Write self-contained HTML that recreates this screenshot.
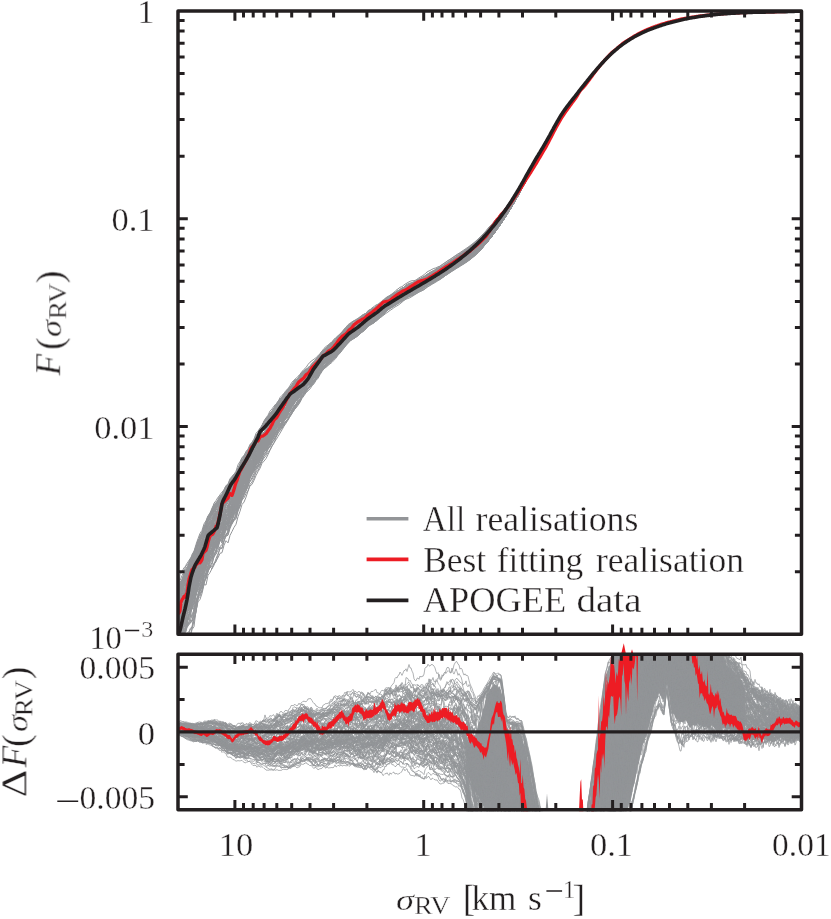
<!DOCTYPE html>
<html><head><meta charset="utf-8"><title>F(sigma_RV)</title>
<style>
html,body{margin:0;padding:0;background:#fff;}
body{width:831px;height:919px;overflow:hidden;font-family:"Liberation Serif",serif;}
svg{display:block;}
text{font-family:"Liberation Serif",serif;fill:#231f20;}
</style></head><body>
<svg width="831" height="919" viewBox="0 0 831 919">
<defs>
<clipPath id="ct"><rect x="178.0" y="10.0" width="623.5" height="624.3"/></clipPath>
<clipPath id="cb"><rect x="178.0" y="653.2" width="623.5" height="158.0"/><path d="M621 654.2L623.8 643.2L626 654.2Z"/><path d="M630.5 654.2L632 649.2L633.5 654.2Z"/></clipPath>
<clipPath id="cg"><rect x="178.0" y="653.2" width="623.5" height="158.0"/></clipPath>
</defs>
<rect width="831" height="919" fill="#fff"/>
<g clip-path="url(#ct)" fill="none" stroke-linejoin="round">
<g stroke="#939598" stroke-width="1">
<path d="M178 648l2-1.6 2 7.9 2-3.4 2-4 2-9.4 2-1.8 2-6.9 2-8 2-8.7 2-13.2 2-9.5 2-6.2 2-6.7 2-3.7 2-5.8 2-6 2-4.9 2-1.6 2-4.8 2-7.2 2-8.4 2 2.3 2-3.6 2-6.9 2 .1 2-5.5 2-3.7 2-4.6 2-1.9 2-5.1 2-4.7 2-6.2 2-4.3 2-.6 2-5.3 2-2.5 2-4.2 2-4.1 2-4.6 2-4.2 2-3.8 2-2.7 2-6.9 2-3.8 2-.6 2-4.3 2-3.8 2-4.5 2-5.1 2-3.4 2-1.2 2-1.4 2-1.3 2-3.9 2-4.1 2-3.4 2-4.3 2-2.9 2-3.8 2-3.4 2-3.4 2-2.7 2-1.7 2-.2 2-4.3 2-.3 2-3.9 2-2.4 2-3.8 2-3.3 2-2.2 2-3.8 2-2 2-1.4 2-1.7 2-2 2-1.8 2-1.9 2-1.8 2-2.7 2-.6 2-2.3 2-2.3 2-2.8 2-3 2-.8 2-1.6 2-.9 2-.9 2-.9 2-1.1 2-1.8 2-.7 2-1.6 2-2.3 2-1.5 2-2 2-1.7 2-1.8 2-1.6 2-.6 2-1.5 2-2.4 2-1.1 2-1.7 2-1.5 2-2 2-.9 2-1.7 2-1.4 2-1.6 2-1.2 2-1.3 2-1.6 2-1.6 2-.6 2-.9 2-1.2 2-1.2 2-.9 2-.8 2-1.1 2-.8 2-2 2-1.8 2-.7 2-.7 2-1 2-1.2 2-.8 2-1 2-1.1 2-1.2 2-1.2 2-1.2 2-1.6 2-1.3 2-1.4 2-1.4 2-1.4 2-1.2 2-1.3 2-1.2 2-1.3 2-1.2 2-1.3 2-1.4 2-1.5 2-1.6 2-1.8 2-1.9 2-2.1 2-2.2 2-2.3 2-2.5 2-2.5 2-2.6 2-2.6 2-2.8 2-2.8 2-2.9 2-2.9 2-3 2-3.1 2-3.1 2-3.2 2-3.4 2-3.4 2-3.4 2-3.6 2-3.7 2-3.7 2-3.7 2-3.8 2-3.7 2-3.7 2-3.7 2-3.6 2-3.6 2-3.5 2-3.4 2-3.5 2-3.4 2-3.6 2-3.7 2-3.7 2-3.8 2-3.8 2-3.7"/>
<path d="M178 635.5l2-12.3 2-7.7 2 .1 2-9.5 2-7.1 2-6.3 2-7.9 2 3 2-3 2-11 2-6.4 2-.7 2-11.9 2-7.9 2-3.5 2-5.4 2-1.1 2-2.9 2-3.1 2-3.9 2-8.7 2 .7 2-6.6 2-.5 2 .2 2-8.3 2-3.1 2-3.5 2-1.1 2-4.7 2-2.4 2-6 2-4 2-5.1 2-4.2 2-4.5 2-3.8 2-2.6 2-3 2-2.4 2-3.6 2-1.8 2-4.3 2-2.8 2-5.7 2-3.7 2-3.9 2-4.2 2-1 2-3.1 2-1.7 2-2.6 2-3.8 2-4 2-1.8 2-2 2-3.7 2-3 2-1.7 2-2.2 2-3.7 2-2.7 2-2.1 2-1.9 2-1.9 2-3.4 2-1.1 2-3.3 2-2.4 2-3.7 2-2.8 2-2.9 2-2.3 2-1.3 2-2.6 2-1.5 2-1.5 2-2.3 2-1.3 2-2.3 2-2.4 2-2.1 2-2.9 2-1.4 2-1.8 2-1.7 2-1.2 2-.8 2-1.9 2-1.7 2-2.2 2-2.3 2-2.4 2-1.1 2-1.9 2-2 2-.9 2-1.4 2-2.1 2-1.5 2-.7 2-1.2 2-2 2-1.1 2-1.5 2-1 2-1.7 2-1.6 2-1.1 2-2 2-1 2-.7 2-1.4 2-1.2 2-1.1 2-.5 2-1.3 2-.7 2-.9 2-1.5 2-.7 2-.9 2-1.2 2-1.2 2-1.7 2-.9 2-1.8 2-1.9 2-.9 2-1.1 2-.9 2-1.4 2-1.2 2-1 2-1 2-1.1 2-1.5 2-1.4 2-1.2 2-1.2 2-1.3 2-1.2 2-1.3 2-1.2 2-1.3 2-1.4 2-1.4 2-1.4 2-1.6 2-1.7 2-1.8 2-1.9 2-2 2-2.1 2-2.2 2-2.2 2-2.4 2-2.3 2-2.5 2-2.5 2-2.5 2-2.7 2-2.7 2-2.9 2-2.9 2-3.1 2-3.2 2-3.4 2-3.4 2-3.6 2-3.6 2-3.7 2-3.7 2-3.8 2-3.7 2-3.7 2-3.7 2-3.6 2-3.6 2-3.5 2-3.4 2-3.5 2-3.4 2-3.6 2-3.7 2-3.7 2-3.8 2-3.8 2-3.7"/>
<path d="M178 628.7l2-9.4 2-1.1 2-6.5 2-4.2 2-3.3 2-6.7 2-4.6 2-3.7 2-6.6 2-8.7 2-5.6 2-.5 2-3 2-4.9 2-3.6 2-10.4 2 .1 2-6.2 2-2.4 2-4.5 2-5.9 2 .6 2-5.2 2-5.3 2 .6 2-4.6 2-5 2-3.3 2-4.6 2-5.7 2-7.3 2-5.6 2-3.3 2-3.3 2-3.3 2-3.6 2-1.6 2-5.3 2-5.2 2-.8 2-4 2-2.6 2-3.9 2-3 2-1.3 2-1.1 2-.5 2-6.3 2-4.6 2-5.8 2-2.5 2-2.3 2-3 2-1.8 2-3.5 2-2.3 2-3.4 2-3.4 2-.9 2-2.2 2-2.9 2-3.7 2-3.4 2-2.7 2-2.2 2-3.6 2-3.6 2-1.2 2-2.2 2-2.8 2-2.6 2-2.8 2-2.3 2-1.5 2-2.3 2 0 2-1.3 2-3.1 2-1.8 2-2.7 2-2.5 2-1.1 2-3.3 2-1.6 2-2.4 2-1.4 2-2.2 2-1.7 2-1.9 2-1 2-1.9 2-1.3 2-1.9 2-1.4 2-1.9 2-.9 2-.9 2-1.3 2-1.6 2-1.8 2-2 2-1.7 2-1.5 2-1.3 2-2.6 2-1.9 2-1.4 2-1.6 2-.9 2-1.1 2-1.6 2-1.5 2-1.1 2-1.3 2-1.1 2-1.2 2-.9 2-1.2 2-1.8 2-1.1 2-1.5 2-.6 2-1.3 2-.7 2-1.7 2-1.4 2-1.6 2-.9 2-.9 2-1.2 2-.9 2-1.2 2-1.3 2-1.6 2-1.3 2-1.3 2-1.4 2-1.4 2-1.2 2-1.4 2-1.4 2-1.4 2-1.5 2-1.4 2-1.5 2-1.6 2-1.7 2-1.8 2-1.9 2-2.1 2-2.3 2-2.3 2-2.5 2-2.5 2-2.5 2-2.6 2-2.5 2-2.5 2-2.5 2-2.4 2-2.4 2-2.4 2-2.4 2-2.5 2-2.6 2-2.7 2-2.8 2-3 2-3.1 2-3.2 2-3.3 2-3.4 2-3.4 2-3.4 2-3.5 2-3.4 2-3.4 2-3.4 2-3.4 2-3.3 2-3.3 2-3.3 2-3.5 2-3.5 2-3.6 2-3.8 2-3.7 2-3.8 2-3.7"/>
<path d="M178 633.1l2-8.7 2-2.7 2-3.7 2-6 2-5.4 2-3.9 2-9.1 2-1.2 2-12.8 2-10.3 2-3.9 2-5.2 2-4.9 2-3.5 2-8.4 2-8.2 2-2.6 2-2.3 2-1.3 2-2.1 2-4.4 2-3.9 2-3.8 2-4.2 2 .9 2-3.4 2-4.1 2-3.9 2-5.1 2-2.4 2-3.4 2-4.2 2-3.8 2-4.9 2-2.7 2-7.4 2-4.4 2-3.7 2-2.9 2-2.9 2-2.2 2-5.2 2-4.6 2-4.1 2-2.1 2-4.2 2-2.8 2-4 2-5 2-2 2-1.8 2-1 2-2.8 2-2.8 2-.8 2-4.2 2-2.4 2-4 2-1.6 2-2.1 2-3.2 2-2.8 2-1.2 2-4 2-2.5 2-2.1 2-2.3 2-2 2-3.9 2-2.5 2-2.1 2-4.1 2-2.5 2-2.1 2-2.1 2-1.6 2-.8 2-2.4 2-.8 2-3.1 2-2.4 2-2.2 2-3.3 2-1.5 2-2.5 2-.8 2-.8 2-1 2-1.1 2-1.7 2-.5 2-1.9 2-1.7 2-1.4 2-1.8 2-1.3 2-1.4 2-1.4 2-.4 2-2.2 2-1.2 2-2.5 2-1.3 2-1.7 2-1.8 2-1.3 2-1.5 2-1 2-1.8 2-1 2-1.6 2-1.1 2-1.2 2-1.7 2-1.3 2-.8 2-1.3 2-.5 2-1.2 2-1.4 2-1.5 2-2 2-.8 2-1.1 2-.9 2-1.5 2-1.3 2-.7 2-1.1 2-1.6 2-.5 2-1.4 2-1.1 2-1.5 2-1.4 2-1.2 2-1.2 2-1.3 2-1.2 2-1.2 2-1.1 2-1.2 2-1.3 2-1.2 2-1.3 2-1.4 2-1.4 2-1.6 2-1.7 2-1.9 2-1.9 2-2.1 2-2.2 2-2.2 2-2.3 2-2.4 2-2.4 2-2.4 2-2.5 2-2.5 2-2.6 2-2.6 2-2.7 2-2.8 2-2.9 2-3 2-3.2 2-3.2 2-3.4 2-3.4 2-3.5 2-3.6 2-3.6 2-3.7 2-3.6 2-3.6 2-3.7 2-3.5 2-3.5 2-3.4 2-3.5 2-3.4 2-3.5 2-3.5 2-3.7 2-3.7 2-3.8 2-3.8 2-3.7"/>
<path d="M178 608.1l2-19.5 2-3 2-6.2 2-3.3 2-6.6 2-4.2 2-3.9 2-2.7 2-8.7 2-5.9 2-3.9 2-5.8 2-5.4 2-5.8 2-4.6 2-3.1 2-4 2-2.5 2-3.3 2-2.8 2-4.9 2-1.7 2-1.1 2-5.1 2 0 2-3.3 2 .2 2-3.1 2-1.5 2-4.7 2-3.2 2-4 2-4.8 2-5.4 2-3.1 2-4.2 2-.6 2-1.6 2-2 2-.9 2-5.9 2-3.2 2-2.4 2-3.9 2-1.1 2-3.1 2-3.9 2-4.4 2-1.8 2-3.5 2-.8 2-3.6 2-3.1 2-2.4 2-2.9 2-1.8 2-1.7 2-3 2-5.3 2-2.2 2-1.9 2-2.8 2-1.6 2-2.8 2-.6 2-2 2-3.6 2-2.2 2-4.8 2-1.8 2-4.2 2-2.5 2-2.7 2-1.4 2-1.7 2-1.7 2-1.4 2-1.3 2-.5 2-2.5 2-2 2-2.3 2-1.5 2-2 2-1.6 2-1 2-1.2 2-1.1 2-1.9 2-.5 2-2 2-1.8 2-1.7 2-1.6 2-1.9 2-1.2 2-1.4 2-1.2 2-2.4 2-1.4 2-1.6 2-1.3 2-2.3 2-1.7 2-1.8 2-.9 2-1.3 2-1.5 2-1.7 2-1.1 2-1.6 2-1.4 2-1.1 2-1.1 2-.9 2-1.2 2-1.7 2-1 2-.6 2-1.2 2-1.8 2-1.1 2-.7 2-2.1 2-1.5 2-.8 2-1.4 2-.5 2-.3 2-1.1 2-.8 2-1.4 2-1.1 2-1.3 2-1 2-1.1 2-1.3 2-1.3 2-1.3 2-1.2 2-1.2 2-1.3 2-1.2 2-1.2 2-1.3 2-1.4 2-1.4 2-1.5 2-1.7 2-1.8 2-2 2-2.1 2-2.2 2-2.3 2-2.5 2-2.5 2-2.5 2-2.6 2-2.6 2-2.6 2-2.6 2-2.6 2-2.7 2-2.8 2-2.8 2-2.9 2-3.1 2-3.1 2-3.2 2-3.4 2-3.5 2-3.5 2-3.7 2-3.6 2-3.7 2-3.7 2-3.7 2-3.6 2-3.5 2-3.5 2-3.4 2-3.5 2-3.4 2-3.6 2-3.7 2-3.7 2-3.8 2-3.8 2-3.7"/>
<path d="M178 623.6l2-17.4 2-11.4 2-5 2 2.7 2-6.4 2-3.2 2-4 2-5 2-3.5 2-6.7 2-3.4 2-.6 2-9.3 2-.5 2-7.4 2-4.7 2-2.5 2-6.6 2-1.7 2-4 2-5.9 2-4.3 2 .5 2-5.1 2-1.2 2-5.3 2 .8 2-3.6 2-3.5 2-5.9 2-3.3 2-5.8 2-3 2-2.8 2-2.4 2-5.2 2-2.9 2-4 2-3 2-2.2 2-3.7 2-4.2 2-3.9 2-4.5 2-3.1 2-2.7 2-3.2 2-2.6 2-4.3 2-3.8 2-2.3 2-2.2 2-2.3 2-3.5 2-2.6 2-2.1 2-1.9 2-5 2-1.9 2-2.4 2-3.2 2-3.7 2-2.8 2-.9 2-3.3 2-1.7 2-2.6 2-2.8 2-1.4 2-2.6 2-2.9 2-2.7 2-1.8 2-1.9 2-1.3 2-2.3 2-1.8 2-1.8 2-1.2 2-1.7 2-2 2-2.7 2-2 2-2 2-2.8 2-1.6 2-2.2 2-1.7 2-1 2-1.8 2-2.4 2-1.7 2-1.4 2-1.4 2-2 2-1.6 2-1.5 2-1.9 2-1.4 2-1.2 2-2.7 2-.8 2-2.1 2-2.2 2-1.6 2-1.5 2-1.2 2-.4 2-1.7 2-1.8 2-1.7 2-1 2-1.2 2-2 2-1.5 2-.6 2-.4 2-1.2 2-.6 2-1.6 2-1.4 2 0 2-.7 2-1.9 2-1.6 2-1.1 2-.8 2-1 2-1.1 2-1.2 2-1.2 2-2 2-1.4 2-1.7 2-1.6 2-1.4 2-1.4 2-1.4 2-1.3 2-1.3 2-1.3 2-1.4 2-1.4 2-1.5 2-1.5 2-1.6 2-1.6 2-1.8 2-1.8 2-2 2-2 2-2.1 2-2.2 2-2.2 2-2.2 2-2.3 2-2.2 2-2.3 2-2.3 2-2.4 2-2.3 2-2.4 2-2.6 2-2.5 2-2.8 2-2.8 2-2.9 2-3 2-3.2 2-3.2 2-3.3 2-3.4 2-3.4 2-3.4 2-3.5 2-3.4 2-3.5 2-3.4 2-3.4 2-3.4 2-3.3 2-3.4 2-3.5 2-3.5 2-3.7 2-3.7 2-3.8 2-3.8 2-3.7"/>
<path d="M178 646.2l2-5.9 2-9.8 2-5.1 2-8.9 2-.7 2-4.6 2-7.2 2-9 2-6.4 2-4.1 2-3.8 2-7.2 2-5.7 2-2.7 2-4 2-2.8 2-4.2 2-5.6 2-6.7 2 4.4 2-5.5 2-3.3 2-3.7 2-4.7 2 2.5 2-5.4 2-5.3 2-1.7 2-2.9 2-6.8 2-3.2 2-6.4 2-2 2-4.3 2-2.8 2-6.3 2-2.4 2-3.9 2-6 2-1.6 2-4.7 2-4.5 2-3.3 2-2.3 2-3.2 2-2.8 2-3.9 2-2.8 2-5.5 2-4 2-3.4 2-1.8 2-3.1 2-3.8 2-2.3 2-3.3 2-3.8 2-2.8 2-3.5 2-2.8 2-3.3 2-5.1 2-2.5 2-1.9 2-1.3 2-2.4 2-3.8 2-2.1 2-2.3 2-1.8 2-3.6 2-3.5 2-1.5 2-1.9 2-2.3 2-1.9 2-1.5 2-2.9 2-1.8 2-2.7 2-1.6 2-2.9 2-2.6 2-1.4 2-2 2-1.9 2-1.7 2-1.8 2-1.4 2-.9 2-1.8 2-.7 2-1.6 2-1.6 2-2.6 2-1 2-1.3 2-.9 2-2.4 2-1.8 2-2 2-2 2-2.2 2-1.6 2-1.4 2-1.7 2-1.6 2-1.1 2-1.4 2-1.3 2-1.9 2-1.1 2-1 2-2 2-1.2 2-2.1 2-.4 2-.9 2-1.7 2-1.4 2-.7 2-1.5 2-1.4 2-1.5 2-1.2 2-1 2-1.4 2-.7 2-1.6 2-1.5 2-1.2 2-1.4 2-1.1 2-1.2 2-1.1 2-1.1 2-1.2 2-1.1 2-1.3 2-1.1 2-1.2 2-1.1 2-1.2 2-1.2 2-1.2 2-1.3 2-1.4 2-1.5 2-1.6 2-1.8 2-1.9 2-2.1 2-2.2 2-2.3 2-2.4 2-2.5 2-2.5 2-2.6 2-2.7 2-2.7 2-2.8 2-2.9 2-2.9 2-3 2-3.1 2-3.2 2-3.2 2-3.4 2-3.5 2-3.5 2-3.7 2-3.7 2-3.7 2-3.8 2-3.7 2-3.7 2-3.7 2-3.6 2-3.6 2-3.5 2-3.4 2-3.5 2-3.4 2-3.6 2-3.7 2-3.7 2-3.8 2-3.8 2-3.7"/>
<path d="M178 621.5l2-18.5 2-2.3 2-7.7 2-.8 2-4.6 2-11.2 2-3.9 2-9.9 2-.9 2-9.1 2-2.3 2-3.5 2-5.2 2-5.7 2-3.9 2-3.7 2 2.6 2-5.8 2 .6 2-7.4 2-4.5 2-2 2-.6 2-5.6 2 1.2 2-7.5 2-6.2 2-1.4 2-1.6 2-4.2 2-6.3 2-7.4 2-3.2 2-4.5 2-5.9 2-5.9 2-3.4 2-2.6 2-5.6 2-3.4 2-5.6 2-1.6 2-.4 2-2.3 2-5.3 2-4.5 2-4.6 2-4 2-2.5 2-4.3 2-2.6 2-3.4 2-1.6 2-2.6 2-3.5 2-2.1 2-2.4 2-3.6 2-1.5 2-.4 2-3.7 2-2.8 2-1.9 2-1.3 2-.1 2-2.3 2-2.5 2-1.8 2-2.2 2-2.6 2-2.3 2-2.6 2-2.1 2-1.2 2-1.7 2-.8 2-2.2 2-1.1 2-1.4 2-2.3 2-1.5 2-2.6 2-2.6 2-1.2 2-3.2 2-.9 2-1.8 2-.3 2-1.4 2-3.1 2-1.5 2 .1 2-1.2 2-1.7 2-1.7 2-1.2 2-1.4 2-.8 2-1.6 2-1.2 2-1.3 2-2.4 2-1.8 2-1.9 2-1.5 2-1.8 2-.7 2-2.1 2-.9 2-1.9 2-1.7 2-.7 2-1.3 2-1 2-1.3 2-1.1 2-1.2 2-1.2 2-.9 2-1.5 2-.5 2-1.3 2-1.3 2-1.5 2-1.8 2-.8 2-1.1 2-.9 2-.9 2-.9 2-1.3 2-1.3 2-.4 2-.9 2-1.7 2-1.7 2-1.5 2-1.4 2-1.4 2-1.4 2-1.5 2-1.6 2-1.5 2-1.6 2-1.6 2-1.7 2-1.7 2-1.8 2-1.8 2-1.9 2-1.9 2-2 2-2 2-2 2-2.1 2-2.1 2-2.2 2-2.1 2-2.3 2-2.3 2-2.3 2-2.4 2-2.5 2-2.6 2-2.7 2-2.7 2-2.9 2-3 2-3.1 2-3.2 2-3.3 2-3.3 2-3.4 2-3.4 2-3.5 2-3.4 2-3.4 2-3.3 2-3.3 2-3.3 2-3.3 2-3.3 2-3.3 2-3.5 2-3.6 2-3.7 2-3.8 2-3.7 2-3.8"/>
<path d="M178 618.3l2-20.3 2 .1 2-4.6 2-1.1 2-5.7 2-4.3 2-7.2 2-2.2 2-9.8 2-7.7 2-8 2-1.3 2-5.5 2 1 2-4.2 2-8.7 2-6.7 2-1.5 2-2.1 2-3.3 2-5.6 2-1.8 2-4.4 2-6.8 2-1.4 2-4.6 2-1.2 2-2.6 2-4.2 2-8 2-6.1 2-4.7 2-1.9 2-3.5 2-2.9 2-6.1 2 .5 2-4.5 2-6 2-.6 2-4.3 2-2 2-4.9 2-3.2 2-3 2-1.5 2-2.4 2-1.2 2-4.8 2-5.3 2-3.9 2-2.8 2-2.3 2-2.6 2-2.2 2-1.9 2-3.2 2-2.3 2-1.6 2-2.7 2-2.2 2-1.7 2-2.6 2-2.6 2-.3 2-1.4 2-2.4 2-2.1 2-3.6 2-1 2-3.2 2-4.3 2-.9 2-1.4 2-1.7 2-.9 2-1.9 2-3.7 2-1.3 2-3.1 2-1.6 2-2.6 2-1.8 2-2.5 2-2.4 2-1.5 2-.8 2-.5 2-.4 2-.4 2-1.8 2-2.1 2-.5 2-2.9 2-1.3 2-2.2 2 .2 2-2.2 2-.4 2-1.1 2-.9 2-2.1 2-1.2 2-3 2-.7 2-1.5 2-2.7 2-1.5 2-1.9 2-1.2 2-1.2 2-1.4 2-1.2 2-1.3 2-1 2-1 2-.5 2-1 2-1.6 2-.7 2-.6 2-1.1 2-1.7 2-1.6 2-1.5 2-1.1 2-.6 2-1.1 2-1 2-1.9 2-1.4 2-1.6 2-1.1 2-1.2 2-1.2 2-1.3 2-1.3 2-1.3 2-1.3 2-1.3 2-1.4 2-1.4 2-1.4 2-1.4 2-1.5 2-1.6 2-1.7 2-1.8 2-1.9 2-2 2-2.1 2-2.2 2-2.3 2-2.4 2-2.4 2-2.3 2-2.4 2-2.4 2-2.4 2-2.4 2-2.3 2-2.5 2-2.4 2-2.6 2-2.6 2-2.7 2-2.9 2-3 2-3 2-3.2 2-3.2 2-3.3 2-3.3 2-3.3 2-3.3 2-3.3 2-3.2 2-3.3 2-3.1 2-3.2 2-3.1 2-3.2 2-3.3 2-3.4 2-3.6 2-3.6 2-3.8 2-3.7 2-3.7"/>
<path d="M178 629.1l2-7 2-7.1 2-2.3 2-5 2-4.8 2-5.6 2-8.1 2-7.5 2-2.8 2-9.1 2-2 2-6.6 2-7.5 2-4.8 2-4.3 2-1 2-3.4 2-3.2 2-5 2-1.6 2-4.9 2-3.3 2-5.4 2-2.7 2 .8 2-3.9 2-2.6 2-7.1 2-.9 2-3.3 2-3.2 2-7.6 2-2.5 2-4.7 2 0 2-7.5 2-2.5 2-5.3 2-4.3 2-4.2 2-1.6 2-4.3 2-3.3 2-2.6 2-2.2 2-2.2 2-3 2-4.3 2-4.2 2-3.4 2-3.4 2-3.3 2-4.9 2-1.9 2-4.4 2-4 2-.8 2-3.3 2-2.7 2-1.1 2-2.3 2-4 2-5.2 2-3 2-2.1 2-3.4 2-1.2 2-2.9 2-1.4 2-2.6 2-1.9 2-3.2 2-2.3 2-1.7 2-.8 2-3.3 2-.4 2-3.7 2-.6 2-1.7 2-1.7 2-2.4 2-3 2-2.2 2-2.6 2-.4 2-1.3 2-.8 2-1.6 2-1.5 2-1.7 2-1 2-1.4 2-1.6 2-1.7 2-1.7 2-.9 2-2.4 2-2 2-2 2-1.7 2-1.9 2-1.6 2-1.7 2-2 2-1.7 2-.9 2-1 2-1.9 2-1.3 2-1.3 2-.4 2-1.5 2-.6 2-1.3 2-1.2 2-1.1 2-1.1 2-1.5 2-1.4 2-.7 2-.9 2-.9 2-2.1 2-1.6 2-1.1 2-1.9 2-1 2-1 2-.8 2-.6 2-.9 2-1.3 2-1.1 2-1.3 2-1 2-1.1 2-1.1 2-1.3 2-1.2 2-1.2 2-1.2 2-1.2 2-1.2 2-1.3 2-1.3 2-1.4 2-1.6 2-1.6 2-1.8 2-2 2-2 2-2.2 2-2.3 2-2.3 2-2.5 2-2.5 2-2.5 2-2.6 2-2.6 2-2.7 2-2.7 2-2.7 2-2.8 2-3 2-3 2-3.1 2-3.3 2-3.3 2-3.5 2-3.6 2-3.6 2-3.7 2-3.7 2-3.8 2-3.7 2-3.6 2-3.7 2-3.5 2-3.5 2-3.4 2-3.5 2-3.4 2-3.6 2-3.7 2-3.7 2-3.8 2-3.8 2-3.7"/>
<path d="M178 630.2l2-13.8 2-6 2-5.5 2-5.5 2-7.8 2 .2 2-3.6 2-4.3 2-7.4 2-5.5 2-3.6 2-6.5 2-5.1 2-2.1 2-8.5 2-5.7 2-2.6 2-3.6 2-1.8 2-1.5 2-3.9 2 1.7 2-3 2-5.5 2-1.1 2-7.7 2-5.3 2-7.5 2-2.5 2-6 2-3.7 2-8.8 2-2.1 2-3.8 2-1.5 2-4.1 2-2.4 2-3.3 2-5.1 2-1.8 2-3 2-5.5 2-3.6 2-1.6 2-3.2 2-3.3 2-3.1 2-8.1 2 .2 2-6.7 2-4.8 2-.4 2-2.5 2-3.4 2-.8 2-3.9 2-3.4 2-3 2-.4 2-.7 2-2.3 2-2.2 2-1.6 2-1 2-3.8 2-2 2-3.1 2-3.4 2-2.7 2-2.3 2-2.4 2-2.9 2-2.8 2-1.1 2-1.8 2-1.7 2-1.5 2-2.2 2-1.2 2-2 2-1.5 2-3 2-2.5 2-1.7 2-3.4 2-.6 2-2.2 2-1 2-1.6 2-.9 2-1.6 2-.2 2-.9 2-1.4 2-2.3 2-1.5 2-1.2 2-.8 2-1.8 2-1.8 2-1.7 2-2.1 2-2.6 2-2.4 2-.1 2-1.7 2-1.1 2-1.7 2-1.9 2-1.8 2-2.2 2-.6 2-1.8 2-1.7 2-.5 2-.4 2-1.2 2-1.9 2-1.2 2-.6 2-.7 2-1.6 2-.8 2-1.3 2-1.3 2-1.1 2-1.3 2-1 2-.8 2-1.1 2-1.2 2-1.1 2-1.1 2-1.4 2-1.2 2-1.1 2-1.4 2-1.4 2-1.2 2-1.3 2-1.2 2-1.2 2-1.2 2-1.2 2-1.3 2-1.3 2-1.5 2-1.6 2-1.7 2-1.9 2-2.1 2-2.2 2-2.4 2-2.5 2-2.5 2-2.6 2-2.5 2-2.6 2-2.6 2-2.6 2-2.6 2-2.6 2-2.7 2-2.7 2-2.9 2-3 2-3.1 2-3.2 2-3.3 2-3.5 2-3.5 2-3.5 2-3.6 2-3.6 2-3.6 2-3.7 2-3.6 2-3.5 2-3.6 2-3.4 2-3.4 2-3.5 2-3.4 2-3.6 2-3.7 2-3.7 2-3.8 2-3.8 2-3.7"/>
<path d="M178 608.5l2-19.3 2-8 2-1.2 2-9.7 2 .6 2-4.3 2-4 2 .3 2-1.2 2-8.9 2-6.3 2-2.4 2-3.1 2-3 2-4.7 2-5.3 2-5.2 2-3.4 2-6.2 2-5.1 2-3.2 2-1.2 2-6.4 2-6.1 2-.4 2-4 2-5.3 2-3.8 2-1.5 2-5.2 2-4.4 2-2.5 2-2.1 2-1.6 2-5 2-4.7 2 .3 2-4.4 2-3.4 2-4.1 2-2.7 2-4.2 2-4 2-4.5 2-2.9 2-1.7 2-3.8 2-4 2-3.8 2-3 2-2.1 2-3 2-1.5 2-2.2 2-2.5 2-1.5 2-3.4 2-3.8 2-2.4 2-2.7 2-1.8 2-2.6 2-.8 2-1.4 2-2.4 2-2.2 2-2.4 2-2 2-3.4 2-2.6 2-2.1 2-2.4 2-2.1 2-1.8 2-1.7 2-2.1 2-1 2-1.8 2-1.8 2-1.9 2-1.2 2-1.9 2-2.9 2-1.3 2-2.2 2-1.3 2-1.7 2-1.9 2-1.4 2-1.7 2-1.5 2-2.1 2-2.8 2-1.2 2-2 2-.7 2-1.6 2-.9 2-1.3 2-1.7 2-1.9 2-1.9 2-1.7 2-1.8 2-1 2-2.1 2-.6 2-1.3 2-2 2-.9 2-.8 2-1.4 2-1.1 2-2.5 2-.9 2-.8 2-.5 2-1 2-1 2-1.1 2-.8 2-1.1 2-1 2-1 2-1.7 2-1 2-1.7 2-.9 2-1.1 2-1 2-1 2-.7 2-1.6 2-1.4 2-1.3 2-1.2 2-1.3 2-1.1 2-1.3 2-1.3 2-1.3 2-1.4 2-1.4 2-1.5 2-1.5 2-1.6 2-1.7 2-1.8 2-1.9 2-1.9 2-2.1 2-2.1 2-2.2 2-2.2 2-2.3 2-2.3 2-2.3 2-2.4 2-2.3 2-2.4 2-2.3 2-2.4 2-2.5 2-2.5 2-2.7 2-2.7 2-2.9 2-3 2-3 2-3.2 2-3.2 2-3.3 2-3.3 2-3.3 2-3.3 2-3.2 2-3.3 2-3.2 2-3.1 2-3.2 2-3.1 2-3.2 2-3.3 2-3.5 2-3.5 2-3.7 2-3.7 2-3.8 2-3.7"/>
<path d="M178 608.8l2-23.1 2-3.9 2-5.4 2-5.9 2-5.1 2-3.8 2-4.6 2-5.6 2-7 2-5.7 2-5.3 2-3 2-6.5 2-3.2 2-5.1 2-1.9 2-2.3 2-4.6 2-4.3 2-1 2-4.4 2-2.8 2-4.2 2-2.7 2-.4 2-3.7 2-3.3 2-2.1 2-2.6 2-4 2-5.6 2-5.9 2-2.2 2-2.9 2-4 2-4.7 2-3.8 2-2.9 2-6 2-2.2 2-3.1 2-2.1 2-3.4 2-2.1 2-3.9 2-2.9 2-2.4 2-1.7 2-4.1 2-2.6 2-3.7 2-.9 2-2.6 2-1.5 2-2.3 2-4.4 2-2.8 2-2.4 2-1.9 2-2.4 2-2.8 2-3 2-.9 2-1.1 2-1.9 2-1.3 2-2.6 2-1.4 2-2.6 2-2.1 2-2.2 2-2.9 2-2.6 2-1.3 2-1.5 2-1.4 2-2 2-2.1 2-2 2-2.2 2-2.5 2-1.5 2-2.2 2-1.7 2-2.2 2-1.4 2-1.9 2-1.4 2-1.4 2-1.1 2-1.2 2-1.7 2-1.8 2-1.8 2-1.9 2-1.4 2-1.6 2-1 2-1.1 2-1.6 2-1.9 2-2 2-1.3 2-1.6 2-1.8 2-1.4 2-1.1 2-.9 2-1.6 2-.5 2-1.2 2-1.2 2-.9 2-.8 2-1.7 2-1.2 2-.5 2-1 2-.7 2-1.1 2-1.3 2-1.2 2-1 2-1.2 2-1.1 2-1.5 2-1.2 2-1.5 2-.9 2-.7 2-1.3 2-1.1 2-1.4 2-1.1 2-1.2 2-1.3 2-1.3 2-1.3 2-1.3 2-1.2 2-1.3 2-1.3 2-1.4 2-1.5 2-1.6 2-1.7 2-1.9 2-1.9 2-2 2-2.1 2-2.1 2-2.3 2-2.2 2-2.3 2-2.3 2-2.3 2-2.3 2-2.4 2-2.3 2-2.3 2-2.4 2-2.4 2-2.5 2-2.6 2-2.7 2-2.7 2-2.9 2-3 2-3 2-3.2 2-3.2 2-3.3 2-3.2 2-3.3 2-3.3 2-3.3 2-3.2 2-3.3 2-3.1 2-3.2 2-3.1 2-3.2 2-3.3 2-3.5 2-3.5 2-3.7 2-3.7 2-3.8 2-3.7"/>
<path d="M178 614.8l2-13 2 .9 2-2.2 2-3.2 2-4.9 2-10.8 2-8.9 2-4.1 2-6.4 2-3.9 2-4.1 2-2.6 2-5.9 2-6.6 2-3.7 2-4.8 2-.6 2-4 2-4.5 2-4.7 2-2 2-3.4 2-3.6 2-3.1 2-4.3 2-3.7 2-5.6 2-3 2-2.7 2-4.1 2-6.1 2-3.9 2 0 2-1.8 2-3.8 2-5.9 2-4.7 2-1.3 2-5.6 2-2.6 2-4 2-4.1 2-3.8 2-4.4 2-3.1 2-3 2-2 2-4.2 2-2.9 2-6 2-1.8 2-1.9 2-2.4 2-2.2 2-1 2-3.4 2-3 2-.1 2-2 2-2.6 2-3.1 2-3.5 2-2.9 2-1.7 2-1.4 2-1.7 2-1.5 2-2.6 2-3.1 2-2.6 2-1.7 2-1.1 2-3.5 2-2.2 2-2.5 2 .3 2-1.6 2-2.4 2-4.2 2-2.8 2-1.2 2-4.1 2-3.3 2-1.8 2-2.1 2-1.3 2-1.4 2-2.6 2-1.5 2-1.4 2-1.9 2 0 2-.7 2-3.1 2-1.9 2-.7 2-1.1 2-1.1 2-1 2-1.1 2-1.6 2-1.7 2-1.8 2-1.1 2-1.4 2-1 2-1.6 2-1.7 2-1 2-1.6 2-1.5 2-1.3 2-.7 2-.7 2-1.3 2-.9 2-.7 2-1.4 2-1.3 2-.7 2-1 2-1.4 2-.8 2-.6 2-1.5 2-1.2 2-1.1 2-.9 2-1.2 2-1.2 2-.9 2-1.3 2-.7 2-1.7 2-1.6 2-1.8 2-1.5 2-1.6 2-1.4 2-1.5 2-1.3 2-1.4 2-1.4 2-1.3 2-1.4 2-1.5 2-1.5 2-1.6 2-1.7 2-1.8 2-1.9 2-2 2-2.1 2-2.3 2-2.4 2-2.4 2-2.5 2-2.6 2-2.6 2-2.6 2-2.7 2-2.6 2-2.7 2-2.7 2-2.8 2-2.9 2-2.9 2-3.1 2-3.2 2-3.3 2-3.4 2-3.4 2-3.5 2-3.4 2-3.5 2-3.3 2-3.4 2-3.3 2-3.3 2-3.1 2-3.2 2-3.3 2-3.3 2-3.4 2-3.5 2-3.7 2-3.7 2-3.8 2-3.7"/>
<path d="M178 621.4l2-17.5 2-5.8 2-4 2-10.4 2-3.5 2-2.3 2-6.5 2-1.2 2-3.4 2-7.6 2-7.9 2-4.8 2-8.6 2-3.7 2 .9 2-6.7 2-3.6 2-3.6 2-2.8 2-2.5 2-4.3 2-5.7 2-3 2-4.1 2-.4 2-5.4 2-1.7 2-2.1 2 .4 2-7 2-5.2 2-3.8 2-3.3 2-3.4 2-1.9 2-6.6 2-3.1 2-3.6 2-4.3 2-3.9 2-2.6 2-3.9 2-4 2-3.1 2-3.5 2-6.1 2-1.3 2-4.3 2-3.7 2-3.2 2-2.5 2-2 2-.3 2-3.8 2-3 2-2 2-2.8 2-3.2 2-2.9 2-2.7 2-1.8 2-3 2-1.9 2-2.5 2-3.6 2-2.6 2-1.8 2-2 2-3.4 2-2.2 2-2.3 2-1.9 2-1.7 2-2 2-.6 2-1.8 2 0 2-2.5 2-1 2-2.1 2-2.9 2-2.6 2-2.7 2-.7 2-2.3 2-1.8 2-2.7 2-2.2 2-.5 2-1.8 2-1.3 2-1.2 2-.6 2-1.4 2-2.7 2-1.4 2-1 2-1.2 2-.4 2-1.5 2-2.1 2-.9 2-1.2 2-1.1 2-2.2 2-1.2 2-.8 2-1.7 2-1.2 2-.8 2-1.2 2-.9 2-1.6 2-1.9 2-1.8 2-.6 2-.6 2-.6 2-1.6 2-1.6 2-1.3 2-.3 2-.5 2-.6 2-1.6 2-.8 2-1.7 2-.3 2-1.7 2-1 2-1.1 2-1.4 2-1.4 2-1.7 2-1.4 2-1.4 2-1.3 2-1.3 2-1.2 2-1.2 2-1.1 2-1.2 2-1.2 2-1.3 2-1.3 2-1.5 2-1.5 2-1.7 2-1.8 2-2 2-2 2-2.2 2-2.3 2-2.3 2-2.5 2-2.5 2-2.5 2-2.6 2-2.5 2-2.6 2-2.5 2-2.6 2-2.6 2-2.7 2-2.7 2-2.8 2-2.9 2-3.1 2-3 2-3.2 2-3.3 2-3.3 2-3.5 2-3.4 2-3.5 2-3.6 2-3.5 2-3.5 2-3.5 2-3.4 2-3.4 2-3.5 2-3.4 2-3.6 2-3.7 2-3.7 2-3.8 2-3.8 2-3.7"/>
<path d="M178 627l2-17 2-5.1 2-1.5 2-5.2 2-4.7 2-5 2-5.5 2-7.8 2-1.2 2-6.1 2-7.4 2-4.1 2-6.7 2-2.3 2-3.1 2-2.9 2-3.2 2-3.4 2-4.2 2-5.4 2-4.9 2-4.8 2-.9 2-2.5 2-.5 2-7.1 2-6.5 2-6.9 2-2.7 2-7.2 2-.3 2-6.9 2-2.7 2-4.1 2-4 2-3.3 2-3.2 2-1.5 2-5.8 2-3.9 2-4.3 2-3.5 2-2.1 2-.7 2-4.3 2-3 2-2.3 2-1.6 2-4.3 2-3.8 2-3 2-1.1 2-4.6 2-1.8 2-.7 2-3.9 2-1.7 2-3.1 2-2.1 2-2.1 2-2.1 2-3.6 2-.4 2-2.4 2-1.5 2-2.1 2-3.9 2-2.8 2-3 2-2.3 2-1.9 2-2.9 2-1.3 2-2 2-2.5 2-1.8 2-.6 2-2 2-2.3 2-2.4 2-1.8 2-3.4 2-3.1 2-3 2-2.3 2-.7 2-1.8 2-1.9 2-1.3 2-1.1 2-1.7 2-.8 2-1.3 2-1.2 2-2 2-1.5 2-.8 2-1.4 2-1.3 2-1.9 2-2 2-1.8 2-2.4 2-2 2-1.3 2-1.6 2-1.9 2-1.5 2-.5 2-1 2-1.9 2-1.3 2-1.6 2-1.3 2-1.3 2-2 2-.9 2-.8 2-1 2-.9 2-.5 2-1.6 2-2 2-1.2 2-1.1 2-1.1 2-.5 2-1.5 2-1.5 2-.6 2-.6 2-1.1 2-1.7 2-1.2 2-1.3 2-1.4 2-1.1 2-1.2 2-1.5 2-1.5 2-1.4 2-1.5 2-1.5 2-1.6 2-1.6 2-1.7 2-1.8 2-1.9 2-1.9 2-2 2-2 2-2.1 2-2.1 2-2.2 2-2.1 2-2.2 2-2.3 2-2.3 2-2.4 2-2.4 2-2.4 2-2.6 2-2.6 2-2.7 2-2.8 2-2.8 2-3 2-3 2-3.1 2-3.2 2-3.3 2-3.3 2-3.4 2-3.4 2-3.4 2-3.5 2-3.5 2-3.5 2-3.4 2-3.4 2-3.4 2-3.4 2-3.5 2-3.5 2-3.7 2-3.7 2-3.8 2-3.8 2-3.7"/>
<path d="M178 638.2l2 3.1 2-5.1 2-3.3 2-3 2-12.8 2-3.4 2-12.8 2-4 2-5 2-10.4 2-1.9 2-2.6 2-5 2-5.6 2-10 2-7 2-2.2 2-3.4 2-3.6 2-7.7 2-2.9 2-1.1 2-1.6 2-4.6 2-3.5 2-5.4 2-3.9 2-1.8 2-4.7 2-3.9 2-7.5 2-9.1 2-3.3 2-4.3 2-3 2-5 2-6 2-2.2 2-2.8 2 .3 2-3.5 2-3.5 2-4.3 2-4.8 2-3.1 2-1.9 2-4.1 2-2.3 2-4.6 2-3.8 2-1.9 2-3.1 2-3.1 2-2.1 2-3.9 2-2.5 2-1.2 2-3.8 2-1.1 2-3.1 2-2.5 2-3.1 2-1.1 2-1.8 2-3.4 2-2.2 2-2 2-3 2-3.8 2-2.3 2-1.6 2-2.7 2-3 2-1.5 2-1.3 2-.1 2-2.8 2-2.9 2-1.8 2-2.1 2-1.8 2-3.4 2-3 2-1.2 2-1.6 2-1 2-1.6 2-1.1 2-1.8 2-1.5 2-.5 2-1.7 2-1.6 2-1.6 2-1.9 2-1.2 2-.8 2-1.5 2-1.8 2-.8 2-2.7 2-1.5 2-1.6 2-2.5 2-2.8 2-1.4 2-2 2-1.5 2-.1 2-.4 2-1.1 2-1.2 2-1.8 2-1.6 2-1 2-.4 2-.5 2-.9 2-1.3 2-1.7 2-.9 2-1 2-1.2 2-1.4 2-2.1 2-.8 2-1.6 2-.6 2-1 2-1.7 2-1.1 2-1.2 2-1.1 2-1.3 2-1 2-1.3 2-1.3 2-1.2 2-1.3 2-1.2 2-1.2 2-1.2 2-1.2 2-1.1 2-1.3 2-1.2 2-1.4 2-1.6 2-1.6 2-1.8 2-2 2-2.1 2-2.2 2-2.3 2-2.5 2-2.5 2-2.6 2-2.6 2-2.8 2-2.8 2-2.8 2-3 2-3 2-3.1 2-3.1 2-3.3 2-3.3 2-3.4 2-3.5 2-3.6 2-3.7 2-3.7 2-3.7 2-3.8 2-3.7 2-3.7 2-3.7 2-3.6 2-3.6 2-3.5 2-3.4 2-3.5 2-3.4 2-3.6 2-3.7 2-3.7 2-3.8 2-3.8 2-3.7"/>
<path d="M178 634.1l2-10.1 2-6.6 2-5.7 2-8.9 2-5.3 2-6.7 2-.7 2-8.5 2-8.7 2-10.2 2-1.1 2-4.9 2-9.8 2-3.4 2-5.3 2-.9 2-4.2 2-3 2-.8 2-.5 2-2.5 2-.2 2-5.6 2-3.7 2 1.3 2-7.3 2-4.6 2-4 2-3.8 2-5.1 2-2.7 2-6.4 2-3.3 2-2.5 2-5.5 2-4.3 2-3.9 2-3 2-4.3 2-4.7 2-3 2-5.2 2-5.4 2-.9 2-3 2-4 2-2.9 2-1.3 2-1.9 2-4.8 2-1.8 2-.7 2-2 2-2.9 2-4.5 2-3.3 2-3.3 2-3.2 2-2.8 2-2.5 2-3.1 2-2.4 2-3 2-1.6 2-1.6 2-1.5 2-3.5 2-1.7 2-2.5 2-3 2-1.8 2-3.4 2-1.1 2-1.4 2-.9 2-2.5 2-.5 2-2.8 2-1.3 2-3.1 2-2.5 2-2.9 2-2.9 2-1.7 2-2.2 2-1.9 2-1.9 2-1.1 2-1.9 2-1.3 2-1.2 2-2 2-.8 2-2.8 2-2.1 2-1.4 2-1.6 2-.2 2-1.5 2-1.4 2-1.7 2-1.7 2-2.6 2-1.8 2-1.7 2-.9 2-1.5 2-.6 2-1.8 2-.6 2-1.3 2-1.8 2-1.2 2-.9 2-1.2 2-.7 2-.4 2-1.5 2-1.1 2-1.5 2-1.2 2-1 2-1.2 2-1.3 2-1.9 2-.3 2-1 2-1.6 2-1 2-1 2-1.1 2-.7 2-1.7 2-1.5 2-1.1 2-1.3 2-1.1 2-1.2 2-1.1 2-1.2 2-1.2 2-1.2 2-1.1 2-1.2 2-1.2 2-1.2 2-1.4 2-1.4 2-1.6 2-1.8 2-1.9 2-2 2-2.2 2-2.3 2-2.5 2-2.4 2-2.6 2-2.7 2-2.7 2-2.8 2-2.9 2-2.9 2-3 2-3.1 2-3.2 2-3.3 2-3.3 2-3.4 2-3.5 2-3.6 2-3.7 2-3.7 2-3.7 2-3.8 2-3.7 2-3.7 2-3.7 2-3.6 2-3.6 2-3.5 2-3.4 2-3.5 2-3.4 2-3.6 2-3.7 2-3.7 2-3.8 2-3.8 2-3.7"/>
<path d="M178 600.6l2-20 2-5 2-3.9 2-6.7 2-3.1 2-3.1 2-2.6 2-3.5 2-6.4 2-6.3 2-1.8 2-4.1 2-5.3 2-4.2 2-4.6 2-4.8 2-3 2-3.9 2-2.3 2-3.6 2-5 2-1.4 2-2.5 2-4.3 2-1.5 2-4.9 2-3.4 2-4.8 2-1.1 2-5.4 2-3 2-3.8 2 .1 2-3.9 2-3.6 2-5.6 2-1.6 2-5.5 2-3.6 2-2.2 2-4.4 2-5.3 2-3.2 2-2.1 2-2.4 2-2 2-3.5 2-4.5 2-2.1 2-3.3 2-3.9 2-.6 2-3.5 2-2.7 2-2.6 2-2.2 2-1.8 2-1.9 2-3.2 2-1.5 2-2.7 2-2.1 2-2.7 2-1.6 2-1.6 2-1.6 2-2.9 2-1.9 2-2.6 2-2.5 2-2.4 2-2.7 2-1.2 2-2.2 2-1.8 2-2.6 2-1.4 2-2.9 2-1.4 2-1.7 2-1.8 2-1.9 2-1.9 2-1.6 2-1.5 2-1.6 2-1.9 2-.4 2-1.7 2-1.5 2-1.5 2-1.7 2-1.6 2-1.1 2-2 2-1.4 2-1.4 2-.8 2-1.9 2-1.1 2-1.3 2-2.3 2-1.3 2-1.9 2-1 2-1.8 2-1.1 2-1.7 2-1 2-1.3 2-1.4 2-1.3 2-1.1 2-.5 2-1.5 2-.2 2-.7 2-2 2-1.1 2-1.9 2-.8 2-1.4 2-.5 2-1.1 2-1.8 2-1.1 2-1 2-.9 2-.9 2-1.2 2-.5 2-1.4 2-1.1 2-1.1 2-1.3 2-1.3 2-1.4 2-1.4 2-1.5 2-1.5 2-1.5 2-1.5 2-1.5 2-1.6 2-1.6 2-1.7 2-1.7 2-1.8 2-1.8 2-2 2-2 2-2.1 2-2.2 2-2.2 2-2.2 2-2.3 2-2.3 2-2.3 2-2.3 2-2.4 2-2.3 2-2.4 2-2.4 2-2.6 2-2.6 2-2.7 2-2.8 2-2.9 2-3.1 2-3.1 2-3.2 2-3.3 2-3.3 2-3.3 2-3.3 2-3.3 2-3.3 2-3.2 2-3.3 2-3.1 2-3.2 2-3.2 2-3.3 2-3.4 2-3.6 2-3.6 2-3.8 2-3.7 2-3.7"/>
<path d="M178 604.9l2-17.5 2-2.7 2-2 2-5.4 2-3.4 2-5.9 2-6.2 2-4.3 2-7.7 2-6.2 2-.6 2-1.7 2-5.1 2-3.7 2 .3 2-8.2 2-5.4 2-4.3 2-4.5 2-3.4 2-4.1 2 1 2-2.3 2-3.8 2-2.4 2-6.2 2-3.6 2-6.3 2-4.3 2-5.8 2-4.3 2-4.3 2-2.1 2-4 2-3.1 2-4.4 2-1.7 2-3.9 2-4 2-1.6 2-3.5 2-3.1 2-3.2 2-2.7 2-2 2-2.4 2-3.1 2-2.4 2-2.8 2-2.7 2-2.6 2 1.3 2-4 2-2.7 2-3.1 2-2.1 2-3.2 2-2.6 2-1.9 2-1.4 2-1.2 2-1.4 2-3.5 2-2.3 2-1.4 2-2 2-2.8 2-1.4 2-3.3 2-.9 2-3.4 2-1.8 2-4.2 2-2 2-1.6 2-3 2-1.2 2-2.5 2-.8 2-3.3 2-2.1 2-2.5 2-2.7 2-1.9 2-1.9 2-.9 2-1.1 2-1.9 2-2.1 2-1 2-1.9 2-2 2-1.3 2-2.5 2-2 2-.2 2-2.6 2-1.7 2-1 2-1.8 2-2 2-.5 2-1.5 2-1 2-1.4 2-.7 2-1.1 2-1.3 2-2.1 2-1.3 2-1.6 2-1.6 2-1.2 2-1 2-1.6 2-.8 2-.5 2-.2 2-1.2 2-.2 2-1.3 2-1 2-1.5 2-1.6 2-1.6 2-.8 2-2 2-.7 2-.6 2-1 2-.8 2-1.7 2-1.7 2-.9 2-1.3 2-1.5 2-1.4 2-1.3 2-1.5 2-1.4 2-1.4 2-1.5 2-1.5 2-1.5 2-1.6 2-1.6 2-1.7 2-1.8 2-1.8 2-2 2-2.1 2-2.1 2-2.2 2-2.3 2-2.3 2-2.2 2-2.3 2-2.2 2-2.2 2-2.3 2-2.2 2-2.4 2-2.4 2-2.5 2-2.7 2-2.7 2-2.9 2-3 2-3.1 2-3.2 2-3.2 2-3.4 2-3.3 2-3.4 2-3.4 2-3.4 2-3.4 2-3.4 2-3.4 2-3.3 2-3.4 2-3.4 2-3.4 2-3.5 2-3.7 2-3.8 2-3.7 2-3.8 2-3.7"/>
<path d="M178 611.3l2-16 2-1 2-10.8 2-2.7 2-5.3 2-3.4 2-1.1 2-5.1 2-4.7 2-13.4 2-6.2 2-4.8 2-2.3 2-4.7 2-6.5 2-1.7 2-1.3 2-4.4 2-.3 2-2.6 2-8.2 2 .5 2-4 2-3.6 2-1.6 2-2.8 2-7.1 2-3 2-3.8 2-5.1 2-5.6 2-3.6 2-.1 2-4.5 2-2 2-4.8 2-2.9 2-2.7 2-4.2 2-1.4 2-4.6 2 0 2-4.4 2-2.8 2-3.9 2-1.8 2-1.6 2-5.4 2-4.2 2-3.7 2-2.9 2-.7 2-1.6 2-2.4 2-3.4 2-2.4 2-1.4 2-3.5 2-4.5 2-3.1 2-.6 2-5.8 2-3.2 2-3.3 2-1.7 2-1.6 2-.8 2-2.2 2-1.6 2-2.6 2-2.3 2-3.5 2-1.9 2-1.7 2-1.7 2-1.5 2-.8 2-1.9 2-3 2-2.9 2-2.2 2-3.8 2-3.4 2-1.7 2-1.8 2-1.5 2-1.3 2-2.7 2-1.2 2-1.3 2-1.3 2-1.2 2-1 2-.9 2-2.5 2-.7 2-1.3 2-.9 2-2 2-.9 2-1.6 2-.7 2-1.6 2-1 2-2.1 2-1.3 2-1.2 2-1.3 2-.5 2-1.8 2-1.6 2-1.5 2-1.7 2-1.2 2-.3 2-.9 2-1.1 2-1.1 2-.7 2-1.5 2-.7 2-1.9 2-1 2-.6 2-1 2-1.2 2-1.7 2-.4 2-.5 2-1 2-1.2 2-1.1 2-1.1 2-1.1 2-1.4 2-1.1 2-1.1 2-1.3 2-1.4 2-1.2 2-1.4 2-1.3 2-1.4 2-1.4 2-1.4 2-1.5 2-1.6 2-1.6 2-1.8 2-1.8 2-2 2-2.1 2-2.2 2-2.3 2-2.4 2-2.5 2-2.5 2-2.6 2-2.6 2-2.6 2-2.7 2-2.7 2-2.8 2-2.8 2-2.9 2-2.9 2-3.1 2-3.1 2-3.2 2-3.3 2-3.3 2-3.3 2-3.3 2-3.3 2-3.3 2-3.3 2-3.2 2-3.3 2-3.1 2-3.2 2-3.2 2-3.3 2-3.3 2-3.5 2-3.6 2-3.7 2-3.8 2-3.7 2-3.7"/>
<path d="M178 612.1l2-18.7 2-5.4 2-1.7 2-6.3 2-3.6 2-.2 2 4.9 2-5.3 2-11.7 2-9.8 2-5.5 2-.5 2-6.6 2 3.4 2-8 2-1.3 2-6.3 2-3.5 2-4 2-2.3 2-3 2 3.4 2-6 2-3.8 2-2 2-5.5 2-4.6 2-3.8 2-3.2 2-5 2-5.6 2-7.9 2 .7 2-5.5 2-5.1 2-.8 2-2.2 2-3.3 2-3.9 2-1.8 2-3.2 2-5.9 2-3.3 2-2.4 2-2.3 2-4.5 2-2.6 2-4.4 2-2.1 2-3.6 2-3.2 2-1.7 2-2 2-2.4 2-2.3 2-2.8 2-2.6 2-2.4 2-2.4 2-2.7 2-2.3 2-2.8 2-3.4 2-2.6 2-2 2-.5 2-3.1 2-2.5 2-2.5 2-2.4 2-3.2 2-1.9 2-2.7 2-1.8 2-1.2 2-1.8 2-1 2-1.9 2-2.8 2-2.7 2-1 2-2.9 2-2 2-1.9 2-2.5 2-1.2 2-1.5 2-.4 2-2 2-1.1 2-1.6 2-1.8 2-1.7 2-2.9 2-2.3 2-1.6 2-1.4 2-.6 2-2.4 2-1.9 2-1.2 2-1.8 2-2.3 2-1.3 2-1.5 2-1.2 2-1.4 2-.8 2-1.7 2-1.2 2-.9 2-1.2 2-1 2-1.2 2-1.7 2-1 2-.7 2-1.6 2-1 2-1 2-.3 2-.9 2-1 2-2.1 2-1.7 2-1.2 2-1.2 2-1.1 2-1.5 2-.9 2-.9 2-1.5 2-1.2 2-1.3 2-1.2 2-1.4 2-1.2 2-1.3 2-1.2 2-1.2 2-1.2 2-1.2 2-1.3 2-1.3 2-1.3 2-1.4 2-1.6 2-1.6 2-1.9 2-1.9 2-2.2 2-2.2 2-2.4 2-2.4 2-2.4 2-2.5 2-2.5 2-2.5 2-2.5 2-2.5 2-2.5 2-2.6 2-2.6 2-2.7 2-2.8 2-2.9 2-3.1 2-3.2 2-3.3 2-3.5 2-3.5 2-3.6 2-3.6 2-3.6 2-3.6 2-3.6 2-3.5 2-3.5 2-3.5 2-3.4 2-3.3 2-3.4 2-3.5 2-3.5 2-3.7 2-3.7 2-3.8 2-3.8 2-3.7"/>
<path d="M178 623.3l2-5.3 2-.4 2-.1 2-11.6 2-6.5 2-8.6 2 1.6 2-3.3 2-3.4 2-4.4 2-8.4 2-3 2-11.8 2-4.8 2-5.4 2-.6 2-5.7 2 2 2-4.3 2-4 2-6.3 2-.6 2-5 2-5.9 2 1 2-3.7 2-4.6 2-5.2 2-6.4 2-6.4 2-3.9 2-6.4 2-2.1 2-5.3 2-4.4 2-3.1 2-3.4 2-2.9 2-3.1 2-5.6 2-3.9 2-4.7 2-2.8 2-1.8 2-1.8 2-2.3 2-4.9 2-4.8 2-2.8 2-3.7 2-2.9 2-2.3 2-2.7 2-2.8 2-1.2 2-4.8 2-1.9 2-2.8 2-2 2-1.4 2-3.8 2-4.1 2-2.8 2-2.2 2-1.9 2-1.6 2-2.8 2-2 2-2 2-3.4 2-3.3 2-2.3 2-2.8 2-.2 2-1.6 2-1.4 2-1.3 2-1.3 2-1.7 2-3.4 2-1.2 2-2.9 2-1 2-2.4 2-2.8 2-1.4 2-1.1 2-2.3 2-1.7 2-.8 2-1.9 2-2.1 2-2.4 2-2.3 2-1.4 2-1.6 2-1.8 2-1 2-2 2-1.8 2-1.2 2-1.9 2-1.1 2-2.6 2-1.2 2-1.1 2-1.5 2-1 2-1.2 2-1.4 2-1.6 2-.6 2-1.2 2-1.1 2-.9 2-1.5 2-1.4 2-1.2 2-1.2 2-.4 2-1.4 2-1.4 2-1.1 2-1.3 2-1.8 2-1 2-.8 2-1.1 2-1.1 2-1.2 2-1.1 2-1.3 2-1.1 2-1.5 2-1.2 2-1.2 2-1.2 2-1.3 2-1.2 2-1.3 2-1.3 2-1.3 2-1.3 2-1.3 2-1.4 2-1.5 2-1.6 2-1.8 2-2 2-2.1 2-2.3 2-2.3 2-2.5 2-2.5 2-2.6 2-2.5 2-2.6 2-2.5 2-2.5 2-2.5 2-2.6 2-2.5 2-2.7 2-2.7 2-2.7 2-2.9 2-3 2-3.1 2-3.2 2-3.2 2-3.3 2-3.4 2-3.4 2-3.4 2-3.4 2-3.5 2-3.5 2-3.4 2-3.4 2-3.4 2-3.4 2-3.4 2-3.5 2-3.5 2-3.7 2-3.7 2-3.8 2-3.8 2-3.7"/>
<path d="M178 632.2l2 2.2 2-7.4 2-6.3 2-9.3 2-3 2-3.5 2-4.2 2-10.3 2-3.3 2-7.2 2-7.2 2-3 2-4.8 2-7.1 2-3.6 2-4.3 2 1.2 2-6.3 2-1.8 2-2.6 2-2.5 2-1.1 2-5.3 2-7.5 2 1.3 2-7.5 2-2.2 2-2.5 2-1 2-7.2 2-6.3 2-7.1 2-.7 2-7.2 2-6 2-5 2-3.2 2-1.9 2-3.5 2-4 2-1.7 2-4.5 2-4.4 2-2.8 2-4.3 2-2.8 2-3.7 2-2.3 2-5.4 2-3.6 2-3.6 2-4.8 2-2.1 2-2.6 2-2.2 2-4.4 2-2.3 2-3.9 2-2.3 2-.5 2-4.9 2-3.5 2-.9 2-1.4 2-2.5 2-1 2-3.2 2-2.1 2-4 2-1.7 2-2.5 2-3.8 2-2.6 2-1.2 2-1.6 2-1.8 2-.5 2-2.4 2-2.5 2-2.5 2-1.6 2-2.4 2-2 2-1.8 2-2 2-1 2-1.5 2-1.6 2-1.6 2-.5 2-1.9 2-1.7 2-1.7 2-1.8 2-2 2-1.4 2-1.7 2-.9 2-1.4 2-1.6 2-2.6 2-1.6 2-1.8 2-1.6 2-1.4 2-1.2 2-1.5 2-1.8 2-2.1 2-1.1 2-1.6 2-.7 2-1.2 2-1.4 2-1.5 2-.7 2-1.4 2-1 2-.7 2-1 2-1.2 2-1.5 2-.7 2-1.5 2-1.7 2-.7 2-1.9 2-.5 2-1.3 2-.8 2-1.3 2-1.5 2-1.3 2-1.3 2-1 2-1.4 2-1.4 2-1.1 2-1.2 2-1.2 2-1.1 2-1.2 2-1.1 2-1.2 2-1.2 2-1.3 2-1.4 2-1.5 2-1.6 2-1.8 2-2 2-2.2 2-2.2 2-2.4 2-2.4 2-2.5 2-2.6 2-2.5 2-2.7 2-2.6 2-2.7 2-2.9 2-2.9 2-3 2-3.1 2-3.1 2-3.3 2-3.4 2-3.5 2-3.6 2-3.7 2-3.7 2-3.7 2-3.8 2-3.7 2-3.7 2-3.7 2-3.6 2-3.6 2-3.5 2-3.4 2-3.5 2-3.4 2-3.6 2-3.7 2-3.7 2-3.8 2-3.8 2-3.7"/>
<path d="M178 610.8l2-20.3 2-5.2 2-2.5 2-4.2 2-4.4 2-2 2-4.9 2-7.3 2-4.2 2-5.7 2-2.4 2-.4 2-5.5 2-1.9 2-1.4 2-7.1 2-2.6 2-4.7 2-4.5 2-4.6 2-4.7 2-2.6 2-1.8 2-6 2 1.9 2-4.9 2-.9 2-3.5 2-6 2-6.6 2-3.6 2-4.9 2-3.4 2-6.2 2-1.7 2-6.3 2-1.6 2-1.5 2-3.2 2-3.8 2-1.2 2-4.5 2-3.2 2-2.9 2-4.1 2-5 2-3.5 2-4.8 2-3.9 2-3.2 2-2.5 2-2 2-1.7 2-1.8 2-2.6 2-3.9 2-2.5 2-2.9 2-3.6 2-1.7 2-2.6 2-1.6 2-1.7 2-2.2 2-2.9 2-1.6 2-3.4 2-1.1 2-3.4 2-1.6 2-3.7 2-2.6 2-2.4 2-1.6 2-1.9 2-1.7 2-.5 2-1.4 2-1.2 2-2.8 2-1.7 2-1.8 2-1.9 2-2.4 2-3.2 2-.7 2-2 2-.1 2-1 2-.8 2-1.5 2-1.5 2-1.2 2-.4 2-.8 2-2.4 2-2 2-1.3 2-2.2 2-2.2 2-2.6 2-2.4 2-2 2-1.9 2-.5 2-1.3 2-1.1 2-1.7 2-.7 2-1.6 2-1.7 2-.1 2-1.4 2-1 2-1.2 2-1.2 2-.1 2-1.3 2-1.7 2-.4 2-.6 2-1.1 2-1.2 2-2.2 2-.7 2-.5 2-1.1 2-.6 2-.5 2-1.4 2-1.3 2-1.9 2-1.5 2-1.4 2-1.7 2-1.2 2-1.6 2-1.6 2-1.4 2-1.4 2-1.5 2-1.4 2-1.5 2-1.5 2-1.6 2-1.6 2-1.7 2-1.7 2-1.9 2-2 2-2.1 2-2.1 2-2.2 2-2.2 2-2.3 2-2.2 2-2.3 2-2.2 2-2.3 2-2.3 2-2.3 2-2.3 2-2.4 2-2.5 2-2.5 2-2.7 2-2.8 2-2.9 2-3 2-3.2 2-3.3 2-3.4 2-3.4 2-3.5 2-3.5 2-3.5 2-3.5 2-3.5 2-3.4 2-3.4 2-3.3 2-3.4 2-3.5 2-3.5 2-3.7 2-3.8 2-3.7 2-3.8 2-3.7"/>
<path d="M178 610.6l2-18.9 2-4.8 2-4.3 2-5.3 2-3.7 2 .3 2-.8 2-1.8 2-3.7 2-13.7 2-2.7 2-4.8 2-5.4 2-2.9 2-.6 2-8.6 2 .1 2-7.6 2-1.9 2-7.7 2-4.5 2-2.5 2-2.8 2-3.5 2-2.3 2-2 2-3 2-4.3 2-4.3 2-6.3 2-7.2 2-6 2-3.8 2-2.1 2-2.5 2-4.6 2-4 2-3.7 2-3.7 2-3.1 2-4 2-2.8 2-2.2 2-2.5 2-3 2-.7 2-5.1 2-4.1 2-2.9 2-2.7 2-.7 2-2.6 2-1.4 2-2.9 2-2.1 2-1.5 2-2 2-2.5 2-3.4 2-3.2 2-2.3 2-2.8 2-1.8 2-3.8 2-2.2 2-3 2-2.5 2-2.1 2-2.3 2-1.9 2-2.5 2-2.6 2-2.4 2-1.5 2-1.3 2-1.9 2-1.8 2-1.8 2-1.5 2-2.3 2-2.6 2-2.2 2-2.3 2-1.1 2-2.5 2-1.5 2-1.5 2-.7 2-1.8 2-2.1 2-2 2-2.7 2-1.4 2-1.2 2-2.5 2-1.1 2-.9 2-1.1 2-1 2-1.9 2-1.5 2-.9 2-2 2-1.8 2-1.2 2-1.2 2-1.4 2-.2 2-1 2-.8 2-1.6 2-1.3 2-1.2 2-1.6 2-1.3 2-.7 2-1 2-1.8 2-1.4 2-.7 2-.9 2-1.4 2-1.4 2-1 2-1.3 2-1.3 2-.7 2-.7 2-1 2-1 2-1.2 2-.9 2-1.4 2-1.4 2-1.6 2-1.3 2-1.4 2-1.4 2-1.4 2-1.3 2-1.4 2-1.5 2-1.4 2-1.5 2-1.6 2-1.6 2-1.7 2-1.8 2-1.9 2-1.9 2-2.1 2-2.1 2-2.2 2-2.2 2-2.3 2-2.3 2-2.3 2-2.4 2-2.3 2-2.4 2-2.4 2-2.4 2-2.5 2-2.5 2-2.7 2-2.7 2-2.9 2-2.9 2-3.1 2-3.1 2-3.2 2-3.3 2-3.3 2-3.3 2-3.2 2-3.3 2-3.3 2-3.2 2-3.2 2-3.1 2-3.2 2-3.2 2-3.3 2-3.4 2-3.6 2-3.6 2-3.8 2-3.7 2-3.7"/>
<path d="M178 608.6l2-19 2-3.8 2-7.4 2-2.4 2-3.3 2-6.6 2-5.8 2-4 2-4.9 2-8.4 2-5.7 2-3.4 2-6.8 2-2.8 2-6.9 2-4 2-2.8 2-3 2-2.9 2-1.3 2-4.3 2-.4 2-5.3 2-4.9 2 2.3 2-3.7 2-2.1 2-4.3 2-1.1 2-2.8 2-3.6 2-6.2 2-4.6 2-2.5 2-4.8 2-7.2 2-2.5 2-2.1 2-4.7 2-.7 2-3.8 2-2.6 2-4.7 2-2.7 2-3.3 2-3.4 2-3.4 2-3.6 2-2.8 2-2.5 2-2.7 2-1.7 2-1.8 2-1.8 2-4.1 2-2.3 2-1.4 2-2.7 2-3.2 2-1.8 2-2.7 2-3.2 2-1.9 2 .1 2-1.1 2-2.3 2-.6 2-1.2 2-2.5 2-2.6 2-2.8 2-3.6 2-2.3 2-.7 2-2.2 2-1.4 2-1.1 2-.9 2-3.2 2-2.7 2-1.9 2-2.2 2-2.2 2-1.4 2-2.1 2-1.7 2-1.3 2-.9 2-1.3 2-2.1 2-1.1 2-.9 2-2.5 2-2.2 2-2.6 2-2.4 2-1.6 2-1.1 2-.7 2-2 2-2.1 2-1.1 2-1.5 2-1.5 2-.3 2-1.8 2-1.6 2-1.9 2-1.6 2-1.2 2-1.3 2-.5 2-.7 2-1.5 2-.5 2-1.6 2-.5 2-1.7 2-.4 2-1.5 2-1.7 2-1.4 2-1.1 2-.7 2-1.3 2-1.2 2-.5 2-.9 2-1 2-.8 2-.8 2-.9 2-1.2 2-1.3 2-1.6 2-1.1 2-1.4 2-1.3 2-1.3 2-1.4 2-1.5 2-1.5 2-1.5 2-1.6 2-1.6 2-1.7 2-1.8 2-1.9 2-1.9 2-2.1 2-2.2 2-2.3 2-2.4 2-2.4 2-2.4 2-2.4 2-2.4 2-2.5 2-2.4 2-2.4 2-2.3 2-2.5 2-2.4 2-2.5 2-2.6 2-2.6 2-2.8 2-2.9 2-3 2-3.1 2-3.2 2-3.3 2-3.4 2-3.5 2-3.5 2-3.5 2-3.5 2-3.5 2-3.5 2-3.4 2-3.4 2-3.4 2-3.5 2-3.5 2-3.7 2-3.7 2-3.8 2-3.8 2-3.7"/>
<path d="M178 603.6l2-21.8 2-1.2 2-3.8 2-8.4 2-3 2-4.6 2-1.7 2-5.9 2-2.6 2-5.6 2-5.3 2-1.7 2-7.9 2-5.1 2-4.3 2-5.4 2-1.2 2-4.3 2-3.2 2-2.4 2-2.8 2-1.2 2-5.9 2-2.1 2 1.2 2-4.1 2-2.3 2-5.9 2 .1 2-4.9 2-3.6 2-5.9 2-2.7 2-3.1 2-3.9 2-3.8 2-1.2 2-4.1 2-5 2-2.6 2-5.2 2-3.4 2-2.4 2-2.2 2-4.1 2-3.1 2-2.6 2-4 2-4.1 2-2.2 2-5.7 2-2.4 2-2 2-2.5 2-2 2-2.3 2-2.3 2-3 2-.8 2-1.7 2-3.4 2-3.4 2-2.2 2-2.4 2-1.5 2-2 2-1.6 2-.9 2-2.2 2-.6 2-.9 2-4.3 2-2.8 2-.8 2-1.3 2-1.1 2-2.4 2-2.1 2-.7 2-2.2 2-1.9 2-2.6 2-3.4 2-2.5 2-2.2 2-1.2 2-1.4 2-2.2 2-.9 2-1.6 2-2 2-.7 2 .3 2-2.3 2-2.5 2-1.9 2-1.2 2-.4 2-1.5 2-1.7 2-1.8 2-1.3 2-1.9 2-.8 2-1.9 2-2.7 2-1.5 2-.7 2-2.1 2-.8 2-2.1 2-.6 2-1.1 2-1.2 2-1.3 2-.5 2-.8 2-1.3 2-1.2 2-1.6 2-1 2-.8 2-1.3 2-1 2-1.8 2-1.2 2-.5 2-.1 2-1.3 2-1 2-1.2 2-1.1 2-1.7 2-1.5 2-1.4 2-1.5 2-1.4 2-1.6 2-1.5 2-1.3 2-1.4 2-1.3 2-1.4 2-1.4 2-1.4 2-1.5 2-1.6 2-1.7 2-1.8 2-2 2-2.1 2-2.2 2-2.3 2-2.3 2-2.4 2-2.3 2-2.4 2-2.5 2-2.4 2-2.4 2-2.5 2-2.5 2-2.6 2-2.7 2-2.8 2-2.9 2-3.1 2-3.1 2-3.2 2-3.3 2-3.3 2-3.4 2-3.4 2-3.4 2-3.3 2-3.4 2-3.2 2-3.3 2-3.2 2-3.1 2-3.2 2-3.2 2-3.3 2-3.4 2-3.6 2-3.7 2-3.7 2-3.8 2-3.7"/>
<path d="M178 609.2l2-21.4 2-8.2 2-.2 2-7.3 2-3.7 2-1.6 2-6.6 2-6.6 2-4.8 2-4.6 2-5.1 2-3.2 2-6.3 2-6 2-5.3 2-4 2-1.9 2-3 2-2.6 2-3.1 2-6.2 2-1.4 2-3 2-6 2 .7 2-5.5 2-.9 2-4 2-3.4 2-2.8 2-4.3 2-4.9 2-2.7 2-3.1 2-3.7 2-5.3 2-2.1 2-2.8 2-4.5 2-2.8 2-3.1 2-4.1 2-2.9 2-.2 2-1.9 2-5.7 2-1.4 2-2.2 2-2.6 2-5.2 2-3.3 2-.5 2-2.8 2-3.8 2-3.3 2-2.5 2-3.1 2-1.6 2-2.8 2-1.7 2-2.2 2-3.8 2-1.8 2-1.4 2-.4 2-1.9 2-2.2 2-1.4 2-2.3 2-3.7 2-1.9 2-3.2 2-2.3 2-2 2-1.5 2-1.9 2-1.7 2-1.6 2-2.7 2-1.7 2-1.6 2-2.4 2-1.8 2-1.7 2-1.2 2-2 2-1.8 2-1.4 2-2.3 2-2.3 2-.9 2-1.5 2-.1 2-2.2 2-1.6 2-.6 2-1.7 2-.4 2-1.1 2-1.7 2-2.2 2-1.8 2-1.9 2-2.4 2-1.4 2-1.4 2-1.3 2-.5 2-1.6 2-.9 2-1.6 2-.9 2-.7 2-1.9 2-1.8 2-.5 2-.2 2-1.3 2-1 2-1.7 2-.9 2-1.5 2-1.3 2-1.6 2-1.7 2-.4 2-1.6 2-1 2-1.1 2-1.2 2-1.3 2-1.2 2-1.6 2-1.5 2-1.4 2-1.4 2-1.3 2-1.3 2-1.3 2-1.3 2-1.3 2-1.4 2-1.4 2-1.5 2-1.5 2-1.6 2-1.7 2-1.7 2-1.8 2-2 2-2 2-2.1 2-2.1 2-2.3 2-2.2 2-2.3 2-2.3 2-2.3 2-2.4 2-2.3 2-2.4 2-2.4 2-2.5 2-2.5 2-2.7 2-2.7 2-2.9 2-2.9 2-3.1 2-3.2 2-3.2 2-3.2 2-3.3 2-3.3 2-3.3 2-3.3 2-3.2 2-3.3 2-3.1 2-3.2 2-3.1 2-3.2 2-3.3 2-3.4 2-3.5 2-3.7 2-3.7 2-3.7 2-3.7"/>
<path d="M178 631.6l2-3.3 2-8.5 2-6.1 2-7.6 2-3.7 2-.4 2-.9 2-8.3 2-6.7 2-7.6 2-6.5 2-8.3 2-3.2 2-2.1 2-4.3 2-2.2 2-2.7 2-3.7 2-.7 2-4.7 2-7.4 2 .3 2-6 2-3.4 2-3.8 2-2.6 2-8.7 2-1.9 2-1.1 2-6.8 2-4.7 2-3.9 2-6.5 2-3.4 2-5.4 2-4.9 2-1.4 2-4.6 2-3 2-2.5 2-5.1 2-3.3 2-2.9 2-4.3 2-3.1 2-3 2-3.5 2-2 2-4.8 2-3.6 2-4.3 2-2.7 2-2.6 2-2.4 2-3.3 2-2.8 2-2.7 2-1.9 2-3.5 2-1.9 2-3.7 2-2.5 2-2.4 2-2 2-1.3 2-3.3 2-3 2-3.1 2-1.3 2-2.9 2-2.8 2-2.6 2-2.1 2-1.9 2-1.9 2-2.5 2-1.6 2-1.9 2-2.6 2-1.7 2-2 2-3 2-2.5 2-1.4 2-2.6 2-1.7 2-1.4 2-.5 2-.7 2-2.6 2-1.2 2-2.2 2-2.1 2-1.8 2-2.4 2-.6 2-.6 2-1.1 2-1.6 2-1.1 2-1.4 2-1.3 2-2.7 2-1.5 2-1.2 2-2.4 2-1.4 2-1.4 2-1.1 2-1.4 2-1.5 2-.8 2-1.5 2-1.3 2-.8 2-.7 2-.5 2-.7 2-.7 2-1.4 2-.6 2-1.2 2-1 2-1 2-1.7 2-1.2 2-.3 2-1 2-.8 2-1.1 2-1.3 2-1.5 2-1.2 2-1.4 2-1.4 2-1.3 2-1.4 2-1.2 2-1.4 2-1.2 2-1.1 2-1.2 2-1.1 2-1.2 2-1.2 2-1.2 2-1.4 2-1.5 2-1.7 2-1.8 2-2 2-2.2 2-2.2 2-2.4 2-2.4 2-2.6 2-2.5 2-2.7 2-2.7 2-2.8 2-2.8 2-2.9 2-3 2-3.1 2-3.1 2-3.3 2-3.3 2-3.4 2-3.5 2-3.6 2-3.7 2-3.7 2-3.7 2-3.8 2-3.7 2-3.7 2-3.7 2-3.6 2-3.6 2-3.5 2-3.4 2-3.5 2-3.4 2-3.6 2-3.7 2-3.7 2-3.8 2-3.8 2-3.7"/>
<path d="M178 632.2l2-12.8 2-2.3 2-6.5 2-9 2-4.4 2-6.1 2-7.3 2-9.4 2-6.9 2-5.3 2-8.4 2-1.9 2-4.3 2-5.1 2-5.4 2-5.4 2-3.8 2-7.4 2-3.9 2-.3 2-6.3 2-.5 2-8.4 2-1.7 2-.1 2-6.4 2-2.5 2-.7 2-1 2-5.8 2-3.3 2-6.4 2-3 2-6.6 2-4.1 2-3.2 2-.6 2-1.7 2-2.4 2-2.1 2-4.6 2-1.6 2-5.6 2-5.1 2-3.8 2-3.8 2-2.7 2-2.8 2-3.2 2-4.8 2-1 2-.8 2-.8 2-1.9 2-2.5 2-4.5 2-5.6 2 .6 2-3.9 2-3.5 2-2.3 2-3.6 2-3.3 2-2.6 2-1.5 2-1.8 2-.2 2-2.2 2-.4 2-2.7 2-2.7 2-3.3 2-1.9 2-1.4 2-.6 2-1.7 2-2.2 2-2.3 2-1.1 2-2.1 2-1.7 2-2.1 2-3.2 2-2.6 2-3 2-2.3 2-1.5 2-2.3 2-.9 2-1.2 2-1.4 2-1.6 2-.7 2-1.8 2-1 2-1.5 2-.9 2-1.7 2-1.8 2-1.8 2-1.4 2-1.9 2-1.6 2-1.9 2-1.4 2-1.5 2-1 2-1.1 2-1.1 2-.9 2-1.1 2-1.5 2-1.3 2-1.7 2-.9 2-1.5 2-.2 2-1.5 2-1.3 2-1.2 2-1.2 2-.8 2-1.2 2-.9 2-1.9 2-1.4 2-1.1 2-1.2 2-.9 2-1.2 2-1 2-1 2-1.2 2-1.1 2-1.2 2-1.2 2-1.2 2-1.3 2-1.2 2-1.2 2-1.2 2-1.3 2-1.2 2-1.3 2-1.4 2-1.4 2-1.5 2-1.7 2-1.7 2-1.9 2-2.1 2-2.1 2-2.3 2-2.3 2-2.4 2-2.4 2-2.5 2-2.5 2-2.5 2-2.5 2-2.6 2-2.7 2-2.7 2-2.8 2-2.8 2-3 2-3.1 2-3.2 2-3.3 2-3.5 2-3.5 2-3.7 2-3.7 2-3.7 2-3.7 2-3.7 2-3.7 2-3.6 2-3.6 2-3.5 2-3.4 2-3.5 2-3.4 2-3.6 2-3.7 2-3.7 2-3.8 2-3.8 2-3.7"/>
<path d="M178 607.2l2-19.3 2-3.1 2-6.1 2-5.5 2-4 2-4.4 2-2.5 2-6.3 2-6 2-6.6 2-5.9 2-3.2 2-5.3 2-1.6 2-7.3 2-1.1 2-4.1 2-4.8 2-3 2-2.9 2-3.6 2-1.6 2-4.3 2-3.3 2-.9 2-4.8 2-2.8 2-3.4 2-4.6 2-5.7 2-1.9 2-3.9 2-2.3 2-5.9 2-3.6 2-4.5 2-1.6 2-2.5 2-4.1 2-.8 2-3.3 2-4.8 2-4.9 2-2.9 2-3.1 2-5.2 2-2.1 2-3.5 2-4 2-3 2-2.1 2 0 2-1 2-1.7 2-1.7 2-4.6 2-1.8 2-1.9 2-2.9 2-3.2 2-3.1 2-2.5 2-2.6 2-1.9 2-2 2-1.5 2-2.1 2-1.5 2-2.3 2-3 2-2.6 2-3.5 2-1.9 2-1.5 2-1.4 2-1.5 2-1.3 2-2.2 2-2.2 2-1.7 2-1.8 2-2.6 2-2.2 2-1.7 2-2.2 2-1 2-1.5 2 0 2-3.2 2-1.4 2-1.2 2-1.5 2-1 2-1.1 2-1.8 2-.8 2-2.1 2-.8 2-2.1 2-.5 2-1.3 2-2.1 2-1.5 2-1.9 2-.9 2-1.3 2-1.1 2-.6 2-1.8 2-1.4 2-1.6 2-1.5 2-1.5 2-.8 2-1.2 2-.4 2-1.1 2-1.1 2-1.7 2-1.1 2-1.3 2-1.1 2-.9 2-1.6 2-1.8 2-.7 2-.7 2-1.2 2-1.2 2-1.1 2-1.4 2-1.8 2-1.3 2-1.1 2-1.2 2-1.5 2-1.2 2-1.3 2-1.2 2-1.4 2-1.5 2-1.5 2-1.5 2-1.6 2-1.6 2-1.7 2-1.7 2-1.8 2-1.9 2-2 2-2 2-2.1 2-2.2 2-2.2 2-2.3 2-2.3 2-2.3 2-2.4 2-2.3 2-2.3 2-2.4 2-2.4 2-2.5 2-2.5 2-2.6 2-2.7 2-2.8 2-2.9 2-3 2-3.1 2-3.2 2-3.2 2-3.3 2-3.3 2-3.3 2-3.3 2-3.3 2-3.3 2-3.3 2-3.2 2-3.2 2-3.2 2-3.3 2-3.4 2-3.6 2-3.7 2-3.7 2-3.8 2-3.7"/>
<path d="M178 633.3l2-9.8 2 1.4 2-6.7 2-11.8 2 4.7 2-4.6 2-9.5 2-5 2-1.9 2-10.6 2-2.7 2-4.1 2-9 2-4.3 2-10.9 2-4.8 2 3.1 2-6 2-2.9 2-3.8 2-4.8 2 2.1 2-2.4 2-4.4 2-4.8 2-5.3 2-3.9 2-5.8 2-1 2-7.3 2-6.3 2-6.3 2-3 2-6.9 2-4.4 2-5.3 2-2.1 2-3.9 2-2.3 2-4.6 2-5 2-4.3 2-3.7 2-3.3 2-2.3 2-1.9 2-5.2 2-2.1 2-.9 2-1.7 2-4.8 2-1.8 2-1.9 2-3.6 2-2.2 2-3.8 2-3.6 2-3.9 2-1.2 2-5.6 2-2.3 2-3 2-.2 2-3.1 2-1.7 2-1.3 2-2.2 2-1 2-2.6 2-2.4 2-3.7 2-2.8 2-.9 2-2 2-.8 2-2.2 2-.4 2-2.7 2-1.3 2-1.9 2-1.8 2-2 2-2.4 2-2.4 2-3.1 2-1.3 2-1.6 2-1.5 2-1.2 2-1.7 2-1.9 2-2.5 2-1.1 2-2.7 2-1.8 2-.8 2-1.8 2-1.1 2-1.5 2-1.4 2-2.1 2-1.5 2-1.6 2-2 2-1.6 2-1.2 2-1.8 2-1.2 2-1.5 2-1.6 2-1.5 2-1.5 2-1.2 2-1.3 2-1.1 2-.9 2-.8 2-1.6 2-2 2-.9 2-1.1 2-1.6 2-1.1 2-1.1 2-1.1 2-1.1 2-1.7 2-1.2 2-1.3 2-1 2-.3 2-1.4 2-.9 2-1.3 2-1.4 2-1.1 2-1.1 2-1.1 2-1.2 2-1.3 2-1.2 2-1.2 2-1.3 2-1.2 2-1.3 2-1.3 2-1.4 2-1.6 2-1.6 2-1.8 2-1.9 2-2 2-2.1 2-2.2 2-2.4 2-2.4 2-2.4 2-2.5 2-2.5 2-2.6 2-2.6 2-2.7 2-2.7 2-2.8 2-2.9 2-3 2-3.1 2-3.3 2-3.3 2-3.5 2-3.6 2-3.6 2-3.7 2-3.7 2-3.7 2-3.8 2-3.6 2-3.6 2-3.6 2-3.5 2-3.4 2-3.5 2-3.4 2-3.6 2-3.7 2-3.7 2-3.8 2-3.8 2-3.7"/>
<path d="M178 642.2l2-5.5 2 .5 2-2.9 2-9.4 2-1.4 2-.7 2-9.3 2-1.6 2-7.9 2-5.3 2-8.8 2-3.4 2-9 2-2.4 2-4.2 2-7 2-3.9 2-5 2-3.4 2-5.2 2-6.4 2 1.3 2-4.1 2-1.5 2-4.2 2-4.8 2-4.6 2-2.7 2-.8 2-7.5 2-4.4 2-7.4 2-6 2-2.7 2-4.2 2-5.2 2-1.7 2-4.4 2-4.2 2-3.4 2-3.1 2-3.4 2-5.2 2-1.4 2-4.9 2-4.5 2-2.8 2-2.7 2-3.1 2-5 2-2.7 2-1.6 2-3.8 2-2.1 2-2.7 2-1.8 2-3.2 2-3.5 2-3.5 2-3.9 2-2.4 2-3.4 2-2.8 2-2.8 2-1.9 2-3.5 2-2.6 2-3 2-2.2 2-4 2-2.4 2-3.3 2-1.2 2-2.3 2-1.7 2-1.6 2-1.2 2-1.9 2-1.7 2-2.2 2-2.3 2-2.2 2-2.7 2-2.1 2-2.4 2-1.8 2-1.7 2-1.5 2-1.4 2-1.4 2-1.5 2-2.1 2-1.5 2-1.9 2-2.2 2-1.4 2-1.1 2-1.5 2-2.1 2-2 2-2.1 2-2.1 2-2 2-1.1 2-1.3 2-1.6 2-1 2-1.7 2-1.3 2-1.4 2-1.4 2-1 2-1.6 2-1.5 2-.8 2-.8 2-.4 2-1.5 2-.9 2-1.3 2-1.2 2-1.2 2-1.3 2-1.7 2-1.4 2-.6 2-1.3 2-1.6 2-1 2-1.4 2-1.2 2-1.3 2-1.4 2-1.3 2-1.1 2-1.3 2-1.6 2-1.2 2-1.2 2-1.2 2-1.1 2-1.1 2-1.1 2-1.2 2-1.1 2-1.3 2-1.3 2-1.5 2-1.7 2-1.8 2-2 2-2.1 2-2.2 2-2.3 2-2.4 2-2.5 2-2.6 2-2.7 2-2.7 2-2.8 2-2.9 2-2.9 2-3 2-3.1 2-3.2 2-3.3 2-3.3 2-3.4 2-3.5 2-3.6 2-3.7 2-3.7 2-3.7 2-3.8 2-3.7 2-3.7 2-3.7 2-3.6 2-3.6 2-3.5 2-3.4 2-3.5 2-3.4 2-3.6 2-3.7 2-3.7 2-3.8 2-3.8 2-3.7"/>
<path d="M178 646.4l2-1.1 2-2.2 2-5.6 2-8.8 2-2.6 2-8.3 2-11.5 2 3.3 2-7 2-7.4 2-8.8 2-5.4 2-6.3 2-8.1 2-11.1 2-7.2 2-.1 2-.7 2-3.4 2-2.8 2-3.4 2-4 2-3.5 2-2.4 2-3.1 2-9.1 2-4.1 2-2.4 2-4.2 2-6.6 2-4.4 2-5.6 2-4.9 2-5.5 2-6.4 2-4.3 2-1.4 2-2.6 2-4.2 2-2.7 2-2.9 2-3.7 2-2.9 2-2.1 2-3.1 2-3.6 2-3.7 2-3.4 2-5 2-3.1 2-1.4 2-1.5 2-4.9 2-1.9 2-3.5 2-2.7 2-2.8 2-1.7 2-1.8 2-3.6 2-2.1 2-4.1 2-2.8 2-1.2 2-1.8 2-.9 2-3 2-3 2-2.4 2-2.4 2-1.8 2-3.6 2-1.8 2-2 2-1.9 2-1.7 2-.6 2-2.4 2-1.4 2-2.6 2-2.6 2-1.6 2-3.4 2-2.5 2-2 2-1.6 2-1.4 2-.4 2-1.6 2-1.5 2-1.6 2-2.3 2-1.5 2-1.9 2-2.2 2-1.3 2-1.4 2-2.6 2-1.4 2-2.4 2-.9 2-1.8 2-1.9 2-2.2 2-1.6 2-1.7 2-1.2 2-1 2-1.1 2-1.1 2-2 2-1.1 2-.2 2-1.1 2-1.2 2-1.7 2-.5 2-1 2-1.3 2-.9 2-1.2 2-.9 2-1.4 2-1.4 2-1.5 2-.2 2-1.5 2-.8 2-1.2 2-1.1 2-1.4 2-1.3 2-1.4 2-1.2 2-1.4 2-1.4 2-1.3 2-1.3 2-1.4 2-1.1 2-1.2 2-1.2 2-1.2 2-1.2 2-1.3 2-1.4 2-1.4 2-1.6 2-1.8 2-1.9 2-2 2-2.2 2-2.2 2-2.4 2-2.4 2-2.5 2-2.6 2-2.7 2-2.7 2-2.8 2-2.9 2-2.9 2-3 2-3.1 2-3.2 2-3.3 2-3.3 2-3.4 2-3.5 2-3.6 2-3.7 2-3.7 2-3.7 2-3.8 2-3.7 2-3.7 2-3.7 2-3.6 2-3.6 2-3.5 2-3.4 2-3.5 2-3.4 2-3.6 2-3.7 2-3.7 2-3.8 2-3.8 2-3.7"/>
<path d="M178 607.4l2-20.3 2-5.8 2-4.9 2-4.8 2-2.4 2-5.4 2-4 2-4.7 2-.2 2-8.2 2-7.2 2-4.5 2-6 2-2.5 2-9.6 2-3.8 2-5.1 2-3.2 2-2.4 2-1.5 2-3.4 2-2 2-4.2 2-5.4 2-.2 2-3.4 2-4 2-4.2 2-1.6 2-3.9 2-2 2-4.5 2-5.9 2-1.1 2-3.5 2-5.1 2-1.4 2-2.7 2-4.3 2-4.1 2-.5 2-4.8 2-1.6 2-3.7 2-2.3 2-4.3 2-2.3 2-2.9 2-4.3 2-1.5 2-1.7 2-2.1 2-1.1 2-1.6 2-2.2 2-3.1 2-4 2-2 2-1.9 2-2.6 2-2.6 2-1.9 2-3.1 2-3 2 .5 2-2.5 2-3.1 2-2 2-3.4 2-2 2-2.5 2-2.9 2-3.1 2-1.9 2-1.4 2-1.2 2-1.7 2-2.4 2-.3 2-1.3 2-2.2 2-2.5 2-2.8 2-1.2 2-2.2 2-1.9 2-1.2 2-1.7 2-1.2 2-1.5 2-2.3 2-1.8 2-2.2 2-1.3 2-1.8 2-1.2 2-1.4 2-1 2-1.7 2-1.8 2-1.6 2-2.4 2-1.4 2-1.8 2-.7 2-1.4 2-.6 2-1.8 2-.9 2-1 2-1.6 2-.9 2 .1 2-1 2-2 2-1.1 2-1.7 2-1 2-1 2-1.3 2-1.1 2-1 2-.5 2-1.4 2-1.3 2-1.3 2-1 2-1 2-1.2 2-.7 2-1.2 2-1.1 2-1.2 2-1 2-1.4 2-1.1 2-1.3 2-1.5 2-1.3 2-1.4 2-1.3 2-1.4 2-1.4 2-1.4 2-1.5 2-1.5 2-1.7 2-1.7 2-1.9 2-2.1 2-2.2 2-2.2 2-2.4 2-2.5 2-2.4 2-2.5 2-2.4 2-2.4 2-2.4 2-2.5 2-2.4 2-2.4 2-2.6 2-2.6 2-2.7 2-2.8 2-2.9 2-3 2-3.2 2-3.1 2-3.3 2-3.3 2-3.3 2-3.3 2-3.3 2-3.2 2-3.3 2-3.3 2-3.2 2-3.3 2-3.2 2-3.3 2-3.4 2-3.5 2-3.6 2-3.8 2-3.7 2-3.8 2-3.7"/>
<path d="M178 611.3l2-16.6 2-5.1 2-.7 2 .3 2-2.3 2-10.3 2-8.8 2-3.7 2-2.7 2-8.2 2-6.9 2-5.3 2-4.3 2-6.5 2-2.9 2-1 2-4.9 2-8.7 2-4.4 2-3.2 2-3.9 2 .3 2-4.8 2-5.1 2 1.6 2-2.6 2-3.9 2-5 2-2.8 2-3.4 2-3.7 2-5.3 2-1.7 2-3.9 2-4.7 2-5.8 2-3 2-5 2-4.5 2-3.6 2-3.2 2-2.8 2-3.2 2-1.7 2-4.2 2-2.6 2-2.5 2-2.7 2-3.4 2-2.6 2-2.8 2-.9 2-2 2-3.7 2-2.9 2-3.8 2-2.1 2-1.7 2-2.3 2-2.7 2-3 2-2.5 2-2.4 2-1.8 2-.5 2-1.9 2-1.3 2-3.2 2-2.9 2-2.8 2-2.6 2-2.7 2-2.3 2-1.8 2-2 2-1.5 2-2.2 2-2.5 2-2.1 2-2.7 2-2 2-2 2-2 2-2.5 2-2.6 2-1.4 2-1.5 2-1.1 2-1.2 2-1.2 2-1.5 2-1.4 2-1.3 2-.8 2-2.3 2-1.2 2-1.9 2-1.4 2-1.5 2-.8 2-1.4 2-2.1 2-1.3 2-1.8 2-1.1 2-1 2-1.7 2-1.5 2-2 2-1.4 2-1.6 2-.6 2-1.8 2-1.3 2-1.2 2-1.1 2-.6 2 0 2-.7 2-1.5 2-1.3 2-1.1 2-1.3 2-2 2-1.4 2-.9 2-1.2 2-.9 2-.5 2-1.1 2-.6 2-1.6 2-1.3 2-1.3 2-1.4 2-1.3 2-1.4 2-1.4 2-1.4 2-1.3 2-1.2 2-1.4 2-1.3 2-1.4 2-1.3 2-1.5 2-1.5 2-1.6 2-1.7 2-1.9 2-1.9 2-2 2-2.1 2-2.2 2-2.2 2-2.3 2-2.3 2-2.3 2-2.3 2-2.4 2-2.3 2-2.4 2-2.5 2-2.5 2-2.7 2-2.7 2-2.8 2-3 2-3.1 2-3.1 2-3.2 2-3.3 2-3.3 2-3.3 2-3.3 2-3.2 2-3.3 2-3.2 2-3.2 2-3.1 2-3.2 2-3.2 2-3.2 2-3.4 2-3.5 2-3.7 2-3.7 2-3.7 2-3.6"/>
<path d="M178 634.2l2-12.1 2-7.6 2-5.7 2-7.3 2-5 2 .6 2-6.2 2-7 2-6.9 2-4.9 2-4.9 2-3.5 2-2.8 2-6.1 2-6 2-8.5 2-5.3 2-4.8 2-2.3 2-6.4 2-6.1 2 0 2-1.5 2-4.3 2-2.3 2-4.1 2-3.4 2-5.6 2-2.7 2-5.7 2-5.9 2-8.7 2-3.3 2-3.4 2-2.4 2-2.5 2-2.6 2-3.5 2-4.5 2-2.6 2-3.8 2-1.3 2-4.8 2-2.4 2-1.5 2-2.6 2 .2 2-4.1 2-4 2-3 2-3 2-2.9 2-.9 2-1.4 2-2.3 2-3 2-3.1 2-2.7 2-1.7 2-1.4 2-4.2 2-3.1 2-2.4 2-2.7 2-1.2 2-2.5 2-3.7 2-2.7 2-2.5 2-1.7 2-4.3 2-3.1 2-1.6 2-2.4 2-.5 2-1.9 2-1.6 2-1.2 2-2.4 2-2.9 2-1.4 2-3 2-2.8 2-1.9 2-2 2-.8 2-1.9 2-.9 2 0 2-1.9 2-1.9 2-1.5 2-1.3 2-1.5 2-2.5 2-1.9 2-1.3 2-1.2 2-1.7 2-2.1 2-2.1 2-2.2 2-1.3 2-2.2 2-1.5 2-1.4 2-1.3 2-1.5 2-1.4 2-1.4 2-1.4 2-1 2-1.1 2-1.4 2-1.2 2-1.2 2-.7 2-1.6 2-1.1 2-1.2 2-.6 2-.8 2-1.2 2-1.4 2-1.1 2-.8 2-1.6 2-1.2 2-1.1 2-1.1 2-1.3 2-1 2-1.1 2-1.5 2-1.2 2-1.2 2-1.2 2-1.4 2-1.3 2-1.2 2-1.2 2-1.4 2-1.3 2-1.4 2-1.4 2-1.5 2-1.6 2-1.6 2-1.8 2-2 2-2 2-2.2 2-2.2 2-2.3 2-2.4 2-2.4 2-2.4 2-2.4 2-2.4 2-2.5 2-2.4 2-2.6 2-2.6 2-2.7 2-2.8 2-3 2-3.1 2-3.2 2-3.4 2-3.4 2-3.6 2-3.7 2-3.7 2-3.7 2-3.7 2-3.7 2-3.7 2-3.6 2-3.6 2-3.5 2-3.4 2-3.5 2-3.4 2-3.6 2-3.7 2-3.7 2-3.8 2-3.8 2-3.7"/>
<path d="M178 647.5l2-3.7 2-6 2-10.3 2-5.3 2-5 2-7.9 2-.1 2-3.2 2-11 2-8 2-4.4 2-6 2-7.4 2-6.7 2-7.1 2-4.5 2-1 2-4.6 2-2.1 2-6 2-4.2 2-2.5 2-2.3 2-4.8 2 0 2-7.3 2-3.6 2-3 2-2.9 2-5.6 2-5 2-9.5 2-3.6 2-3.5 2-5.4 2-6.4 2-2.5 2-3.7 2-5.5 2-2.9 2-4.3 2-6.3 2-1.9 2-2.8 2-2.6 2-2.2 2-1.7 2-3.3 2-4.9 2-3.5 2-3.3 2-1.4 2-2.5 2-3 2-2.8 2-3.5 2-5.5 2-1.1 2-1.5 2-2.1 2-3.6 2-1.2 2-1.9 2-3 2-.6 2-3.6 2-2.5 2-2.9 2-2 2-3.1 2-1.8 2-2.9 2-2.8 2-2 2-2.1 2-2.1 2-1.4 2-3.2 2-2.7 2-1.7 2-2.4 2-2.7 2-1.2 2-2.9 2-1.8 2-1.7 2-2.4 2-1.1 2-1.7 2-1 2-1.2 2-2.6 2-2.7 2-1.3 2-1.6 2-1.1 2-1.3 2-.5 2-2.1 2-.8 2-1.5 2-2.2 2-1.4 2-1.4 2-1.5 2-1.6 2-1.4 2-.8 2-1.7 2-1.3 2-.8 2-1.2 2-1.3 2-1.5 2-.8 2-.8 2-.4 2-.5 2-1.3 2-1.4 2-.6 2-1 2-1.2 2-1.5 2-1.1 2-.8 2-1.3 2-1.1 2-1.1 2-.8 2-1.2 2-1.1 2-1.1 2-1.5 2-1.2 2-1.1 2-1.3 2-1.2 2-1.2 2-1.2 2-1.1 2-1.2 2-1.1 2-1.2 2-1.2 2-1.3 2-1.4 2-1.5 2-1.7 2-1.8 2-2 2-2.1 2-2.2 2-2.3 2-2.4 2-2.5 2-2.5 2-2.5 2-2.6 2-2.7 2-2.7 2-2.8 2-2.8 2-3 2-3.1 2-3.1 2-3.3 2-3.4 2-3.5 2-3.5 2-3.7 2-3.7 2-3.7 2-3.8 2-3.7 2-3.7 2-3.7 2-3.6 2-3.6 2-3.5 2-3.4 2-3.5 2-3.4 2-3.6 2-3.7 2-3.7 2-3.8 2-3.8 2-3.7"/>
<path d="M178 644l2-.8 2-8.7 2 0 2-6.4 2-4.7 2-.3 2-2.9 2-4.9 2-8.6 2-8.8 2-6.9 2-3.2 2-15.2 2-1.9 2-4.9 2-7.5 2-4.5 2-3.4 2-3.5 2-5.2 2-2 2 3.5 2-7.1 2-5.5 2-3.3 2-7.5 2-7.4 2-3.3 2-2.6 2-5.7 2-.1 2-8.1 2-4.9 2-3.4 2-2.4 2-8.8 2-3.7 2-.2 2-3.4 2-4.3 2-3 2-5.1 2-3.7 2 .8 2-4.2 2-3.8 2-4.5 2-5.3 2-4.9 2-4.3 2-2.3 2 .3 2-3.2 2-2.9 2-2.2 2-4.3 2-3.8 2-2.8 2-2.9 2-2.9 2-2.7 2-3.5 2-2.9 2-3.6 2-2 2-2.5 2-3.6 2-1.8 2-3.7 2-3.6 2-2.9 2-2.4 2-3.1 2-1.2 2-2.3 2-1.6 2-.8 2-2.8 2-.6 2-2 2-2.5 2-2 2-2.1 2-1.7 2-2.6 2-1.3 2-1.4 2-1.6 2-1.7 2-1.2 2-1 2-1.8 2-1.4 2-2.9 2-2.4 2-1.7 2-1.9 2-1.4 2-.3 2-2 2-2.1 2-1.2 2-1.2 2-2.1 2-1.4 2-1.3 2-.8 2-.5 2-1.6 2-1.7 2-1.8 2-.8 2-1 2-1 2-1.6 2-.9 2-.4 2-1.4 2-1.1 2-1 2-1.2 2-1.3 2-1 2-1.2 2-2.4 2-1.4 2-.5 2-1.5 2-.9 2-1.4 2-1.5 2-1.1 2-1.1 2-1.1 2-1.2 2-1.2 2-1.5 2-1.2 2-1.2 2-1.2 2-1.3 2-1.3 2-1.3 2-1.5 2-1.4 2-1.6 2-1.6 2-1.7 2-1.8 2-2 2-2 2-2.2 2-2.2 2-2.2 2-2.3 2-2.4 2-2.4 2-2.5 2-2.5 2-2.5 2-2.6 2-2.7 2-2.7 2-2.8 2-2.8 2-3 2-3 2-3.1 2-3.2 2-3.3 2-3.4 2-3.5 2-3.5 2-3.5 2-3.6 2-3.5 2-3.6 2-3.6 2-3.5 2-3.4 2-3.4 2-3.5 2-3.4 2-3.6 2-3.7 2-3.7 2-3.8 2-3.8 2-3.7"/>
<path d="M178 627.6l2-14.4 2-3.9 2-6.5 2-3.7 2-3.8 2-2 2-1.4 2-9.6 2-2.8 2-6.6 2-8.2 2-5.4 2-3.3 2-2.3 2-6.9 2-3.8 2-2.5 2-6.5 2-1 2-3.4 2-3.3 2 .6 2-4.5 2-3.4 2-1.7 2-7.3 2-3.9 2-8 2 .6 2-4.2 2-6.7 2-5.6 2-5.3 2-5.2 2-5.9 2-6.5 2-3.7 2-.5 2-3 2-1.8 2-3.5 2-2.6 2-4.1 2-2.9 2-3.2 2-1.7 2-1 2-5.6 2-4 2-3.6 2-.5 2-3.2 2-1.5 2-2.2 2-3.3 2-2.5 2-2.7 2-3.7 2-1.5 2-3.3 2-2.5 2-3.3 2-2.5 2-1.3 2-3.1 2-2.8 2-3.5 2-2.5 2-3.3 2-2.2 2-2.1 2-3.6 2-1.7 2-.8 2-2 2-1.3 2-1.3 2-1.4 2-1 2-2.3 2-2.6 2-2.1 2-2.6 2-2.8 2-2.1 2-1.4 2-2.1 2-1.2 2-.9 2-1.3 2-1.5 2-1 2-2.3 2-2 2-2.5 2-1.8 2-.3 2-.9 2-1.4 2-1.4 2-1.7 2-2.1 2-2.1 2-1.2 2-1.1 2-1 2-1.6 2-1 2-1.5 2-1.5 2-1.7 2-1.3 2-1 2-1.7 2-1.3 2-.7 2-.9 2-1.5 2-.7 2-1 2-.7 2-.8 2-.4 2-1.1 2-1.8 2-1.5 2-.9 2-.4 2-1.2 2-1.4 2-1.4 2-1.5 2-1.5 2-1.5 2-1.4 2-1.3 2-1.4 2-1.2 2-1.3 2-1.3 2-1.3 2-1.2 2-1.2 2-1.2 2-1.2 2-1.2 2-1.2 2-1.4 2-1.4 2-1.6 2-1.8 2-2 2-2.1 2-2.2 2-2.3 2-2.5 2-2.6 2-2.6 2-2.7 2-2.8 2-2.9 2-2.9 2-3 2-3.1 2-3.2 2-3.3 2-3.3 2-3.4 2-3.5 2-3.6 2-3.7 2-3.7 2-3.7 2-3.8 2-3.7 2-3.7 2-3.7 2-3.6 2-3.6 2-3.5 2-3.4 2-3.5 2-3.4 2-3.6 2-3.7 2-3.7 2-3.8 2-3.8 2-3.7"/>
<path d="M178 621.3l2-15.4 2-1.2 2-1.9 2-4.8 2-6.7 2-2.1 2-5.3 2-5.7 2-8.9 2-3.5 2-6.6 2-1.2 2-6.1 2-7.7 2-5.9 2-5.7 2-6 2-.7 2-3.5 2 0 2-1.2 2-4.2 2-6.9 2-3.3 2 1.7 2-8.5 2-1.7 2 0 2-3.2 2-4.3 2-5.6 2-5.2 2-5.1 2-3.9 2-3 2-8.5 2-1.7 2-5.2 2-.8 2-3.1 2-4.1 2-4.6 2-2 2-5.2 2 .2 2-1.6 2-2 2-2.6 2-3.7 2-4.5 2-4 2-2.9 2-1.1 2-3.6 2-4.3 2-2.2 2-.4 2-3.1 2-2.7 2-1.4 2-3.3 2-3.2 2-1.8 2-2.9 2-3.5 2-1.7 2-1.8 2-1.7 2-3.1 2-2.9 2-2.2 2-3.6 2-3 2-1.9 2-2.9 2-2.2 2-2.5 2-1.7 2-2.8 2-1.6 2-2.4 2-3.5 2-2.5 2-1.8 2-2.4 2-2.7 2-.5 2-.7 2-1.7 2-2.2 2-.7 2-2.5 2-.8 2-1.4 2-1.6 2-.8 2-1 2-2 2-1.7 2-1.4 2-1.8 2-.7 2-1.6 2-1.4 2-.5 2-1.1 2-1.1 2-1.5 2-1.5 2-2 2-2 2-.9 2-1.1 2-.6 2-1.1 2-1.1 2-.7 2-1.3 2-1.8 2-1.2 2-1.3 2-.7 2-1.6 2-1.4 2-1.3 2-.8 2-1.5 2-.7 2-.9 2-1.2 2-1 2-1.8 2-1 2-.9 2-1.4 2-1.2 2-1.1 2-1.2 2-1.3 2-1.3 2-1.2 2-1.3 2-1.4 2-1.3 2-1.5 2-1.5 2-1.7 2-1.7 2-1.9 2-2 2-2.2 2-2.2 2-2.3 2-2.4 2-2.3 2-2.4 2-2.4 2-2.4 2-2.4 2-2.3 2-2.4 2-2.4 2-2.4 2-2.4 2-2.6 2-2.7 2-2.8 2-2.9 2-3 2-3.3 2-3.3 2-3.4 2-3.5 2-3.5 2-3.6 2-3.6 2-3.6 2-3.6 2-3.5 2-3.4 2-3.4 2-3.5 2-3.4 2-3.6 2-3.7 2-3.7 2-3.8 2-3.8 2-3.7"/>
<path d="M178 638.1l2-3.6 2-4.5 2-10.7 2-.8 2-7 2-2.6 2-5.4 2-2.4 2-9.1 2-8.8 2-6.7 2-2.6 2-4.1 2-6.1 2-2.5 2-5.6 2-3.5 2-3.5 2-2.5 2 2.6 2-9 2 1.5 2-6.1 2-7.3 2 .4 2-7.6 2-5.1 2-1.7 2-2 2-6.8 2-7.7 2-4.5 2-3.1 2-3.7 2-4.6 2-9 2-4.7 2-2.1 2-3.2 2-2.9 2 .3 2-3.5 2-4.1 2-2.7 2-4.6 2-.5 2-4.4 2-5.7 2-2.5 2-3.1 2-.5 2-3.2 2-3.9 2-2.7 2-2.8 2-2.4 2-2.2 2-2.9 2-3.7 2-3.7 2-1.8 2-3.2 2-2.9 2-2.8 2-1.6 2-3 2-2.4 2-2.9 2-3.3 2-3.4 2-3.5 2-2.5 2-1.7 2-.9 2-2.1 2-1.2 2-2 2-1 2-3.4 2-2.8 2-1.7 2-2.8 2-2.9 2-1.9 2-3.3 2-1.7 2-1.2 2-.9 2-1.5 2-2.1 2-.7 2-2.1 2-2 2-2 2-3.1 2-1.1 2-1.4 2-1.5 2-.8 2-2 2-.8 2-1.4 2-2.2 2-1.6 2-2.1 2-1.6 2-1.5 2-1.9 2-1.8 2-2 2-1.3 2-1.2 2-1.6 2-.9 2-.9 2-1 2-1.4 2-1.2 2 0 2-1.3 2-1.3 2-1.5 2-1.3 2-1.2 2-1.7 2-.2 2-.9 2-1 2-1.5 2-.7 2-.8 2-1.4 2-1.3 2-1.2 2-1.3 2-1.3 2-1.1 2-1.5 2-1.4 2-1.5 2-1.3 2-1.4 2-1.3 2-1.4 2-1.4 2-1.4 2-1.5 2-1.7 2-1.7 2-1.9 2-2 2-2.1 2-2.3 2-2.4 2-2.5 2-2.6 2-2.5 2-2.6 2-2.7 2-2.6 2-2.6 2-2.6 2-2.7 2-2.8 2-2.8 2-2.9 2-3 2-3.2 2-3.2 2-3.4 2-3.6 2-3.6 2-3.6 2-3.7 2-3.8 2-3.7 2-3.6 2-3.7 2-3.5 2-3.5 2-3.4 2-3.5 2-3.4 2-3.6 2-3.7 2-3.7 2-3.8 2-3.8 2-3.7"/>
<path d="M178 632.7l2-11.2 2-3.2 2-9.3 2-8.3 2-4.2 2-2.7 2-3.2 2-3.3 2 1.7 2-13.8 2-1.9 2-8.7 2-8.8 2-4.4 2-3 2-4.6 2-7.9 2 .9 2-1.7 2-2.5 2-5.7 2-2.8 2-6.1 2-5 2-4.1 2-4.4 2-2.6 2-5.5 2 .2 2-5.4 2-3.1 2-6.1 2-3.2 2-4.5 2-4.7 2-4.6 2-3.4 2-2.9 2-1.9 2-5.5 2-1.7 2-4.8 2-3.2 2-3.3 2-1.7 2-3.8 2-1.8 2-3.4 2-2.8 2-3.9 2-2.2 2-3.3 2-2.3 2-5.4 2-3.9 2-3.3 2-2.3 2-3 2-1.1 2-.9 2-4.1 2-2 2-1.2 2-2.7 2-2 2-2.2 2-1.7 2-1.9 2-3 2-3.8 2-4.4 2-2.8 2-3.3 2-2.5 2-1.7 2-1.9 2-1.8 2-1.2 2-2.8 2-2 2-1.6 2-1.9 2-4 2-1.8 2-1.6 2-1.5 2-.6 2-2.5 2-1.5 2-1.3 2-2 2-1 2-1.8 2 .1 2-3.7 2-.8 2-1.1 2-2.2 2-1.4 2-1.5 2-1 2-1.6 2-1.8 2-2 2-2.4 2-1.4 2-1.5 2-1.5 2-1.1 2-1.3 2-2.2 2-.2 2-1.7 2-1.3 2-1 2-.8 2-.7 2-.8 2-.7 2-1.6 2-.5 2-1.7 2-1 2-.5 2-1.6 2-.8 2-1.3 2-.9 2-1 2-1.2 2-1.6 2-.8 2-1.5 2-1.1 2-1.2 2-1.3 2-1.3 2-1.3 2-1.2 2-1.1 2-1 2-1.1 2-1.1 2-1.1 2-1.1 2-1.3 2-1.3 2-1.6 2-1.7 2-1.8 2-2.1 2-2.2 2-2.4 2-2.4 2-2.6 2-2.5 2-2.6 2-2.6 2-2.5 2-2.6 2-2.5 2-2.5 2-2.6 2-2.6 2-2.6 2-2.8 2-3 2-3 2-3.2 2-3.4 2-3.5 2-3.6 2-3.6 2-3.7 2-3.7 2-3.8 2-3.6 2-3.6 2-3.6 2-3.5 2-3.4 2-3.5 2-3.4 2-3.6 2-3.7 2-3.7 2-3.8 2-3.8 2-3.7"/>
<path d="M178 610.1l2-19 2-3.3 2-7.2 2-5.7 2-4.9 2 .8 2-5.7 2-3.3 2-2.7 2-7.6 2-4.8 2-3.7 2-5.6 2-3.1 2-4 2-2 2-6.3 2-3.1 2-6.5 2-1.2 2-7.3 2-2.5 2-7.6 2-2.3 2-1.6 2-3.3 2-.4 2-3.8 2-3.5 2-8.5 2-2.7 2-6.1 2-3.3 2-3.1 2-2.4 2-4.6 2-2.3 2-3.7 2-5.6 2-2.9 2-4.5 2-3.4 2-3.5 2-2.8 2-2.7 2-3.9 2-2.1 2-3 2-2.2 2-2.9 2-3.4 2-1.3 2-2.3 2-4.2 2-2.1 2-1.9 2-2.1 2-2.8 2-1.3 2-2.7 2-2.3 2-2.8 2-2.4 2-1.4 2-2.3 2-1.3 2-2.2 2-1.1 2-3 2-2.3 2-3 2-2.1 2-2.8 2-1.7 2-2 2-1.4 2-1.7 2-1.6 2-1.1 2-2.7 2-1.6 2-2.9 2-2.4 2-1.3 2-2.3 2-1.5 2-1.2 2-.4 2-1.4 2-1.8 2-1.6 2-1.9 2-1.4 2-1.3 2-1.7 2-1.7 2-1 2-1.5 2-1.5 2-1.4 2-1.3 2-1.7 2-1.5 2-1.5 2-1.3 2-.4 2-.9 2-1 2-.9 2-2 2-1 2-1 2-1.2 2-1.6 2-.6 2-1.4 2-.7 2-1.6 2-1.1 2-2.1 2-.9 2-.8 2-1.2 2-1 2-1.4 2-1.3 2-1.2 2-.9 2-1.4 2-1.2 2-1.1 2-1.2 2-.9 2-1.1 2-1.4 2-1.1 2-1.1 2-1.2 2-1.3 2-1.3 2-1.3 2-1.4 2-1.5 2-1.5 2-1.6 2-1.7 2-1.8 2-1.9 2-2.1 2-2.1 2-2.1 2-2.3 2-2.3 2-2.3 2-2.3 2-2.3 2-2.3 2-2.4 2-2.3 2-2.3 2-2.3 2-2.4 2-2.4 2-2.6 2-2.6 2-2.8 2-3 2-3 2-3.2 2-3.2 2-3.3 2-3.3 2-3.3 2-3.4 2-3.3 2-3.2 2-3.3 2-3.2 2-3.2 2-3.1 2-3.2 2-3.2 2-3.3 2-3.4 2-3.6 2-3.7 2-3.7 2-3.8 2-3.7"/>
<path d="M178 615.7l2-10.2 2-2.5 2-1.9 2-7.7 2-2.9 2-1.1 2-2.2 2-6.2 2-1 2-7.3 2-4.3 2-7 2-6.5 2-6 2-4.2 2-4 2-3.5 2-1.9 2-8.6 2 .7 2-7.2 2-3.2 2-6.3 2-7.9 2 3.6 2-4 2-2.9 2-3.7 2-3.4 2-9.2 2-3.7 2-6.3 2-2.6 2-4.9 2-3 2-4.2 2-3.4 2-.3 2-3.2 2-2.8 2-1.2 2-4.1 2-2.4 2-1.9 2-3.2 2-3.9 2-1.8 2-2.1 2-4.3 2-3.1 2-3.6 2-1.6 2-2.8 2-3.9 2-2.6 2-3 2-2.8 2-3 2-2.7 2-1.9 2-2.6 2-4.4 2-2.8 2-3.8 2-1.3 2-1.4 2-2.9 2-1.7 2-3.4 2-1.4 2-2.8 2-2.5 2-1 2-1.8 2-.6 2-1.9 2-2.1 2-2.1 2-1.8 2-3.7 2-2.1 2-1.8 2-2.2 2-2.6 2-2.6 2-2.1 2-1.6 2-2 2-1.3 2-.7 2-1.9 2-1.5 2-1.8 2-1.4 2-1.2 2-1.1 2-.9 2-2.1 2-2.1 2-2.4 2-2.2 2-1.6 2-2.1 2-.4 2-1.4 2-1.2 2-1.1 2-2.1 2-1.2 2-.9 2-1.3 2-1.3 2-1 2-1.9 2-1.4 2-1.6 2-1.3 2-.5 2-1.3 2-1.5 2-1.7 2-1 2-1.1 2-1.1 2-1.4 2-1.1 2-1.6 2-.8 2-1.2 2-1.6 2-.9 2-1.1 2-1.3 2-1.5 2-1.1 2-1.3 2-1.6 2-1.4 2-1.4 2-1.5 2-1.3 2-1.3 2-1.3 2-1.3 2-1.4 2-1.3 2-1.4 2-1.5 2-1.6 2-1.7 2-1.9 2-2.1 2-2.2 2-2.3 2-2.4 2-2.4 2-2.5 2-2.5 2-2.5 2-2.5 2-2.5 2-2.6 2-2.6 2-2.6 2-2.8 2-2.9 2-3 2-3.1 2-3.1 2-3.3 2-3.4 2-3.4 2-3.4 2-3.5 2-3.4 2-3.5 2-3.4 2-3.4 2-3.4 2-3.3 2-3.3 2-3.3 2-3.4 2-3.5 2-3.6 2-3.8 2-3.8 2-3.7 2-3.7"/>
<path d="M178 610.4l2-18.2 2-6.4 2-2.5 2 .6 2-3.1 2-6.8 2-8.4 2-5.3 2-5.2 2-6.8 2-1.4 2 1.7 2-5.1 2-3.5 2-7.8 2-4.6 2-6.2 2-3.4 2-1.3 2-5.7 2-6.8 2 .9 2-2.5 2-4 2-2.4 2-5.8 2-2.4 2-4.7 2-4.2 2-5 2-.8 2-6.1 2-6.5 2 0 2-4.6 2-3.4 2-3.6 2-3.4 2-3.9 2-2.9 2-3.5 2-4.2 2-5 2-2.3 2-2.7 2-1.9 2-2.2 2-3 2-1.4 2-2.8 2-1.5 2-2.7 2-1.6 2-3.5 2-2.4 2-4.6 2-1.8 2-2.5 2-3.2 2-3.3 2-3 2-3.5 2-1 2-2 2-.9 2-2 2-2.5 2-1.1 2-3.8 2-1.9 2-2.3 2-2.2 2-2.1 2-.9 2-2 2-1.4 2-2.1 2-1.6 2-1.3 2-2.7 2-1.7 2-3.1 2-2.9 2-1.2 2-1.9 2-.9 2-1.1 2-1.7 2-.5 2-1.7 2-1.3 2-1.5 2-1.4 2-1.9 2-1.5 2-1.2 2-2 2-1.3 2-1.2 2-1.2 2-1.7 2-1.6 2-1.7 2-.8 2-1.2 2-1.7 2-1.4 2-1.6 2-1 2-2.1 2-1.5 2-1.1 2-1.2 2-1.9 2-2 2-.4 2-.8 2-.5 2-.6 2-1.1 2-1.1 2-1.5 2-1.3 2-2 2-1.4 2-.2 2-1.6 2-.5 2-1.7 2-1.4 2-1.2 2-1.4 2-1.2 2-1.2 2-1.6 2-1.4 2-1.2 2-1.4 2-1.4 2-1.2 2-1.2 2-1.2 2-1.3 2-1.3 2-1.4 2-1.5 2-1.7 2-1.8 2-2 2-2.1 2-2.3 2-2.3 2-2.4 2-2.4 2-2.4 2-2.5 2-2.4 2-2.5 2-2.5 2-2.5 2-2.5 2-2.5 2-2.6 2-2.7 2-2.7 2-2.9 2-2.9 2-3 2-3.1 2-3.2 2-3.3 2-3.2 2-3.3 2-3.4 2-3.3 2-3.3 2-3.4 2-3.3 2-3.4 2-3.2 2-3.3 2-3.4 2-3.4 2-3.5 2-3.6 2-3.8 2-3.8 2-3.7 2-3.7"/>
<path d="M178 647.6l2 5.4 2 .2 2-8.7 2 .5 2-6.5 2-9.9 2-1.5 2-7.8 2-7.5 2-12.6 2-2.9 2-5.6 2-6.5 2-7.4 2-5.3 2-5.4 2-1.2 2-8.7 2-2.1 2-4 2-3.6 2-1.8 2-4 2-5.8 2-1.7 2-7.2 2-2.7 2-2.5 2-2.4 2-8.2 2-5.9 2-5 2-5.3 2-2.8 2-5.7 2-8.7 2-3.3 2-2.4 2-4.8 2-.2 2-6.2 2-5.7 2-2.8 2-2.3 2-.8 2-2.4 2-5.8 2-3.4 2-3.3 2-4.8 2-3.8 2-3.3 2-3.8 2-3.5 2-1.2 2-4.2 2-2.3 2-2.5 2-4.4 2-2.5 2-2.5 2-3 2-3 2-2.1 2-2.5 2-1.1 2-3.6 2-2.3 2-3 2-3.6 2-3.2 2-2.9 2-1.8 2-1.4 2-2.5 2-2.5 2-.8 2-2.3 2-1.8 2-2.9 2-1.9 2-1.1 2-2.9 2-2.4 2-1.4 2-.8 2-2.1 2-.8 2-2.5 2-1.5 2-1.1 2-1.4 2-2 2-2.2 2-2 2-1.8 2-.6 2-.4 2-1.7 2-1.7 2-1.6 2-1.1 2-1.4 2-2.2 2-2 2-1.1 2-1.6 2-1.2 2-.4 2-1.4 2-1 2-1.9 2-.7 2-1.4 2-1.8 2-1.3 2-1.2 2-.8 2-.7 2-1.6 2-.9 2-.6 2-1.5 2-1.4 2-1 2-1.6 2-1.1 2-1.2 2-1.4 2-1.1 2-1.4 2-1.5 2-1.3 2-1.2 2-1.2 2-1.2 2-1.4 2-1.3 2-1.2 2-1.3 2-1.2 2-1.3 2-1.2 2-1.2 2-1.3 2-1.3 2-1.4 2-1.5 2-1.7 2-1.8 2-2 2-2.2 2-2.2 2-2.4 2-2.4 2-2.5 2-2.5 2-2.6 2-2.7 2-2.7 2-2.7 2-2.8 2-2.8 2-3 2-3 2-3.2 2-3.2 2-3.3 2-3.5 2-3.5 2-3.7 2-3.7 2-3.7 2-3.8 2-3.7 2-3.7 2-3.7 2-3.6 2-3.6 2-3.5 2-3.4 2-3.5 2-3.4 2-3.6 2-3.7 2-3.7 2-3.8 2-3.8 2-3.7"/>
<path d="M178 642l2-3.2 2-2.7 2-3.7 2-3.4 2-12.3 2-4.3 2-9.8 2-1.1 2-7.6 2-3.8 2-2.6 2-3 2-.8 2-10.6 2-8 2-4.5 2-3.7 2-.7 2-6.1 2-6.7 2-5.6 2-1.2 2-4.6 2-4.2 2 2.5 2-5.4 2-4.9 2-4.2 2-2.6 2-7.9 2-2.7 2-3.1 2-4.3 2-4.8 2-4.3 2-8.1 2-3.4 2-5.4 2-1.8 2-2.2 2-3.8 2-3.9 2-3.8 2-1.3 2-3.9 2-2.8 2-3.5 2-2.2 2-4.6 2-4.4 2-3.4 2-2.9 2-1.1 2-2.8 2-1 2-3.7 2-3.7 2-3.6 2-2.8 2-2.9 2-2.9 2-3 2-3 2-2.8 2-2.7 2-1.7 2-1.8 2-2.8 2-2.5 2-2.8 2-3.4 2-3.1 2-2.2 2-2 2-2 2-2 2-1.3 2-2.6 2-1.5 2-2.7 2-1.6 2-2.8 2-2.6 2-2.3 2-2.3 2-1.7 2-1.6 2-.9 2-1.7 2-1.7 2-1.7 2-1.3 2-1.3 2-2.1 2-2.5 2-1.2 2-1.7 2-.9 2-1.8 2-2 2-2.3 2-1.7 2-2.1 2-1 2-1.5 2-1.8 2-1.2 2-1.5 2-1.4 2-1.2 2-1.2 2-1.2 2-1.6 2-1.8 2-1.1 2-.9 2-1.4 2-1 2-.9 2-1.6 2-1.3 2-.2 2-1.1 2-1.4 2-1.8 2-1 2-1.3 2-.5 2-1.3 2-1.3 2-1.4 2-1.1 2-1.3 2-1.5 2-1.3 2-1.3 2-1.2 2-1.2 2-1.4 2-1.2 2-1.2 2-1.3 2-1.3 2-1.2 2-1.3 2-1.4 2-1.5 2-1.5 2-1.6 2-1.8 2-2 2-2 2-2.2 2-2.3 2-2.4 2-2.5 2-2.5 2-2.7 2-2.7 2-2.8 2-2.9 2-2.9 2-3 2-3.1 2-3.2 2-3.3 2-3.3 2-3.4 2-3.5 2-3.6 2-3.7 2-3.7 2-3.7 2-3.8 2-3.7 2-3.7 2-3.7 2-3.6 2-3.6 2-3.5 2-3.4 2-3.5 2-3.4 2-3.6 2-3.7 2-3.7 2-3.8 2-3.8 2-3.7"/>
<path d="M178 623.7l2-8.5 2-4 2-9.4 2-5.2 2-1.6 2-1.6 2-7.7 2-7.1 2-7.8 2-3.9 2 .4 2-5.3 2-5.4 2-6.2 2-4.5 2-5.6 2-.6 2-2.8 2-7 2-.5 2-5 2-2 2-6.9 2-2.3 2-1.4 2-7.1 2-2.1 2-3.2 2-2.1 2-6.3 2-5.5 2-7 2-4.5 2-2.5 2-4.5 2-3.7 2-3.7 2-2.8 2-4.7 2-1.2 2-4.9 2-.4 2-4.7 2-1.5 2-4.6 2-4.3 2-1.1 2-2.7 2-4 2-2.9 2-2.2 2-.3 2-2 2-5.8 2-1.8 2-2.3 2-3.5 2-3.5 2-2.9 2-2.8 2-3.6 2-3.6 2-1.8 2-1.1 2-2.6 2-2.7 2-1.6 2-2.1 2-2.6 2-2 2-3.5 2-3.8 2-1.5 2-1.4 2-1.3 2-1.6 2-1.3 2-1.7 2-2.6 2-2.2 2-1 2-2 2-2.4 2-2.1 2-2.9 2-1.8 2-1.4 2-1.7 2-1.7 2-1.7 2-1 2-1.4 2-1.6 2-2.5 2-2.2 2-.4 2-1.5 2-1.6 2-1.2 2-2.7 2-1.7 2-1.5 2-2 2-1.5 2-1.8 2-1.5 2-1.4 2-.9 2-1.5 2-1.4 2-1.5 2-1.1 2-.8 2-1.1 2-1.1 2-.9 2-.5 2-1.2 2-1.3 2-1.4 2-.7 2-.9 2-.8 2-1.1 2-1.7 2-1.2 2-.9 2-.9 2-1.1 2-1 2-.8 2-1.4 2-1.3 2-1.1 2-1.7 2-1.2 2-1.5 2-1.4 2-1.4 2-1.3 2-1.3 2-1.2 2-1.3 2-1.3 2-1.4 2-1.4 2-1.5 2-1.6 2-1.8 2-1.9 2-2 2-2.2 2-2.3 2-2.3 2-2.5 2-2.4 2-2.5 2-2.5 2-2.5 2-2.5 2-2.6 2-2.6 2-2.7 2-2.8 2-2.9 2-3 2-3.1 2-3.3 2-3.4 2-3.5 2-3.6 2-3.6 2-3.7 2-3.8 2-3.7 2-3.7 2-3.7 2-3.6 2-3.6 2-3.5 2-3.4 2-3.5 2-3.4 2-3.6 2-3.7 2-3.7 2-3.8 2-3.8 2-3.7"/>
<path d="M178 622.1l2-9.4 2-4 2 3.8 2-5.9 2-8.2 2-1.4 2-.4 2-9.5 2-4.8 2-10.4 2-7.1 2-2.9 2-9.5 2-1 2-6.6 2-5.9 2-3.9 2-7.3 2-4.8 2-5.9 2 2.3 2 2 2-3.7 2-4.4 2-2.8 2-2.7 2-3.7 2-3.7 2 1.1 2-8.7 2-2.5 2-5.8 2-2.8 2-3.7 2-3.6 2-6.6 2-1.8 2-1.9 2-1.1 2-1.4 2-5.7 2-5.4 2-2.1 2-2.6 2-3.8 2-4.7 2-3.8 2-2 2-4.1 2-4.2 2-1.7 2-2.2 2-1.7 2-.7 2-2.9 2-3.3 2-.9 2-3 2-3.1 2-3.8 2-2.7 2-4 2-3 2-2.5 2-2.7 2-2.8 2-1.8 2-2.5 2-1.8 2-3.5 2-2.9 2-3.2 2-2.7 2-1.3 2-.7 2-1.9 2-1.6 2-2 2-2.8 2-2 2-2.3 2-2.3 2-3 2-2.3 2-3 2-3.1 2-1.2 2-1.1 2-1.2 2-1 2-1.6 2-1.5 2-2.1 2-.6 2-1.9 2-.8 2-1.5 2-1.3 2-1.7 2-1.8 2-1.8 2-2.3 2-2.2 2-1.6 2-2.3 2-1.1 2-1 2-.4 2-2.2 2-.9 2-1.8 2-1.2 2-1.1 2-1.6 2-1.4 2-.6 2-.5 2-.8 2-.8 2-1.5 2-.4 2-.9 2-1.1 2-2.1 2-1.2 2-1.1 2-1 2-1 2-1.3 2-1 2-1.4 2-1.1 2-1.1 2-1.2 2-1.5 2-1.4 2-1.3 2-1.5 2-1.5 2-1.2 2-1.1 2-1.2 2-1.2 2-1.1 2-1.1 2-1.2 2-1.3 2-1.4 2-1.5 2-1.7 2-1.9 2-2 2-2.2 2-2.3 2-2.4 2-2.5 2-2.5 2-2.7 2-2.7 2-2.8 2-2.9 2-2.9 2-3 2-3.1 2-3.2 2-3.3 2-3.3 2-3.4 2-3.5 2-3.6 2-3.7 2-3.7 2-3.7 2-3.8 2-3.7 2-3.7 2-3.7 2-3.6 2-3.6 2-3.5 2-3.4 2-3.5 2-3.4 2-3.6 2-3.7 2-3.7 2-3.8 2-3.8 2-3.7"/>
<path d="M178 611.4l2-17.2 2-6.3 2-5.6 2-3 2 4.3 2-6.7 2-8.9 2-2.2 2-6.3 2-10.1 2-2.2 2-2.4 2-7.7 2-6.6 2-4.6 2-2.6 2-2.3 2-4.3 2-4.8 2-1.6 2-6.3 2 1.1 2-.6 2-1.1 2-3.1 2-7.1 2-2.6 2-4.7 2-3.4 2-6 2-2 2-5.1 2-6.6 2-2.5 2-7.3 2-4.6 2-3.4 2-3.5 2-2.8 2-1.7 2-4.1 2-4.2 2-3.4 2-3.3 2-1 2-2.5 2-2.9 2-4.1 2-3.4 2-1.3 2-2.9 2-4.2 2-2.4 2-3.3 2-1.7 2-2.6 2-3.5 2-1.8 2-2.1 2-2.8 2-2.9 2-2.4 2-1.7 2-1.7 2-2.6 2-.6 2-2.4 2-1.3 2-2.3 2-2.8 2-2 2-3.1 2-2.1 2-1.5 2-1.5 2-2 2-1.6 2-2.2 2-1.8 2-1.9 2-1.7 2-2.5 2-1.3 2-3 2-2.9 2-1.4 2-1.8 2-.4 2-1.4 2-.9 2-.9 2-1.4 2-2 2-2.1 2-1.7 2-1.5 2-2.1 2-1.5 2-1.1 2-1.9 2-2.2 2-1.1 2-2 2-1.6 2-1.7 2-1.3 2-1.2 2-1.2 2-1.4 2-.8 2-1.3 2-2.1 2-.1 2-.8 2-2 2-1 2-.9 2-.6 2-.8 2-1.6 2-.8 2-1.3 2-1.2 2-1.7 2-1.1 2-1 2-.3 2-.9 2-1 2-1.4 2-1.2 2-1 2-1.1 2-1.3 2-1.2 2-1.4 2-1.2 2-1.3 2-1.4 2-1.4 2-1.4 2-1.5 2-1.4 2-1.5 2-1.6 2-1.6 2-1.7 2-1.8 2-1.9 2-2 2-2.1 2-2.2 2-2.2 2-2.3 2-2.3 2-2.4 2-2.3 2-2.3 2-2.4 2-2.3 2-2.4 2-2.4 2-2.4 2-2.5 2-2.6 2-2.8 2-2.8 2-3 2-3 2-3.2 2-3.2 2-3.3 2-3.3 2-3.4 2-3.3 2-3.3 2-3.3 2-3.2 2-3.2 2-3.2 2-3.2 2-3.2 2-3.2 2-3.4 2-3.6 2-3.7 2-3.7 2-3.7 2-3.7"/>
<path d="M178 637.1l2-3.9 2-7.6 2-4.9 2-.4 2-10.3 2-2.1 2-7.9 2-7 2-7.2 2-5.7 2-6.6 2 .2 2-6.9 2-5 2-2.5 2-7 2-2.8 2-9.7 2-4.4 2 .1 2-4.2 2 2.2 2-8.5 2-1.9 2 2 2-6 2-6.3 2-4.2 2-5.8 2-6.3 2-4 2-6.1 2-4.3 2-3.8 2-4.1 2-3.8 2-.7 2-5.1 2-3.6 2-2.4 2-5.3 2-3.5 2-5.1 2-2.5 2-2.1 2-3.8 2-2.4 2-3.9 2-3.3 2-3.8 2-2.5 2-2 2-.9 2-2.3 2-3.5 2-4.8 2-2.4 2-2.7 2-2.2 2-2.3 2-4.1 2-3.8 2-2.3 2-2.1 2-.9 2-1.3 2-3 2-1.4 2-3.5 2-2.5 2-3.1 2-2.2 2-3.2 2-1.2 2-2.1 2-.7 2-1.3 2-2.6 2-1.5 2-1.6 2-3.1 2-2.4 2-3.1 2-1.8 2-2.3 2-1.1 2-1.3 2-1.5 2-1.8 2-2.7 2-1.4 2-2 2-.2 2-2.8 2-2.6 2-1.2 2-1.7 2-1.2 2-2.1 2-2.1 2-2.1 2-1.5 2-2.4 2-1.6 2-2.1 2-2.2 2-.8 2-1.1 2-1.2 2-.9 2-1.1 2-.9 2-1.1 2-1.3 2-1.4 2-.6 2-1.8 2-1.2 2-1.1 2-1.2 2-.8 2-1.3 2-1.2 2-1.1 2-2.4 2-1 2-1 2-1 2-1.1 2-.9 2-1.1 2-1.3 2-1.1 2-1.2 2-1.4 2-1.1 2-1.2 2-1.3 2-1.2 2-1.3 2-1.3 2-1.3 2-1.3 2-1.4 2-1.4 2-1.4 2-1.6 2-1.7 2-1.8 2-1.9 2-2 2-2.2 2-2.2 2-2.3 2-2.4 2-2.4 2-2.5 2-2.5 2-2.6 2-2.5 2-2.6 2-2.6 2-2.7 2-2.7 2-2.8 2-2.9 2-3 2-3.1 2-3.2 2-3.4 2-3.5 2-3.6 2-3.6 2-3.7 2-3.8 2-3.7 2-3.6 2-3.6 2-3.6 2-3.5 2-3.4 2-3.5 2-3.4 2-3.6 2-3.7 2-3.7 2-3.8 2-3.8 2-3.7"/>
<path d="M178 642.7l2-7.3 2 .1 2-4.6 2 .9 2-8.9 2-2.6 2 .5 2-9.4 2-6.3 2-8.8 2-6 2-4.7 2-7.2 2-6 2-3.4 2-8 2-1.4 2-8.5 2-4.6 2-4.5 2-6.2 2 .3 2-6.3 2-2.1 2 2.2 2-5.1 2-5.8 2-6.1 2-.9 2-3.3 2-3.9 2-9.8 2-1.9 2-4.6 2-6.4 2-9.1 2-4.4 2-5 2-1.7 2-2.9 2-5.1 2-3.3 2-6.9 2-1.9 2-3.3 2-3.6 2-3.4 2-3.2 2-4.7 2-4.7 2-2.9 2-1.4 2-1.8 2-4 2-2.6 2-1.8 2-2.6 2-3.1 2-.3 2-3.8 2-2.7 2-3 2-2.6 2-.8 2-1.4 2-1.9 2-4.2 2-.7 2-2.7 2-1.4 2-3.9 2-2.6 2-2.4 2-2 2-2.1 2-2.5 2-2.3 2-1.1 2-2 2-1.7 2-1.4 2-3 2-3.9 2-1.3 2-2 2-1.2 2-.7 2-1.1 2-2 2-1.8 2-1.4 2-2.3 2-1.8 2-2.3 2-2.7 2-.5 2-1.3 2-1.8 2-1.5 2-1.1 2-2.6 2-1.6 2-2.3 2-1.1 2-1.6 2-1.2 2-1.6 2-1.1 2-1.1 2-1.1 2-1.2 2-1.4 2-1.3 2-1.5 2-1.1 2-.5 2-1.1 2-.7 2-1.3 2-.9 2-1.5 2-.7 2-1.5 2-.7 2-1.3 2-1.2 2-.7 2-1 2-1.8 2-.8 2-1.2 2-1.4 2-1.5 2-1.6 2-1.5 2-1.4 2-1.2 2-1.2 2-1.3 2-1.2 2-1.2 2-1.2 2-1.2 2-1.2 2-1.3 2-1.3 2-1.3 2-1.6 2-1.6 2-1.8 2-2 2-2.1 2-2.3 2-2.3 2-2.5 2-2.5 2-2.5 2-2.6 2-2.6 2-2.7 2-2.6 2-2.8 2-2.8 2-3 2-3 2-3.2 2-3.2 2-3.4 2-3.5 2-3.5 2-3.7 2-3.7 2-3.7 2-3.8 2-3.7 2-3.7 2-3.7 2-3.6 2-3.6 2-3.5 2-3.4 2-3.5 2-3.4 2-3.6 2-3.7 2-3.7 2-3.8 2-3.8 2-3.7"/>
<path d="M178 647.6l2-8.1 2-4.4 2 1 2-8.5 2-2.1 2-1.8 2-2.7 2-2.4 2-8.3 2-12.5 2-3.6 2-4.2 2-7.1 2-5 2-8.5 2-2.9 2 .3 2-2.5 2-2.4 2-6.5 2-7.9 2 1.2 2-7.5 2-5.6 2-.8 2-6.4 2-4.5 2-4.2 2-6 2-4.9 2-3.4 2-8.2 2-4.9 2-5.1 2-6 2-5.6 2-4 2-4.1 2-2.4 2-5.7 2-4.2 2-4.5 2-4.4 2-4.4 2-2.4 2-3.8 2-3.3 2-3.5 2-1.8 2-3.2 2-1.9 2-2 2-1.8 2-3.2 2-3.8 2-4 2-2.7 2-2.6 2-3.3 2-1.4 2-3.8 2-3.9 2-3.2 2-1.9 2-2.9 2-1.1 2-3 2-1.9 2-3.9 2-2.5 2-3 2-3.1 2-1.8 2-1.6 2-1.8 2-1.5 2-1.3 2-2.6 2-2.1 2-1.9 2-1.6 2-2.4 2-2.4 2-2.7 2-1.4 2-1.6 2-2.3 2-1.6 2-2.6 2-1.6 2-1.5 2-.9 2-2 2-2.3 2-1.7 2 .4 2-1.4 2-1.7 2-1.2 2-1.9 2-1.7 2-1.6 2-2.9 2-2 2-1.1 2-1.2 2-.9 2-1.5 2-1 2-1.7 2-1.4 2-1.1 2-1.5 2-1.1 2-.7 2-1.7 2-1.2 2-.9 2-1.5 2-.8 2-.7 2-.9 2-.6 2-1.9 2-2.1 2-1.3 2-1.2 2-.3 2-.8 2-.7 2-1.3 2-1.5 2-.7 2-1.3 2-1.2 2-1.3 2-1.4 2-1.1 2-1.1 2-1.1 2-1.1 2-1.2 2-1.2 2-1.2 2-1.3 2-1.4 2-1.6 2-1.6 2-1.9 2-2 2-2.1 2-2.3 2-2.4 2-2.5 2-2.5 2-2.6 2-2.7 2-2.6 2-2.7 2-2.6 2-2.7 2-2.8 2-2.7 2-2.8 2-2.9 2-3 2-3 2-3.2 2-3.2 2-3.4 2-3.5 2-3.5 2-3.6 2-3.6 2-3.7 2-3.6 2-3.7 2-3.6 2-3.5 2-3.5 2-3.4 2-3.5 2-3.4 2-3.6 2-3.7 2-3.7 2-3.8 2-3.8 2-3.7"/>
<path d="M178 605.7l2-21.3 2-3.1 2-2.6 2-6.8 2-1 2-1.4 2-6.2 2-5.2 2-2.4 2-9 2-3 2-7.2 2-6.3 2-2.1 2-3 2-7.3 2-2.8 2-1.6 2 1 2-3.3 2-4.8 2-2.6 2-4.7 2-3.2 2-5.4 2-2.4 2-1.6 2-5.6 2-1.2 2-5.2 2-4.6 2-3.5 2-2.9 2-3.3 2-3.8 2-5.9 2-.3 2-3.7 2-4.1 2-3.2 2-5.1 2-1.7 2-3.7 2-2.3 2-2.2 2-3.6 2-.2 2-4 2-2.4 2-4.3 2-2.1 2-1.9 2-2 2-2 2-2.5 2-2.7 2-2 2-1.7 2-4.4 2-2.6 2-3.7 2-.3 2-3.5 2-.5 2-2.7 2-1.4 2-.9 2-3.3 2-1.5 2-1.5 2-3.8 2-3.1 2-2 2-1.1 2-2.1 2-2.4 2-.9 2-1.5 2-1.7 2-1.2 2-3 2-3.6 2-3.2 2-.7 2-3.3 2-1 2-1.8 2-.8 2-1.2 2-1.4 2-1.4 2-2.9 2-.8 2-1.6 2-2.1 2 .4 2-2.2 2-1.8 2-2 2-1.8 2-1.3 2-.9 2-2.1 2-.9 2-1.8 2-1.2 2-1.4 2-1.8 2-2 2-1.3 2-1.4 2-1.5 2-.6 2-1.3 2-1.4 2-1.7 2 .2 2-1.2 2-.5 2-1.7 2-1.4 2-1.6 2-1.3 2-.5 2-1.9 2-.7 2-.8 2-.6 2-1.5 2-.7 2-.8 2-1.7 2-1.4 2-1.1 2-1.4 2-1.3 2-1.6 2-1.2 2-1.4 2-1.4 2-1.5 2-1.6 2-1.5 2-1.7 2-1.6 2-1.7 2-1.8 2-1.7 2-1.8 2-1.8 2-1.9 2-1.9 2-2 2-2.1 2-2.2 2-2.3 2-2.3 2-2.4 2-2.5 2-2.5 2-2.6 2-2.7 2-2.8 2-2.8 2-2.9 2-3.1 2-3.1 2-3.2 2-3.2 2-3.3 2-3.4 2-3.4 2-3.4 2-3.4 2-3.4 2-3.3 2-3.3 2-3.4 2-3.2 2-3.2 2-3.3 2-3.3 2-3.3 2-3.5 2-3.7 2-3.7 2-3.8 2-3.7 2-3.7"/>
<path d="M178 636.2l2-1.6 2-4 2-8.8 2 1.2 2-5.6 2-4.2 2-3.8 2-6.1 2-9 2 0 2-7.9 2-3.4 2-9 2-7.6 2-4.9 2-4.1 2-2.3 2-5.2 2-7.4 2-2.5 2-5.8 2 .3 2-7.7 2-2.7 2-.9 2-6.5 2-1.8 2-2.9 2-4.7 2-6.9 2-4.7 2-6 2-2.2 2-5.6 2-4.3 2-4.5 2-3.4 2-2.8 2-5.6 2-4.9 2-5.9 2-5.2 2-2.9 2-1 2-3.3 2-3.8 2-1.9 2-3.9 2-4.9 2-3 2-2.1 2-1.3 2-2.9 2-3.8 2-3 2-2.7 2-2.5 2-2.2 2-1.1 2-3.5 2-2.1 2-1.9 2-2.5 2-2.6 2-2.5 2-2 2-2.5 2-3 2-1.8 2-2.2 2-3.7 2-2.8 2-2.2 2-1.9 2-1.1 2-2 2-1.2 2-3 2-2.9 2-2 2-2.3 2-3.1 2-2.1 2-1.1 2-2.9 2-.8 2-1.8 2-1.3 2-.2 2-1.7 2-1 2-1.2 2-1.9 2-1.6 2-2.2 2-2.8 2-.8 2-1.2 2-1.5 2-1.4 2-1.5 2-2.5 2-1.7 2-2.1 2-1.4 2-1.8 2-1.3 2-.2 2-1.9 2-2.1 2-1.6 2-.7 2-.4 2-1.5 2-1.4 2-1.1 2-1 2-1.7 2-.6 2-1.4 2-1.6 2-.8 2-.4 2-1.4 2-1.4 2-.9 2-1.2 2-1.2 2-1.4 2-1.2 2-1.2 2-1.7 2-1.1 2-1.5 2-1.3 2-1.2 2-1.4 2-1.3 2-1.3 2-1.1 2-1.2 2-1.2 2-1.1 2-1.2 2-1.2 2-1.3 2-1.3 2-1.6 2-1.7 2-1.8 2-2 2-2.1 2-2.1 2-2.3 2-2.3 2-2.4 2-2.4 2-2.5 2-2.6 2-2.6 2-2.7 2-2.8 2-2.9 2-3.1 2-3.1 2-3.2 2-3.3 2-3.4 2-3.5 2-3.6 2-3.7 2-3.7 2-3.7 2-3.8 2-3.7 2-3.7 2-3.7 2-3.6 2-3.6 2-3.5 2-3.4 2-3.5 2-3.4 2-3.6 2-3.7 2-3.7 2-3.8 2-3.8 2-3.7"/>
<path d="M178 613.5l2-21.1 2-2.4 2 0 2 .7 2-5.8 2-6.2 2-3.3 2-5.1 2-8 2-6.5 2-6.7 2-5.7 2-6.8 2-6.9 2-1 2-1 2-3.8 2-6.9 2-3.4 2-2.1 2-2.1 2-2.8 2-4.5 2-1.7 2-1.4 2-6.1 2-1.6 2-.9 2-5.1 2-3.9 2-4 2-7.1 2-3.4 2-3.9 2-2.8 2-7.4 2-3.8 2-4.4 2-2.8 2-1.4 2-2 2-2.8 2-1.9 2-4.1 2-1.7 2-1.5 2-2.4 2-2 2-3.8 2-5 2-2.2 2-3.3 2-3 2-2 2-2.6 2-1.3 2-5.3 2-2.3 2-.6 2-2.3 2-1 2-4 2-2.7 2-1.9 2-2 2-3.4 2-1.7 2-.9 2-2.9 2-2.7 2-3.6 2-3.5 2-.2 2-2.2 2-1 2-1.3 2-1 2-2.2 2-2.6 2-3.9 2-2 2-2.4 2-2.9 2-1.7 2-2.3 2-2.2 2-3 2-.3 2-1.3 2-1.5 2-1.2 2-3 2-.4 2-1.4 2-1.9 2-.7 2-1.2 2-1.8 2-1.3 2-2.3 2-1.5 2-1.1 2-1.8 2-1.4 2-1.8 2-.6 2-1.8 2-1.2 2-1.5 2-.7 2-2 2-1 2-.3 2-.9 2-1.1 2-1 2-.1 2-.7 2-1 2-.9 2-1.5 2-.4 2-1.4 2-1.9 2-1.6 2-.4 2-.7 2-1 2-.6 2-1.5 2-1.1 2-.9 2-1.1 2-1.4 2-1.4 2-1.4 2-1.1 2-1.5 2-1.3 2-1.3 2-1.3 2-1.3 2-1.3 2-1.3 2-1.4 2-1.5 2-1.6 2-1.7 2-1.8 2-2.1 2-2.2 2-2.3 2-2.4 2-2.5 2-2.5 2-2.6 2-2.5 2-2.5 2-2.5 2-2.5 2-2.4 2-2.5 2-2.6 2-2.7 2-2.7 2-2.9 2-3 2-3.1 2-3.3 2-3.4 2-3.5 2-3.5 2-3.6 2-3.7 2-3.6 2-3.6 2-3.6 2-3.5 2-3.5 2-3.5 2-3.4 2-3.4 2-3.5 2-3.5 2-3.7 2-3.7 2-3.8 2-3.8 2-3.7"/>
<path d="M178 628.9l2-11.2 2-4.7 2-2.5 2-5.1 2-3.5 2-4.7 2-7.4 2-5.4 2-4.6 2-7 2-5.1 2-5.9 2-1.6 2-2.8 2-10 2-1.5 2-2.1 2-5.5 2-3.4 2-4.3 2-5.4 2-.6 2-7.2 2-7.5 2-.2 2-7.4 2-2.4 2-4.8 2-.1 2-5 2-4.9 2-5.8 2-2.1 2-5.2 2-2.4 2-5.2 2-4 2-5.3 2-3.3 2-3.7 2-1.3 2-3.5 2-3.4 2-3.2 2-2.1 2-1.3 2-3.3 2-4 2-3.5 2-2.4 2-2.5 2-1.4 2-2.8 2-2.2 2-3.8 2-3.5 2-4.1 2-1.4 2-3 2-2.3 2-2 2-3.1 2-3.7 2-1.9 2-2.6 2-3 2-3 2-3.4 2-1.1 2-1.1 2-2.4 2-3.2 2-1.8 2-1.7 2-1.8 2-.5 2-2.4 2-2.1 2-2.2 2-1.9 2-2.1 2-2.4 2-2.5 2-1.5 2-3.6 2-.6 2-1.5 2-1.2 2-1.8 2-1.4 2-2.1 2-2.3 2-1.9 2-2.2 2-1.4 2-1.5 2-2.3 2-.6 2-1.6 2-1.5 2-1.1 2-1.2 2-2.7 2-2.4 2-1.6 2-.7 2-1.4 2-1.3 2-1.3 2-1.4 2-2.1 2-1 2-1.8 2-1.7 2-.7 2-1 2-.6 2-1.3 2-1.5 2-.7 2-.7 2-1.4 2-1.2 2-1.3 2-2.2 2-1.3 2-.8 2-1.1 2-1.1 2-.2 2-1.5 2-1.4 2-1 2-1.5 2-1.5 2-1.5 2-1.2 2-1.5 2-1.3 2-1.4 2-1.4 2-1.4 2-1.5 2-1.4 2-1.6 2-1.6 2-1.6 2-1.8 2-1.9 2-2 2-2 2-2.1 2-2.2 2-2.2 2-2.2 2-2.3 2-2.2 2-2.2 2-2.3 2-2.2 2-2.2 2-2.3 2-2.4 2-2.4 2-2.6 2-2.7 2-2.8 2-3 2-3.1 2-3.3 2-3.4 2-3.5 2-3.6 2-3.7 2-3.6 2-3.7 2-3.6 2-3.6 2-3.5 2-3.5 2-3.4 2-3.5 2-3.4 2-3.6 2-3.7 2-3.7 2-3.8 2-3.8 2-3.7"/>
<path d="M178 628.2l2-7 2-3.1 2-7.5 2-4.3 2-2.3 2-1.4 2-2.9 2-1.1 2-10.9 2-6.3 2-4.1 2-2.4 2-8.1 2-6.3 2-3.5 2-3.1 2-.1 2-8.7 2-2.7 2-.9 2-6.2 2-1.8 2-4.7 2-.2 2-1.9 2-6.6 2-4 2-7.5 2-2.6 2-3.9 2-4.9 2-8.1 2-3.3 2-.9 2-5.5 2-4.4 2-3.3 2-3.5 2-4.1 2-2.9 2-2.4 2-5.6 2-3.4 2-3.8 2-1.7 2-3.9 2-1.6 2-3.2 2-3.4 2-2.1 2-4 2-1.8 2-4.1 2-2.6 2-3.9 2-5 2-3.2 2-2.5 2-1.9 2-2 2-2.3 2-3.1 2-2.7 2-1.8 2-2.6 2-2.6 2-2.4 2-1.2 2-3.7 2-3.1 2-1.2 2-4 2-2.7 2-1.7 2-.6 2-2.4 2-1.1 2-3 2-1.7 2-1.3 2-2.1 2-2.3 2-2.7 2-2 2-2.8 2-1.4 2-1.2 2-1.6 2-.6 2-1.4 2-2.7 2-2.4 2-1.8 2-2 2-1.8 2-.7 2-1.3 2-.9 2-1.1 2-1.8 2-1.4 2-1.7 2-2.2 2-2.1 2-2 2-1.2 2-1.1 2-1.3 2-1.2 2-1.6 2-1.8 2-1 2-1.1 2-1.4 2-1 2-.9 2-.5 2-1.1 2-1.3 2-1.4 2-1.1 2-1.1 2-.9 2-2.2 2-1.6 2-.7 2-1.3 2-1.2 2-1 2-1.2 2-.9 2-1.1 2-1.4 2-1.1 2-1.2 2-1.4 2-1.3 2-1.2 2-1.3 2-1.2 2-1.2 2-1.3 2-1.2 2-1.3 2-1.4 2-1.5 2-1.6 2-1.7 2-1.8 2-2 2-2.1 2-2.2 2-2.3 2-2.4 2-2.4 2-2.5 2-2.6 2-2.7 2-2.7 2-2.8 2-2.9 2-2.9 2-3 2-3.1 2-3.2 2-3.3 2-3.3 2-3.4 2-3.5 2-3.6 2-3.7 2-3.7 2-3.7 2-3.8 2-3.7 2-3.7 2-3.7 2-3.6 2-3.6 2-3.5 2-3.4 2-3.5 2-3.4 2-3.6 2-3.7 2-3.7 2-3.8 2-3.8 2-3.7"/>
<path d="M178 635.8l2-7.3 2 0 2-1.3 2-7.1 2-11.3 2-5.9 2-7.7 2-6.6 2-3.6 2-6.7 2-6.6 2-4.2 2-2.9 2-1.3 2-4.1 2-7.6 2-2.9 2-3 2-4.3 2-4.2 2-6.3 2-6.6 2-2.2 2-6.5 2 .1 2-7.3 2-2.4 2-2 2-4.6 2-4.6 2-4.4 2-7.1 2-1.3 2-5.2 2-3.5 2-5.3 2-3.6 2-3.3 2-3.4 2-3.4 2-1.8 2-4.2 2-4.2 2-3.5 2-1.7 2-2.2 2-2.7 2-3.6 2-3.1 2-4.8 2-2.4 2-2.1 2-1.8 2-.8 2-3.9 2-3.8 2-2.3 2-3.4 2-3 2-3 2-4.6 2-3.2 2-1.8 2-.8 2-3.1 2-2.9 2-2.6 2-2.2 2-2.1 2-1.9 2-1.9 2-3.1 2-2 2-1.6 2-1.9 2-.4 2-2.8 2-2.4 2-2.5 2-2.4 2-1.3 2-2.9 2-2.3 2-2.8 2-2.1 2-2.4 2-.7 2-1.7 2-1.5 2-1.2 2-1.7 2-1.8 2-2 2-1.6 2-2.1 2-.9 2-.9 2-1.8 2-1.9 2-1.7 2-1.7 2-1.5 2-1.3 2-1.3 2-1.2 2-.8 2-1.6 2-1.7 2-1.7 2-2 2-1.6 2-1.5 2-1.3 2-.5 2-.7 2-1.5 2-.8 2-1.1 2-1.1 2-1.2 2-1.6 2-.9 2-1 2-.9 2-2.1 2-.4 2-.7 2-1.8 2-.9 2-.9 2-.8 2-1.6 2-1.1 2-1.2 2-1.2 2-1.3 2-1.2 2-1.2 2-1.1 2-1 2-1.1 2-1.1 2-1.1 2-1.1 2-1.2 2-1.2 2-1.4 2-1.6 2-1.6 2-1.9 2-1.9 2-2.1 2-2.3 2-2.3 2-2.4 2-2.5 2-2.6 2-2.7 2-2.7 2-2.8 2-2.9 2-2.9 2-3 2-3.1 2-3.2 2-3.3 2-3.3 2-3.4 2-3.5 2-3.6 2-3.7 2-3.7 2-3.7 2-3.8 2-3.7 2-3.7 2-3.7 2-3.6 2-3.6 2-3.5 2-3.4 2-3.5 2-3.4 2-3.6 2-3.7 2-3.7 2-3.8 2-3.8 2-3.7"/>
<path d="M178 640.7l2-9.1 2-.1 2-6.6 2-13.7 2-1.7 2-2.9 2-6.7 2-10.5 2-8.1 2-8.3 2-3.6 2-3.6 2-4.5 2-2.2 2-3.1 2-.8 2-5.5 2-6.1 2-2.7 2-.6 2-10.2 2-2.3 2-2.4 2-4.1 2-.6 2-1.7 2-5.9 2-7.2 2-1.4 2-1.4 2-5.4 2-3.5 2-6.1 2-3.2 2-8 2-4 2-3 2-3.5 2-3 2-5.2 2-2.4 2-5.8 2-2.6 2-4.2 2-2.7 2-3.6 2-1.3 2-4.4 2-3.6 2-3.1 2-4.5 2-1.1 2-3.5 2-1.5 2-2.5 2-3 2-3.4 2-4 2-1.5 2-3.6 2-3.2 2-2.1 2-2.4 2-3.7 2-1.5 2-3.1 2-1.8 2-2.5 2-2.5 2-3.3 2-2.5 2-2.9 2-2.3 2-2 2-3 2-1.6 2-.9 2-2.7 2-1.6 2-2.4 2-1.5 2-3.3 2-1.4 2-2.2 2-1.6 2-1.2 2-2.2 2-.8 2-1.3 2-1 2-1.4 2-2.2 2-3 2-2.5 2-2.3 2-2 2-.6 2-.6 2-1.5 2-2.7 2-1.2 2-1.2 2-1.5 2-2.4 2-1.9 2-2 2-1.4 2-1.1 2-1.3 2-1.5 2-.9 2-1.3 2-1.6 2-1.1 2-1 2-.8 2-1.7 2-1.3 2-1.1 2-1.3 2-1.3 2-1.5 2-.4 2-.7 2-1.4 2-1.3 2-1.5 2-1.3 2-.9 2-.1 2-1 2-1.1 2-1.2 2-1.4 2-1.5 2-1.2 2-1.3 2-1.3 2-1.2 2-1.1 2-1.1 2-1.2 2-1.1 2-1.2 2-1.2 2-1.3 2-1.5 2-1.5 2-1.7 2-1.8 2-2 2-2 2-2.2 2-2.2 2-2.2 2-2.3 2-2.4 2-2.4 2-2.4 2-2.5 2-2.5 2-2.7 2-2.7 2-2.9 2-3 2-3.1 2-3.2 2-3.3 2-3.5 2-3.5 2-3.7 2-3.7 2-3.7 2-3.8 2-3.7 2-3.7 2-3.7 2-3.6 2-3.6 2-3.5 2-3.4 2-3.5 2-3.4 2-3.6 2-3.7 2-3.7 2-3.8 2-3.8 2-3.7"/>
<path d="M178 627.6l2-5.5 2-7 2-5.3 2-2.7 2-6.7 2-2.8 2-10.2 2-5.8 2-5.2 2-6.5 2-4.5 2-2.8 2-6.7 2-1.1 2-1.4 2-5.7 2-6.4 2-2.9 2-2.4 2-3.4 2-5.4 2-2.1 2-3.4 2-4.5 2-4.5 2-7.6 2-1.9 2-1.2 2-.7 2-6.4 2-4.3 2-6.4 2-4.2 2-5.7 2-2 2-5.4 2-2.7 2-2.9 2-4.6 2-3.9 2-3.7 2-4.1 2-4.7 2-.9 2-2.6 2-2.5 2-3.5 2-3 2-6.1 2-2.4 2-3.8 2-.9 2-3 2-2.7 2-3.6 2-2.4 2-2.9 2-1.8 2-2 2-3.3 2-3.9 2-3.8 2-1.6 2-1.2 2-1.3 2-2.3 2-2.6 2-3.2 2-2.3 2-3 2-3.1 2-2.1 2-1.6 2-2.5 2-1.8 2-.7 2-1.6 2-2.1 2-2.4 2-3.2 2-3 2-2 2-2.8 2-1.6 2-1.9 2-.4 2-1.4 2-.7 2-1.9 2-1.1 2-1.9 2-1.2 2-1.6 2-1.4 2-1.8 2-1 2-1.3 2-1.9 2-1.5 2-1.5 2-2.4 2-1.5 2-1.5 2-1.8 2-1.8 2-2.2 2-1.7 2-.8 2-1.3 2-1.2 2-1.5 2-.7 2-.9 2-1.2 2-1.7 2-1.6 2-1.2 2-1.4 2-.9 2-1.2 2-.5 2-.3 2-.7 2-1.6 2-1.1 2-.7 2-1.4 2-1.7 2-1.1 2-1 2-1 2-.9 2-1.1 2-1.3 2-1.3 2-1 2-1.1 2-1.1 2-1.2 2-1.1 2-1.1 2-1.1 2-1.2 2-1.2 2-1.2 2-1.3 2-1.4 2-1.4 2-1.7 2-1.7 2-1.9 2-2 2-2.2 2-2.2 2-2.4 2-2.5 2-2.5 2-2.6 2-2.7 2-2.8 2-2.9 2-2.9 2-3 2-3.1 2-3.2 2-3.3 2-3.3 2-3.4 2-3.5 2-3.6 2-3.7 2-3.7 2-3.7 2-3.8 2-3.7 2-3.7 2-3.7 2-3.6 2-3.6 2-3.5 2-3.4 2-3.5 2-3.4 2-3.6 2-3.7 2-3.7 2-3.8 2-3.8 2-3.7"/>
<path d="M178 619.4l2-19.7 2-7.9 2-4.1 2-2.7 2-3.1 2-6.2 2-1.7 2-5.5 2-6.4 2-5.8 2-8 2-3.8 2-9.2 2-1.4 2-8.1 2-3.5 2-1.7 2-5.7 2-.3 2-3.1 2-1.4 2 1.4 2-4.9 2-5.3 2-1.1 2-6.1 2-.9 2-1 2-1.1 2-3.4 2-7.7 2-6.2 2-5.3 2-4.3 2-3.2 2-5 2-2.3 2-.8 2-4.8 2-4.7 2-2 2-3 2-5 2-3.8 2-1.4 2-3.1 2-3.1 2-3.5 2-5.7 2-2.9 2-.9 2-2.5 2-3.3 2-.4 2-3.3 2-1.1 2-1.4 2-2.4 2-2 2-2.1 2-5.2 2-3.6 2-2.4 2-.8 2-2.5 2-3.4 2-2.3 2-2.4 2-1.1 2-2.3 2-2.9 2-2.1 2-2.3 2-1.3 2-1.9 2-2.6 2-1.3 2-1.5 2-1.4 2-3.4 2-2.1 2-1.2 2-3.2 2-1.1 2-2.5 2-.4 2-1.6 2-1.4 2-1.8 2-1 2-1.4 2-2 2-2.2 2-2 2-2.4 2-.9 2-1.6 2-.5 2-.7 2-1.4 2-1.7 2-2.1 2-2.1 2-1.3 2-1.7 2-1.7 2-1.1 2-1.8 2-.7 2-1.7 2-1.4 2-1 2-1.5 2-1.1 2-1.1 2-1.2 2-.6 2-.2 2-.9 2-2 2-1.3 2-1.1 2-1.1 2-1.7 2-1.5 2-.6 2-1.2 2-1.3 2-.8 2-.9 2-1.2 2-1.5 2-1.4 2-1.2 2-1.5 2-1.5 2-1.4 2-1.3 2-1.2 2-1.3 2-1.3 2-1.3 2-1.3 2-1.4 2-1.5 2-1.5 2-1.6 2-1.6 2-1.8 2-1.8 2-1.9 2-1.9 2-2 2-2.1 2-2.2 2-2.2 2-2.3 2-2.4 2-2.5 2-2.5 2-2.5 2-2.6 2-2.6 2-2.7 2-2.8 2-2.9 2-3 2-3.1 2-3.3 2-3.3 2-3.5 2-3.5 2-3.6 2-3.6 2-3.6 2-3.7 2-3.6 2-3.6 2-3.5 2-3.4 2-3.4 2-3.5 2-3.4 2-3.6 2-3.7 2-3.7 2-3.8 2-3.8 2-3.7"/>
<path d="M178 605l2-18.7 2-4.7 2-3.9 2-1.9 2 .3 2-6.2 2-7.2 2-4.5 2-5 2-1.7 2-5.5 2-6.1 2-6.7 2-5.1 2-8 2-3.1 2-2.9 2-4.5 2-3.6 2-2.6 2-3.5 2-.9 2-5 2-3.4 2-1.2 2-4.4 2-4.8 2-1.1 2-2 2-5.4 2-3.9 2-5.9 2-3 2-3.5 2-4.1 2-5.9 2-3 2-3.1 2-4.4 2-2 2-4 2-3.6 2-3.3 2-2.8 2-1.7 2-2.9 2-3.2 2-3.1 2-3.1 2-1.6 2-1.9 2-2.7 2-4.2 2-1.5 2-2.4 2-3.1 2-1.9 2-2.1 2-.7 2-2.7 2-2.2 2-2.4 2-.4 2-2.1 2-3.4 2-1.9 2-1 2-3.9 2-2.5 2-2.7 2-1.1 2-2 2-3.3 2-2.4 2-1.7 2-1.7 2-1 2-2.1 2-2.3 2-2 2-1.3 2-2.1 2-3.2 2-1.9 2-1.7 2-1.5 2-1.9 2-1.2 2-1.3 2-.2 2-.6 2-1.8 2-2.4 2-1 2-2 2-1.6 2-1.8 2-1.2 2-1.2 2-1.3 2-2.1 2-1.4 2-2 2-1.3 2-1.1 2-.8 2-1.6 2-1.2 2-1.9 2-.3 2-1.4 2-1.2 2-1 2-.6 2-1.1 2-.9 2-1 2-1.7 2-.8 2-1.5 2-.9 2-1.4 2-1.1 2-1.2 2-1.9 2-1.1 2-1.8 2-1 2-1.1 2-1.4 2-1.1 2-1.5 2-1.4 2-1.1 2-1.4 2-1.5 2-1.5 2-1.4 2-1.5 2-1.3 2-1.4 2-1.3 2-1.4 2-1.5 2-1.4 2-1.6 2-1.6 2-1.7 2-1.9 2-1.9 2-2 2-2.1 2-2.2 2-2.2 2-2.3 2-2.3 2-2.3 2-2.4 2-2.3 2-2.4 2-2.3 2-2.5 2-2.4 2-2.6 2-2.6 2-2.8 2-2.9 2-2.9 2-3.1 2-3.2 2-3.2 2-3.3 2-3.3 2-3.3 2-3.3 2-3.3 2-3.2 2-3.2 2-3.2 2-3.2 2-3.1 2-3.2 2-3.3 2-3.3 2-3.6 2-3.7 2-3.7 2-3.7 2-3.7"/>
<path d="M178 603.1l2-19 2-4.5 2-6.7 2-2.9 2-2.4 2-6.7 2-6.5 2-3.1 2-3.9 2-7.3 2-2.8 2-4.6 2-6.2 2-4.8 2-5.3 2-3.2 2-3.6 2-6.5 2-2.4 2-3.5 2-1.9 2-.2 2-4.1 2-3.6 2-3 2-4 2-1.9 2-1.5 2-3.1 2-4.8 2-4.7 2-4.1 2-3 2-3.2 2-2.9 2-4.7 2-1.6 2-3.1 2-4.1 2-4.5 2-3.5 2-2.8 2-2.6 2-2 2-3 2-2.4 2-3.2 2-4.9 2-3.4 2-3.6 2-2.2 2-1 2-2.8 2-3.2 2-1.4 2-2.1 2-3.5 2-2.6 2-2 2-2.7 2-2.7 2-2 2-1.6 2-2.4 2-1.4 2-.3 2-2.7 2-2.3 2-2.8 2-2.4 2-2.8 2-2.1 2-1.8 2-1.8 2-2.3 2-1.1 2-1.2 2-2.9 2-2.3 2-3.2 2-1.4 2-1.7 2-2.4 2-1.2 2-2.9 2-2.1 2-.3 2-.4 2-1.6 2-1.7 2-.9 2-2.3 2-2.4 2-1.2 2-2.2 2-1.3 2-1.2 2-.7 2-1.1 2-2.6 2-1.7 2-1.4 2-1.3 2-2.3 2-1.3 2-.9 2-.5 2-1 2-1 2-1.1 2-1.3 2-1 2-1 2-1 2-.5 2-1.5 2-.5 2-1.2 2-.8 2-1.5 2-1.4 2-1.5 2-1.5 2-1.5 2-1.3 2-1.4 2-.6 2-.5 2-.5 2-1.2 2-1.2 2-1.7 2-1.5 2-1.3 2-1.2 2-1.2 2-1.1 2-1.4 2-1.3 2-1.3 2-1.3 2-1.4 2-1.4 2-1.5 2-1.6 2-1.6 2-1.8 2-1.8 2-2 2-2.1 2-2.1 2-2.2 2-2.3 2-2.3 2-2.3 2-2.4 2-2.4 2-2.3 2-2.4 2-2.4 2-2.4 2-2.4 2-2.5 2-2.5 2-2.7 2-2.8 2-2.8 2-3 2-3 2-3.2 2-3.2 2-3.3 2-3.3 2-3.3 2-3.3 2-3.3 2-3.2 2-3.3 2-3.1 2-3.2 2-3.1 2-3.2 2-3.3 2-3.4 2-3.6 2-3.7 2-3.7 2-3.8 2-3.7"/>
<path d="M178 632l2-6.4 2-1.5 2-3.4 2-8.2 2-1.2 2-7.9 2-8.5 2-5.4 2-2.8 2-8.5 2-9.3 2-6.5 2-5 2-5.7 2-3 2-1.7 2-6 2-1.6 2-3.1 2-3.1 2-4.3 2-2.4 2-4.1 2-4.1 2 .7 2-5.6 2-2.9 2-4.8 2-3.3 2-7.8 2-2.5 2-5.9 2-4.2 2-3.5 2-5.1 2-4.8 2-4 2-5.2 2-4.6 2-3.6 2-1.1 2-4.4 2-4.1 2-3.8 2-.9 2-2.7 2-4 2-1.7 2-3.8 2-3.2 2-3 2-3 2-3.7 2-.2 2-3.1 2-3 2-3.1 2-3 2-1.2 2-1.4 2-3.5 2-3.7 2-2.7 2-1.7 2-1.5 2-1.7 2-2.8 2-2.8 2-3.9 2-2.2 2-2.9 2-4.2 2-2.2 2-2.7 2-.5 2-1.7 2-.5 2-2.8 2-2 2-1.8 2-2.4 2-3 2-2.8 2-2.2 2-2.2 2-.5 2-2.1 2-1.6 2-1.2 2-.6 2-1.9 2-2.2 2-.7 2-1.9 2-3.2 2-1.7 2-1.5 2-1.8 2-.9 2-1.3 2-1.5 2-1.7 2-2.2 2-1.4 2-1.8 2-1.7 2-1.5 2-.9 2-1.1 2-1.9 2-1 2-1.1 2-1 2-1.4 2-1.2 2-1 2-.9 2-1.3 2-.8 2-1.2 2-1.2 2-1.5 2-.4 2-1.2 2-2.1 2-.4 2-1.3 2-1.2 2-1 2-.9 2-2 2-1.3 2-1.1 2-1.4 2-1.3 2-1.3 2-1.5 2-1.3 2-1.3 2-1.2 2-1.3 2-1.2 2-1.3 2-1.2 2-1.4 2-1.4 2-1.6 2-1.7 2-1.9 2-2 2-2.2 2-2.3 2-2.4 2-2.5 2-2.5 2-2.4 2-2.5 2-2.5 2-2.5 2-2.4 2-2.5 2-2.6 2-2.6 2-2.8 2-2.8 2-2.9 2-3 2-3.1 2-3.2 2-3.3 2-3.4 2-3.4 2-3.4 2-3.5 2-3.6 2-3.5 2-3.6 2-3.5 2-3.5 2-3.4 2-3.4 2-3.5 2-3.4 2-3.6 2-3.7 2-3.7 2-3.8 2-3.8 2-3.7"/>
<path d="M178 623.2l2-12.1 2-2.7 2 3.8 2-9 2-5.9 2-1.3 2 3.8 2-4.8 2-7.2 2-10 2-7.8 2-1.4 2-8.5 2-1.2 2-8.3 2-3.4 2-2.7 2-2.3 2-1.2 2-5.6 2-2.7 2 .6 2-3 2-6 2-2.2 2-9.8 2-4 2-5.2 2-1.5 2-4.1 2-6.7 2-4.4 2-3.9 2-4.6 2-6.6 2-5.8 2-4.3 2-5 2-2.2 2-2.1 2-2.5 2-2.7 2-5.4 2-1.7 2-3.7 2-2.7 2-2.4 2-4 2-2.8 2-4.8 2-2.3 2-.8 2-3.1 2-2.5 2-4.5 2-2.5 2-3.8 2-.5 2-3.1 2-3.7 2-2.6 2-3.8 2-2 2-1.4 2-2.3 2-.9 2-2 2-2.7 2-2.1 2-2.3 2-2.7 2-3.2 2-2.2 2-2.1 2-2.3 2-2.3 2-.7 2-1.9 2-1.8 2-2.4 2-1.2 2-1.8 2-1.1 2-2.2 2-2.2 2-.9 2-1.5 2-1.7 2-.7 2-1.6 2-2 2-2.3 2-2.3 2-1.4 2-1.3 2-1 2-1.3 2-.6 2-2.1 2-1.6 2-1.6 2-2.5 2-2 2-2.3 2-2.1 2-1.2 2-1 2-1.2 2-1.6 2-.8 2-1.2 2-1 2-1.1 2-.8 2-1 2-1 2-.4 2-.9 2-1.5 2-1.3 2-1.7 2-1.5 2-1.1 2-1.2 2-1.7 2-.8 2-1.1 2-1.3 2-1.3 2-1 2-1.3 2-1.2 2-1.4 2-1.8 2-1.3 2-1 2-1.3 2-1.1 2-1.3 2-1.3 2-1.2 2-1.3 2-1.2 2-1.3 2-1.3 2-1.4 2-1.4 2-1.6 2-1.7 2-1.9 2-2 2-2.1 2-2.2 2-2.3 2-2.3 2-2.5 2-2.5 2-2.5 2-2.7 2-2.7 2-2.8 2-2.9 2-2.9 2-3.1 2-3.1 2-3.3 2-3.3 2-3.4 2-3.5 2-3.6 2-3.7 2-3.7 2-3.7 2-3.8 2-3.7 2-3.7 2-3.7 2-3.6 2-3.6 2-3.5 2-3.4 2-3.5 2-3.4 2-3.6 2-3.7 2-3.7 2-3.8 2-3.8 2-3.7"/>
<path d="M178 608.4l2-19.7 2-3.7 2-8.7 2 1.3 2-2.1 2-3.3 2-7.9 2-1.8 2-6.4 2-5.3 2 .3 2-5.1 2-4.4 2-6.5 2-2.4 2-7.2 2 1.8 2-3.8 2-.9 2-2.3 2-1.1 2-6.5 2-7 2-4.1 2 .5 2-6.3 2-2.2 2-3.1 2 2 2-9.9 2-8.3 2-2.3 2-1.4 2-5.9 2-.6 2-2.8 2-3.5 2-.6 2-5.1 2-3.4 2-3.9 2-1.4 2-4.3 2-1.3 2-3.4 2-2.2 2-2.6 2-3.1 2-4.7 2-3.2 2-5.5 2-1.6 2-2.5 2-2.4 2-2.2 2-.7 2-2.5 2-3.4 2-3.6 2-2.1 2-5 2-4.2 2-3.5 2-.8 2-3.6 2-1 2-3.3 2-.7 2-1.7 2-3.7 2-2.7 2-3.8 2-2.7 2-1.1 2-1.9 2-1.2 2-.2 2-2.9 2-1 2-3.6 2-1.6 2-3.1 2-2.1 2-1.6 2-2.4 2-1.6 2-2.2 2-1.1 2-.8 2-2.6 2-1 2-1.9 2-.1 2-1.1 2-1.4 2-1.1 2-1.7 2-1.1 2-1.5 2-1.6 2-2.2 2-2.1 2-2.1 2-1.5 2-1.3 2-1.6 2-.7 2-1.1 2-1.9 2-1.2 2-1.1 2-1 2-1.2 2-1.8 2-.8 2-.6 2 .1 2-1.6 2-1.5 2-1.3 2-1.9 2-1.3 2-.7 2-1 2-.2 2-1 2-1.2 2-.6 2-1.1 2-1.4 2-.9 2-1.1 2-1.5 2-1.2 2-1 2-1.2 2-1.2 2-1.4 2-1.2 2-1.1 2-1.1 2-1.2 2-1.2 2-1.2 2-1.3 2-1.3 2-1.4 2-1.6 2-1.7 2-1.9 2-1.9 2-2.1 2-2.2 2-2.3 2-2.4 2-2.3 2-2.5 2-2.4 2-2.5 2-2.6 2-2.6 2-2.6 2-2.8 2-2.9 2-2.9 2-3.1 2-3.2 2-3.4 2-3.4 2-3.6 2-3.6 2-3.7 2-3.7 2-3.8 2-3.7 2-3.7 2-3.7 2-3.6 2-3.6 2-3.5 2-3.4 2-3.5 2-3.4 2-3.6 2-3.7 2-3.7 2-3.8 2-3.8 2-3.7"/>
<path d="M178 608.9l2-19.9 2-5.7 2-1.7 2-5.2 2-3.5 2-5.4 2-.4 2-6.1 2-7.1 2-8.8 2-7.8 2-3 2-4.6 2-4.1 2-4.3 2-3.2 2-4.7 2-2.1 2-4.3 2-4.8 2-4.2 2-3.6 2-4.5 2-3.9 2-2.2 2-5 2-2.5 2-2 2-3.1 2-6.4 2-3.3 2-3.9 2-2.3 2-2.8 2-2.9 2-3.6 2-1.2 2-4.2 2-2.5 2-3.9 2-4 2-4.8 2-4.5 2-3.1 2-1.6 2-2.9 2-2.3 2-2.7 2-3 2-3.4 2-1.7 2-3 2-3.4 2-1.5 2-2 2-2.1 2-2.4 2-2.3 2-2.1 2-2.4 2-2 2-2.1 2-1.9 2-1.6 2-1.9 2-1.4 2-2.2 2-1.2 2-2.7 2-2.8 2-2.9 2-3.2 2-1.9 2-.9 2-2.2 2-1.1 2-1.8 2-1.1 2-2.3 2-2.4 2 .2 2-3.8 2-2 2-2.5 2-3 2-.7 2-2.7 2-1.4 2-1.4 2-.8 2-2.3 2-1.7 2-2.4 2-1.5 2-2.8 2-.7 2-1 2-1 2-1.6 2-1 2-1.4 2-1.7 2-1.9 2-1.4 2-1.6 2-1.1 2-1.2 2-1.7 2-1.1 2-1.5 2-.7 2-1.2 2-1.1 2-.5 2-1.2 2-.5 2-1.3 2-.6 2-2.3 2-.5 2-.9 2-1.5 2-.9 2-1.4 2-.5 2-.8 2-1.7 2-1.2 2-.4 2-.5 2-1.2 2-1.1 2-1 2-1.7 2-1.3 2-1.5 2-1.6 2-1.5 2-1.6 2-1.6 2-1.5 2-1.6 2-1.5 2-1.6 2-1.6 2-1.6 2-1.7 2-1.8 2-1.8 2-2 2-2 2-2.1 2-2.1 2-2.2 2-2.2 2-2.2 2-2.3 2-2.3 2-2.2 2-2.3 2-2.4 2-2.4 2-2.5 2-2.5 2-2.7 2-2.8 2-2.9 2-3.1 2-3.1 2-3.3 2-3.3 2-3.3 2-3.4 2-3.3 2-3.3 2-3.4 2-3.2 2-3.3 2-3.2 2-3.1 2-3.2 2-3.2 2-3.3 2-3.4 2-3.5 2-3.7 2-3.7 2-3.8 2-3.7"/>
<path d="M178 614.9l2-15.8 2-2.3 2-4.8 2-10 2-6.6 2-2 2 .8 2-6.3 2-.9 2-10.5 2-8.6 2-5.8 2-5.6 2-1.6 2-2.7 2-3.4 2-2.2 2-5.3 2-6.1 2-4.5 2-5.9 2 3.5 2-5.8 2-4.7 2-1.8 2-4.8 2-6.8 2-4.6 2-4.1 2-3.6 2-5.7 2-3.6 2-2.8 2-1.8 2-4 2-6.3 2-2.1 2-4 2-3 2-2.1 2-3.9 2-3.1 2-3.7 2-3.2 2-2.7 2-3.6 2-1.4 2-1.5 2-5.6 2-2.8 2-2.1 2-1.7 2-3.4 2-3 2-2.8 2-1.5 2-2.7 2-3.2 2-2.1 2-3.3 2-2 2-2.6 2-2.2 2-1.8 2-.6 2-2.3 2-2.9 2-2.1 2-1.1 2-2.5 2-2.2 2-2.9 2-2.7 2-1.1 2-2.1 2-1.7 2 .2 2-1.8 2-1.6 2-2.6 2-2.1 2-2 2-2.6 2-1.5 2-2.2 2-1.3 2-1 2-1.1 2-1.8 2-.8 2-.7 2-.9 2-1.9 2-2.3 2-1.9 2-1.4 2-1.9 2-1.9 2-1.4 2-1.9 2-1.5 2-1 2-1.9 2-1.4 2-2.3 2-1 2-.7 2-1.3 2-1.9 2-.7 2-2 2-.5 2-.6 2-1.5 2-1.1 2-1.6 2-1 2-1 2-.5 2-.6 2-.7 2-1.4 2-.9 2-1.6 2-.9 2-1.7 2-1.1 2-.5 2-1.2 2-1.5 2-.9 2-1.1 2-.8 2-1.5 2-1.6 2-1.3 2-1.3 2-1.2 2-1.3 2-1.2 2-1.1 2-1.2 2-1.2 2-1.3 2-1.3 2-1.3 2-1.5 2-1.6 2-1.8 2-1.9 2-2.1 2-2.2 2-2.4 2-2.5 2-2.5 2-2.6 2-2.7 2-2.6 2-2.6 2-2.6 2-2.7 2-2.6 2-2.6 2-2.8 2-2.8 2-2.8 2-3 2-3.1 2-3.2 2-3.2 2-3.3 2-3.3 2-3.4 2-3.4 2-3.4 2-3.4 2-3.4 2-3.4 2-3.4 2-3.4 2-3.3 2-3.4 2-3.5 2-3.5 2-3.7 2-3.7 2-3.8 2-3.8 2-3.7"/>
<path d="M178 624.3l2-12.8 2-3.2 2-8 2-7.2 2-1.8 2-2.3 2-3.1 2-7.3 2-5.6 2-4.8 2-2 2-6.4 2-8.7 2-4.6 2-.7 2-4.5 2-.8 2-3.7 2-3.6 2-2.4 2-3.3 2-1.6 2-3.3 2-2.6 2-1 2-6.8 2-7.5 2-3.6 2-2.9 2-8.2 2-6 2-5.7 2-4.5 2-4 2-4.1 2-2 2-.2 2-3.9 2-2.8 2-2.8 2-2.5 2-4.7 2-1.4 2-4.2 2-3.4 2-3.3 2-1.6 2-6.1 2-2.9 2-3.1 2-2.8 2 .8 2-1.7 2-2 2-2.9 2-3.3 2-4.2 2-4.2 2-2.1 2-3.2 2-2.8 2-1.5 2-2.3 2-3.2 2-3.3 2-2.4 2-4.1 2-2.4 2-2.5 2-3.3 2-3.6 2-3 2-2.6 2-1.5 2-1.5 2-2.3 2-.6 2-.8 2-3.2 2-2 2-3.3 2-2.1 2-2.2 2-.1 2-3.7 2-2.4 2-1.9 2-1 2-.9 2-1.2 2-1.5 2-1.7 2-1.5 2-1.4 2-2.1 2-.7 2-1.7 2-1 2-1.2 2-.9 2-2.3 2-1.8 2-1.5 2-1.9 2-2.3 2-2.1 2-.7 2-1.7 2-1.9 2-1 2-.7 2-1.3 2-.5 2-2.2 2-1.1 2-1.4 2-.5 2-1.1 2-1.1 2-1.6 2-1.3 2-1 2-1.7 2-1.7 2-1.4 2-.4 2-1 2-1.3 2-1.4 2-1.2 2-1.4 2-.8 2-1.6 2-1.1 2-1.6 2-1.4 2-1.7 2-1.5 2-1.6 2-1.5 2-1.4 2-1.5 2-1.4 2-1.4 2-1.5 2-1.5 2-1.5 2-1.7 2-1.7 2-1.9 2-2 2-2.1 2-2.3 2-2.3 2-2.4 2-2.5 2-2.4 2-2.5 2-2.5 2-2.4 2-2.4 2-2.4 2-2.4 2-2.5 2-2.6 2-2.7 2-2.9 2-3 2-3.1 2-3.3 2-3.3 2-3.5 2-3.5 2-3.5 2-3.5 2-3.4 2-3.5 2-3.3 2-3.3 2-3.3 2-3.2 2-3.3 2-3.3 2-3.5 2-3.6 2-3.7 2-3.8 2-3.7 2-3.7"/>
<path d="M178 640.4l2 .2 2-8.3 2-1.8 2-6.3 2-4.4 2-7.6 2-5.6 2-3.2 2-7.7 2-9.5 2-8.4 2-2.8 2-6.2 2-7 2-6.8 2-1.8 2-2.8 2-6.3 2 .6 2 .4 2-6.6 2 2 2-4.1 2 0 2-1.2 2-8 2-7.5 2-5.2 2-1.7 2-7 2-4.1 2-9.1 2-5.4 2-2.5 2-4.9 2-6.9 2-1.2 2-2.4 2-8 2-3.8 2-2.8 2-3.4 2-3.3 2-2.1 2-1.6 2-2.8 2-4.5 2-3.4 2-5.2 2-2.3 2-3.7 2-2.4 2-4.1 2-4.1 2-2.1 2-3.5 2-4.6 2-3.4 2-1.6 2-3.5 2-2.1 2-4.1 2-1.5 2-3.5 2-2.1 2-1.3 2-3.2 2-2.5 2-1.2 2-2.1 2-3 2-2.6 2-1.6 2-.6 2-2.2 2-2.3 2-2 2-2.9 2-2.4 2-2.3 2-1.9 2-2.5 2-2.4 2-1.9 2-2.4 2-2 2-1.6 2-1.8 2-.9 2-1.4 2-1.1 2-2.1 2-.8 2-1.8 2-1.6 2-1.1 2-1 2-1.9 2-1.6 2-2 2-1.5 2-1.7 2-1.4 2-1.9 2-1.8 2-.6 2-1.2 2-2 2-.8 2-1.2 2-1 2-1.4 2-1.3 2-1.2 2-1.5 2-1 2-1.4 2-1 2-1 2-1.1 2-.7 2-1.4 2-.6 2-.8 2-2 2-1 2-.7 2-1.3 2-1.3 2-1.1 2-1.1 2-1.2 2-.9 2-1.3 2-1.3 2-1.2 2-1.2 2-1.2 2-1.4 2-1.3 2-1.3 2-1.3 2-1.3 2-1.3 2-1.3 2-1.4 2-1.4 2-1.5 2-1.7 2-1.8 2-1.9 2-2.1 2-2.2 2-2.3 2-2.4 2-2.4 2-2.5 2-2.5 2-2.6 2-2.6 2-2.7 2-2.8 2-2.9 2-2.9 2-3.1 2-3.2 2-3.3 2-3.4 2-3.4 2-3.6 2-3.7 2-3.7 2-3.7 2-3.8 2-3.7 2-3.7 2-3.7 2-3.6 2-3.6 2-3.5 2-3.4 2-3.5 2-3.4 2-3.6 2-3.7 2-3.7 2-3.8 2-3.8 2-3.7"/>
<path d="M178 619.9l2-16.3 2-5.6 2-6.4 2-5.9 2-4.3 2-3.7 2-.7 2-7.2 2-6 2-7.7 2-7.1 2-3.5 2-2.3 2-5.5 2-3.7 2-3.6 2-3.5 2-9.7 2 1 2-3.3 2-4.4 2-1.1 2-7.6 2-3.2 2 2.6 2-7.2 2-4.3 2-5.3 2-5.7 2-1 2-3.2 2-5.5 2-3.4 2-1.4 2-.8 2-2.9 2-5.4 2-3.3 2-4.7 2-3.1 2-4.2 2-2.9 2-4 2-2.8 2-.7 2-3.3 2-3.3 2-1.6 2-3.2 2-2.2 2-2.4 2-4.6 2-2.7 2-4.1 2-2.6 2-1.7 2-5.1 2-2.2 2-4 2-3.4 2-1.2 2-1 2-.8 2-1.9 2 .2 2-3 2-.9 2-2.2 2-4.3 2-2.6 2-3.2 2-2.8 2-2 2-.6 2-1.4 2-1.3 2-.8 2-2.1 2-4 2-2.1 2-1.3 2-2.6 2-1.8 2-2.4 2-1.2 2-1.1 2-1.7 2-1.7 2-.3 2-2.4 2-1.1 2-2 2-1.5 2-2.7 2-1.5 2-.7 2-2.2 2-1 2-1 2-1 2-2 2-1.3 2-1.8 2-1.8 2-1.2 2-1.3 2-1.4 2-1.4 2-1.1 2-1 2-1.6 2-.7 2-1.2 2-1.6 2-.9 2-1.4 2-.8 2-1.3 2-.6 2-1.5 2-.4 2-1 2-.9 2-1.8 2-.3 2-1.4 2-1.4 2-1.4 2-1.1 2-1.6 2-.6 2-1.5 2-1.1 2-1.4 2-1.2 2-1.1 2-1.2 2-1.1 2-1.2 2-1.1 2-1.1 2-1.1 2-1.1 2-1.2 2-1.2 2-1.2 2-1.4 2-1.5 2-1.7 2-1.8 2-1.9 2-2.1 2-2.2 2-2.3 2-2.4 2-2.5 2-2.5 2-2.6 2-2.7 2-2.8 2-2.8 2-3 2-3 2-3 2-3.2 2-3.3 2-3.3 2-3.4 2-3.5 2-3.6 2-3.7 2-3.7 2-3.7 2-3.8 2-3.7 2-3.7 2-3.7 2-3.6 2-3.6 2-3.5 2-3.4 2-3.5 2-3.4 2-3.6 2-3.7 2-3.7 2-3.8 2-3.8 2-3.7"/>
<path d="M178 602.8l2-18.6 2-2.6 2-4.7 2-3.4 2-6.6 2-4.6 2-3.6 2-3.7 2-6 2-4.5 2-9.6 2-2.5 2-1.8 2-3.9 2-7.7 2-3.2 2-3.6 2-3.6 2-4.2 2-2.6 2-1.3 2-2.4 2-5.2 2-1.4 2-1.9 2-2.6 2-6 2-3.2 2-2.8 2-2.8 2-3.8 2-5.8 2-2.8 2-4.4 2-2.5 2-4.4 2-1.6 2-.8 2-5.7 2-4.3 2-3 2-3.1 2-3.5 2 .1 2-2.8 2-2.6 2-1.1 2-4.5 2-1.3 2-4.8 2-3.5 2-.7 2-1.6 2-3.2 2-1.6 2-5.6 2-2.9 2-2.8 2-3.5 2-1.1 2-2.8 2-4.1 2-1.2 2-1.8 2-1.7 2-2.9 2-1.2 2-1.6 2-3 2-2.3 2-2.3 2-3.3 2-2.4 2-.8 2-1 2-.1 2-1.9 2-2.8 2-2.6 2-2.1 2-.7 2-2.1 2-2 2-1.9 2-2.7 2-1.9 2-1.2 2-1.9 2-2.1 2-2.8 2-1.8 2-1.8 2-.2 2-1.4 2-2.8 2-1.2 2-1.9 2-1.5 2-.6 2-1.1 2-1.7 2-2.3 2-2 2-1.5 2-1.5 2-.7 2-1.1 2-1 2-1.4 2-1.4 2-1.4 2-.7 2-2.1 2-.9 2-1 2-1.3 2-.8 2-1.1 2-.8 2-1.6 2-.7 2-.7 2-1 2-1 2-1.2 2-1.2 2-1.2 2-1 2-1 2-1.1 2-.3 2-1.2 2-1.1 2-1.6 2-.8 2-1.3 2-1.3 2-1.3 2-1.3 2-1.2 2-1.1 2-1.2 2-1.3 2-1.3 2-1.4 2-1.6 2-1.7 2-1.9 2-2 2-2.2 2-2.3 2-2.4 2-2.5 2-2.5 2-2.5 2-2.5 2-2.5 2-2.5 2-2.4 2-2.5 2-2.4 2-2.5 2-2.5 2-2.6 2-2.7 2-2.8 2-3 2-3 2-3.2 2-3.3 2-3.4 2-3.4 2-3.4 2-3.5 2-3.4 2-3.4 2-3.4 2-3.3 2-3.2 2-3.2 2-3.2 2-3.2 2-3.3 2-3.4 2-3.6 2-3.6 2-3.8 2-3.7 2-3.7"/>
<path d="M178 614.9l2-14.5 2-7.1 2 .6 2-9.2 2-5.5 2-1.3 2-8.5 2-3.9 2-8.7 2-6.9 2-3.7 2-2.1 2-7.8 2-2.2 2-8 2-4.7 2-4.5 2-7.9 2-1.6 2-3.8 2-4.6 2 2.7 2-3.8 2-6 2 .9 2-5.2 2 .2 2-2.7 2-2.3 2-4 2-2.2 2-2.4 2-1.8 2-7.8 2-3.6 2-3.8 2-2 2-3.6 2-3.4 2-2.6 2-5.2 2-4.1 2-4.3 2-1.7 2-2.9 2-2.7 2-1 2-.1 2-5.8 2-1.9 2-2 2-3.2 2-3.8 2-2.4 2-3.4 2-3.5 2-5.4 2-2.7 2-3.5 2-1.5 2-4 2-2.6 2-2.5 2-3.2 2-1.4 2-3.1 2-1.7 2-2.3 2-3 2-2.3 2-2 2-2.4 2-2.6 2-1.4 2-2.1 2-1.8 2-1.6 2-2.2 2-1.7 2-2.5 2-3 2-2.1 2-2.4 2-1.8 2-2 2-1.6 2-1.9 2-.1 2-1.9 2-1.5 2-1.9 2-.8 2-1.4 2-1.3 2-1.8 2-.1 2-1.2 2-1.8 2-.3 2-1.9 2-2 2-1 2-1.7 2-1.7 2-2.1 2-1.8 2-2 2-1.2 2-1.3 2-1.1 2-1.7 2-.9 2-1.7 2-1.2 2-1.4 2-.9 2-.5 2-1.1 2-.6 2-1.6 2-.7 2-1.3 2-.9 2-.9 2-1.3 2-.8 2-1.1 2-1.2 2-1.4 2-1.1 2-1.2 2-1.3 2-1.3 2-1.1 2-1.4 2-1.4 2-1.1 2-1.4 2-1.4 2-1.2 2-1.3 2-1.4 2-1.3 2-1.4 2-1.4 2-1.6 2-1.6 2-1.7 2-1.9 2-2 2-2.2 2-2.2 2-2.4 2-2.3 2-2.4 2-2.4 2-2.4 2-2.3 2-2.4 2-2.3 2-2.4 2-2.4 2-2.4 2-2.5 2-2.6 2-2.7 2-2.8 2-2.9 2-3 2-3.1 2-3.2 2-3.2 2-3.2 2-3.3 2-3.3 2-3.3 2-3.2 2-3.3 2-3.2 2-3.2 2-3.2 2-3.3 2-3.3 2-3.5 2-3.6 2-3.7 2-3.8 2-3.7 2-3.7"/>
<path d="M178 632.1l2-.4 2-10.2 2-5.1 2-7.3 2 3.3 2-.4 2-3.5 2-9.6 2-8.8 2-6.7 2-4.9 2-5.9 2-4.7 2-2.6 2-3.5 2-3.6 2-5.1 2-7.9 2 .6 2-5 2-4.5 2-.6 2 1.6 2-2 2-4.5 2-6.1 2-.8 2-4.5 2-5 2-6.9 2-5.4 2-8.5 2-2.2 2-8.4 2-3 2-5.7 2-2.5 2-4.6 2-3.3 2-3 2-6.4 2-2.6 2-5.4 2 .1 2-1 2-2.2 2-2.9 2-2.8 2-4.5 2-4.1 2-5.1 2-1.3 2-2.7 2-3.9 2-3 2-3.2 2-2 2-3.6 2-3.5 2-2 2-5.4 2-2.5 2-3.3 2 .1 2-4.3 2-2 2-1.5 2-2.8 2-4.7 2-3.1 2-2.2 2-2.4 2-2.1 2-2.7 2-1.3 2-1.3 2-1.1 2-2.4 2-2 2-3.2 2-1.4 2-2.8 2-2.9 2-2 2-1.9 2-2.5 2-1 2-1.3 2-1.7 2-1.7 2-2.9 2-1.4 2-.9 2-2.5 2-2.9 2-1.7 2-1.3 2-.2 2-2.2 2-1.4 2-.9 2-.9 2-1.9 2-1.7 2-1.3 2-.8 2-1.8 2-1.1 2-1 2-2.2 2-1.8 2-1.2 2-1.4 2-1.3 2-1.8 2-.6 2-1.1 2-1.4 2-.7 2-1.4 2-1.1 2-1.7 2-.8 2-1 2-2.1 2-.8 2-.7 2-1.7 2-1.2 2-.7 2-1.2 2-1.2 2-1.2 2-.9 2-1.2 2-1.1 2-1.3 2-1.3 2-1.4 2-1.1 2-1.3 2-1.3 2-1.3 2-1.2 2-1.4 2-1.4 2-1.4 2-1.6 2-1.8 2-1.8 2-2 2-2.1 2-2.2 2-2.2 2-2.3 2-2.4 2-2.3 2-2.4 2-2.4 2-2.5 2-2.5 2-2.5 2-2.7 2-2.7 2-2.9 2-3 2-3.2 2-3.2 2-3.4 2-3.5 2-3.6 2-3.6 2-3.7 2-3.6 2-3.7 2-3.7 2-3.6 2-3.6 2-3.5 2-3.5 2-3.4 2-3.5 2-3.4 2-3.6 2-3.7 2-3.7 2-3.8 2-3.8 2-3.7"/>
<path d="M178 604.8l2-15.5 2-8.8 2-5.7 2-1.6 2-4.2 2-6.2 2-4 2-3.4 2-3.9 2-7 2-5.3 2-6 2-2.7 2-4.9 2-3.6 2-6.3 2-1.5 2-2.7 2-3.8 2-1.4 2-4.3 2-.5 2-2 2-5.9 2-2.5 2-4.8 2-2.4 2-2.5 2-2.3 2-2.1 2-4.7 2-5.9 2-5.1 2-3.2 2-5.4 2-4.5 2-1.9 2-2.5 2-6.8 2-3.6 2-3.1 2-3.4 2-4.7 2-4.2 2-2.8 2-4.2 2-2.1 2-2.8 2-2.3 2-1.9 2-4.3 2-2.3 2-1.9 2-3 2-1.6 2-3.3 2-3.3 2-2.1 2-1.7 2-2.1 2-2.1 2-2.7 2-2.2 2-1.7 2-3.1 2-2.3 2-1.6 2-1.4 2-1.5 2-1.9 2-2.2 2-2.5 2-2.7 2-1.9 2-1.4 2-1.8 2-1.3 2-2.5 2-2 2-1.7 2-1.5 2-2.2 2-2.8 2-2.1 2-1.5 2-1.9 2-1.4 2-1 2-.7 2-1.8 2-1.3 2-2.3 2-1 2-1 2-1.7 2-1.3 2-.9 2-1.2 2-1.4 2-1.2 2-1.9 2-2.1 2-1.5 2-2.2 2-.6 2-.8 2-1.7 2-1.1 2-1.1 2-1.5 2-1.7 2-1.2 2-.3 2-1.7 2-.7 2-.7 2-.4 2-1.5 2-.7 2-1.3 2-1.6 2-1.1 2-1.3 2-1.2 2-1.8 2-1.7 2-.6 2-.9 2-1.8 2-1.3 2-1.4 2-1.2 2-1.4 2-1.6 2-1.4 2-1 2-1.4 2-1.2 2-1.3 2-1.2 2-1.3 2-1.3 2-1.3 2-1.4 2-1.5 2-1.5 2-1.5 2-1.7 2-1.7 2-1.9 2-2 2-2 2-2.2 2-2.2 2-2.2 2-2.3 2-2.3 2-2.4 2-2.3 2-2.4 2-2.3 2-2.5 2-2.4 2-2.6 2-2.6 2-2.8 2-2.8 2-3 2-3 2-3.2 2-3.2 2-3.3 2-3.3 2-3.3 2-3.2 2-3.3 2-3.3 2-3.2 2-3.2 2-3.1 2-3.2 2-3.1 2-3.3 2-3.4 2-3.5 2-3.7 2-3.7 2-3.7 2-3.6"/>
<path d="M178 610.5l2-8.1 2 .6 2-6.4 2-10 2-3.9 2-1 2-4.3 2-3.5 2-9.5 2-8.1 2-3.5 2-5.5 2-.8 2-7.3 2-4.2 2-5.2 2-4.8 2-4.1 2-1.2 2-7.2 2-4.4 2-4.6 2-1.7 2-1.2 2-.4 2-5.4 2-3.9 2-2.4 2-.1 2-4.1 2-6.7 2-6.3 2-2.9 2-4.6 2-3.3 2-5.5 2-2 2-4.4 2-3.1 2-4.3 2-3.2 2-4.6 2-.8 2-4.3 2-3.2 2-3.3 2 .9 2-4.4 2-2.9 2-3.2 2-2.7 2-3.1 2-2.3 2-3.8 2-4.9 2-1.6 2-2.2 2-1.7 2-2 2-.3 2-1.2 2-4.4 2-3.2 2-2.1 2-1.7 2-1.6 2-2.2 2-3.4 2-3.8 2-3.1 2-2 2-2.4 2-2.5 2-1.2 2-1.3 2-2.1 2-1.7 2-1.5 2-1.8 2-2.8 2-2.2 2-2.7 2-3 2-1 2-2.1 2-1.2 2-2.2 2-.6 2-.1 2-.2 2-2.8 2-1.8 2-1.2 2-1.8 2-2.5 2-.7 2-.8 2-1.1 2-1.9 2-1.4 2-1.3 2-1.4 2-2.1 2-2.7 2-1.5 2-1.4 2-.1 2-.5 2-1.5 2-1.9 2-1.3 2-1.3 2-.7 2-1.2 2-2.1 2-1 2-1 2-1.8 2-.8 2-1.1 2-1.3 2-1.1 2-.7 2-1 2-1.1 2 0 2-1.2 2-.8 2-1.1 2-1.3 2-.8 2-1.3 2-1.5 2-1.3 2-1.4 2-1.5 2-1.6 2-1.5 2-1.5 2-1.4 2-1.3 2-1.4 2-1.4 2-1.5 2-1.4 2-1.5 2-1.5 2-1.6 2-1.7 2-1.7 2-1.8 2-1.8 2-1.8 2-2 2-2 2-2 2-2.1 2-2.2 2-2.3 2-2.4 2-2.5 2-2.6 2-2.7 2-2.8 2-2.9 2-3.1 2-3.1 2-3.3 2-3.3 2-3.5 2-3.5 2-3.6 2-3.6 2-3.7 2-3.7 2-3.6 2-3.7 2-3.6 2-3.5 2-3.5 2-3.4 2-3.5 2-3.4 2-3.6 2-3.7 2-3.7 2-3.8 2-3.8 2-3.7"/>
<path d="M178 644.6l2-6.1 2-3.3 2-1.6 2-6.4 2-7.9 2-3.2 2 1.2 2-9 2-7.8 2-4.9 2-3.2 2-.6 2-10.7 2-2.6 2-6.7 2-5.5 2-3.7 2-5.5 2-3.7 2-8.6 2-4.3 2-2.1 2-6.5 2-4.7 2-2.6 2-7.3 2-4.8 2-1.2 2-5.5 2-7 2-3.6 2-7.1 2-2 2-1.5 2-2.1 2-6.6 2-2.3 2-4.6 2-3.7 2-2.3 2-4.9 2-3.4 2-4.8 2 .8 2-4.7 2-3.2 2-3 2-4.2 2-2.6 2-2.9 2-2 2-1.9 2-2 2-2.3 2-3.5 2-3.4 2-2.7 2-3 2-2.8 2-2.9 2-3.2 2-4.2 2-2.2 2-3.1 2-2.6 2-1.3 2-2.6 2-2 2-2.9 2-2.9 2-3.9 2-4.3 2-2.7 2-1.7 2-2 2-1.5 2-1.9 2-2.5 2-1.4 2-3.2 2-.5 2-3.3 2-2.4 2-3.1 2-1.4 2-1.3 2-1.2 2-1.9 2-1.5 2-1.7 2-2 2-1.4 2-2.2 2-2.1 2-2 2-.7 2-.7 2-1.7 2-.9 2-1.7 2-2.5 2-1.3 2-2.5 2-1.8 2-1.9 2-.8 2-.9 2-1.3 2-1.3 2-2.2 2-1.3 2-1.3 2-.7 2-2 2-.7 2-1.9 2-.6 2-1.3 2-.7 2-1.2 2-.9 2-.6 2-.9 2-.9 2-1.8 2-1.5 2-.9 2-.9 2-1.4 2-1.2 2-1.1 2-1.1 2-1.3 2-1.2 2-1.2 2-1.2 2-1.3 2-1.1 2-1.3 2-1.3 2-1.2 2-1.2 2-1.2 2-1.3 2-1.3 2-1.4 2-1.4 2-1.6 2-1.8 2-1.8 2-2 2-2.1 2-2.3 2-2.3 2-2.4 2-2.5 2-2.6 2-2.7 2-2.7 2-2.8 2-2.9 2-2.9 2-3 2-3.1 2-3.2 2-3.3 2-3.3 2-3.4 2-3.5 2-3.6 2-3.7 2-3.7 2-3.7 2-3.8 2-3.7 2-3.7 2-3.7 2-3.6 2-3.6 2-3.5 2-3.4 2-3.5 2-3.4 2-3.6 2-3.7 2-3.7 2-3.8 2-3.8 2-3.7"/>
<path d="M178 617.3l2-17.3 2-8.5 2-5.1 2-3.3 2 .2 2-8.8 2-5.3 2-6.5 2-8.9 2-1.2 2-.1 2-1.8 2-7.2 2-3.2 2-2.3 2-6.4 2-2.2 2-2.8 2-4.6 2-5.3 2-2.6 2-4.7 2-3.8 2-5.6 2 1.8 2-5.8 2-3.4 2-2.6 2-2.2 2-1.1 2-5.7 2-7.8 2-.3 2-4.5 2-4.6 2-5.4 2-1.6 2-3.8 2-6.8 2-.8 2-3.5 2-3.7 2-4.9 2-1.1 2-1.5 2-.5 2-4.3 2-4.3 2-1 2-1.8 2-3.3 2 .3 2-3.4 2-2.4 2-2.4 2-3.7 2-4.1 2-1.2 2-3.6 2-4.6 2-2.3 2-2.9 2-3.4 2-2.2 2-2.2 2-1.4 2-3.8 2-1.2 2-3.1 2-2.1 2-2.5 2-2.5 2-1.8 2-1.3 2-3.4 2-1.4 2-.4 2-2.3 2-1.9 2-3.1 2-.5 2-2.9 2-3 2-1.1 2-2.5 2-1.4 2-1 2-1.3 2-1.8 2-1.3 2-1.4 2-1.4 2-2 2-1.9 2-2.5 2-1.1 2-1.5 2 0 2-1.5 2-1.8 2-1.6 2-.7 2-1.6 2-2.6 2-1.6 2-1.5 2-1.7 2-.8 2-1.8 2-1.2 2-1 2-1.1 2-1.3 2-1.1 2-1.4 2-.9 2-.5 2-1.1 2-.8 2-.7 2-1 2-1.3 2-.9 2-1.1 2-2.3 2-1.2 2-1.5 2-.5 2-1.6 2-1.3 2-1.2 2-1.4 2-1.2 2-1.3 2-1.2 2-1.4 2-1.4 2-1.1 2-1.4 2-1.3 2-1.2 2-1.3 2-1.2 2-1.3 2-1.4 2-1.3 2-1.5 2-1.6 2-1.7 2-1.8 2-2 2-2.1 2-2.2 2-2.3 2-2.3 2-2.5 2-2.4 2-2.5 2-2.5 2-2.5 2-2.5 2-2.7 2-2.6 2-2.8 2-2.9 2-3 2-3.1 2-3.2 2-3.4 2-3.5 2-3.5 2-3.7 2-3.7 2-3.7 2-3.7 2-3.7 2-3.7 2-3.6 2-3.6 2-3.5 2-3.4 2-3.5 2-3.4 2-3.6 2-3.7 2-3.7 2-3.8 2-3.8 2-3.7"/>
<path d="M178 625.5l2-10.7 2-5.2 2-7.4 2-7.5 2-5.2 2-5.1 2-4.2 2-3.9 2-7.6 2-8.5 2-3.9 2-2.5 2-7.3 2-7.1 2-5.6 2-4.7 2-5.7 2-4.6 2-1.5 2 3.1 2-8.5 2-4.4 2-1.4 2-6.4 2 .4 2-7.4 2-3.8 2-4.5 2-1.2 2-7.6 2-5.7 2-5.1 2-4.6 2-3.8 2-4.1 2-1 2-3 2-5.3 2-2.5 2-2 2-1.4 2-2 2-2.6 2-3.2 2-4.1 2-2.9 2-3.6 2-3.1 2-1.5 2-2.9 2-2.6 2-1.2 2-2.8 2-1.2 2-2.5 2-.6 2-3 2-2.6 2-3.5 2-.8 2-4.6 2-1.4 2-2.7 2-4 2-1.4 2-.9 2-2.2 2-2.5 2-1.8 2-2.5 2-2.1 2-3.1 2-2.4 2-.2 2-1.5 2-2.8 2-1.6 2-2.1 2-1.9 2-2.9 2-2.4 2-2.4 2-2 2-1.8 2-3.2 2-2.4 2-.8 2-1 2-.7 2-1.7 2-1.4 2-2.2 2-.4 2-1.9 2-2.3 2-1.5 2-1.9 2-.9 2-1.9 2-.5 2-1.4 2-1.1 2-1.4 2-2.4 2-2 2-1.2 2-.8 2-1 2-1.7 2-1 2-2.1 2-1.7 2-1.3 2-1.7 2-.6 2-1 2-.3 2-.8 2-1.3 2-.9 2-1.3 2-1.5 2-.9 2-1.2 2-1.6 2-1 2-.5 2-1.4 2-1.5 2-.4 2-1.2 2-1.3 2-1 2-1.3 2-1.2 2-1.3 2-1.4 2-1.3 2-1.6 2-1.3 2-1.4 2-1.5 2-1.4 2-1.5 2-1.6 2-1.5 2-1.7 2-1.7 2-1.8 2-1.9 2-2 2-2.1 2-2.1 2-2.2 2-2.2 2-2.2 2-2.2 2-2.3 2-2.3 2-2.3 2-2.4 2-2.5 2-2.5 2-2.8 2-2.8 2-3.1 2-3.1 2-3.3 2-3.4 2-3.5 2-3.6 2-3.6 2-3.7 2-3.7 2-3.7 2-3.7 2-3.7 2-3.6 2-3.5 2-3.5 2-3.4 2-3.5 2-3.4 2-3.6 2-3.7 2-3.7 2-3.8 2-3.8 2-3.7"/>
<path d="M178 649.7l2-.2 2 1.7 2-5.3 2 3.4 2-2.5 2-8.1 2-9.1 2-3 2-16.4 2-8.3 2-2.5 2-5.9 2-8.9 2 .4 2-9.7 2-2.8 2-3.9 2-5.6 2-2.3 2-2.9 2-4.5 2-.6 2-7.4 2-4.6 2 2.2 2-7.5 2-3.9 2-4.1 2-3.1 2-7.6 2-5.4 2-6.8 2-2.4 2-4.9 2-6 2-5.4 2-1.4 2-4.1 2-4.7 2-3.9 2-3.4 2-5 2-2.2 2-2.5 2-3.9 2-4.4 2-3.9 2-3.6 2-3 2-3.3 2-3.3 2-3.4 2-3.6 2-2.9 2-3.2 2-3.7 2-3.1 2-3.2 2-2.1 2-2.6 2-3.1 2-3.9 2-2.6 2-3.1 2-1.8 2-2 2-3 2-2.1 2-3.4 2-2.1 2-3.6 2-3.2 2-3 2-1.1 2-1.8 2-1.7 2-1.5 2-2.2 2-2.1 2-2.9 2-2.1 2-2.4 2-2.7 2-2.3 2-2.5 2-1.8 2-2.1 2-1.6 2-.9 2-2 2-1 2-1.6 2-1.7 2-2.6 2-1.9 2-1.2 2-1.2 2-1.4 2-.9 2-1.7 2-1.8 2-1.4 2-1.5 2-1.6 2-1.3 2-1.6 2-1.2 2-1.6 2-1.2 2-1.1 2-1.5 2-1.6 2-1.8 2-1.2 2-.7 2-.8 2-1.2 2-1.2 2-1.6 2-1.1 2-1.2 2-.9 2-.9 2-1.4 2-1.5 2-1.1 2-1.3 2-1.1 2-1.2 2-1.3 2-1.1 2-1.4 2-1.5 2-1.8 2-1.4 2-1.3 2-1.3 2-1.4 2-1.3 2-1.2 2-1.2 2-1.2 2-1.2 2-1.3 2-1.3 2-1.4 2-1.5 2-1.7 2-1.8 2-1.9 2-2 2-2.2 2-2.3 2-2.4 2-2.4 2-2.5 2-2.6 2-2.7 2-2.7 2-2.8 2-2.9 2-2.9 2-3 2-3.1 2-3.2 2-3.3 2-3.3 2-3.4 2-3.5 2-3.6 2-3.7 2-3.7 2-3.7 2-3.8 2-3.7 2-3.7 2-3.7 2-3.6 2-3.6 2-3.5 2-3.4 2-3.5 2-3.4 2-3.6 2-3.7 2-3.7 2-3.8 2-3.8 2-3.7"/>
<path d="M178 620.8l2-17.4 2-3.1 2-6 2 0 2-7.5 2-.4 2-7.5 2-4.8 2-3.7 2-7.5 2 .3 2-4.9 2-6.7 2-7.3 2-3.9 2-4.2 2-1.2 2-9.8 2-3.8 2-4 2-3.1 2-3.6 2-6.3 2-3.5 2-1.1 2-2.4 2-1.2 2-2.9 2 .9 2-7.8 2-2 2-7.9 2-1.8 2-3.9 2-2.4 2-3.3 2-1.3 2-3.7 2-4.5 2-2.3 2-3.7 2-4.2 2-3.9 2-2 2-.8 2-4.2 2-3.9 2-2.8 2-3.5 2-4.2 2-2.3 2-1.6 2-3.6 2-2.7 2-3.4 2-2.4 2-2.1 2-1.8 2-4 2-3.3 2-2.6 2-2.9 2-2.4 2-3 2-.6 2-3.4 2-2.8 2-3.1 2-3 2-2.6 2-2.6 2-1.5 2-2.9 2-1.6 2-1.6 2-2.5 2-1 2-2.3 2-2.3 2-1.6 2-1.9 2-2.5 2-2.6 2-1.6 2-.8 2-1.1 2-1 2-1.5 2-1.6 2-1.2 2-1.1 2-2.3 2-1.8 2-1.6 2-3.1 2-1.6 2-1.4 2-1 2-1.2 2-2.6 2-1.3 2-1.4 2-1.6 2-1.6 2-1.7 2-1.2 2-1.7 2-1.7 2-1.4 2-1.4 2-1.7 2-1.3 2-1 2-.8 2-.6 2-.8 2-.5 2-1.8 2-.8 2-.8 2-1.8 2-1 2-.9 2-1.6 2-1.8 2-1.3 2-1 2-1 2-1 2-.5 2-1.3 2-1.1 2-1.1 2-1.2 2-1.5 2-1.3 2-1.3 2-1.1 2-1.4 2-1.2 2-1.3 2-1.3 2-1.3 2-1.4 2-1.4 2-1.4 2-1.6 2-1.6 2-1.8 2-1.8 2-2.1 2-2.1 2-2.3 2-2.3 2-2.4 2-2.5 2-2.5 2-2.6 2-2.6 2-2.6 2-2.6 2-2.7 2-2.8 2-2.8 2-2.9 2-3 2-3.1 2-3.3 2-3.3 2-3.4 2-3.5 2-3.6 2-3.6 2-3.7 2-3.6 2-3.7 2-3.6 2-3.5 2-3.6 2-3.4 2-3.4 2-3.5 2-3.4 2-3.6 2-3.7 2-3.7 2-3.8 2-3.8 2-3.7"/>
<path d="M178 631.5l2-13 2-1.4 2 3.5 2-10.4 2-5.5 2-4.5 2 0 2-4.3 2-7.3 2-9.1 2-3.8 2-5 2-7.5 2-1.1 2-3.3 2-4.7 2-4.2 2-2.4 2-1.8 2-6.1 2-4.3 2-2.5 2-3.5 2-2.9 2-.9 2-3.7 2 .1 2-9.4 2-4 2-7 2-5.6 2-3.1 2-4.4 2-7.7 2-2.7 2-3.1 2-2.4 2-2.5 2-5.6 2-4.5 2-4.1 2-5.2 2 .1 2 .3 2-4.3 2-5.5 2-1.5 2-3.9 2-3.3 2-3.1 2-2.4 2-4.1 2-3.7 2-2.3 2-2.2 2-1.8 2-2.7 2-4.3 2-1.4 2-3.4 2-1.6 2-3 2-1.9 2-3.9 2-2.9 2-1.6 2-2.4 2-1.4 2-4.2 2-3.3 2-2.5 2-2.9 2-3.5 2-1.6 2-1.4 2-1.7 2-2.7 2-2.3 2-2.4 2-2.3 2-1.9 2-3.2 2-2.3 2-1.6 2-1.9 2-1.6 2-2.7 2-1.3 2-1.9 2-1.6 2-1.6 2-1.1 2-1.3 2-1.4 2-2 2-1.3 2-1.6 2-2.1 2-2.2 2-1.7 2-2.4 2-1.6 2-.9 2-1.7 2-2 2-1.2 2-1.4 2-1.1 2-1.3 2-1.8 2-1.6 2-1.1 2-1 2-1 2-1.2 2-.8 2-1 2-2.3 2-1.3 2-1.5 2-.8 2-.9 2-.7 2-1.5 2-1.4 2-1.3 2-1.2 2-.9 2-1 2-1.4 2-1.1 2-1.1 2-1.4 2-1.3 2-1.2 2-1.2 2-1.2 2-1.5 2-1.3 2-1.3 2-1.3 2-1.3 2-1.3 2-1.3 2-1.4 2-1.4 2-1.4 2-1.6 2-1.7 2-1.7 2-2 2-2 2-2.2 2-2.3 2-2.3 2-2.5 2-2.5 2-2.5 2-2.6 2-2.6 2-2.6 2-2.7 2-2.8 2-2.8 2-2.9 2-3 2-3.1 2-3.3 2-3.3 2-3.5 2-3.6 2-3.6 2-3.7 2-3.8 2-3.7 2-3.7 2-3.7 2-3.6 2-3.6 2-3.5 2-3.4 2-3.5 2-3.4 2-3.6 2-3.7 2-3.7 2-3.8 2-3.8 2-3.7"/>
<path d="M178 625.1l2-13.4 2 6 2-4.1 2-3.4 2-1.6 2-7.5 2-1.5 2-7.9 2-6.9 2-10 2-7.8 2-.5 2-6.9 2-7.6 2-2.9 2-5.2 2-2.4 2-2.1 2-5.8 2-3.5 2-6.2 2-.6 2-6.3 2-1.9 2 .2 2-7.8 2-1.8 2-4.2 2-4.5 2-4.9 2-3.1 2-4.7 2-3.8 2-4 2-4.9 2-5.3 2-.3 2-3.5 2-3.4 2-1 2-2.1 2-4.8 2-3.9 2-3 2-2.9 2-3.8 2-3.3 2-4 2-.8 2-5 2-4.2 2-2.7 2-3.6 2-2.1 2-5.1 2-3.9 2-1 2-2.3 2-3 2-1.9 2-2.6 2-4.5 2-2.3 2-2.7 2-2.1 2-1.5 2-3 2-2.8 2-2.5 2-2.8 2-2.5 2-2.9 2-2.5 2-1.1 2-1.2 2-2.4 2-1.7 2-1 2-2.8 2-2.3 2-2.3 2-1.6 2-2.6 2-2.3 2-3 2-1.7 2-1.7 2-.4 2-.8 2-1.2 2-1.8 2-2.1 2-1.7 2-1.3 2-1.8 2-.7 2-.8 2-.3 2-2 2-2.2 2-1.7 2-2.4 2-1.9 2-2.7 2-.8 2-2.6 2-1.9 2-.7 2-1.3 2-1.3 2-1.4 2-1.5 2-1.2 2-1.1 2-1.8 2-1 2-1 2-1.4 2-.9 2-1.3 2-.3 2-1 2-1.2 2-.9 2-1.3 2-1 2-1.3 2-1.1 2-.9 2-1 2-1.1 2-1.3 2-1 2-1.1 2-1.5 2-1.4 2-1.2 2-1.3 2-1.2 2-1.3 2-1.2 2-1.3 2-1.3 2-1.4 2-1.4 2-1.5 2-1.6 2-1.7 2-1.8 2-1.9 2-2.1 2-2.1 2-2.2 2-2.3 2-2.2 2-2.3 2-2.3 2-2.3 2-2.3 2-2.4 2-2.4 2-2.6 2-2.6 2-2.7 2-2.9 2-3.1 2-3.1 2-3.3 2-3.4 2-3.6 2-3.6 2-3.7 2-3.7 2-3.8 2-3.7 2-3.7 2-3.7 2-3.6 2-3.6 2-3.5 2-3.4 2-3.5 2-3.4 2-3.6 2-3.7 2-3.7 2-3.8 2-3.8 2-3.7"/>
<path d="M178 620.5l2-14.7 2-3.8 2-.8 2-2.4 2-2.8 2-6.2 2 .1 2-4.5 2-6.2 2-6 2-9.6 2-5.1 2-5.7 2-7 2-2.3 2-4.5 2-3.3 2-3.1 2 .2 2-4.2 2-4.7 2 .1 2-4 2-3 2 3.8 2-4.5 2-4 2-5.5 2-2.8 2-7.6 2-2.3 2-6.2 2-4.3 2-4 2-3.9 2-5.9 2-2.5 2-3.2 2-3.4 2-3.4 2-2.6 2-3.4 2-2 2-3.5 2-3.4 2-4.8 2-4.8 2-4.1 2-4.1 2-4.3 2-4.1 2-1 2-1.4 2-4.1 2-1.1 2-3.3 2-2.7 2-3 2-3.1 2-2.8 2-1.7 2-2.5 2-3.2 2-1.4 2-.9 2-3.6 2-2.3 2-1.8 2-2.4 2-3.5 2-2.6 2-3.1 2-1.8 2-2 2-1.8 2-.6 2-2.3 2-3.1 2-1.3 2-2.5 2-1 2-3.3 2-3 2-1.4 2-2.4 2-1.5 2-1.9 2-.7 2-1.5 2-.3 2-2.3 2-3 2-2.4 2-1.9 2-1.7 2-1.6 2-1.4 2-1.2 2-1.9 2-1.6 2-2.1 2-1.9 2-1.9 2-1.3 2-2.1 2-.1 2-1.1 2-1.5 2-1.1 2-1.3 2-1.1 2-.9 2-1.3 2-1.3 2-1.3 2-1.1 2-1.5 2-1.1 2-1.5 2-1.2 2-.8 2-1.2 2-.7 2-1.2 2-.9 2-1.4 2-1.4 2-.8 2-.9 2-1.1 2-1.6 2-1.3 2-1.7 2-1.5 2-1.3 2-1.7 2-1.5 2-1.4 2-1.5 2-1.4 2-1.5 2-1.5 2-1.5 2-1.5 2-1.5 2-1.6 2-1.6 2-1.6 2-1.8 2-1.8 2-2 2-2.1 2-2.1 2-2.3 2-2.2 2-2.4 2-2.3 2-2.4 2-2.4 2-2.4 2-2.5 2-2.5 2-2.7 2-2.7 2-2.8 2-2.9 2-3 2-3.1 2-3.2 2-3.4 2-3.4 2-3.4 2-3.5 2-3.6 2-3.5 2-3.6 2-3.6 2-3.5 2-3.5 2-3.4 2-3.4 2-3.5 2-3.4 2-3.6 2-3.7 2-3.7 2-3.8 2-3.8 2-3.7"/>
<path d="M178 627.6l2-11.8 2-2 2-5.2 2 3 2-6.1 2-6.1 2-4.9 2-5.5 2-11.4 2-7.3 2-3.2 2-9.7 2-2.7 2-3.6 2-.5 2-7.8 2-4.4 2-7.5 2-6.8 2-1.5 2-9.5 2 0 2-4.1 2-3.3 2-2.9 2-3.5 2-3.2 2 .1 2-2.7 2-5.4 2-6.9 2-2.7 2-5.6 2-4.5 2-.6 2-7.9 2-3.4 2-2.8 2-2.3 2-4.1 2-2.1 2-2 2-3.6 2-1.7 2-1.7 2-4.6 2-4.1 2-2 2-2.7 2-3.8 2-3.9 2-1.1 2-4.2 2-2.7 2-2.2 2-3.3 2-2.4 2-4 2-2 2-2.1 2-1.6 2-3.8 2-2.5 2-2.6 2-2.5 2-1.5 2-2 2-2.5 2-3.2 2-2.3 2-1.9 2-2.5 2-1.5 2-1.7 2-2.4 2-1.1 2-1.8 2-2.4 2-1.5 2-3.3 2-.5 2-1.8 2-3.4 2-2 2-2.9 2-1.1 2-1.6 2-.9 2-1.5 2-1.4 2-1.7 2-1.2 2-1.8 2-1.6 2-1.8 2-1.4 2-1.7 2-.3 2-1.7 2-1.6 2-2 2-1.9 2-1.5 2-2.4 2-1 2-1.6 2-2 2-1.2 2-.9 2-1.1 2-1 2-1.4 2-1.3 2-1.2 2-1.2 2-.4 2-.6 2-1.6 2-1 2-1.4 2-1.4 2-.6 2-1.8 2-1.6 2-1.7 2-.9 2-1.6 2-.9 2-.8 2-1 2-1 2-1.3 2-1.2 2-1.5 2-1.2 2-1.2 2-1.1 2-1.1 2-1.1 2-1.1 2-1.1 2-1.1 2-1 2-1.1 2-1.1 2-1.1 2-1.3 2-1.3 2-1.6 2-1.7 2-1.9 2-2 2-2.2 2-2.3 2-2.4 2-2.5 2-2.5 2-2.6 2-2.7 2-2.7 2-2.8 2-2.9 2-2.9 2-3.1 2-3.1 2-3.3 2-3.3 2-3.4 2-3.5 2-3.6 2-3.7 2-3.7 2-3.7 2-3.8 2-3.7 2-3.7 2-3.7 2-3.6 2-3.6 2-3.5 2-3.4 2-3.5 2-3.4 2-3.6 2-3.7 2-3.7 2-3.8 2-3.8 2-3.7"/>
<path d="M178 632.2l2-2.8 2-6.8 2-11.9 2-1.4 2-2.5 2-2.8 2-4.9 2-3.2 2-2.8 2-5.4 2-3.9 2-5.1 2-8.9 2-3.4 2-3.2 2-8.3 2-4.9 2-6.6 2-1.4 2-2.2 2-10.3 2 .2 2-5.6 2-6.5 2-1.9 2-4.2 2-5 2-3.8 2-2.2 2-4.5 2-3 2-6.7 2-2.4 2-4.3 2-4.5 2-5.8 2-2.8 2-3.5 2-4.3 2-1.9 2-3.9 2-2.8 2-3 2-2.7 2-1.4 2-1.6 2-2.9 2-5.8 2-3.2 2-4.7 2-3.7 2-3.4 2-2.9 2-1.9 2-3.4 2-2.5 2-3.6 2-3.6 2-1.7 2-1.7 2-2.8 2-5 2-2.4 2-2.1 2-1.8 2-1.5 2-2.7 2-2.6 2-2.5 2-2.9 2-3.2 2-2 2-3.4 2-.8 2-1.5 2-2.1 2-1.7 2-3.1 2-2.8 2-2.5 2-1.8 2-2.8 2-3.9 2-1.9 2-1.7 2-2 2-1.8 2-1.3 2-2.1 2-.7 2-1.6 2-1.2 2-1.3 2-1.8 2-2.4 2-1 2-1.6 2-1.6 2-.2 2-2.8 2-1.6 2-1.7 2-1.5 2-1.4 2-1.8 2-1.2 2-1.7 2-1.6 2-.9 2-1.6 2-1.4 2-.7 2-1.6 2-1.3 2-1.6 2-2 2-1.1 2-1.1 2-.7 2-.9 2-.6 2-1 2-.8 2-1.9 2-2 2-.5 2-1.5 2-.8 2-1.6 2-1.4 2-.6 2-1 2-1.3 2-1.1 2-1.1 2-.9 2-.9 2-1.2 2-1.2 2-1.3 2-1.2 2-1.4 2-1.3 2-1.4 2-1.5 2-1.5 2-1.6 2-1.8 2-1.8 2-1.9 2-2.1 2-2.1 2-2.3 2-2.3 2-2.4 2-2.5 2-2.4 2-2.5 2-2.4 2-2.5 2-2.4 2-2.5 2-2.5 2-2.6 2-2.6 2-2.8 2-3 2-3 2-3.2 2-3.4 2-3.4 2-3.5 2-3.6 2-3.6 2-3.6 2-3.7 2-3.6 2-3.5 2-3.6 2-3.4 2-3.4 2-3.5 2-3.4 2-3.6 2-3.7 2-3.7 2-3.8 2-3.8 2-3.7"/>
<path d="M178 608.1l2-21 2 2.6 2-4.9 2-1.8 2-7 2 .7 2-2.2 2-7.2 2-7.7 2-8.6 2-5.7 2-5.7 2-4.4 2-6.6 2-1.6 2-6.6 2-3.2 2-1.2 2 .4 2-7 2-5.1 2-1 2-4 2-6.6 2-.9 2-1.5 2-2.2 2-1.9 2-1.9 2-3.6 2-5.3 2-6.2 2-1 2-5.5 2-2.4 2-4.2 2-2.3 2-1 2-5.1 2-3.1 2-4.8 2-2.9 2-1 2-1.1 2-4.7 2-1.8 2-4.2 2-3.2 2-4.1 2-5.1 2-2.3 2-2.7 2-2.2 2-3.4 2-1.3 2-3.7 2-3.2 2-4.7 2-2.2 2-1.9 2-3.2 2-2.1 2-3.5 2-3.1 2-.4 2-.6 2-3 2-1.4 2-3.2 2-3.6 2-1.8 2-2.3 2-1.7 2-2.9 2-1.8 2-1.2 2-1 2-1.7 2-1.9 2-3 2-1.7 2-1.4 2-1.8 2-3 2-1.8 2 0 2-2.6 2-1.3 2-.4 2-.7 2-.8 2-1.9 2-2.2 2-2.3 2-1.3 2-.3 2-1.9 2-1.3 2-.9 2-2 2-1.5 2-1.6 2-1.9 2-1.8 2-1.4 2-1.2 2-.9 2-1.2 2-1.8 2-.9 2-2 2-.3 2-1.2 2-1.3 2-1.4 2-.6 2-.7 2-1.1 2-1.6 2-1.8 2-.3 2-1.5 2-.8 2-1.6 2-1.4 2-1.3 2-1.4 2-.8 2-.9 2-1 2-.9 2-1.4 2-1.4 2-1 2-1.4 2-1.7 2-1.6 2-1.3 2-1.4 2-1.6 2-1.5 2-1.4 2-1.5 2-1.5 2-1.6 2-1.6 2-1.7 2-1.7 2-1.9 2-2 2-2.1 2-2.3 2-2.3 2-2.3 2-2.5 2-2.4 2-2.5 2-2.5 2-2.5 2-2.5 2-2.5 2-2.6 2-2.6 2-2.7 2-2.7 2-2.8 2-2.9 2-3.1 2-3.1 2-3.2 2-3.3 2-3.3 2-3.3 2-3.4 2-3.4 2-3.4 2-3.3 2-3.4 2-3.3 2-3.2 2-3.3 2-3.3 2-3.3 2-3.5 2-3.7 2-3.7 2-3.8 2-3.7 2-3.7"/>
<path d="M178 651l2 3.3 2-5 2-4.7 2-5.2 2-7 2-2 2-2.7 2-14.8 2-12.8 2-4.7 2-4.4 2-3.3 2-6.1 2-3.6 2-6.6 2-4.3 2 1.7 2-3.6 2-6.6 2-4.8 2-4.8 2-1.4 2-6.6 2-7.3 2-.7 2-7 2-6.2 2-6 2-4.4 2-4.3 2-5.5 2-7.3 2-2.3 2-4.9 2-3.1 2-3.5 2-4.3 2-2.9 2-2.6 2-1.8 2-3.2 2-4.4 2-3.3 2-4.2 2-2.6 2-2.1 2-3.8 2-3.5 2-3.6 2-3.4 2-2.5 2-2.1 2-3.6 2-2.4 2-3 2-3.6 2-2.6 2-2.7 2-3.6 2-2 2-3.1 2-4.2 2-3 2-2.7 2-2.4 2-2.2 2-2.7 2-2.2 2-2.6 2-2.9 2-3.1 2-3.1 2-2 2-1.6 2-2 2-2.1 2-2 2-2.4 2-2.2 2-2.6 2-1.8 2-2.5 2-2.3 2-2.4 2-2.6 2-1.2 2-1.5 2-.8 2-1.4 2-1.4 2-1.6 2-2.3 2-1.6 2-1.6 2-2.4 2-1.5 2-1.6 2-1.1 2-1.6 2-2.2 2-1.7 2-2.5 2-1.2 2-2 2-1.2 2-1.3 2-1.3 2-1.4 2-1.7 2-1.1 2-2 2-.9 2-1.4 2-1.7 2-1.4 2-.5 2-1 2-1 2-.8 2-1.3 2-.8 2-1.6 2-.6 2-1.6 2-1.5 2-.9 2-.8 2-.8 2-1.3 2-.9 2-1.3 2-1.1 2-1.1 2-1.6 2-1.2 2-1.4 2-1.4 2-1.3 2-1.3 2-1.2 2-1.3 2-1.2 2-1.3 2-1.2 2-1.4 2-1.4 2-1.5 2-1.6 2-1.8 2-1.9 2-2.1 2-2.1 2-2.3 2-2.4 2-2.4 2-2.5 2-2.6 2-2.7 2-2.7 2-2.8 2-2.9 2-2.9 2-3 2-3.1 2-3.2 2-3.3 2-3.3 2-3.4 2-3.5 2-3.6 2-3.7 2-3.7 2-3.7 2-3.8 2-3.7 2-3.7 2-3.7 2-3.6 2-3.6 2-3.5 2-3.4 2-3.5 2-3.4 2-3.6 2-3.7 2-3.7 2-3.8 2-3.8 2-3.7"/>
<path d="M178 619.7l2-14.7 2-.4 2-.6 2-3.2 2-6.7 2-1.8 2-5.4 2-4.4 2-9.7 2-7.8 2-2.4 2-2.4 2-6.5 2-1.7 2-4.2 2-8.9 2-1.8 2-4.4 2-1.8 2-2.3 2-4.7 2-.2 2-7.6 2-4.6 2-2.1 2-6.1 2-7.1 2-1.3 2 2.5 2-9 2-5.9 2-5.6 2-6.5 2-4.1 2-4.1 2-4.6 2-3.2 2-1.4 2-3.3 2-3.2 2-3 2-5.3 2-5.9 2-2.3 2-2.8 2-3.8 2-2.8 2-4.1 2 0 2-4.8 2-4.2 2-1 2-1.3 2-1.6 2-1.6 2-2.4 2-3.5 2-3.6 2-2.7 2-2.8 2-1.5 2-2.9 2-2.8 2-3.2 2-3.2 2-1.4 2-2 2-1.2 2-2.6 2-2.1 2-3.3 2-3.5 2-2.9 2-1.7 2-1.7 2-1.7 2-1.2 2-1.5 2-2.2 2-2.3 2-2 2-2.4 2-2.1 2-1.7 2-3.7 2-1.5 2-.5 2-1.7 2-.8 2-1.9 2-1.9 2-1.7 2-.7 2-1 2-3 2-.6 2-1.6 2-1.3 2-2.1 2-1.1 2-1.7 2-1.9 2-1.2 2-1.5 2-1.9 2-.8 2-1.2 2-.9 2-.8 2-.9 2-1.4 2-2.3 2-1 2-1.5 2-.8 2-.5 2-.3 2-.3 2-1.4 2-1.6 2-.7 2-.4 2-1.7 2-1.5 2-1.6 2-1.5 2-.6 2-.8 2-1.4 2-1 2-1.4 2-1.5 2-1.1 2-1.2 2-1.2 2-1.7 2-1.3 2-1.2 2-1.5 2-1.4 2-1.5 2-1.5 2-1.6 2-1.6 2-1.7 2-1.8 2-1.8 2-2 2-2.1 2-2.2 2-2.3 2-2.3 2-2.3 2-2.4 2-2.3 2-2.3 2-2.4 2-2.3 2-2.3 2-2.3 2-2.4 2-2.5 2-2.5 2-2.6 2-2.7 2-2.8 2-2.8 2-3 2-3.1 2-3.1 2-3.3 2-3.2 2-3.3 2-3.3 2-3.4 2-3.3 2-3.4 2-3.3 2-3.3 2-3.3 2-3.3 2-3.3 2-3.4 2-3.6 2-3.6 2-3.8 2-3.7 2-3.8 2-3.7"/>
<path d="M178 638.9l2-4.1 2-.5 2-9 2-.7 2-4.6 2-2.3 2-12.2 2-3 2-10.4 2-6 2-3.1 2-5.9 2-6.1 2-3.8 2-6.9 2-7.9 2-4.9 2-5.5 2-4 2-2.7 2-2.3 2-4.3 2-6.4 2-5 2-4.6 2-2.7 2-5.6 2-2.4 2-1.4 2-7.3 2-1.4 2-7.4 2-1.1 2-4.2 2-3.6 2-6.7 2-1 2-3.2 2-2.3 2-1.1 2-3.7 2-.6 2-5 2-3.8 2-3.9 2-3.2 2-3.8 2-4.5 2-4.2 2-3.9 2-1 2-1.2 2-3.6 2-2.1 2-4.9 2-4.5 2-1.4 2-3.3 2-3.1 2-3.2 2-3.2 2-3.5 2-3.6 2-3.1 2-1.7 2-1.9 2-3 2-2.1 2-2.9 2-3.1 2-2.7 2-2.7 2-1.8 2-1 2-1.9 2-2 2-1.6 2-1.6 2-2.3 2-3 2-1.6 2-2.5 2-2.7 2-1.7 2-1.7 2-1.7 2-1.2 2-.5 2-.1 2-1.7 2-1.2 2-2.5 2-.9 2-2.7 2-1.9 2-.9 2-1.7 2-2.3 2-1.7 2-.8 2-1.7 2-2.1 2-1.4 2-2.4 2-1.5 2-.8 2-1.5 2-1.6 2-1.2 2-1.6 2-1.8 2-.9 2-1 2-1.3 2-1.1 2-1.1 2-.6 2-1.3 2-1 2-1.3 2-1.2 2-.8 2-.9 2-.4 2-2.1 2-1.3 2-1.3 2-1.4 2-1.3 2-.9 2-1.4 2-1.6 2-1.4 2-1.2 2-1.3 2-1.2 2-1.1 2-1.4 2-1.3 2-1.2 2-1.2 2-1.2 2-1.1 2-1.3 2-1.2 2-1.3 2-1.5 2-1.6 2-1.7 2-1.9 2-2.1 2-2.3 2-2.3 2-2.4 2-2.5 2-2.5 2-2.5 2-2.5 2-2.5 2-2.5 2-2.5 2-2.6 2-2.7 2-2.8 2-3 2-3 2-3.2 2-3.4 2-3.4 2-3.5 2-3.6 2-3.7 2-3.8 2-3.7 2-3.7 2-3.7 2-3.7 2-3.7 2-3.5 2-3.5 2-3.4 2-3.5 2-3.4 2-3.6 2-3.7 2-3.7 2-3.8 2-3.8 2-3.7"/>
<path d="M178 619.2l2-11.2 2-1 2-6 2-7.1 2-7.2 2-2.2 2-1.9 2-7.8 2-2 2-4.3 2-5.4 2-2.5 2-7.6 2-6.7 2-2.9 2-4.3 2-.8 2-3 2-4.5 2-2.1 2-6.7 2-1.5 2-1.5 2-4.3 2 5 2-9.2 2-3.9 2-3.3 2-4.8 2-2.4 2-6.4 2-5.6 2-2.4 2-5.4 2-6.2 2-4.7 2-1.1 2-3.1 2-2.1 2-2.1 2-5.1 2-2.8 2-4 2-2.1 2-.7 2-3.2 2-2.2 2-4.4 2-3.2 2-2.1 2-2.3 2-2.1 2-3.7 2-3.6 2-2.9 2-3.2 2-5.1 2-3.1 2-2.2 2-4.4 2-1.7 2-1.2 2-3.2 2-1.8 2-2.8 2-1.3 2-2.3 2-3.4 2-3.7 2-3.1 2-2.5 2-3.2 2-1.7 2-1.8 2-2.4 2-2 2-1.3 2-2.5 2-1.8 2-2.8 2-2.3 2-3.7 2-2.4 2-2.1 2-1.6 2-1.4 2-2 2-.7 2-1.1 2-2.4 2-2 2-1.1 2-1.2 2-.6 2-2.5 2-.8 2-1.9 2-1.6 2-1.3 2-2.1 2-1.9 2-1.6 2-2.3 2-1.6 2-1.5 2-1 2-1.2 2-1.5 2-1.1 2-1.1 2-1.5 2-.9 2-.7 2-1.6 2-1.5 2-.5 2-1 2-1.5 2-1.1 2-.7 2-1.4 2-1.4 2-1.1 2-1.7 2-1 2-.7 2-1.3 2-1 2-1.1 2-1.2 2-.9 2-1.1 2-1.4 2-1.1 2-1.4 2-1.3 2-1.2 2-1.3 2-1.4 2-1.3 2-1.4 2-1.3 2-1.4 2-1.4 2-1.5 2-1.6 2-1.6 2-1.8 2-1.9 2-2 2-2.2 2-2.2 2-2.3 2-2.4 2-2.3 2-2.4 2-2.4 2-2.4 2-2.4 2-2.4 2-2.5 2-2.5 2-2.6 2-2.7 2-2.7 2-2.9 2-3 2-3.2 2-3.3 2-3.3 2-3.6 2-3.5 2-3.7 2-3.7 2-3.7 2-3.7 2-3.6 2-3.7 2-3.5 2-3.5 2-3.4 2-3.5 2-3.4 2-3.6 2-3.7 2-3.7 2-3.8 2-3.8 2-3.7"/>
<path d="M178 595.1l2-20.7 2-2.3 2-4.5 2-1.4 2-2.1 2-4.8 2-2.6 2-4 2-5.7 2-3.6 2-6.6 2-3 2-7.8 2-1.3 2-5.2 2-4.3 2-5.4 2-5 2-2 2-.1 2-3.7 2-1.5 2-3.1 2-5.2 2-.4 2-4.4 2-2.5 2-3.8 2-3.8 2-3.5 2-5.3 2-4.6 2-3.1 2-3.7 2-3 2-4.6 2-2 2-3.7 2-4.3 2-3.1 2-2.2 2-4.4 2-1 2-1.5 2-2.4 2-1.7 2-2.7 2-4.9 2-3.4 2-4.3 2-1.5 2-2.6 2-.8 2-1.1 2-1 2-.2 2-3.7 2-2.3 2-3.2 2-3.2 2-2.8 2-1.8 2-.3 2-4 2-.2 2-2.2 2-4.3 2-1.1 2-1.9 2-4 2-2.5 2-2.6 2-2 2-1.5 2-3.5 2-.9 2-2.4 2-.5 2-2.5 2-3 2-2.2 2-1.5 2-1.7 2-2.3 2-2 2-1.9 2-.5 2-2 2-.5 2-1.2 2-1.3 2-2.6 2-1.7 2-1.7 2-1.8 2-.4 2-1.4 2-1.1 2-2.2 2-1.3 2-1.5 2-2.3 2-1.6 2-1.2 2-1.8 2-1.5 2-1.3 2-1.1 2-1.1 2-1.4 2-1.5 2-1.2 2-1 2-1.1 2-.4 2-2.1 2-1.1 2-1.5 2-1 2-.9 2-.7 2 0 2-1.3 2-1.1 2-1.3 2-.9 2-2.1 2-1.2 2-.5 2-.9 2-1.3 2-1.7 2-1.5 2-1.6 2-1.4 2-1 2-1.3 2-1.4 2-1.5 2-1.4 2-1.4 2-1.4 2-1.4 2-1.4 2-1.4 2-1.5 2-1.5 2-1.7 2-1.7 2-1.9 2-2.1 2-2.2 2-2.3 2-2.4 2-2.5 2-2.5 2-2.6 2-2.5 2-2.6 2-2.4 2-2.5 2-2.5 2-2.5 2-2.5 2-2.7 2-2.7 2-2.8 2-3 2-3 2-3.1 2-3.2 2-3.3 2-3.4 2-3.4 2-3.4 2-3.4 2-3.5 2-3.4 2-3.4 2-3.4 2-3.3 2-3.4 2-3.5 2-3.5 2-3.7 2-3.7 2-3.8 2-3.8 2-3.7"/>
<path d="M178 611.3l2-15.8 2-6.9 2-5.4 2-3.6 2-4.2 2-2.9 2-10.6 2-2.7 2-6.2 2-10.1 2-5.6 2-.4 2-6.1 2-4.7 2-6.6 2-3.4 2-3.1 2-4.7 2 0 2-4 2-4.2 2-3.1 2-4.9 2-4.7 2-.8 2-3.8 2-2.6 2-1.9 2-4.1 2-4.1 2-4.6 2-3.7 2-4.8 2-2.5 2-3.2 2-4 2-3.1 2-2.7 2-3.8 2-2.3 2-4.6 2-4.2 2-1.4 2-3.5 2-2 2-.7 2-3.9 2-3.9 2-2.8 2-2.9 2-1 2-1.9 2-2.1 2-3.7 2-2.5 2-3.4 2-1.7 2-2.7 2-1.5 2-1.6 2-2.6 2-1.4 2-2.9 2-.9 2-2.2 2-3.5 2-1.9 2-2.5 2-3.1 2-2.3 2-2.5 2-1.4 2-1.5 2-2.3 2-.5 2-1.8 2-1.3 2-3.6 2-1.8 2-1.6 2-1.6 2-1.9 2-3 2-1.7 2-3 2-1.9 2-2.4 2-1.3 2-.7 2 .2 2-.7 2-1.6 2-3.2 2-.7 2-2.4 2-1.4 2-1.3 2-1.4 2-.8 2-1.3 2-1 2-2.1 2-1.5 2-1 2-2.6 2-1.1 2-2.2 2-1.4 2-2.2 2-1 2-1.6 2-1.5 2-.2 2-1.1 2-1.4 2-.6 2-.7 2-1.2 2-1.8 2-1.7 2-.3 2 0 2-.7 2-2.1 2-1.4 2-.9 2-1.3 2-1.1 2-1.2 2-1.4 2-1.1 2-2.1 2-1.3 2-1 2-1.3 2-1.4 2-1.4 2-1.4 2-1.2 2-1.2 2-1.3 2-1.4 2-1.3 2-1.4 2-1.5 2-1.5 2-1.5 2-1.7 2-1.7 2-1.9 2-1.9 2-2 2-2.1 2-2.2 2-2.3 2-2.3 2-2.3 2-2.4 2-2.4 2-2.4 2-2.4 2-2.5 2-2.5 2-2.6 2-2.7 2-2.8 2-2.9 2-3.1 2-3.1 2-3.2 2-3.4 2-3.3 2-3.4 2-3.4 2-3.4 2-3.4 2-3.5 2-3.4 2-3.4 2-3.3 2-3.4 2-3.3 2-3.5 2-3.5 2-3.7 2-3.7 2-3.8 2-3.8 2-3.7"/>
<path d="M178 637.6l2-2.9 2-5.5 2-7.4 2-.8 2-3.9 2-3.7 2-7.6 2-13.5 2-9 2-5 2-6.6 2-2.2 2-8.8 2-3.9 2-4.2 2-3.6 2 .1 2-5.1 2-2.4 2 1.3 2-6 2 1.6 2-7.9 2-8.2 2 1 2-4.6 2-3.9 2-4.5 2-2.3 2-5 2-4.2 2-6.3 2-.8 2-4.8 2-5 2-4.5 2-3.5 2-3.4 2-2 2-3.5 2-7 2-2 2-4.3 2-3 2-2.8 2-5.3 2-3.6 2-2.3 2-3.3 2-3.3 2-1.1 2-2.9 2-2.7 2-3 2-1.4 2-3.7 2-4 2-1.9 2-2.9 2-1.1 2-3.1 2-5 2-1.8 2-2.3 2-2.7 2-3.1 2-3.2 2-1.3 2-2.4 2-2.2 2-3.6 2-2.5 2-2.8 2-1.6 2-2.3 2-2.5 2-.8 2-2.5 2-1.4 2-2.8 2-2.1 2-2.6 2-3.3 2-2.6 2-2 2-1.2 2-1.3 2-.3 2-1.8 2-1.9 2-1.9 2-1.6 2-1.1 2-1.7 2-2.6 2-1.3 2-1.7 2-1.9 2-1.1 2-1.5 2-1.6 2-2.2 2-1.7 2-2 2-1.7 2-1 2-.8 2-1.5 2-1.1 2-.9 2-1.1 2-1.2 2-1.1 2-1.4 2-1.7 2-1 2-.6 2-.8 2-.7 2-1.3 2-1.1 2-.8 2-1.2 2-1.5 2-2 2-1.1 2-1.2 2-1.3 2-1.2 2-1.1 2-.9 2-1.6 2-1.3 2-1.2 2-1.4 2-1.5 2-1.3 2-1.4 2-1.3 2-1.3 2-1.2 2-1.2 2-1.3 2-1.3 2-1.3 2-1.4 2-1.5 2-1.7 2-1.7 2-2 2-2 2-2.2 2-2.2 2-2.4 2-2.4 2-2.5 2-2.6 2-2.7 2-2.7 2-2.8 2-2.9 2-2.9 2-3 2-3.1 2-3.2 2-3.3 2-3.3 2-3.4 2-3.5 2-3.6 2-3.7 2-3.7 2-3.7 2-3.8 2-3.7 2-3.7 2-3.7 2-3.6 2-3.6 2-3.5 2-3.4 2-3.5 2-3.4 2-3.6 2-3.7 2-3.7 2-3.8 2-3.8 2-3.7"/>
<path d="M178 624.1l2-10.9 2 1.3 2-8.9 2-.9 2-3 2 6.7 2-8.4 2-6.1 2-11.4 2-2 2-4.3 2-6.7 2-5.7 2-6 2-5.9 2-4.6 2-.7 2-6.3 2-5.4 2-6.3 2-4.4 2-2.2 2-2.9 2-3 2-1.7 2-2.7 2-1.6 2-4.2 2-6 2-6.8 2-6.5 2-7.9 2-2 2-7 2-3.8 2-4.8 2-3.4 2-3.8 2-2 2-3.5 2-3.4 2-3.6 2-2.6 2-4.8 2-2.1 2-3 2-.6 2-5 2-4.6 2-3.5 2-1.3 2 0 2-2.3 2-2.2 2-3.4 2-5.8 2-4.8 2-3.4 2-3 2-1.7 2-2.3 2-5.1 2-2.5 2-2.5 2-1.1 2-.8 2-2 2-1.8 2-3.3 2-1.8 2-2.5 2-3.1 2-4.5 2-2.2 2-.3 2-1.6 2-.9 2-2.1 2-1.5 2-2.4 2-.9 2-1.8 2-3.3 2-2.4 2-1.4 2-.7 2-.3 2-2 2-1.1 2-.5 2-1.7 2-2.7 2-2.6 2-.7 2-2.1 2-.7 2-1.1 2-1.5 2-1.5 2-1.9 2-1.7 2-2.2 2-1.9 2-1.1 2-2.2 2-1.5 2-.8 2-1.3 2-1 2-1.7 2-1.2 2-1 2-1.5 2-1.2 2-.7 2-1.5 2-.5 2-.7 2-1.3 2-1.5 2-1 2-1.2 2-1.6 2-2.3 2-1.4 2-.6 2-1.1 2-1.1 2-1.3 2-1.5 2-.6 2-1.4 2-1.5 2-.7 2-1.2 2-1.2 2-1.1 2-1.2 2-1.2 2-1.1 2-1.2 2-1.2 2-1.3 2-1.3 2-1.4 2-1.4 2-1.6 2-1.7 2-1.8 2-2 2-2 2-2.1 2-2.3 2-2.2 2-2.4 2-2.4 2-2.4 2-2.5 2-2.5 2-2.5 2-2.5 2-2.6 2-2.7 2-2.7 2-2.8 2-2.9 2-2.9 2-3.1 2-3.3 2-3.3 2-3.4 2-3.5 2-3.5 2-3.6 2-3.6 2-3.6 2-3.6 2-3.6 2-3.5 2-3.4 2-3.4 2-3.5 2-3.4 2-3.6 2-3.7 2-3.7 2-3.8 2-3.8 2-3.7"/>
<path d="M178 610.4l2-24.4 2-2.9 2-8 2-1.4 2-2.9 2-3.2 2-3.5 2-5.9 2-7.8 2-4.9 2-5.2 2-4.9 2-5.1 2-4.1 2-6.8 2-1.6 2-4.7 2-5.2 2-3.1 2-2.8 2-4.1 2-.8 2-5.9 2-4.5 2-1.1 2-6 2-2.3 2-2.3 2-2.7 2-3.1 2-3.7 2-3.5 2-3.9 2-3 2-2.9 2-4.9 2-2.3 2-3.2 2-4 2-1.1 2-4.8 2-2.6 2-3.5 2-2.1 2-1.6 2-.5 2-3.1 2-6.3 2-4.5 2-4 2-2.5 2-2.7 2-2.8 2-1.8 2 .2 2-1.7 2-4.1 2-3.1 2-3 2-2.3 2-3.3 2-2.4 2-1.4 2-2 2-1.6 2-2 2-1.1 2-3.9 2-2.7 2-2.5 2-2.6 2-3.2 2-1.6 2-1.6 2-.8 2-2.1 2-1.5 2-2.3 2-1.4 2-2.9 2-1.9 2-2.3 2-3 2-2.4 2-1.6 2-1.3 2-2.1 2-1.6 2-.2 2-1.4 2-1.3 2-.7 2-1.6 2-2.3 2-1.7 2-.9 2-1.8 2-.9 2-1.8 2-1.3 2-1.3 2-1.6 2-2.2 2-1.6 2-1.5 2-1.1 2-.5 2-.7 2-1.3 2-2.2 2-1.6 2-.7 2-1.3 2-1.1 2-.2 2-1.1 2-.9 2-1.9 2-.7 2-1.6 2-.2 2-.7 2-1.1 2-.8 2-1.5 2-.9 2-.9 2-1.8 2-1.1 2-1 2-1.3 2-1.3 2-1.4 2-1.3 2-1.4 2-1.5 2-1.5 2-1.4 2-1.4 2-1.4 2-1.4 2-1.5 2-1.5 2-1.5 2-1.6 2-1.6 2-1.7 2-1.7 2-1.9 2-1.9 2-2 2-2.1 2-2.2 2-2.2 2-2.3 2-2.2 2-2.3 2-2.3 2-2.3 2-2.4 2-2.3 2-2.4 2-2.5 2-2.5 2-2.7 2-2.7 2-2.9 2-2.9 2-3.1 2-3.2 2-3.2 2-3.3 2-3.3 2-3.2 2-3.3 2-3.3 2-3.3 2-3.2 2-3.2 2-3.1 2-3.2 2-3.2 2-3.2 2-3.4 2-3.6 2-3.7 2-3.7 2-3.7 2-3.7"/>
<path d="M178 602.9l2-17.9 2-5.7 2-4.7 2-2.1 2-4.8 2-6.3 2-4.8 2-4.4 2-5.8 2-3.5 2-4.8 2-5.6 2-4.6 2-4.6 2-3.8 2-5.7 2-3 2-4.3 2-2.4 2-4.7 2-4.7 2-2.6 2-2.3 2-4.3 2-.7 2-4.4 2-3.3 2-3 2-1.8 2-3.7 2-5.4 2-5 2-2.3 2-4.5 2-2.3 2-4.9 2-.7 2-3.2 2-4.1 2-3 2-4.2 2-3.7 2-3.6 2-3 2-1.6 2-2.1 2-3.4 2-2.8 2-3.8 2-2.7 2-1.9 2-2.6 2-2.7 2-2.5 2-1.4 2-2.5 2-3.2 2-2.9 2-1.7 2-1.6 2-3.2 2-2.3 2-1.7 2-2 2-2.2 2-1.8 2-3 2-1.4 2-2.1 2-1.7 2-2.3 2-2 2-2.5 2-1.6 2-1.3 2-1.3 2-1.5 2-2.1 2-1.3 2-2.3 2-.9 2-2.9 2-2.4 2-1.4 2-1.5 2-1.9 2-1.9 2-1 2-1.8 2-1.8 2-.9 2-1.8 2-.7 2-1.3 2-2 2-2.1 2-1 2-1.2 2-.5 2-2.5 2-1.9 2-1 2-2.6 2-2.7 2-1.2 2-1.1 2-1.6 2-1.3 2-1.9 2-.7 2-1.4 2-.9 2-.9 2-1.7 2-1.4 2-1.1 2-.6 2-.8 2-1.4 2-.6 2-1.1 2-.4 2-1.6 2-1.4 2-.9 2-.4 2-1.3 2-1.2 2-2 2-1.5 2-.9 2-1.1 2-1.3 2-1.2 2-1.3 2-1.4 2-1.3 2-1.2 2-1.5 2-1.3 2-1.4 2-1.5 2-1.5 2-1.5 2-1.6 2-1.6 2-1.7 2-1.8 2-1.8 2-1.9 2-2 2-2.1 2-2.1 2-2.2 2-2.3 2-2.3 2-2.3 2-2.4 2-2.4 2-2.4 2-2.4 2-2.5 2-2.5 2-2.7 2-2.7 2-2.8 2-2.8 2-3 2-3.1 2-3.1 2-3.2 2-3.3 2-3.2 2-3.4 2-3.3 2-3.3 2-3.3 2-3.3 2-3.2 2-3.2 2-3.2 2-3.3 2-3.3 2-3.4 2-3.6 2-3.7 2-3.7 2-3.8 2-3.7"/>
<path d="M178 631.4l2-10.1 2-1.9 2-4.5 2-8.7 2-6.3 2-8.7 2-5.1 2 3 2-7 2-3.2 2-5.1 2-6.4 2-8.4 2-3.4 2-4.5 2-4.9 2-1.6 2-6 2-3.7 2-2.1 2-3.2 2 .4 2-6.4 2-4 2 .4 2-3.7 2-5.7 2-3.8 2-2.1 2-7.3 2-3.3 2-8.2 2-2.1 2-4.5 2-5.1 2-7 2-2.3 2-.3 2-5.4 2-4.4 2-4.6 2-5.2 2-4 2-2.6 2-3.9 2-1.3 2-1.1 2-3.3 2-3.8 2-3.7 2-3.5 2-2 2-1.3 2-5.3 2-1.8 2-2.3 2-1.5 2-2.6 2-1.1 2-1.5 2-3.5 2-3.8 2-1.4 2-3.8 2-3 2-.6 2-1.7 2-3.1 2-2.7 2-2.4 2-2.9 2-3.2 2-3.5 2-1.4 2-1.4 2-1.5 2-.8 2-2.2 2-2.3 2-2.8 2-1.7 2-1.5 2-3.5 2-1.9 2-2.9 2-1.6 2-1.4 2-2.2 2-1.8 2-2.6 2-2.2 2-1.8 2-.8 2-1.8 2-1.9 2-1.3 2-2 2-.7 2-1.6 2-1.6 2-2.1 2-1.1 2-1.4 2-1.9 2-1.8 2-.8 2-1.5 2-1.5 2-1.6 2-2.2 2-1.6 2-.9 2-.7 2-1.1 2-.9 2-.5 2-.9 2-1.4 2-1.4 2-1.4 2-.8 2-1.4 2-.3 2-1.5 2-1.6 2-.4 2-1.3 2-.7 2-1.5 2-1 2-1 2-1.5 2-1.3 2-1.4 2-1.6 2-1.3 2-1.5 2-1.4 2-1.2 2-1.2 2-1 2-1.1 2-1.1 2-1 2-1.1 2-1.2 2-1.3 2-1.5 2-1.6 2-1.8 2-2.1 2-2.1 2-2.3 2-2.4 2-2.4 2-2.5 2-2.5 2-2.5 2-2.6 2-2.6 2-2.6 2-2.7 2-2.7 2-2.9 2-3 2-3.1 2-3.3 2-3.3 2-3.5 2-3.5 2-3.7 2-3.7 2-3.7 2-3.8 2-3.7 2-3.7 2-3.7 2-3.6 2-3.6 2-3.5 2-3.4 2-3.5 2-3.4 2-3.6 2-3.7 2-3.7 2-3.8 2-3.8 2-3.7"/>
<path d="M178 628.6l2-10.9 2-4.2 2-2.1 2-1.8 2-2.1 2-9.5 2-4 2-5.6 2-9.8 2-8 2 0 2-2.4 2-7.5 2-1.5 2-11 2-.6 2-1.9 2-5.8 2-5.1 2-.5 2-6.1 2-.9 2-2 2-2.3 2-.3 2-8.1 2-1.2 2-4.6 2-5.6 2-2.3 2-8.1 2-5.4 2-2.7 2-4.1 2-4.1 2-6.7 2-3.1 2-3.9 2-6.2 2-.9 2-4.7 2-2.9 2-3.5 2-2.4 2-3.1 2-4.5 2-3.1 2-1.9 2-2.4 2-2.9 2-3.8 2-1.7 2-3.3 2-2.6 2-2.7 2-3.5 2-2.9 2-4 2-1.5 2-3.2 2-4 2-3.9 2-2.3 2-1.1 2-2.1 2-3.3 2-1 2-1.5 2-3.5 2-2.2 2-2.7 2-4 2-2.4 2-1.4 2-3.2 2-1.4 2-1.7 2-1.7 2-.7 2-4 2-2.5 2-2.5 2-2.1 2-2.1 2-3.5 2-1.5 2-1.7 2-.8 2-1.4 2-1.6 2-2.4 2-2.2 2-1.6 2-2.2 2-1.2 2 .2 2-1.5 2-.9 2-1.1 2-1.9 2-1.5 2-1.6 2-1.4 2-1.9 2-1.6 2-1.4 2-1.5 2-1.5 2-1 2-.8 2-1.4 2-1.5 2-1.2 2-1.5 2-1.1 2-1 2-1.2 2-.9 2-.1 2-.7 2-1 2-1.4 2-.2 2-1.4 2-2.2 2-1.5 2-1.1 2-.7 2-.9 2-1.8 2-1 2-1.2 2-1.5 2-1.3 2-1.4 2-1.4 2-1.4 2-1.2 2-1.5 2-1.3 2-1.4 2-1.4 2-1.4 2-1.4 2-1.5 2-1.6 2-1.7 2-1.8 2-1.8 2-2 2-2 2-2.1 2-2.2 2-2.2 2-2.1 2-2.2 2-2.2 2-2.2 2-2.2 2-2.3 2-2.4 2-2.4 2-2.6 2-2.7 2-2.8 2-2.9 2-3.1 2-3.3 2-3.3 2-3.5 2-3.6 2-3.7 2-3.7 2-3.8 2-3.7 2-3.7 2-3.7 2-3.6 2-3.6 2-3.5 2-3.4 2-3.5 2-3.4 2-3.6 2-3.7 2-3.7 2-3.8 2-3.8 2-3.7"/>
<path d="M178 610l2-17.3 2-8.1 2-2.5 2-2.7 2-4.6 2-2.7 2-4.7 2-9.3 2-3.4 2-3.1 2-8.1 2-1.1 2-5.3 2-3.3 2-5.4 2-4.8 2-3.3 2-5.6 2-5.4 2-5.1 2-4.4 2-.3 2-5.3 2-4.3 2-2.9 2-4 2-2.9 2-4.9 2-1.2 2-5 2-4.5 2-3.1 2-2.7 2-3.7 2-4.2 2-4.5 2-2.3 2-3.4 2-4.7 2 .3 2-4.5 2-3.2 2-4 2-2.2 2-1.6 2-1.1 2-4.5 2-3.4 2-1.8 2-4.9 2-.6 2-2.4 2-4.2 2-3.4 2-2.2 2-2.4 2-1.9 2-1.6 2-2.9 2-2.8 2-1.7 2-2.2 2-2 2-2.5 2-.2 2-1.9 2-1.4 2-1 2-2.5 2-2.1 2-3.9 2-2.6 2-.9 2-.7 2-4.3 2-1.4 2-1.1 2-3 2-2.3 2-3.6 2-.8 2-2.4 2-2.1 2-2 2-2.9 2-.8 2-1.6 2-2 2-.8 2-.8 2-1 2-1.4 2-2.4 2-2.2 2-1.2 2-.4 2-2.3 2-.9 2-.9 2-.7 2-2.3 2-1.4 2-2 2-1.7 2-1.3 2-1 2-1.8 2-1.2 2-1.4 2 .1 2-1.2 2-.5 2-1 2-1.4 2-.9 2-1.5 2-.9 2-1.1 2-.2 2-2.1 2-1.2 2-1.4 2-.8 2-1.5 2-.9 2-.8 2-2 2-.5 2-.8 2-1.3 2-1.4 2-1 2-1.1 2-1.2 2-1.5 2-1 2-1.2 2-1.2 2-1.3 2-1.2 2-1.3 2-1.3 2-1.3 2-1.4 2-1.4 2-1.4 2-1.5 2-1.6 2-1.8 2-1.8 2-1.9 2-2.1 2-2.1 2-2.2 2-2.3 2-2.4 2-2.4 2-2.4 2-2.5 2-2.5 2-2.6 2-2.7 2-2.7 2-2.8 2-2.8 2-3 2-3.1 2-3.1 2-3.3 2-3.3 2-3.5 2-3.5 2-3.5 2-3.6 2-3.7 2-3.6 2-3.6 2-3.6 2-3.5 2-3.5 2-3.4 2-3.5 2-3.4 2-3.6 2-3.7 2-3.7 2-3.8 2-3.8 2-3.7"/>
<path d="M178 620.4l2-6.2 2-4.4 2-5 2-7.9 2-1.3 2-2.6 2-5.5 2-6.5 2-5.7 2-11.6 2-3 2-1.5 2-5.6 2-2.6 2-5.4 2-2.8 2-1.8 2-.9 2-3.4 2-3.7 2-2.1 2-3.9 2-1.1 2-5.9 2-1 2-5.3 2-4 2-5.3 2-2.9 2-5.2 2-7.6 2-6.5 2-1.4 2-3 2-2.3 2-6.7 2-1.4 2-4.4 2-3.2 2-2.6 2-4.6 2-4.1 2-4.8 2-.9 2-1.7 2-1.5 2-2.9 2-4.3 2-5.1 2-5.1 2-2.8 2-3.1 2-3 2-1 2-2.3 2-4.5 2-3.9 2-2.3 2-1.1 2-2.1 2-3.1 2-3 2-2.9 2-3.7 2-2.3 2-1.2 2-3.2 2-3.1 2-2.8 2-1.9 2-2.9 2-3.2 2-3.6 2-1 2-2.5 2-1 2-1.9 2-2.3 2-.9 2-2.9 2-2.8 2-1.9 2-2.5 2-1.7 2-1.4 2-2.2 2-1.1 2-.4 2-1.8 2-1.5 2-1.4 2-1.4 2-1.4 2-1.4 2-2.3 2-1.5 2-1.5 2-.8 2-1.6 2-2 2-1.9 2-1.8 2-2 2-1.8 2-1.5 2-1.7 2-1.3 2-1.2 2-1 2-1.2 2-1.7 2-.1 2-.8 2-1 2-1.5 2-1.2 2-.3 2-.9 2-.6 2-1.2 2-1.1 2-1.1 2-.9 2-1.4 2-1.5 2-1 2-1 2-.7 2-1.3 2-.9 2-1 2-1.3 2-1.6 2-1 2-1.2 2-1.4 2-1.4 2-1.2 2-1.3 2-1.1 2-1.2 2-1.1 2-1.2 2-1.1 2-1.2 2-1.3 2-1.5 2-1.5 2-1.7 2-1.9 2-2 2-2.1 2-2.2 2-2.4 2-2.4 2-2.5 2-2.6 2-2.7 2-2.7 2-2.8 2-2.9 2-2.9 2-3 2-3.1 2-3.2 2-3.3 2-3.3 2-3.4 2-3.5 2-3.6 2-3.7 2-3.7 2-3.7 2-3.8 2-3.7 2-3.7 2-3.7 2-3.6 2-3.6 2-3.5 2-3.4 2-3.5 2-3.4 2-3.6 2-3.7 2-3.7 2-3.8 2-3.8 2-3.7"/>
<path d="M178 635.5l2 2.1 2-3.9 2-12.8 2-6.5 2-3.6 2-4.3 2-4.5 2-1.6 2-10.7 2-.2 2-5.6 2-1.9 2-11.8 2-.1 2-11.1 2 2.3 2-4.2 2-9.7 2-1.3 2-4.4 2-4 2 1.6 2-6.6 2-8.2 2-2.3 2-8.2 2-5.8 2-5.1 2-2.9 2-5.1 2-4.7 2-8.7 2-2.1 2-5.7 2-5.3 2-2.9 2-1.7 2-3.2 2-4.2 2-3.4 2-4.4 2-3.9 2-3.1 2-2.1 2-3.9 2-.5 2-2.8 2-2.1 2-3.1 2-3.1 2-3.4 2-1 2-3.5 2-2.9 2-2.5 2-3.9 2-2.3 2-4.1 2-.9 2-1.6 2-2.4 2-2.8 2-1.2 2-3.2 2-3.7 2-2.3 2-3.1 2-2.1 2-2.9 2-2.4 2-3.3 2-3.3 2-1.3 2-1.5 2-1.8 2-2.3 2-2.4 2-2.1 2-1 2-2 2-1.3 2-2.6 2-2.6 2-2.2 2-2.1 2-2 2-1.6 2-2 2-1.1 2-2.6 2-1.9 2-1.7 2-1.5 2-1.8 2-2.7 2-1.4 2-2.2 2-.5 2-1.6 2-1.8 2-1.4 2-1.6 2-2.2 2-1.6 2-1.3 2-1.5 2-.9 2-1.4 2-1.3 2-1.6 2-1.5 2-.8 2-1.8 2-1.7 2-.5 2-.7 2-1 2-.3 2-.8 2-1.3 2-.6 2-1.5 2-1.2 2-1.7 2-1.4 2-1 2-1.3 2-.6 2-1 2-.9 2-1.2 2-.9 2-1.2 2-1.1 2-1.4 2-1.3 2-1.3 2-1.2 2-1.2 2-1.1 2-1.1 2-1.1 2-1.1 2-1.2 2-1.2 2-1.2 2-1.4 2-1.6 2-1.6 2-1.8 2-2 2-2.1 2-2.3 2-2.3 2-2.4 2-2.6 2-2.6 2-2.7 2-2.7 2-2.8 2-2.9 2-2.9 2-3 2-3.1 2-3.1 2-3.3 2-3.3 2-3.4 2-3.5 2-3.5 2-3.7 2-3.7 2-3.7 2-3.8 2-3.7 2-3.7 2-3.7 2-3.6 2-3.6 2-3.5 2-3.4 2-3.5 2-3.4 2-3.6 2-3.7 2-3.7 2-3.8 2-3.8 2-3.7"/>
</g>
<path stroke="#ed1c24" stroke-width="3.2" d="M178.0 612.9L179.0 613.1L180.0 610.8L181.0 602.1L182.0 599.8L183.0 598.5L184.0 596.5L185.0 597.0L186.0 594.6L187.0 592.9L188.0 584.9L189.0 579.1L190.0 575.9L191.0 572.6L192.0 569.5L193.0 568.9L194.0 567.3L195.0 567.1L196.0 564.4L197.0 564.2L198.0 562.6L199.0 561.3L200.0 562.8L201.0 561.5L202.0 559.7L203.0 553.4L204.0 552.2L205.0 551.3L206.0 550.4L207.0 547.3L208.0 542.7L209.0 539.0L210.0 536.3L211.0 534.7L212.0 534.6L213.0 533.9L214.0 531.8L215.0 530.0L216.0 526.1L217.0 525.6L218.0 522.3L219.0 518.7L220.0 513.6L221.0 508.8L222.0 503.9L223.0 502.6L224.0 501.9L225.0 500.9L226.0 499.8L227.0 499.1L228.0 498.3L229.0 495.4L230.0 493.7L231.0 493.8L232.0 495.4L233.0 492.7L234.0 489.6L235.0 485.8L236.0 482.7L237.0 480.5L238.0 477.3L239.0 474.3L240.0 471.1L241.0 469.9L242.0 467.9L243.0 466.0L244.0 464.1L245.0 462.1L246.0 460.6L247.0 458.3L248.0 456.6L249.0 454.0L250.0 451.0L251.0 448.4L252.0 446.9L253.0 446.3L254.0 445.0L255.0 443.5L256.0 441.5L257.0 440.9L258.0 441.0L259.0 439.1L260.0 437.0L261.0 436.3L262.0 436.2L263.0 436.0L264.0 435.3L265.0 434.5L266.0 433.8L267.0 432.3L268.0 431.0L269.0 429.4L270.0 428.2L271.0 426.2L272.0 424.7L273.0 422.1L274.0 420.3L275.0 419.1L276.0 418.3L277.0 417.0L278.0 415.2L279.0 413.2L280.0 411.6L281.0 410.0L282.0 408.7L283.0 407.2L284.0 405.2L285.0 403.2L286.0 401.1L287.0 398.9L288.0 397.3L289.0 395.5L290.0 393.6L291.0 392.6L292.0 391.3L293.0 390.1L294.0 388.7L295.0 387.7L296.0 386.5L297.0 384.8L298.0 383.1L299.0 381.7L300.0 381.0L301.0 380.1L302.0 379.4L303.0 378.6L304.0 377.7L305.0 376.1L306.0 374.7L307.0 373.9L308.0 373.5L309.0 372.5L310.0 370.7L311.0 369.3L312.0 367.7L313.0 366.6L314.0 365.6L315.0 364.6L316.0 363.5L317.0 362.7L318.0 361.6L319.0 360.7L320.0 359.6L321.0 358.8L322.0 357.3L323.0 355.8L324.0 355.2L325.0 354.7L326.0 354.1L327.0 352.8L328.0 351.7L329.0 350.8L330.0 350.2L331.0 349.5L332.0 348.8L333.0 347.7L334.0 346.5L335.0 345.1L336.0 344.1L337.0 342.6L338.0 341.2L339.0 339.8L340.0 338.7L341.0 337.6L342.0 336.4L343.0 335.7L344.0 335.0L345.0 334.4L346.0 333.7L347.0 332.8L348.0 331.3L349.0 330.2L350.0 329.3L351.0 328.6L352.0 327.5L353.0 326.1L354.0 324.9L355.0 323.9L356.0 323.4L357.0 322.4L358.0 321.8L359.0 321.3L360.0 320.6L361.0 320.0L362.0 319.3L363.0 318.9L364.0 318.4L365.0 317.8L366.0 316.8L367.0 315.9L368.0 315.0L369.0 314.4L370.0 313.7L371.0 313.1L372.0 312.2L373.0 311.4L374.0 310.5L375.0 309.8L376.0 309.0L377.0 308.1L378.0 307.3L379.0 306.2L380.0 305.3L381.0 304.3L382.0 303.3L383.0 302.4L384.0 301.9L385.0 301.7L386.0 301.6L387.0 301.4L388.0 301.2L389.0 300.9L390.0 300.4L391.0 299.5L392.0 298.6L393.0 297.7L394.0 297.0L395.0 296.3L396.0 295.6L397.0 294.7L398.0 294.0L399.0 293.4L400.0 293.0L401.0 292.1L402.0 291.5L403.0 290.9L404.0 290.6L405.0 290.2L406.0 289.6L407.0 289.1L408.0 288.4L409.0 287.7L410.0 286.9L411.0 286.4L412.0 285.8L413.0 285.3L414.0 284.6L415.0 283.9L416.0 283.1L417.0 282.5L418.0 281.9L419.0 281.6L420.0 281.2L421.0 280.8L422.0 280.5L423.0 280.3L424.0 280.0L425.0 279.7L426.0 279.4L427.0 279.1L428.0 278.6L429.0 277.8L430.0 277.2L431.0 276.6L432.0 276.0L433.0 275.3L434.0 274.7L435.0 274.0L436.0 273.4L437.0 272.9L438.0 272.3L439.0 271.5L440.0 270.8L441.0 270.1L442.0 269.4L443.0 268.8L444.0 268.0L445.0 267.4L446.0 266.7L447.0 266.3L448.0 265.7L449.0 265.1L450.0 264.4L451.0 263.9L452.0 263.2L453.0 262.5L454.0 262.0L455.0 261.2L456.0 260.6L457.0 259.8L458.0 259.3L459.0 258.6L460.0 257.9L461.0 257.2L462.0 256.5L463.0 255.8L464.0 255.1L465.0 254.3L466.0 253.6L467.0 252.9L468.0 252.5L469.0 251.9L470.0 251.2L471.0 250.1L472.0 249.3L473.0 248.4L474.0 247.6L475.0 246.8L476.0 245.9L477.0 245.0L478.0 244.2L479.0 243.2L480.0 242.3L481.0 241.3L482.0 240.4L483.0 239.4L484.0 238.4L485.0 237.4L486.0 236.3L487.0 235.0L488.0 233.3L489.0 231.9L490.0 230.3L491.0 228.6L492.0 227.0L493.0 225.6L494.0 224.2L495.0 222.6L496.0 221.1L497.0 219.7L498.0 218.6L499.0 217.4L500.0 216.1L501.0 214.7L502.0 213.6L503.0 212.6L504.0 211.6L505.0 210.5L506.0 209.3L507.0 208.1L508.0 206.8L509.0 205.4L510.0 204.1L511.0 202.7L512.0 201.2L513.0 199.8L514.0 198.3L515.0 196.9L516.0 195.3L517.0 193.8L518.0 192.3L519.0 190.8L520.0 189.4L521.0 187.9L522.0 186.3L523.0 184.6L524.0 183.0L525.0 181.3L526.0 179.7L527.0 178.2L528.0 176.6L529.0 175.1L530.0 173.5L531.0 172.0L532.0 170.3L533.0 168.7L534.0 167.1L535.0 165.5L536.0 163.9L537.0 162.2L538.0 160.5L539.0 158.8L540.0 157.1L541.0 155.4L542.0 153.7L543.0 152.0L544.0 150.3L545.0 148.6L546.0 146.9L547.0 145.0L548.0 143.2L549.0 141.2L550.0 139.3L551.0 137.4L552.0 135.5L553.0 133.5L554.0 131.6L555.0 129.7L556.0 127.8L557.0 126.0L558.0 124.2L559.0 122.4L560.0 120.7L561.0 119.0L562.0 117.3L563.0 115.8L564.0 114.3L565.0 112.8L566.0 111.4L567.0 110.0L568.0 108.6L569.0 107.2L570.0 105.8L571.0 104.5L572.0 103.1L573.0 101.8L574.0 100.4L575.0 99.1L576.0 97.7L577.0 96.1L578.0 94.4L579.0 92.8L580.0 91.1L581.0 89.8L582.0 88.8L583.0 87.8L584.0 86.7L585.0 85.6L586.0 84.3L587.0 82.9L588.0 81.6L589.0 80.2L590.0 78.9L591.0 77.5L592.0 76.2L593.0 74.8L594.0 73.4L595.0 72.1L596.0 70.7L597.0 69.4L598.0 68.2L599.0 66.9L600.0 65.7L601.0 64.5L602.0 63.3L603.0 62.2L604.0 61.0L605.0 59.9L606.0 58.8L607.0 57.7L608.0 56.6L609.0 55.5L610.0 54.5L611.0 53.5L612.0 52.5L613.0 51.6L614.0 50.9L615.0 50.1L616.0 49.3L617.0 48.4L618.0 47.5L619.0 46.6L620.0 45.8L621.0 45.0L622.0 44.1L623.0 43.3L624.0 42.5L625.0 41.9L626.0 41.3L627.0 40.7L628.0 40.1L629.0 39.4L630.0 38.8L631.0 38.1L632.0 37.5L633.0 36.9L634.0 36.2L635.0 35.6L636.0 35.1L637.0 34.5L638.0 33.9L639.0 33.4L640.0 32.9L641.0 32.4L642.0 31.9L643.0 31.4L644.0 31.0L645.0 30.5L646.0 30.1L647.0 29.6L648.0 29.2L649.0 28.8L650.0 28.4L651.0 28.0L652.0 27.6L653.0 27.2L654.0 26.8L655.0 26.5L656.0 26.1L657.0 25.8L658.0 25.4L659.0 25.1L660.0 24.7L661.0 24.4L662.0 24.1L663.0 23.8L664.0 23.5L665.0 23.2L666.0 22.9L667.0 22.6L668.0 22.3L669.0 22.0L670.0 21.8L671.0 21.5L672.0 21.3L673.0 21.0L674.0 20.7L675.0 20.5L676.0 20.2L677.0 20.0L678.0 19.8L679.0 19.5L680.0 19.3L681.0 19.1L682.0 18.9L683.0 18.7L684.0 18.5L685.0 18.3L686.0 18.2L687.0 18.0L688.0 17.8L689.0 17.7L690.0 17.5L691.0 17.3L692.0 17.1L693.0 17.0L694.0 16.9L695.0 16.7L696.0 16.6L697.0 16.4L698.0 16.3L699.0 16.2L700.0 16.1L701.0 15.9L702.0 15.8L703.0 15.7L704.0 15.6L705.0 15.4L706.0 15.3L707.0 15.2L708.0 15.1L709.0 15.0L710.0 14.9L711.0 14.8L712.0 14.7L713.0 14.6L714.0 14.5L715.0 14.4L716.0 14.3L717.0 14.2L718.0 14.1L719.0 14.0L720.0 13.9L721.0 13.9L722.0 13.8L723.0 13.8L724.0 13.7L725.0 13.6L726.0 13.6L727.0 13.5L728.0 13.4L729.0 13.3L730.0 13.3L731.0 13.2L732.0 13.2L733.0 13.1L734.0 13.0L735.0 13.0L736.0 13.0L737.0 12.9L738.0 12.9L739.0 12.8L740.0 12.8L741.0 12.7L742.0 12.7L743.0 12.7L744.0 12.7L745.0 12.6L746.0 12.6L747.0 12.6L748.0 12.5L749.0 12.5L750.0 12.4L751.0 12.4L752.0 12.4L753.0 12.3L754.0 12.3L755.0 12.3L756.0 12.3L757.0 12.3L758.0 12.2L759.0 12.2L760.0 12.2L761.0 12.2L762.0 12.2L763.0 12.1L764.0 12.1L765.0 12.1L766.0 12.0L767.0 12.0L768.0 12.0L769.0 12.0L770.0 12.0L771.0 11.9L772.0 11.9L773.0 11.8L774.0 11.8L775.0 11.8L776.0 11.8L777.0 11.7L778.0 11.7L779.0 11.7L780.0 11.7L781.0 11.6L782.0 11.6L783.0 11.6L784.0 11.6L785.0 11.6L786.0 11.5L787.0 11.5L788.0 11.5L789.0 11.4L790.0 11.4L791.0 11.4L792.0 11.4L793.0 11.3L794.0 11.3L795.0 11.3L796.0 11.2L797.0 11.2L798.0 11.2L799.0 11.1L800.0 11.1L801.0 11.1"/>
<path stroke="#231f20" stroke-width="3.6" d="M178.0 636.5L179.0 633.7L180.0 630.2L181.0 626.2L182.0 621.6L183.0 617.0L184.0 613.0L185.0 609.0L186.0 604.5L187.0 599.6L188.0 593.9L189.0 587.0L190.0 581.9L191.0 577.0L192.0 573.7L193.0 570.9L194.0 568.0L195.0 565.4L196.0 563.7L197.0 562.0L198.0 560.3L199.0 558.7L200.0 557.0L201.0 555.3L202.0 553.2L203.0 551.1L204.0 549.0L205.0 546.6L206.0 543.0L207.0 539.5L208.0 535.9L209.0 534.5L210.0 533.7L211.0 532.8L212.0 532.0L213.0 531.1L214.0 530.3L215.0 529.4L216.0 528.6L217.0 527.8L218.0 524.3L219.0 519.6L220.0 515.0L221.0 509.5L222.0 503.7L223.0 500.9L224.0 498.9L225.0 497.0L226.0 495.0L227.0 492.9L228.0 490.7L229.0 488.5L230.0 486.3L231.0 484.4L232.0 483.0L233.0 481.6L234.0 480.3L235.0 478.9L236.0 477.2L237.0 475.4L238.0 473.6L239.0 471.8L240.0 470.0L241.0 468.3L242.0 466.7L243.0 465.1L244.0 463.5L245.0 461.9L246.0 460.2L247.0 458.5L248.0 456.7L249.0 455.0L250.0 453.0L251.0 450.9L252.0 448.9L253.0 446.9L254.0 444.9L255.0 443.0L256.0 441.0L257.0 439.1L258.0 437.3L259.0 434.3L260.0 431.8L261.0 430.8L262.0 429.8L263.0 428.8L264.0 427.8L265.0 426.8L266.0 425.7L267.0 424.5L268.0 423.4L269.0 422.2L270.0 421.0L271.0 419.8L272.0 418.6L273.0 417.5L274.0 416.3L275.0 415.1L276.0 413.9L277.0 412.4L278.0 410.9L279.0 409.4L280.0 408.0L281.0 406.6L282.0 405.2L283.0 403.8L284.0 402.4L285.0 401.0L286.0 399.5L287.0 398.0L288.0 396.8L289.0 395.5L290.0 394.2L291.0 393.3L292.0 392.6L293.0 392.0L294.0 391.3L295.0 390.5L296.0 389.7L297.0 389.0L298.0 388.2L299.0 387.5L300.0 386.8L301.0 386.1L302.0 385.4L303.0 384.7L304.0 383.7L305.0 382.5L306.0 381.3L307.0 380.1L308.0 378.9L309.0 377.2L310.0 375.4L311.0 373.6L312.0 371.8L313.0 370.0L314.0 368.5L315.0 367.1L316.0 365.8L317.0 364.4L318.0 363.0L319.0 361.6L320.0 360.2L321.0 358.8L322.0 357.4L323.0 356.2L324.0 355.7L325.0 355.1L326.0 354.6L327.0 354.0L328.0 353.4L329.0 352.9L330.0 352.3L331.0 351.8L332.0 351.2L333.0 350.4L334.0 349.4L335.0 348.4L336.0 347.4L337.0 346.4L338.0 345.3L339.0 344.2L340.0 343.2L341.0 342.1L342.0 341.0L343.0 339.9L344.0 338.8L345.0 337.7L346.0 336.6L347.0 335.5L348.0 334.4L349.0 333.5L350.0 332.8L351.0 332.1L352.0 331.4L353.0 330.7L354.0 330.0L355.0 329.3L356.0 328.6L357.0 327.9L358.0 327.2L359.0 326.3L360.0 325.5L361.0 324.6L362.0 323.8L363.0 322.9L364.0 322.1L365.0 321.2L366.0 320.4L367.0 319.5L368.0 318.7L369.0 318.0L370.0 317.3L371.0 316.6L372.0 315.9L373.0 315.2L374.0 314.5L375.0 313.8L376.0 313.1L377.0 312.4L378.0 311.6L379.0 310.7L380.0 309.9L381.0 309.0L382.0 308.2L383.0 307.4L384.0 306.7L385.0 305.9L386.0 305.3L387.0 304.7L388.0 304.1L389.0 303.5L390.0 302.9L391.0 302.3L392.0 301.6L393.0 301.0L394.0 300.4L395.0 299.8L396.0 299.1L397.0 298.5L398.0 297.9L399.0 297.3L400.0 296.7L401.0 296.1L402.0 295.5L403.0 294.9L404.0 294.3L405.0 293.7L406.0 293.1L407.0 292.5L408.0 291.9L409.0 291.3L410.0 290.8L411.0 290.2L412.0 289.6L413.0 289.0L414.0 288.4L415.0 287.9L416.0 287.3L417.0 286.7L418.0 286.1L419.0 285.6L420.0 285.0L421.0 284.4L422.0 283.8L423.0 283.2L424.0 282.6L425.0 282.1L426.0 281.5L427.0 280.9L428.0 280.3L429.0 279.7L430.0 279.1L431.0 278.5L432.0 277.9L433.0 277.3L434.0 276.7L435.0 276.1L436.0 275.4L437.0 274.8L438.0 274.2L439.0 273.6L440.0 272.9L441.0 272.3L442.0 271.6L443.0 271.0L444.0 270.3L445.0 269.7L446.0 269.0L447.0 268.3L448.0 267.6L449.0 266.9L450.0 266.2L451.0 265.5L452.0 264.8L453.0 264.1L454.0 263.4L455.0 262.6L456.0 261.9L457.0 261.1L458.0 260.4L459.0 259.6L460.0 258.8L461.0 258.0L462.0 257.2L463.0 256.4L464.0 255.6L465.0 254.8L466.0 254.0L467.0 253.1L468.0 252.2L469.0 251.4L470.0 250.5L471.0 249.6L472.0 248.7L473.0 247.8L474.0 246.8L475.0 245.9L476.0 244.9L477.0 244.0L478.0 243.0L479.0 242.0L480.0 241.0L481.0 240.0L482.0 238.9L483.0 237.9L484.0 236.8L485.0 235.7L486.0 234.6L487.0 233.5L488.0 232.4L489.0 231.3L490.0 230.1L491.0 228.9L492.0 227.7L493.0 226.5L494.0 225.3L495.0 224.1L496.0 222.8L497.0 221.5L498.0 220.2L499.0 218.9L500.0 217.6L501.0 216.3L502.0 214.9L503.0 213.5L504.0 212.1L505.0 210.7L506.0 209.2L507.0 207.8L508.0 206.3L509.0 204.8L510.0 203.2L511.0 201.7L512.0 200.1L513.0 198.5L514.0 196.9L515.0 195.3L516.0 193.6L517.0 192.0L518.0 190.3L519.0 188.6L520.0 186.8L521.0 185.1L522.0 183.3L523.0 181.6L524.0 179.8L525.0 178.0L526.0 176.2L527.0 174.4L528.0 172.7L529.0 170.9L530.0 169.1L531.0 167.3L532.0 165.6L533.0 163.8L534.0 162.1L535.0 160.4L536.0 158.7L537.0 157.0L538.0 155.4L539.0 153.7L540.0 152.1L541.0 150.4L542.0 148.8L543.0 147.1L544.0 145.4L545.0 143.7L546.0 142.0L547.0 140.2L548.0 138.4L549.0 136.6L550.0 134.8L551.0 132.9L552.0 131.1L553.0 129.3L554.0 127.4L555.0 125.6L556.0 123.8L557.0 122.0L558.0 120.3L559.0 118.6L560.0 116.9L561.0 115.3L562.0 113.8L563.0 112.2L564.0 110.8L565.0 109.4L566.0 108.0L567.0 106.6L568.0 105.3L569.0 104.0L570.0 102.7L571.0 101.5L572.0 100.2L573.0 98.9L574.0 97.6L575.0 96.4L576.0 95.1L577.0 93.8L578.0 92.5L579.0 91.2L580.0 90.0L581.0 88.7L582.0 87.4L583.0 86.1L584.0 84.9L585.0 83.6L586.0 82.3L587.0 81.1L588.0 79.8L589.0 78.6L590.0 77.3L591.0 76.1L592.0 74.9L593.0 73.7L594.0 72.5L595.0 71.3L596.0 70.1L597.0 68.9L598.0 67.8L599.0 66.6L600.0 65.5L601.0 64.4L602.0 63.3L603.0 62.2L604.0 61.1L605.0 60.0L606.0 59.0L607.0 58.0L608.0 57.0L609.0 56.0L610.0 55.0L611.0 54.1L612.0 53.1L613.0 52.2L614.0 51.3L615.0 50.5L616.0 49.6L617.0 48.8L618.0 47.9L619.0 47.1L620.0 46.4L621.0 45.6L622.0 44.8L623.0 44.1L624.0 43.4L625.0 42.7L626.0 42.0L627.0 41.3L628.0 40.7L629.0 40.0L630.0 39.4L631.0 38.8L632.0 38.2L633.0 37.6L634.0 37.0L635.0 36.5L636.0 35.9L637.0 35.4L638.0 34.9L639.0 34.4L640.0 33.9L641.0 33.4L642.0 32.9L643.0 32.4L644.0 32.0L645.0 31.5L646.0 31.1L647.0 30.7L648.0 30.2L649.0 29.8L650.0 29.4L651.0 29.0L652.0 28.7L653.0 28.3L654.0 27.9L655.0 27.5L656.0 27.2L657.0 26.8L658.0 26.5L659.0 26.1L660.0 25.8L661.0 25.5L662.0 25.1L663.0 24.8L664.0 24.5L665.0 24.2L666.0 23.9L667.0 23.6L668.0 23.3L669.0 23.0L670.0 22.8L671.0 22.5L672.0 22.2L673.0 21.9L674.0 21.7L675.0 21.4L676.0 21.2L677.0 20.9L678.0 20.7L679.0 20.4L680.0 20.2L681.0 20.0L682.0 19.8L683.0 19.5L684.0 19.3L685.0 19.1L686.0 18.9L687.0 18.7L688.0 18.5L689.0 18.3L690.0 18.1L691.0 17.9L692.0 17.8L693.0 17.6L694.0 17.4L695.0 17.2L696.0 17.1L697.0 16.9L698.0 16.8L699.0 16.6L700.0 16.4L701.0 16.3L702.0 16.2L703.0 16.0L704.0 15.9L705.0 15.7L706.0 15.6L707.0 15.5L708.0 15.4L709.0 15.2L710.0 15.1L711.0 15.0L712.0 14.9L713.0 14.8L714.0 14.7L715.0 14.6L716.0 14.5L717.0 14.4L718.0 14.3L719.0 14.2L720.0 14.1L721.0 14.0L722.0 13.9L723.0 13.9L724.0 13.8L725.0 13.7L726.0 13.6L727.0 13.6L728.0 13.5L729.0 13.4L730.0 13.4L731.0 13.3L732.0 13.2L733.0 13.2L734.0 13.1L735.0 13.1L736.0 13.0L737.0 13.0L738.0 12.9L739.0 12.9L740.0 12.8L741.0 12.8L742.0 12.7L743.0 12.7L744.0 12.7L745.0 12.6L746.0 12.6L747.0 12.5L748.0 12.5L749.0 12.5L750.0 12.4L751.0 12.4L752.0 12.4L753.0 12.3L754.0 12.3L755.0 12.3L756.0 12.3L757.0 12.2L758.0 12.2L759.0 12.2L760.0 12.2L761.0 12.1L762.0 12.1L763.0 12.1L764.0 12.1L765.0 12.1L766.0 12.0L767.0 12.0L768.0 12.0L769.0 12.0L770.0 11.9L771.0 11.9L772.0 11.9L773.0 11.9L774.0 11.9L775.0 11.8L776.0 11.8L777.0 11.8L778.0 11.8L779.0 11.8L780.0 11.7L781.0 11.7L782.0 11.7L783.0 11.7L784.0 11.7L785.0 11.6L786.0 11.6L787.0 11.6L788.0 11.5L789.0 11.5L790.0 11.5L791.0 11.5L792.0 11.4L793.0 11.4L794.0 11.4L795.0 11.3L796.0 11.3L797.0 11.3L798.0 11.2L799.0 11.2L800.0 11.2L801.0 11.1"/>
</g>
<path clip-path="url(#cg)" d="M462 736.9L463 737.2L464 737.8L465 737.3L466 736.2L467 739.5L468 740L469 742L470 742.3L471 742.7L472 740.3L473 737.8L474 737.7L475 736.3L476 733.6L477 729.2L478 727.7L479 722.3L480 720.6L481 717.5L482 713.9L483 709.1L484 707.2L485 702.2L486 697.2L487 694.6L488 693.1L489 692L490 689.1L491 688.5L492 687L493 686.7L494 683.8L495 684.6L496 685.2L497 685.2L498 687.8L499 685.8L500 687.4L501 690.3L502 694.9L503 701.5L504 707.3L505 715.4L506 724.6L507 728L508 728.1L509 730.3L510 731.2L511 730.5L512 729.7L513 731.3L514 731.9L515 732.9L516 732L517 731.5L518 733L519 734.3L520 733.3L521 735.4L522 737.1L523 741.4L524 744.5L525 746.1L526 751.2L527 756.8L528 761.9L529 765.5L530 771.1L531 776.6L532 784.9L533 789L534 796L535 799.1L536 804.2L537 809.5L538 813.9L539 814.7L540 814.7L541 814.7L542 814.7L543 814.7L544 814.7L545 814.7L546 814.7L547 814.7L548 814.7L549 814.7L550 814.7L551 814.7L552 814.7L553 814.7L554 814.7L555 814.7L556 814.7L557 814.7L558 814.7L559 814.7L560 814.7L561 814.7L562 814.7L563 814.7L564 814.7L565 814.7L566 814.7L567 814.7L568 814.7L569 814.7L570 814.7L571 814.7L572 814.7L573 814.7L574 814.7L575 814.7L576 814.7L577 814.7L578 814.7L579 814.7L580 814.7L581 814.7L582 814.7L583 814.7L584 814.7L585 814.7L586 814.7L587 814.7L588 814.7L589 810.6L590 805.6L591 797.2L592 788.3L593 781.9L594 772.4L595 766.1L596 758.8L597 752.1L598 743.8L599 736.9L600 728.2L601 722.1L602 714.1L603 708.2L604 699L605 692.3L606 689.4L607 686L608 682.7L609 681L610 677L611 672.6L612 671.4L613 667L614 662L615 658.8L616 652.6L617 649.2L618 649.2L619 649.2L620 649.2L621 649.2L622 649.2L623 649.2L624 649.2L625 649.2L626 649.2L627 649.2L628 649.2L629 649.2L630 649.2L631 649.2L632 649.2L633 649.2L634 649.2L635 649.2L636 649.2L637 649.2L638 649.2L639 649.2L640 649.2L641 649.2L642 649.2L643 649.2L644 649.2L645 649.2L646 649.2L647 649.2L648 649.2L649 649.2L650 649.2L651 649.2L652 649.2L653 649.2L654 649.2L655 649.2L656 649.2L657 649.2L658 649.2L659 649.2L660 649.2L661 649.2L662 649.2L663 649.2L664 649.2L665 649.2L666 649.2L667 649.2L668 649.2L669 649.2L670 649.2L671 649.2L672 649.2L673 649.2L674 649.2L675 649.2L676 649.2L677 649.2L678 649.2L679 649.2L680 649.2L681 649.2L682 649.2L683 649.2L684 649.2L685 649.2L686 649.2L687 649.2L688 649.2L689 649.2L690 649.2L691 649.2L692 649.2L693 649.2L694 649.2L695 649.2L696 649.2L697 649.2L698 649.2L699 649.2L700 649.2L701 649.2L702 649.2L703 649.2L704 649.2L705 649.2L706 649.2L707 649.2L708 649.2L709 649.2L710 649.2L711 649.2L712 649.2L713 649.2L714 649.2L715 649.2L716 649.2L717 649.2L718 649.2L719 649.2L720 649.2L721 653.5L722 655.6L723 656.4L724 662.1L725 662.9L726 665.3L727 666.1L728 665.9L729 667.4L730 665.6L731 667.8L732 668.4L733 670.7L734 671.2L735 673L736 674.5L737 675.1L738 671.5L739 672.4L740 676.2L741 679.8L742 680.1L743 684L744 687.5L745 688.5L745 734.5L744 733.9L743 734.9L742 734.6L741 734.8L740 733.8L739 733.9L738 732.6L737 733L736 731.9L735 731.2L734 729.8L733 729.6L732 729.4L731 730.4L730 729.4L729 728.8L728 729.4L727 729.5L726 727.5L725 728.3L724 727.4L723 727L722 730.8L721 731.9L720 730.6L719 730.8L718 730.6L717 730.9L716 731.1L715 728.6L714 727.9L713 726.4L712 725.4L711 726.2L710 726.9L709 728.5L708 727.1L707 727.7L706 726.6L705 727.3L704 727.1L703 726.8L702 725.4L701 724.9L700 726.6L699 725.3L698 723.4L697 724.7L696 726.5L695 724.5L694 725.9L693 724.8L692 725.5L691 727.2L690 728.2L689 726.2L688 724.2L687 722.5L686 720.4L685 720.2L684 720.9L683 723.4L682 721.6L681 722.1L680 721.9L679 721.8L678 718.5L677 720.6L676 718.5L675 716.8L674 714.3L673 713.6L672 714.1L671 710.1L670 704.3L669 695.2L668 689.3L667 684.2L666 688.5L665 695.2L664 702.8L663 698.6L662 698.8L661 695.8L660 694.8L659 693.3L658 698L657 698.3L656 700.5L655 703.6L654 706.2L653 711.4L652 715.1L651 717.9L650 722L649 725.5L648 727.9L647 731.8L646 735.9L645 738.8L644 742.2L643 744.3L642 750L641 753.6L640 757.3L639 763L638 764.4L637 769.2L636 775.9L635 780.7L634 785.1L633 788.4L632 794.2L631 799L630 802.5L629 803.5L628 809.1L627 811.8L626 814.7L625 814.7L624 814.7L623 814.7L622 814.7L621 814.7L620 814.7L619 814.7L618 814.7L617 814.7L616 814.7L615 814.7L614 814.7L613 814.7L612 814.7L611 814.7L610 814.7L609 814.7L608 814.7L607 814.7L606 814.7L605 814.7L604 814.7L603 814.7L602 814.7L601 814.7L600 814.7L599 814.7L598 814.7L597 814.7L596 814.7L595 814.7L594 814.7L593 814.7L592 814.7L591 814.7L590 814.7L589 814.7L588 814.7L587 814.7L586 814.7L585 814.7L584 814.7L583 814.7L582 814.7L581 814.7L580 814.7L579 814.7L578 814.7L577 814.7L576 814.7L575 814.7L574 814.7L573 814.7L572 814.7L571 814.7L570 814.7L569 814.7L568 814.7L567 814.7L566 814.7L565 814.7L564 814.7L563 814.7L562 814.7L561 814.7L560 814.7L559 814.7L558 814.7L557 814.7L556 814.7L555 814.7L554 814.7L553 814.7L552 814.7L551 814.7L550 814.7L549 814.7L548 814.7L547 814.7L546 814.7L545 814.7L544 814.7L543 814.7L542 814.7L541 814.7L540 814.7L539 814.7L538 814.7L537 814.7L536 814.7L535 814.7L534 814.7L533 814.7L532 814.7L531 814.7L530 814.7L529 814.7L528 814.7L527 814.7L526 814.7L525 814.7L524 814.7L523 814.7L522 814.7L521 814.7L520 814.7L519 814.7L518 814.7L517 814.7L516 814.7L515 814.7L514 814.7L513 814.7L512 814.7L511 814.7L510 814.7L509 814.7L508 814.7L507 814.7L506 814.7L505 814.7L504 814.7L503 814.7L502 814.7L501 814.7L500 814.7L499 814.7L498 814.7L497 814.7L496 814.7L495 814.7L494 814.7L493 814.7L492 814.7L491 814.7L490 814.7L489 814.7L488 814.7L487 814.7L486 812.3L485 810L484 807.8L483 805.5L482 803.5L481 801.4L480 799.4L479 797.1L478 795.6L477 793.3L476 791.8L475 789.9L474 787.7L473 784.8L472 782.8L471 780.8L470 776.6L469 771.1L468 763.8L467 758L466 750L465 747.3L464 744.6L463 740.7L462 736.9Z" fill="#939598"/>
<path clip-path="url(#cg)" d="M545.6 810L547 793.5L548.4 810Z" fill="#939598"/>
<g clip-path="url(#cg)" fill="none" stroke-linejoin="round" stroke="#939598" stroke-width="0.72">
<path d="M178 733.5l1 .6 1 .4 1 1.3 1 .9 1 .1 1 .8 1 .8 1 .2 1 .5 1-.3 1 .7 1 .7 1 .2 1 .4 1 .6 1-.2 1 0 1 .2 1-.2 1-.7 1-.3 1-.1 1-.2 1 .5 1 .7 1-.7 1 .2 1 .6 1 .8 1-.6 1 .4 1-.3 1-.6 1 1 1 .3 1 1.3 1 1.3 1-.8 1 0 1-.4 1-.1 1-1 1 1 1 2.6 1-.4 1 1.6 1 1.4 1-1.8 1 1.9 1 1 1 .2 1 .1 1 0 1 1.1 1 1.3 1-.7 1 1.3 1 .8 1 .3 1-.1 1-.1 1 .5 1-.8 1 0 1 0 1 .4 1 3.6 1-.5 1-.6 1 .3 1 .1 1 1.7 1-.6 1 1 1 .4 1 .1 1 .1 1-.2 1 .1 1 0 1 1 1-.6 1 1.1 1 .2 1-2.8 1-.3 1-.4 1 .2 1 2 1 1.5 1 1.3 1-2.3 1-.4 1 0 1-.5 1-1.1 1 .1 1-2.8 1-2.8 1 2.3 1 .9 1 1.6 1 1.4 1 .9 1-.8 1 3.4 1-1 1-.6 1-.6 1-1.7 1-.1 1-1.1 1 .1 1-3.3 1 .1 1-.9 1-2.4 1-.1 1-2.7 1 .7 1-2 1-.1 1-1.2 1 .3 1 1.2 1-.1 1 2.2 1 2.7 1-.8 1-3.6 1 2.6 1 3.2 1-3 1 .5 1 1.6 1-.3 1 .2 1-2.7 1 0 1-1.5 1 1.9 1-.1 1-.5 1-2.4 1 .2 1 .3 1-.8 1 1.6 1-1.8 1 1.3 1-.8 1-.8 1-1.2 1-.3 1-.5 1 .3 1-2 1 2.7 1-2.5 1 .4 1 3.3 1 2.5 1 .1 1-.2 1-.5 1 .6 1-.2 1-1.7 1-1.5 1-1.1 1 0 1 3.5 1-.4 1-.3 1-1.9 1 4.4 1-.2 1 2.4 1-.4 1 2.7 1 2.5 1 .1 1 1.5 1-1 1 1.8 1 2.9 1 1.4 1-.6 1 1 1-2.9 1-.7 1 .5 1 .3 1-2.5 1-2 1 .9 1-1.2 1-.4 1-.4 1 .6 1 2.8 1 3.2 1-1.2 1 2.3 1-.1 1-3.7 1-.6 1 2.4 1-3.9 1 1.5 1 1.1 1-2.3 1-1.6 1-1.9 1 2.1 1 .1 1 1 1-3.2 1-2.2 1 1.9 1 .8 1-3 1 .9 1-.5 1 2 1-2.7 1-2.5 1 .5 1-2.8 1 .2 1 1.8 1 2.1 1 .8 1 .9 1-2.5 1 2.4 1-.1 1 .3 1 0 1 1.6 1 2.8 1 0 1 1.5 1-.8 1 .6 1 2.6 1-2.6 1-3 1-1.3 1-2.4 1 .1 1 3.1 1 3.6 1 .6 1-.8 1 2.5 1-.6 1 1.3 1 .4 1 3.3 1 4.8 1-1.5 1 2.4 1 .3 1 .9 1 .4 1 2.6 1-.2 1 2 1 .4 1-2.8 1 0 1 2.8 1-.7 1 .7 1-1.8 1-3.4 1 1.4 1-1.1 1 2.5 1-5.4 1 2.5 1 1.3 1 3.5 1 2.6 1 3.6 1 .8 1 2.9 1 4.8 1 7.2 1 2 1 8.7 1 4.5M612 813.7l1-5.8 1-4.2 1 8.8 1-3.8 1-11.7 1-10.5 1 2.3 1 1 1-10.5 1 7.4 1 7.1 1-11.3 1-4.9 1-3.5 1-4.9 1-4.1 1 .9 1-2.9 1-8.2 1-.6 1 .9 1-1 1-.3 1-5.7 1-4.4 1-2.2 1-6.8 1-9.6 1 .7 1-12.8 1-6.3 1-3.5 1 1.2 1-11.8 1-3.3 1-2.1 1-12.8 1 3.5 1-7.2 1-4.1 1-5.1 1-.2 1-9.3 1 1 1-2.4 1-.5M660 650.2l1 4.5 1 5.9 1-4.1 1 6.4 1-10.7 1-2 1 0 1 6.4 1 6.1 1 6.2 1 7.5 1 3.2 1 5.2 1-.2 1-.7 1 1.6 1-3.7 1-.7 1 2.9 1-4.9 1 2.1 1-1.5 1-3.4 1 4.1 1 6.4 1-.8 1 5.1 1-4.8 1 2.3 1-1.5 1-3.5 1-2.2 1-1.6 1 5.1 1-4.7 1-1.7 1-4.8 1 5.7 1 3.5 1 1.4 1-10.6 1 5.5 1 3.7 1 2.7 1 .1 1 2.1 1 7 1 1.4 1 3.8 1 7 1 1.3 1 3.8 1 1.3 1-5.5 1 7.6 1 1.2 1 .5 1 2.7 1-.9 1 1.5 1 1.4 1-.5 1 5.9 1-6.7 1 5.9 1 .7 1-5.1 1-1.4 1 .8 1 .6 1 3.9 1-.1 1-1 1 .9 1-1 1 2.7 1-8.7 1 .5 1 3.6 1-3 1 .1 1 1.6 1 5.1 1-2.2 1 2.4 1 1.9 1 2.1 1-.9 1 2.9 1 .3 1 2.9 1-.8 1 1.4 1 .5 1-5.5 1 .4 1 1.3 1 2.8 1-1.3 1 .9 1-3.7 1 3.3 1 .1 1 1.1 1-.6 1 1.9 1-.8 1-2.7 1 2.3 1 1.3 1-2.5 1 6.1 1-1 1 1.3 1-1.1 1-1.6 1 0 1 1.5 1 3.3 1-1 1-1.2 1-3.6 1-.2 1 2 1-1.9 1 2.3 1-.8 1 2.7 1-4.1 1 .5 1-1 1-.8 1 3.2 1 1.9 1-6 1-1 1 4.3 1-3.2 1-.1 1-2.6 1-3.7"/>
<path d="M178 731.9l1-.6 1-.2 1 .3 1-.3 1 .7 1 .7 1-.8 1 .4 1 .6 1-.5 1 .4 1-.2 1-.8 1 .5 1 1.5 1 1 1 1.1 1-.2 1-.4 1-.7 1 .4 1-.5 1 .8 1 .7 1-.7 1-1.4 1-.1 1-.9 1 .1 1 .5 1-.2 1-.1 1 .9 1 .7 1-.4 1 1.3 1 2 1-1.2 1 .8 1-.2 1-1.2 1-.6 1 1.4 1 1.5 1-.9 1 0 1 .8 1 1.8 1 2.1 1 .9 1-1.1 1-.8 1 1.2 1-.1 1 1.6 1-.7 1 1.2 1 1.2 1 .5 1-.5 1 1.5 1 0 1-.8 1-.3 1-1.1 1 1.4 1 .3 1-1 1-1.5 1 1.4 1-.9 1 .5 1 .6 1-.5 1 1.1 1 .2 1 .6 1 .3 1 2.2 1-.7 1 .6 1-.5 1 1.3 1 .8 1 .3 1-1.2 1-.9 1 1.6 1-1.8 1-1.3 1 .5 1-1.3 1-1.2 1 0 1-3.5 1 1.6 1 1.2 1 1.6 1-1.1 1 .7 1 1.2 1 .4 1 2.3 1-2.1 1-2.1 1 .2 1-1.7 1-.8 1-2.2 1 3.4 1-.5 1 1.2 1-.4 1-2.1 1-1.6 1 .2 1 1.6 1-.4 1 .2 1 0 1-2.2 1-.7 1-.7 1-.6 1 1.7 1-1.4 1 .6 1 .2 1 .9 1 0 1 .5 1-2.4 1 1.3 1 2.7 1-.2 1-1.1 1-.7 1 1.4 1-2.1 1-.6 1-2 1 1.7 1-.5 1 .1 1-3.9 1 3 1-1.1 1 2.1 1-1.4 1-2 1 .1 1-.5 1-1 1 .1 1-2.6 1 1.2 1 .4 1 1.7 1 1.6 1-2.5 1-.4 1-.6 1 .9 1-.6 1 0 1-2.4 1 .1 1 3 1 .9 1 .7 1 .8 1-1 1 2 1-1.3 1 .5 1 2.1 1 .5 1-2.6 1 1.2 1-2.3 1-2.3 1 0 1-1.2 1-1.4 1-1.7 1-1.7 1 1.3 1 1.4 1 1.1 1-2.3 1-1 1-1.9 1 .7 1 1.7 1 1.8 1-1.9 1-.7 1-2.8 1 3.4 1-3.4 1 3 1 2.4 1 1.6 1 .5 1-3.2 1 .7 1-2.7 1 4 1-.3 1-1.4 1 0 1 1.3 1-3.1 1 .7 1-.6 1-1.6 1 .5 1 .1 1-2.4 1-2 1-.7 1 1.7 1 2.2 1 .9 1-1.7 1 .3 1-2.2 1 2 1 0 1 .4 1 2 1 2.5 1 .2 1-1.4 1 1.2 1 1.7 1 .1 1 1.5 1-1.3 1-.8 1 1.5 1 1.4 1-.4 1 2.1 1 1.9 1-1.6 1-3.4 1 2.9 1-1.6 1-2 1 4.1 1-1.8 1-1 1-3.6 1-2.9 1-3.1 1-.2 1 2.3 1 1.4 1-.3 1 1.6 1 1.6 1-.3 1-1.6 1-2.1 1 3.5 1 3.6 1 .1 1 2.2 1 2.5 1 1.7 1 4.2 1 .7 1-5.2 1-2.7 1-2.6 1 2.5 1-1.7 1 2 1 4 1 4.2 1-.7 1-.4 1 1.3 1-3.2 1 2 1 4.3 1 2.1 1 4.6 1 6.6 1 2.2 1 3.3 1 2.4 1 8.9 1 2.3 1 1.9 1 3.6 1 8.2 1 .6 1-5.4 1 5 1-.5 1-4 1-3.5 1 3.8 1 5.9 1 .4 1 6.5 1-.8 1 3 1-3 1-4.8 1 4.5 1-2.1 1-2.6 1-3.8 1 2.2 1 4.9 1 4.7 1 5 1-4.7 1 4.5 1 4.1M600 813.7l1-3.2 1-13.5 1-6.5 1-6.6 1-12.6 1-.6 1-2.2 1 6 1-4.4 1-23.6 1 5.4 1-2.9 1-15.7 1 2.2 1 17.9 1-12.8 1-12 1 3.6 1-8.4 1-9.1 1-10.1 1 2 1 2.7 1-5.7 1-18.3 1 2.5 1-2.7 1-4.8 1-2.7 1-3 1 4.5 1 .3 1-.3 1-3.4 1-10.6 1-8.2 1-4.6 1 .3 1-2.4M720 650.2l1 13.4 1-2.4 1 .6 1 3.4 1-6.9 1 5.2 1-2.7 1 .2 1 6 1 3.5 1 7.2 1-.1 1 2.2 1 1.6 1 1.1 1 5.2 1-2.1 1 1.5 1 1.1 1 2.7 1-.8 1-2.2 1 1.2 1 .7 1 .6 1-2.2 1 2.9 1-2 1 6.4 1-1.5 1 4.9 1 .5 1-1.8 1-2.3 1-1.1 1 2.4 1-1.2 1-1 1 1.2 1 4.4 1-.1 1 3.9 1-3.1 1 2.7 1 1.1 1-1.4 1 .6 1 3.9 1-.8 1 1.8 1-3.6 1 6.5 1-1.2 1-4.3 1 3.7 1 5.1 1-1.1 1 2.3 1 2.1 1-3.9 1 1 1-2.7 1 1.6 1 1.6 1 .3 1-3.5 1 2.5 1 .1 1-.6 1 4.4 1-4.3 1 3.3 1-1 1 1.3 1-3.7 1-2.5 1 5.2 1-1.2 1 .6 1 2.8 1-2.7"/>
<path d="M178 730.9l1 .1 1-.5 1 .8 1 .3 1 .8 1-.6 1 .3 1 .3 1 .5 1 .4 1-.3 1 .5 1 .4 1 .2 1 1.2 1-.4 1 .1 1 0 1-.1 1-.5 1 1.1 1-1 1 .6 1 1.1 1 .4 1 .4 1 .1 1 .2 1 1.4 1-.7 1-.7 1-1.1 1 .6 1 1.5 1-.6 1 .2 1 .1 1 1.1 1 .6 1-.2 1 1.4 1-1.5 1 .3 1 2.5 1-1.2 1 1.4 1-.7 1 .8 1 2.6 1 .6 1-.6 1 1.1 1 1.2 1-1 1 1 1 .1 1-.1 1 .4 1-1.4 1 .9 1-.9 1-1 1-1 1 .1 1-.1 1 .9 1 .1 1 .7 1 1.1 1-.3 1-.8 1 1.3 1 1.5 1 .8 1-.7 1-.5 1 .3 1-1.6 1 1.9 1 1.3 1-1.2 1 1 1 .2 1 .9 1-.5 1 .1 1-.1 1 .7 1 .5 1 2 1 1.4 1 1.4 1 3.8 1-.3 1-1.9 1-2.1 1 0 1-2.1 1-3.5 1-.5 1-.4 1 .8 1 2.7 1-1.8 1-.2 1-.3 1 1.6 1-.3 1-.5 1-1 1 1.9 1-1.5 1 .3 1-2 1 .5 1-2.4 1 1 1 2 1 1 1-.7 1-1.4 1 .4 1-1.1 1-1.8 1-1 1-1.7 1 .4 1-1.2 1 .9 1-.6 1-1.5 1-.9 1-.9 1-1.2 1 2.4 1 1.8 1 .3 1 1.1 1 .6 1-.9 1 1.4 1-.9 1 1.3 1-1.5 1-.3 1-.2 1-.1 1 .7 1-1.9 1-.5 1 1.5 1 2.8 1 .5 1-.3 1-3 1-1.2 1-1.4 1 2.3 1 1.2 1-3.3 1-1.8 1 .9 1 2.7 1 1.2 1-1.6 1-2 1 .7 1 1.7 1-1.2 1 .9 1 1.6 1-.6 1-1 1-2.2 1-.7 1-.5 1-.7 1-1.2 1-.2 1 2.3 1-.5 1-.6 1 1.6 1 .5 1-.8 1 0 1 1.9 1-.1 1 1.9 1-3 1 2.2 1 .3 1-1 1 3.4 1 1.6 1-.6 1 0 1-1 1-1.3 1 .2 1 .6 1-1.7 1-1.4 1 1.3 1 .3 1 .2 1 1.2 1-.9 1-7.1 1-.2 1-1.3 1-2.3 1-.6 1-.7 1-.3 1-1.4 1 3 1-.9 1-.3 1 1.1 1-2 1-.4 1-1.8 1-.3 1 1 1-.4 1-1 1 .6 1-3.3 1 3.4 1-.3 1-.1 1 .9 1 1.2 1-2.6 1 2.2 1-2.3 1-2.4 1-2.1 1 2.6 1 2.4 1-4.4 1 .7 1 2.7 1 .1 1-1.3 1 3.2 1 .5 1-2.5 1-1.2 1-2.9 1 1.4 1 .2 1-4.3 1 .8 1 2.1 1 4 1-1.9 1 2.9 1-2.9 1 1.8 1 2.6 1 1.8 1-.5 1 3 1-2.8 1-2.4 1-2.1 1 .6 1 .4 1-2.5 1 1.5 1 2.7 1-2.6 1-1.7 1 .8 1 2.2 1 3.7 1-1.2 1-2.2 1 2.8 1 3.4 1-1 1-.9 1 4.3 1-.3 1-2 1-1.9 1 1.2 1 .5 1 1.4 1 8.5 1-2.3 1 8.8 1 5.2 1-2.1 1 9.5 1 10.3 1-11 1-2 1 1.2 1-4 1-7.9 1-6.1 1-6.1 1-10.3 1 3.5 1-1.3 1 1.6 1 2.3 1-7 1-7.6 1-13.4 1-.1 1 8 1-14.4 1 4.7 1-2.1 1-12.9 1 6.2 1 7.6 1 1.6 1-.3 1 9.4 1 8.8 1 11.9 1 6.2 1 14.8 1 15.3 1 .5 1-3 1 5.1 1-2.4 1-10.6 1 5.2 1 6.9 1 4.5 1-5.9 1-.8 1 1.5 1-2.5 1 6.7 1-1.3 1 3.2 1 3.9 1-.4 1 2.5 1 7.5 1 7.1 1 4.2 1 .6 1-.4 1 7.9 1-.4 1 2.8 1 .4M597 813.7l1-.3 1-11.9 1-13.9 1-8 1-18.8 1-10.1 1-13.2 1-29.7 1 3.6 1 6.1 1 5.8 1-8.4 1-3.3 1 3.2 1-15.6 1 7 1-10.8 1-4.8 1 12.2 1-5 1-13.8 1-8.8 1-3.8 1-2.7 1-5.9 1-5.7 1 4.1 1-6.1 1-4.9M704 650.2l1 7.7 1 9.2 1 3.4 1-4.2 1 2.7 1-3.7 1-5.6 1 7.4 1 9.4 1 .2 1 13.3 1-1.8 1 3.2 1-3 1 3.4 1-1.7 1 4.5 1 .9 1-3.1 1 4.9 1 .6 1 7.1 1-5.8 1 4.3 1-.9 1 .7 1-3.5 1 5.6 1 3.3 1 2.8 1 .7 1 1.4 1-4 1 4.1 1-3.7 1 2.9 1-4.5 1 7 1-5 1 2 1 4.8 1-.1 1-2.3 1 2.5 1-2.3 1 1.3 1 2 1-1.8 1 3.7 1 1.2 1-1.9 1 2 1 .5 1-1.2 1 3.2 1-5 1 3.8 1 2.3 1-6.4 1-.9 1-.7 1 2.8 1-.6 1-.4 1 3.5 1-2.5 1-.2 1 .5 1-.6 1-1.7 1-1 1 1.1 1 2.9 1-5 1 2.3 1-1.5 1 2.4 1-1.5 1 .6 1 5.1 1-1.9 1 1.5 1-.9 1 2 1 1 1-.3 1 1.9 1-3.5 1-4.1 1 6.9 1-1.8 1-1 1 4 1-.6 1-3 1-3.6 1 2.5"/>
<path d="M178 731.5l1 0 1-.1 1 1.5 1-.7 1 .2 1 .5 1-.1 1 .5 1 .1 1 .3 1 .7 1 .1 1-.4 1 .1 1 .7 1 .7 1-.7 1-.7 1-.3 1-.8 1 1.7 1-1.1 1 .6 1-.5 1 .7 1-.6 1 .4 1 .2 1 .5 1-1.7 1 .5 1-1.9 1 .7 1 .1 1 .2 1 .9 1 .8 1 .9 1 1.7 1-.4 1 .6 1-.2 1-.8 1 1.4 1-1.2 1 1.9 1 1.1 1-.6 1 2.5 1 .8 1 1 1 .1 1-.1 1 .7 1 .8 1-.2 1 .7 1-.9 1 1.1 1 .5 1 .4 1 .5 1 .6 1-.4 1-.3 1 .8 1 .7 1-1.2 1 .7 1 .7 1-1.7 1-1.2 1-1.3 1 .9 1 .6 1-.4 1 .9 1 .1 1 .7 1 .2 1 1 1 .6 1-1.4 1-.4 1-1 1-.5 1-.9 1-.1 1 1.6 1-.2 1 .3 1-1.9 1-.1 1 .4 1 .2 1-1.9 1-1.2 1-2.2 1-1.6 1 2.7 1-1.5 1 3 1 1.8 1 .9 1-1.1 1 .7 1 .4 1-.8 1 .6 1 2.4 1-.1 1-3.1 1 .1 1-.2 1-1 1-2.2 1-1.1 1 2.5 1 1.2 1-.8 1 .4 1-2.4 1-3 1 1.6 1 1.8 1 .5 1-1 1-3.2 1-1.3 1 .8 1 1.7 1-.6 1 0 1 1.2 1-2.7 1 4.6 1-.3 1-2.8 1-.6 1 .8 1 1.6 1 .1 1 .3 1-4.3 1-2.6 1 1.2 1-1.2 1-.4 1 .6 1-2.6 1 2.9 1-3.7 1 2.3 1-.9 1 1.2 1-3.2 1 1.6 1 2.1 1-3.9 1 .2 1-2.5 1 1.5 1 1.4 1-1.9 1-1.4 1-2.8 1 3 1-.3 1 .6 1-1.8 1 4.3 1-1.1 1 3.7 1-1.3 1 1.4 1 .3 1 .6 1 .3 1 1.5 1-2.4 1 2.8 1 2.2 1-1.6 1 .8 1 .1 1 .2 1 .2 1 1 1 .9 1-1 1-1.6 1 2 1-1.5 1 1.6 1-.7 1 .6 1 3.6 1 1.5 1-2 1-1 1 1.6 1 1.1 1-2.4 1-2.1 1 2.6 1-1 1-1.4 1-.5 1-2.7 1-.5 1 .9 1-.9 1-2.8 1 1.3 1-.1 1 1.3 1 1 1-3.7 1-.9 1 1.7 1-1.7 1-.1 1-1 1 1.6 1 1.6 1-2.1 1-2.6 1-.3 1-1.9 1 1 1 1.7 1 .5 1-.3 1-.8 1 1.1 1 3.4 1-.2 1-.1 1-2.6 1 .8 1-1.4 1-.8 1-3.9 1-1.7 1 2.5 1-.4 1 1.6 1-.8 1-2.4 1 4.1 1-.1 1-2.3 1 4 1-5.1 1-.5 1 4.2 1 4.1 1-2.4 1-2.4 1-1.9 1 2.6 1 6.1 1 .3 1-1.9 1 .2 1 2.7 1 .2 1-4.6 1 1.5 1-3.3 1 3.8 1-1.4 1 0 1 2.5 1-2.7 1 3.7 1-1 1 3.1 1-3 1-2.6 1 .2 1 5.5 1 2.2 1 5.6 1 5 1 4.8 1 3.2 1-4.2 1 7.2 1 3.7 1 2.4 1-1.9 1 3.1 1 11.8 1 3.1 1 2.1 1 6.9 1-5.9 1 5 1-4.5 1 1.5 1 .9 1-6.1 1-1.8 1 1.8 1-2.9 1-.4 1 3.3 1-.2 1-.1 1 1.7 1 6.5 1-9.2 1-2.8 1 1.4 1-7 1 1.9 1-1.5 1 4.3 1 6.6 1 15.1 1 .3 1-4.4 1-1.9 1-2.1 1 1.8 1 5.9 1 8 1 .3 1 6M516 813.7l1-3.6 1 1.2 1 2.4M610 813.7l1-1.9 1-8.2 1 .5 1-3.7 1-2.5 1-7.3 1-5.8 1 .5 1-3.7 1-13.7 1-4.5 1-7.8 1-4.2 1-7.1 1 6.6 1-9.2 1-12.6 1-.4 1 1.5 1-8.6 1 2.1 1-6.8 1 0 1-.8 1-7.7 1-9.9 1-6.6 1-5.7 1-.5 1-3.6 1-1.3 1 2.3 1 2.2 1-.1 1 5.8 1-4 1 4 1-7.4 1 1.8 1-4.4 1-7.1 1-4.3 1 .7 1 .9 1-1.6 1-2.3 1-6.7 1-7.4 1 1.1 1 1.7 1 2 1-1.3 1-2.5 1 2.1 1-6.1M667 650.2l1 6.3 1 6.2 1 4.1 1 6.2 1-3.9 1 1.4 1 6.5 1-4.8 1 2.5 1 .6 1 .3 1-.3 1 1.3 1 2.1 1 3.7 1 .6 1 3 1-1.5 1-7.1 1 6.7 1 2.3 1 .3 1-5.9 1 2.8 1 4.8 1-1.5 1 3.2 1-.3 1-1.5 1 3.7 1-6.7 1 0 1 7.8 1 1.1 1-6.9 1 2.3 1-.2 1-2.3 1 2.8 1-3.8 1 4.5 1 4.5 1-.8 1 3 1 5.2 1 9.5 1-4.2 1 3.7 1-4.4 1-.3 1 3.7 1-3.6 1 3 1 1 1 .3 1 5.1 1-1.3 1 7.5 1-1.4 1 2.4 1-1.3 1 1.1 1-2.7 1 3.7 1-3.5 1 5.1 1-.2 1-6 1 3 1 5.5 1-1.9 1-2.9 1-1.6 1-.9 1 .6 1 .1 1-2.7 1 1.2 1 7 1-1.2 1 3.3 1-4.9 1 .9 1-1 1 1.8 1 3.4 1 1.6 1-3.9 1-.2 1-.2 1 1.8 1 2.8 1 3.3 1-7.9 1 3.1 1-1.8 1 .8 1-1 1 .8 1-.3 1 5.2 1-3.2 1-6.3 1 6.1 1 .3 1-4.3 1 4.5 1 .7 1-3.1 1 .4 1-2.5 1 4.3 1-1.8 1 .1 1-1.3 1-.7 1-.9 1 1 1-.6 1 3.9 1-3.7 1 1.7 1-2.6 1-1.5 1-.9 1 2.5 1 1.2 1 2.9 1 1.1 1-4 1 0 1 0 1 .3 1-4.6"/>
<path d="M178 727.3l1-1.3 1-1.7 1 .1 1 .5 1 .4 1-.7 1 .3 1 .3 1-.2 1-.2 1 .1 1 .2 1-.2 1 .6 1 .6 1 .2 1 0 1-1.3 1 .3 1-.8 1-.1 1 .3 1-.1 1-.6 1 .4 1-1 1-.7 1-.2 1-.2 1-.2 1 0 1 .3 1-.5 1 .3 1-.4 1 1.1 1 .4 1-.1 1 .5 1 .1 1-.3 1-.3 1 .7 1 .8 1-.5 1 2.5 1-.4 1-.3 1 2.1 1 .8 1 .2 1 .3 1 1.9 1 1.3 1 .1 1 .6 1 1.4 1 .7 1-1.6 1 1.1 1 1.6 1-1.1 1 .4 1-.5 1 .2 1-1.2 1-.3 1-1.3 1-.5 1 1 1-.9 1 .2 1-.9 1 4 1 1.2 1 .9 1 .4 1 1.4 1 1.5 1 1.5 1-1.2 1-1.8 1 .1 1 .1 1 .4 1 .6 1-2.6 1 1.7 1 .4 1 2.2 1 .5 1-.6 1-.2 1-1.2 1 .2 1-2.8 1 .6 1 .9 1-.1 1-1.3 1 .3 1 2.9 1 .2 1-2 1 0 1-1 1-.3 1 .3 1-.4 1-.4 1 1.2 1-.3 1-1.2 1 2.4 1-2 1 .6 1-1.8 1-4.6 1 1.3 1-1.4 1-1.1 1 1.9 1-2.4 1 .7 1 1.6 1-.4 1 2 1-3.6 1 1.2 1 2.8 1 .9 1 .4 1-3.3 1 1.1 1 2.3 1-.9 1-2.4 1-3.8 1 .3 1 1.9 1-2.2 1-2.4 1-.3 1 .4 1-1.6 1-.7 1 1.2 1-.7 1-1.4 1 .6 1 2.5 1-3.9 1 0 1-.4 1 1.4 1 0 1 .6 1 4.2 1 .2 1-2 1 .1 1 .3 1 .8 1-1.3 1 1.4 1 1.2 1-1.1 1 1.9 1 1.3 1 1.2 1 2.7 1-.2 1 3 1-2.5 1 .4 1 .9 1-2.1 1 0 1 3.5 1 .4 1-1.4 1 .4 1 1.1 1-1.4 1 0 1 .2 1-1.8 1 2.4 1-.6 1-.7 1 1.3 1 0 1 .1 1-.2 1 1.2 1 0 1-1 1-3.6 1-1.1 1 1.2 1 0 1 .7 1 2.4 1-.1 1-2 1-2.1 1-2 1 .1 1-2.7 1-.8 1-.7 1 2.7 1-1 1 .5 1-.2 1-1.2 1-.1 1-2.2 1-1.9 1 2.4 1-1.7 1-.8 1-1.3 1 .2 1 .4 1-.2 1-.2 1 .9 1 1.5 1-.3 1-4.3 1 4.3 1-6.4 1 2.5 1 .4 1 .7 1 .5 1 3.3 1 1.8 1-2.1 1-4.7 1-.3 1-.8 1 1.3 1 .3 1 2.6 1-2.1 1-4.6 1-1.7 1-.9 1-2 1 4.5 1-2.5 1 .9 1 .8 1 4.2 1 3.9 1 4.2 1 1.2 1 .1 1 1.9 1 2.9 1 1 1-3.6 1-.8 1 2.4 1 .5 1-1.1 1 3.8 1 1.4 1 .4 1 3.7 1-2.8 1 2.9 1-3 1 1.5 1-2.2 1 3.1 1-.5 1 .5 1-1.1 1-3.8 1 5.2 1 5.2 1 .9 1 6.5 1 2.6 1 3.3 1 3.4 1 4.3 1 1.2 1 1.3 1 2.6 1 2.3 1 5.3 1 8.6 1 .7 1 1.2 1 2.7 1 4 1-.4 1-.3 1 4 1-3 1-1.2 1-4.1 1 .3 1-.5 1 1.3 1-2.4 1-5.6 1-4.2 1-1.2 1-.8 1-1.1 1-4.1 1 .1 1 1.9 1-1.9 1 .2 1-2 1 4.6 1-4 1 3.5 1 11.4 1 6 1 11 1-4.1 1-2.5 1 1.2 1 6.1 1 .4 1 6.3 1 .1M605 813.7l1-.9 1 .9M610 813.7l1-1 1 .7 1 .3M615 813.7l1-7.2 1 1.2 1 .2 1-1.3 1 .1 1-4.6 1 5.1 1-9.4 1-6.9 1-4.1 1-5.3 1-1.7 1-4.2 1-8.4 1 1.6 1-.2 1 2.6 1-5.1 1-.5 1-6 1-2.9 1-4.9 1 2.2 1-9.9 1-3.9 1-10.9 1-2.6 1-4.6 1-.2 1 1.3 1-5.3 1-.2 1-11.9 1-3.7 1-7.5 1-14.8 1-1.7 1-6.9 1 4.6 1-3.8 1-8.6 1 .8 1 3.5 1-2.5 1 5.4 1 3.1 1-2.7 1 6.2 1 1.6 1-7.3 1-2.7 1 2.1 1 3.6 1 4.3 1-2 1 8.4 1-1 1-1.5 1 5.1 1 .7 1 7 1-.9 1-1.9 1 8.1 1-.9 1-.8 1 1.6 1-1.6 1-1.1 1 6.1 1-2.3 1 1.3 1-5.2 1 .3 1 7.1 1 8 1 3.7 1-1.5 1 1.5 1 3 1-1.8 1-2.4 1-2.6 1 4.2 1-4.6 1 7.4 1-2 1 4.8 1 .4 1-2.7 1 .3 1-3.3 1 7.9 1-5.9 1 4.4 1 2 1 3.6 1-9.3 1 1.7 1-.5 1 3.2 1-2.4 1-3.6 1 3.3 1 3 1-2.2 1 2.8 1-1.1 1-1.7 1 1.4 1 4.3 1 .9 1 4 1 .4 1 5.7 1-4.6 1-1.5 1 2.8 1 3.3 1-.3 1-2.8 1 2.8 1-.6 1 .9 1-.1 1-1.6 1-1.3 1 2.8 1 1 1 3.7 1-2.8 1-2.1 1 .4 1-2.3 1-2.7 1 3.9 1 6.4 1-9.5 1-1.9 1 2.5 1-.3 1-2.9 1 3.7 1 1.3 1-5.1 1 2.1 1-1.5 1 5.8 1-4.9 1-2.2 1 .9 1 1.5 1-2.8 1 .9 1 1.2 1 .8 1 3.9 1-3.4 1-.6 1 .5 1-1.9 1 2.6 1 .4 1-2 1 1.6 1-7.9 1 4 1 3.6 1-2 1 2.4 1-6.8 1 6.6 1-3.4 1-1.7 1 .3 1 1.5 1 .1 1-2.7 1-.2 1 3.3 1-.3 1 2.8 1-5.3 1 .8 1-1 1 2.8"/>
<path d="M178 730.1l1-2.4 1 .4 1-.7 1-.4 1 .8 1-.6 1 1.2 1 .8 1-.1 1 .1 1 .1 1 .7 1 .3 1 .3 1-.9 1 1.3 1 .9 1-.2 1-.4 1 .1 1 .5 1 .1 1 1.4 1 .2 1-.1 1-1.3 1 1.1 1 .6 1 .3 1-1.3 1 0 1 0 1-.4 1 1.4 1 .4 1-1.2 1 1.1 1 .3 1 .2 1 .2 1 .5 1-1 1 0 1 .3 1 1.4 1 1.5 1-1.3 1 1.3 1 2.8 1-.7 1-.4 1 .2 1 2.3 1 1.2 1 1 1-.1 1 .2 1 .6 1-.7 1-.2 1 .8 1 .1 1-.3 1-.8 1-.2 1 1.1 1 1.8 1-.6 1 .8 1 .8 1-.3 1-.6 1 1.4 1-.3 1 .8 1-.9 1 .6 1 .3 1 1.8 1-.1 1 .8 1-.6 1-.4 1-.3 1 0 1-.5 1 .1 1-1.4 1 .1 1 0 1-.4 1 1.1 1-.1 1-.2 1 2.1 1-1.6 1 1.9 1-3.8 1-.6 1-1 1 .7 1 0 1 2.4 1-1.5 1-.5 1 .9 1 .6 1-2.2 1-.7 1 .5 1 .5 1 .2 1 1.7 1-.8 1-4.4 1-.7 1-.5 1 1.4 1 0 1-.2 1-1.8 1-.2 1-2.8 1-.5 1-1.4 1-.1 1 3.5 1-.5 1-.9 1-1.4 1 1 1 1 1-1.2 1 1.6 1-.1 1 .1 1 1.3 1 1.8 1-1.9 1 2.3 1-2.2 1 1.8 1-2.3 1 2.2 1-.8 1 1.9 1-2.9 1 1.9 1 .6 1 .3 1-3 1 0 1-.5 1-1.1 1 .8 1-.5 1 1.1 1 1.5 1 1.7 1-.4 1 .7 1-.2 1-1.8 1 .3 1 2.4 1-1.3 1 0 1 .9 1-.3 1-1.4 1 .4 1-.3 1-.6 1-2.4 1-2.8 1 1.6 1 1.9 1-.2 1-3.5 1 1.8 1-.7 1-2.2 1-2.5 1 2.5 1-.3 1 2 1 1 1 .1 1-.2 1-1.1 1-1.3 1 .4 1-2.9 1 2.5 1-.6 1-1.7 1 1.2 1-1.1 1 2.2 1-1 1-4 1-.9 1 2 1 2.4 1-.6 1-2.3 1-2.2 1-2.7 1-2.5 1 .1 1-1.7 1 0 1-.4 1 .5 1 3.9 1 1 1 .7 1-3.3 1-1.2 1-2 1 .1 1-3.2 1-.6 1 1.7 1 2 1-2.3 1-2.5 1-3.5 1-.8 1-1.2 1 1.1 1 2.2 1 .9 1 4.2 1-1 1 .2 1 .1 1 3.8 1-3.9 1 .6 1 1.5 1-3.7 1 5.1 1 3.3 1 1.8 1 1.2 1-4.1 1-.7 1 .1 1-3.3 1 .3 1-.3 1-.2 1 3 1-.6 1 2.6 1 0 1 2 1 .1 1 .6 1-1.1 1 2.7 1-6.9 1-1.1 1-1.7 1 .9 1 .8 1-5.3 1 .7 1-5.6 1-.1 1-.2 1-1.4 1-1.4 1 3 1-4.1 1 1.4 1 .5 1 .4 1 5.6 1 2.3 1 .7 1 3.3 1-1.4 1 2.8 1-.4 1 3.6 1-.2 1-3 1 1.2 1 2.9 1-1.3 1 7.1 1 3.8 1 1.2 1 4.4 1-3.6 1-.3 1 .5 1 1.4 1-3.3 1-2.4 1 1.5 1-9.8 1-7.3 1 3.6 1-3.2 1 5.1 1 9.5 1-7.1 1-7 1 2 1 2.8 1 6.9 1-9.8 1 11.3 1-10.4 1 2.2 1-5.6 1 6 1-.6 1 8.8 1-1.9 1 8.5 1 8.7 1 5.5 1 8.9 1 11.8 1 2.7 1-6.3 1 4.6 1-5.1 1 .2 1 1.4 1 .1 1-2 1 7.8 1-1.2 1-3.4 1-.7 1 3 1 3.2 1 1.4 1 3.9 1 2.7 1 4 1 7.5 1 7 1 8.7 1 0 1-3.5 1 3.2 1 .3M600 813.7l1-2.4 1-11.8 1-4.9 1-10.4 1-4.8 1-12.2 1-7 1 2.8 1 7 1-11.8 1-7.9 1 .2 1 8.4 1-3.9 1 4.8 1 0 1-8.7 1-6.7 1 0 1-1.1 1 3.7 1-2.2 1-2 1-7.1 1-1.5 1-25 1-5.4 1 4.3 1-12.3 1-2 1-4.7 1-4.3 1 3.6 1-12.7 1-6.7 1-5.3 1-3.8 1-1.8 1-7.9 1 .9 1 4.1 1-4.3 1-.7M707 650.2l1 .3 1-.3 1 0 1 3.4 1-2.8 1 10.5 1 6 1-1.5 1 7 1 4.8 1-2.4 1-3.5 1 .6 1-.5 1-1.2 1 7.3 1 7.5 1-2.5 1 6.6 1-5 1 7.5 1 1.7 1 4.2 1 1.1 1 .9 1-3 1-1.2 1 1.3 1 6.8 1-2.6 1 2.9 1 1.3 1-1.2 1 2.2 1 3 1 2.6 1 4 1-2.5 1 2.7 1 1 1-1.4 1 3.3 1 2.3 1 .6 1-1.4 1-.8 1-1.9 1 3.7 1-.2 1-1.6 1-1.2 1 0 1 .9 1 3.1 1-1.7 1 5.2 1-1.2 1 1.2 1-4.2 1 1.3 1 2.4 1-1.7 1-4.7 1 3.1 1-2.1 1 1.8 1-.9 1 3.1 1 1.7 1-.1 1-2.1 1-3 1 .1 1 4.3 1-6 1 3.8 1 .5 1-.8 1 4.6 1 .7 1 2.3 1-1.3 1 1.3 1 .3 1-3.5 1-.1 1-.2 1 3.8 1-1.6 1-4.2 1 .9 1-2.3 1 4.2 1 .8"/>
<path d="M178 733.3l1 .1 1 .3 1 0 1-.2 1 .8 1-.2 1 .6 1-.6 1 .6 1 .7 1-.2 1 1 1 .1 1 .1 1 .6 1-.8 1 .8 1-.5 1-.1 1 .8 1 .1 1 .7 1 0 1-.2 1 .2 1 0 1 .4 1 .6 1-.2 1 .8 1 .5 1 .5 1-.6 1 1.2 1-.3 1 .4 1 1.1 1-1.5 1 2 1 2.1 1 .5 1-.2 1 1.1 1 .1 1 .1 1 1.1 1 .7 1 0 1 2.2 1 1.8 1-.2 1 .7 1 .4 1 0 1 1.8 1 .4 1-.7 1 2.3 1 .1 1-.6 1 .9 1 .5 1-.4 1-.3 1-.1 1 2.2 1 1.1 1-.4 1-.4 1 2.1 1-.6 1-.3 1 .2 1 1.7 1 .6 1 .2 1 .1 1-1.2 1 2.2 1 .3 1-.1 1 0 1 .4 1-.7 1 .2 1 .6 1 .9 1 .8 1 .7 1 .2 1 1.3 1-.3 1 .2 1-.5 1 1.4 1-.5 1-.6 1-1.9 1-1.1 1 .3 1 .4 1-.7 1 2.1 1-.3 1-.6 1 .6 1-.4 1-.8 1 .4 1 .5 1 .8 1-1.6 1-1.4 1-.5 1-.5 1 .3 1-1.5 1-.1 1-1.1 1 .8 1-.3 1-1.1 1-4.4 1-1 1 .6 1-.9 1 .5 1 .6 1 2.4 1 .3 1 .4 1 .6 1-1.6 1 0 1 .8 1 1.2 1-1.2 1 2.7 1 .6 1 2.4 1-.5 1-1 1-1 1-.6 1 0 1 2.3 1-1.5 1 1.2 1 .5 1-2.6 1 2.7 1-3.6 1 .6 1-.9 1 .5 1-3.5 1 .8 1 .4 1-1.4 1-.5 1 .8 1 1.8 1 .9 1-2.6 1-2 1 1.3 1 2.5 1 .9 1 1.3 1 .1 1 .3 1-.7 1-1.3 1 .5 1 .2 1-1.1 1-1.1 1 1.3 1-.4 1 2.7 1 1.6 1-1.1 1 .7 1 3.9 1 .5 1 .5 1 .1 1 1.2 1-1.4 1-1.9 1 1 1 1.1 1 .5 1 .6 1 .6 1 2.1 1-1.6 1-2.3 1 .7 1-1.3 1-1.4 1 .9 1 .1 1-1.4 1 .4 1-3 1-1.9 1 1.2 1-1.4 1 .5 1-1.6 1-.6 1-1.2 1-.3 1 .6 1 .9 1 0 1-.7 1-.9 1 1.2 1-.4 1-3.3 1 .1 1 .6 1 2 1-.1 1-2.8 1-1.8 1-.8 1 .4 1-3 1-2.5 1 3.8 1 1.7 1-.8 1 2.8 1-1.9 1-1.8 1-.8 1-.2 1 3.2 1-.4 1-.9 1-.8 1-1.3 1-.1 1 1.6 1-3.4 1 1.1 1-1.1 1-1.9 1 3.7 1 0 1-1.3 1 2 1 1.9 1-2.3 1-.2 1-2.8 1 .4 1 .5 1 .1 1-1 1-.7 1 .6 1 1.5 1 3.1 1-1.2 1 1.9 1-.6 1 1.4 1 2.6 1 2.8 1 .6 1 1 1 2.4 1-1.4 1 1.1 1 .7 1 2 1-4 1 2.4 1 4.3 1 3.9 1 0 1 3.9 1 4.9 1 2.5 1 5 1 1.3 1 5.6 1 6.6 1 5.1 1 .8 1 3.8 1 2.1M617 813.7l1-6.7 1-2.1 1-6.1 1-10.9 1-6.8 1-2.2 1-5.5 1 11.6 1-8.8 1-17.7 1-1.7 1 5.8 1-3.8 1-3.5 1-9.7 1-1.5 1-3.8 1 1 1 3.9 1-9.6 1 4.6 1-8.9 1-4.7 1 1.5 1-17.1 1-8.3 1-1.5 1 4.8 1-2.5 1-2.5 1-11.3 1-7 1-1 1-5.9 1 2.8 1-4.3 1-5.7 1 1.8 1-5.8 1-2 1 .4 1-7.1 1 3.6 1-.3 1-.5 1 4 1 1.6 1 .3 1-8.2 1 .2 1 5.6 1 6 1 .7 1 5.2 1 .8 1 6.3 1-.3 1 5.1 1-2.5 1 5 1 .7 1-.8 1 3.8 1 5.9 1-.3 1-1.2 1 .7 1-3.7 1 .5 1 3.9 1-2 1 3.2 1-7.3 1-6.3 1-3.2 1-.1 1-1 1-3.4 1 7.8 1-2.6 1 .9 1-1.3 1 2.7 1 1.8 1 3.1 1 2.3 1 1.2 1-.4 1 .6 1 6.4 1-1.4 1 2.2 1 7.7 1 0 1-1.1 1 4.7 1 .7 1 1.2 1 3.2 1-2.7 1-1 1-.2 1 2.5 1-5.3 1 .1 1 2.3 1-4.1 1 2.6 1 1.7 1 1.4 1 5 1-4.4 1 4.2 1-.6 1 1.5 1 7.7 1 1.1 1-4.7 1-1.2 1 1 1 .8 1-2.6 1 .5 1 .9 1 5.6 1 2.5 1-.9 1 1.3 1 1.1 1 2.7 1-1.1 1-3.2 1 .7 1 2.2 1 1.8 1-.2 1-1.7 1-.5 1 .7 1-3 1 1.1 1 .8 1 5.4 1-3.4 1 1.2 1-3.4 1 1.7 1-2.6 1 3.6 1-.9 1-2.4 1-2.5 1 3.1 1-1.9 1 3.1 1 2.7 1-6.1 1 2.8 1-3.6 1 .6 1 1.7 1 1.1 1 1.8 1-.8 1 3.6 1-2.6 1-.2 1 1.2 1-3.7 1-2.3 1 4.9 1-1.7 1-2.4 1 3.3 1-.6 1-3.8 1-.4 1 3.3 1 1.2 1-1.4 1-1.3 1 3.6 1-1.1 1-2.2"/>
<path d="M178 729.7l1-1.2 1-1 1 .2 1 .6 1-.5 1 .1 1 .5 1 .8 1-.5 1 .9 1-.4 1-.9 1 .5 1 .1 1 .5 1-1.8 1 1.7 1-.3 1-.9 1-.4 1 .6 1 .3 1-.1 1 .6 1 .4 1-.6 1-.4 1-.2 1 .5 1-.3 1-.3 1 .6 1 1.3 1 1.9 1-.1 1-.5 1 1.6 1 .9 1-.8 1-.5 1 2.5 1-2.5 1 .5 1 1 1 .9 1 1.5 1-2 1 1.6 1 3 1 .5 1-1.8 1 .2 1 .4 1-1.5 1 1.5 1 .6 1-.7 1 2.8 1-.9 1 1 1 0 1-1.6 1-.7 1-2.1 1 .4 1 .1 1 2 1-2.5 1-1.4 1-.8 1-2 1-.5 1-.1 1 .2 1 1.2 1-.3 1-.9 1-1.7 1 .9 1-1.2 1-1.5 1-1.7 1 1.5 1 .3 1 2.1 1 1.4 1 .9 1 .1 1-3 1-.7 1-.7 1-2 1-3.8 1 .6 1-1.5 1-1.2 1 .7 1-.7 1-3.3 1-.3 1-1.2 1 .5 1-1 1-1.2 1-.1 1 1.1 1-1.6 1 .9 1-1.6 1-1.6 1 .3 1-.5 1-.5 1-.4 1-2.8 1-1.1 1 .8 1 .2 1 1.9 1 1.8 1-3.2 1-.9 1-2.6 1 0 1 .1 1-.2 1 2.3 1-.4 1 1.7 1 3.4 1-.1 1 0 1-1.5 1 1.4 1 .1 1 1.9 1-.3 1 .8 1-1.1 1 .5 1-1 1 1.6 1 .1 1-.5 1-.7 1-.1 1 .4 1 .6 1-.4 1-.9 1 .7 1 1.2 1-3.2 1-.2 1 2.7 1-.9 1-1.5 1 3.3 1-.3 1-1.4 1 .3 1 1.6 1-1.4 1-.8 1-2.2 1 .5 1 4.4 1-1 1-1.3 1-3 1 1.1 1 1.4 1-.3 1-1.8 1 .2 1 4.4 1 2.7 1-3.3 1-5.4 1-2.4 1-.7 1 1 1 4.4 1 3.7 1 1.2 1 .6 1-.6 1 .6 1 1.1 1-1.7 1-1 1 1.7 1-1.3 1 1.3 1 .3 1 2.6 1-.6 1-.6 1 .2 1 1.2 1 1.5 1 .5 1-3.1 1-1.2 1-3.1 1 1.1 1-2.7 1-.3 1-3.4 1 1 1-.2 1-3.5 1 .6 1 2.3 1-4.4 1-.9 1 1.2 1 .4 1-3.8 1-.2 1 .4 1-4 1 1.8 1 .8 1-1 1-.2 1 .6 1 .1 1 .4 1-1.2 1 1 1-1.1 1-1 1 .3 1-1.2 1 .6 1 .3 1 .9 1-4.6 1 1.8 1 2.9 1 .9 1 1 1-1.9 1-1.2 1-.2 1-.9 1-2.5 1-3.5 1-1.3 1 1.6 1 .8 1 4.5 1-4.4 1 2.3 1-.7 1 0 1 2.5 1-1.5 1 3.5 1 2.7 1-4 1-1.8 1 .2 1 5.3 1 7.1 1 7.4 1 0 1-5.1 1 0 1-6.3 1-2.3 1 1.5 1-4.7 1-2.1 1 .7 1-1.4 1 4 1-.6 1 2.4 1-4 1 1 1 .4 1 1.2 1-1.5 1 .7 1 .8 1 .5 1-1.9 1 2.4 1 2.8 1-.3 1 1.6 1-.2 1 1.4 1-1.1 1-.5 1 2 1-1.7 1-.1 1-1.1 1-3.7 1-2.5 1-.3 1-.5 1-1.1 1-1.4 1-2 1 5.4 1 3.7 1 19.5 1-10.5 1-7.3 1 4.9 1 9 1-5.7 1-4.5 1 5.6 1 2.4 1-1.1 1 6.4 1-1.5 1-7.4 1-.4 1 9.7 1-1.5 1 13.7 1 7.8 1 5.4 1 8.2 1 5.4 1-2.2 1-7.7 1 .5 1 1.3 1 3.1 1 4.1 1-3 1 9.1 1 .4 1 5.5 1-3.1 1-8.7 1 5.9 1 9.8 1-4.5 1 4.7 1 7.2 1 5.6 1-2.5 1 1.4 1 2.2 1 1.9 1 15.8 1-4.7 1-2 1 10.6 1 3.7M586 813.7l1-1.4 1-9.2 1-6.2 1-3.2 1-5.9 1-7.8 1-6.7 1-6 1-7 1-8.6 1-8.8 1-6.4 1-7.2 1-8 1-8.7 1-5.5 1-9.8 1-7.7 1-6.6 1 .7 1-5.6 1-1.2 1-5.3 1-3.3 1-5.1 1-.2 1-4.2 1-5.2 1-3.4M720 650.2l1 2.8 1 4.1 1 .4 1 6 1 3.7 1 1.3 1-1.2 1-4.6 1 3.8 1-5.1 1 3.6 1-2.3 1 1.8 1 .1 1 4.3 1 4.7 1 1.2 1-3.5 1 1.1 1-1.8 1 1 1 3.9 1-.3 1 5.8 1-1.9 1 .1 1 1.7 1-.1 1 2.1 1 4.6 1 2.4 1 3.1 1 .8 1 1.5 1-2.8 1 3.4 1-1.7 1 4.4 1 1.3 1-3.7 1 3 1 2.4 1-1.6 1-.1 1 4.6 1 .8 1 4.4 1-5.1 1 2.4 1 0 1 2.5 1-3.7 1 1.3 1 2 1 0 1 .7 1-.5 1-1.7 1-.7 1 .8 1 1.2 1 3.1 1 3.5 1 1.7 1 2.4 1-2.9 1-3.8 1 6.2 1 1.3 1-3.2 1-.5 1 2.5 1-1.5 1 3.2 1-2.5 1-.4 1-.7 1 1.3 1-.7 1 4.7 1-2.1"/>
<path d="M178 729.2l1-1.1 1-1.7 1-.2 1 1.5 1-.1 1 .4 1 .6 1 .6 1-.1 1 .3 1 .4 1 .1 1 .6 1-.9 1 .8 1 .3 1-.7 1-.5 1 .4 1-1.2 1-.6 1-.6 1 .7 1 .7 1-.1 1-.3 1 .6 1 1.6 1 1.5 1-1.3 1 .1 1-2 1-.1 1-1.1 1 .4 1 1 1 1.5 1-.4 1 .4 1 .2 1 1.2 1-1.8 1 1.1 1 .4 1-.2 1 .4 1-1.4 1-.2 1 1.7 1 .3 1-1.4 1 1.1 1 1.4 1 .8 1 1.5 1-.3 1 .1 1-.1 1-2.2 1-1 1-2.8 1 .7 1-.4 1-.6 1-.1 1 1.7 1 .2 1-.2 1 .3 1 .3 1-1.3 1-1.5 1 2 1 2.3 1-.3 1-1 1 .3 1-3.6 1 4 1-.7 1-.5 1-1 1-.7 1 2.1 1-1.5 1-1.1 1-.7 1 .1 1-.5 1 .1 1 .5 1 1.5 1 1 1-.6 1 4.3 1-2.1 1-1.5 1-2 1-3 1-2.1 1-2.7 1 0 1 .4 1-1.5 1-1.3 1 1.2 1 .1 1-.9 1-.2 1 .1 1 .1 1 .3 1-1.6 1-.9 1-2.1 1 1.6 1 1.7 1-1 1-.8 1-.7 1-1.7 1 1.3 1-1.2 1 1.8 1-1.4 1-.1 1-1.8 1 .1 1 3.7 1 1 1 .7 1 1.7 1-.4 1 1 1 1.8 1-.7 1-.9 1-2.3 1 3.2 1 1 1-1.8 1-.1 1-1 1-4.7 1-.7 1 4.2 1 .4 1-.3 1 .1 1-1.1 1-.7 1 2 1-1.4 1-1 1-5.3 1-1.5 1-.3 1 1.9 1-2 1-2.5 1 .6 1 .9 1-4.2 1 1.7 1 1.1 1 .1 1-1.8 1 .1 1-2.4 1 1 1-2.2 1 2 1 .7 1 1.6 1-.5 1 3.9 1 6.1 1-2.1 1 5.5 1-1.4 1-.2 1-.3 1-.3 1-1.9 1 1.7 1 3.6 1-4.5 1-1.3 1 3.2 1-2 1-1.7 1-2.4 1 7.2 1 .7 1-1.8 1-2.6 1 2.9 1 2.1 1 2.3 1-.3 1 2 1 2.2 1 1.9 1-4.4 1-.3 1 1.9 1-3.7 1-6 1 1.5 1 1.5 1 .5 1-2.1 1-5.9 1-3.1 1-1.3 1-.6 1-2 1-2.6 1-.2 1 0 1-.4 1 .3 1-2.5 1 1 1 .7 1-1.4 1 0 1-1.2 1 2.1 1-1.1 1-.8 1 1.3 1-.2 1 4 1-.7 1 1.4 1-3.9 1 .6 1 .7 1 2.4 1-.7 1 4.4 1-1.2 1 .9 1 1 1-4.8 1-2.6 1-1.2 1 1.2 1-4.3 1 .4 1 .4 1 4 1-.2 1 1.4 1-.7 1 3.1 1-.7 1-3.7 1-3.6 1 0 1-1.9 1-3.8 1-.6 1 1.5 1 .3 1 2.6 1-1.5 1-.9 1 1.8 1-.3 1 0 1-.7 1 .2 1 0 1 .5 1 2 1 .2 1 3.8 1-.9 1-.7 1 7.2 1-4.6 1 .3 1-3.6 1 3.3 1 .9 1-2.4 1 3 1 .1 1 .6 1 2.9 1 5.8 1 7.4 1 4.5 1-4.7 1-5.5 1 8.4 1-3.6 1-2.6 1 3.3 1 .8 1-7.8 1-7.9 1-1.3 1-8.9 1-.9 1-1.5 1 .8 1-3.3 1 4.2 1-6.6 1-3.8 1-2.4 1-1.5 1-1.5 1 .4 1-.2 1-2.1 1 2.4 1 1.3 1 1.4 1 .5 1 6 1 7.3 1 9.1 1 7.3 1 8 1 1.7 1 .9 1-.8 1 2.1 1 2 1-.5 1 .9 1-.3 1-.6 1 .2 1-.4 1 3 1 .4 1-.6 1-.6 1 1.2 1 4.2 1 5.4 1 3.2 1 5.9 1 3.1 1 3.2 1 4.9 1 5.1 1 4.4 1 6.4 1 7.6 1 5.4 1 5.2 1 6.2 1 5.2 1 4.4 1 2.6 1 3 1 1.1M588 813.7l1-2.2 1-1.1 1-7 1-1.5 1-7.2 1-11.9 1-10.7 1-2.2 1-20.3 1-14.2 1-5.9 1-9.4 1-6.5 1-6.6 1-8.4 1-2.5 1-9.3 1-.8 1-1.3 1-3.2 1-2.9 1-7.4 1-5.5 1-2 1-1.8 1-4.8 1-4.4 1-2.5 1 1.7 1 5.5 1-7.2M713 650.2l1 .8 1-.8M717 650.2l1 1.4 1 3.1 1-4.4 1 6.9 1-.6 1-4.2 1 5.9 1 7.1 1-4.7 1 3.2 1-.8 1 4 1-1.7 1 2.1 1-1.1 1 2.4 1-1.1 1 1.4 1 .6 1 1.9 1-1.7 1 9 1 3.8 1 2 1-4.3 1 3.8 1 2 1-.9 1 3.2 1-2 1 2.2 1 4.1 1-1 1 1.5 1-2.8 1-2.7 1 7.2 1-1 1-.5 1-.7 1-.4 1 .9 1 7 1-1.5 1 4.3 1 2.3 1 .8 1-.4 1-3.3 1 4.6 1 2.2 1 .2 1 0 1-1.3 1 2.6 1-4.7 1 2.3 1 1.9 1 1.2 1 .3 1 2.6 1 0 1 2.1 1 5.4 1 .3 1-.1 1 1.5 1 3.1 1-2.5 1 3 1 .8 1-.7 1-2.4 1 .5 1-3.1 1 .3 1 2.8 1 4.9 1-5.4 1 .9 1-1.6 1-.4 1-2.2 1 1.2"/>
<path d="M178 730.9l1 0 1 .1 1-.3 1 .3 1-.4 1 1.3 1 .4 1 .1 1 .5 1 .1 1 1 1-.6 1 .5 1-.7 1 .2 1-.4 1 .9 1 .1 1-1.1 1 .3 1-.1 1 1.3 1 .6 1-.9 1-.1 1-.6 1-.3 1 .4 1 .8 1-.6 1 1.4 1 .2 1 0 1 .7 1-.3 1 1.1 1 .4 1-.4 1 1.2 1 .4 1 .2 1 0 1 .2 1 .8 1-1.4 1 1.4 1 1.5 1-.2 1 2.7 1 .6 1 .1 1 .7 1 1.3 1 .3 1 .1 1-1.3 1 2.5 1 .1 1 1 1 0 1-.2 1 1.3 1-2.1 1 0 1-.2 1 1.8 1-.4 1 .2 1 1.6 1 2.1 1-2 1-.7 1 .5 1 1.1 1-.5 1-.5 1-1.4 1 1.1 1 2 1-2.2 1 .9 1 1.4 1 .4 1-1 1-1.1 1 1.5 1-1.5 1 2.5 1 1.2 1 .3 1 1.3 1 .1 1 .8 1-.3 1-.3 1-1.2 1-.8 1-.8 1-.8 1 .1 1 .1 1-.8 1 1.4 1-2.1 1-1.6 1-2.1 1 1 1 .1 1-2 1-1.1 1 .3 1-3.3 1 1.3 1 1.6 1-2.3 1 .6 1-1.3 1 .6 1 2.3 1 .1 1-3.2 1 3.4 1-2.7 1-1.2 1-2.8 1-4 1 .3 1-2.1 1 .2 1 0 1-1.4 1-.7 1 .8 1 3.1 1 .5 1-1.1 1 .7 1 2.6 1 .1 1 0 1 1.7 1 .6 1-3.6 1 2.3 1-3.8 1 3 1-1.2 1 .9 1-.4 1 2.7 1-2.5 1-3.6 1-.5 1 3.4 1-3.2 1-3.2 1 3.5 1 1.1 1 4 1-2.7 1-2.6 1 4.2 1-1.3 1 .7 1 0 1-3 1-.2 1 .5 1-.2 1-1.3 1 2.5 1 2.2 1 2.2 1-1.5 1 1 1 1.4 1-2.7 1 2.2 1-1.3 1 .9 1-1.3 1 1.2 1 2.4 1 1.2 1-1.4 1 2.7 1 1.3 1-.5 1 .5 1-.5 1-1.4 1 .4 1 1.2 1 1.2 1-1.9 1-2.4 1-2.9 1-.2 1-.3 1-2.1 1-.3 1 .9 1-.9 1-.5 1 .6 1-.9 1-2.3 1 .7 1-1.7 1-2.4 1-.7 1-2.1 1-1.2 1 3.1 1 2.1 1-.6 1-3.5 1-.6 1-2.1 1 2 1 2.2 1-2.8 1 2.3 1 2.3 1-1.8 1-.1 1 .7 1 3.3 1 .3 1-1.6 1 2.1 1-2.4 1 .3 1 .2 1-.5 1 1.1 1 .1 1-2.7 1-3.1 1 1.7 1 3.3 1 0 1 0 1 1.6 1-.2 1 2.3 1-4.6 1-2.4 1-1.3 1-1.9 1-.5 1 1.6 1-3.5 1-2.7 1 1.3 1-.3 1 2.1 1-.6 1 1 1 2.8 1 6.4 1-.5 1 4 1 .4 1 1.1 1-1.3 1 .8 1 0 1-2 1 1.7 1 .3 1 4.2 1-.2 1 3.9 1 2.2 1 2.9 1-.7 1-2.5 1 .4 1 4.7 1 2 1-2.6 1-1.3 1 1.7 1 3.3 1 2.5 1 1.1 1 .4 1 2.4 1 6.5 1 8.5 1 6.6 1 4.6 1 .8 1 8.6 1 2 1 3.4 1 8 1 1.8 1-3 1-6.1 1-4.2 1-3.8 1 .6 1 .5 1 3 1-1.1 1 1.4 1-.9 1 5.5 1 6.5 1-1.9 1-3.2 1-3.3 1 .2 1-5.6 1-5.4 1-2.3 1-2.4 1 1.5 1 2.6 1 3.4 1 3.6 1 5.4 1 .1 1 3.7 1 1.8 1 2 1 1.9M619 813.7l1-5.1 1-2 1-11.8 1-2 1-5.1 1 4.8 1-3.5 1-6.6 1-8.4 1 6.2 1-6.7 1 2.4 1-9.2 1-6.6 1 2.7 1-1.2 1-1.1 1-5.9 1-9.1 1-4.8 1-1.7 1 1.4 1-10.9 1-3 1-1.3 1-5.1 1-2.8 1 1.9 1-2.7 1-3.7 1-1.8 1-9.6 1-5.1 1-4.3 1-5.1 1-.1 1 .5 1-3.5 1-6.9 1-1 1 4.4 1 .1 1 8.4 1-.4 1-1.7 1-9.4 1-7.9 1-2.3 1 12.3 1 1.7 1 5.1 1 9.4 1 2.5 1 4.6 1-3.8 1 5.2 1 14.3 1-6.9 1 11.4 1-2.6 1-1.9 1 .2 1-3.9 1-4.4 1 .5 1-1.6 1-4.7 1 7.8 1 8.2 1-3.1 1 5.3 1 2.4 1-4.2 1 8.6 1 2.1 1 .2 1-1.8 1 .2 1-.7 1-1.8 1 2.4 1 2 1-3.6 1 4.9 1-5.3 1 .9 1-1.7 1 1.5 1-1.6 1-1.8 1 9.1 1 .1 1-.6 1-5.4 1 5.1 1-3.9 1-1.4 1 2.8 1 4.2 1-.9 1 .2 1 3.1 1-1.9 1 4.8 1-.2 1-3.7 1-2.6 1 1.2 1-6.7 1-.3 1 1.3 1 1.7 1-.2 1-5.9 1 3.6 1 .2 1 1 1-1.5 1 0 1 1.5 1-.9 1 .7 1-3.6 1-.6 1-3 1 2.5 1-.6 1-1.7 1 2.7 1 2.5 1-.3 1-3.7 1 8.9 1-3.4 1-1.6 1-.7 1-2.2 1 3.6 1 1.8 1-2.5 1 4.4 1-2.6 1 2.3 1 3.3 1 1.6 1 0 1-5 1 2.9 1-1.2 1-1.2 1 .5 1-1.4 1 3.1 1-1.1 1 2.2 1 5.5 1-4 1 1.5 1 1.8 1-.5 1 .7 1-1.9 1 .7 1 1 1-3.9 1 1.1 1-1.8 1-.6 1-.1 1 .9 1-3.7 1-.7 1 1.9 1-4 1 3.5 1 2.3 1-1 1-.4 1-1.5 1 2.2 1 .1 1 1.2"/>
<path d="M178 731.1l1-.7 1-.4 1 .2 1 0 1 .3 1 0 1-.1 1 .4 1 .1 1-.3 1 .3 1 1.3 1 .1 1 .7 1 1.2 1-.6 1-.1 1-.1 1 .6 1-.4 1 .9 1-.2 1 .6 1-.9 1 .2 1-.1 1 .1 1 1 1-.1 1-1.2 1-.3 1 0 1 1.1 1-.1 1 .4 1 .2 1 1.4 1 0 1 1.3 1 .4 1 1.9 1-1.3 1 .9 1 2.5 1 0 1 1.3 1 .4 1-.3 1 .7 1 1.6 1-.7 1-.6 1-.2 1 .2 1 .2 1-1.8 1 .4 1 1 1-.5 1-.4 1 .4 1 .1 1-2.8 1-.7 1 .9 1 .7 1 1.4 1-1.1 1 .8 1 1.5 1 .3 1-.4 1 .2 1 1.3 1-1.4 1 2 1-.7 1-.5 1 1.2 1 .9 1-.7 1 1.4 1-2 1-.3 1 .2 1-.4 1 .4 1 1.7 1 .4 1-.4 1 2 1-2.1 1 1.1 1-1.2 1-2.4 1-5.1 1 4.4 1 .1 1-3.6 1-2.7 1-3 1-.8 1 3.9 1-.1 1-.6 1 .6 1-1.5 1-.3 1 1.3 1 1.7 1-2.1 1-1 1-1.3 1-.9 1 .1 1-1.8 1 .5 1 3.3 1 3.8 1-.5 1-1 1 .9 1-.6 1 .6 1 .3 1 1 1 2 1 .9 1-1.3 1-2.1 1 3 1-1.6 1-.7 1 0 1 .7 1-2.4 1-.3 1 .3 1 .5 1 .4 1-.6 1 1.5 1 .4 1-.7 1-.6 1-1.6 1 .3 1 1.2 1 .5 1-1.5 1 .8 1-1.7 1 1.9 1-2.4 1-1.5 1 .1 1 1.6 1 1 1 2.2 1-2 1 2.3 1 0 1 .6 1-3.1 1 .3 1-1.4 1 1.4 1 .9 1-.9 1-3.7 1 2.5 1 1.4 1-1.4 1-1.7 1-1.4 1 3.1 1-1.5 1 .7 1 1.3 1 1.2 1-2.5 1 3.1 1 3.5 1 3 1-.4 1 4.5 1 1.7 1-.4 1-1.9 1-.4 1 3.6 1-3.6 1-.9 1 1.9 1 .4 1 2.9 1 1.6 1-3.3 1 .4 1-1.6 1-.7 1 1.6 1-1 1-1.4 1-1 1-3.7 1-1.7 1-4.3 1 3.3 1 2.9 1 .3 1-2.4 1-.9 1 1.9 1 .3 1-2.6 1-.5 1-3.2 1-1.7 1-1.8 1-2.8 1-3.2 1 2.9 1 1 1-.9 1-2.6 1 .2 1-3.6 1 1.8 1 2.1 1 3.8 1 1.5 1-2.1 1 1.5 1-1.7 1-3.2 1-3.8 1 3.4 1 1 1 2.9 1 1.6 1 1.7 1-3 1 .1 1 2 1 .6 1-2.6 1 1.2 1-3.9 1 3.2 1-.3 1 1.5 1 .7 1-1.5 1 .5 1 .5 1 2.3 1 1.2 1 3.3 1-1.4 1 1 1-.9 1 3.6 1-1.2 1 1 1 .9 1 1.4 1-3.1 1 1.4 1 .5 1 3.9 1 1.7 1-2 1-1 1-.7 1-1 1 .1 1 .4 1 .1 1-1.4 1 3 1 4.5 1 .8 1 3.7 1 0 1 1.9 1 1.1 1 2.7 1 5.2 1 3.7 1 7.4 1 4.7 1-.1 1 5 1 7.8 1 5.2 1 6.7 1 4.9 1 0 1-3.9 1 1.4 1-6.4 1-6.1 1 3.1 1-3.3 1-7 1-6 1 4 1 1.1 1-.4 1-4.1 1 2.8 1-1.7 1 1.1 1-11.1 1-4.4 1-6.1 1 1.4 1-10 1 11.4 1 3.2 1 2.3 1-3.3 1 7.8 1 7.2 1 6.5 1 13.6 1 6.9M511 813.7l1-.3 1-2.7 1-.3 1 3.3 1-.5 1-11.4 1-2 1 4.2 1-2.9 1 4.8 1 7.8M602 813.7l1-12.5 1 0 1-12.3 1-25.9 1-12.6 1-2.5 1-1 1-.3 1 3.1 1 4.2 1-10.7 1-4.4 1-20.2 1-4.5 1-7.4 1-7.6 1 3.9 1-9.9 1-7.9 1 11.9 1 1.2 1 1.8 1-7.3 1-15.9 1-5.5 1-4.7 1-.5 1-4.8 1-8.7 1-2.5M699 650.2l1 7 1-5.2 1 5.7 1 1.3 1 3.7 1-3.4 1 10.1 1-8.5 1 7.2 1-3.3 1 7.3 1 6.5 1-1.6 1 3 1-3.1 1 1.2 1 2.9 1-.6 1-3.9 1-2.5 1 5.2 1-3.2 1 5.2 1-3.8 1 .1 1 2.5 1 1.3 1 .2 1 .1 1 1.6 1 .9 1-.5 1 .8 1 2.7 1-.8 1 2.9 1 6 1-2.8 1-2.8 1 .3 1-3.4 1 2.9 1-1.8 1 3.2 1-1.2 1 5.7 1 .4 1 1.8 1 1.5 1 2.7 1 2.5 1 3.7 1-2.1 1 3.1 1 5.2 1 .1 1-1.3 1 .3 1 1.4 1 5 1-2.9 1-.5 1-1.9 1-4.5 1-.3 1 3.6 1 .2 1-3.2 1 4.5 1-2.4 1 1.5 1-2.9 1 2.3 1 5.7 1-6.1 1 5.4 1 6.1 1-5 1-2.6 1 3 1-4.5 1 3.1 1-2.2 1 3.1 1 1.5 1-3.3 1 2.6 1 .6 1 2.3 1-3.7 1 4.3 1-3.9 1 2.3 1 3.9 1-2.2 1 2.4 1 3.1 1-3.4 1 3.7 1 .5 1-1.7 1-2"/>
<path d="M178 727.4l1-1 1-1.9 1-.8 1 0 1 1.2 1-.1 1-.5 1-.8 1 .9 1 .8 1 0 1 .3 1 0 1 .4 1 2.2 1-.4 1 .8 1 .5 1-1.2 1-.1 1 .5 1-1 1-.3 1 1.2 1 .4 1 .1 1 .1 1 .5 1 .4 1-.5 1 1.1 1-1.6 1-.7 1 .2 1 .4 1 0 1-.6 1-.4 1-.6 1 .1 1 .3 1 .2 1 .6 1 1.3 1-2.1 1 .7 1-.9 1-.4 1 1.8 1 .8 1-.6 1 .7 1-.5 1-.5 1 .3 1-.2 1 .9 1 1 1-.4 1-.8 1-1.3 1 .6 1 .5 1 .4 1 1.3 1 .1 1 2.5 1-.5 1-.9 1-.6 1-2.1 1 .8 1-.9 1 5 1-2.3 1 1.2 1-1.2 1 1.2 1 .8 1-1.8 1-.2 1 .8 1-1.6 1 .1 1-2.6 1 1.2 1-.2 1-2.2 1-.3 1 .1 1-1.2 1 2.6 1-1.5 1-.3 1-.8 1-1.6 1 0 1-2.3 1-1.4 1 .3 1-.7 1 1.2 1 .4 1-1.9 1 0 1 1.4 1-.2 1 .3 1-1.9 1 1.3 1-.3 1 1.5 1-.8 1-1.9 1-3.6 1-.4 1-.9 1-.2 1-1.1 1-.4 1 .3 1 .1 1-2 1 .3 1 1.4 1 1.5 1 .9 1 .7 1-1.1 1 .1 1 3 1-2.6 1 .8 1-.4 1 .6 1 .8 1-1.8 1-1.2 1-.8 1 .3 1-.5 1 1.7 1-.7 1 .8 1-1.8 1 1.3 1-1.6 1 .5 1-.5 1-.6 1-.5 1-2.3 1 2.6 1-2.1 1-.9 1 .6 1-1 1 .8 1 0 1-.2 1-.1 1 3.2 1-.2 1 .8 1-.5 1-2.8 1 1.5 1 2 1 2.4 1-3.1 1 4 1-3 1-.8 1-.8 1-3.6 1 1.1 1-2.5 1 2.4 1 .7 1-2.8 1-.6 1 1 1-3.1 1 .7 1-2.7 1-3.1 1 .8 1 1.5 1-2.7 1 .3 1 1.3 1 1.7 1-.5 1-.8 1 .7 1 1.3 1 1.8 1-1.5 1 2.1 1-4.1 1 .7 1-1.9 1-1.6 1-.8 1 1 1-2.5 1-.8 1-2.2 1 1.9 1-1.1 1-2.4 1-3.8 1 1.6 1 2.2 1 .5 1-1.6 1 .2 1-5.7 1 3 1-1.2 1 2.7 1-.6 1 0 1-2.1 1 1.1 1-1.2 1 .5 1-9.6 1 .6 1 .6 1 2.7 1-1.2 1 2.2 1 1.8 1 .9 1-.2 1-.1 1 .7 1-1.2 1 .9 1 .8 1 .9 1 .6 1-.4 1-.2 1 1.1 1-1.5 1 1.7 1-2.7 1-1.3 1 3 1-2.2 1-4.7 1-.2 1-2.6 1 4.2 1-.1 1 .4 1-2.1 1 3.2 1 1.6 1 1.1 1 3.9 1 2.6 1-3.6 1-1 1 0 1-2.7 1-1.3 1-.1 1 1.6 1-.3 1-5.6 1 3.6 1 .3 1 6.5 1 .1 1-1.1 1 5.6 1-.6 1-1.6 1-.9 1 1 1 1.6 1 .7 1 1.7 1-1.4 1-2.4 1 3.5 1 3 1-.6 1 2.6 1 2.2 1 3.8 1 1.4 1-1.1 1 1.9 1 .6 1-3 1-2 1-3 1-3.6 1 .4 1-3.4 1-1.6 1-.7 1-.5 1-1 1-.3 1-2.4 1-1.2 1-2.9 1-.5 1-2.1 1-2.8 1-.8 1 .6 1 1.6 1-.3 1-1 1-.7 1 .9 1 2.6 1 5.9 1 6.3 1 5.6 1 6.9 1 11 1 4.6 1 2.6 1-2.7 1 2.1 1-1.1 1-.1 1 6.9 1-5 1 .9 1 .4 1-2.9 1 .6 1-.4 1-.2 1 1.2 1 2 1 4.8 1 5.5 1 2.5 1 3.8 1 5.1 1 4.9 1 1.8 1 6 1 4.3 1 5.4 1 8.4 1 9.9 1 9 1 7.5 1 8.2M587 813.7l1-6.4 1-5.7 1-8.2 1-3.6 1-7.9 1-8.2 1-7.4 1-7.5 1-6 1-7.7 1-6.8 1-9.1 1-4.5 1-9.2 1-7.7 1-8.5 1-4.8 1-7.5 1-4.6 1-2.2 1-.7 1-5.2 1-2.5 1-4.7 1-2 1-2.8 1-3.2 1-8 1-.9M725 650.2l1 2.1 1 1.3 1 2.2 1 .1 1 1 1 1.7 1 .1 1-1.3 1 3.1 1 3.3 1-1.9 1 1.2 1-.5 1 4.7 1-.4 1 .6 1 2.9 1 2.2 1 1.3 1 2.6 1 2.8 1 2.2 1-2 1 2.4 1 1.5 1 .5 1 0 1-1.9 1 3.6 1 2 1-.8 1 2.3 1-1.7 1 2.8 1 .7 1 1.7 1-4.1 1 1 1 1 1-.3 1 2.6 1-2.4 1 2.7 1 2.3 1-2.1 1 .3 1 2.4 1-1.1 1 2.5 1-1.2 1-.3 1 2.7 1 1.3 1-.9 1 .1 1-.9 1 1.6 1 .9 1 3.2 1 2 1 2.3 1-2.6 1 2.3 1-2.1 1-3.2 1 1 1 4.8 1 1.2 1-.9 1 1.4 1-4.7 1-1.2 1 3.7 1 .6 1-.4 1 2.5"/>
<path d="M178 727.5l1-2.1 1-1.8 1-.2 1 .5 1 .1 1-.2 1-.4 1 .2 1-.3 1 .3 1 .3 1 0 1 .2 1 0 1-.1 1-.2 1-.3 1-.6 1-.1 1-.5 1-.3 1-.1 1 .4 1 0 1 .7 1-2 1 .1 1 .1 1 .1 1-.8 1 .4 1 .5 1 0 1 .7 1 .5 1-1 1 .5 1-.8 1 .5 1 1.2 1-.1 1-.3 1 .1 1 .6 1-2 1 1.9 1 .4 1 .4 1 2.5 1 .1 1-1 1 1.2 1 .4 1 0 1 1.3 1 .2 1 .7 1 .2 1-.8 1 .6 1-1 1-.8 1-1.8 1-.5 1 .5 1 .7 1 .9 1-.4 1-1 1 .3 1-1.1 1-.5 1-.4 1-.3 1 .7 1-.4 1-1.9 1-1.9 1 .9 1 .1 1 1.2 1-1.5 1 0 1 1.1 1-1.9 1 1 1-.9 1 1.8 1-.3 1-1.6 1-1.1 1 .5 1 .1 1 .1 1 .2 1 1 1-.5 1-2.5 1-.6 1 .1 1-2.9 1 .3 1 2.7 1-.1 1-.9 1 .1 1 .2 1 1.1 1-.7 1 .4 1-2.7 1-2.5 1-1.9 1 .1 1-1.4 1 .5 1 .1 1-.1 1-2.7 1 1.6 1-.4 1-1.7 1-1.7 1-1.2 1 2.6 1 0 1 2.4 1-.3 1 .5 1-.1 1 1.2 1 1.5 1-2.2 1 1.9 1 1.4 1 1.5 1-.1 1-.2 1 .2 1 .8 1-1.2 1 1.9 1-.6 1-.8 1-2.3 1-.1 1-.3 1 1 1 .6 1-1.1 1 .1 1-.4 1-1.1 1-1.8 1-1.6 1-.2 1-1.9 1 1.3 1-.4 1-1.1 1-1.7 1-.1 1 .9 1 1.1 1-1.5 1 .6 1 .2 1 1.4 1-2.3 1 1.7 1-.4 1 1 1-.7 1-2.1 1-2.5 1 2.2 1-1 1 .2 1 2.1 1-.9 1-.1 1 1.9 1-2.1 1 1.2 1-1 1 .1 1 1.1 1-1.7 1-.6 1-1.4 1-1.6 1 1.3 1-2.1 1 .6 1-.7 1 1.9 1 1.7 1-.1 1-1.2 1 .1 1-.9 1-1.1 1-1.6 1-.6 1 1.7 1-1.1 1-1.7 1-.6 1-.6 1-3.4 1 3 1-4.3 1-1.5 1 1.5 1 .9 1 .8 1 4.6 1-7.2 1 .1 1 4 1-.9 1 .3 1-.1 1-.6 1 2.6 1-.8 1 3.4 1-1.6 1-2.2 1-1.9 1-1.1 1 .7 1 .6 1 3.6 1 1.4 1-1 1 .6 1 1.8 1-1.1 1 1.5 1 .1 1-1.5 1-1.2 1-.1 1 .2 1 .7 1-3.1 1 2.7 1-1.2 1 1 1-2.5 1-.4 1 1.5 1-1.9 1-.7 1-2.7 1 .7 1 1.5 1 2.8 1 1.8 1-1.3 1 .2 1 2.7 1-.4 1-2.1 1-1.5 1 1.8 1 .8 1 .6 1 1.2 1-1.5 1 1.5 1-.6 1-.4 1 .6 1-.6 1-1.8 1-.9 1 2.2 1 1.2 1 2.6 1-.5 1 2.1 1 4.7 1 3.5 1 .1 1 3.4 1 2.3 1 3.2 1-2.5 1 5.4 1 3.1 1-4.7 1-1.7 1-3.9 1-5.4 1-1.2 1 1.1 1-1.4 1-2.6 1-1.5 1-2.7 1-1.1 1-1.7 1-.3 1-2.1 1-2.9 1-1.8 1-1.6 1-2.3 1-.5 1-.3 1-2.1 1-.4 1 .3 1-1.3 1-1.4 1 .7 1 .1 1 .3 1-.3 1 .6 1 1.7 1 5.4 1 7.2 1 7.4 1 6.6 1 7.3 1 3.9 1-.3 1 1.6 1-.6 1 1.8 1-.3 1-2.6 1 2.7 1 .1 1 .5 1-.7 1-.7 1 0 1 .9 1 .5 1 4.2 1 4.5 1 3.2 1 9.8 1-1.9 1 4.1 1 8.2 1 .3 1 6.1 1 6.5 1 4.4 1 6.1 1 15.8 1 .6 1 16.3 1-10 1 3.1 1 2.9 1 4.7M591 813.7l1-17.3 1 5.2 1-20.8 1 3.6 1-15.1 1-.4 1 1.5 1-16.8 1-10.1 1-13.4 1-10.9 1-13.8 1 6.8 1-4.1 1-3.3 1 3.9 1-7.3 1-22.8 1-6.9 1 .5 1 12.1 1-6.7 1 8.9 1 1.7 1 11.6 1-5.8 1-3.4 1 .5 1-22.9 1 8.7 1 4.8 1-1 1-5.5 1-13.6 1-.7 1-8.8 1 11.5 1-8.5 1 4.4 1-1.1 1 2.3 1-10.5 1 0 1 .4 1-.4M701 650.2l1 5 1 3.1 1 .4 1-1.5 1 1.9 1 .2 1 1.1 1-5.7 1-.8 1 3.2 1 13.3 1-.5 1 4.1 1-2.5 1-1.5 1 2.5 1-3 1 1.9 1 .7 1 0 1 1.9 1 .1 1 8.4 1-2.2 1-.3 1 3.2 1 .2 1 7.4 1-1.8 1 1.7 1 1 1 6.2 1-2.6 1-1.7 1-2.3 1 2.8 1 1 1-1.9 1 2.9 1 4.4 1-1 1-2.3 1 2.5 1 .4 1 2 1 2 1 4 1 1.7 1 2.9 1 3.9 1-2.8 1 4.3 1 .4 1-3.1 1 .5 1-3 1-4.5 1 3.2 1 .5 1 6.1 1 1.6 1-.1 1 .7 1 .3 1 .8 1 4.6 1-2.5 1-2.7 1-.2 1 3.7 1-2.2 1 2.3 1-2.8 1 .7 1 4.2 1-3.9 1 1.8 1 4.4 1-4.5 1 1.6 1 2.3 1-4.6 1 2.6 1 1.9 1 1.5 1 1.3 1-2.5 1-.5 1 4.5 1 1.8 1-2.9 1-5 1-1.9 1 .7 1 2.7 1-3.1 1 .8 1-1 1-1.4 1 4"/>
<path d="M178 728.6l1-.9 1-.5 1 .8 1 .7 1 .7 1 .2 1 .5 1 .2 1 .2 1 .2 1-.5 1-.5 1-1.1 1 .3 1 .8 1-.3 1 0 1-.2 1 .8 1-.4 1 .7 1-.3 1 .7 1 .1 1 0 1-.3 1-1.3 1 .5 1 0 1 .3 1-.4 1 .2 1 .6 1 1.2 1-1.2 1 1.4 1 .2 1-.1 1 1.4 1-1.5 1 .3 1 1.1 1-1.5 1 2.2 1-.7 1 1.4 1 1 1-.1 1-.8 1 1.1 1 .8 1-.3 1 .2 1-1 1 2.2 1-1.2 1 1.3 1-.2 1-.3 1 .4 1-.2 1-1.5 1 .4 1-.4 1 2.3 1 1.1 1 .3 1 1.6 1 .1 1 .1 1-2.4 1 .4 1 .2 1-1.2 1 1.4 1 1.1 1-1.8 1-.4 1 .2 1 .7 1-.7 1 .1 1-.9 1-.1 1-2 1 1.1 1-2.6 1 .7 1-1.5 1 1.3 1-.1 1-.1 1-.8 1 1.9 1-2.1 1-.2 1 .2 1-.7 1-2.8 1-3.1 1-1.1 1 2.2 1 2 1-1 1-2.5 1 2.4 1 1.6 1-1.4 1 2 1 .5 1-.6 1-1.8 1-.1 1-1.4 1 3 1 1.2 1 1 1-.6 1 .3 1-1.2 1-2.6 1 .5 1-2.9 1-.4 1-.3 1-1.8 1 .1 1 .8 1 2.7 1-.8 1 1.5 1 .6 1-1.8 1 4.8 1 1 1-.7 1-1.9 1 .4 1-2.9 1 2.9 1-1.4 1 4 1 3.2 1 1.4 1-1.4 1-2.9 1-.7 1-1.4 1 2.4 1-5.6 1 6.1 1-.7 1 .4 1-1.5 1 .2 1-2.4 1-4.6 1-3.4 1 .5 1-3.3 1 .9 1 2.3 1-3.9 1-4 1-.4 1-4.4 1 1.7 1-.5 1 .5 1-.4 1 2.9 1-1.8 1 .7 1-1 1-5.2 1-.7 1 0 1-.6 1 .6 1-1.1 1 .7 1-2.3 1 2.8 1 4.8 1 4.6 1 0 1-2.8 1-4.5 1 2.6 1-4.2 1-.6 1 3.6 1-2.5 1 4.1 1-.4 1 1.5 1 1.4 1 .5 1 2.2 1-.5 1 1 1-.5 1 .6 1-1.5 1 .9 1-2.4 1-3.8 1 4.7 1-2 1 .9 1 1.8 1-.8 1-1.8 1-.2 1-1.7 1-1.7 1 2.5 1-1 1-2.3 1-.3 1-1.3 1-1.1 1 3.2 1-4 1 2.9 1-.1 1 1.7 1 1 1-2 1 1.3 1 1.6 1 0 1 .1 1 2.7 1 1.5 1-3.7 1-.7 1-.2 1 .9 1 1.7 1-3.3 1 4.2 1-.5 1-1.2 1 .7 1 1.5 1-.1 1 4.5 1-3.4 1 .5 1 1 1-1.4 1 0 1 1.1 1-.1 1 2.5 1-1.3 1 1.2 1-1.9 1 1.3 1-.8 1 5.4 1-2.8 1 2 1 5.8 1 3.9 1-.3 1-4.8 1 1.6 1-3.3 1-6.2 1-2.4 1-4.6 1 2.8 1-.3 1-5.2 1 .1 1-1.4 1 .4 1-2.5 1 7.1 1-6.6 1 4.8 1 .4 1 3.1 1-.7 1 2.6 1 3.5 1 .8 1 4.5 1 2.2 1 3.4 1 9.9 1-.8 1 3 1-4.3 1 8.5 1 4.9 1-7.6 1-5.7 1 .3 1-3.3 1-.6 1 11.7 1-.5 1 8.9 1 3.1 1-2.9 1 .9 1-9.4 1-7.4 1-3.4 1-4.9 1 6.5 1 12.3 1-13.9 1-3.2 1-1.4 1-8.5 1 .3 1-14.5 1 1.3 1-10.4 1 3.2 1 14.3 1 11.8 1 3.9 1 4.3 1 14.1 1-2.7 1 3.1 1 3.7 1 .8 1-6.3 1-1.4 1 8.8 1 9.8 1-.6 1-6.6 1 .9 1-5.2 1-7.9 1-10.4 1 5.1 1 3.7 1 6.7 1 .8 1 3.5 1 4.1 1 .7 1-1.2 1 6.5 1 7.4 1 7.7 1 5 1-.6 1 3.1 1 6.4 1 5.7 1 2 1 5.1 1 3.3M587 813.7l1-1.5 1 1.5 1-7 1-8.5 1-16.8 1-5.9 1-3.8 1-2.3 1-19.1 1 7.2 1-9.4 1-5 1 5.3 1-16.9 1-9 1-17.6 1 9.9 1-12.5 1-18.5 1 7.2 1-8.5 1 .5 1 .2 1-3.9 1-7.2 1-1.3 1-16.6 1 1.1 1-5.1M619 650.2l1 1 1-1M623 650.2l1 1.8 1 1.8 1 7.9 1 1.1 1-12.2 1-.4M721 650.2l1 3.6 1-2 1 2.8 1 2.9 1 3.9 1-2 1 3.3 1-.3 1 4.2 1-.4 1 4.4 1-4.7 1 4 1 3.2 1-7.1 1 1.3 1 1.9 1 1.3 1-.2 1 4 1 1.2 1 .2 1 .2 1 4.2 1 4.9 1 3.1 1-5.2 1 3.3 1 .1 1 1.2 1 3.3 1-2.5 1 3.2 1 1.4 1 5 1 2.4 1-3.7 1-.6 1 2.9 1 0 1 5.1 1-4.9 1 2.7 1-1.5 1 6.1 1-2.1 1-1.5 1 4.2 1-1.3 1-.2 1-1.4 1 .4 1 3.3 1-.3 1 1 1-6.2 1 3.8 1 1.4 1-2.1 1-1.4 1 4.1 1-4.2 1 .7 1 1.7 1 2.1 1-7.2 1 3.4 1 4.8 1 .7 1-1 1 1.6 1 .4 1-2.5 1 3.6 1-1.9 1-.9 1 4.9 1 3.6 1 1.5 1-4.5"/>
<path d="M178 729.7l1-.6 1-1.4 1-.1 1 .1 1 .1 1 .4 1-.3 1-.7 1 0 1 .6 1 .6 1 .3 1-.1 1 0 1 .7 1 .6 1 .3 1 .4 1 .2 1-.9 1-.4 1-.5 1 .8 1-.8 1 .4 1-2.1 1 .3 1 0 1 2.1 1 .1 1-.8 1-.2 1-.6 1 .9 1-1 1 1.4 1 1.7 1-1 1 .4 1 .7 1 0 1 .1 1-.7 1 0 1-.5 1 1.4 1-.8 1 1 1 2.9 1-.2 1-.1 1-.6 1 1.9 1 0 1 2.2 1-.6 1 .6 1 2.8 1-1 1-1 1 .5 1-1.4 1-.7 1 .9 1-.1 1 .7 1 .7 1-.3 1-.4 1 2.2 1-2.1 1-.6 1 .2 1 .4 1 .1 1-.1 1-.5 1-.3 1-.3 1-.3 1-.1 1 1.1 1 2.1 1-3 1-.1 1-1.1 1 .2 1-.2 1-.1 1-.7 1-2.6 1-2.3 1 1.7 1 .4 1-.3 1-2.3 1 .4 1-2.3 1-2.2 1 .9 1-.9 1 .7 1 1.6 1-.8 1 3 1 .8 1-2.6 1-.2 1-2.2 1 .7 1 1.2 1-.9 1-.5 1-.9 1 1.6 1-3.9 1-4.2 1 2.3 1-1.5 1 .1 1 0 1 .7 1-2.5 1 0 1 .3 1-.2 1-1.2 1 .1 1-1.4 1-2.5 1 1.1 1-2 1-1.9 1 3.7 1 .9 1 .6 1-2.6 1-.4 1-.9 1 1.6 1-.6 1 .9 1 1.8 1 .2 1-1.3 1 2.1 1-.1 1-1.6 1 1.8 1 .9 1-.9 1-.8 1 1.7 1 2.2 1-.5 1-2.3 1 .6 1 2.7 1 .4 1-.9 1-1 1-2.2 1-3.2 1 1.1 1-2 1-.3 1 3.1 1 2.3 1 .9 1-1.4 1-1.3 1 .3 1-3.2 1-2.9 1-1.9 1-2.1 1 4 1-.3 1-.9 1-1.1 1 .2 1 1.2 1-1.5 1 3.3 1 1.3 1 3.4 1 2 1-.8 1-1.2 1-4.2 1 1.7 1-2 1 .5 1 1.6 1 .2 1 .5 1 4.1 1 .9 1-.1 1-.2 1-1.1 1-1.1 1 .6 1 3 1-.6 1 2.2 1-.2 1 1.3 1-4.3 1-1.4 1 1.7 1-1.5 1 .8 1 1.3 1-1.5 1-1.3 1-1.2 1 1.4 1 1.3 1 1.3 1 2.4 1-2.4 1-.2 1 1.9 1-1.1 1-1.7 1-2.6 1-2.3 1-.3 1-4.1 1 1.2 1 2.4 1-1.7 1 5.4 1-1 1 4.7 1-5.1 1 1.6 1-4.6 1 1.5 1-1.8 1 .5 1 2.5 1 3.1 1 2.1 1 2.8 1 .7 1 3.3 1-.8 1-2.4 1 1.4 1 1.5 1-1.6 1-2.3 1 1.7 1 5.9 1-3.3 1-.8 1-3.2 1 4.9 1 .2 1 2.6 1 .8 1-1.9 1-.2 1-1 1-2.5 1-2.3 1-5.2 1 3.2 1-.1 1-2.1 1 .9 1-1.1 1-2.1 1 1.8 1-.5 1 4.8 1-1.2 1 2.2 1 1.8 1 6.2 1 2.6 1-.3 1 2.7 1-4.9 1 7.4 1 7.6 1 2.8 1-.2 1 6.7 1 8.9 1 5.2 1 1.6 1-1.3 1-2.6 1 1.5 1-4.4 1 1.9 1 5.5 1-6.6 1-8.8 1 1.7 1 1.9 1 7.8 1-8.3 1-2 1-5.9 1 1.5 1 5.4 1 7 1 5.2 1-4 1-9 1-10.4 1-9 1-6.5 1-9.7 1 9.5 1-.6 1-3.8 1-8.1 1 7.9 1 14.1 1 10.4 1 16.6 1 2.1 1 9.9 1-2.2 1 6.5 1-1.4 1-4.3 1-7.6 1-3.6 1 6.9 1-.5 1-9 1 10.2 1 4.5 1 7.5 1 1.8 1 3.3 1 3.5 1 6 1 5.9 1 5.3M607 813.7l1-3.2 1-1.8 1 5 1-4.2 1-6.1 1-7.2 1-16.5 1-.6 1-10.5 1-6.9 1-6 1-6.7 1-2.3 1-3.6 1 1.8 1-13.3 1-10.2 1 1.9 1-11.8 1 7.6 1-7.9 1 1.5 1-1.8 1-3.4 1 .7 1-7.5 1-14.6 1 4.5 1-4.1 1-2.4 1-3.5 1 3 1 1.6 1 5.8 1-2.4 1-7.2 1-5.8 1-6.6 1 6.1 1-4.6 1-.3 1 1.3 1-2 1-.6 1-4.6 1-5.9 1 3.8 1-3.5 1-.5 1-2.3 1-2.9 1-2.8 1 0 1 1.1 1 3.4 1 2 1 2 1-8.5M668 650.2l1 2.7 1 3.5 1 1.6 1-.3 1-2.4 1 .3 1-5.4 1 2.8 1 2.2 1 .8 1 5.1 1-5.2 1-5.7 1 2.8 1 6 1-2.8 1 3 1-5.2 1 11.3 1 4.4 1-7 1-2.5 1-.1 1 5 1 1.1 1 4.2 1 3.7 1-4.5 1-4.7 1-.4 1 1.1 1-4.2 1 7.5 1 5.1 1-1 1-.6 1 4.2 1 6.7 1 1.1 1 8.6 1 2.7 1 2.3 1 4 1-1.7 1 2.3 1-2.6 1-2 1 1.5 1-.1 1 1.8 1 1.8 1 1.3 1 1.2 1 2.7 1-2.3 1 .3 1 2.8 1-.5 1-1.3 1-1.2 1 1.2 1 1.1 1 0 1-2.6 1 5.5 1-8.8 1-.6 1-4.7 1-2.6 1 .2 1 .9 1-2.8 1-4.5 1-.9 1 12 1 .7 1 1.7 1-7.6 1 5.2 1-1.8 1 7.6 1 .3 1 1.3 1 1.2 1-.2 1-6.6 1 1.8 1 2.8 1 3.2 1-1.1 1 4.6 1-1.2 1-1.8 1-2.5 1 2.5 1 2.9 1 2.7 1-2.5 1 3.1 1-4.7 1 4.8 1-3 1 1.3 1-5.6 1 .5 1 0 1 2 1 0 1 1.2 1-.6 1-.7 1 .8 1 1.6 1-1.3 1-1.2 1 0 1 .8 1 2.8 1-2.1 1 3.8 1-2.9 1 2.7 1 4.1 1-1.7 1-2.8 1 1.5 1-7.4 1 5.4 1 3.9 1-4 1 2.7 1-2.3 1 2.5"/>
<path d="M178 730.6l1-.9 1-.9 1 0 1 .3 1-.3 1 1.4 1-.4 1 .7 1-.4 1 .9 1-.1 1 .5 1 .2 1 .1 1-.2 1-.2 1 .5 1 .9 1 0 1 0 1-.7 1 .1 1 0 1 .4 1 .4 1-1 1 .2 1 .8 1 1.1 1-.4 1 1.1 1-.3 1 .1 1 .6 1 .3 1 .4 1 .7 1-.3 1-.4 1 .2 1 .5 1-.4 1 .7 1-.6 1 1.4 1 .8 1 .9 1 .5 1 1.6 1 1 1-1.2 1 0 1-.2 1-.8 1 .9 1-2.5 1-.6 1 1.8 1-1.2 1-1 1 1.1 1 1.9 1-1.7 1-.6 1 1.4 1-.3 1 .9 1-1 1 0 1-.2 1-1.6 1 2.1 1 0 1 .5 1 1.9 1 .4 1-.2 1-2 1 1 1-1.5 1-1.7 1 .6 1 .6 1-.9 1 .7 1 .7 1 .1 1 3.1 1 0 1-1.6 1-.2 1 .1 1 .3 1 .6 1 .8 1 1.1 1 1.9 1-4.2 1-3.1 1 1.4 1 .5 1-1.2 1 1.8 1 .7 1-2.7 1-.8 1 1.5 1-.4 1 .9 1 2.3 1-1.8 1-1 1 1.1 1 .1 1-.4 1-1.3 1 .7 1-.4 1-.3 1 .8 1 .3 1 0 1-2.5 1-.6 1 2.4 1 1.6 1 1.2 1-1.6 1 2.8 1-.8 1 1.1 1 .3 1-3.2 1 .4 1 1 1-1 1-1.8 1 .7 1-.2 1 1.3 1 1.2 1 1.2 1 2.2 1-2.5 1 .4 1 2 1-1.4 1 .2 1-1.6 1-1.3 1 .5 1-1.7 1-.3 1 2.6 1-.1 1-.5 1-2 1 .9 1 .2 1-1.2 1 1.7 1-.3 1-1.7 1-2.6 1 0 1-3.1 1-.5 1-2.6 1 1.8 1-2.2 1 4.2 1-.3 1-.5 1-1.3 1 .7 1-2.6 1-.3 1 .5 1 3.3 1-1.7 1 .2 1-.3 1 2.6 1 1.3 1 1 1 1 1 2.1 1 .2 1-2.9 1 1.6 1 .6 1-1.1 1-.1 1 3.3 1 0 1 .1 1 2.3 1-1.4 1-.2 1-1.9 1-.5 1-1 1-1 1 .5 1-1 1-3.2 1-2.5 1-1 1 2 1-2.7 1-.5 1-1.6 1-1.8 1-2.1 1-.4 1-1.3 1 3 1 1.6 1 .4 1 .7 1-.6 1-3.1 1-3.4 1 2.7 1-.9 1-1.9 1-.9 1 .1 1-.1 1-.9 1-3.4 1-2.8 1 1 1 1 1-1.3 1 3.1 1 1.7 1-.8 1 2 1 0 1 2 1 2.4 1 .4 1-3.9 1-2.6 1-3.5 1-.1 1-.5 1-6.4 1 6.8 1 .3 1 .7 1 6 1-1.4 1-1 1-1 1-.9 1-2.5 1 2 1 3.2 1 2.4 1 5.8 1 1.1 1 .4 1-4.8 1-1.5 1 2.5 1-1.9 1-1 1 2.4 1-.4 1-2.3 1 5.1 1-1 1 5.4 1 3.2 1 .2 1-4.4 1-.6 1-.4 1-6.5 1 .8 1-.2 1 7 1 2.8 1-6.1 1-1.3 1 8.3 1 2.4 1 .7 1 2.7 1-1.1 1 5.4 1 .5 1-4.5 1-3.3 1 8.4 1-6 1-1.2 1-6.7 1 3.4 1-6.6 1 2 1-2.3 1-3 1 1.3 1-1.3 1-2.5 1 3.4 1 4.2 1 9.9 1 2.2 1 3.6 1-6.4 1 2.2 1-1.3 1 2.5 1-3.3 1-9.6 1 2.8 1 8.4 1 0 1 2.7 1 3.6 1 6 1-2 1 .6 1 11.6 1 5.1 1 1.1 1 3.1 1-4.9 1-9.9 1 .4 1 3.8 1 8.7 1-.7 1 8.4 1 .1 1-13.2 1 9.5 1 6.9 1-4.5 1-3.3 1 16.4 1 11 1 7.2 1 2.2 1 1.6M592 813.7l1-.1 1-9.1 1 .6 1-9.6 1-1.7 1-13.5 1-5.8 1-7.2 1-3.1 1-19.3 1 5.5 1-8.9 1 7.4 1-7.5 1-1.9 1-2 1-.9 1 3.4 1-4 1 .4 1-4.3 1 .7 1-16.2 1 2.1 1 1.4 1 8 1-5.2 1 1.5 1-7 1-5.7 1-10.1 1-5 1-5.5 1 4.1 1-20.2 1-5.5 1 5.8 1 6.7 1-4.1 1-14 1-13.4 1-.3M636 650.2l1 6.7 1-1.3 1-1.8 1-3.1 1 1 1-1.5M702 650.2l1 7.3 1 7.7 1 7.5 1-2.1 1-1.4 1 3.3 1-.2 1-5.5 1 .3 1 3.4 1-8.4 1 5.4 1 8.6 1-6.4 1 5.8 1 1.8 1-.1 1-3.6 1 4.9 1-2.2 1-1.3 1 4.9 1-1.2 1 6.4 1-4 1 3.9 1-1.3 1-4 1-4.2 1 9.6 1 .4 1-2 1 .3 1 1.9 1-1 1 9.4 1-4.2 1 5.1 1 3.5 1-3.2 1-5.1 1 6.5 1 1.3 1 6.6 1 3.4 1-2.3 1-.9 1 .6 1-.3 1-.3 1 3.3 1 .6 1 5 1-1.9 1-2.2 1 5.3 1-.2 1-.5 1-2.4 1 3.1 1 3.1 1-.6 1-1.6 1 4.6 1-2.6 1-.9 1 .5 1 .4 1 4.7 1-1.2 1-5 1-1.2 1 4.9 1-2.7 1 4 1-.1 1 1.6 1 .2 1-.5 1-2.4 1 3.8 1 .8 1-.5 1-1.2 1 2 1 3.6 1-3.1 1 .8 1 3.5 1-5.4 1-1.2 1-3.8 1 1.5 1-1.4 1 4.1 1-1.1 1 1.1 1 1.9 1-6.6"/>
<path d="M178 732.2l1 1.3 1 .3 1-.1 1 .7 1 .5 1 .3 1 .3 1 .7 1 .8 1-1.3 1 .5 1 .5 1-.8 1-.1 1 .6 1 .2 1 0 1 .6 1-.3 1-.5 1 .9 1 .4 1 .7 1 .4 1 1.6 1-1.2 1 .8 1-.6 1 .3 1-1.7 1-.2 1-.3 1-.3 1 1.5 1 .4 1 .4 1 .5 1 .3 1-2 1 1.1 1 1.8 1-.6 1 1.6 1 .4 1 .4 1 1.6 1 .1 1 .5 1 .6 1 .5 1-.5 1 .6 1 .2 1 .6 1 .7 1 1.3 1 .4 1 0 1-.1 1 .8 1-.5 1-1.3 1-1.7 1-1.6 1 .3 1 .5 1 .9 1-.9 1 1 1 .1 1-1.5 1 .6 1-.7 1-1.1 1-.7 1 2.4 1 .6 1 .5 1 2.8 1 1.4 1 .2 1 .2 1 .4 1-.2 1-.7 1-.1 1-.3 1-1.4 1 2.5 1-2.3 1 .6 1 1.1 1-.6 1-.6 1 1.3 1-.3 1-.3 1-2.1 1-1.8 1 .4 1-1 1 2.3 1 .5 1-1.1 1-.3 1-.4 1 .8 1 .1 1-1 1-1.4 1 .7 1-.8 1 2.1 1 .1 1-2.8 1 .2 1-1.2 1 3.6 1-.6 1-.9 1 .1 1-.5 1-1.3 1-.5 1 2.3 1 .2 1 2.3 1-1.2 1-1.9 1-.5 1 1.9 1-.7 1-.6 1 2.7 1-.6 1 .4 1-.5 1-2.3 1-1.3 1 2.4 1 3 1 .4 1-1.6 1 2 1-2.2 1-.4 1-.4 1 1 1 .2 1 .5 1 4.1 1 .1 1-2.5 1-1.9 1-1.3 1-2 1 1.8 1-1 1-1.1 1 1.2 1 0 1 1.4 1-3.5 1-.5 1-.1 1-2.3 1 3.3 1 .5 1 .8 1 1.9 1 .4 1 2.2 1 .2 1-.7 1-.8 1 2.2 1-1.6 1 .3 1-1.7 1 1.7 1-1 1 6.1 1 .6 1 .1 1-1.9 1 2.7 1-.6 1 1.4 1-1.3 1 .7 1 2.2 1-.8 1 2.4 1 1 1-1.3 1 1.4 1-2 1 .6 1 2.9 1 .8 1-.7 1-3.5 1 .3 1 .9 1 3.1 1-3 1-4.8 1-.8 1-5.8 1-2.2 1 .2 1-.7 1 0 1-4.1 1-.9 1-.1 1 2.8 1 3.8 1 4.4 1 .2 1 .4 1 .9 1 1.7 1-1.3 1-2 1-1.7 1-2.2 1 .4 1-.3 1 1.5 1 .8 1 3.8 1 3.1 1 1.7 1 1.9 1-.2 1-1.2 1 1.1 1-4 1 .5 1 1.5 1 .8 1 0 1 1.4 1-.1 1-.2 1-2.7 1 1.8 1-2.2 1-3.7 1 .9 1 2.2 1 .4 1-2.9 1-.7 1 5.5 1 .8 1 1.5 1-4.1 1-.1 1 1.9 1 .6 1 .1 1 .4 1 1.1 1 1 1-1 1 1.4 1 5.1 1-.7 1 .7 1-.1 1 2.6 1-.2 1 2.2 1 .6 1-2.9 1 1.1 1 .2 1 1.7 1 1.5 1 .5 1-.1 1 3.6 1 0 1-.2 1 3.6 1 5.3 1 5.8 1 6.1 1 4.4 1 9M617 813.7l1-.6 1-5.3 1-.9 1-12.8 1 6.7 1 .4 1-7.6 1-6.8 1-6.5 1-10.2 1-3.8 1 5.6 1-3.7 1-7.4 1 3.6 1-16.6 1-9.3 1-.7 1-1.3 1-5 1 3.7 1-9.4 1-2.5 1-8.7 1-5.1 1-7.8 1 1.1 1-3.2 1-3.2 1 .6 1-1.6 1-5.9 1-1.8 1-5.2 1 3.2 1-1.6 1 .8 1 2.4 1 .6 1-4.5 1-.3 1 2 1-1.1 1 1.1 1-1.5 1 8.9 1-6.9 1-12.4 1-1.8 1-4.6 1 7.1 1 10.3 1 1 1 3.5 1-6.8 1 6.1 1 3.7 1 2 1 1.6 1-.9 1 7.6 1-1 1 5.8 1-.6 1-4.4 1 .6 1 9.8 1-4.5 1-3.7 1-4.1 1 5.6 1-2.8 1 7.6 1-.4 1 2.1 1-1.6 1 6.3 1 6.1 1 1.9 1-.9 1 4.3 1 .5 1 1.3 1 .7 1 2.3 1 1.1 1 0 1-1 1-2 1 1.1 1-1.2 1-3.9 1-1.5 1 3.2 1-.3 1-.5 1 3.4 1-4 1-1.1 1 4.7 1 .7 1-1.8 1-.4 1-1.7 1 .6 1-1.2 1-.7 1-4.4 1 6.1 1-3.3 1 3.4 1-3.5 1 3.5 1-3.7 1 1.7 1 2.3 1 4.6 1-3 1-1.8 1 3.8 1-3 1-1.9 1 1.9 1-5.7 1 2.1 1 0 1 1.2 1 3.8 1 4.8 1 0 1-1.3 1 1.5 1-3.4 1-1 1 2.1 1 .9 1 2.6 1-4.5 1 3.5 1-2.9 1-4.9 1 4.5 1-.7 1 1.6 1-1.2 1-4.3 1 3.1 1 5.1 1-2.5 1 .3 1 2 1 .4 1 .1 1 0 1-2.7 1 1.4 1-.2 1-2.9 1 1.3 1-1.8 1-.1 1-3.1 1 .4 1 5.9 1-4.6 1-.9 1 .3 1 0 1 1.3 1 3.5 1 .1 1 3.3 1-1.6 1-.1 1 0 1 1.1 1-1.7 1 .4 1 .8 1-.2 1-1.8 1 1 1 2.5 1 .4"/>
<path d="M178 731.7l1 .1 1-.5 1 0 1 .1 1 .1 1 .3 1 .1 1-.4 1 .5 1-.1 1 .4 1-.3 1 1.2 1 .2 1 .2 1-.6 1-.2 1-.4 1-.2 1-1.1 1 1.2 1 .2 1 .3 1-.2 1-.8 1-.9 1-.6 1 1.1 1 .1 1-.3 1 1 1 .5 1-.1 1 .3 1 .5 1 .3 1 .8 1 1.1 1 .6 1 1.5 1 .7 1 .6 1 .3 1 2.2 1-.7 1 .7 1 .7 1 .2 1 2 1 1.5 1-1.1 1 .1 1 .2 1 .2 1 .8 1-.2 1-.5 1 1.3 1 .9 1-1.1 1 1.7 1-.3 1-1.5 1 .1 1-.2 1 1.1 1 1.3 1 .2 1-.8 1-.2 1-.5 1 .4 1 .1 1 .1 1 1.1 1-.1 1 .1 1-.4 1 .7 1-1.7 1 1.5 1-.7 1-.7 1-1.2 1-2.4 1-.1 1 1.3 1 1.8 1-.1 1 .3 1-.9 1-.2 1 0 1 .1 1 1.1 1 1.2 1 2.8 1-1.2 1-3.9 1 1 1-1.6 1 3.2 1 2.2 1 .9 1 1.2 1 0 1 0 1-.2 1-3.8 1 .5 1 1.5 1-3 1-.4 1-1.2 1-1.5 1 0 1-.2 1-.8 1 0 1-.5 1-.9 1-.6 1-.8 1 .3 1 1.5 1-3.3 1 1.4 1 .2 1 1 1 .6 1 1.6 1 1.2 1-.5 1-1.1 1 2.6 1 .1 1 .8 1-.2 1-1.1 1 .6 1 1.4 1 1.1 1 .1 1-1.7 1 1.5 1 1.5 1-.8 1 1.9 1 .8 1 1 1-.7 1-2.3 1 .6 1 1.9 1-2.9 1 .4 1 1.8 1 .5 1 .7 1-3.7 1-1.6 1 .6 1-1.1 1-1 1-1.6 1-.4 1 1.1 1 1 1-.5 1 1.2 1 .6 1-1.4 1-2.9 1 1.1 1-.4 1 1.4 1 .3 1-1.9 1-.1 1 .9 1 .3 1 1.7 1-.8 1-.1 1 4 1 .3 1-3.6 1-.7 1-.6 1-1.4 1-.7 1 1 1 .5 1-1.3 1 5 1 1 1 .5 1-.8 1 2.9 1-1.8 1-.2 1 .4 1-1.4 1 1.5 1-.5 1-4.4 1-3.9 1 1.2 1-1.6 1-.6 1 1.6 1 .4 1-3.4 1 2.1 1 3.1 1 .5 1-.5 1-2.1 1 2.9 1 .8 1-1.1 1 .8 1-.6 1-3.1 1 1.2 1-.5 1 2.2 1-.7 1 1.1 1-1 1 2.6 1 .5 1 3 1 2.1 1-2.3 1 .3 1 .8 1-.4 1-2.5 1 .6 1 0 1 .3 1 .9 1 .3 1 .1 1 0 1 0 1-1.1 1-3.1 1-1.3 1 2.4 1 4.1 1 .3 1 1.2 1-1.1 1-1.3 1 .5 1 .8 1-.3 1 3 1 0 1 2.2 1 .2 1 6.3 1-2.3 1-2.8 1 2.4 1-5 1 4.5 1-2.6 1 1.3 1-.5 1 1.9 1 .9 1 .2 1 2.7 1 4.5 1 3.6 1 .8 1 1.7 1 1.6 1-4.2 1 .3 1 1.3 1-.1 1 1.3 1-.8 1 5.5 1 5.7 1 9.4 1 6.1 1 8.5 1 3.6M618 813.7l1-8.3 1 7.6 1-4.4 1 5.1 1 0 1-6.5 1-19.2 1-9.8 1-1.8 1-1.4 1-4 1 2.2 1-13.2 1-5.7 1-11.9 1-1.7 1-8.6 1-2.8 1-6.6 1-2.2 1-8.8 1-3.4 1 .2 1-6.5 1-3.4 1 3.3 1 3 1-2 1 3.3 1 1.5 1-9.8 1-.9 1-5.8 1 .5 1-6 1-9 1-1.2 1 4.6 1-5 1-3.8 1-5.4 1 4.6 1 2.3 1 1.1 1 7.8 1 9.6 1-9.5 1-11.8 1-1.9 1 8.9 1 4.8 1 1.7 1 6.5 1 8.4 1 2.9 1 5.8 1-3.7 1-2.2 1 7.9 1 1.3 1 1.2 1-3.7 1 4.7 1-5.6 1 7.2 1 7.2 1-4.9 1-.3 1 .5 1 1.9 1 6.7 1-5.4 1 4.7 1 1.1 1 5.8 1-1.6 1 2.5 1-.6 1-7.6 1 1.9 1 .9 1-4.2 1 2.3 1 2.4 1-4.1 1 6.8 1-1.9 1-3.6 1 7.5 1 2.8 1-6.7 1-2.1 1 4.5 1-1.7 1 2.6 1 1.7 1 2.2 1-1.7 1-3.7 1-.1 1 1.3 1-4.2 1 4.3 1 1.4 1 .5 1-2.9 1 2.2 1-2.2 1 2 1 2.1 1-3.4 1 3.7 1-.2 1-4.9 1 .6 1-.9 1 7.8 1-.9 1 3.7 1-5.3 1-1.2 1 3.3 1-.1 1 .2 1-1.8 1 2.1 1 .8 1 .8 1 .4 1 .8 1 5.4 1-3.1 1-1 1 .3 1 3.5 1-2.3 1-2.6 1 1.5 1-3 1-1 1-2.1 1-.9 1 3.1 1-2.2 1-1 1-2.1 1 5.4 1-.5 1-1.8 1 1.3 1-3 1-3.9 1 1.7 1 2.7 1 1 1 2.3 1 .9 1-2.5 1-.5 1 2.4 1-.3 1-2.9 1 .2 1 .2 1 .9 1 1.6 1-1.1 1 .3 1 1.5 1-3.8 1-4.6 1 2 1 .9 1-.8 1-1.9 1 4.9 1 3.4 1-4.7 1 .6 1 2.8 1-6.9 1-1.4 1-.2"/>
<path d="M178 725.8l1-1.3 1-2.2 1-.1 1 0 1-.1 1 .4 1-.3 1-.3 1 .2 1 .4 1 .4 1 .1 1 .5 1 .3 1 .2 1 .2 1 .6 1-1.2 1 0 1-.7 1 .5 1 .5 1-.7 1 .7 1 .2 1-.8 1-.5 1 .4 1 .4 1-.8 1-.4 1-.2 1-.3 1 .7 1-.8 1 .7 1 .9 1 0 1 .2 1 0 1 0 1-.8 1 .9 1 .8 1-.3 1 1.3 1-.4 1 .2 1 1.7 1 .1 1-1.1 1 .4 1 .2 1 .2 1 .2 1-1 1 .6 1 1.5 1-.1 1-1.4 1-.2 1 .6 1-.6 1 .4 1 1.8 1 1.7 1 2.6 1-3 1 .4 1-.5 1-2.8 1 .3 1-.8 1 2.7 1-1.3 1-1.3 1-.5 1 .1 1 1 1 0 1-1 1-.7 1-2.5 1-1 1-1.4 1 .8 1 .8 1 .2 1 .9 1-.6 1-.9 1 1.9 1-.1 1-1.4 1-.6 1-3 1 1.5 1-1.1 1-1.3 1-.4 1-2.4 1-.7 1 2.8 1 .3 1-.8 1-1.7 1-1.4 1 .2 1-.3 1-.8 1 .8 1-1.1 1 1 1-.6 1 .9 1-.7 1-2.3 1-.6 1 1.6 1-.5 1-1.7 1-.1 1-1.2 1 .6 1-1.1 1-.9 1 .6 1 .2 1 2.3 1-1.2 1 .9 1 1 1-3 1 1.8 1 2.2 1-.9 1-.1 1-.4 1-1.9 1 1.5 1 1 1-.8 1 .2 1-1.3 1 1.4 1 .8 1-1.2 1-1.2 1-.8 1-.7 1-1.7 1-3.1 1-.7 1-.1 1-2.5 1-2.4 1 1 1 .4 1 1.6 1-1.3 1 0 1 .4 1-1.4 1 1.8 1 2.1 1-1.7 1 .3 1 1.8 1 1.1 1 1.2 1-.1 1-.5 1-1.1 1-1.6 1 .2 1 4 1-1.9 1-.1 1 2.2 1-3.1 1-.8 1 .8 1 0 1-.4 1-.9 1 1.1 1 .9 1 1.6 1-2.7 1 .3 1-.1 1-.6 1 .1 1-.3 1 1.8 1 .7 1-2.4 1-.4 1 2.6 1-1.3 1-2.1 1 3.8 1-1.6 1-2.3 1 1.7 1-1.2 1-1.4 1-2.1 1-1.4 1 2.1 1 .4 1-4 1-.9 1 .8 1-2.5 1-.4 1 1 1-.2 1-1 1-.3 1 0 1-1.6 1-1.2 1 .1 1 .7 1-.4 1 1.9 1 1.7 1-2.5 1 .1 1 .5 1 5.5 1-.6 1 3 1-4.2 1-1.8 1 .2 1-.5 1-5.3 1-.9 1 .8 1 1.5 1-2.6 1 .2 1 .1 1 4.3 1 .1 1-.1 1-2.7 1-2.9 1-4.8 1 5.2 1-.1 1 1.1 1-1.5 1 2.9 1-.5 1 2.6 1 2.5 1-2.5 1 5 1 2.3 1 1.3 1-3.2 1 .1 1 1.2 1 2.6 1-.9 1 1.2 1-.9 1 .6 1 .2 1-.4 1 0 1-1.6 1 2.2 1-2.9 1 1.6 1-6 1 2.2 1-2.8 1-2.7 1 2.1 1 2.5 1 2.9 1 1 1-2.8 1 1 1-.7 1-2.9 1 1.3 1 .9 1 2.4 1 3.9 1 2 1 .5 1 1 1 1.2 1-3.5 1-1.8 1 .4 1-2 1-1.7 1-.8 1-.7 1-2.8 1-1.8 1-2.3 1-1.4 1-1.5 1-.6 1-1.5 1-2.1 1-.5 1-.6 1-2.9 1 1.7 1-.3 1 .9 1-.4 1 .8 1 .9 1 .5 1 5.4 1 6.8 1 8.4 1 9.1 1 8.8 1 2.7 1 1.5 1-1.3 1 1.8 1 .2 1 .3 1 .7 1-1 1 .5 1 .8 1 .5 1 .8 1 13.9 1-.6 1-1.5 1-3.1 1 4.4 1 2.9 1 3.4 1 4.4 1 12.9 1-2.1 1 10.7 1-6.9 1 5 1 6.1 1 6.5 1 6 1 4.7 1 5.3 1 4.7 1 3.6 1 2.7 1 4.8M587 813.7l1-4.1 1-9 1-7.7 1-9.3 1-5.4 1-7.6 1-7.3 1-6.6 1-7.9 1-6.5 1-7.2 1-9.7 1-6.3 1-8.4 1-6.6 1-8.6 1-9.5 1-6.1 1-4.6 1-.6 1-4.3 1-1.2 1-4.1 1-4.2 1-2.5 1-6.9 1-1.3M722 650.2l1 .1 1 1.4 1-.1 1 1.5 1 6.6 1 4.1 1-6.4 1-.4 1 .6 1 2.1 1 1.9 1 5.4 1 2.2 1-1.6 1 5.9 1 2.8 1-3.7 1 3.9 1 2.5 1-3.8 1 4.9 1 5.5 1 1.8 1-4.4 1 6.1 1 .9 1 2.7 1 1.9 1 2.4 1-4.9 1-1.4 1 5.2 1-2.3 1-1 1 4.1 1 1.4 1-1.1 1 0 1-.6 1 3.8 1-2.4 1 .7 1 .1 1 3 1-.3 1 1.5 1-.6 1 .6 1-1.4 1-1.5 1-.2 1 4.5 1-.9 1-1.8 1-2.5 1 5.1 1 .4 1 .2 1 3 1 1 1 1.9 1 3.5 1-9.5 1 1.8 1-.4 1-.7 1 3.7 1-1.4 1 .8 1-1.2 1-2.9 1 3.4 1-.7 1-.4 1 8.6 1-7.6 1 3 1-1.7 1-.5"/>
<path d="M178 726.7l1-1.6 1-1.1 1 0 1 .6 1 1 1-.1 1 .2 1-.2 1 .2 1 .4 1 .4 1-.6 1-.3 1 0 1 .8 1-.5 1-.2 1-.8 1-.9 1 .3 1 .4 1 1.1 1 1.2 1-.1 1 0 1-.3 1-.8 1 1 1 .8 1 1.2 1-1.3 1-.5 1-1.8 1 1.1 1 .4 1-.5 1 .5 1-.8 1-.4 1 .8 1 .6 1-.6 1 2.3 1 .9 1-.4 1 1.7 1-.4 1 .8 1 1.8 1-.5 1-1.2 1-.1 1-1 1 1.4 1-.3 1-1.5 1-1.2 1 .8 1-2.3 1 .5 1-1.3 1 .5 1-.6 1-.1 1 0 1 1.3 1 .6 1-1.2 1-.3 1 .6 1-1.6 1 .4 1-.3 1 2 1-.3 1-.4 1-1.9 1 .8 1 2.3 1-.3 1-.3 1-.3 1-.6 1 .4 1-.9 1 .4 1 1.3 1-1.1 1 .6 1 .5 1 1.4 1-1 1-1.2 1 .5 1 .7 1-.4 1 0 1-.4 1-3.2 1 2.7 1-1.8 1 1.6 1 3.6 1 3.1 1-.9 1-2.1 1 .1 1-.8 1-.8 1-.9 1 1.4 1-1.1 1-1.4 1-.8 1 1.4 1-2.5 1 2.5 1-2 1 2.6 1-1.1 1 1.6 1 .7 1 .9 1 .6 1-2.3 1-1.1 1 2 1-2.3 1-1.2 1 3 1-1.4 1 2.7 1-3.9 1 3.5 1 3.9 1-.5 1 3 1-5 1 2.4 1 2.4 1-1.7 1-.4 1 1.2 1 1.3 1-4.5 1-2.1 1-1.7 1 .4 1-1.8 1 1 1-2.5 1-3 1-1.3 1 1.4 1 .1 1-2.7 1 1.3 1 2.7 1-1.4 1-3.6 1 1.2 1-1.6 1-1 1-.5 1 .3 1-2.4 1-.1 1 .8 1 .4 1 .3 1 4.1 1-1 1 3.6 1-2.8 1 1.3 1-3.4 1-1.8 1-1.8 1 3.5 1-1.9 1-2.4 1 1 1 1.5 1-2.9 1 .9 1 .3 1 1.3 1-5.1 1 2 1-4.2 1-.7 1 6.3 1-1.6 1-4.8 1 .2 1-2.3 1 4.6 1-2.5 1 .1 1-2.6 1-.1 1-1.8 1 3.8 1 2.2 1 3.3 1-3.5 1 .3 1 1.3 1 3.1 1-4.5 1 .6 1 2.3 1 2.2 1-1.9 1-.8 1 .7 1-.8 1-4.9 1 .5 1-1.3 1-1.9 1-.6 1-1.8 1-1.3 1 1 1-1.4 1-.6 1 1.1 1-1 1-1.9 1-.7 1 2.5 1 1.9 1 2.3 1 2.9 1 3.4 1-4.6 1 3.9 1 3.9 1 2.3 1-.6 1-.2 1-1.3 1 1.8 1-1.4 1-.8 1-4.3 1 .7 1-2.1 1-1.3 1 1.2 1 1.3 1-2.2 1-4.5 1-.2 1 3.5 1 4.2 1 .8 1-3.6 1 6.3 1 3 1 2 1-.5 1-4.1 1-3.3 1-3.5 1 4.3 1 1.7 1 1.6 1-1 1-3.7 1-1.2 1 2.5 1-1.6 1 2.4 1 .1 1-1.6 1-2.2 1 2.7 1 .2 1 5.3 1 .4 1-4.4 1-1 1 3.3 1-3.7 1-2.5 1 2.9 1-1.1 1 1.4 1-.1 1 2.5 1-1.7 1 8.7 1-.4 1 6.3 1-4.7 1 7 1 5.6 1-1.1 1 1.3 1-1.4 1-3.1 1-3.7 1-10 1-5.2 1-4 1-6.7 1-.3 1-10.5 1 9.7 1 3.9 1 1 1-10.4 1-1 1 6.1 1 4.2 1 7.8 1 4.2 1-.6 1 2 1-4.8 1 7.1 1 8.1 1 8.2 1 17.2 1 5.7 1 5.1 1 1.5 1-5.7 1-.5 1-1 1 3.8 1-7.1 1 2 1 6.9 1 7.9 1-2.5 1-2.5 1 4.5 1 1.8 1 3.1 1 5.6 1-11.5 1 3.6 1 6.6 1 2.8 1 12.3 1 9.7 1 2.7 1 1.6 1 4.9 1 .4M597 813.7l1-6.3 1-.4 1-17 1-23.7 1-6.2 1 2.3 1-12.8 1-20.8 1-9.8 1-1.1 1 .8 1-3 1 3.9 1 10.6 1-23.6 1-6.6 1 10.7 1-6.6 1 1.4 1-8.5 1-10.6 1-13.8 1-7.2 1-1.2 1 4.4 1 10.8 1-9.2 1-3.7 1 5.7 1 4.2 1 6.4 1-8.4 1-1 1-3.8 1-9.3 1 6.8 1-5.7 1-7.6 1-3.6 1 1.8 1-1.8M669 650.2l1 .3 1 8.1 1-1.1 1-3.1 1 .5 1-4.6 1 3.5 1 3.1 1-4.4 1 4.7 1-5.2 1 .1 1 4.8 1-1.6 1-3.4 1 1.8 1-3.5 1 4.1 1 .4 1 7.1 1-.3 1 3.4 1 1.1 1 .8 1-2.4 1-2.7 1-1.6 1-9.9 1 .1 1 2 1 1.9 1 .6 1-2.5 1-1.7 1-.4M706 650.2l1 1.1 1-1.1 1 1.3 1 .1 1-1.4 1 13.3 1-2.5 1 3.6 1-4.8 1 2.3 1 6.7 1 1.6 1 2.1 1-4.2 1 5.3 1 3.9 1-1.2 1-9.7 1 8.8 1-3.1 1 7.2 1 1.9 1-2.5 1-1.6 1 1.1 1 5.1 1 3.1 1-6.3 1 5.3 1-6.2 1 6.5 1 2.8 1-2.5 1-.5 1-2.7 1-.2 1 9.2 1-6.7 1 1.6 1 1.6 1 2.5 1 .3 1 1.3 1 .7 1-3 1 5.1 1-4.4 1 3.1 1 0 1 3.6 1 1.3 1-1.4 1 .2 1 1.7 1-2 1 3.4 1 0 1-1.4 1 2.8 1-5.3 1 6.3 1-3.3 1 .1 1 3.2 1-2.3 1 3.5 1-.6 1-1.8 1-2.5 1 1.5 1-.1 1 3.5 1 2.4 1-2 1 3.8 1 .8 1 2.5 1 .8 1 .7 1-2.1 1 4.5 1-1.6 1 .2 1 .5 1 2.6 1-1.3 1 2.2 1-6.8 1 1.9 1 2.6 1-.1 1 3.5 1-1.4 1-4.1 1 7.9"/>
<path d="M178 727.9l1-1.2 1-.9 1 .3 1 .8 1-1 1-.2 1 .8 1-.1 1 0 1 .1 1-.7 1 1.3 1 1.2 1 .2 1 .4 1-.3 1-.1 1 .3 1-1.2 1-1.7 1 .6 1-1.2 1-.1 1-.1 1 .8 1 0 1 .6 1-.9 1-1.3 1 .1 1 .3 1 .8 1-.2 1 1.6 1-.3 1 .1 1-.3 1 2.4 1 .4 1 .5 1-1.3 1-.9 1-.1 1 3 1-.2 1 .4 1-.3 1 .8 1 .3 1 1.6 1 .2 1 .9 1-.4 1-1.7 1 1.5 1-.7 1-.1 1 .3 1-.8 1-.2 1-1.5 1-.2 1 .9 1-.8 1 .9 1 2.4 1 .8 1-1.6 1-.3 1 1.9 1-1.1 1-.2 1-.4 1 1.1 1 .9 1-.1 1-.9 1 0 1 3.3 1-.9 1-.1 1-1.6 1 2.3 1 1.8 1-.6 1-1 1 1.7 1-1.4 1-1 1-.4 1 1 1 .6 1 1.3 1 .5 1-2.4 1-1.6 1-.9 1-1.6 1-3 1 1.1 1-.8 1 0 1 2.6 1 .4 1-.2 1 1.8 1 .3 1-.3 1-.3 1-1.8 1-1 1 .7 1-.4 1 2 1-1.1 1-1.5 1-4.2 1-1 1-1.8 1-.3 1-.1 1 3.5 1-6.4 1-2.6 1-1.4 1-1.7 1-.2 1-3.1 1-.1 1 1 1-.5 1 2.3 1 2 1 2.7 1-.7 1 1.7 1 1.2 1 1.3 1-3.4 1 3.2 1 .4 1 .3 1-2.4 1-.6 1-.8 1 .8 1-2.1 1 1.8 1 .9 1-2.2 1-.1 1-.4 1 2 1-.5 1-.4 1-.3 1-4.2 1-.1 1-1 1-2.7 1-1 1 .3 1-3.2 1-3.6 1-1.6 1-4.3 1 .9 1 .8 1 .1 1 .6 1 2.2 1-2.5 1-2.1 1 2.1 1-2.8 1-3.4 1-.4 1 .8 1 .5 1-.6 1 1.3 1-.2 1 2.3 1-.8 1 1.3 1 1.5 1 3.5 1 .1 1-3.5 1-1.5 1 4.6 1-1.4 1 1.8 1-1.8 1-.4 1 2.9 1-1.2 1-2.5 1 5.1 1-2.4 1 .6 1-.4 1 3.6 1 .9 1 .3 1-1.1 1 2.4 1-.5 1-3 1-2.7 1-.3 1-.3 1 .7 1-1.2 1 1.5 1-2.3 1 1.5 1 3.2 1-5.9 1 1.7 1-2.5 1-.3 1 .3 1-2.4 1-2.7 1-1.1 1 .5 1-1.2 1 1.3 1 3.9 1-3.5 1 4.5 1-.7 1 1.2 1-1.8 1 1.3 1 3.3 1-.3 1-2.8 1 .1 1 .6 1 1.9 1-4.1 1-1.7 1 1 1 0 1 1.1 1 2.8 1 1.2 1-.5 1-2.9 1 2.2 1-.6 1-4.1 1 2.3 1 4.2 1 2.6 1 3.9 1 1.8 1-.4 1-1.6 1 1.6 1 4.9 1-3 1-1.2 1 1.8 1 2.5 1-.6 1-4.3 1 1.8 1 .2 1 2.6 1 3.7 1 2.1 1-.6 1-.5 1-1.9 1 .8 1 5.5 1 1.7 1-5.5 1-3.2 1-1.4 1 1.3 1 5 1 11.5 1-.2 1 .4 1-.7 1-2.7 1-.4 1 1.4 1 7.8 1-.3 1 7.5 1 2.5 1 1.8 1-5.3 1 1.2 1 2.3 1 13.6 1-4.2 1-.5 1 2 1-14.3 1-4.7 1 8.2 1-2.3 1 1.2 1-2.1 1-2.1 1-5.4 1-15.1 1 9.1 1 .1 1 .3 1 7.1 1-2.8 1-8.6 1-9.3 1 9.4 1-.9 1-8.6 1 1.4 1 3.2 1 2.9 1 8.8 1 .1 1 4.2 1-5.4 1 6.9 1 5.7 1-3.6 1-2.9 1 0 1 .3 1 .6 1 4.3 1-6.5 1 .6 1-10.1 1 0 1 6.6 1-6.1 1 4.5 1 3.6 1 5.4 1 9.8 1 3.3 1 5.5 1 7.7 1-3.6 1 5.3 1 11.1 1 11.2 1 15.6 1 5M593 813.7l1-12.1 1-15.4 1 3.3 1-9.4 1-12.2 1-7.2 1-2.5 1-8.9 1 1.4 1-5.1 1-13.5 1-14.1 1-10.2 1-2.3 1-2.3 1 7.8 1-10.5 1 8.7 1 4.2 1-4.8 1-20.6 1-15 1-12.5 1-7.8 1-2.5M677 650.2l1 .8 1 6.3 1 6.3 1 .1 1-6 1 2.3 1-.9 1 1.9 1 .9 1-1.6 1-1.8 1 7.9 1-1.8 1-3.9 1 3.6 1 11.5 1 .1 1-1.1 1-2.2 1-10.1 1 8.2 1 3 1-.4 1 1.5 1-2.3 1 0 1 .1 1 .2 1 4.1 1-4.3 1-3.1 1 2.8 1-5.3 1-2.2 1 6.8 1 .2 1 2.2 1-.4 1 7.9 1 4.5 1-2.8 1 6.6 1 2.6 1 3.1 1 6 1-3.7 1 2.6 1 .3 1-3.2 1 2.9 1-.1 1 3.3 1-.3 1 3 1 1.9 1-4.8 1 3.4 1 2 1-4.5 1-1.2 1-.2 1 3.4 1-.3 1-2.1 1 1.2 1 0 1 2 1 2.5 1 1.4 1-5.3 1 3.1 1 0 1-1.4 1 .3 1 2.1 1-1.4 1 2.1 1 3.1 1-1.6 1-1.7 1-.1 1 .5 1-.3 1 1 1 0 1 4.6 1 3.2 1-6.9 1 3.1 1-2.5 1 .4 1 1.1 1-1.8 1 2 1-2.3 1 3.7 1-2.2 1-4.1 1-.1 1-.7 1 3.9 1 1.8 1-2.8 1 3 1 1.8 1-1.2 1 5.5 1 2 1-3.6 1-1.7 1 0 1 .6 1 1.9 1 .1 1 1.4 1 .3 1 5.5 1-2.3 1 .4 1-2.5 1-.2 1 1.9 1-2.5 1 2"/>
<path d="M178 728.1l1-1.4 1-1.3 1-.4 1 .4 1 .7 1 .3 1 .5 1-.7 1-.1 1 .7 1 1 1 .5 1 .9 1 2 1 .6 1-.3 1-.1 1-1.6 1-.3 1-1.2 1-.2 1-.1 1 1.7 1-.1 1 0 1-.7 1 1.7 1 1.4 1-.1 1-1.2 1 .9 1 .5 1-.8 1 0 1-.4 1 .9 1 1.3 1-1 1-1.2 1 2.4 1 .3 1 .6 1 .5 1 3.8 1-1.4 1 1 1 1.1 1-.4 1 2 1-.3 1-1.1 1 .8 1 1 1-.9 1 .6 1 0 1-.6 1 1.5 1 .4 1-.8 1 .2 1-1.2 1-4.3 1 1.1 1 1.8 1 2.3 1 1.1 1-2.5 1-1.2 1 .1 1 .3 1 2.6 1-1.3 1 2.9 1-.5 1 1 1 .6 1-.7 1 .9 1 1 1 .4 1 .1 1-.8 1-2 1 .6 1-.6 1-2 1 3 1 .9 1 .2 1-1.3 1-.7 1-.1 1 .7 1-.1 1-2.1 1 0 1 .9 1-2.2 1 .9 1-2.4 1 1.6 1 3.5 1-2 1 2.2 1-1.3 1-.4 1 .6 1-.4 1 .6 1 .3 1-.9 1-1 1 .5 1-1.4 1 1.3 1-2.2 1 1.9 1-2 1 1 1 0 1 .1 1-.3 1-1 1 1.5 1-4.4 1 1.6 1-2.3 1 1.4 1-.8 1 2.2 1 2.9 1-2.6 1 1.8 1-.7 1 1.4 1 .8 1-.3 1-1.8 1 2.5 1-.1 1-1.2 1 0 1 2.5 1-2 1 .3 1 0 1-.7 1 2.3 1-1.1 1-.2 1-1.1 1-.4 1 1.4 1-.8 1 .7 1-2.1 1-.5 1-2.4 1 .1 1 0 1 4.1 1-3.3 1 1.1 1 1.1 1-.4 1 2.4 1-1 1 .7 1-1.4 1 .4 1 1.3 1 1.3 1-1.8 1-.7 1 5 1-.1 1-2.2 1 .3 1 1.2 1-1.1 1 1.8 1 .7 1-.8 1-2.9 1 3 1-3.2 1-1.8 1-2.9 1 .3 1-1.5 1 .5 1-.3 1 .6 1 2.7 1 1.2 1-3.2 1-1.5 1-1.4 1-.8 1 0 1 3 1 1.4 1-2.3 1-.2 1-3.7 1-1.6 1 2.1 1 1.4 1-3.2 1 .2 1 0 1-.5 1-.7 1 2.9 1 .2 1-.1 1-2.7 1-.9 1 1.2 1-1.1 1 2.8 1 .2 1 .1 1 2.2 1-1.2 1 .4 1-.1 1-3.2 1-.5 1 .4 1 .8 1 .5 1 2.5 1-2 1-.6 1-.2 1 1.1 1-.1 1 1.1 1 4.9 1 1.1 1 2.1 1-.7 1 .9 1 .3 1-3 1-3.1 1-.4 1-3 1-2.1 1 1.8 1-.5 1 .8 1-1.6 1 2.4 1-1 1-1.9 1 .2 1 3.1 1 .9 1 2.8 1-1.6 1-.9 1-.8 1 2.2 1 1 1-1.7 1 .8 1 1.3 1-.6 1-.7 1 1.5 1-.4 1 3 1-3.6 1 1.8 1 1 1 .9 1 2 1 .9 1 .7 1 1 1 2.8 1 2.6 1 4.3 1 1.3 1 2.1 1 2.7 1 5.4 1 3.1 1 .9 1 8.5 1 2.6 1-2.1 1 9.5 1 6.3 1 6.8 1-1.3 1-5.3 1 1.2 1-7.5 1-9.1 1-5.7 1-2 1-.5 1 2.9 1-.8 1-2.5 1-3 1-2 1 .1 1-7.2 1 5.4 1-4 1-.1 1 8.7 1-4.7 1-7.7 1 7.7 1 8.3 1-2.5 1-9.5 1-2 1 8.1 1 11.3 1 14.4 1 9.1 1 3.2 1-6.1 1 .9 1 4.5 1 6.1 1 2.1M515 813.7l1-1.4 1 1.4M519 813.7l1-7.7 1-10.3 1-5.9 1 6 1 11.6 1-11.9 1 6.8 1 9.6 1 1.3 1-3.7 1 4.2M601 813.7l1-8.7 1-16.5 1-10.6 1-9.1 1-4.8 1 12 1-1.4 1-11.7 1-13.2 1-.4 1 3.6 1-5.4 1-2.7 1 12.4 1-11.5 1-16.7 1-9.1 1-10.1 1 10.9 1 8.1 1 2.2 1-4.1 1 7.8 1 4.1 1 1.7 1 1.5 1-.2 1-6.7 1-.6 1 .2 1-3.8 1-2.2 1-2 1-7.6 1-4.6 1-6.7 1-5.6 1-4.6 1-12.8 1-.8 1-.7 1 2.8 1-8.1 1-1.5 1-7 1 5.8 1-3.3 1-.9 1 .6 1-2.5 1 1.3 1-1.6 1-3.7 1 2.1 1-.1 1-4.1 1 1.8 1 2.2 1 3.3 1-.9 1-.7 1 .9 1 .9 1-6.2 1-5.2 1-7.1 1 2.2 1 5.6 1 7.3 1 4.7 1-2 1-6.6 1-1.6 1 2.4 1-1.6 1 .1 1-.2 1 5 1 1.5 1 5.2 1 3.5 1-.9 1 3.4 1 .5 1 1.6 1-3.5 1-1.9 1 2.3 1 5.1 1-.6 1 1.5 1-9.5 1 6.7 1 .3 1-1.8 1 5.9 1 0 1 1.2 1 .7 1-4.8 1 .8 1 2.5 1 .3 1-4 1 3.1 1-.4 1 .6 1-3.3 1 4.7 1 .1 1 5.2 1 4.1 1-6.6 1-1 1 2.8 1-.1 1 1.2 1 6.1 1-3.2 1 1.5 1-1.7 1 .6 1 2.4 1 4.9 1 1.3 1 3.6 1 3.4 1-4.1 1-1.6 1 2.3 1-4.6 1-6.1 1 3.7 1-2.8 1-1.9 1 5.6 1 2.8 1 3.3 1 4 1 1.2 1 1.7 1 1.5 1 3.3 1-3.7 1 4.3 1-2.4 1 2.1 1 .8 1 1.5 1 2.6 1-3.4 1-.4 1-.9 1 3.7 1-6.9 1 5 1 1.9 1-.2 1-.5 1 .8 1-1.8 1 2.6 1 .3 1-1.1 1 .5 1 1.1 1 1.5 1 1.7 1-2.3 1 3 1-1.5 1-.9 1-1.5 1 3.1 1-3.8 1 3.9 1-5.9 1 2.3 1 .5 1-.4 1-.9 1 2.5 1-1.2 1-.6 1 .7 1-1.3 1 2.8 1 1.2 1 .9 1 2.1 1-3 1-1.1 1 1.3 1 2 1 1.3 1 1.6 1-1.5 1-3.5 1-1.6 1-1.9"/>
<path d="M178 730l1 .5 1-.2 1 .8 1 .4 1 .7 1 .6 1 0 1-.7 1 0 1 .2 1 .2 1-.6 1 1 1 1.1 1 1.6 1-.7 1-.1 1 1 1 .7 1-.1 1-.4 1-.1 1 .7 1 .2 1-.7 1-1.2 1-.4 1 .6 1 .3 1-.4 1 .7 1 1 1-.9 1 .7 1 1.3 1 1.6 1 1.4 1-.9 1 .1 1 .6 1 .5 1-.8 1 .5 1 1.8 1-.6 1 .9 1 1.4 1-1.6 1 2.9 1 .5 1-1.2 1 2.2 1 .2 1 .3 1 .2 1-.1 1 0 1-.9 1-.7 1-.4 1-.2 1 .7 1-.8 1-.7 1 .6 1 1.2 1-.1 1-.7 1-1.2 1 1 1 .8 1 0 1 .3 1 .4 1 1.2 1-.1 1 .1 1 .7 1 0 1-2 1-.1 1-.1 1-1.3 1-.1 1 .6 1 .1 1 1.4 1 .4 1 1.6 1 .3 1-.2 1 1.5 1-.8 1-1.8 1-.1 1-2.5 1 2.1 1-1.9 1 .5 1-2 1 .1 1-.3 1 1.4 1-.8 1-.4 1 .2 1 1.3 1-1.8 1 1 1 1.5 1-1.3 1-3.2 1 .9 1 0 1-1.5 1 .6 1-.4 1 .9 1-.2 1 2.1 1-.1 1-3 1-1.4 1-2.9 1 .3 1-1.7 1 1.5 1-1.6 1 0 1 .9 1 1.9 1 .5 1-2.7 1 2.6 1 1.1 1 .8 1 0 1 1.8 1-1.7 1-.2 1 .4 1-2 1 1 1 .1 1-2.6 1 .7 1 1.2 1 3 1 .3 1-.7 1-1.5 1 1.7 1 .6 1-.7 1 1.4 1 .4 1-.2 1 1.3 1-3 1-1.2 1 2.4 1 1 1-1.2 1-1.2 1 3.6 1 .9 1 .5 1-.5 1-2.5 1 .4 1-1 1 2.2 1 3.2 1-2 1-2.5 1-.9 1-2.2 1 1.2 1 1.1 1 1.4 1-.9 1 .2 1 .6 1-1.8 1-2.2 1-.8 1-3.6 1 1.1 1 .7 1 .7 1 2 1-3 1-1.8 1 0 1-.9 1 3 1-1.1 1-2 1-3.1 1 1.6 1 .6 1 2.3 1-1.1 1 0 1-1.3 1 3.8 1-3.7 1-3.2 1-1.2 1 1 1 2.3 1-1.2 1-1.6 1-.2 1-1.2 1 2.5 1-1 1 1.4 1 1.3 1-2.2 1 .6 1-3 1 1.9 1 1.7 1 2.2 1-2 1 1.3 1-1 1 1.6 1 0 1-1.9 1-.2 1-.3 1-1.2 1-1.9 1 1.7 1-.8 1 .9 1 3.3 1 1.4 1 1.2 1-2.6 1 1.5 1-3.3 1 .1 1 .1 1-1.9 1 1.3 1-.5 1-3.7 1 .1 1 1.2 1 2.4 1 .5 1-1.3 1 2.3 1-1.2 1 1.6 1 3.2 1-2.6 1-1.1 1 2.6 1-.3 1 .6 1 2.9 1-1.3 1-.3 1-3.6 1-.1 1 1.7 1 2 1-.5 1 4.2 1 .2 1-1.4 1 2 1-1.1 1 4.4 1-1.7 1 6.1 1-5.6 1 .1 1-1.6 1 4.2 1-.8 1 3.5 1-.8 1 1.6 1 8.2 1 2.9 1 7.2 1 5.8 1-3.5 1 8.4 1 10.2 1 3.9 1 3.3 1 7.6 1-8.2 1-10.6 1-13.8 1-5.4 1-.5 1-4.8 1 2.4 1 .7 1-5.2 1-4.1 1-2.5 1-1.4 1-7.7 1-.7 1 3.3 1 .2 1-5.5 1-6 1 2 1 .2 1 6.1 1-4.7 1 3.1 1-8.7 1 5.6 1 13.7 1 10.9 1 3.6 1-.8 1 7.5 1 3.1 1-10.1 1 9.1 1 1.9 1 4.8 1 1.3 1-.9 1-8 1-2.7 1 3.8 1-2.7 1-2.7 1-3 1 6.4 1 3.8 1 16.6 1-2.7 1 9.8 1-4.1 1 13.9 1 2.1 1 1.9M604 813.7l1-5.7 1 3.4 1-2.5 1-5.9 1-.2 1 .8 1-1.7 1-5 1-9.9 1-7.1 1-6.5 1-8.1 1-12.1 1-5.4 1-8.6 1-2.1 1 .4 1-8 1-4 1 8.7 1 2.6 1-12 1-5.3 1-5.7 1-11.8 1-6.2 1-8.2 1-13.2 1 6.2 1-1.9 1-14.9 1 1.2 1-.2 1-4 1-3.7 1-5.4 1-1.5 1 3.7 1-3.7M670 650.2l1 4.4 1-4.4 1 7.2 1 3.8 1 6.9 1-4.8 1 2.3 1-1.4 1-3.3 1-.3 1-5 1-2.3 1-3.1M685 650.2l1 13.3 1 4.6 1-4.8 1-3.3 1 2.7 1 0 1 8.7 1 1.1 1 3.1 1 4.9 1 8 1 5.1 1-3.1 1-1.6 1-.2 1 .8 1-.3 1-.5 1-6 1-5 1-2.2 1 1.1 1-.5 1-2.4 1-2.9 1 1 1 8.6 1 1.5 1-2.5 1 3.7 1 4.7 1 5.1 1 1.6 1 1.5 1 2.9 1 0 1 1.3 1 3.4 1-6.4 1 5 1 6.1 1-2.3 1 2.2 1 3.5 1 2.3 1 .1 1 5.4 1 1.2 1 1.8 1-6.7 1 3.1 1-1.7 1-2.3 1-.5 1 3.1 1 1.8 1 3.9 1-6 1 5.6 1-.5 1 1.2 1 2.5 1-1.7 1 2.4 1 3.5 1-1.1 1 1.5 1 1.7 1 3.3 1 .7 1 .7 1-4.7 1 2.9 1-1.5 1-.2 1 3.4 1-.7 1-3.7 1-1 1 1.1 1-2 1 1.1 1 .3 1-3.9 1 3.3 1 2.4 1-.4 1-3.1 1 1.8 1 .1 1 1.5 1 5.6 1-4.6 1-1 1 1.9 1-1.2 1-3.1 1 5.8 1-1.9 1-3.8 1 .5 1 1.6 1-2.2 1 1.6 1-1.3 1-4.6 1 2.5 1-4.7 1 2.4 1 1.7 1-.1 1 0 1-.6 1 2.5 1-.2 1-4.6"/>
<path d="M178 731.4l1 .5 1 1 1 .5 1-.4 1 .3 1 0 1 .1 1-.3 1 .2 1 .8 1 .9 1 0 1 .2 1 .6 1-.5 1-.1 1 .6 1 .3 1-.2 1 .1 1-.4 1 .2 1 .5 1 .4 1-.3 1 .7 1-.3 1-.2 1 1.5 1-.8 1 .6 1-.2 1 .3 1 2.1 1-.2 1 0 1 1 1 .5 1 .2 1 1.2 1 1.3 1 .1 1 .6 1 1.5 1-.7 1 1.1 1-.6 1-.1 1 2.3 1 1.2 1-.4 1-.4 1 .9 1 1 1 0 1 1.7 1-.2 1 2.8 1-.5 1-.5 1 0 1-.7 1-1.9 1 .5 1-.5 1 3.4 1-.5 1-1.2 1-1.5 1 .3 1-1.1 1 .6 1 0 1 1 1 1.9 1 .3 1 0 1 .7 1 .5 1-.4 1-.6 1 2.9 1-1.2 1 .6 1 .4 1-1.1 1-1.1 1 2.1 1 .8 1-1.8 1 1 1-.3 1-.7 1 .2 1 3.1 1-1.9 1-1 1-2.2 1-2.3 1 1.5 1-.3 1-.8 1-.3 1-2.8 1 .4 1 .5 1-.8 1 .9 1-1.8 1 2.4 1-2 1-1.3 1-1 1 1.2 1-1.6 1-1.3 1-1.1 1 1.2 1 2.7 1 1 1-2.6 1-2.7 1-1 1-1.8 1 1.9 1 1 1 1.6 1 .5 1 .5 1-1 1 1.8 1 2.3 1-1.1 1 .5 1 1.7 1 .2 1-.2 1-3.1 1 .7 1 2.1 1-.8 1 1.7 1-1 1-1.8 1-1.3 1 .2 1 .4 1 .8 1-.7 1 .7 1-.3 1-.7 1 2.2 1 .2 1-2.1 1 .4 1-1.2 1 0 1-1.4 1 0 1 .8 1 1.4 1-.5 1-.1 1-.2 1 1.3 1 2.1 1 .1 1 1 1 0 1-1.4 1 4.2 1 .6 1-.5 1-.4 1-.1 1-.5 1-.1 1 1.7 1 2.3 1 .3 1-.9 1-.4 1 1.1 1 .2 1 .2 1 2.6 1-2.3 1 2.9 1-3.9 1 .3 1-.2 1-.5 1-.3 1 1.8 1 .8 1 .1 1 .5 1 .6 1-.7 1-1.7 1-2 1 .7 1-.3 1 .1 1-.6 1-1.2 1-.1 1-1.3 1 .7 1 1 1-.5 1-.8 1-.1 1-3.5 1 .4 1-2.5 1-1.7 1-.6 1 1.1 1-.3 1-1.3 1 1.9 1 1.3 1-1.3 1 1.3 1-.5 1-1 1 .1 1-1.4 1 1.2 1 1.8 1-.5 1-1.3 1-.2 1 1.4 1 .8 1 2.5 1-.4 1 1.8 1 .7 1-.7 1-2.6 1 .6 1 1.2 1 2.1 1-3.5 1 1.4 1-.5 1-2.9 1 1.6 1 2.2 1-.7 1-3.9 1 3.4 1 2 1 1.9 1-2.5 1 3.8 1 1.1 1 1.3 1-.6 1-2.9 1-.1 1-1 1 1.1 1-.5 1 .2 1 1.5 1 4 1-1.1 1-.9 1-1.1 1 .4 1 .7 1 2.2 1-.7 1 3.2 1 1.9 1 .8 1 .7 1 4 1 1.7 1 2.3 1-.8 1 2.8 1 2.1 1 2.2 1 9.1 1 4.4 1 3.9 1 7.6 1 3.3 1 4.9 1-2.3 1 2.3M489 813.7l1-6.9 1-.1 1 1.3 1-.2 1 5.8 1 .1M615 813.7l1-7.9 1-3.2 1-3.2 1-4.8 1-14.6 1 6.2 1-3.5 1 9.6 1-2.5 1-4.9 1-1.2 1-1.7 1-5.2 1-.1 1-6.2 1 5.2 1-1.9 1 .1 1-5.9 1 .2 1-12.1 1-5.6 1-8.3 1-2.5 1-7.8 1 3 1-2.7 1-3.7 1-6.9 1-4.3 1-3.6 1-6.1 1-2 1-5.2 1-8.4 1-3.5 1-2.9 1-2.9 1-4.1 1 2.8 1-6.8 1-3.4 1-4.4 1-5.3 1-3.3 1 6.2 1 3.8 1 5.7 1 1.5 1-1.9 1-.8 1-7.5 1 8.7 1 5.6 1 4.4 1 4.9 1-3.4 1 4.7 1-1.2 1-3.8 1-.3 1-6.2 1 6 1 2.6 1 6.1 1 .2 1-7.3 1 3.2 1 2.9 1 6.6 1-3.6 1 8.1 1-5.1 1-5.5 1-1.5 1 3.6 1 1.5 1 2.5 1 5 1 4.1 1-2.5 1 .5 1 3.1 1-10.2 1 0 1 1.1 1 1.5 1 9.1 1 .4 1 1.5 1-1 1 1.7 1 2.6 1-1.1 1-5.4 1-3.1 1 3.3 1 5 1-1.1 1 4.6 1 4.3 1-1.6 1 .8 1-4.4 1 4.9 1 6.7 1-3.7 1-.3 1-2.7 1-.9 1 1.9 1 4.9 1-2.4 1 1.7 1 1.5 1 2.3 1 2.2 1 3.8 1 1.3 1-.4 1 2.4 1 .5 1-2.2 1-1.7 1-1.1 1 1.1 1 .8 1 1.1 1 .4 1 3 1-2.7 1 .8 1 1.6 1-5.2 1 .7 1-3.4 1 6.2 1-2.5 1 1.1 1 .7 1 .6 1 1 1 0 1 .3 1 3.3 1-5.7 1 2.1 1-2.3 1-1 1 5.3 1-5.8 1 .8 1 0 1 2 1 .5 1-3.9 1 2.1 1 .8 1-.1 1-3.1 1-2.2 1-.8 1-4.6 1 1.2 1 7.5 1-5.4 1 6.4 1 .3 1-3.1 1 1.3 1 4 1-6.3 1 2.3 1-2.3 1 4.3 1-1.1 1-2.9 1-1.3 1-.1 1 .4 1 3.1 1-.9 1-.7 1-.9 1 2 1 .2"/>
<path d="M178 727.8l1-1.2 1-1.8 1-.2 1 .2 1-.1 1 .8 1-.1 1 .4 1 0 1 .4 1-.7 1 1.7 1 .3 1-.1 1-.3 1-.3 1-.7 1 1 1-1.1 1 .8 1 .5 1 .3 1 .2 1 1.5 1 .2 1-.6 1 1.5 1-.4 1 .4 1 .9 1 0 1-1.2 1 .4 1 .5 1 .2 1-.3 1 .8 1-.8 1-.9 1 .8 1-.4 1 .3 1 .1 1 1 1 .5 1 1.1 1 .7 1-1.6 1 4.1 1 0 1-1.1 1 1 1 2.4 1 0 1 0 1 .7 1-.9 1-.2 1-1.8 1-.2 1-.1 1 .5 1-1.1 1 .2 1 .6 1-.1 1-.2 1-2.2 1-.3 1 2.3 1-3.7 1 1 1 0 1 2 1 1.1 1 1.1 1-.6 1 1 1 1.1 1-1.5 1 2.6 1 0 1 0 1-1.6 1 .1 1-.1 1 0 1 .2 1-1.3 1-.1 1-1.8 1-1.3 1 1.6 1-2.9 1-1.2 1-2.2 1-2 1-.2 1-1.1 1-.3 1-1.9 1 1.8 1 2.5 1-1.7 1 2.5 1-1.4 1 .6 1 .3 1-1.7 1 1.1 1-.5 1-2.9 1-.6 1-.4 1-1.6 1-.1 1-2.7 1-.8 1 1.1 1-.3 1-.4 1-.9 1-1.1 1 1.9 1-.1 1 .8 1 .4 1-.7 1-.7 1-1.3 1 1 1 1 1-1.3 1-1.2 1 3 1 1.2 1 .1 1-3 1 1.5 1 1.2 1-3.9 1 0 1-1.6 1 1.4 1-2.9 1 1.2 1-1.9 1 1.5 1-.3 1-1.3 1-.5 1-.9 1 1.4 1 .9 1 1.8 1-1 1 0 1 2.7 1-1.5 1-2 1 1.8 1-.7 1 3 1-1.9 1 0 1 .9 1 1.6 1-2.8 1-.8 1-3.7 1 .7 1 2.7 1-.1 1-2.7 1 .8 1 4.8 1-.7 1 2.2 1 2.6 1-.5 1 .6 1 .3 1-1.7 1 2.6 1 2.4 1-.3 1 2.2 1 3.6 1 1.6 1 2.7 1-2.2 1-2.9 1-1.9 1-.9 1-2.2 1 2.6 1-2.4 1-1.7 1-2.9 1-1 1-4.9 1 .2 1-4.8 1 .3 1 0 1-2.8 1-2.1 1-1.8 1-.2 1 3.9 1-.5 1-.2 1-.5 1 1.1 1-2 1-.9 1 2.5 1 .6 1-3.4 1 .2 1-2.3 1-.7 1 6.5 1-.2 1-1.2 1-.2 1 .9 1-.4 1-.6 1 .4 1 .3 1-1.1 1 3.9 1 3.1 1 2.3 1-3.2 1-4.2 1 .2 1 3.6 1 1.3 1 5.9 1-2.5 1-1.7 1 1.8 1 1.5 1-1.5 1-5.3 1-2.6 1 4.4 1-1.3 1 3.5 1 1.4 1 3.7 1-3 1 .8 1 4 1 4.9 1 1.6 1 5.2 1-5.5 1 .7 1-.6 1-5.8 1-1 1 2.1 1-5.2 1 .4 1-.8 1-1.1 1-4.2 1 3.5 1 .9 1-3.9 1-1 1-.9 1-3.1 1 3.8 1 0 1 2.4 1-4.4 1-.1 1 .5 1-5.2 1 .2 1 4.2 1 0 1 4.9 1-.8 1 6.2 1 3 1 4.9 1 .4 1 .8 1-1.6 1 1.5 1 3.1 1-4.2 1 1.1 1-9.4 1-.2 1 9.9 1 3 1-1.7 1-8.4 1 5.3 1-10.2 1-6.4 1-1.1 1-8.4 1-7.4 1 5.2 1 13 1 8.6 1-5.2 1 1 1-7.4 1 7.3 1 3.6 1-9.5 1 1.9 1-.6 1 7 1 8.2 1-2.8 1 .8 1 10.4 1 7.2 1 9.5 1 4.8 1 10.3 1-7.3 1 5.1 1 9.6 1-1.3 1 10.5 1-3.6 1 8.4 1-1.3 1 3.4 1 .6 1 8.1 1 2.8 1 .3 1-1.6 1-.6 1-4.4 1 9.8 1 .8 1-1.3 1 5.2 1 3.6M594 813.7l1-.8 1-4.7 1-1.4 1-7.3 1-16.9 1-19.6 1-15.6 1 9 1-6.9 1-5 1 .3 1-3.5 1-19.4 1 6.3 1-4.7 1-1.4 1-1.9 1-4.3 1 7.2 1-10 1-6 1-26 1 .1 1 2.5 1 2.7 1-3.6 1-4.6 1 12.6 1 .7 1-3.7 1-6.8 1-6.6 1-1.2 1-2.9 1 1.6 1-2.9 1-10.9 1-7.9 1 .7 1-.7 1 .3 1 1.9 1-2.2 1 9.3 1-9.3M710 650.2l1 2 1 2.6 1 3.6 1 4.3 1-.8 1 3.2 1 1.5 1 2.8 1 3.2 1-.3 1 3.9 1 0 1 8.9 1 3.3 1-5.3 1 2.6 1 4.5 1-6.4 1 4.2 1 7.4 1-4.1 1-3.9 1 2.3 1 2.6 1-1.2 1 .2 1 .6 1-.5 1 2.3 1-2.5 1 .1 1 4.6 1-4 1-.6 1-.6 1-1.1 1-1.5 1 6.2 1-3.4 1 3.8 1-1.5 1 1.1 1-2.5 1 .5 1-.2 1 2.8 1 .8 1-2.5 1-.2 1 1 1 4.1 1 2.2 1-1.9 1-2.7 1 7.9 1 3.7 1-1.8 1 1.1 1 .9 1 7.5 1-5.3 1 .1 1-5.8 1 .2 1 4.5 1 1.5 1-.3 1-.7 1-.4 1-.3 1 8.6 1-3.7 1-1.1 1 2.9 1 .5 1 .3 1-1.5 1-2.6 1 4.7 1 6 1 3 1-3.3 1 .2 1-.5 1-3.7 1 .9 1 .9 1 1.1 1 2.6 1-3.4 1 1"/>
<path d="M178 727.8l1-.9 1-1.9 1 .3 1-.1 1 .3 1-.1 1-1.2 1 1.3 1 .5 1 0 1 .3 1 1.3 1 .6 1 .9 1 .7 1 .4 1 0 1 .6 1-.4 1-2.3 1 .7 1 .1 1-.3 1 .3 1-.3 1 0 1 .2 1 .5 1 1 1 .6 1-.8 1-1.1 1 0 1 2.1 1-.6 1-1 1 .8 1 .6 1-.6 1-1.2 1 .5 1-.7 1 1.3 1-.1 1-.2 1 1.2 1-.4 1 .9 1 1.6 1-.2 1 .3 1 1.4 1-.2 1 1.1 1 1.6 1-1.6 1-.8 1 .7 1-2 1 .2 1-1.7 1-1.3 1-2.6 1 .4 1-1.6 1 1.3 1 1.4 1 0 1 .5 1 .5 1-.9 1-.3 1-.7 1-.1 1 1.5 1-2 1 .5 1-1.1 1 .7 1-.7 1 .3 1-1.5 1-.2 1 .3 1 2 1-1 1-1.3 1 1.8 1-.6 1 .3 1 1.2 1 1.8 1-2.5 1-1.4 1-1.2 1-1.4 1 .4 1-1.1 1-3.4 1 2.9 1 .7 1 2.4 1 0 1-.5 1 .2 1 1.6 1-.8 1-.5 1 1.8 1-1.5 1 1.7 1-.3 1 2.2 1-1.8 1-1.1 1 .2 1-2.2 1-.7 1-2.2 1-.3 1-1.1 1 .6 1-3.8 1 2 1-1.3 1 1.6 1 1 1-5.4 1 1.3 1-1.8 1 .3 1-2.2 1-1.2 1 1.4 1 .5 1 .4 1 .6 1-.3 1 1.2 1 .6 1-.4 1 .3 1-.1 1-.5 1-1.3 1-.1 1-.1 1 0 1-.6 1 .7 1-2 1-.1 1-2.2 1 0 1-.9 1 .5 1-1 1 2.2 1-.3 1-1.4 1-1.7 1-.7 1-2.1 1 1.5 1-.8 1-.4 1 3.3 1 1 1-1.1 1-.8 1-.8 1 .8 1 .9 1-1.9 1-1.2 1 4.2 1-.6 1-1.9 1-1 1-2.5 1-1.1 1-1 1-1.3 1-4 1-2.1 1 3 1 .6 1 1 1-3.9 1-.6 1-.6 1 1.6 1 1.2 1 .6 1 1.8 1-.6 1-.1 1 1.5 1-.3 1-2.2 1 1.4 1-1 1 2.2 1 1.1 1-.4 1-2.7 1-2.2 1-1 1-2.6 1 2.3 1-.3 1 .2 1 .4 1-2.1 1 4.1 1 2 1 .4 1 .8 1-2.7 1 5.2 1 1.2 1-4.1 1 .1 1-1.6 1-.2 1 0 1-.1 1-3.1 1 .8 1-2.4 1 1.6 1 1.1 1 3.1 1-2.3 1-2.2 1-2.7 1-.2 1-2.6 1 1.4 1 1.3 1 4.1 1-2.1 1-2 1-.6 1 1.5 1-3.5 1-.5 1 .5 1 .2 1-1.1 1-.2 1-1.7 1 4.2 1-.4 1-.5 1 4.2 1 .6 1 1.1 1 2.3 1-.7 1-.2 1-.4 1 1.5 1 3.9 1-2.4 1 .1 1 1.8 1-2.7 1-4.1 1-1.1 1-1.8 1 1.5 1-1.7 1 .9 1 .2 1-1.4 1-1.2 1-.1 1 .1 1 2.3 1 .4 1 3.2 1 0 1 .6 1-1.8 1 3 1-1.6 1-.5 1 2.3 1-.7 1 3.4 1 .8 1 4.8 1 .3 1 0 1 1 1 2.1 1-1.3 1-1.9 1-1 1-3 1-1.3 1-3.7 1 .3 1-1.5 1-1 1-2 1-.8 1 .1 1-1.5 1-1.7 1-3.5 1-2.6 1-1.8 1-.5 1-.6 1-.3 1 .3 1 1.3 1-1.1 1 .5 1-.3 1 1.2 1 4.5 1 5.7 1 8.8 1 7.7 1 7.5 1 4.7 1 1 1-1.6 1 2 1 2 1-1 1 .7 1-.5 1-.4 1 .7 1 3.4 1-3.3 1 .2 1 .5 1-.1 1 2.4 1 7.7 1 3.4 1 6 1 4.2 1 5.4 1 3.8 1 5.5 1 8 1 .2 1 4.8 1 5.4 1 5.7 1 5.5 1 5.7 1 6.3 1 4.6 1 1.4 1 3.3 1 .9M587 813.7l1-2.8 1-.7 1-14.6 1-8.1 1-4.5 1-9 1-6.2 1-6.1 1-.8 1 7.4 1-1.3 1-2.9 1-7.9 1-8.7 1-9 1-7.2 1-4.3 1-14.7 1-18.9 1-5.7 1-6.1 1-4.8 1 2 1-9.4 1-6.4 1 1.9 1-3 1-3.6 1 7.8 1-11.9 1 1.1 1 6.9 1-12M622 650.2l1 .3 1 2.6 1 1.7 1-4.6M726 650.2l1 8.2 1 .3 1 2.5 1 .3 1-1.2 1 2.9 1 .6 1-4.4 1 5.5 1 2.3 1 .8 1-3.4 1 4 1 2.4 1 4.7 1 2 1-3.4 1 4.6 1-2.3 1 4.8 1 3 1 2.1 1-.4 1 4.1 1 2.6 1-4.3 1 3.2 1 3.6 1 1.1 1 .5 1-2.1 1-3.4 1 5.3 1-1.3 1 .5 1 2.9 1-.7 1 .7 1-1.2 1 1.1 1 0 1-6.4 1 3.1 1-.4 1 3.7 1-3.6 1 5.5 1-2.6 1-5.6 1 3 1 .8 1 .4 1 3.2 1-2.8 1 2.9 1 2.2 1 2.9 1 .6 1-2.5 1 5.2 1 .8 1 .6 1-.6 1 1.5 1-.5 1 2.4 1-5.5 1 3.3 1-1.7 1-.7 1 .4 1 .5 1 1.7 1-.6 1 .3"/>
<path d="M178 727.4l1-1.5 1-1.4 1 .1 1 .3 1-.3 1-.2 1 .3 1 .4 1 0 1 .6 1 .1 1-.5 1-.4 1 .3 1 .6 1-.3 1-.3 1 .3 1-.2 1-1.2 1-.3 1-.3 1 .1 1 .2 1-.2 1-1.1 1 .2 1 .3 1-1.2 1-.4 1 .2 1-.3 1 .2 1 .2 1-.1 1 .5 1 .9 1-.4 1 .8 1 .8 1-.2 1-.1 1 .6 1 1.8 1-2.1 1 1.3 1 .6 1-1.3 1 3.2 1 1.4 1 .2 1 0 1 1.6 1-.1 1 .4 1-.6 1 0 1 2.2 1 .1 1 .9 1 .2 1 0 1-1.5 1-.7 1-.6 1-.3 1 2.1 1-1 1-2.3 1 1 1-2.6 1-1.5 1 1.2 1-.3 1 .7 1 .7 1-.7 1-1.1 1 2.1 1 .9 1-1.9 1 1.1 1-1.8 1 2.3 1-2 1-.3 1 .3 1-.2 1-.1 1-.7 1 1 1-2.2 1 1 1-2.3 1 .5 1-2.3 1 2.1 1-2.7 1-1 1 .7 1 .2 1-.8 1 1.8 1-.7 1-1.7 1 2.7 1-.5 1 1.3 1-1.5 1-2.4 1-1.5 1 1.2 1 1.4 1-.1 1-2 1 .6 1-4.2 1 1.6 1 3.6 1-3 1-.1 1-1.6 1-1.6 1-1.3 1 2.4 1-2.4 1 4.7 1 .6 1 1.2 1 1.5 1-.9 1 1.2 1 1.6 1 3.6 1 3.4 1 .6 1-.2 1 .2 1-.7 1 .8 1-.3 1-.3 1-4.7 1 1.6 1-2.1 1 1.3 1 .6 1 2.1 1 .8 1-3.2 1-1.2 1 1 1 .1 1 .3 1 1.7 1 1.1 1-5.6 1 1.3 1 .2 1-3 1 1.3 1-.7 1-2 1 1.9 1-.8 1 .4 1 4.8 1-1.8 1 .9 1-.5 1 .6 1-1 1 2 1-1.9 1 1.4 1 .8 1 .6 1-.1 1-1.5 1-1.7 1 0 1 2.4 1 1 1 2.4 1-1 1-2.7 1-2.3 1 0 1-4.6 1-.1 1-.4 1-4.8 1-2.5 1 1.4 1 .7 1 .5 1 3.7 1-.3 1-1.6 1-1.2 1-.9 1-1.3 1 .8 1 1.5 1-.2 1 .6 1-2.4 1 1 1 2.3 1 2.8 1 0 1-3.6 1-1.3 1-1.1 1-.8 1-3 1-2.8 1 .3 1-1.7 1 1.7 1-2 1 1 1 .4 1 3.8 1-.2 1 2.9 1-2.5 1 .1 1-2.7 1 7.1 1-.9 1-2.3 1 4.2 1 .1 1-3.7 1-.2 1 2.2 1 2.7 1 .9 1-3.8 1-2.8 1-.9 1-1.6 1-.1 1 .6 1-.7 1 0 1 2.9 1 .4 1-1.4 1-1.6 1 1.3 1 1.9 1 3.2 1 .8 1 1.5 1 1.8 1-.6 1-.4 1 4.6 1 5 1-.7 1 3.7 1 .1 1 2 1 .3 1-2.7 1 1.1 1-4.1 1-1.1 1-.4 1 4.2 1 .7 1-2 1 1.7 1 .7 1-2.5 1 8.5 1 3.5 1-2.8 1-1.1 1-3.6 1-1.5 1 2.4 1-3.4 1 1.1 1 3.8 1-1.4 1 5.6 1 .1 1-3.1 1 1.3 1 2 1 4.5 1 .6 1 6.5 1 3.8 1 .9 1-7.7 1 3.5 1-10.7 1 5.6 1 .9 1-14.8 1-3.4 1-.2 1 3.1 1-3.4 1-5.3 1-13.1 1 1.3 1 3.2 1-2.8 1-7.3 1 12.4 1-.5 1-5.2 1 2.9 1 5.8 1 2.4 1-6.3 1 4.8 1-16.3 1 10.8 1 7.5 1 5.5 1 3.5 1 17.7 1 6.6 1 5.2 1-3.1 1 8.2 1 1.1 1 1.4 1 2.7 1 4.3 1-2.3 1 10.2 1-4.6 1 6.4 1 5 1-1.1 1 7.7 1 3.8 1 7 1 3.8 1 0 1-1 1 .5 1 .5M601 813.7l1-1 1-6.4 1 4.1 1-17.3 1-10.6 1 1.8 1-9 1-15.4 1 .1 1-12.5 1-3.8 1-2.5 1 2.5 1 .6 1-8.8 1-12.3 1-10.2 1-7.7 1-7.3 1-10.9 1-6.7 1-10.8 1 7.4 1 4.3 1-4.2 1-13.2 1-.4 1-.3 1 2.3 1-10 1-5.3 1 .9 1 3.5 1-2.3 1 3.3 1-.8 1-2.9 1 12.6 1-.7 1-2.7 1-4.2 1 2.6 1 3.1 1-9.9 1-2.5M690 650.2l1 4.2 1-4.2 1 6.9 1 5 1-3.2 1-4.7 1 .1 1-1.7 1-1.9 1-.1 1 1.9 1-2.3M704 650.2l1 4.7 1 5.8 1-2.8 1 6.1 1 2.4 1 4.5 1-3.2 1 3 1-1.9 1 1.3 1-1.8 1 9 1-7.9 1 4.8 1 .6 1-1.1 1 1.6 1 5 1 3.8 1-2 1 4.3 1 7.8 1-.4 1 3 1-1.2 1-.5 1-2.5 1 8.2 1-.9 1 .5 1 2.3 1-6.1 1 7.1 1-2.1 1 8.7 1-.9 1-.3 1-1.1 1 .1 1-1.7 1 7.5 1-1.7 1-4.8 1 0 1 2.7 1-4.7 1-2.9 1-1.3 1 .2 1-2.3 1 1.1 1-4.7 1 2.7 1 3.2 1-1.2 1-4.9 1 9.1 1-4.2 1 2 1-.8 1-7.1 1 3.5 1 1.6 1 .2 1 1.7 1 .3 1-.5 1-1.2 1-.8 1 .8 1 .7 1 5.3 1 1.8 1-1.3 1-4.4 1 .9 1 7.7 1-2.4 1 1.6 1 1.6 1-2.3 1 1.7 1-2.4 1 3 1 4.7 1-3.7 1 2.4 1-3.2 1 2.2 1 2.3 1-1.7 1-2 1 .1 1 1.4 1 1.4 1-.8 1-.3"/>
<path d="M178 726.4l1-1.9 1-1.9 1 .5 1 .5 1 .5 1-.2 1-.2 1-.7 1 .6 1 0 1 .3 1-.2 1 .7 1 .4 1 .3 1-.7 1 .4 1 .4 1-.1 1-.3 1 .2 1-.5 1 1.3 1-.2 1-.4 1-1.3 1 .2 1-.7 1 .3 1-.6 1-.1 1-.7 1 .6 1 .8 1-.5 1 .2 1 0 1 .3 1 .9 1 .1 1 .4 1 .3 1-.4 1 2.2 1-.8 1-.3 1 1.3 1 0 1 2.2 1 1.5 1 .3 1-.2 1 1.1 1 .3 1-.3 1-1.1 1-.3 1 3.5 1-.8 1 .1 1 .1 1 .1 1-.2 1-1.7 1 .6 1 .3 1 1.2 1-.7 1-.6 1 .3 1-.2 1 0 1 2.3 1 .1 1 .2 1-.8 1-1.4 1-.6 1 .9 1 0 1-3.4 1 .8 1-.2 1-.2 1 .4 1 .4 1-.6 1 1.6 1 .3 1-2.2 1 .5 1-1 1 .5 1-.5 1-1 1-1.2 1-1.1 1-1.6 1 .6 1-.1 1-3.5 1-2.7 1 .5 1-.8 1-.3 1 .9 1 0 1-.6 1 .6 1-.3 1-.1 1-.4 1-.7 1 .1 1-1.5 1-.6 1 0 1 2.7 1-.4 1 1.2 1-.7 1-2.5 1-1.2 1-2.4 1 .8 1-1.6 1 .8 1-1.9 1 1.3 1 .3 1 .8 1 0 1 .3 1 2.1 1 2.6 1 2.2 1-.3 1 .9 1 .8 1 4.8 1 3.6 1 1.5 1-1.6 1-3.7 1-2 1-.7 1 2.5 1 .1 1 .4 1 0 1 1.2 1-.6 1-.7 1-3.1 1-1.8 1 .6 1 2.2 1 1.9 1-.3 1-.4 1-4.2 1 5.1 1-1 1-.7 1-2.4 1-2.4 1-.4 1-1.1 1-2.6 1 2.1 1-.4 1 1.8 1-2.9 1 2.9 1-3.6 1-.3 1 1.5 1 .6 1-1 1-.3 1 .8 1-2.5 1 .3 1 4.4 1 2 1 6.7 1-1 1-1.5 1-.9 1-3.6 1-1.2 1-1.3 1 1.1 1 0 1 .6 1 4.2 1 .5 1-1.2 1 .1 1-1.6 1-2.7 1 2.2 1-1.4 1 3.2 1 1 1-2.9 1-.5 1 3.1 1-5.2 1 1.2 1-5.4 1-2.9 1-2.5 1 .4 1 1.9 1 1.1 1-2 1-3.5 1-.4 1 3.2 1-4.2 1-2 1 3.2 1 .6 1 1 1-1.3 1 .5 1-.5 1-2.9 1 1.5 1 2.5 1 1.5 1 5.8 1-3.2 1 0 1-1.4 1-.9 1 .6 1-3.6 1-.3 1 1.1 1 .2 1 .6 1 1.2 1 1.5 1-2.8 1-1.8 1 2.8 1-2 1-2.5 1-2.8 1 1.9 1 4.2 1 .8 1 6.1 1 3 1-1.8 1 1.6 1 2.9 1-.8 1-2.1 1 3.1 1 .7 1 1.6 1-5.5 1 1 1 3.3 1-5.5 1-.9 1-.8 1-.7 1 .2 1-.3 1 1.6 1-5 1-1.2 1-5.6 1-1.3 1 3.6 1 1.2 1 2 1-2.8 1-2.3 1 2.8 1 4 1 3.8 1 1.4 1-2.1 1 4.9 1 3.4 1 9.1 1 3.7 1-6.8 1 6.2 1 4.9 1 .3 1 .7 1 2.8 1-2.7 1 5.9 1-4 1-1.7 1-5.4 1 2.3 1-2.2 1-13.7 1-2 1-10 1 3.6 1 1 1 .3 1 2.9 1 1.1 1-5.7 1 2.8 1-13.5 1-10.4 1 7.7 1 25.2 1-2 1-2.6 1 1.8 1 .7 1 2.3 1-2.7 1 5.2 1 3.5 1 7.5 1-.5 1 10.8 1 .9 1-2.8 1 .2 1-7 1-2.4 1 2.6 1-.2 1-.1 1 6.1 1 .3 1-10.2 1 3.6 1-7.4 1 .9 1 0 1 3 1 9.2 1-2 1 12.4 1-2.2 1 4.7 1 5.5 1 8.6 1 4.2 1 4 1 6.4 1 5.8 1 4 1 5.7 1 4.1 1 6.2M587 813.7l1-1.6 1-6.1 1-7.3 1-9.2 1-7.6 1-6.7 1-7 1-8.1 1-8.4 1-9 1-5.8 1-9 1-3.9 1-7.8 1-6 1-6.8 1-9.4 1-8.6 1-3.6 1-2.6 1-2.4 1-3.3 1-.8 1-4.6 1 .1 1-5.7 1-7.9 1-4.4M707 650.2l1 .4 1-.4M714 650.2l1 .3 1 .8 1-1.1M720 650.2l1 3.6 1 1.7 1 2.2 1-1.5 1 4.7 1 6.7 1-2.9 1 4 1 3.5 1 3.4 1-2.5 1 3.3 1-2.3 1-6.2 1 3.6 1 4.7 1-1.5 1-1.3 1-1.4 1 3.5 1 1.1 1 1 1 .1 1 0 1-.3 1 1.7 1 4.3 1-.7 1 2.7 1-1.6 1 1.9 1 .1 1-.2 1 1.9 1 2.6 1 2.1 1 2 1 2 1 .4 1-.5 1-2.8 1 6.7 1-5.7 1 .5 1-.3 1 2.9 1 1.8 1-2.3 1-1.9 1-5.7 1 11 1 1.6 1-2.8 1 2.4 1 .1 1 .7 1-3.3 1 1.7 1 .3 1 3.7 1-1.9 1-1.4 1 3.3 1-1.3 1 .4 1 5.4 1-.2 1-.1 1-.8 1 1.4 1 2.8 1-8.6 1 5.9 1 .2 1-1.5 1 1 1-2.3 1 5.7 1-1.1 1-4.5 1 .5"/>
<path d="M178 727.5l1-1.8 1-1.6 1-.9 1 .1 1 .4 1 .9 1-.7 1 .1 1 .5 1 0 1 .5 1 .6 1-.2 1-.3 1 .1 1-.6 1 .3 1-.3 1 .4 1-.4 1-.1 1-.2 1 0 1 .4 1 .2 1-1.2 1-1 1 0 1 .1 1-.9 1-.1 1-.1 1-.3 1 1.3 1 0 1 .4 1 .7 1 .1 1-.4 1 .9 1-.4 1-1.1 1 .6 1 1.1 1-1.2 1 1.9 1-.3 1-1.2 1 1.8 1 1.6 1-1.1 1-.1 1 1.8 1 .6 1-.1 1-.1 1 .1 1 .3 1 .2 1 .5 1-1.1 1 .5 1-1 1-.3 1-.8 1 1.6 1 .8 1-.4 1-.3 1-.1 1-2 1-.1 1 1.3 1 0 1 2.5 1-1.9 1 .4 1-2 1 1.3 1-1 1 .6 1-.6 1-.7 1-1 1-.3 1 .3 1 2.2 1 1.5 1 .1 1 1.3 1-3.8 1-.9 1-.9 1 2.9 1 1.6 1-1 1 .9 1-1 1-4.2 1-.7 1 .1 1-1.8 1 .9 1 2.5 1-.5 1-.4 1-2.6 1-.5 1-2.7 1 .2 1 .3 1-1.1 1-1 1-1.4 1-.2 1 1.3 1-1 1-1.1 1 1.7 1-.9 1-1.2 1 .7 1-5 1 .2 1 1.1 1-.8 1 1.9 1-.3 1 4 1 .3 1 .4 1 .9 1-.1 1 .9 1 3.2 1 .1 1-.5 1 .9 1-4.1 1 .6 1-1.4 1 3 1-3.6 1 1.4 1-3.4 1 2.2 1 .6 1-2.1 1 0 1-.4 1-.5 1-1.8 1-1.3 1-.6 1-.4 1 .7 1-2 1-1 1 .1 1 .4 1-.5 1 2.1 1-2.1 1 .3 1 .9 1 .2 1 3.7 1-1.9 1 3.4 1 .3 1-1.3 1-.8 1-1.6 1-.6 1-.1 1 0 1-2.4 1-2 1-.8 1-3.8 1 1.2 1 1.7 1 .8 1-.3 1 2.6 1 4.6 1 0 1-2.5 1 .9 1-1.4 1 4.1 1-.1 1-.5 1-1.5 1 2.9 1 2.2 1 2.1 1-1 1 1.7 1-3.2 1-1.8 1-.9 1-1.2 1-.1 1 .1 1-2.6 1-4.9 1-1.4 1 .3 1-1.6 1-1.5 1-.1 1 .2 1-1 1 2.9 1 1.4 1-1.2 1-1.7 1-1.2 1 2.8 1-.6 1-1.9 1 2.4 1-.9 1 2.7 1 .1 1-2.7 1-2.4 1-2 1-2.5 1 1.3 1 2.6 1 3.1 1 2.7 1-1.3 1 .3 1 1.8 1-1.2 1-3.1 1-.8 1-1.8 1 3.1 1-1.3 1-1.6 1-.5 1-1.2 1-1.2 1-2.3 1-1.7 1-3 1 3.4 1 2.1 1-.6 1-3.3 1-.8 1 2.6 1 3.6 1-2.7 1 .2 1-.3 1-.1 1-1.3 1-.8 1 2.8 1-2.3 1-1.8 1-1.1 1-3 1-2.8 1 1.5 1-.9 1-1.7 1 1 1-1.9 1-.4 1 2.5 1 2.5 1-.7 1-1.9 1 2.1 1 1.2 1 1.6 1 .7 1 3.2 1 .5 1 2.2 1-1 1 .1 1-1.3 1 .7 1 3.1 1 4.2 1-1.3 1 1.3 1-.3 1-.5 1 1.2 1 3.1 1-.6 1-1.2 1-1.1 1 .2 1-2.4 1-1.6 1-2.7 1-2.9 1-1.9 1 0 1-.1 1-2.1 1 .2 1-3.3 1-1.8 1-1.6 1-3.5 1-.2 1 1.2 1 1.3 1-.8 1 1.5 1 1.8 1-.9 1-.6 1 4.2 1 7.7 1 7 1 10.1 1 7 1 3.5 1 1.6 1-.9 1-.2 1-.2 1 .9 1 .3 1 .5 1 1.6 1-.7 1-.4 1 .3 1 .6 1 1.7 1-2.1 1 3.5 1 4.5 1 2.5 1 4.7 1 4.9 1 4.6 1 4.1 1 4.5 1 5.3 1 5.1 1 6.1 1 7 1 5.8 1 5 1 3 1 5.6 1 3.4 1 3.7 1 4.3 1 4.3M586 813.7l1-2 1-5.8 1-9.8 1-4.8 1-6.5 1-7.4 1-7.2 1-7.8 1-7.6 1-9.8 1-5.4 1-7.7 1-5.5 1-10.4 1-6.4 1-9.4 1-5.8 1-8.9 1-5 1-4.6 1-3.1 1-2.2 1-4.6 1 1.5 1-4.5 1-2.7 1-5.8 1-3.7 1-.6M725 650.2l1 5.8 1-4.1 1 4 1 3.6 1 3.7 1-.2 1-1.3 1 3.6 1-2.2 1-.3 1 4.7 1 2.5 1-1.8 1-.4 1 .6 1 1.3 1 1.4 1 2.6 1 5.8 1 1.7 1 .4 1 .4 1 4.2 1 2.3 1 .4 1 0 1-1.3 1 5.3 1-2.7 1-1.6 1 3 1-.1 1-.3 1 2 1-1.2 1 .9 1-3.2 1 1.9 1-.9 1 5.3 1-2.9 1 1.7 1 2 1 1.6 1-1.8 1-1.7 1 4.7 1 1 1 .6 1-.2 1 2.6 1-3.1 1 1.2 1 2.1 1-3.2 1 6.7 1-1.9 1 1.3 1 .8 1-2.2 1 4.2 1-3.4 1-2.7 1 4.5 1 1.2 1-.5 1 .3 1-2.3 1-1.7 1 3.5 1-1.1 1-.1 1-2.6 1 1.8 1 3.7 1-1.8"/>
<path d="M178 731.3l1 .5 1 .2 1 .1 1-.3 1 0 1 .3 1 .1 1-.1 1 .3 1 .5 1 1.5 1 0 1 .9 1 .6 1 .2 1-.4 1 .2 1 0 1-.1 1-.1 1-.2 1 .1 1-.1 1-.6 1 .3 1 .5 1 .1 1 1 1 .5 1-.1 1 .3 1 .9 1 0 1 1 1-.4 1 1.2 1 .4 1 1.5 1 1 1-.5 1-.1 1-.6 1 .6 1 2.1 1-2.3 1 2.3 1-.8 1 2 1 .4 1 .6 1-1 1 2.6 1-1.3 1-.4 1 .9 1 1 1 1.1 1 1.4 1-1.1 1 0 1-.7 1 .9 1-.6 1 1.2 1-1.6 1 .3 1 1 1-.2 1-.8 1 0 1-.5 1 0 1 1.7 1 .8 1 .4 1-.8 1-.3 1 1.3 1 1.3 1 .3 1-.9 1-.4 1 0 1 .4 1 1 1 0 1-1.9 1 .9 1-.2 1 .5 1 .3 1 .1 1-1.4 1 1 1 .2 1 1.3 1-.9 1-1.5 1-1.7 1 .6 1-.5 1-1.7 1 .7 1-.6 1 1.2 1-1.2 1 2.2 1-1.7 1-1.1 1-.3 1 .7 1-1.2 1-.8 1 .4 1 2.5 1-1.7 1-1.6 1-.6 1 2.7 1-1.9 1-1.8 1-1 1-2.4 1 1.8 1 .8 1-1.1 1 1.4 1-.8 1 1.7 1 .6 1-1.9 1 .5 1-.4 1-.1 1-.4 1-.3 1 1.1 1 2.7 1 .1 1-.6 1-.2 1 0 1 2.3 1-1.5 1 .9 1-.8 1 .8 1-1.7 1 .1 1-1.1 1-1.5 1-2 1 1.1 1-1.8 1-.9 1 .7 1-1.6 1-.6 1 1.4 1 0 1 .8 1-.3 1-.8 1-2 1-.5 1-.3 1 1.5 1 1.8 1 .6 1-1.9 1 2 1-2.6 1-.4 1 .9 1 1 1 2.7 1 0 1 2.8 1-2.6 1-2 1-.6 1 2.8 1 .5 1-2.5 1-1.5 1 0 1 .1 1-.5 1-2.3 1-.8 1 2.9 1 .7 1 .6 1 3.7 1 .9 1 .4 1-.4 1-.4 1 1.2 1 1.2 1 .3 1 1.8 1-1.9 1 3.9 1-3.2 1-2.9 1-.8 1 .6 1-1.5 1 1.4 1-2.3 1-3.7 1-.4 1-.9 1-.4 1 .2 1 .3 1 .3 1-1 1 0 1-1.9 1 .4 1 2.8 1-.5 1-1.6 1-.1 1 1.6 1-2.1 1 .2 1 2.1 1-1.7 1 5 1-.3 1 4.2 1 1.1 1 2.2 1 1.8 1 1.5 1-2.5 1 .9 1 1.1 1 3.1 1 1.1 1-1.4 1 .8 1 .6 1 .4 1 1.4 1-.5 1-3.1 1-.6 1 1.3 1 4.7 1 1.5 1 1.3 1 1 1 2.9 1 1.4 1-.1 1 2.3 1-.4 1 .7 1-1.8 1-1 1 1.6 1 .8 1-.3 1 .1 1-.4 1 .1 1-.3 1 1 1-.3 1-.7 1 2.9 1 1 1-5.5 1 .2 1 2.2 1 2.2 1-2.5 1 1.4 1 1.2 1 3.6 1 3.8 1 4.9 1 3.5 1 4.5 1 2.9 1 8 1 10.4 1 1M614 813.7l1-5.3 1-8.2 1 4.1 1-13.1 1-3.6 1-6 1-.8 1-7.3 1-2.3 1 .4 1-7 1 6.6 1-.4 1-9.9 1-7.4 1-1 1-19.3 1 2.6 1-5.4 1-7.7 1-6.3 1-2.7 1 .4 1-1.7 1 11.6 1-10.1 1-3.5 1 3.7 1-4.5 1-9.7 1 6.4 1 4.9 1 .1 1-1.9 1-4.1 1-11.1 1-2.9 1-12.5 1-1.9 1 2.6 1 2.6 1-2.6 1-3.8 1 2.6 1-4.9 1 5.7 1 5.7 1 3.4 1 2.2 1-.3 1-11.7 1-7.6 1-8.6 1 5.4 1 7.2 1 9.5 1 1.6 1 7.7 1-.6 1 9.7 1 3.4 1-1 1-1 1-.8 1-1.9 1 6.7 1 2.4 1 3.1 1-7 1-6.5 1 1.1 1 .5 1 4.2 1-8 1 2.7 1 1.5 1-6.9 1 3.7 1-5.3 1-1.9 1-2.8 1 1.6 1-1.3 1-6.7 1 2.8 1-.9 1-4.8 1 .7 1-1.3 1 6.5 1-2 1 9.6 1-1.1 1 7.9 1-4.6 1-7.3 1 2.1 1 4.1 1-3.9 1-.1 1 9.5 1-4 1-1.2 1 2.3 1 4.7 1 3.7 1-4.3 1 1.8 1 1.8 1 1.3 1-1.8 1 5.9 1-2.1 1 4.5 1-.9 1 3.7 1-1.4 1 1.3 1-3.6 1 .9 1-.7 1-1.9 1 8 1 2.7 1 1.3 1-4.1 1 5.4 1-7.1 1 3.4 1 2.7 1-.7 1 0 1 .6 1-1.2 1-2.3 1-2.4 1 .5 1 2.5 1 .1 1 3.5 1-2.7 1 4 1 2.6 1 1.9 1-1 1 3.5 1-.1 1-2.2 1-1.2 1-.3 1 3.1 1 2.5 1 .2 1 .2 1-.7 1 3.7 1-1 1-2.2 1 2.7 1-.9 1-1.6 1-1.3 1 3.2 1-4.9 1-.2 1 2.8 1-3.3 1-.5 1 1.6 1 1.1 1-.7 1 2.7 1-5.6 1 1.9 1 3.7 1-1.2 1 0 1 1.1 1-2.6 1 2.2 1-2.5 1 .8 1-.7 1 .9 1-1.6 1-.7 1 4.7"/>
<path d="M178 731.4l1-.7 1-.2 1 .7 1 .2 1-.3 1 .5 1-.5 1 .1 1 0 1 .6 1 .1 1 .1 1 .2 1-.3 1-.3 1-.5 1 0 1-.3 1 .5 1-.4 1-.4 1-.7 1 1.2 1-.1 1 .3 1 0 1 .2 1-.4 1 .9 1-1.2 1-.7 1 .3 1-.2 1 .5 1-.8 1-.7 1 .1 1 .1 1 1.4 1 .8 1 .2 1-1.2 1-.8 1 3.1 1-2.1 1-.2 1 .8 1 .9 1 1.1 1 1.7 1-1.6 1 .4 1-.1 1 1.3 1 2.9 1-.2 1 2.4 1 0 1-1.7 1 .5 1-.1 1 .8 1-1.9 1-.1 1 .1 1 .7 1-1.1 1-1.4 1-1.7 1 1.3 1 .1 1 .3 1-.1 1 3.3 1 1.3 1 .7 1 .7 1 .7 1 1.3 1 .5 1-1.7 1 .4 1 2 1 .2 1-1.1 1-1.6 1-1 1-1.7 1 .3 1-1.3 1-.1 1-1.2 1-1 1 1.2 1 3.1 1-3.1 1-.6 1-.2 1-3.7 1 .1 1 .2 1 2.2 1 2.3 1 .7 1 1.6 1 1.5 1-.7 1 1.8 1-1.9 1 1.7 1-1.7 1-2.3 1-4.3 1-2.2 1 1.9 1 3.7 1-2.1 1-1.4 1-1.3 1-1.4 1 .1 1-.4 1-1.8 1-1.8 1-.6 1-2.2 1-3.6 1 2.3 1-.5 1 1.9 1 1.9 1 0 1 2.8 1 3.6 1 2.3 1-1 1 4.8 1 1 1-.2 1 .2 1-1.2 1 1.2 1-1.5 1-.1 1 .2 1 .2 1-2.4 1 3.3 1 .1 1 2.6 1-1 1 .3 1-3.4 1 .3 1-1.1 1-.5 1 1.2 1 1.8 1-.2 1 .1 1-1.5 1 3.2 1-.2 1 .9 1-1.3 1-2.2 1-1.9 1 .7 1-1.1 1-2 1 1.2 1-3.8 1 3.3 1-3.6 1-2.2 1-1.8 1-.4 1 2.6 1 1 1-.5 1 3.5 1-2.2 1-.7 1 1.1 1 1.8 1 2.8 1 .3 1-.6 1 2.2 1 1 1-1 1 .9 1-.3 1 2.9 1-2.5 1 1 1 .4 1-2.3 1-1.1 1-.2 1 1.7 1 0 1 .4 1-1.5 1-.8 1 .4 1-.9 1-1.9 1-.3 1-.6 1 0 1-1.5 1 .3 1 1.3 1 .6 1 0 1 2.1 1-1.1 1 .8 1 1.2 1 2.1 1-1.4 1-.4 1-1 1 1.9 1-2.9 1-1.7 1-1.1 1-2.2 1 3.5 1-3.5 1 1.7 1 5.7 1 .5 1-1.5 1-.5 1-.2 1-.7 1-.5 1 .2 1 0 1-.5 1 .4 1 2.7 1-.5 1 .2 1-.2 1 1.8 1-1.6 1-3.5 1-1.9 1 .9 1-1.8 1 2.5 1 1.1 1-1.5 1 1.7 1 .9 1 .4 1-.8 1 3.4 1-.1 1 1.5 1 1.1 1-3 1 3.8 1 2 1 .5 1-.5 1 1.4 1 .3 1 1.2 1 2.1 1-.5 1 1.2 1-.8 1-.2 1 2.7 1 .7 1 .9 1 .7 1 2.7 1 1.9 1 1.7 1-1.2 1 1.6 1 7.6 1 1.4 1 3.3 1 .6 1 9.1 1 1.8 1-.2 1 5.8 1 2 1 2.4 1 4.9 1 5.2 1-.7 1-1.8 1-3.7 1 6.1 1-2 1-2.3 1-2.6 1-.3 1-5.2 1-1.7 1-2.9 1-2.2 1 3.5 1-3.7 1 1.8 1 .5 1-1.4 1 .6 1 6 1-1.2 1-1.6 1 2.5 1-2.9 1 10.7 1-4.7 1 .4 1 .2 1 11.4 1 .7 1 1.4 1 .8 1-2.4 1 5.2M609 813.7l1-3.8 1 1.6 1-2.1 1-6.6 1-5.5 1-8.5 1-2.9 1 5.4 1-2.8 1-8.4 1-6.6 1-15.4 1 .8 1-1.2 1 2.2 1-.2 1-6.9 1-.9 1-6.4 1 .8 1-4.3 1-4.3 1 2 1-10.7 1 5.1 1-12.2 1-3.3 1-14.7 1-1.1 1-6.6 1 1.6 1-.8 1 4.5 1-1.8 1-3.2 1-3.3 1-2.5 1-.8 1-1.7 1-.2 1-9.3 1 2.8 1-.8 1 .3 1-6.5 1 .8 1 2.2 1-2.1 1 1.4 1-2.9 1 2.6 1-3.3 1 4.8 1 .5 1-.8 1-.8 1-9.6 1-3.3 1 6.1 1 5 1 2.7 1 9.7 1 0 1 .7 1-2.7 1 1.4 1-4.9 1 3.3 1 8.9 1-2.7 1 .3 1 .1 1-1.9 1 4 1 .4 1 .1 1 2.4 1 .7 1-5.1 1-3.7 1 0 1 1.4 1-1.4 1 6.3 1 5.1 1 0 1 6.9 1-8.7 1 4.1 1-.6 1-.8 1-1.2 1 2.8 1 0 1-5.2 1 2.6 1 .5 1-2.4 1 2.8 1 6.7 1-2.8 1-4.3 1 4 1 3.7 1 .4 1-4.7 1 4.7 1-1.9 1 1.7 1 1.7 1-.6 1-1.1 1-.2 1 4.7 1 1.2 1-.3 1 .2 1 2.3 1 2.7 1-4.5 1-.3 1-4.9 1 2.7 1 5.9 1-2.2 1 3.6 1 3.8 1-4.6 1 5.5 1-8.3 1 1.8 1 2.8 1 4.8 1-7.5 1-.3 1 .8 1 4 1 2.6 1 1.7 1 4 1 .7 1-1.8 1-.2 1-.2 1 4.2 1 .1 1 4.1 1-5.3 1 1.3 1 1.3 1-1.8 1-3.9 1 6.3 1-2.3 1 1.3 1-3.7 1 5.2 1 4 1-2.6 1 .6 1 .3 1-1.3 1-.7 1-1.5 1-3.4 1 0 1-2.9 1 .9 1 1 1-1 1-1.5 1 2.6 1-.1 1 4.3 1-.2 1 .7 1-1.2 1-.3 1 1.2 1-1.6 1 .3 1 .3 1-1.3 1 .4 1-1 1-.4 1-.7 1-1.8 1 1.2 1-.7 1-1.1 1 2.4"/>
<path d="M178 727.2l1-1.3 1-1.8 1 .8 1-.3 1-.2 1 0 1 .4 1-.5 1 .2 1 .2 1-.1 1 .4 1-.1 1 .9 1-.2 1-.2 1-.4 1 0 1-.4 1-.4 1-.3 1-.3 1 .3 1 .1 1 .7 1-1.3 1-.2 1 1.3 1 1 1-2.7 1 .5 1 .9 1-.3 1 .2 1-1.2 1 .6 1 .2 1 .4 1 .1 1 .4 1 1 1-.7 1 .9 1 .6 1-1.2 1 1.1 1 .2 1 .4 1 2.1 1 .1 1-.6 1 .1 1 2.2 1-1.3 1 .6 1-.2 1-.2 1-.4 1-1 1-.7 1 .5 1 1 1-.7 1 .4 1 .7 1 .5 1-.2 1-2.3 1-1 1 .8 1-.8 1-.5 1 .8 1 1.1 1 .3 1 .6 1-2.7 1 1.6 1 1.1 1 1.9 1-1.9 1 1.7 1-1.6 1-.8 1-1.4 1-1.5 1-1.3 1 1.2 1 0 1-.7 1-1.4 1-2.8 1 .4 1 .3 1-.4 1-1.4 1 0 1-2.9 1-1.5 1 .1 1-.1 1 .6 1 3 1 1.2 1 .2 1 2.2 1 2.8 1-1.6 1 .5 1 .4 1-2.8 1-2.3 1 .1 1 .5 1-1.8 1 2 1-1.8 1 0 1-1.2 1-1.8 1-2.2 1-.4 1-1 1-.4 1 .6 1-2.4 1-.8 1 .9 1 .6 1-.5 1 1.7 1 .5 1 .4 1 .7 1 1.3 1 1.6 1-.1 1 .3 1-2 1 .1 1-1.6 1 1.2 1-2.6 1-.7 1 0 1-.1 1 .8 1-1 1 1.2 1-1.4 1 1.2 1-1.9 1-.2 1-.2 1-.2 1-2 1-.4 1-1.1 1 .3 1 .5 1-.2 1 .8 1-2.4 1 .2 1 1.5 1-2.3 1 3.3 1-1.8 1-1.9 1 1.1 1 4.3 1-1.8 1-1.6 1 .7 1 1.4 1 4 1-4.2 1-4.1 1-.6 1 .3 1 .6 1 .9 1-1.1 1 1.5 1 1.6 1 1.6 1-.3 1 2.6 1 2.3 1-3.4 1 2 1 .6 1-.9 1-3 1 1.9 1 1 1-4.4 1 .6 1 2.1 1 2.7 1 1.2 1 .8 1-2 1-.8 1 3.8 1-4.4 1-2.4 1-.9 1-1.2 1 2.8 1 .1 1-.7 1-1 1 1.1 1 .8 1 3 1-.3 1-3.4 1-2.6 1 1 1-1.9 1-.7 1 2.4 1-4.6 1-.2 1-2.5 1 3.8 1-1.1 1-1.7 1 .6 1 2.9 1 1.8 1-1.1 1 1.5 1-.2 1 .2 1-.6 1-3.5 1 1.8 1-1.6 1-1.6 1-.1 1-.1 1 .4 1 2.4 1-.9 1-.6 1-2.9 1-1.9 1-4 1-.7 1 4 1 1.4 1 2.9 1-2.2 1 1.6 1-.8 1 1.3 1 .7 1 .1 1 .7 1-2.3 1-2.4 1-5 1 1.6 1-3 1 .7 1 1.3 1 3 1 0 1-4 1-.3 1 1.3 1 1.1 1 1.2 1 .1 1 3.4 1 2 1-.4 1 .5 1 .7 1 .6 1-.1 1-3.5 1 .4 1 .6 1 3 1-1.1 1-4.3 1-.4 1-2.1 1 3.3 1 2 1 2.9 1 1.4 1 .9 1 3.1 1 .3 1-1.6 1-2.2 1-1.9 1-1.3 1-3.2 1 .2 1-.6 1-1.6 1-1.2 1-2.3 1-1 1-2.8 1 .4 1-4.7 1-1.8 1-1.3 1-.4 1-1.3 1 0 1 .5 1 .6 1 .7 1-.7 1 1.2 1-.8 1 5.5 1 7.7 1 7.6 1 7.2 1 7.6 1 5.4 1-.3 1 1.8 1-.6 1 1.6 1 1.4 1 5.1 1-3.5 1-1.4 1-.6 1 3.4 1 3.1 1 7.8 1 4.7 1 3.7 1 .7 1-3.1 1 3.7 1 4.2 1 3.6 1 9.4 1 4.8 1 2.2 1 4.3 1 10.1 1 3.2 1 2.3 1-1.4 1-.3 1 8.7 1 10.8 1-2.8 1 4 1 1.6M587 813.7l1-6.4 1-7.2 1-8.7 1-7.3 1-5.8 1-3.5 1-11.4 1-6.7 1-8.4 1-8.5 1-6.7 1-7.5 1-8.9 1-7.2 1-8.7 1-5.5 1-6 1-8.8 1-3.6 1 2.2 1-5.7 1-2.7 1-3.4 1-3.5 1-1.3 1-3.9 1-7.9 1-.5M725 650.2l1 .1 1 3 1 3.5 1 .8 1-1.7 1-1.6 1 5.5 1-.4 1 0 1 2.2 1 .7 1 5.7 1 2.4 1-.5 1-.3 1 .9 1 4.4 1 1.4 1 1.7 1 9.6 1-4.8 1 3 1 2.5 1 4.9 1-1.7 1-1.2 1 2.4 1-.6 1-1.9 1 .4 1-.3 1-1 1 1.5 1-.9 1 3 1 .1 1 2.9 1-1.8 1 5.9 1-.3 1-2.7 1-1 1-1.9 1 2.3 1 1.4 1 .6 1 2.2 1-3.2 1 3.3 1-6.4 1 1.2 1 .4 1 1.4 1 .8 1 5.5 1-2.8 1 .1 1-.3 1 .6 1-.8 1 6.3 1-.5 1-4.5 1-2.6 1 4.6 1 2 1-.9 1-4.3 1 4.7 1-2.5 1 .7 1 2.6 1 2.5 1-2.8 1 1.3 1 .6"/>
<path d="M178 731.5l1 .2 1-.5 1 .7 1 .8 1-.3 1 .5 1-.8 1 .1 1 1 1 1.4 1 .8 1-.1 1-.3 1 0 1 .6 1-.1 1 .4 1 .9 1-.6 1-.3 1 .2 1 .9 1 .4 1 .2 1 .2 1-1.1 1 0 1 .4 1-.6 1-1.3 1 1.4 1-1.3 1 1.7 1 1.5 1-.1 1-.1 1 .8 1 .3 1 .7 1 0 1 .3 1 0 1 2.1 1 1.5 1-.5 1 2.1 1 .3 1 .4 1 1 1-.5 1-.4 1 .6 1 1.3 1-.5 1 .9 1-1.1 1 1.4 1 1 1-.8 1-.6 1-.2 1-.9 1-.5 1-.7 1-.3 1 1.4 1-.4 1-1.8 1 0 1-.2 1-.5 1-.6 1 1 1 .8 1 1.1 1-1.2 1-1 1 2.6 1-.4 1-.5 1-1.5 1 0 1-.8 1-.3 1 .7 1-1.1 1-1.7 1 1.6 1 .7 1 .3 1 .9 1 .7 1-1 1-2.1 1 2.1 1-1 1 3.8 1-.9 1 .7 1 1 1-3.1 1 0 1 2.4 1-.9 1 1.1 1 .1 1 .3 1-2 1-1.8 1 2.2 1 .3 1-2.7 1-.8 1-1.6 1-3.7 1 .5 1-.1 1 2.3 1-3.4 1-3.7 1-1 1 .8 1-.5 1-1.5 1 2.1 1 2.2 1-.2 1-1.8 1 1.9 1-.5 1 2.6 1 .4 1-.4 1 1.9 1 2.9 1 1.5 1-1.3 1 1.7 1-.9 1 1.7 1-.1 1-2.6 1 .8 1-1 1 1.2 1 2.5 1-1.5 1 .5 1 .3 1 1.8 1-.1 1-2.3 1 1 1 2 1-1.6 1-.8 1 1.6 1 .7 1 2.1 1-1.3 1 .1 1 1.4 1-1 1 2.1 1 .8 1-1.3 1 0 1 .1 1-.4 1-2.6 1 .8 1 .6 1-.5 1 0 1 .8 1-1.1 1-1.2 1 2.2 1 1.9 1-2.7 1 1 1-1.4 1-1.4 1-1.9 1-.7 1 3.5 1-.8 1-3 1-.6 1 .1 1 2.6 1 .1 1-1.1 1-.3 1 .6 1 .8 1 1.1 1-1.2 1 2.1 1-1.6 1 1.2 1-2.5 1 1.4 1-.4 1 3.2 1-3.3 1-2.1 1-1.5 1-1.3 1-.7 1 2.1 1-1.3 1-4.9 1 1.5 1 0 1 .5 1 1.5 1-3.1 1-2.8 1 1.2 1-.7 1-1.2 1 .3 1-2.1 1 1.7 1-1.7 1-.5 1-.2 1-.7 1 1 1 1.5 1 .1 1 2.2 1 0 1-2.5 1-.3 1-3.5 1-1.7 1 3 1-1.2 1 1.3 1-1.2 1 1.4 1-4.9 1-.8 1 1.5 1 3 1-2.7 1 2.8 1-2.2 1 2.9 1-2.1 1 2.9 1-7.1 1 1.2 1-1.7 1-3 1 1.7 1 2.9 1-1.7 1 9 1 1.8 1 2.8 1-5.1 1 .6 1 3.7 1 .9 1-1.3 1 .5 1-2.5 1-2 1 3 1 .9 1 4.1 1 1.2 1 5.2 1 .2 1 1.9 1-1.8 1 2.4 1-3.3 1-1.4 1-1.5 1 9 1 1.2 1-.7 1 .3 1 5.1 1 4 1 4.8 1 9.2 1 .3 1 2.5 1-3.6 1 10.3 1 9.5 1 6.7 1-4 1 2.7 1-1.4 1-.5 1 .3 1-3.2 1-3.3 1 1.6 1 9.3 1-5.4 1-4.4 1 8.1 1-1.3 1 2.1 1-3.8 1 1 1-2.9 1-2.7 1-2.3 1-2.1 1 5.8 1-1.4 1-.5 1 4.1 1-.3 1-2.9 1 4.7 1 .1 1 6 1 3.8 1 5.7M611 813.7l1-3.6 1 3.2 1-5.8 1-4.3 1-16.3 1 1.7 1-7.2 1 8.3 1-8.3 1-4.6 1 2.4 1-18.5 1-2.6 1-1.9 1 3.2 1-11.7 1-3.5 1-2.3 1 2.9 1-10.1 1-2.6 1 .1 1 9.7 1-.7 1-3.5 1-.1 1-5.2 1-2.1 1 .5 1-3.8 1-9.2 1-13.5 1-4.5 1 2.4 1 6.5 1-8.2 1 1.8 1-1.8 1-1.6 1 2.5 1-7.3 1-1.5 1-1.3 1 .5 1-4.3 1 1 1 .4 1-2.3 1-8.2 1 0 1 5.6 1-.2 1-2.5 1-9.5 1 1.6 1-7.8 1 4.9 1 7.5 1 3.3 1 2.1 1 1.9 1 5.9 1-3.1 1 8.5 1 1.4 1 3 1 3.1 1 0 1 .8 1-10.8 1-2.4 1-.2 1-3.6 1 5.4 1 2.3 1-2.2 1-2.7 1-2.9 1 3.9 1-7.2 1 3.9 1 6.9 1-3.7 1 2.2 1-2.1 1-3.5 1 .3 1 2.8 1 4.5 1 11.7 1-3.6 1 0 1 .7 1 .8 1 4.4 1-.3 1-.7 1 1 1-1 1 2.8 1 5 1-3 1-2.3 1-2.2 1-2.5 1 6.3 1 3.1 1-1.4 1 3.6 1 1.5 1-1.3 1-3.1 1 .8 1-2.7 1 2.9 1-3.8 1 3.1 1 2.7 1-2.2 1-4.1 1 1.3 1-1.5 1 2.1 1 4.4 1-3.1 1 3.5 1-2.9 1 5.2 1-2.2 1-1.3 1-1.2 1 5.7 1 .6 1 3.2 1-.9 1-.5 1 3.9 1-3 1-.1 1-.6 1 4.7 1-2.1 1 4.6 1-1.6 1 .7 1 1.4 1-3 1 1.7 1-2.4 1 6.4 1-2.9 1-1 1-4.5 1 4.6 1-1.7 1 2.6 1 .6 1-3.4 1 5.6 1-2.9 1 3.7 1-3.8 1 1.8 1-.9 1 2.7 1-3.7 1 2.6 1-7.4 1 5.5 1 1.6 1 2 1-2.9 1 .4 1-.3 1 .9 1 .4 1-1.8 1-.4 1 5 1-6.6 1 2.8 1-4.5 1 3.4 1-3.8 1 5.2 1-9.4 1 3.2 1-1.5 1 1.4 1-.8"/>
<path d="M178 732.8l1 .1 1 .3 1 .5 1 .8 1 .7 1 .3 1 .5 1-.5 1 1.3 1-.1 1 .5 1 1 1 .3 1-.2 1 .5 1 .8 1 0 1 .2 1 0 1 .7 1 1 1-1.2 1 .8 1 .1 1-.6 1 .1 1 .3 1 .9 1 1 1-.3 1 .1 1-.3 1 .1 1 .7 1 .6 1-.2 1 1.4 1-.3 1 .1 1 .3 1 .9 1-1 1 1.4 1 1.8 1-.3 1 1.3 1 .6 1 1.5 1 .8 1 .3 1 .2 1 .5 1 .8 1 .1 1 .9 1 .7 1 1.3 1 1.5 1-1.8 1 .9 1-1 1 1.7 1-.7 1-.5 1-.6 1 .1 1 1.5 1 .1 1 .4 1 .2 1-.3 1 0 1 .8 1 1.6 1 .7 1-.4 1-.8 1 1.1 1 1.3 1-.3 1 .3 1 .9 1 .5 1 .3 1-.9 1-.3 1 0 1 2.6 1 .8 1-1.9 1 .9 1-1.9 1-.6 1 1.4 1 1.8 1-.8 1 .4 1-.1 1-1.8 1-.5 1-.7 1 1.3 1 1.9 1 .2 1-1.1 1-.2 1 .3 1 1.1 1-.3 1 .6 1 1 1 .5 1 .3 1-1.1 1-1.7 1 .5 1-1.9 1 .3 1-.8 1-1.7 1-.1 1 .4 1-2.6 1 .9 1-.6 1-.3 1 .8 1-1.3 1 .5 1 .8 1 .3 1-1.8 1-.2 1 1.3 1 1.6 1-1.5 1-.8 1 2.6 1-1.9 1-.9 1 2.1 1-.7 1-.3 1-.8 1 .9 1 2.2 1-2.1 1 .5 1-.1 1 0 1-.7 1 .3 1 .5 1 0 1 .1 1 .3 1 0 1 1.3 1 .2 1-.2 1-.2 1 .4 1-.4 1 1.1 1-.6 1-.3 1 .5 1 .8 1 .8 1-.5 1-1 1 .5 1 .6 1-1.2 1 .2 1 .2 1 1.1 1-.7 1 .7 1-.2 1 1.3 1 0 1-.7 1-.3 1-1 1 2.6 1-.3 1-.1 1-.7 1-.9 1-.1 1 .6 1-.2 1 2.1 1 .2 1-.2 1-1.3 1-1.4 1-.9 1-.9 1-1.3 1 .1 1-.3 1-1.6 1 1.3 1-2.9 1 .6 1 1.1 1 .4 1-.8 1-1 1-.6 1 .3 1 1.4 1-.1 1-1.7 1-1.2 1 1 1-1.5 1 .9 1-1.4 1 1.1 1 2.1 1-1.1 1-2.4 1 .7 1-1.7 1-.2 1 .5 1 2.4 1-1.5 1 3.7 1 1.2 1 4.2 1-2.7 1 .9 1 3.7 1-1.6 1-1.8 1 1.1 1 1.1 1-1.1 1 1.3 1-1.4 1-1.1 1 .9 1-5 1 1.8 1-.7 1-.1 1-.5 1 4.5 1 .1 1 .2 1-1.4 1-1.8 1 2.9 1-.3 1-1.1 1 .3 1 2.8 1-1.6 1-.3 1 .6 1-1.3 1 .3 1 1.8 1-1.1 1-1.4 1 5.4 1 1.1 1 1.4 1 .3 1-7.1 1 4.9 1-1.9 1-2.4 1 4.1 1-.9 1-2.2 1 1.8 1 7.8 1 2.5 1 2.5 1 .4 1 .6 1 5.6 1 2.3 1 9.1 1-1.7 1 8 1 10.1M612 813.7l1-4.5 1-13.1 1-4.3 1-.8 1-6 1-5.2 1-5.8 1-1.6 1 2.9 1 5.8 1-3.4 1-15.2 1-5 1-.4 1 .6 1 0 1-11.2 1-7.3 1 4.5 1-4.1 1-11.4 1-12.6 1-1 1 5.3 1-3 1-6.1 1 3.4 1-5.9 1-6.3 1-6.3 1 .3 1-7.9 1-2.1 1-8.2 1 .9 1-3.3 1-2.8 1 3.8 1 3.1 1-1.6 1-5.3 1-3.1 1-4.7 1-10.1 1-4.5M664 650.2l1 .7 1-.7M677 650.2l1 .8 1-.8 1 4.6 1 4.1 1 4 1-1.8 1-6.9 1 4 1 .7 1 8.9 1-4.5 1-1.3 1-1.8 1-3.2 1 0 1 3 1-2.8 1 7.7 1-2.8 1-2.7 1-6.2 1-1 1-2 1 .2 1 .8 1 2.5 1 7.3 1-4.8 1-5.7 1 8.2 1 4 1 6 1 1.3 1 1.4 1 6.5 1 .7 1 5 1-3 1-.8 1 3.4 1-1.4 1-4.2 1 2.6 1-2.5 1 2.6 1 3.3 1-1.3 1 2.5 1-2.4 1 .7 1 4.7 1 .4 1-1.4 1-1.3 1-2.1 1-2.2 1 6.4 1 4.9 1-.7 1-1.9 1 .4 1 5.1 1 2.7 1-.8 1 7.1 1 2.8 1-.6 1-.8 1 2.6 1-1.7 1 4.8 1-.5 1 1.3 1-4.9 1 3.1 1 .1 1 3 1 3.4 1 0 1-.6 1-1.5 1 2.5 1-3.4 1 4.5 1 3.4 1 2.6 1 .2 1 .7 1-6.2 1 5.3 1 .4 1 1.9 1-3.6 1 3.3 1 0 1 2.4 1-1.9 1 1 1 1 1-.6 1 3.3 1-1.5 1-2 1-1.1 1 .3 1-1.2 1-4.9 1 5.7 1 2.6 1-2.3 1 1.5 1-.6 1-1.3 1-1.7 1 .6 1 .5 1 2.7 1-1.5 1-1.7 1-1 1 1.4 1-.3 1-2.2 1 .8"/>
<path d="M178 733.3l1 .2 1 .8 1 .7 1 .3 1 .5 1 .1 1 .3 1-.1 1 .3 1 .8 1 .1 1 .1 1-.8 1 .3 1 1.6 1 .7 1 .2 1 .2 1 .9 1-.8 1 .1 1-.4 1 .3 1 .1 1 1.2 1-1 1 .2 1-.8 1-1 1-.7 1-.5 1-.1 1 .9 1 1 1 .4 1 1.5 1 .3 1 .7 1 .6 1 .6 1 .6 1 .5 1-.5 1 1.3 1-.2 1 1.4 1 .2 1 1.5 1 1.1 1 .3 1-1.1 1-.5 1 .5 1 .3 1 1.3 1 .4 1-1 1 1.7 1-1.2 1 .2 1-.1 1 .5 1-.9 1 .3 1-.5 1 .2 1 1.2 1-2 1-2.2 1 .5 1-.8 1 .6 1 1.3 1 1.2 1 .7 1 .7 1 1 1-1.2 1 .4 1 1 1 .9 1 0 1 1 1-1 1-.3 1 1.2 1 1.8 1-.1 1 .2 1 .3 1-1.6 1 1.2 1 1 1-1.6 1 1.2 1-1.6 1-1.6 1-1 1-.6 1 .3 1 1.7 1 .5 1 2.1 1 0 1-1.5 1-1.8 1-.9 1 2.1 1-.8 1-.7 1 .7 1-1 1-.7 1 .2 1 .1 1 1.2 1-1.4 1 2.6 1-.2 1-2 1 0 1 .5 1-2.2 1-1.5 1-.5 1-.5 1 1.5 1 1.1 1 .3 1 .9 1 3.8 1 .6 1-1 1 1 1 2.2 1-2.2 1 .2 1 .8 1 1.3 1-.2 1 1.1 1 1.8 1-.6 1-1 1-.1 1 1.4 1-2.3 1 1.5 1-1.2 1 .2 1 .2 1-.8 1 2.1 1 .3 1 .4 1-1.6 1 .3 1 1.9 1-.2 1-.8 1-.4 1-.6 1 3.1 1-.5 1-.1 1-3.4 1 .5 1-.8 1 .1 1 1.3 1 1 1-.5 1 .4 1 .1 1 1 1 3.4 1 1 1-1.4 1 1.2 1-.9 1-.6 1 1.6 1-.2 1-1.7 1 .8 1 .7 1 .1 1-.3 1-1.3 1-.3 1 .1 1 .8 1 .2 1 .1 1-4 1-1.1 1 2.1 1-1.3 1-1.1 1-3.2 1 2.5 1 2.2 1 .5 1-.7 1-.7 1-.7 1-3.1 1-1 1-1.5 1 .1 1-2.7 1 .4 1 .9 1-.5 1 1.5 1 0 1-2.1 1 3.3 1-.3 1 1.8 1-1.9 1-2.6 1 .9 1 0 1 .9 1 5.1 1 2.5 1-1.3 1-1.8 1 2 1-2.6 1-.5 1 2.7 1 2 1-1 1 2.1 1 1.8 1-2.2 1 1.1 1 .8 1 .5 1-.4 1 .1 1 1.9 1 .3 1-1.4 1-1.4 1 .2 1 1.1 1-2.6 1 2.8 1 4.4 1-2.8 1 1.2 1 .9 1 3.1 1 .2 1 .9 1 2.6 1-1.1 1-1.4 1 .9 1 .1 1 0 1 .5 1-1.6 1 2.3 1 .3 1-.4 1 .8 1-.8 1 .7 1 1.1 1-1.4 1 1 1 .4 1-1.7 1 .2 1 1.4 1 1.3 1 1.9 1-.2 1 4.2 1 2.6 1 2.2 1 2.8 1 3.3 1 1.3 1 8.7 1 5 1 3.5M629 813.7l1-5.3 1-19.2 1-5.1 1-6.2 1 5.6 1-9.1 1-8.2 1-11.3 1-10.3 1 .7 1-1.6 1 3.3 1-5.3 1-3.2 1-5.4 1-10.3 1-5.7 1-7.5 1 2.5 1-.6 1-4.3 1-.9 1-.8 1-5.3 1-3.4 1-5.6 1-6.4 1-3.1 1-5.5 1-6.2 1 1.7 1 9.9 1 .8 1 2.4 1 3.1 1-4.8 1-9.4 1-1.6 1 4.7 1 8.3 1 8.5 1 5.2 1 6.8 1 4 1 7.5 1 4.2 1 2.7 1-1.8 1-9.9 1 1.1 1 3.3 1-.3 1 5.1 1-5.4 1-2.3 1 1.4 1 2.8 1-3.1 1-1.6 1 1.2 1-4.6 1 7.6 1 4.6 1-1.1 1-4.6 1 2.2 1-4.6 1 8 1-4.5 1 0 1 7.4 1 3.8 1-3.9 1 2.1 1 .4 1-6.3 1 2.1 1-3.1 1 3.4 1 3 1 6.2 1 .2 1-2.3 1-5 1 .9 1-.1 1 5 1 .1 1 4.2 1 1.5 1-5.2 1-6.7 1 7.2 1-2.4 1 1.4 1 3.3 1-3.1 1-1.2 1-.4 1-2 1 5.7 1 1.4 1 4.6 1-.4 1-1.9 1 4.1 1-.8 1-1.5 1 2 1-.2 1-.1 1-2.2 1-4 1-.7 1 5.5 1-4.5 1 1.4 1-2.8 1-.9 1 1.4 1-2.4 1 4.2 1 2.8 1 1 1-.3 1-2.5 1-.1 1 2.9 1-2 1-1.5 1 .7 1-1.4 1 6.4 1-7.9 1-1.1 1 3 1 .5 1 3.5 1 .3 1 .9 1-4.9 1 .1 1 3.5 1-1.5 1-.9 1 2.9 1-5.9 1 4.3 1-.3 1-3.4 1-.8 1 2.2 1 .5 1-2.1 1 1.4 1 1.2 1 3.9 1-2.4 1 6.2 1-1.9 1-4.5 1 4.4 1-3.1 1 2 1-7.4 1 6.1 1-9.7 1 5 1 .8 1-1.3 1 .9 1-3.1"/>
<path d="M178 727.2l1-2.3 1-1 1 .3 1-.5 1 .7 1-.6 1 0 1 .1 1 .5 1 .3 1 .4 1-.5 1 0 1 .4 1-.4 1 .5 1 1.1 1 .5 1-.4 1-.8 1-1.1 1 0 1-.7 1 .6 1 .3 1-1.2 1 .2 1 .5 1-.9 1-2 1 .6 1-.7 1-1.1 1 .2 1-.2 1 .5 1 .1 1 .6 1 1 1 .4 1 .2 1 .1 1 .3 1 1 1-.8 1 .6 1-.9 1-.2 1 1.9 1 .9 1-.1 1 .4 1 1 1-1.1 1 .3 1-.7 1 1 1 .7 1-.5 1 .3 1 .1 1 1.3 1-.7 1-.2 1-1.5 1-.9 1 2.1 1 .2 1-1.2 1 1 1-.9 1-1 1 2.1 1 0 1 .8 1-.1 1 .5 1-1.9 1-.5 1-.7 1 1.2 1 2.1 1-3.1 1 .6 1 1.4 1 .4 1-.6 1-.6 1 1.7 1-1 1-1.8 1-.8 1 .7 1-.2 1 .1 1-.8 1-1.5 1-1.7 1 .1 1 1.5 1 1.5 1-.3 1 .9 1-.4 1 1 1 1.4 1-.2 1 1.5 1-3.2 1 3.3 1-.1 1-1.7 1-2 1-2 1-.1 1 .2 1 .1 1 .4 1 .1 1-1.4 1 1.2 1-2.4 1-.8 1 1.2 1-2.2 1-.6 1 .9 1-3.4 1 4.8 1 2.1 1-.2 1-.1 1-2 1 .5 1-.9 1 2.6 1-1.4 1-1.5 1 2.3 1-.8 1-.6 1 .6 1-.7 1-.4 1-1.4 1-2.3 1-2 1 .5 1 1.4 1-1.2 1-.6 1 .9 1-.7 1-1.2 1 .1 1-2.6 1 2.8 1 2.6 1 .8 1 1.7 1 .4 1-1 1 .5 1-2.2 1 0 1-2.6 1 2.1 1 1.6 1 2.2 1-2.8 1 1.1 1-2.3 1 1.5 1-1.2 1 .1 1-1.6 1-1.6 1 2.2 1-2 1 1.1 1 .4 1-3.4 1-1.7 1 .9 1-2.2 1-.5 1 1.8 1-.4 1 1.3 1-2.2 1 .6 1 .2 1-.1 1-.6 1-.2 1 2.2 1-2.1 1 .3 1-1.4 1-.9 1-1.2 1 1.4 1-1.5 1-3.2 1 1.8 1-1.1 1-4.3 1 .9 1 2.3 1 0 1-.1 1-1 1 .5 1 3 1-1.9 1-1.9 1 3.8 1-2 1 .5 1 .4 1-1.7 1-.9 1-1.9 1 3.5 1 3.4 1 4.1 1 .2 1 1 1-3.2 1-2.4 1-3.7 1 3.9 1-2.1 1-2.3 1 1.4 1-.9 1 2.8 1-1.9 1 1.9 1-2.9 1-3 1 2.6 1 2.7 1-2 1 2.9 1 1.7 1-.5 1-1.3 1-.6 1-.8 1-.3 1-.9 1-2.4 1 3.8 1 .3 1 .8 1 3.7 1-4.6 1 1.7 1 2.8 1-.1 1 1.1 1 5.3 1-4.2 1 2.1 1-1.6 1 4.7 1-.7 1-6 1 2.4 1 3 1 2.9 1 2 1-1.5 1-5.6 1-.2 1 2.4 1 1.3 1 1.9 1-3.6 1 .6 1 1.1 1-1.8 1 .2 1-3.4 1 .6 1 10 1-3 1 4 1 .5 1 .1 1 10.5 1 5.7 1 7.7 1-2.6 1 3 1 4.2 1-5 1-5.5 1 1.4 1-2.2 1 5.5 1-4.4 1-1.8 1-14.1 1-2.8 1-7.7 1-10.1 1 6.3 1-4.4 1 1.1 1 3.2 1-2.6 1-8.2 1-4.4 1 .4 1-3.4 1-6.2 1 10.2 1 5.1 1 8 1-4 1 4.9 1 5.8 1 4.8 1 8.8 1 11.3 1 .3 1 3.8 1-5.6 1-2.4 1-1.8 1-2.5 1 13.1 1-8.3 1 1.4 1-5.4 1 4.7 1 12.1 1 5.1 1-5.4 1-8.1 1-5.7 1 9.7 1 6.9 1 .5 1-4.2 1 9.2 1 6.2 1 5.7 1 6.5 1 9.8 1 11.3 1 1.3 1 14.5M603 813.7l1-3.2 1-7.3 1-2.7 1-17.3 1 4.3 1-9.2 1-2.6 1-14.1 1-17.6 1 1.3 1-11.2 1-7.7 1-2.8 1-12.4 1-2.4 1-12.5 1-3.9 1-4.6 1-6.4 1 10.3 1-1.4 1-8.7 1-1.8 1-8.8 1-13 1-7.8M631 650.2l1 13.9 1-11.5 1-2.4M718 650.2l1 4.3 1-4.3 1 4.9 1-4.9 1 6.9 1-2.5 1 .7 1-5.1 1 1.5 1 2.6 1 6.9 1-.8 1 .4 1 3.1 1-2.6 1 .6 1 4.3 1-5.2 1 2.1 1 1.7 1-1.5 1-.3 1 .6 1 1.3 1 6.9 1-1.3 1 1.4 1-.4 1 3.7 1-.7 1 2.9 1 2.5 1 5.3 1 3.6 1 3.3 1-.4 1 1.7 1 1.3 1 .1 1-.2 1 2.1 1-3.7 1 4.7 1-2.8 1 2.2 1-1.1 1-2.7 1 1.1 1 .1 1 5.3 1-5.3 1 .9 1-2.6 1 .7 1 .8 1 6.7 1-1.2 1-2.5 1 2.2 1-.1 1 2.3 1 .7 1 3.1 1-1.7 1 2.2 1 .5 1 3.6 1-3.7 1 1.3 1 1 1 3 1-2.1 1-.4 1-3.7 1 .5 1-2 1 .2 1 0 1 2.9 1 2.9 1 1.1 1 .1 1 1.6"/>
<path d="M178 727.9l1-1.6 1-.6 1-.3 1 .4 1 0 1 1.2 1 1 1 .5 1 .5 1 .5 1-1 1-.1 1-.5 1-.4 1 .1 1 .5 1 1.2 1-.4 1 .1 1-1.1 1-.9 1 .1 1-.1 1-.2 1 .6 1-.6 1-.6 1-.4 1 .1 1 .4 1 .9 1 .6 1-.2 1-.2 1-.9 1-1.5 1 .6 1-.9 1-.2 1 .7 1 1.4 1-1.3 1 .7 1 2.1 1-.3 1-.1 1 1.1 1-1.8 1 2.2 1 1.8 1 .1 1 1 1-.5 1 .8 1 .3 1-1 1-.6 1 1.5 1-.3 1 .7 1 .5 1-.4 1-3.4 1 2 1 .6 1 1.2 1 .5 1-.7 1-1.3 1 .2 1-1.3 1-1.2 1-2.1 1 2.5 1 0 1-2 1-1.3 1-.3 1-.3 1-.4 1 .5 1-.7 1 .8 1-.6 1-1.9 1 1.3 1 .7 1 1 1-.9 1-1.3 1 2.4 1-2.4 1-.1 1 .1 1 1.3 1-1.5 1-.7 1-1 1-2.8 1 2.5 1-.2 1-.7 1 2.6 1 .2 1-.4 1 .9 1 0 1-2.8 1-1.5 1 0 1-1.2 1-2.6 1 1.7 1-1.7 1-1 1 1.7 1 .3 1-.9 1-2 1 .4 1-1 1-1.3 1-3 1 1.4 1-1 1-.2 1 .1 1 .3 1 2.8 1 1.2 1 .7 1 .5 1-2.5 1 6 1-.2 1-1.8 1-1.4 1 .2 1-1.2 1-.2 1 .2 1-.6 1-.1 1-.4 1-1.4 1 .1 1-2.2 1 .9 1 0 1-2.1 1-.4 1-.6 1-2.4 1-1.2 1-1.7 1-1.3 1 .1 1-1.4 1-1.1 1-2.3 1-1.5 1 .9 1 .4 1-.6 1-.8 1 1 1-1.1 1-1.1 1-1.9 1-.7 1 .8 1-.5 1 .2 1-1.5 1-1.1 1 2 1 0 1 .4 1 1.2 1-1.2 1-.1 1 .2 1 1.9 1-.8 1-.2 1 1.5 1 1.3 1 2.3 1-3.2 1-.4 1-1.3 1 1.4 1-2.7 1-.3 1 .3 1-1.2 1-.5 1-.6 1 3.6 1-.3 1 .9 1 .1 1-2.3 1-1.2 1 .7 1 .1 1-2.2 1-.9 1-.1 1 .3 1-.3 1 .8 1-2 1-1.6 1-.9 1-1.4 1-4.2 1-1.2 1 .9 1-2.6 1-.5 1-3 1 1.5 1 1.9 1-2.3 1-2.6 1 0 1-1.7 1 2.7 1-3.6 1-3.4 1 3.4 1 0 1 3.2 1 1.9 1 5.7 1 1.7 1 .4 1-2.5 1-.3 1 1.3 1-3.3 1 1.2 1-1.2 1 .4 1-2.3 1-5.9 1-1.1 1-.3 1-2.6 1 1.6 1 .3 1-1.4 1-.1 1 .3 1 1.2 1 1.8 1 3.6 1 2.2 1-1.1 1 4 1 3.3 1 .3 1-5.4 1 1.2 1-3 1-1 1 1.4 1-1.5 1-1.3 1 1 1 .9 1 .6 1-2.6 1-1.3 1-4.3 1-1.9 1-1.5 1 .3 1 2.4 1 .7 1 4.3 1-1.1 1 1.1 1 3.6 1 2.3 1-1.3 1 1.7 1-.4 1 1.1 1 4.2 1 3.5 1 2.3 1 2.1 1 3 1 2.5 1 2.2 1 3.3 1-1 1-2.7 1 .9 1-2 1-1.3 1-.9 1-2 1-2.1 1-1.5 1-1.9 1-.9 1-2.5 1-.9 1-2.9 1-1.3 1-1 1-2.5 1-.7 1 1 1 1 1-.3 1-1 1 1.7 1 .7 1 .4 1 5.6 1 8.4 1 6.3 1 8.9 1 7.5 1 3.4 1 1.7 1-.1 1-1.7 1 1.5 1-.6 1 .3 1-.5 1 1.8 1 .1 1 .3 1-.1 1 1.9 1 .5 1-.2 1 .4 1 4.7 1 3.9 1 6.1 1 2.6 1 3.6 1 5.6 1 4.3 1 7.1 1 3.9 1 4.9 1 6.1 1 4.8 1 5.6 1 7.4 1 3.4 1 2.9 1 2.2 1 5.4 1 3.5 1 1.6 1 2.9 1 .2M585 813.7l1-2.9 1-1 1-6.7 1-7.4 1-5.4 1-9.1 1-5.1 1-9.2 1-5.2 1-8.9 1-6.9 1-5.8 1-8.4 1-10.3 1-6.8 1-5.5 1-10.1 1-7.8 1-7.6 1-6.4 1-6.4 1-2.8 1-6.1 1 .8 1 0 1-4.5 1 1.3 1-7 1-2.3M725 650.2l1 4.4 1 4.8 1 1.6 1 .4 1 2.5 1 3.4 1-.4 1 .7 1 3.2 1-2.3 1 .5 1-2.8 1 3.2 1 .6 1 .5 1 4.6 1 4.4 1-5.8 1 4.2 1-1.3 1 2.1 1-1.5 1 2.4 1 4.2 1 0 1 .6 1 5 1-1.1 1 .6 1-.7 1 .7 1 .8 1-.1 1 1.7 1 .5 1 4.4 1 1.8 1 .1 1-1.9 1 1.2 1 2 1 2.4 1-3.3 1-1.3 1 2.8 1-1.4 1-3.6 1 .7 1 2.1 1 1 1-1.4 1 4.2 1-2.5 1 .9 1 1.5 1 1.6 1-3.2 1 2.9 1 .5 1 1.8 1 3.7 1 1.6 1-3.3 1 1 1 1.6 1-4 1 .9 1 1.6 1-1.2 1-1.7 1-1.9 1 5.2 1 2.8 1-4.2 1 .2 1 1.1"/>
<path d="M178 731.7l1-1.2 1 .5 1 .1 1-.2 1 .1 1 .2 1 0 1 0 1-.6 1 1.1 1 .5 1 1.2 1-.6 1 .8 1 .3 1-.3 1 .2 1-.3 1 .2 1 .2 1 .4 1-.1 1-.2 1 .9 1 .4 1 .5 1-.5 1 .3 1 .7 1-1 1-.7 1-.6 1-.6 1 .4 1-.2 1 .2 1 .2 1 1 1 .5 1-1.3 1-.1 1-.6 1 .5 1 2.1 1 .9 1 1 1 .6 1-.2 1 1.8 1-.3 1-.7 1 1.2 1 1 1-.1 1 .2 1-.7 1 .4 1 .8 1 .4 1-1.3 1-.2 1-1 1-1.9 1-2.1 1 .3 1 .2 1 .5 1-.1 1-.2 1 1.4 1 1.4 1-.1 1 .6 1 .6 1-1.5 1 1.6 1-.8 1-.2 1 .1 1 1 1 .3 1-.6 1 2.7 1-.3 1-1.7 1-.2 1-1.1 1 2.1 1 1.7 1 .4 1 .9 1-.4 1 3.2 1 1.3 1 1.5 1-3 1 .6 1-2.2 1 .3 1-.7 1-1.4 1 1 1-.5 1 .1 1 1.6 1 1.3 1 1.7 1 .3 1 1 1-.5 1-.5 1-.3 1-.1 1-1.2 1 .1 1-.7 1-.7 1 2 1-1 1 2.9 1-.7 1-2.9 1-1.9 1 .2 1 0 1-.5 1 .5 1-1.4 1 4 1-1.3 1-.8 1 1.3 1-3.4 1 1.4 1 .4 1-.2 1 .6 1 0 1-.4 1 3.1 1-2 1-2.1 1-1.9 1 .9 1 1 1 .6 1-1.7 1-.5 1 .8 1 2.2 1 .9 1-2.4 1-3.9 1 3 1 2 1 .1 1-2 1 .7 1 .2 1-2.8 1-.4 1 3.4 1-3.2 1 .4 1 .6 1-2.7 1 .6 1 1 1 2.4 1-1.5 1 1.2 1 2.1 1-.7 1-1 1 3 1-.7 1 2.2 1 3.4 1-.4 1-1.3 1 1.8 1-2.3 1-.6 1 2.1 1 .7 1 1.1 1 1.1 1 .5 1-2.5 1-.9 1-.5 1-1.7 1 1.1 1-.2 1 .1 1 1.1 1 .5 1-1.7 1-1.1 1-1.6 1-.3 1-1.4 1-.9 1-1.4 1-.1 1 1.3 1-2.6 1-1.8 1-.6 1-.9 1 1.1 1-1.7 1-1.3 1 1.1 1-1.6 1 .4 1-1.5 1 .6 1-.3 1-.9 1-.3 1-.8 1-1.7 1 3.2 1 1.1 1-.9 1-2.6 1 1.5 1-1.1 1 .9 1-2.9 1 3 1-.4 1 3.6 1-3.9 1 1 1 1.2 1-1 1 1.4 1-1.5 1 1.9 1 1.5 1 1.8 1 .9 1-2.6 1 2.2 1-2.1 1 .6 1-.6 1 1.5 1 2.6 1 .2 1-1.6 1-.9 1-1.2 1 1.3 1 1.5 1-.7 1 4.4 1-2.9 1-1.1 1 .8 1-.3 1 2.9 1 1.5 1 1.5 1-.9 1-2.4 1 1.8 1-.5 1-2.4 1 5.3 1 1.8 1 .4 1-2.8 1 2.3 1 .1 1-.6 1 .9 1 2.4 1 3.2 1 2.2 1-1.7 1 4.3 1 2 1 .8 1 3.6 1-3.5 1 2.8 1 5.8 1 3.1 1-.3 1 3.1 1 4.9 1 2.8 1 .6 1 6.7 1 4.5 1 4.1 1-9.1 1-.8 1-4.7 1 1 1 4.8 1 3.8 1-1.5 1-6.1 1-7.1 1 2.5 1-8 1-3.8 1-3.5 1 5.1 1 7.4 1 3.3 1-1.4 1-.3 1-2.2 1-6.7 1 2.8 1 10.5 1 5.5 1 1.1 1 4.2 1 3.3 1 2.4 1 3.2 1 6.4M610 813.7l1-10.1 1 3.1 1 2.7 1 0 1-19.2 1-10.8 1-4.3 1 6.1 1-9 1 7.4 1-.1 1-10.9 1-10.8 1 3.2 1-3.5 1-6.6 1-13.6 1-2.2 1 7.1 1-4.3 1-4.3 1-6.7 1-6.7 1 2.3 1-8.2 1-9.3 1-5.1 1-4.9 1-2.6 1-5.4 1 1.5 1-1.7 1-1.4 1-5.2 1-2.9 1-7.6 1 2.7 1 1.4 1 5.9 1-2.3 1-1 1-4.6 1-9 1-1.7 1-5 1 3.8 1-1 1-.2 1-8.5 1 1.6 1 1.5 1 5.8 1 8.6 1-3.7 1-4.3 1-1.2 1-2.1 1 2.6 1 7.2 1 8.2 1 10.4 1 3 1 6.9 1 3.5 1-2.4 1 2.2 1-.6 1 0 1-.3 1 5.5 1-.6 1 3.5 1-4.9 1-6.6 1-2.5 1 .1 1-1.8 1 2 1 2.7 1-2.4 1 .5 1 2.2 1 2.1 1 2.4 1 4.2 1-2.4 1-2.7 1-2 1 2.7 1 1.9 1 .2 1 5.1 1 .5 1-2.5 1 2.3 1 2.9 1-7.5 1 6.3 1 7.9 1-8.9 1-4.7 1 3.4 1-5.1 1 9.8 1-1.9 1 3 1-4.8 1 4.4 1 0 1 0 1 4.8 1 4.2 1 1.1 1 1.8 1-2.4 1-1.4 1-.4 1-1.8 1-2.2 1-1.4 1-1.8 1 1.1 1-2.4 1 2.2 1-3.3 1 5 1-3.1 1-1.5 1-2.4 1 1.6 1-2.3 1-2.6 1 3.1 1-.5 1 4.4 1-1.8 1 4.2 1-1.1 1 3.9 1 2 1 2 1-2.7 1 2.8 1-.6 1-.6 1-2.9 1 3.3 1-3.5 1 3.3 1-2.3 1-.8 1 2.1 1-1 1-1.8 1-1.6 1 2.6 1 2.8 1-2.8 1-.8 1 5.3 1-.7 1-1.3 1 .5 1-1.5 1 0 1 1.7 1-.1 1-2.9 1 4.8 1 5.9 1-3.5 1 1.7 1-2.7 1 4.3 1-1.4 1-.2 1 0 1-1.3 1 3.3 1 .6 1-1.7 1-5.7 1 2.6 1 .9 1 .3 1-2.6 1 2 1 .6 1 6.2 1-2 1-3.6"/>
<path d="M178 733.5l1 0 1 .6 1 .9 1-.4 1-.1 1-.1 1 .7 1-.1 1-.1 1 .8 1-.3 1 .4 1 1 1 .7 1 .3 1 .7 1-.5 1-.1 1-.1 1 0 1-.1 1 .8 1-.4 1 .6 1 .6 1-.9 1-.3 1 .1 1 .5 1-1 1-.6 1 .9 1 .9 1 .8 1-.5 1 .9 1 .7 1 .7 1 .1 1-.2 1 .3 1 .4 1 .9 1 .6 1 0 1 1.6 1 .9 1-.4 1 2.5 1 .4 1-1.1 1 .3 1 .7 1 .4 1 1.1 1 .3 1 .8 1 .6 1-1.7 1 1.5 1-.4 1 .4 1-2.6 1-.7 1 1 1-.3 1 1.4 1-.7 1-.7 1 0 1-1 1-1 1 .2 1 1.3 1 1.5 1-1.1 1-2.2 1 .5 1 .4 1 .6 1-.1 1-.7 1 0 1-3.2 1 .4 1 1.4 1-.1 1 .7 1 1 1-.2 1 .5 1 .7 1 1.8 1 .1 1 1 1-1.4 1-.9 1-1.9 1-.6 1-.4 1-.2 1-.8 1 1.1 1 1 1 1.7 1-1.4 1 0 1-.6 1-.3 1-.2 1-1.8 1-.3 1-5.3 1-.8 1 1.5 1 1 1 .5 1 1.1 1 .6 1-.3 1-1.2 1-1.6 1-1.8 1 4 1 2.3 1-1.7 1 1.1 1-2.8 1 1.4 1 2.8 1-1.4 1-.8 1-2.5 1 3.3 1 .3 1-.6 1 .9 1 .9 1 .9 1-1.8 1 1.9 1 .7 1-.3 1 .1 1-2.3 1 .2 1-2.1 1 1.1 1-1.1 1-.7 1-1.6 1-.6 1 .7 1-1.1 1-1 1-3.5 1-4 1 1.4 1 1.4 1-.4 1-.9 1 .3 1-1.4 1-.5 1 3.3 1 .3 1-.8 1-1.7 1 1.3 1 .3 1-.2 1-.1 1-5.3 1 1.1 1 .2 1 1.1 1-.4 1-1.2 1 0 1 1.7 1 1.4 1 .7 1-.9 1-2.9 1-1.2 1-3.5 1 1.4 1 .2 1-2 1 2.4 1 1.2 1 0 1-1.7 1 2.3 1 2.7 1 1.6 1-.7 1-2.8 1 .9 1 2.4 1 1.9 1-.6 1-.5 1-2.3 1 .7 1-.1 1-2.4 1 2.4 1 0 1-2 1 .2 1-1.9 1-.8 1-.2 1 .7 1 1.8 1-.4 1-2.1 1-2 1 1.4 1 .2 1 2.1 1 .1 1 0 1-2.1 1 1.3 1-1.7 1-.8 1 0 1 2.4 1-2 1 4.6 1 1.7 1 3.4 1 2.2 1 1.8 1-.2 1-.6 1-1.4 1-.2 1 2.8 1 1.2 1 .7 1 .5 1-1.7 1 1.5 1-3 1 .7 1-1.5 1 2.7 1-.7 1 3.1 1-.2 1-.1 1 1.7 1-.8 1-.7 1 1.5 1 3.2 1 1.1 1 1.3 1-.3 1 1.1 1 .7 1 3.2 1-1.2 1-.1 1-3.1 1 1.2 1 .8 1 1.8 1 1.3 1-.1 1 .9 1 0 1 1.6 1-2.1 1 1 1 1.2 1 1.9 1 .9 1 8.2 1 4 1-1 1-1.5 1 .4 1 3.4 1-.8 1 6.6 1 5.4 1 10.4 1 4.5 1 8.5 1 4.1 1 1.1M487 813.7l1-4.4 1-2 1 3.6 1 2.8 1-.7 1-1.7 1 2.4M615 813.7l1-2.4 1-7.4 1-5.8 1-3.6 1-3.2 1-7.5 1 1.9 1-9.3 1-10 1-3.8 1 4.6 1-12.5 1-5.7 1-3.8 1 3.3 1 6.2 1-3.1 1-3.7 1-11.1 1-2.5 1-10.3 1-4.4 1-.4 1-3.3 1-3.9 1-12.4 1-5.2 1-1.7 1-6 1-6.1 1 5.1 1 8.7 1-2 1 1 1 3.3 1-3.9 1-.3 1-9.3 1-2.8 1-2.4 1-1.6 1 .5 1-2.4 1-3.2 1-6.2 1 5.8 1 .2 1 1.4 1 1.3 1-5.9 1-3.6 1-8.4 1-2.8 1 11.6 1-1.1 1 6 1 1.6 1 1.1 1 3 1-4 1 12 1 3.7 1 4.5 1 4.7 1-4.4 1 7 1-1.8 1-1.7 1-1.1 1-4.4 1-7.1 1-4.6 1 3.7 1-1.3 1-2.9 1 4.4 1-3.5 1-5.6 1 4.7 1 5.8 1 8.3 1-2 1 0 1 2.2 1-7.8 1-1.7 1-.6 1 1.7 1-2.4 1 1.3 1-.8 1-2.2 1-2.2 1 11.7 1-4.3 1-6.1 1 6.3 1 3.2 1 3.8 1-5.1 1 3.9 1 7.6 1 5 1-3.1 1-.5 1 3 1 5 1 .6 1-.6 1 3.4 1 4.2 1 .9 1-5.7 1-.1 1-1 1 2.4 1-2.4 1-1.8 1 2.8 1-3.5 1 1.9 1-1 1 4 1-1.9 1 3.5 1 2.4 1-5.7 1 .1 1 1.3 1 2.8 1 5.9 1-2.6 1-1.1 1 3.5 1 5.2 1-.2 1 .8 1 1.5 1 .9 1-2.4 1 3.6 1-7.3 1 5.3 1-2.2 1 1.9 1-3.8 1 4.9 1 2.1 1-1.3 1 .7 1-2.2 1 3.8 1-2.5 1-1.6 1-2.3 1 3 1 1.1 1 1.5 1-2 1 2.6 1-4.9 1 2.2 1 2.2 1 1 1-.5 1 .8 1 .8 1-3.2 1 3.8 1-1.3 1-4.3 1 4 1 2 1-2.7 1-1.2 1 1.1 1-.9 1-1 1-.4 1 1.8 1-2.9 1 4.8 1-4.5 1 4 1 2.1 1-4.3"/>
<path d="M178 733l1 .5 1 .6 1-.1 1 .1 1 .7 1 .7 1 .8 1-.3 1 1 1-.3 1 .4 1 1.2 1 .4 1 .7 1 .3 1 .6 1-.6 1 .7 1 .3 1-.4 1 .4 1-.2 1 .5 1 .5 1-.7 1-1.4 1 .8 1 .4 1 .8 1-.4 1 1 1-1.4 1 .4 1 .1 1 .3 1 .6 1 1.1 1-.2 1 .8 1-.4 1 1 1 .6 1 1.5 1 2.5 1-1 1 .8 1 .5 1-.1 1 1.4 1 0 1-.7 1 0 1 .2 1-1.2 1 1.5 1-.2 1 .5 1 1.1 1-.6 1 .3 1-.2 1 3.4 1-1.5 1-.6 1 .2 1-.2 1 1.3 1-.3 1 .4 1 1.3 1-2.2 1-1.3 1 .5 1 .1 1 1.7 1 2 1 1.1 1-.2 1 .4 1-.5 1-.2 1 1.2 1-.2 1-1 1 .5 1-.5 1 1 1 4 1 .2 1-.8 1 1.3 1-1.6 1 .1 1-1.5 1 .3 1-3 1-2.6 1 .2 1-1.8 1-.3 1 1.2 1-.2 1 2.3 1 2.5 1-1 1 .4 1-.4 1 .2 1 1.1 1-.2 1-.7 1-2.1 1 .3 1-2.7 1-1.2 1 .5 1-1 1 .1 1-1.5 1 .5 1 .1 1-.6 1-2.5 1-.2 1 .5 1-1.7 1-1.2 1-1.9 1 1.5 1-.7 1-.7 1 1.2 1-3.2 1 1.3 1 1.9 1 .6 1-.4 1-2.3 1-2.4 1-.1 1-.3 1-.3 1 .2 1 .6 1-4 1 1.1 1-.9 1 2.2 1-.2 1-2.4 1-2.1 1 1.3 1 .4 1 1 1-.9 1-2.2 1 2.7 1 1.8 1 .2 1 0 1-.4 1-.7 1-3.1 1 3.6 1 .6 1-.1 1 .8 1 1.5 1-.3 1-1.1 1-.5 1 2 1-.4 1 .4 1-2.1 1 1.4 1-.6 1-.7 1-.7 1 1.9 1 .3 1 2.7 1 .1 1-.5 1 .5 1 1.4 1-3 1-2.2 1-.3 1-3.4 1 .3 1-1.3 1-3 1 .2 1-1.4 1 1.6 1 4.7 1 1 1-.4 1-2.1 1-1.3 1-1 1 0 1 2.4 1 4.1 1-2.3 1-2.8 1-.8 1-.5 1-.8 1 .9 1-1.3 1 1.5 1 1.2 1 2.5 1 1.7 1-.2 1-1.9 1-1.4 1-1 1 .8 1-4.1 1-.6 1 2.5 1 .7 1 .9 1 .4 1 .6 1-1.3 1-1.2 1-1 1 2.5 1 3.1 1 2 1 .1 1-1.5 1-.5 1 .6 1-2.9 1 4.1 1 1.7 1-2 1-1.6 1 1.1 1 1.1 1-.3 1 0 1 .1 1-4.3 1-4.8 1-4 1 3.1 1 1.4 1 3.5 1-4.1 1 1.5 1 2.3 1 .8 1-1.3 1-.4 1-.2 1-2.2 1 3 1-2 1 .9 1 1.6 1 1.3 1 1.6 1 2.3 1-.6 1 1.2 1 1.1 1-1.6 1-3.5 1-.9 1 2.2 1 .4 1 3.4 1 1.8 1 4.4 1 3.2 1-1.1 1 2 1 2.3 1 .4 1 .4 1-.2 1-3 1 5.5 1 5.7 1 2.9 1-.1 1-.7 1 8 1 0 1 5.3 1 2 1 4.5 1-2.4 1-7.3 1-.6 1 4.9 1-6.8 1-.2 1 1.6 1-6.8 1 1.1 1 3.2 1-8.3 1 2.3 1 3.5 1 1.6 1-5.1 1-1.7 1 4.7 1 9.3 1 1.9 1-11 1 2.3 1 4.1 1-2.5 1 3.4 1-11.2 1 1.2 1 10 1-4.4 1 2.5 1 17.2 1 4.9 1-1.5 1-2.2 1 .2 1 .5 1 7.2 1 0 1 2.9 1-10.7 1 7.7 1-14.7 1 .6 1 4.5 1 10.9 1 10.2 1-.4 1 3.5M608 813.7l1-7 1-7.7 1-8.3 1 3.6 1-2.3 1-10.8 1-12.5 1 5.8 1-11.4 1-2.4 1-5.9 1-6.4 1 3.7 1-11.7 1-8.1 1-3.2 1 4.6 1-7.2 1-6.1 1-2.1 1 13.8 1-2 1-1.6 1-4.3 1-10.9 1-.7 1 3.9 1-10.1 1-15.1 1-4.1 1-5.5 1-3.3 1-2.5 1-2.1 1-4.5 1-8 1 2.2 1-12.2 1-1.1 1 0 1 2 1 .9 1-2.9M653 650.2l1 6.3 1-4.7 1-1.6M698 650.2l1 3.9 1-1.3 1 2.4 1 .4 1 .1 1-2.6 1 2.1 1 6 1 7.3 1-7.8 1 2 1-6 1-1.5 1 6.5 1 2.7 1-1.2 1-.3 1 3.5 1 1.7 1 .5 1 9.6 1 6 1 2.4 1-4 1 1.1 1 3.6 1 3.2 1 1.8 1 3.3 1 6.1 1-2.3 1-.8 1-9.1 1 1.6 1-2.1 1 .4 1 2.1 1 2.9 1-3.8 1 .4 1 3.9 1 2.1 1 3.3 1-3.9 1 .9 1-1 1 5.2 1 .1 1-2.2 1-2.6 1 5.5 1 4 1 2.3 1 2.4 1 0 1 1.2 1 4.4 1 2.2 1 2.4 1-2.5 1-.5 1-3.1 1 1.1 1-1.6 1-1.4 1 1.9 1-2.2 1-2 1 3.8 1-3.8 1 3.4 1 1.6 1-.6 1 3.1 1 1.1 1-.6 1-2.6 1-1.3 1-2.3 1 7.1 1-4.9 1 2.7 1-2.9 1 2.1 1 2.3 1 0 1 0 1-1.7 1-3.5 1 2.3 1 3.4 1-1.9 1 1.9 1 2.9 1-2.3 1 5.7 1-2.1 1 4.1 1-.1 1-4.8 1 1.4 1 1.5 1 .6"/>
<path d="M178 730.7l1-.7 1-.6 1 .3 1 .3 1 .3 1-.3 1 .5 1 .2 1 .2 1 .5 1 .8 1 .3 1 .3 1 1 1 .2 1-.8 1 .2 1 .8 1-.4 1 .3 1-.8 1 .1 1-.3 1 .4 1 .1 1 .6 1 .1 1 .9 1 .1 1-.7 1 .2 1 .3 1-.2 1 1.2 1-.6 1 0 1 1 1 .7 1-.3 1 1.2 1 1.3 1-.4 1 1.3 1 1.6 1-1 1 1.5 1-.4 1 1.5 1 1.9 1 .1 1-.4 1-.6 1 .4 1 .3 1-.5 1-1.4 1 1.9 1 1.7 1-.1 1 .5 1-1 1-.5 1-1.4 1 .6 1-.9 1 .1 1-.9 1 0 1-1.2 1-.5 1-2.5 1-.1 1 0 1 0 1 2.3 1 1 1 .3 1 .5 1 1.7 1 .3 1 .4 1-.3 1-.4 1 1.5 1-.9 1 0 1 .3 1 .2 1 0 1 0 1 2.2 1-.3 1 3 1-.2 1-1.4 1-2.3 1 .3 1-1.9 1-2 1 .6 1 1.7 1 1.9 1-.1 1-.7 1 .7 1 1.3 1 1.8 1-1.2 1-1.4 1 .2 1 .3 1-.4 1-.1 1-.5 1-.2 1-2.3 1 2.5 1-.8 1-1.1 1-.9 1-1.2 1 .8 1-.3 1-2 1-1.7 1 1.1 1 1.4 1 .7 1 1.6 1-3.4 1 1.4 1-1.8 1-1.4 1-.4 1 .1 1 .6 1-2.4 1 .6 1 .5 1 1 1-.1 1 1.5 1-.3 1-2 1-1.7 1 2.8 1-.1 1 2.5 1 .8 1-2.2 1 1 1-.6 1 .8 1-1 1 2.2 1-.6 1-.1 1 3.3 1 0 1-.6 1-1.3 1 .1 1 .5 1-.1 1-.5 1-.5 1 .9 1-2.9 1 0 1 .8 1-.2 1 1.2 1-.1 1-2.7 1-.6 1 1.5 1-.6 1 3.1 1 2.1 1-1.6 1 1.2 1 0 1 .1 1 3.1 1-2.4 1 .1 1-3.1 1 1.9 1 1 1-4.5 1-1.2 1-.6 1 5.1 1 .3 1 .4 1 2.1 1 .6 1-.2 1-.9 1 1.7 1-1.4 1 1.8 1-.7 1-1.3 1 .3 1-2.6 1 .4 1 0 1 .2 1 1.1 1 1.7 1-.4 1-1.4 1-.5 1-.4 1 2.2 1 1.6 1-2.7 1-2.1 1 .8 1-1.2 1-1.6 1 .2 1-.8 1 3 1-1.5 1-1.2 1-2 1-2.2 1 1.3 1 1.4 1 2 1 3.2 1-1.7 1-1.8 1 .2 1 .5 1 2.6 1-1.8 1 3.1 1 3.3 1-.2 1-.2 1 2.7 1 7 1-1.6 1 .9 1 .1 1-2.5 1-1.7 1-1.8 1 .5 1 1.2 1 .7 1 2.1 1 5.2 1 .6 1-.2 1 .9 1-1.1 1-3.4 1 3.2 1-2.6 1 .2 1 1.3 1-3.6 1 1.3 1-2.1 1-1.6 1 .9 1-2.1 1 2.6 1 0 1-.4 1 2.2 1 1.5 1 1.4 1 .8 1 .9 1-.4 1-.3 1 4 1 .8 1 1.9 1 1.4 1-4.2 1 2.1 1-.2 1 5.8 1 1.3 1 4.9 1 8.1 1 11.6 1 1.5 1 8.9 1 2.6M620 813.7l1-11.5 1-1.3 1-22.3 1-5.2 1-5.5 1-.4 1 1.2 1 4.3 1 2.3 1-5.3 1 2.9 1-8.5 1 1.2 1-11.5 1 7.6 1-6.2 1-2.6 1 6.2 1-4.7 1-9.3 1-2 1 1.5 1-7.6 1 2.5 1-4.4 1 1.7 1-4.4 1-3.9 1-4.6 1-7.1 1-9.1 1-5.3 1-8.7 1 1.7 1-2.5 1 0 1-3.8 1-2.7 1-.6 1-2 1-2.4 1 2.1 1-.5 1 1.9 1-4.7 1-13.5 1-2.4 1 .5 1 2.9 1 .8 1 9 1-2.4 1 5.4 1-2 1-1 1-1.1 1 1.2 1 6.1 1-3.5 1 .2 1-.2 1 1.7 1 5.4 1-2.8 1-.6 1-2.2 1 4.1 1-.5 1 7.1 1-2.3 1 9.7 1 4.2 1-1.4 1 2.1 1 4 1-8 1-5.5 1-1.5 1-3.2 1 1.7 1-5.5 1 4.3 1-3.4 1 5.2 1 1.6 1 2.3 1-4.9 1 2.2 1 1.3 1 5.6 1 .7 1 2 1-1.8 1-.6 1 .5 1 .1 1 3.4 1 4.6 1-.4 1 6 1-2.9 1 3.3 1-2.2 1-1.4 1 4.1 1 .9 1-1.2 1 2 1-3 1 5.6 1-3.3 1-2.1 1-2.5 1 5.7 1-2.1 1-1.1 1-1.1 1 .2 1 2.2 1 2.4 1 2.3 1 0 1-.4 1-1.2 1 1.5 1-2.3 1-1 1-1 1 3.3 1-1.3 1-2.9 1 5.7 1-.4 1 8.7 1-3.7 1-.1 1-.7 1-1.1 1 1.1 1 1.6 1-2.9 1 .8 1 1.3 1-4.1 1 3.3 1 1.3 1-6.7 1 1.9 1 .8 1-.4 1 3.3 1 1.9 1-1.5 1 .3 1-3.6 1 5.3 1-5.3 1 3.4 1-5.5 1 1.4 1-5.3 1 9.7 1-3.4 1-1.2 1 5.4 1 1.3 1-.2 1-3.2 1 1.4 1 2 1-.6 1-1.9 1 2.8 1 .3 1-3.8 1 1 1 4 1-2.9 1 2.5 1-1.6 1-1.6"/>
<path d="M178 729.7l1-1.1 1-.5 1-.1 1 1.1 1 .2 1 .7 1 .3 1 .2 1 .6 1-.6 1 .9 1 .2 1-.3 1 .6 1 .8 1-.6 1-.1 1-.7 1 0 1 .7 1-.2 1-.1 1 .4 1 1 1 .4 1-.7 1-.7 1-.4 1 0 1-.5 1 1.1 1-1.6 1-.9 1 .2 1 1 1 .7 1 .5 1 .1 1 .6 1 1.8 1 1.5 1 .3 1 .2 1 .3 1-1.3 1 .2 1 1.1 1-.3 1 2.4 1 1.5 1-1.7 1-.4 1 .4 1 1.5 1 2.9 1 .2 1 .3 1 .7 1-.3 1 .6 1-.2 1-.7 1 .1 1-.8 1-.8 1 .1 1 1.9 1-1.8 1-.3 1 1.3 1-2.7 1-1.7 1-.5 1 2.5 1-.1 1-1.5 1 2.9 1 .3 1-.9 1 1.5 1-.5 1-.2 1-.6 1-.9 1 2.2 1-.7 1-1.4 1-1.2 1 3.3 1 1.2 1 1.5 1 .4 1 .8 1 .7 1-.3 1 .8 1-1.1 1-.1 1-1.4 1-1.1 1-2 1-.1 1 3.6 1-4.1 1 2.8 1-.3 1-1.5 1-.4 1-2.3 1-1.1 1 .8 1-.4 1 3.8 1-.1 1-1.1 1-.5 1-1.2 1 .4 1 2.1 1-.2 1-2.2 1 .1 1-1.7 1-.6 1 2 1-1.2 1 1.1 1-2.7 1-.9 1-2.1 1 2 1 .2 1 1 1 1.3 1 .8 1 2 1-.5 1-.6 1-1 1 .6 1 2.1 1-.7 1-.9 1-1.8 1-3.1 1 .5 1-.4 1-.7 1-.7 1-3.7 1-.1 1-2.7 1-.9 1-3.2 1 1.8 1-1.9 1-4.9 1 1.8 1 1.3 1 0 1 .3 1-1.7 1-4.4 1-.7 1 2.6 1-4.1 1 2.3 1-1.3 1-1.6 1 .4 1-3.1 1-2 1-.5 1 4.2 1 0 1 2.8 1-2.4 1 .6 1-3.5 1-.2 1 1 1 3 1-2.1 1-1.9 1 1 1 3 1 4.1 1-3 1-.3 1 .3 1 2.4 1 .5 1 .2 1 1.4 1-1.8 1-1.3 1-.3 1-1.6 1 1.8 1-1.9 1 2.1 1-2.6 1 3.1 1 1.7 1-.2 1-.2 1-3.4 1 3 1 1.8 1 2.2 1 2.9 1-2.3 1 2.7 1-2.5 1-3.7 1 2.5 1-2.1 1 .6 1-2.6 1-2.5 1-.9 1-4.1 1 1.8 1-.1 1-3.4 1 3.5 1 2.3 1 1.3 1-1.7 1 1.7 1 .8 1-.1 1-1.2 1 3.8 1-1.7 1 .5 1-2.3 1-2.2 1 1 1-1.8 1-1.6 1 .4 1-.3 1 3.1 1-.7 1-2.2 1-3.1 1 .9 1-1 1-.3 1 .8 1 2 1-.5 1-2.1 1 .8 1 2.9 1-.8 1 3.5 1 1 1-1.1 1-1.3 1 4.1 1-3.6 1-3.6 1-.2 1 3.5 1 7.1 1-1.7 1-1.1 1-2.2 1-.3 1 1.2 1 3.2 1 .3 1 3.4 1-.3 1-2 1 1.5 1-.2 1 3.6 1-3 1 2.2 1 1.6 1 .8 1-1.8 1 2.9 1 3.4 1 7.4 1 1.7 1 2 1 7.7 1-2.9 1-2.9 1 3.9 1-.6 1 9.6 1 .1 1 7.2 1-5.1 1-7.4 1 1.1 1-4.2 1-7.8 1-1.6 1 3.5 1 1.2 1-1.9 1 1.3 1-9.6 1-.1 1-8.1 1-9 1-3.4 1 4.1 1 6.7 1 1.7 1 8.2 1 3.4 1-3 1 1.4 1-6.1 1-6.1 1 3 1 11.2 1-2.9 1 6.3 1 2.8 1 7.5 1 18.2 1 17.4 1-.6 1 6.2 1 .3 1 7.9 1 3.9 1 .7 1-3.5 1-4.3 1 9.6 1-5.4 1-7.1 1 3.5 1 6.4 1 8.7M598 813.7l1-.4 1 .4 1 0 1-7.3 1-6.6 1-21.1 1-1.3 1-10 1-6.8 1-6.2 1 6.7 1 11.3 1-3.2 1 9.4 1-13.1 1-4.9 1-5.5 1-8.1 1-11.3 1-7.2 1-5 1-7 1-9.4 1-6.4 1 7.4 1-5.5 1-13.2 1 4.1 1-1.6 1-7.5 1-7.5 1 8.5 1 5.1 1-12.4 1-5.6 1 5.7 1 2.9 1-1.7 1 .9 1 .6 1-4.6 1-16 1 8.5 1-14.6 1-1.7 1-2.3M651 650.2l1 1.6 1 0 1-1.6M673 650.2l1 2.6 1 6.1 1 9.3 1 1.5 1 2.3 1 5.1 1-1.8 1-6.7 1 4.7 1-4.8 1 3.7 1-2.3 1 1.5 1 4.8 1 3.5 1-3 1-7.5 1 .2 1-3.3 1-5.6 1-2 1-.1 1-4.4 1 2.7 1-5.7 1 5.3 1-4 1 4.7 1-3.1 1 5.1 1 3.2 1 2 1 3.4 1 .4 1 1.3 1-1.3 1-2.5 1 5.6 1 1.1 1 4.7 1-1.7 1 .6 1 4.2 1 .2 1-1.5 1 1.8 1-4.1 1-3.9 1 4.7 1 7.1 1 .3 1 2.7 1-3.8 1-.4 1 2.6 1 3.8 1 2.7 1-1.5 1 1.8 1-2 1-1.7 1-2 1-5.4 1 6.3 1 1.7 1-1.6 1 3.6 1-1.1 1 .5 1-.1 1 1.9 1 3 1-.6 1 3.8 1 2 1-4.2 1 5.6 1-.1 1 2 1 .7 1-2 1 5 1 3.4 1-7.2 1 3.4 1-.4 1 1.8 1-.1 1-2.8 1 .6 1-6.6 1-1.7 1 1.5 1 1.7 1-1.1 1 0 1 .5 1 1.5 1 3.2 1-1.1 1 5.7 1-2.4 1-.2 1 3.5 1 2.3 1 .1 1 2.7 1-4.7 1 1.9 1-2.2 1 .6 1 1 1 5.4 1 .8 1 7.1 1 .6 1-2 1-.1 1-4.3 1 2.6 1 2.8 1-3.8 1-1.1 1 4 1-2.5 1-4.5 1 2.4 1 3.4"/>
<path d="M178 732.2l1-.1 1 .8 1-.2 1 .8 1 0 1-.4 1 .6 1 .7 1-.2 1 .5 1 .2 1 .9 1 1 1-.5 1-.3 1 1.5 1 .6 1-.8 1-.6 1 .2 1 .4 1-.4 1 1.2 1-.2 1 .5 1 .1 1-.1 1 .1 1 1.6 1-.5 1 .1 1 0 1-.1 1 .9 1-.3 1 1.1 1 .7 1 .6 1 1.3 1 2.1 1-.9 1-.2 1 1.3 1 1.9 1-.3 1 .5 1 .1 1-.6 1 2.4 1 .7 1-.6 1-.1 1-.2 1 .5 1 .9 1 1.3 1 .5 1 1.5 1-.7 1 0 1-.7 1-.9 1-.1 1 .4 1 .6 1 .7 1 3.2 1-2.4 1 .1 1 0 1-2.1 1-1.7 1-1.4 1 1.1 1 1.7 1 .2 1 .6 1 .3 1 2.3 1-1.1 1 2.3 1 2 1 .6 1-.1 1-.3 1 .1 1 1.6 1-.5 1 1.4 1-2.5 1-.3 1 3.9 1-.6 1-.6 1-2.5 1-.5 1 1.3 1-.4 1-1.5 1 1.4 1 2.2 1 1.6 1 .6 1-.9 1-.5 1-.9 1 .8 1-.6 1 .2 1-.3 1 1.6 1-1.1 1-.6 1 1.4 1 .1 1-.5 1-1.2 1-.9 1-2.4 1 .2 1 .9 1 .6 1-2.6 1 1 1 .4 1-1.5 1-.1 1-.6 1 3 1-.9 1-1.8 1 1.4 1 .6 1 .9 1 .8 1-.6 1-2.2 1 1.3 1-1 1-.3 1 .7 1-2.5 1 .5 1 .6 1 .9 1 .6 1 .8 1 1.8 1-1.4 1 0 1 1.8 1-1 1 .4 1-2.3 1 2.2 1 1 1-1.4 1-2.8 1 .1 1-1.9 1 .2 1 1.9 1-1 1-.5 1-2.1 1 .1 1 2.4 1-.7 1-2.5 1-1 1-1.4 1 1.4 1 0 1 1 1 .2 1 2.4 1-1.3 1 1 1-1.4 1-.8 1 .5 1 3.7 1-.1 1-1.1 1-3.2 1 2.8 1 .2 1-1.3 1-1.1 1-4.9 1 2.4 1-.9 1 .4 1 .1 1-.9 1 .7 1 2.8 1 .6 1 .6 1-2.9 1 5.7 1-.9 1 1.7 1 .4 1-2.1 1-.7 1-1.1 1-.2 1-4.7 1 .5 1-1.4 1-.6 1-.2 1-1 1-1.8 1-1.7 1 .1 1-3.1 1-3 1-1.1 1 .6 1-1.2 1 2.8 1-2.8 1-1.3 1-1.3 1 1 1 1.1 1-.8 1 2.3 1-.4 1 1.9 1-1.8 1 0 1-2.1 1 2 1 2.1 1 5.4 1-2.5 1 1.7 1-1.7 1 1.2 1 .9 1-3.3 1 2.5 1-3.4 1-.9 1 1.1 1 0 1-3.4 1 1.7 1 5.1 1 2.7 1-.4 1 .7 1 1.2 1 .1 1-1.9 1 2.4 1 2.4 1 1.1 1 3.4 1-.9 1 .6 1-.3 1 .1 1 1.3 1-.2 1 .3 1 .1 1 .7 1 .9 1 1 1 4.9 1-1.2 1-1.1 1 1.9 1-.6 1-3.5 1-.6 1 0 1-4.7 1 2.2 1 1.3 1 5.2 1 2.4 1 2.5 1-.7 1 1.9 1 5.8 1 6.8 1 1.1 1 2 1 3 1 3.1 1-.1 1 8.9 1 2.8 1 5.2 1 3.9 1 1.5 1-3.8 1-5.5 1 5.1 1-3.2 1-1.6 1-10.4 1 6.8 1-.5 1-.8 1-10.5 1-4.9 1-4.2 1 2.7 1 4.7 1-2.7 1-1.9 1-1.2 1 .4 1-.3 1-5.7 1 3.7 1 .4 1 3.7 1 7.4 1 .8 1 8.6 1 6.8 1 7.2 1-.5 1 .5 1-3.9 1 3.9M614 813.7l1-5 1-3 1-2.6 1-10.9 1-1.9 1-7.3 1-4.9 1-10.8 1-8 1-6.2 1-2.7 1-7 1-5.3 1-8.1 1 .4 1-.6 1-2.6 1-3.8 1-1 1 3.3 1-3.2 1-2.1 1-2.3 1-5.9 1 3.2 1-8.2 1-5.8 1 4 1-8.9 1-7 1-10.2 1-10.9 1 .2 1-.8 1 2.8 1-6.4 1 3.3 1-2.5 1-10.2 1 7.8 1-1.1 1-5.9 1-.9 1-4.5 1 0 1 7.7 1 8.2 1 5.8 1 6.3 1 5.4 1-9 1-4.8 1-6.6 1 6.8 1 .7 1 2.5 1 7.7 1-2.3 1 8.4 1-1.3 1-3.7 1-1.2 1-1.4 1 1.8 1-6.3 1 7.9 1 1.1 1 5.5 1 4.3 1-.8 1 .5 1-4 1-1.8 1-1.4 1 4.3 1-1.7 1-1.4 1 .6 1 3.6 1 4 1-6.9 1 .4 1 .8 1-1.1 1 2.4 1 .4 1-1.2 1 2.1 1-2.3 1-4.6 1-.6 1-1.5 1 9.1 1-4.8 1 1.1 1 6.7 1 6.7 1-3.7 1 3.2 1 .3 1 11.4 1-5.6 1 2.5 1-4.4 1 1.2 1 4.9 1 4 1 4 1 3.9 1-4 1-2.4 1 3.3 1-.9 1 .5 1-4.1 1 2.8 1-3.3 1-.2 1 1.3 1 1.2 1 3.3 1-7 1 4.9 1 3.2 1 4.3 1-1.6 1-.7 1-5.7 1-.4 1-2.8 1 2.6 1-.4 1 3.8 1 .1 1 1.9 1 5.1 1-1 1-.5 1-.4 1 2.1 1 2.1 1-3.6 1 4 1 .7 1 .3 1 2.3 1 2.4 1 1 1-3.8 1 4.3 1-2.1 1 1.3 1-3.5 1 3.6 1-1 1 4 1-5.7 1 .5 1 2.5 1 1.1 1-.8 1-3.8 1 .9 1 3.8 1-1.8 1-1.1 1-3.2 1-2.1 1 3.8 1-2.8 1 3.8 1-5.9 1 0 1 4.8 1-2.1 1-2.9 1 1.9 1-1.8 1 1.2 1 4.6 1 1.4 1-6.4 1-.4 1 1.4 1 .2 1 2.6 1-2"/>
<path d="M178 731.5l1-1 1 .4 1 .4 1 .3 1 0 1-.3 1 .1 1-.4 1 1.1 1-.4 1 .2 1 .7 1 .5 1 .5 1 1 1-.2 1 1.8 1 .4 1-.3 1-1.5 1 1.7 1-.5 1-.5 1-.3 1 .2 1-1.3 1 .2 1 .1 1 .2 1 .6 1 .2 1 0 1-1.3 1 .1 1 .6 1 1.8 1 .1 1 1.5 1 .1 1 1.1 1 0 1-.1 1-.1 1 1.3 1-.1 1-.2 1 1.2 1-1.1 1 1.3 1-.7 1 0 1 .3 1 1.8 1-.3 1-.5 1 .1 1 3.5 1-.3 1-.6 1 .1 1 1.2 1-.1 1-1.5 1 .2 1 .3 1 .6 1 1.5 1-1.7 1-.2 1-.3 1-.2 1-.3 1-.8 1 1.4 1 .1 1 .8 1 .3 1 1.8 1-.7 1-1.2 1 2.5 1-.4 1-.5 1-.9 1-.4 1 .7 1-.6 1 .6 1 .9 1 1.1 1-.7 1-.1 1 1.3 1 .4 1-.4 1-.1 1-1 1 1.3 1-1.2 1-.4 1 .2 1 .7 1 1.6 1-2.4 1 .2 1 .4 1-1.2 1-3.7 1-.2 1-2.5 1 0 1-1.6 1 .1 1 0 1-1.7 1 .1 1 1.5 1 1 1 1.6 1 1.1 1-2.3 1-1.5 1-.6 1 1.1 1 2 1 .2 1 2.3 1-3.4 1 1.7 1-.8 1 1.2 1-.2 1-.8 1 3.6 1 1.4 1 .8 1 .6 1-1.1 1-2.2 1-.7 1-2.2 1-2.3 1 0 1-.2 1-1.5 1-2.2 1-2 1-1 1-.4 1-.2 1-1 1-.9 1-.3 1-1.5 1 .4 1 1.7 1-2.1 1-.9 1 .8 1-1 1-1 1 3 1-1.1 1 1.9 1-4.5 1-2.2 1-1.2 1 2.5 1-1.2 1 3.5 1-.4 1 .8 1 2.6 1 .6 1-3.4 1-1.4 1-3.8 1 3.4 1-2.6 1 2.9 1-1.6 1 .4 1-2.5 1 5.2 1 .9 1-1 1 .3 1 7.7 1-4.3 1-5.1 1 2.1 1 .9 1 .9 1 .1 1-3.4 1-.4 1-1.8 1 1.5 1-1.6 1 2 1 .2 1 3 1-2.8 1 3.2 1 2 1-3.6 1-.8 1-2.9 1-1 1-5.7 1-.4 1-.9 1-.4 1-1.3 1 1.5 1-2.8 1-1.1 1 1.6 1-2 1 1.5 1-5.6 1-1.1 1 3.1 1 3.2 1-1.2 1-2.5 1 1 1-1.9 1-1.3 1 2.2 1-1.4 1 3.1 1 2.9 1 .5 1 2.1 1-.3 1-1.9 1 4.9 1 .5 1-3.7 1 1.4 1 3.2 1-4.2 1-.2 1 2.9 1-1.8 1 .2 1 4.7 1-.9 1-2.2 1 1.3 1 1.2 1 2 1-2.7 1 1.1 1 1.5 1 2 1 .1 1 .7 1-.6 1-1.6 1-2.4 1 2.5 1 2.8 1-3.3 1 .5 1 2.6 1-.4 1 .1 1 2.8 1-1.4 1-.2 1 1 1-1.7 1-3.7 1 .9 1-1.2 1 1.9 1 2.5 1 .1 1 2.5 1 3 1 3.9 1 6.5 1 4.1 1 .4 1-.3 1-.2 1 9.9 1 1.4 1 10.5 1 4.1 1 8.3 1 3.8 1 5.3 1 1.6 1 5.9 1 6.3 1-5.5 1 .6 1-2.7 1 .6 1-2 1-4.9 1-.1 1-4.6 1-4.8 1 .1 1-5.9 1 3.9 1-3.4 1-1.4 1 .7 1-6.6 1-4.8 1-7.8 1 1.9 1 5.5 1-7 1 2.5 1-4.2 1 4.6 1 7.5 1-.4 1 6 1 4.6 1 8.4 1 10.4 1 9.5 1 1.8 1 3.5 1 2.3 1 .3M609 813.7l1-1 1-10.5 1 .3 1-3.5 1-10.9 1-18.3 1-7.4 1 3.8 1 1.8 1-4.6 1-12.9 1-8 1 2.6 1-7.9 1-4.4 1 .1 1 1.6 1-6.7 1 6.7 1-5.6 1-2.8 1-7.4 1-3.5 1 10.6 1-2.4 1-2.5 1-2.1 1 .9 1-9.1 1-5 1-13.8 1-6 1 .1 1-13.2 1-2.2 1-3.8 1-4.8 1 .3 1-4.6 1-2.9 1-4.1 1-.4 1 0 1 .3 1 2.3 1 5.9 1 5.4 1 .7 1-2.5 1-3.2 1-2 1-1.3 1-5.6M668 650.2l1 3.5 1 3.9 1 2.2 1-3.2 1-5.7 1-.2 1 1.6 1-.8 1 2.8 1 2.8 1-4.7 1-2.2M707 650.2l1 1.3 1 4.8 1 5.2 1 4.2 1-6.3 1-2.3 1 5.6 1 1.5 1 5.5 1-8.6 1-.1 1 5.3 1-1.3 1 1 1 5.2 1-10.2 1 1.3 1 5.6 1 4.2 1 1.9 1 .7 1 11 1 2 1-3.3 1 4 1 2.3 1 1.3 1 4.3 1 1.6 1-4.4 1 1.4 1 5 1-1.7 1 5 1 2.1 1-3 1-.7 1 .8 1-.2 1 2.9 1 2.3 1 9.8 1-3.4 1 1.4 1 1.6 1 .9 1-4.9 1 1.7 1 5.1 1-2.8 1-.3 1 5 1-3.4 1 .4 1-6 1 3.7 1-.7 1-.2 1 4.3 1-1.8 1 2.9 1-2.5 1 4.1 1-3.6 1 2.1 1-1.1 1-2.3 1 1.9 1 2.4 1-3.6 1 4.1 1-1 1 .5 1 1.4 1-.6 1 4 1 1.5 1 2.1 1-2.7 1-3.3 1 2.7 1 .4 1-1.8 1 3 1-.4 1 .7 1 1.6 1-7.1 1 2.1 1 3.4 1-3.5 1 3.7 1-3 1 3.3"/>
<path d="M178 727.7l1-.9 1-1.9 1 0 1 .5 1-.9 1 .4 1-.1 1 0 1 .6 1-.5 1 1.3 1 .6 1 .2 1-.3 1 1.1 1-.5 1-.4 1 1.3 1-1 1 .1 1-.1 1 .1 1-.9 1 1.2 1-.5 1 0 1 .7 1-.2 1 .6 1-.5 1 1.2 1-.2 1-.3 1-.7 1-.3 1 .9 1-1 1-.2 1 0 1 1.7 1-.9 1-1 1-.4 1 1.5 1-1.3 1-1 1 1.6 1-.4 1 1 1 .8 1-.6 1 1.2 1 2.1 1 .6 1 .7 1-.5 1-.1 1 .5 1-1.6 1-2.4 1 .2 1 .6 1-1.8 1-.6 1-.6 1 .8 1 1.1 1-.8 1-.2 1 1.2 1-2 1 .8 1-.6 1 1.7 1 1.6 1-2.2 1-.7 1-2.2 1-.3 1 .5 1-.8 1-1.3 1 .1 1-.9 1-1.4 1 .3 1 .1 1-.2 1 .2 1-.3 1-.6 1-1.7 1-.8 1 1.5 1 .5 1-1.6 1-.3 1 .6 1-1.4 1 .3 1-2.3 1 .3 1 1.8 1 .1 1-.4 1 0 1-2.8 1-1.4 1 1.5 1-1.5 1 .6 1-.3 1-1.4 1 1.3 1-2.2 1 .2 1 .8 1 .6 1-1.3 1-.3 1-.4 1-.5 1-1.6 1-.5 1 .4 1-1.8 1 2.5 1-1.3 1-.7 1 .1 1 1.8 1 .7 1-.4 1 1.2 1 2.2 1 1.8 1 .3 1-2.1 1-.9 1 1.2 1 .3 1-1.9 1 .1 1 .8 1-2.8 1-.1 1-.4 1-.5 1-1.5 1-.6 1-.1 1-.7 1-.9 1-.9 1-.8 1 .7 1 0 1 2.6 1-2.4 1-.7 1 2.8 1-1.3 1-2.5 1-1.1 1-1.4 1-.4 1 .1 1 3 1 .5 1-1.5 1 1.4 1-1.5 1 1.6 1-1.4 1-.6 1 4.5 1-1.2 1 1.1 1-1.1 1-1.1 1-1 1 .6 1-1.3 1-.1 1 .3 1 .9 1 .7 1 .4 1 1.1 1-1.5 1 .1 1-2.2 1 1.5 1 0 1 .5 1-1.5 1 1 1-2.1 1 1.9 1-2 1 .6 1 1.2 1-.5 1-.3 1 1.1 1-1.3 1-3.6 1 1.9 1-1 1 .5 1 2 1 2.2 1 .6 1 1.3 1 1.6 1-.5 1 3.9 1-2 1-3.8 1-1.3 1-2.3 1 3.5 1-.1 1 1 1 .5 1-1.4 1-2.3 1-.8 1 2.2 1 1.4 1-2 1 .3 1 .8 1 1.6 1-2.6 1-1 1-1.8 1 1.9 1-3.5 1-3.3 1-2.3 1 3.6 1-1.8 1 3.7 1 .4 1-.7 1 0 1 .8 1 .2 1-2.7 1-.6 1-.7 1-.7 1 .1 1-1.6 1 3.9 1-.1 1-2.3 1 .6 1-1.2 1 2 1-.4 1 2 1-2.3 1 3.2 1 .4 1 2.4 1-.8 1 .3 1-3.8 1-.7 1 2.9 1 3 1 2 1 2.6 1 2.7 1-3.9 1 .3 1 2.1 1 2.6 1-3.4 1 3.2 1 .8 1 .2 1 3.7 1 3.1 1-5 1 .7 1 3.5 1-2 1 3.1 1 3.9 1 1.4 1-1.2 1 1.1 1 1.2 1-5.1 1 1.3 1-5.1 1 .4 1 2.5 1-3.4 1-11.1 1-4.6 1-1.8 1-.8 1-3.1 1-1.2 1-1.4 1-4 1 .7 1 5 1-1.2 1 2.2 1-1.6 1-5.3 1-2.1 1-3.6 1 6.3 1-3.3 1-4.5 1 .5 1 7.7 1-1.5 1 21.9 1 15.3 1 10.4 1 7.9 1 6 1 2.4 1-7.4 1-1.1 1-3.1 1-8.5 1-6.3 1 3.1 1 10.7 1-8.4 1-4.1 1 1 1-.7 1 .6 1 2.4 1 2.5 1 4.1 1 1.1 1 6.7 1 4 1 4.2 1 3.5 1 4.3 1 6.2 1 7 1 4.3 1 4.1 1 6.5 1 4.5 1 4.6 1 12.1 1 5.7M587 813.7l1-4 1 4 1-6.1 1-8.4 1-16.7 1-6.8 1-8.4 1-8.7 1-4.9 1-8.4 1-10.5 1-6.4 1-7.3 1-8.3 1-7.6 1-8.7 1-7.4 1-6 1-4.2 1-2.7 1-2.3 1-4.2 1-1.3 1-5.6 1-1.1 1-9.1 1-2.4M727 650.2l1 .3 1 3.2 1-3.5 1 5.2 1-4.2 1 3.6 1-3.2 1-.5 1 6.3 1 .9 1 .3 1 .8 1 .1 1-2.3 1 7.7 1-.1 1-.1 1 .3 1-.7 1 3.6 1 .2 1 1.2 1 1.7 1 9 1 2.4 1-1 1 3.4 1-5.4 1 3.9 1-.4 1 2.1 1-1.2 1 3.6 1-.4 1 .4 1 8.5 1-7.3 1 .1 1 4.6 1-2.3 1 2.4 1 2 1-1.3 1-.8 1 2.1 1-1.1 1 .8 1 3.2 1-2 1 1.5 1 1.6 1 .6 1-1 1 2.6 1 1.7 1-4.2 1 3.6 1-2.3 1 .7 1-.3 1 4.3 1-1.4 1 1.6 1-6.6 1 2.6 1 3.1 1-1.2 1 1.3 1 3.1 1-2.1 1 5.8 1-3 1 .2 1-.3"/>
<path d="M178 728.7l1 .4 1-1.1 1 .5 1 .2 1 .1 1 .9 1 .3 1-.5 1 .4 1 .4 1 .5 1 .8 1 .4 1 .8 1 .1 1 0 1 1 1 .4 1 .7 1-.9 1 .7 1-.2 1-.2 1-.2 1 .2 1-.6 1-.2 1-.1 1 .4 1-.1 1-.1 1 .4 1-.8 1 1.4 1 .7 1 .6 1-.7 1-.9 1 2 1 .6 1-.7 1-.3 1-.7 1 1.6 1-2.1 1 1.4 1 .9 1-2.8 1 3.4 1 1.7 1-.9 1 1.5 1 1.7 1-.6 1 .8 1 0 1 .4 1 .4 1-1.2 1-2.4 1 .7 1-.3 1-1.4 1-.4 1 .2 1 .9 1 0 1-.9 1 .6 1 .1 1-.1 1-.3 1 .6 1-.3 1 .6 1 2.9 1 .6 1-.1 1 1.7 1-.8 1 .3 1 2.5 1-.4 1-.4 1 1.8 1-.5 1 .3 1 1.4 1 .1 1-.1 1-.5 1-.5 1 2.8 1-1 1 .9 1 .4 1-.1 1-1.9 1-1.2 1 .9 1-.4 1-.9 1 2.1 1-.3 1-.9 1 .6 1-.2 1-1.9 1 .4 1-.6 1-.6 1-.4 1 .7 1-1.5 1-1.9 1 .6 1-.2 1-.7 1 1.5 1-.6 1-.9 1 .1 1-6.2 1 1.4 1 .4 1-1.8 1-1.4 1-2.4 1 3.2 1-.9 1 .4 1 2.4 1-3.1 1 2.8 1 .6 1 2 1-1.8 1-.2 1 .3 1 3.1 1-.2 1 0 1 1.2 1-.5 1 1.8 1 1.3 1 .1 1-.4 1 1.3 1 1.6 1-1.1 1-.5 1 .2 1-2.4 1-.9 1-.1 1-.6 1 1.3 1-2.9 1-2.5 1 .2 1 .1 1 .7 1 .6 1-.1 1 .5 1 .9 1-2.2 1-2.6 1 1 1-.8 1-1.1 1 .9 1-1.5 1-5.3 1 2.9 1 .4 1 0 1 .3 1 2.3 1 .8 1-1.2 1 1.8 1-1.2 1-.7 1 .5 1 1.7 1-.2 1 2.1 1 0 1 .8 1 .6 1 1.3 1 1.7 1-2.7 1-.8 1 0 1-3.1 1 .1 1-4.7 1-1.6 1-1.2 1-1.2 1 1.7 1-.7 1-2.4 1 3.2 1 1.7 1 .3 1-1.3 1 1.6 1-1.4 1-1.9 1 2.5 1-2.9 1-1.7 1-2.4 1 2.6 1-1.2 1 3.1 1-1.5 1 .6 1 .2 1-.8 1 .2 1 .9 1-2.8 1-1.7 1-1.6 1-.1 1 0 1-2.5 1-1.2 1 0 1 .5 1 3.7 1 .5 1-1.9 1-1.5 1-.6 1 1.6 1-5.6 1 2.4 1-1.6 1-1.7 1 2 1-.5 1 .7 1 1.2 1-2.9 1-2.8 1 3.5 1 .7 1-4.2 1 2.1 1 .7 1 .4 1-.7 1-3.5 1 .2 1 4.5 1-1.1 1 2.1 1-.4 1 1.1 1-.9 1-2.2 1-1.3 1 2.9 1 1.5 1 .1 1 3.3 1-3.8 1-2.9 1 3.1 1-1.5 1-2.7 1 .6 1-4.5 1-.7 1-2.2 1 .6 1 4.6 1 3.5 1-3 1 1.4 1-1.6 1 3.4 1-.6 1 5.2 1 8.5 1 9.6 1 2.4 1 5.5 1-1.2 1 5.2 1-4.8 1 7.7 1 2.4 1-.1 1 11.3 1 3 1-5.4 1-1.3 1-2.9 1-1.2 1-1.6 1 3 1-10.2 1-2.5 1 2.4 1-6.6 1-10.6 1-4 1-2 1 1.6 1 2.2 1 .2 1 10.8 1-7.2 1-3.2 1-3.6 1-5.4 1 4.5 1 17.4 1 15.1 1 12.8 1 5 1 4.6 1-3.8 1-3.1 1-.5 1-8 1 3.3 1-.4 1 1.6 1-9.8 1-7.3 1 7.3 1 11.1 1 4.5 1 2.1 1 8.4 1-5.9 1 8 1-2.5 1 9.3 1-1.7 1-1.6 1 3.9 1 7.4 1-1.6 1-1.6 1-1.5 1 5.3 1 9.5 1 .5M595 813.7l1-3.2 1 1.1 1-12.8 1-8.8 1-13.3 1-15.9 1-9 1-19.2 1-5.3 1-11.5 1-3.2 1 7.5 1-2.1 1 3.4 1-6.7 1 6.2 1 .1 1-6 1-5.4 1-9.2 1 5.6 1-.1 1 9.4 1-5 1-11 1-3.2 1-6 1-5.4 1 13.5 1 .8 1 .7 1-4.5 1-15.5 1 3.1 1-1.3 1-5.4 1 .5 1 5.7 1 5.5 1 3.4 1 5.9 1-5.3 1-6 1-5.5 1-4.2 1 .3 1-5.6 1 2.5 1 3.4 1-3.5 1-11.8 1 7.3 1-4.3 1 4.8 1-7 1 1.7 1-8.8 1-2.8 1 2.7 1-.3 1 1.8 1-5.8 1-.5M678 650.2l1 .3 1 3.2 1-3.5 1 0 1 3 1 1.6 1 6.6 1 5.8 1-2.8 1 7.6 1-5.5 1-1.5 1 2 1-7.4 1 5.2 1 5.2 1-.5 1 6.5 1-5.7 1 2 1 3.6 1 .2 1-.3 1 10.6 1-3.8 1-4.7 1 .6 1 4.7 1 .3 1 5.3 1 14 1-4.4 1-1.8 1-3.6 1 3.7 1 1 1 3.4 1 2.8 1-.6 1 7.6 1 .1 1 .3 1 2.7 1-4.4 1 1.6 1-.6 1 7.2 1-5.6 1-.8 1-.7 1 1.8 1 4.4 1-2.7 1 .8 1 3.9 1-1.9 1-1.9 1 2.8 1-5.4 1 .9 1-3 1-.2 1 3.8 1 3.3 1-.6 1-.3 1-5.4 1 8 1 .3 1 4.2 1 1 1-2.1 1-.4 1 .8 1 2.6 1-4.5 1 4.5 1 1.3 1-3.2 1-4.1 1-1.2 1 1.2 1 3.1 1-2.4 1-4 1 2.3 1 2.8 1 5.5 1-3 1 2.5 1-1.6 1 2.9 1-4.1 1 .5 1 2.9 1-5.1 1-1 1 3.9 1-.1 1 1.9 1-.4 1-.2 1-4.1 1 1 1 .3 1 .4 1 5.2 1-.2 1-3.1 1 2.4 1 .2 1-4 1-.5 1 1.7 1-5 1 .6 1 .2 1 2.5 1 .6 1 .2 1 2.4 1-1 1-1.5"/>
<path d="M178 727.8l1-1.2 1-1.4 1-.7 1 .4 1 .2 1 .5 1 1 1 .6 1 .4 1 .3 1 0 1-.2 1-.4 1-.4 1-.3 1 .2 1-.5 1 .5 1-.2 1-.5 1 1.3 1-.1 1 1.6 1 .9 1 0 1-.2 1-.1 1 .5 1 .1 1-1.5 1 .3 1-.5 1-1.4 1 .4 1-.7 1 1.1 1 1.3 1 .3 1-.7 1-.1 1 0 1-1.5 1 1.3 1 1.9 1-.5 1 1.6 1 .3 1 0 1 2 1-.7 1-1.6 1 .6 1-.5 1 1.9 1 .6 1-1.1 1-.5 1 .4 1-1.8 1 .8 1 .2 1 2.4 1-1.7 1-.4 1-2.2 1-.5 1 4 1-.5 1-1.5 1 .4 1-.3 1 .4 1 .7 1-.8 1 .2 1-.2 1 .2 1-.8 1 2.9 1-2.6 1-1.2 1 .7 1 .1 1-1.5 1-2.7 1-.3 1 .4 1 .5 1 .4 1-.4 1 .1 1 1.2 1 .1 1 .5 1 3.4 1-4 1 3.3 1-1.4 1-.4 1-.1 1-.3 1 2.2 1 .9 1-1.5 1 1.8 1-.3 1-1.1 1-1 1-3 1 2.8 1-3.6 1-1.3 1 .8 1-.1 1 0 1-.7 1-3.1 1 .6 1-.8 1-2.1 1 1.2 1-3.5 1 .7 1-4.2 1 .3 1 2 1 2.5 1-2.5 1 2 1 1.2 1-1 1 1.9 1 .2 1 0 1 5 1-.9 1 .6 1-4.2 1 1.3 1 .3 1 2.4 1-1.6 1-1.4 1 2.7 1-2.3 1 1.9 1 2.2 1-.1 1-.7 1-1.4 1 2.1 1-2.2 1-2.2 1-.6 1 .8 1-.5 1 .4 1 1.6 1-.8 1-1.9 1 3.1 1-1.8 1-1.2 1-2.5 1 .7 1-3.7 1 3.6 1 .2 1 1.8 1-.6 1 .7 1 1.8 1 1.2 1-.3 1-2.1 1 1.1 1 1.1 1 2.3 1-.9 1-.2 1 1.5 1-.2 1-.6 1 1.8 1 2.6 1-1.2 1 .6 1-1.9 1 .1 1 .9 1-1.7 1 2.7 1-.7 1-2.5 1 2.8 1-2.3 1 2.4 1-1.3 1 2.3 1-1.2 1 3.4 1-3 1 .5 1-.5 1 2.8 1-3.5 1-2 1 5.2 1-2.8 1 2.7 1-1.4 1-1.2 1-1.3 1 .5 1-2.6 1 .1 1 .9 1 .5 1-.4 1-4.6 1-.4 1-1.7 1-.1 1 .7 1-2.1 1 1.8 1-4.5 1 .1 1-6.3 1 .8 1 1.4 1 3.1 1 1.5 1 .9 1-1.9 1 6 1 2.8 1 .7 1-.2 1 .8 1-.5 1 1 1-1.2 1-1.6 1-1.1 1 .2 1-3.4 1-2.6 1-2.2 1 .3 1 3.2 1 3.9 1-2.4 1-1 1 2.4 1 3.7 1-3.1 1-1 1 1.8 1-3.1 1-1.5 1 1.8 1 1.3 1-2.8 1 1.6 1 .5 1-.9 1 2 1 4.3 1-8.1 1-4.3 1 2.1 1 4.5 1 .7 1-2.5 1-1.8 1-2.1 1-4.3 1 .1 1 1.8 1 2.3 1 3.1 1-1.8 1 8.5 1 5.7 1 7.7 1 .1 1 2.3 1 .4 1-4 1 10.7 1 3.7 1 7.3 1 8.3 1 .6 1 .6 1-.5 1-7.2 1-9.7 1 2.2 1-6.8 1-6 1-4.5 1-8 1 .1 1 1.9 1-.1 1 .2 1 1 1-7.7 1-2.3 1 0 1-7.5 1 10 1-.6 1 1.7 1 6.2 1-2.8 1-7.9 1-7.6 1-2.5 1-4.8 1-2.4 1-.4 1 9.5 1 17.7 1 15.8 1 7.8 1 4.7 1 2.2 1 2.7 1-11.4 1-.3 1 3.2 1-2 1-8.3 1-1.9 1-4.2 1 3.4 1 6.3 1 4.6 1-2.3 1-4.4 1 9.4 1 7.4 1 9.3 1 13.8 1 7.6 1 4.8 1-1.7 1 7.9 1-5.8 1 5.8 1 6.3 1 3.6M593 813.7l1-3.7 1-7.5 1-11.1 1-9.8 1-4.7 1-10.3 1-21 1-15.9 1-4.5 1-8.9 1-21 1-4.2 1 7.8 1-2.7 1-7.6 1-.6 1 5.3 1 9.1 1-10.2 1-14.1 1-13.4 1-3.1 1-11.4M714 650.2l1 .4 1-.4 1 0 1 5.6 1 10.9 1-1.7 1 7.1 1 3.2 1 7.8 1-1.6 1 7.1 1 5.2 1-4 1 .9 1 3.5 1 3.8 1-5.3 1-1.4 1 2.6 1-4.2 1 3.1 1 .7 1 5.9 1-7.1 1-1.3 1 1.4 1-2.5 1 4.9 1-4.3 1-1.3 1 2.8 1 1.6 1 2.6 1-.8 1 .9 1 2.2 1 3.8 1 1.2 1 .2 1 4.7 1-3.5 1-1.4 1 5.6 1-3.2 1 2.5 1 .1 1-.9 1 4 1-.5 1-1.4 1-.8 1 1.2 1-2.4 1 3.6 1-1.4 1 1.9 1-1.2 1-3.1 1 4.1 1-3.3 1-.3 1 1.1 1 .4 1 .1 1 5.1 1 1.6 1-5.6 1 1.6 1 2.6 1 1.6 1 .4 1 2 1-2.1 1 2.9 1-.6 1 2.8 1-1 1 .9 1-3.6 1 1.4 1 3.1 1 1.4 1 1.5 1-2.7 1-.6 1-.3 1-1.6"/>
<path d="M178 733.5l1 1.2 1 .6 1 0 1 1.3 1-.3 1 .5 1 .9 1 .6 1 0 1 .7 1 .1 1 0 1 .8 1 .6 1-.1 1 .5 1-.1 1 .5 1-.2 1-.5 1 1.5 1-.4 1 .7 1-.2 1 .7 1-.5 1 0 1-.1 1 .4 1 0 1 .6 1-.2 1 .2 1 1.4 1-.7 1 0 1 1.2 1 .3 1 .2 1 .8 1 .6 1 .5 1 .7 1 1.2 1 .2 1 .9 1 .1 1 .3 1 .9 1 1.2 1-.8 1 .5 1 .9 1 .8 1 .5 1 1.3 1 .5 1 1.5 1-1.3 1 0 1 .7 1-.9 1-.2 1 .4 1-.9 1 .8 1 1.2 1 .4 1-.2 1-.3 1-1.7 1-1.4 1 .1 1 .9 1 1 1 .8 1-.2 1-.3 1 2.6 1 1.3 1-.9 1-1 1-2.3 1 .5 1-.2 1 1.3 1 .1 1 1.5 1 .8 1 2.4 1 .6 1 .9 1-.8 1-2 1-.7 1 .6 1 0 1-.1 1-.2 1-2 1 .3 1-1.5 1 .8 1-1.2 1 .1 1-1.7 1 .1 1-1.3 1 .3 1 2.1 1-1.1 1-1.6 1 .8 1-.4 1-2.1 1 2.1 1-3.8 1 .2 1 0 1-.2 1 0 1-.2 1-1.1 1-.3 1-.1 1-1.5 1 1.3 1-.6 1-.1 1-.3 1 1.7 1 2.1 1-3 1 1.6 1 .8 1 .7 1-.7 1 .1 1-1.9 1-.1 1-.4 1-.9 1 1.3 1-1.4 1-1.1 1 2 1-1.8 1 2.8 1-2.2 1-.8 1-1.6 1-1.5 1 1.3 1 .2 1-.5 1-.8 1-.9 1 1.5 1-.9 1-1.8 1-.5 1 1.6 1 1.6 1 2.3 1 .5 1-2.4 1-1.5 1 1.1 1 3.4 1 0 1 .1 1 3.4 1-2 1-.6 1-2.2 1 4.8 1-3.1 1-1.1 1-.7 1 .5 1 2.5 1 .5 1 3.2 1-1.6 1 .5 1-1.4 1-.3 1-1.6 1-.9 1-.3 1-1.2 1-.2 1 2.4 1 1.5 1 3.3 1 1.9 1 1.1 1-2.4 1-.9 1 .2 1 .3 1 .9 1 .3 1 2.9 1 3.8 1-2.6 1-2.4 1-1.8 1-3.7 1-.1 1-.1 1 1 1-.5 1-1.1 1 2.1 1-1.5 1 1.2 1 3.8 1-1.8 1 1.4 1 1 1 .4 1-2.1 1-1.8 1 5.5 1-1.9 1 1.9 1-3.1 1-2.6 1-.6 1 1.4 1-2.1 1 1.3 1-1.1 1 1 1 1 1 2 1 1.8 1-.2 1-2.9 1 1.8 1 .6 1 2.4 1 1.6 1 .4 1-2.3 1-1.3 1 0 1 2.7 1-.9 1-1 1-1.8 1 .6 1 .6 1 2.3 1-1.7 1-2.2 1 1.5 1-.7 1 1.7 1-1.1 1 .5 1-3.4 1 1.2 1-1 1 .7 1 .2 1 2.4 1 .7 1 1.9 1-.3 1 3.7 1 .8 1-3.3 1-.1 1 1.9 1 2.1 1 1 1-1.8 1-.5 1-1.7 1 1.4 1 4.9 1 .5 1 2.2 1 2.2 1 1.2 1 2.2 1 10 1 1.8 1 8.4 1 2.7 1 5.9 1 3.3 1 2.4 1 .7 1 .8M486 813.7l1-3.3 1 3.3M491 813.7l1-1 1-.6 1 1.6M497 813.7l1-1.6 1-3.7 1 .2 1 2 1 3.1M630 813.7l1-4.3 1-.9 1-9 1-4 1-2.6 1-3.6 1-3.8 1-8.8 1-5.5 1-4.8 1-1.9 1-2.3 1-3.7 1-3.6 1-5.9 1-4.1 1-4.4 1-5.1 1-5.8 1-3.4 1-4.3 1-.3 1-2 1-2.3 1-8.2 1 1.7 1-1.5 1-1 1-3.6 1-.2 1 2.6 1 .7 1 5.8 1-1.3 1-8.3 1-8.4 1-5 1 6.8 1 7 1 9.1 1 8.3 1 4.3 1 3 1 1 1 1.9 1 3.6 1 .8 1 2.8 1-2.7 1 4.6 1 1.3 1 2.4 1-4.6 1-7.3 1-1.7 1 5.1 1-2.1 1 1.8 1 4 1-4 1-1.4 1 0 1 5.3 1-3.9 1 3.4 1 .7 1-3.1 1-1.6 1 1.6 1 2.5 1-1 1-.3 1-4 1 2.2 1-1.9 1-3.3 1 2.3 1 1.9 1-1 1 4.3 1-4.3 1-3.8 1 3 1-4.2 1 2.4 1 3 1 2.3 1-2.6 1 2.2 1-3.5 1-1.9 1 5 1 .8 1-1.1 1 1.3 1-.3 1-1.8 1 1.7 1-1.7 1 .7 1-.8 1 .3 1 1.4 1 .8 1 2.9 1-2.1 1-3.2 1 .8 1 1.3 1 .9 1 1.5 1-1.8 1 1.6 1-1.7 1 1.5 1-.8 1-4.6 1-1.3 1 3.7 1 2.5 1-4.6 1 .6 1 .7 1 4.3 1 1 1-4.2 1-1 1 5.9 1-3 1 .5 1-.9 1 5.4 1-4.1 1-1.5 1 3.8 1-1 1 1.9 1-2.1 1-1.3 1-1.2 1-1.4 1 5.1 1-.8 1-1.2 1 1 1-2.1 1-1.7 1 2.6 1-4.7 1 5.6 1 1.4 1 .5 1-1.2 1-3 1 2.6 1-6.3 1 4.4 1 1.3 1-2.3 1 .6 1-1.3 1-2.8 1 6.1 1-1 1 5.7 1-2.1 1-5.6 1 .6 1-.6 1 2.9 1 2.1"/>
<path d="M178 732.7l1 0 1 .8 1-.1 1 1 1-.2 1 1 1 .3 1 .6 1-.4 1-.1 1-.3 1 1.1 1-.8 1 .6 1 .1 1 1.3 1 .5 1-.4 1 .1 1 .8 1 .4 1 .7 1 .5 1 .5 1 1.3 1 .3 1-.4 1-.6 1 .2 1-.7 1-.1 1 .7 1-.9 1 1.7 1 .5 1 1.3 1 .9 1-.8 1-.2 1 0 1 .3 1 0 1 1 1 1 1-.4 1 1.1 1 .1 1 .8 1 3.5 1 .5 1 .7 1-.2 1 .4 1 .2 1 .3 1 .6 1 1.6 1 .1 1-1.6 1 .3 1 .5 1 1 1-.3 1 1.8 1 .1 1 .4 1 1.5 1-1.2 1-.8 1 1.2 1-2.5 1 0 1-.5 1 1.4 1-.4 1-.4 1 2.2 1 .1 1 .8 1 1.1 1-.5 1 .9 1-1.9 1 2.1 1 .2 1 0 1 .9 1 1.7 1-.9 1 .8 1-.2 1 1.1 1 1.7 1-1.6 1-.2 1 1.7 1 0 1-1.5 1-1.5 1-.1 1-1.4 1 1 1 1.9 1-1.7 1 1.8 1 1 1 .6 1-.5 1 .6 1 2.3 1 .3 1-1.7 1-1 1-.5 1-1.3 1-.4 1-.9 1 .6 1-.4 1-.2 1-.3 1-.3 1-1.8 1 .7 1 .6 1-1.7 1-.6 1-.1 1 .4 1-.6 1 1.5 1 .9 1 .9 1 2.1 1 1.3 1-.6 1 .3 1 .7 1 0 1 .7 1-.8 1-.3 1-1.2 1 1 1-.5 1 .7 1-.5 1 .1 1-.6 1-.6 1-.7 1-.5 1-.8 1 1 1-1.3 1-.5 1 .3 1 1.9 1-.2 1-1.4 1 .9 1 1.5 1-1.6 1 .5 1 .3 1-.9 1 .1 1 .5 1 .8 1-.6 1 .9 1-.5 1 .2 1-.5 1 1.3 1 .9 1-1.2 1 .4 1 .9 1-1.4 1 .6 1-.1 1 .7 1 1.8 1 .6 1 1.8 1-1.9 1 1 1-1.2 1-1.8 1 1.1 1 .5 1-.9 1 0 1 2.8 1-.2 1 .9 1-2.1 1 1.4 1-2.9 1-.6 1-1.8 1 .8 1-.1 1-.7 1-2 1-.1 1 2.7 1 0 1-1.1 1-.1 1-2.8 1-.7 1 1.3 1 .9 1-1.5 1 .7 1-1.3 1 .6 1 .3 1-1.3 1 1.6 1-.5 1 1 1 2.3 1-4.7 1-2 1-1.3 1 .8 1 .3 1 .9 1 1 1-.5 1-.5 1 .8 1 .5 1 0 1 1.6 1-2.1 1 0 1 .3 1-1 1 3.4 1 3.2 1 .6 1 .1 1-1.3 1 .8 1-3.8 1-.7 1 2.2 1-.5 1-.7 1 .9 1 2.1 1 3.2 1 2 1-1.6 1-.4 1 0 1 .6 1-1 1 2.2 1 .3 1 .1 1 .3 1 2.3 1-4.1 1-1.1 1 .2 1-.6 1 1.3 1 4.2 1 .2 1 2.8 1 .3 1-2 1 1 1 2.5 1 1.7 1 .9 1 1.3 1 1.4 1 3.4 1 .3 1 1.2 1 2.6 1 2.1 1 3.2 1 2.5 1 3.6 1 5 1 2.4 1 2.2 1 2.4M630 813.7l1-4.6 1-8.2 1-1.1 1-5 1-2.7 1-2.6 1-6.1 1-1.9 1-6.7 1-3.6 1-5.9 1-3.6 1-1.7 1-3.3 1-3.6 1-1.6 1-8.5 1-3.3 1-1.8 1-3 1-6.3 1-4.7 1-4.2 1-1.3 1-2.7 1-5.3 1-1.7 1-3.3 1-1.8 1-.5 1 1.4 1 4.3 1 2.2 1 3.6 1-11.8 1-7.8 1-4.6 1 4.4 1 8.9 1 6 1 7.8 1 5.7 1 2.5 1 5.2 1 2.3 1 4.3 1 3.7 1 1.1 1 3.9 1 4.6 1 .3 1-5.7 1 .5 1-2.6 1-.4 1-1.6 1-3.8 1-.2 1-3.9 1 2.8 1 .5 1-3.3 1 .1 1 1 1-2.3 1 3.2 1 1.5 1-3.2 1 1.6 1 1.9 1 1.6 1 1.8 1-1.8 1-2.1 1 .2 1-.4 1 4.1 1-.4 1-4 1 3.6 1 2.6 1-3.8 1 2.8 1-1.4 1-6.5 1 3.7 1 .6 1-5.5 1 .5 1 2 1 .7 1 3.5 1-1.1 1 0 1 1.6 1-4.5 1-4 1 10.4 1-2.7 1 1 1-1.3 1-.3 1 .7 1 3.2 1-4.2 1 2.3 1 1.4 1-2.7 1 4.8 1 0 1-1.5 1-1 1 1.4 1 .9 1-2.4 1-.8 1 6.3 1-3.9 1 1.6 1-.7 1 3.7 1-2.8 1-2.9 1 5.4 1-2.4 1 .8 1-2.1 1 2.6 1 4.9 1-6.6 1 1.2 1 3.2 1-1 1-5.8 1 .4 1 2.5 1-2.3 1-2.4 1 6.6 1-.4 1-3.4 1-.9 1-2.5 1 4.6 1 .3 1 1.7 1-1.2 1-3.4 1 6.3 1-3.5 1-3.6 1 2.6 1 0 1 .3 1 2.3 1-5 1 3.6 1-2.8 1-2.7 1 1.5 1 3.3 1-5.9 1 4.9 1-4 1 .7 1-1.3 1 1.3 1 .7 1 .8 1 .7 1-4.2"/>
<path d="M178 730.1l1-.8 1 .5 1 .3 1 .2 1-.6 1 .1 1 0 1 .4 1 .6 1 .5 1 0 1 1.2 1-.1 1 0 1 .6 1-.8 1-.1 1-.3 1 .8 1-.2 1 .8 1 1 1 .2 1 0 1 .1 1-.1 1-.4 1 0 1 .5 1-.3 1 .3 1-.5 1-.4 1 2.1 1-.2 1 1.2 1-.3 1-.5 1 .9 1 1.2 1 .8 1-.7 1 .6 1 1 1-1.4 1 .5 1 1 1 .6 1 2.3 1-.2 1-.5 1-.6 1 .4 1 1.3 1 1.7 1-.6 1 .9 1 .8 1-2 1 1 1-.1 1-.7 1-1.1 1-1 1 .1 1-.4 1 1.4 1 0 1-1.3 1 .9 1-2.2 1 2.4 1-1 1 1.2 1 .1 1 .9 1-1.9 1 .9 1 2.9 1-.2 1-.7 1-.8 1 3.4 1 .2 1-1.2 1-.4 1-.3 1 2.7 1 0 1-1.8 1-1 1-.6 1 2.8 1-.2 1 1.3 1-.9 1-.8 1-.7 1-1.1 1 1 1 .8 1 0 1 3.7 1 .2 1-.5 1 1.7 1-1.9 1-3.4 1 0 1 1.2 1 1.6 1-1.2 1-1.1 1-.9 1-.7 1-1.4 1-.8 1-.4 1-1.9 1 .7 1-1.2 1-1.5 1-1.9 1-1.3 1 1 1-.2 1 2 1 .8 1-2.7 1 1.9 1-1.4 1 1 1 2 1 1.2 1 .5 1 1.2 1-.2 1 .4 1-.3 1 2.2 1-.7 1-1.4 1 .9 1-3.8 1-1.6 1 3.3 1-.4 1 1.1 1 .5 1 .2 1 .3 1-.9 1 .9 1-.7 1 1.4 1-.9 1-1.9 1-.2 1 1.4 1-1.6 1 3 1 1 1-.5 1 1.7 1 .3 1-.8 1 .6 1 .2 1 1.3 1-3.6 1-.5 1 .1 1 .9 1-.8 1-2 1 1 1-2.3 1 1.3 1-2.6 1 1.6 1 2.4 1 .7 1-.3 1 1.9 1 1.2 1-.6 1-.8 1-2.5 1 .8 1-3.3 1 2.5 1 2.8 1-2.3 1 1.7 1-.1 1-.7 1 0 1 1.4 1-3.3 1-2.4 1-1.8 1 1.8 1-.1 1 1.3 1 1 1-3.5 1-2.2 1 1.7 1-2.1 1-1.1 1 2 1-3.4 1-.9 1 0 1 2.2 1-.3 1 .6 1-1.6 1-2.2 1 1.1 1 .5 1-2.3 1 .1 1 .7 1 2 1 .2 1 1.2 1-.4 1 1.6 1-1.2 1 0 1 1.7 1 .6 1 3.8 1-1.1 1 1.1 1 .8 1-1.6 1 .4 1-2.5 1 1.6 1 2 1 1.7 1 .4 1 2.1 1 .7 1-1.4 1 1.5 1-1.5 1-1.7 1 .5 1-.8 1 .2 1 2.1 1-1.2 1 4.2 1-.3 1 1.5 1 1.6 1 .2 1 1.1 1 4.3 1 .8 1-2.1 1 4.6 1-3.1 1 3.7 1-.7 1-2.2 1-4.2 1 1 1 3.9 1 .2 1-3.6 1-.6 1 .6 1-2.6 1 1.8 1 1.9 1-.9 1-.7 1 .7 1 .4 1 3.5 1 3.8 1-1.6 1 6.9 1-.4 1 6.2 1 7.8 1 5.7 1 3.9 1 1.3 1 2.9 1-.5 1 5.8 1 .7 1 8.9 1 .4 1-2.5 1 2.2 1-8 1-.8 1 3.8 1-4 1-5.1 1-4.4 1 3.3 1-.7 1-3.3 1 .2 1 0 1-.4 1-1.7 1-1.4 1 3 1-2.1 1-.2 1-6 1 11.4 1 6.2 1-4 1-1.1 1 5.3 1 3 1 5.7 1 3.4M607 813.7l1-4.7 1 2.6 1-7 1-7 1-11.1 1-12.3 1-9.7 1-.6 1-.4 1 6.1 1-6.1 1-4.8 1-3.8 1-5.1 1-11.7 1 .7 1-4.9 1-3.7 1-6.9 1 3.1 1-4 1-4.1 1-13.7 1-.1 1-3.3 1 3.7 1-4.4 1 3.6 1-7.3 1 7.1 1-7 1 3.9 1-12.3 1-3.4 1 1.8 1-.4 1-.9 1 4.4 1-2.3 1 3.4 1-6.8 1 3.1 1-6.3 1-1 1 1.9 1 2.6 1-10.5 1-1 1-3.1 1-.5 1-10 1 2.7 1 1.3 1 3.7 1 2.8 1-3.2 1-9.6 1-7M667 650.2l1 .9 1-.6 1 .7 1 4.2 1 4.9 1 .8 1 7.4 1 3.5 1 2.2 1-2.8 1-.2 1 6.8 1 5.8 1 2.4 1-1.6 1 5.2 1 2.5 1-5.8 1 2.7 1 4.4 1 10.7 1-1.5 1-2.8 1 3.4 1-.7 1 .3 1 1.4 1 8.3 1 1.7 1-.1 1-1.4 1-3.5 1-2.2 1 2.4 1-2.6 1 .4 1 6.6 1-3.5 1-.3 1 1.6 1 0 1-.4 1 5.6 1-1 1-3 1-.6 1 3 1-.9 1-.7 1 1.7 1 8.6 1 .1 1 .5 1-2 1 1.8 1-4.9 1 7.2 1-.3 1 2.4 1-4.5 1 3.4 1-6.3 1 1.7 1 2.3 1-2.8 1 7.1 1-4.9 1 1.9 1 1.9 1 .4 1-2.6 1 4.2 1-.5 1 2.2 1 1.6 1-3.9 1 1.5 1 .7 1-2.4 1 4.2 1 .8 1-2.3 1 2.8 1-.9 1-6.7 1 5.4 1-4.4 1 .7 1 3 1-2.6 1 1.6 1 3.1 1-3 1 .1 1 5.9 1-1 1 .1 1-1.4 1 3.5 1-2.2 1 3.7 1-1.2 1 .5 1-7 1 2.9 1 0 1-1 1-2.5 1 .5 1-.8 1-3.9 1-.1 1 1.1 1-.2 1-1.6 1-.5 1 6.6 1 1.8 1-5.9 1-1.6 1 1.7 1-2.7 1 5.4 1-.5 1 1.2 1 1 1 .3 1-.4 1-4.7 1 2.5 1 1.9 1-2.3 1 2.3 1 3.1"/>
<path d="M178 729.8l1-.1 1-.3 1 0 1 .5 1 .9 1 1.1 1 .4 1-.1 1-.1 1 0 1 1.1 1 .2 1 .8 1 .7 1 0 1-.5 1 1.1 1-.6 1-1 1-.1 1 0 1-.3 1-.5 1 1.3 1 .1 1-1.5 1 .4 1 1.1 1-.4 1-.2 1 .1 1-.5 1-.2 1 .6 1-1.2 1 0 1 .6 1-.6 1-.4 1-.3 1 2.2 1 1.5 1 1.9 1 1.6 1-.6 1 1.5 1 .3 1 .1 1 2.1 1-.8 1 .5 1 .9 1 .8 1 0 1 0 1 .9 1 1 1 2.8 1-1 1-1.6 1-.1 1 1.6 1-.9 1 0 1 .4 1 .9 1 0 1 .6 1-.3 1 .9 1-1.6 1-.5 1 .4 1 1.8 1 .6 1 1.4 1 1.9 1 1 1 1.1 1 1.5 1-.9 1-.7 1-.7 1-1.1 1 .4 1 1.4 1 .4 1 .7 1-.4 1 0 1 0 1-1.6 1 .7 1-1.5 1 .2 1 1.2 1 1 1-2.4 1-1.3 1-.4 1 .1 1 1.6 1 .9 1 .1 1-.9 1 2.7 1 1 1 2.2 1-.6 1 .4 1-2 1 .8 1 1.7 1 1.3 1-2.3 1 1.5 1-1.5 1 .5 1 .1 1-2.6 1-1.9 1 1.4 1-2.4 1-.7 1-.6 1-1 1 2.9 1-3.1 1 .1 1-.7 1-.1 1-.1 1 .2 1 2.6 1 .4 1 .6 1 1.6 1 1 1-2.1 1 .5 1-.8 1 .7 1 .7 1-1.6 1-1.2 1-.3 1 1.5 1-.1 1 1.3 1 1.3 1 .2 1-1.6 1 0 1-.5 1 .2 1-.6 1-1.9 1-.2 1 2.8 1-2.3 1-.9 1 .6 1-.7 1 .9 1 1.2 1-3.5 1-.2 1 .2 1 1.3 1-3.5 1-2.3 1-3.4 1 .3 1 .8 1 .3 1 .9 1 .6 1 .3 1 1.1 1 1 1 2.5 1-1.8 1 2.4 1-1.2 1-1.6 1-.1 1 4.2 1 1.1 1-.7 1 .4 1 1.9 1 1.1 1 .5 1-1 1 4.6 1-3.5 1-.6 1-.5 1 1.6 1-2.5 1-.2 1 0 1-2.2 1-.7 1-.4 1-2.5 1-.7 1-.5 1-1.8 1-4 1 1.5 1-.4 1 .5 1 .9 1 3.4 1 1.5 1-.9 1-4.1 1 .6 1 1.3 1-2.4 1-1 1 .8 1-.4 1-.3 1 1.1 1-2.9 1 .6 1-.2 1-.9 1 2.9 1 .6 1 3.3 1 1.2 1 1.3 1 1 1-.6 1 3.3 1-1.4 1-.9 1 2.3 1 3.3 1 1.9 1-.3 1-.5 1 1.2 1-4 1-1.8 1-.6 1 1.1 1 1.1 1-.4 1 1.6 1 .1 1-.6 1 3 1-1.1 1 .3 1-.6 1 3.3 1-.9 1-.5 1 1.3 1 1.1 1 3.8 1-1.4 1 5.7 1-2.4 1-.8 1-1.3 1-1.6 1 1 1 .5 1 3.9 1-3.8 1 .6 1-6.5 1-.3 1 .7 1 2.8 1-1 1 .6 1 3 1 2.6 1 3.7 1 3.2 1 1.3 1 1.5 1 3 1 8.2 1 4.9 1 9.8 1 8.5 1 2.1M621 813.7l1-2.9 1-2.2 1-2.9 1-8.4 1-.8 1-5.2 1 1.4 1 6.6 1-8.1 1 .6 1-3.2 1-2.6 1-11 1-10.5 1-10.7 1-9.8 1 8.8 1 1 1-10.4 1-6.1 1-11.8 1 .3 1 5.7 1-14.1 1 1.2 1-6.7 1-19.4 1-1.9 1-1.4 1 0 1-1.8 1-1.5 1-6.1 1 5.4 1-1.2 1-4.4 1 .8 1-3.6 1 3.6 1 .7 1 2.6 1 1.2 1-2.6 1-3.1 1-10.5 1-4.6 1 5 1 5.8 1 6.7 1 1.5 1-.2 1-1.5 1 2.3 1 1.5 1 4.6 1-2.7 1-4.5 1-2.2 1 7.7 1 7.1 1 3.1 1-2.4 1 5.7 1 10.1 1 .3 1 .4 1-3.8 1 4.4 1-2.6 1 7.9 1-1.7 1-.5 1 .2 1-5.2 1 5.1 1-.2 1 4 1 8.7 1-1.9 1 2.2 1-6.3 1 1.1 1 4.8 1 .5 1-.3 1-1.4 1 0 1 .1 1 .5 1 7.3 1 1.3 1 3.3 1-6.1 1 4 1 0 1-.2 1-2.2 1 1.4 1 2 1-6 1-3.9 1 4.4 1-1.1 1-2.4 1 3.4 1-.6 1-1.2 1-.2 1 .3 1 4.3 1-.8 1 1.6 1-1.9 1-4.8 1-.9 1 2 1 4.3 1-2.7 1 3 1-2.6 1 2.7 1-.5 1-.5 1-.3 1 4.4 1-4.6 1 4.3 1 3 1 .2 1-3.1 1 1.1 1-.5 1-1 1-.8 1-.8 1 3.7 1 1.2 1-.7 1-.8 1-1.7 1-1.2 1 1.1 1-.2 1-2.6 1 .3 1-1.9 1-1.7 1 3.9 1-1.3 1 4.5 1 3.3 1 3.2 1-2.4 1-3.5 1-4.2 1-3.9 1 1.4 1 7.1 1-.3 1 1.2 1-2 1-4 1 1.2 1-1.3 1 2.6 1-.3 1 5 1-2 1-2.5 1-.6 1 0 1-2.7 1 3.3 1-2.5 1-2 1-2.5 1 3.5 1-2.3 1 .3 1-.7"/>
<path d="M178 727.9l1-.6 1-1.7 1 0 1-.2 1-.1 1 .1 1 .2 1 .4 1 .8 1 1.8 1 .2 1-.3 1-1.1 1 .2 1 .4 1 .6 1-.1 1-.2 1-1.2 1-.6 1 1.1 1-.1 1 .9 1-.1 1-.7 1-.6 1-1.2 1 .1 1 .3 1-.5 1 .9 1-.2 1 0 1 .9 1-.6 1 .5 1-.1 1-.3 1 .6 1 .8 1-.6 1-.6 1 1.5 1 1.7 1 .1 1 2.3 1 1.4 1 .7 1 2.1 1-1.1 1-2.1 1 .3 1 1.4 1-.1 1 1.4 1-1.8 1 .5 1 .1 1-1 1-.6 1-.5 1 2.1 1-.3 1-.7 1-1 1-1.7 1 .9 1 .1 1-2.4 1-1.6 1-1.4 1 .1 1-.1 1 .1 1 .7 1-1 1-.5 1 .8 1 .5 1 1.4 1-1 1-.3 1-1.1 1-.6 1 0 1-.8 1 .4 1-1.1 1 2.2 1 .4 1 1.9 1-1.6 1 1 1-1.5 1-.7 1-1.9 1 2 1-3.5 1 .2 1 1.6 1-.8 1 0 1-.3 1-3.4 1 1.2 1-1.3 1-1.3 1-.9 1 0 1 .7 1 .9 1-2 1-.8 1-2.2 1 1.3 1-1 1-1.4 1 1.1 1-.9 1-.9 1-1.2 1-1.1 1-1.4 1 .1 1 1.4 1-.8 1 1.3 1-.6 1 0 1-1.7 1 2.1 1 2.7 1-.2 1 .5 1 1.1 1 2.2 1-1 1 1.3 1-1.2 1 .2 1 1.8 1-.1 1-.8 1-1.3 1-1.9 1 1.2 1 .4 1-.3 1 1.2 1-1.7 1 0 1-2.2 1 1.1 1-2.6 1-.6 1-1.3 1 .6 1-.7 1-.5 1 .5 1-.6 1 1.8 1-1 1-.8 1 3.5 1-.6 1-2.7 1-.8 1-2 1-1.6 1 .2 1 0 1-.5 1-1.4 1 .5 1 3.2 1 1 1-1.2 1 2.5 1-.8 1 4.5 1-1.5 1 1.5 1-.1 1-.2 1-1.8 1-2.7 1 .3 1 3.1 1-3.6 1-.6 1-.4 1-2 1-1.6 1-1.9 1 .8 1 .1 1 .8 1-.2 1-2.6 1-3 1 .2 1 1.1 1 1.1 1-1 1-2 1-2.2 1 .3 1-3.2 1-.4 1-1.3 1 .3 1 .5 1-.7 1 1 1-1.6 1-1 1-.5 1 1.6 1 1 1-.5 1-1 1-3.4 1-2.9 1 2.2 1 4.2 1-.1 1 2.1 1-3 1-2.8 1-.7 1 1.3 1 2.6 1-1.6 1-2 1 5.6 1-.9 1 2.6 1-2 1-1.5 1 .8 1 1.3 1 .6 1-2.4 1-.3 1-.3 1-1.8 1-2.8 1-.3 1 .2 1 .5 1 .5 1 1.1 1 4.8 1-.9 1 3.7 1 1.2 1 .4 1-2.6 1 .1 1 2.1 1-2.4 1 2 1 .1 1 1.3 1 0 1 .9 1-2 1 4.8 1-2.9 1-1.9 1-.2 1 1 1 .7 1 .6 1 2.8 1-.8 1 .8 1-1.8 1 3.9 1-1.1 1 0 1-4.9 1 1.8 1-1.6 1-1.5 1 .9 1 3.3 1 2.8 1-2.7 1 2.3 1 5.3 1 1.7 1 5.4 1-4.1 1 4.2 1 2.1 1 .7 1 .3 1-7.3 1-5.5 1 .5 1-2.7 1 .7 1-4.1 1 .4 1-3.6 1-1.8 1-1.4 1-3.2 1 .1 1-4 1-1.9 1-2.5 1-2.7 1-.7 1 2.8 1-1.9 1 .1 1 1.5 1 1.7 1-.1 1-.1 1 5.5 1 9.3 1 5.7 1 8.9 1 12.4 1 3.5 1 .2 1-1.2 1 3.8 1-1.3 1 2 1-5.4 1 5.7 1-4.2 1 .6 1 5.2 1-3.6 1 7.2 1 1.5 1 10.9 1-7.2 1-.8 1 1.5 1-.7 1 4 1 4.2 1 6.3 1 3.3 1 5.8 1 5.8 1 5.9 1 4.3 1 6.9 1 5 1 6.3 1 5.4 1 2.4 1 3.2 1 3.6 1 1.4M587 813.7l1-5.9 1-7.1 1-7.8 1-7.2 1-5.4 1-10.5 1-5.5 1-8.8 1-5.7 1-6.9 1-8.4 1-7.7 1-8.8 1-5.1 1-7.9 1-8.6 1-6 1-7 1-4.5 1-.9 1-5.8 1-.2 1-4.6 1-2.3 1 .8 1-3 1 4.5 1-15.6 1-1.6M723 650.2l1 .5 1 .7 1 2.3 1 3 1 3.7 1-.1 1 0 1 3.8 1 2.3 1-1.8 1 .1 1 5.5 1-3.4 1 7.1 1-5.7 1-5.9 1 6 1 2.4 1 6 1-3.5 1 2.4 1 5.6 1 2.4 1 3.2 1 1.8 1 2.7 1 3 1 .4 1 2.9 1 .8 1-1.3 1 .3 1-7.6 1 6.4 1-1.1 1 5.6 1 1.1 1-4 1 7.6 1 1.7 1-1.8 1 1.2 1-3.7 1 1.9 1-1.1 1 6.1 1-2.1 1 2.7 1 1.1 1-5.4 1 .3 1 1.6 1-.7 1 2.4 1 2.5 1-3.5 1 2.9 1-1.1 1-.7 1 1.6 1 .7 1 4.2 1-1.3 1-1.4 1-2 1-.7 1 2 1 1.1 1 1.1 1-1.5 1-1.3 1-2.2 1 3.1 1 1.7 1-4 1 3.5 1-4.8 1 .9"/>
<path d="M178 732.1l1-.1 1 .7 1 .1 1 0 1-.5 1 1 1 0 1 1.4 1-.5 1 .2 1 .4 1 .8 1 .4 1-.4 1 .6 1-.4 1-.3 1 .3 1-.2 1 .5 1-1 1 .9 1 .5 1 1.4 1-.4 1 .1 1-.1 1 .4 1 1.9 1-.8 1 .1 1-.6 1-.4 1 1.5 1-.1 1-1.6 1 1.3 1-.9 1 .2 1 2.2 1 .4 1 .2 1 .9 1 2.7 1-.8 1-.4 1 1.2 1 .7 1 3 1 .8 1-1.1 1 1.1 1 .6 1-.9 1 1.2 1-.5 1-.5 1 .2 1-1.1 1 .2 1-.9 1 1.5 1-1.5 1 .5 1-.3 1 .4 1 1.5 1-1 1 .3 1-.1 1-.2 1 .6 1 1.3 1 1.8 1 .5 1-1.3 1 .4 1 .2 1 .6 1 .9 1-.2 1-1.2 1 0 1 .3 1-1.6 1-.2 1-.7 1 1.8 1 2.3 1-.7 1-.8 1 .2 1 1.5 1-.4 1 .5 1-1.6 1 1.2 1-1.5 1-1.2 1-.2 1-1 1 1.6 1 3.8 1-2.5 1-.1 1 3 1 1.5 1-.8 1-1.2 1-.2 1-.7 1-3.1 1 1.5 1-1.4 1-1.4 1 .9 1 .2 1 .2 1-.8 1 1.1 1-1 1-2.4 1-2 1-1.4 1 .2 1-.3 1 .3 1 .2 1 2.7 1 .8 1 1.8 1 1.5 1-3.7 1 3.5 1 2.6 1 1 1 0 1-1.6 1-.1 1 1 1-1.6 1 1 1 1.9 1 0 1-3.9 1 1.1 1 1 1 .6 1-.2 1-1.6 1 2.8 1-.2 1-.7 1 .9 1 .5 1-2.6 1 .3 1 1.4 1 .3 1 1.8 1-1.2 1-1.5 1-.1 1 0 1-.9 1-1.9 1 1.2 1 .8 1 1.9 1-1.5 1 2.4 1-.3 1-.2 1 1 1-1.3 1 1.3 1-1.9 1 .7 1-2.8 1-2 1 .1 1 1.3 1-1.3 1 .7 1 2.8 1 4 1-3.7 1-.7 1-2.7 1-.8 1 1.9 1-.7 1 1 1-2.2 1 .8 1 .7 1-.9 1-2.4 1 .4 1-3.1 1-.1 1-1.7 1-.1 1 1 1-.6 1-3.2 1-3.6 1 1.9 1-1.2 1-3 1 .4 1-5.9 1-1.8 1 3.8 1 3.5 1-2.3 1 0 1 .6 1 .4 1 1.5 1-1 1 1.8 1 1.5 1 .2 1 .4 1 0 1 1 1-1.6 1-2.2 1 1.4 1 .9 1 2.2 1-.7 1-3 1 .9 1-1.2 1-.8 1 1.1 1-.8 1 .7 1 .2 1 2.6 1-1 1 .2 1-1.1 1 .6 1-1.3 1 2 1-4.2 1-4.1 1-1.6 1 2.5 1 .2 1 1.6 1 1.4 1-.6 1-.1 1 1.2 1 2.2 1 1.3 1-.5 1 1.8 1 .7 1-1 1 1.4 1 1 1 1.6 1-.6 1-2 1-.5 1 2.5 1 1 1 4 1-2.1 1-.1 1 2 1 .7 1 4.6 1-1.3 1 1.9 1-.5 1 2.3 1-3.2 1-1.1 1 3.6 1 3.4 1 4.3 1-2.3 1 4.6 1-.6 1 3.3 1 3.9 1 5.7 1 3.1 1 8.1 1 .5 1 9.8 1 5.6 1-1.8 1 1.3 1-9.3 1-7.9 1-5.8 1-1.7 1-.8 1-1.6 1 1.2 1 1.1 1 1.8 1 1.3 1 4.1 1 2.5 1-.1 1-9.3 1 1.4 1-3.6 1 3 1-1.1 1 1.7 1 1.6 1 1.2 1-.1 1-4 1-10.8 1 10 1 .6 1 4.1 1 9.1 1 4.4 1 8.7 1 5.6 1 2.2M598 813.7l1-1.7 1-4.7 1 .1 1-11.9 1-1.3 1-9 1-2.4 1-10.3 1-3.1 1-6.4 1-12 1-12.7 1-3.7 1 9.1 1 9.6 1 2.6 1-12 1 .2 1-19.8 1 4.8 1-12.3 1-16.5 1-2.3 1 9.1 1 .4 1 3.4 1 7.8 1-6.5 1-4.6 1 8 1-7.3 1-9.2 1-1.2 1-5.6 1-11.8 1-5.9 1 7 1-4.7 1-13.2 1 3.8 1-10.5 1 .1 1-2.9 1-4 1 0 1 2.7 1-2.7M663 650.2l1 1.5 1-1.5M671 650.2l1 1.3 1 3.9 1-.4 1-.1 1 .9 1 2.9 1 2.2 1 9.7 1 1.6 1-4.1 1-.8 1 1.8 1 7.6 1 3.1 1-3 1-.5 1 3.8 1 3.6 1-2.8 1 2.5 1 3.1 1-2.7 1 .5 1 1 1-3.5 1 2.8 1-4.5 1 8.3 1 2.5 1 1.8 1 1.4 1 4.4 1 .9 1 1.6 1 3.7 1-7.8 1 9.2 1 10.4 1 2.2 1 1 1 4.3 1-10.2 1-1.1 1-.1 1 3.5 1 2.4 1 4.5 1-7.1 1-.4 1 1.2 1 .6 1-.2 1-.2 1-3.3 1 3.9 1 3.4 1-.5 1 3.9 1-3.7 1 .8 1 1.5 1-.8 1 .7 1 3.3 1 1.5 1 .4 1 .1 1 5.2 1-.1 1-3.1 1-.4 1-7.4 1 4.2 1 .7 1 3.4 1-4.5 1 2 1 4.8 1-6.3 1 4.6 1 0 1-4.8 1 1.1 1 .8 1 6.4 1-5.9 1 6 1-.2 1-3.3 1 2.6 1 3.3 1-4.6 1 1.5 1-3.7 1 1.2 1-.6 1-4.6 1 4.4 1-3 1-1.8 1 1.6 1 1.4 1 2.9 1-4.6 1 2.2 1-.4 1 1.1 1 3.3 1-2.3 1 1.8 1-1.6 1 2 1-1.5 1-1.3 1 1.7 1 3.3 1 1.4 1 .9 1 2.7 1-6.3 1 4.1 1-6.7 1 4.5 1 2 1 .3 1-4.8 1 6.8 1-6.9 1-4.1 1 2.1"/>
<path d="M178 732.8l1 .4 1-.2 1 .8 1 .5 1 1 1-.3 1 .9 1 .6 1 .3 1-.2 1 1 1 .2 1 1.2 1 .5 1-.1 1 .2 1 .4 1 0 1 .3 1-.3 1 .4 1 0 1 .6 1 0 1 .3 1-.3 1 .3 1-.2 1 .4 1 .5 1 .8 1-1.3 1 1.3 1 .3 1-.8 1 0 1 .7 1-.2 1 .3 1 .3 1 1.6 1-1.7 1 1.3 1 1.4 1-.3 1 .2 1 1 1 .8 1 2.8 1 1.2 1 .2 1 .3 1 .1 1 .1 1 0 1-.2 1 .7 1 2 1 .5 1 .7 1 .4 1 .6 1-1.6 1-1.3 1 1.5 1 .6 1 1.7 1-1.4 1-1.9 1 .7 1-2.8 1-.9 1-.9 1 .8 1 .9 1-1.7 1-.6 1 2.9 1 2.1 1-.9 1-1.2 1-.1 1-.2 1 .8 1-1.1 1-2.7 1 .5 1 1.3 1 .9 1-.9 1-1 1 .6 1 .8 1-1.1 1 1 1-1.3 1-2.7 1 .2 1-2.2 1-.6 1-.8 1 .5 1 2.1 1-.1 1 1.1 1 .4 1-1.7 1-.8 1-.1 1 0 1 2.1 1-1 1-1.3 1 1.1 1-1.6 1 0 1 2.2 1 2 1-3 1 0 1-.6 1 0 1-.4 1-1.2 1-.1 1-.8 1 4 1-.7 1 1.8 1 .4 1 .7 1 1.4 1-2.1 1-1.2 1 3.7 1 1.9 1-1.5 1 1.7 1 .1 1 3.5 1-2.6 1 .1 1 .6 1 .2 1-.1 1-.7 1-.2 1-.4 1-1.8 1 .2 1-2.2 1-1 1 0 1-3.2 1 2.2 1 .5 1-1.5 1 1.6 1 1.2 1 .2 1 1.5 1 1.4 1-.4 1-1.9 1-1.9 1-3.8 1 3.3 1 .5 1 1.7 1-.5 1 .3 1 1.8 1 .4 1 2.2 1-1.5 1 3.2 1-.8 1-1.2 1-.5 1-.7 1-1.1 1 2.5 1-4 1 2 1-1 1 .9 1 .4 1-2.3 1-.8 1-3.6 1 2.6 1 1.8 1-2.1 1 2.8 1 .9 1-2.7 1-1.4 1 1.4 1 1.4 1 .5 1-2.7 1-.9 1 .1 1 .4 1-.3 1-3.3 1 1.1 1 0 1-.8 1-.8 1 .9 1-.6 1 1.1 1-3.1 1 .3 1 .7 1 2.5 1-1.4 1 .2 1 1.1 1 1.3 1-1.2 1-.4 1-.5 1 1.5 1-2.3 1-.8 1-1 1-1.9 1 2.4 1 2.3 1 2.3 1-.6 1 .8 1 .9 1 2.4 1-1.2 1 .8 1-.2 1 2.2 1-.2 1-2 1 3.5 1-.3 1 .8 1-2.4 1 2.1 1 1.1 1-.3 1 .1 1-.1 1 .1 1 1.9 1 2 1-.1 1 2.5 1-4.6 1-.1 1 5.4 1-.3 1-2.7 1 4.5 1-.5 1-.8 1-.7 1-.7 1 2.6 1-6 1-3.9 1 1 1-4.7 1 2.6 1 2.9 1 .1 1 6.2 1 .5 1 1.5 1-.2 1-.9 1 3.6 1 2.6 1-4.9 1 1.3 1 5.4 1 1.5 1 .4 1 1.9 1-3.8 1 4.8 1 9.3 1 6.1 1 5.9 1 5.3 1 7.4 1 4.3M489 813.7l1-3.3 1-6.1 1 9 1-2.4 1-8.8 1-3 1 3.9 1 4.8 1 5.1 1 .8M619 813.7l1-7.7 1-3.3 1 .9 1-4.9 1 1.3 1-1.5 1 8.3 1-.3 1 .7 1-16.8 1-10 1 4.2 1-2.5 1-1 1-8.1 1-3.6 1-7.9 1-4.1 1-8.4 1-3.4 1-.3 1-7.2 1 1.4 1 1.4 1-9.7 1-5.9 1-9.6 1-3 1 4.1 1-4.1 1-1.1 1-7.9 1-2.8 1 1.5 1-4.4 1-.8 1 .8 1-5.3 1-4.6 1-4.1 1 7.1 1 5.1 1-6.2 1-.8 1 2.5 1-7.2 1-12 1-1.7 1 7.1 1 3.7 1 12.7 1 4.6 1 4.5 1 8.8 1-.7 1-1.4 1 2.7 1 1.9 1 3.9 1 5 1 2.4 1 3.3 1-2.6 1-.2 1-6.9 1 4.4 1-8.2 1 4.6 1-.8 1-1.6 1 3.2 1-1 1 4.1 1 .8 1-2.8 1 3.9 1-3.5 1-4.2 1 3.9 1 .6 1-1.8 1-.5 1-2.9 1 3.4 1-2.9 1 6.1 1-.9 1-4.5 1 9 1-.9 1-2.2 1-1.5 1-.8 1-2.7 1 4 1 3.1 1-1.2 1 1.2 1-7.9 1 5 1-1 1-3.4 1 2.8 1 4.5 1 .5 1-3.2 1-3.7 1 8.2 1-3.8 1 2.7 1-.4 1 1.1 1-.2 1 2.2 1 3.8 1 2.1 1 .9 1-2.2 1-2 1 4.8 1-4.8 1-1.2 1 1.1 1 .2 1 .6 1-1.2 1 1.3 1-1.2 1 9.4 1-6.1 1-.7 1 1.7 1-.2 1 .3 1-1.8 1 1.6 1-3 1 3.5 1 .6 1-.1 1-1.6 1 3.5 1-4.2 1-1.1 1 3.3 1 0 1-3.4 1 1.3 1 1.1 1 .3 1 .8 1-5.3 1-.3 1 5.5 1-2.3 1-.2 1 1.7 1 .5 1-1.7 1 2.6 1-1.2 1-3.3 1-3.5 1 4 1-1.4 1 3.2 1 0 1-2.1 1 1.2 1 2 1-1.9 1 .4 1 3.5 1-1.6 1-6.9 1 4.4 1-.1 1 .3 1 .4 1 3.8 1-5.8 1-2.1"/>
<path d="M178 733.5l1-.4 1 .5 1 1 1-.4 1 .8 1 .7 1 .5 1-.3 1 .2 1 1 1 .8 1 .5 1 .6 1 .5 1 .8 1 .5 1 .3 1 0 1 .2 1-1 1 .6 1 .4 1 .1 1 .7 1 .3 1-.3 1 .2 1 .4 1-.1 1-.5 1 1 1 .1 1 .5 1 1.6 1 .4 1 1 1 1.1 1 .3 1-.5 1 .8 1 .2 1-.6 1 .6 1 2.4 1-.9 1 .7 1-.1 1 .6 1 2.1 1 .4 1-.8 1 .9 1 .5 1 .4 1 .8 1 .2 1-.8 1 .8 1 .8 1-.4 1 1 1 .3 1-1.7 1-.1 1-.5 1 .5 1-.4 1 .3 1-.4 1-.5 1-1.3 1 .5 1-.2 1 .6 1 1.1 1-.9 1-.5 1 2.1 1-.1 1-1.4 1 .3 1-.5 1-1 1 .3 1-2.5 1 1.5 1-.5 1-.5 1 0 1 1.1 1 .8 1-1.4 1-1 1 .8 1-.1 1-.4 1 1.4 1 .2 1 .2 1-.4 1 1.4 1-.1 1-.1 1 1.5 1 .1 1 1.6 1 0 1-.9 1-2.2 1 .4 1-1.5 1-.9 1-.7 1 .3 1 .4 1-.7 1-1.3 1-.5 1 1.1 1 .8 1-2.7 1 0 1-1.5 1-1.9 1 1.2 1-3.5 1 1.7 1-.7 1-1.1 1-.3 1 4.3 1-.5 1-1.9 1 1.6 1 .5 1 1.9 1-1.4 1-1.6 1-.5 1 1 1 0 1-.6 1-1.1 1 0 1 .1 1 .9 1 2.3 1-1.9 1-.4 1-.7 1 1.9 1-1.9 1 .1 1-.1 1 .8 1-3.2 1 0 1-.4 1-.2 1 1 1 .5 1 1.5 1-.3 1-.2 1-.2 1 0 1-1.6 1-.1 1 .8 1 2.5 1 1.3 1-1 1-1.1 1-2.2 1-1.6 1 1 1-2.5 1-2.5 1-.4 1-.5 1 0 1 1.1 1 .1 1 3.4 1-2.6 1 1.7 1-1 1-1.7 1 1.4 1-1.4 1 5.2 1 3.2 1-.4 1 .6 1-3.3 1 2.4 1 1.6 1-.5 1-.8 1-1.1 1 2.6 1-1.9 1-1.5 1 2 1-3.9 1-3.3 1-4.9 1 1.2 1-1 1 2 1 2.1 1-2 1-.4 1 2.2 1 .1 1-1.5 1 1.1 1 .9 1-2.4 1-.4 1-.4 1-1 1-.4 1 1.4 1 .9 1-3 1-.4 1 .9 1 2.3 1 .6 1-3.8 1 .5 1-1.2 1 1.3 1 1.8 1-.4 1 1.5 1-3.3 1 .7 1 1.6 1 1.1 1 2.1 1-1.2 1 2.6 1 1.5 1 2.4 1-3.7 1-.6 1-6 1-.8 1 1.7 1-2.7 1 2.1 1-2.2 1 1.5 1 5.7 1 1.7 1 1.8 1 1.2 1 4.2 1-.3 1 .1 1-1.9 1-2.1 1 7.4 1 0 1-.2 1 .1 1-.2 1 2 1 .3 1-.8 1-1.1 1-3.8 1 5.6 1-2.4 1 3.5 1 2.9 1-.6 1 3.1 1 2.4 1 3.3 1 .5 1 3.6 1 .5 1 2.6 1 5.1 1 2 1 3.4 1 5.2 1 8.3 1 6.3 1 2.8 1 0 1-.6 1 4.8 1 4.8 1 0 1-.8 1-2.1 1-1.7 1-.6 1 5.2 1-4.6 1-7 1-2.3 1-8.4 1 2.2 1 1.3 1-.8 1 .1 1 1.4 1-3.6 1-2 1-2.7 1-3.7 1-2.2 1-9.6 1 9.9 1-2.8 1 .7 1 0 1 .4 1 2.4 1 9.3 1-1.9 1 6.3 1 6.2 1 .9 1 2 1 1.8 1 4.3 1-2.9 1-6.9 1 4.8 1-2.4 1 9.8M600 813.7l1-8.9 1 2.4 1-5.1 1 4.2 1-8.2 1-16.4 1-11.4 1 2.3 1 8.4 1-20.7 1-4 1 13.7 1-10.7 1-7.3 1-18.2 1-13.9 1-1.1 1-1 1-2.7 1-21.1 1-8.7 1 2.8 1-.3 1 10.1 1-8.1 1-3.1 1-.1 1-5.9 1 13.1 1-4.6 1 1.7 1 8.7 1-11.4 1-9 1-.5 1 11.3 1-10 1-19.8 1-.9 1 5.2 1-14.3 1 6.6 1-6.6 1 0 1 1.4 1-1.4M670 650.2l1 .5 1-.5M676 650.2l1 .3 1-.3M680 650.2l1 7.6 1 4.5 1-3.1 1-9M691 650.2l1 6.2 1-1.5 1 6.3 1-8.9 1 2.9 1-5M710 650.2l1 3 1 9.6 1 4.6 1-2.3 1 1.9 1-2.5 1 .4 1 2.8 1 4.1 1 4 1 1.5 1 3.9 1-1.1 1 3.5 1-.9 1-3.9 1 3.9 1 2 1-2.7 1 2.6 1-2.4 1 .6 1 5.3 1 3.6 1-5 1 6.3 1-2.3 1-7.6 1-3 1 10.9 1-6.9 1 1.1 1-.6 1 1.8 1 6.4 1-1 1 1.9 1 3.5 1 2.8 1 0 1-2 1-.3 1 4.3 1 1.2 1 4.6 1-3.1 1 .4 1-.2 1 1.2 1 .6 1-2 1-.4 1 2.4 1-1.6 1-.6 1 4.5 1-5.3 1 2.6 1 .3 1-4.4 1 0 1 2.6 1 .3 1-1 1 3 1-1.5 1 4.3 1-2.7 1-2.4 1 3 1-2.2 1 3.4 1-1.4 1-2 1 1.8 1 .5 1 3.9 1 .2 1 3.5 1-3.3 1 4.4 1 1 1 1.4 1-.1 1-2.5 1 .7 1 2.6 1-3.9 1 7 1-4.2 1-1"/>
<path d="M178 726.9l1-1.5 1-2.1 1 .1 1 .4 1 .4 1 .2 1-.3 1-.1 1 .9 1 .3 1 .9 1 .3 1 .5 1-.8 1 .5 1-.5 1 .2 1 .7 1-.6 1-.9 1-.6 1 1.2 1-.9 1-.3 1-.7 1-.2 1-.2 1 1 1 .5 1 0 1-1.9 1 .2 1-.4 1 .9 1 .6 1 .7 1 .8 1 2 1 1 1-.5 1-.5 1 .2 1 .8 1 .2 1-1.5 1 1.3 1 1.4 1-.7 1 .1 1-.9 1 .5 1 .7 1 1 1 .9 1-1.4 1 .2 1 .6 1 1.6 1-.6 1-.5 1 .3 1-1.1 1 .2 1 0 1-2.6 1 3.3 1 2.3 1-2 1-.2 1 0 1-1.9 1-.7 1 1.6 1 1.8 1 .4 1-.7 1 .6 1-1.5 1 .1 1 0 1-1.8 1-.7 1-1.5 1 3.3 1-1.3 1 .2 1-1.6 1 2.5 1-1.4 1 2.3 1 .1 1-1.4 1 3.7 1 .3 1 .1 1-2.3 1 1.4 1-.9 1-3 1-.1 1-.8 1 1.6 1 2.2 1-1.3 1 .2 1 .4 1 .6 1 .1 1-1.1 1 .7 1-2.4 1 1.7 1 .7 1-.3 1 1.7 1-.7 1-2.9 1-1.8 1-.9 1-.3 1-2 1-1.6 1 .8 1 3.4 1 .7 1-4.3 1 5.3 1-1.3 1 0 1-1.4 1-.7 1 3.4 1 2.3 1 2.3 1 1.2 1-2.8 1-.6 1 3.6 1-.5 1 3.7 1-.4 1-2.9 1 1.7 1-2.8 1 .4 1-.2 1 .5 1 .9 1 .8 1-2.8 1-1.7 1-1.5 1-2.8 1 3.8 1 .8 1 .1 1 .4 1 .6 1 2.2 1 .5 1 .7 1-3.4 1-5.1 1-.4 1-1.4 1-2.2 1 3.6 1 2.1 1-2.5 1-2 1 .2 1 2.2 1-1.1 1-.6 1-1.4 1 3.6 1-1.3 1 2.1 1 2.9 1-2.7 1 1.1 1 0 1-1.8 1-3.8 1 1.8 1 2.4 1 2.6 1-1.9 1-2.2 1 .1 1 5 1 3.4 1-2.9 1-.8 1-1.7 1-.3 1-2.4 1-1 1 1.5 1-3 1 1.2 1 1 1-.3 1 4 1 .6 1-3.1 1-.7 1 2.6 1-1.7 1-1.2 1 .3 1-.4 1-1.5 1 .8 1-2.9 1-.3 1 1.6 1-6.5 1 .6 1-1 1-3.5 1 1.7 1-1.5 1 0 1 3.4 1-.2 1 .2 1-1.2 1-.8 1-.9 1-2.4 1-1.2 1 4 1 4.6 1-.7 1 .7 1 2.7 1 1.5 1-2.9 1-.9 1-.7 1-1.3 1 0 1-3.1 1 0 1-1.5 1 2.6 1 2.7 1-.1 1-5.7 1 2.3 1 1.3 1 3.9 1-1.4 1-.2 1 4.9 1 1.6 1-3.6 1 4.1 1 .3 1 3 1 2.8 1-4.3 1-1.3 1 .9 1-1.9 1 .3 1 2.1 1 .9 1-1.1 1 1.6 1-1.3 1-2.6 1-5.7 1 2.6 1 2.7 1 1 1 3.8 1 3.5 1-5.2 1 4.4 1 2.7 1-1.7 1 2.4 1-5.2 1 4.9 1-2.4 1-5.4 1 3.8 1 2.5 1 0 1-3 1-6.2 1 3.2 1 1.4 1 .6 1-.1 1 1.2 1 1.8 1-8.4 1-1.8 1 11.4 1 13.9 1 7.8 1-7.7 1-4.8 1 5.1 1 7.9 1 2.3 1-2.1 1-9.2 1-5.6 1 .2 1-.6 1-1.9 1 2 1-8.1 1-2.3 1 8.2 1 5 1 4.4 1-3.9 1 .5 1 12.5 1 4.7 1-7.1 1 6.4 1-.2 1-5.5 1 1.9 1-.8 1-2 1-3.3 1-4.2 1-1.2 1 1.4 1-.2 1 1.2 1 7.7 1 4.4 1-2.1 1 4.2 1 .3 1-4.9 1-1.6 1 2.4 1-3.6 1 1.4 1 10.5 1 6.7 1 6 1 .2 1 12.5 1 1.7 1 7.6 1 5.5 1-.1 1 4.7M595 813.7l1-1.7 1-1.3 1-.4 1 1.1 1-15.6 1 3.2 1-12.5 1-4.6 1-14.3 1 8.2 1-11.9 1 12.7 1-9 1-5.8 1 .2 1-2.5 1-6.8 1-16.7 1-13.7 1 3.8 1-8.1 1-9.7 1 5 1-7.7 1-8.3 1-14 1-11.7 1-13.3 1-6.8 1 3.8 1-5.1 1 5.6 1 2.1 1-6.6 1 5 1-.9 1 6.8 1-5.3 1 .7 1-.9 1-6.5M688 650.2l1 .3 1-.3 1 3.9 1-3.9 1 0 1 .3 1 11.2 1-.5 1-.8 1 9.3 1-3.2 1 2.4 1 0 1 1.5 1 .2 1-3.8 1 5.5 1-1.7 1 1.3 1 2.6 1-3.4 1-2.1 1 .7 1 8.4 1 1.1 1-4.5 1 4.7 1 2.3 1 5.2 1-.8 1 6.2 1 5.8 1-.6 1 2.8 1 3.4 1-5.2 1 4.7 1 2.5 1-1.5 1-1.6 1 3.1 1 2.2 1-4.4 1-1.7 1 1.5 1 5.4 1 2.8 1-1.1 1-3.3 1-1.6 1 3.7 1-2.6 1-.5 1 2 1 .8 1 1.3 1 .9 1 1.4 1-.2 1-1.2 1 1.7 1-1 1 3.4 1-1.1 1-1.6 1 1.4 1-1.4 1-.7 1-5.1 1 .8 1 11.5 1-3.4 1-6.6 1-.4 1 7.3 1 .2 1 2.2 1-2.2 1 2.5 1 1.8 1-2.1 1 4.8 1 .5 1-1.5 1-2.8 1 5 1-7.1 1-.8 1 .7 1-4.3 1 2.5 1 .3 1 5 1-2.7 1-1.4 1-1.3 1 2 1 .4 1 1.1 1 3.6 1-5 1-.9 1-3 1 2.4 1 1.9 1 2.9 1-.4 1-.8 1 1.5 1-.1 1-3.6 1 1 1 2.5"/>
<path d="M178 732l1 .3 1 .6 1 0 1 .7 1 0 1-.1 1 .2 1 1.5 1 .4 1 .1 1 1 1-.1 1 .1 1 .8 1 .2 1 .3 1-.2 1 0 1 1 1 .7 1 .6 1-.7 1 .4 1 .5 1 .5 1-1 1-.3 1-.1 1 .6 1-.3 1-.2 1 .8 1-.2 1 1.4 1-.4 1 .7 1 .2 1-.8 1 .4 1 1 1 .5 1-.5 1 .7 1 2 1-1.2 1 .4 1 1.2 1 .3 1 2.5 1 0 1 .2 1-.6 1 1.6 1 .5 1 1.2 1 .3 1 .4 1 0 1-1 1 0 1 .8 1-.5 1-.6 1-.3 1 1.7 1 .2 1 .2 1-1 1 .1 1 .1 1-1.9 1 1.8 1-.1 1 1 1 1 1 .3 1-.1 1-1.3 1-.8 1-.1 1-1.4 1-.8 1-1.9 1 0 1 .5 1 .2 1 .7 1 2.2 1 .6 1-.5 1 .6 1-1.4 1 1.3 1 .3 1 1.8 1-2.9 1 .8 1-3.6 1 1 1-1.3 1-2.2 1 3.3 1 1.5 1 .9 1-1.3 1 1 1-1.4 1-.7 1-.5 1-.2 1-.5 1 .1 1 .5 1-.7 1 .1 1 .4 1 .6 1 1.8 1 .6 1-2.8 1 0 1 .6 1 2 1-1.2 1 .3 1-.8 1 .1 1-.7 1 1.2 1-1.3 1-.1 1 1.6 1-.4 1 1.5 1 .7 1-.9 1 1.4 1 1.2 1 .2 1 1.4 1-3.6 1 1.3 1 .1 1 .1 1-1.2 1 1 1-1 1 .5 1 .8 1 .6 1 0 1-1.5 1 1.8 1-1.3 1-.1 1-3.3 1-1.6 1-1.4 1 .4 1 0 1-1.1 1 1 1-3.5 1 .6 1-.6 1 1.3 1 3.1 1 1.4 1-.5 1-1.7 1 3.3 1-.2 1-1.1 1 .1 1-.1 1 .7 1 3 1 2.1 1 1 1-2 1 .9 1 2.5 1 .2 1 2.3 1-1.7 1 1.5 1 .9 1-.1 1-1.5 1-.2 1-2.8 1-3.2 1 2.1 1 .8 1 1.6 1-.3 1 .7 1-.7 1 2.4 1-1.3 1 1.8 1-.3 1-2.1 1-1.5 1 1.1 1-1.5 1-2.8 1-1.1 1-.2 1-.4 1 .2 1-3.2 1-1.9 1 1.7 1 4.7 1 1.8 1-2.1 1-1.3 1-4.7 1-.1 1 .5 1-2.7 1 .9 1 2.5 1 3.2 1 1.5 1-1.1 1-.4 1-.8 1-.8 1-.5 1 1.6 1 2.6 1-1.5 1-3.7 1 .6 1 2 1 1.5 1-.4 1-1 1-.6 1-1.9 1 1.5 1 .9 1 3.5 1 2.2 1-.2 1-.8 1 .7 1-2.2 1 2.7 1-.5 1 1.9 1-1.4 1-.5 1 1.4 1-.6 1-1 1 .4 1 .6 1 .9 1-.1 1 1.1 1-5.3 1 1.8 1 .6 1 1.6 1-2.6 1-2.1 1 2.1 1 4.3 1-1.6 1 3.6 1-3.1 1 .2 1-2.4 1-1.6 1 1.9 1 .7 1 3.1 1 2.1 1 1.1 1 .4 1 3.3 1 2.3 1 2.8 1 2.5 1 4.3 1 5.1 1 1.1 1 7.8 1 4.6 1 3.9 1 10.9 1 2.6M481 813.7l1-3.4 1 1.5 1 1.2 1-2.2 1 2 1-1.4 1 1 1 1.3 1 0 1-3.2 1 3.2 1-1 1 1M620 813.7l1-1.8 1-3.3 1-7.6 1 2.7 1-5.5 1-4.4 1-8.1 1-2.1 1-10.5 1-1.6 1-4.8 1-8 1-5.2 1-5.8 1-6.7 1 0 1 .3 1 6.3 1-1.9 1 6.7 1-9.1 1-8 1 .8 1-2.3 1 3.9 1-5 1 1.2 1-5.2 1-7.9 1-5.8 1-3.9 1-3.6 1-4.7 1-2.8 1-2.6 1 3.5 1-7.1 1-2.5 1-6.3 1 4.9 1-.6 1 4.9 1 7.8 1-2.5 1-5 1-7 1-6.6 1 1.5 1 15.7 1 7.1 1 8.9 1-2.9 1 7.2 1 3.5 1-1.6 1 1.2 1-1.9 1 1.1 1-.9 1 4.6 1-4 1 1.4 1-3.2 1 1.9 1-3.3 1-1.7 1-.9 1-.5 1 3 1-2.5 1-1.7 1 .8 1-2.5 1-1 1 1.4 1 8.5 1 1.2 1-.2 1-1.2 1 3.5 1-3.1 1 .5 1-3.8 1-3 1 3.6 1 2.1 1-3.2 1-5.4 1 .2 1 1.5 1-.1 1-1.2 1 .4 1 0 1-.9 1 2.5 1 1.1 1 1.5 1 6.7 1 3.4 1-4.8 1 2.7 1 5.6 1-4.1 1 6.3 1-1 1-5.2 1 .2 1-.7 1 3.4 1-.7 1-1.7 1 1.5 1-5.2 1 3.9 1 0 1 3.7 1 1.3 1-2.2 1 7 1 2 1-5.5 1-3.6 1 3 1 2.2 1-4.5 1-2.1 1 1.4 1-2.3 1 2.5 1-.5 1 2.4 1 5.2 1-3.8 1 .4 1 1.2 1-5.5 1 .4 1 .1 1 5.1 1-5.2 1 4.8 1 .5 1 2.5 1-3.2 1-.6 1 3.9 1-1.7 1 2.4 1-.5 1 2.1 1-2.1 1 1.7 1-3.3 1-.4 1 2.1 1-2.6 1-1.7 1 0 1 2.8 1-1.2 1 1.7 1-2 1-.4 1 2.5 1-5.2 1 3 1 1.9 1-.7 1 .8 1 2.6 1-3.3 1 .9 1-.8 1 2.6 1-4.9 1-.8 1-3.3 1 5.3 1-1.3 1 4.1"/>
<path d="M178 728.3l1-1.1 1-2 1 .4 1 .3 1 1.1 1 .2 1 1.8 1-.2 1 .7 1-.5 1 0 1 0 1 .5 1 .2 1 .4 1-.2 1 .3 1-1 1 .3 1-.7 1 .3 1-.9 1-.4 1 0 1-.5 1-.5 1-1.5 1 .3 1 2.4 1-1 1 .5 1 1 1 .7 1-.5 1-1.3 1-.1 1 1.5 1-1.1 1 .8 1 .4 1 .1 1 1.2 1 .9 1 0 1-1.3 1 1.3 1 .4 1 1.3 1 1 1 1.1 1-1.4 1 .3 1 1.5 1 .4 1 1.6 1 .8 1-.8 1 .3 1-.4 1 .6 1-2 1 2 1-2.9 1 .2 1 .6 1-.2 1 .9 1-1.1 1 .3 1 .6 1-3.2 1-.7 1-1.4 1 1 1 0 1-1.2 1 .2 1 .4 1 3 1-.7 1 2 1-.5 1-.1 1 .6 1-.2 1 1.8 1-2.6 1 1.1 1 .3 1 1.5 1 3.3 1-1.3 1-.8 1 1.5 1 2.5 1-1.3 1 .1 1-1.7 1-2.8 1-.9 1 2.7 1-2.2 1 1.2 1-2.5 1-1.4 1 .5 1-.2 1 .8 1-.8 1 .4 1 .3 1 1.5 1-3.3 1-2.8 1-1.4 1 1.1 1 1.9 1 1.4 1 1.2 1-1.3 1 1.6 1 1 1-4.2 1-.1 1-1.8 1 .3 1 1.3 1-.6 1-1.1 1 1.6 1-1.7 1-.6 1-1.1 1 3.7 1 2 1 2.5 1 1.2 1-1.9 1-.9 1 .7 1-1.2 1-1.4 1-1.2 1-1.4 1 2.8 1 2.8 1-1.3 1-.7 1 1 1 .5 1 .9 1-.7 1 .8 1 .2 1 2 1-3.2 1-2.3 1-.1 1-4.3 1-2.5 1 2.1 1-1.5 1 1.2 1-2.4 1-3.3 1 .5 1 2.7 1-.9 1-.1 1-.2 1-1.2 1-1.8 1-1.4 1-5.4 1 2.9 1 1.4 1-.7 1 1 1-1.7 1 1 1 2.1 1 0 1-3.5 1-2.7 1 4.4 1 1.2 1 .2 1 1.4 1-.6 1-.7 1 1.3 1 1.5 1-2.4 1 3.7 1-4.6 1 2.4 1 2 1-1.9 1-2.1 1-2.1 1-1.8 1 2.4 1 .1 1 2.7 1-.5 1-.8 1-2 1 1.3 1-2.9 1-.3 1 1.9 1 1.1 1-1 1-2.3 1-.6 1 .5 1-1.9 1 .4 1 3.2 1-.1 1-3.2 1-2 1-1.3 1 2.4 1 2.3 1 3.1 1 2.6 1-1.2 1 .4 1 0 1 .7 1 .6 1 .1 1 6.7 1 2.3 1 .5 1-.1 1 1 1-.9 1 2.8 1-1 1-1.1 1 1.7 1 3.3 1-.3 1-1.1 1-4 1-1.1 1 1.4 1-4.4 1 2.6 1 2.8 1 1.9 1 1.5 1 1.2 1 .6 1 2.2 1 4.1 1 .8 1-4 1 .9 1 .5 1 4.4 1-.1 1 4.9 1-1.6 1 .1 1-2 1-.9 1 .7 1-.6 1-2.3 1 2.9 1 4 1-2.3 1-.3 1-.9 1 1.5 1-.1 1-.5 1 .7 1 0 1 2.3 1 .4 1 2.4 1 2.6 1 .7 1 1.9 1 7.5 1 5.1 1-1.5 1 5.8 1 4.8 1 1.7 1 6.6 1 .7 1 5.8 1 4.4 1 .8 1 .3 1-6.4 1 0 1-2.1 1-7.3 1-7.5 1-4 1-1 1-6.8 1 .3 1 2 1-1 1-3.1 1-5.7 1-12.4 1 5.6 1-5.8 1 2.8 1 3.9 1 4.4 1-.5 1 9.7 1-5.7 1 9.8 1 5.9 1 3 1 1.1 1 13.6 1 .5 1 11.4 1-4.3 1-3 1 5.4 1 1.6 1 1.6 1 5.5M515 813.7l1-.8 1 .8 1-1.8 1 1.8M521 813.7l1-4.6 1 4.2 1-2 1 2.4M593 813.7l1-3.2 1-3.2 1-7.7 1-4.2 1-2.5 1-4 1-22.1 1-12.8 1-14.7 1-7.8 1-4.3 1-.9 1-19.4 1 7.6 1 11.3 1-2.6 1-13.5 1 8.1 1 3.9 1-9.4 1-5.4 1-7.8 1-7.9 1-1.1 1 5.5 1-4.6 1-8.2 1 12.4 1-2.8 1-15.6 1-2.7 1 10.2 1 2 1-4.2 1-.9 1 3.3 1-2.3 1-9 1-4.1 1 1.5 1 .2 1-1.7 1-3.4 1 1 1 8.7 1-1.8 1 3.7 1-1.8 1-.1 1 .3 1-13 1-12.5 1 12.3 1 .5 1-5.2 1 6.1 1-7.1 1 2.7 1-5.6 1-.4 1-3.2 1 .4 1 .7 1-1.2M671 650.2l1 5.9 1-.8 1-3.4 1 9.4 1 5.6 1 5 1-2 1 2.9 1-9 1-1.9 1-1.8 1-3 1 .1 1 3.3 1-5.7 1 5.1 1-6.7 1 9.6 1 6.3 1-4.4 1 2.4 1-5.9 1-.6 1-5.1 1-2.8 1 5.7 1-5 1-1.2 1-2M704 650.2l1 1.7 1 10.3 1-.7 1 0 1-2.7 1 1.3 1-7.3 1 6.1 1 5.7 1 3.9 1-1.3 1-1.1 1 .7 1 3.6 1 5.4 1 2.7 1 2.1 1-3.9 1-1.7 1 4 1 1 1 5.1 1 2.4 1 4.4 1 4.9 1 3 1 .3 1-1.9 1-6.1 1 1.7 1 .2 1-2.1 1 1.8 1-1.4 1-1.1 1 1.8 1 1.1 1-1.7 1-1.1 1 3.6 1 1.9 1 3.9 1-2.3 1-2.1 1 2.4 1 3.1 1-3.7 1 .9 1 4.3 1-1.5 1 3.6 1-.6 1 1.6 1 4.9 1-1.8 1 2.6 1 2 1-.7 1 1.4 1-1.4 1-4.2 1 5 1-.9 1 .9 1-1.4 1 4.8 1-2.5 1-.2 1-2.5 1 2.9 1-3.1 1 1.7 1 .7 1 6.3 1-1.1 1-1.8 1-1.9 1-2.3 1 .1 1 3.9 1 .4 1 .1 1 .4 1-.4 1-.6 1 .7 1 1.3 1-2.3 1 3.5 1-2.7 1 2.1 1-.7 1 3.5 1 .3 1 3.9 1 .6 1-1.4"/>
<path d="M178 730.9l1-.1 1-.6 1 .2 1 .3 1 .5 1 .3 1-.4 1 .9 1 0 1 .8 1 .5 1 .1 1-.5 1 .4 1 .8 1-.4 1 0 1 .6 1 .6 1-.8 1 .7 1-.5 1-.4 1 .4 1 .8 1 .5 1-.4 1 1.3 1-.9 1-.8 1 .6 1 .8 1 .1 1 1.1 1 .2 1-.3 1 1.2 1-.4 1 .4 1 .1 1 .6 1-.7 1 1 1 1.3 1-1.6 1 .7 1-.7 1-.6 1 2.3 1 .4 1-1.7 1 .3 1 1.9 1-.4 1 .4 1-.5 1 1.4 1 1.7 1-.2 1-.1 1-.2 1-.1 1-1 1-.1 1-.2 1 1.9 1 .3 1-1.2 1-.9 1 2.4 1-1.6 1 .6 1-.6 1 .5 1 .6 1-2.2 1 .5 1 0 1-1 1 .9 1 1 1 1.5 1 0 1 0 1-.1 1 0 1 .8 1-.7 1 1 1 .4 1 2.2 1 .2 1 .3 1-.6 1 .4 1-1.8 1 1.1 1-2 1 1.4 1-.8 1 0 1 .5 1 1.5 1 .7 1 .5 1-.7 1 2.3 1-1.7 1-2.5 1 .4 1 .8 1-2.7 1-1.4 1-1.8 1-.3 1 2 1-1.1 1-.1 1 .7 1-.8 1-1.2 1 1.9 1-1.3 1-.6 1-1.1 1-2.3 1 1.3 1-.4 1 1.7 1-2.6 1-.1 1-.9 1-1.6 1 1 1-.4 1-1.5 1 2.9 1 1.4 1 2.3 1 2 1-1.8 1 2.7 1-1.1 1 0 1 1.1 1-.2 1-.1 1-.2 1-3 1 2.1 1 2 1 .9 1-1.5 1-1.9 1 .7 1-1.5 1-2.7 1 2.2 1 1.5 1-.9 1-.2 1 .6 1-1.7 1 1.2 1 .7 1-1.5 1-.7 1 3.3 1-2 1-3 1 1 1 3 1 .9 1-1.1 1 .1 1 1 1-1.7 1 .1 1-2.7 1 2.9 1-1.8 1 .4 1-3.4 1 .9 1-2.9 1 2 1-1 1-.9 1-.1 1 1.1 1-.1 1-.1 1-2.6 1-1.9 1 2.3 1 1.9 1 2.4 1-3.2 1 .6 1-.7 1-.3 1 3.6 1 .9 1 1.5 1-3.8 1-2.4 1-2.2 1-3.4 1-3.3 1 1.2 1 1.1 1 1.8 1-.5 1-.4 1-.3 1-.1 1-.5 1 .4 1-2.6 1 1.6 1 .1 1-6 1-1.9 1 2.9 1-.1 1-3.8 1-2.9 1-.5 1 1.6 1 1.2 1-1.9 1 2.8 1 2.7 1 .9 1 .3 1-1.4 1-.1 1-1.9 1 1.4 1 1.4 1 1.2 1 1.4 1 .3 1-1.4 1 1.4 1-2.1 1-3.7 1 2.7 1-4.1 1-3.2 1-.7 1-1 1 .4 1 2.2 1-.5 1 .8 1-.6 1 1.4 1 5.1 1 5.1 1-1.5 1-.4 1 1.4 1-2.5 1 .6 1 2.7 1 .4 1-3.4 1-.7 1-.6 1-5.8 1 1.3 1 4.8 1 .8 1 .1 1-3.8 1-2.5 1 3.4 1-1.7 1-.5 1-.5 1 5.1 1-.9 1-.4 1-.4 1 5.4 1 1.6 1 6.2 1-.8 1-3.6 1 2.3 1 4.5 1 6.7 1 2.8 1-7.7 1 5.4 1 5.3 1-1.7 1 .6 1-13.7 1 3.6 1-2.6 1-3.4 1 2.2 1-.9 1-6.2 1 1 1 2 1 8.8 1-4.2 1-5.5 1 1.7 1-2.4 1-8 1 2.2 1 .3 1-1.6 1 2.8 1 10.9 1 8.1 1 .9 1 4.4 1 2.8 1 7.6 1-2.7 1 11.9 1 5.5 1 5.8 1 7.3 1-1 1 8.5 1 2.7 1 10.3 1 1.4 1 2.3 1 1.9M608 813.7l1-.4 1 .2 1-6 1-6 1-18.9 1-8.5 1-6.2 1-6.6 1-4.8 1 1.4 1-4 1-12.3 1 3.7 1-.3 1 3.8 1-14.4 1-11.7 1 2.1 1-2 1 1.3 1-9.6 1 2.7 1-1.4 1 .6 1-10.5 1-7.8 1-2.5 1 .2 1 .7 1-.9 1-9.6 1-3.2 1-4.6 1-4.3 1 1.8 1-9.7 1-1.8 1-6.6 1-1.5 1-3.9 1-2 1 .8 1 4.4 1-5.2M695 650.2l1 1 1-1 1 0 1 .3 1-.3 1 0 1 3.5 1 2.3 1-5.8M707 650.2l1 1.4 1 1.5 1 5.5 1 .9 1 2.9 1 8.8 1-.1 1 2 1 .8 1 2.4 1 3.2 1-.3 1-1 1 4.1 1 7.7 1-3 1 1.7 1 1.7 1-4.6 1-3.2 1 .8 1 3.6 1 3.6 1 3 1-3.1 1-.9 1 3.4 1-4.8 1-4.3 1-2.9 1 1.7 1 2 1-4.6 1 4.8 1 3 1 4.1 1 .2 1 .4 1 .9 1-.8 1 7.4 1 1.8 1-.3 1-1 1 6.5 1 6.3 1-2.5 1 6.2 1-3.9 1 3.9 1-.6 1 0 1 3 1-.9 1 1.9 1-5.6 1 7.1 1-4 1 2.3 1-2.4 1 4.5 1-2.5 1-2.1 1-1.2 1 1.7 1-4.4 1 1.5 1-4.5 1 .7 1 .6 1-1.5 1 1.1 1 .2 1 2.8 1 0 1 2.5 1-4.4 1 2.8 1 1.7 1-2.9 1-.7 1 .6 1-.8 1-2.9 1 2.2 1 1 1 .7 1-3.4 1 3.2 1 5.4 1-2.6 1 5.3 1-1.5 1-3.1"/>
<path d="M178 730.8l1-.8 1 .8 1 .2 1 .5 1-.4 1 .5 1-.4 1 1 1 .1 1 .9 1 .3 1 1 1 0 1 1.1 1 1.5 1-.1 1-.6 1-.1 1 0 1 .1 1 1.1 1-.4 1-.4 1 1.5 1-.2 1-.4 1 .1 1-.2 1 1.3 1-.6 1 .3 1 .6 1 .2 1 1.8 1-1.2 1 .1 1 .6 1 .6 1-.2 1 2.2 1 .3 1-.4 1 .1 1 1.7 1-.8 1 1.4 1 1.3 1 1.4 1 2.7 1-.7 1-.3 1 0 1 1 1-.1 1 .6 1-1.6 1 .5 1 1.1 1-.4 1 1.2 1-.4 1 .5 1-.5 1-1.7 1 .6 1 .4 1 2.9 1 0 1-1.3 1 .6 1 .6 1-.5 1 .1 1 .8 1-.4 1 1.2 1 0 1 .1 1 .3 1 .9 1 1.5 1 .2 1-2.3 1 .6 1-.5 1 .9 1-.4 1 .1 1 .4 1 1.8 1 .2 1-.7 1 .4 1 1.7 1 .2 1 0 1 1.7 1-2 1 .8 1 .7 1-1.5 1 .1 1 1.5 1 .2 1-1.4 1-.3 1 .7 1-.3 1-2.1 1 .2 1-2.5 1-1.6 1 .2 1-1.3 1-.9 1 .8 1 .2 1 .9 1 .5 1 .3 1-.8 1 1.1 1-2.9 1 1.6 1 .5 1-1.4 1 .5 1 .9 1 .5 1-.8 1-.8 1 1.2 1-.4 1 1.7 1 2 1 2.2 1 1.9 1-3.8 1 1.3 1-1.7 1 2 1 2.4 1-.7 1-2.1 1 .7 1-1.8 1 0 1 0 1 1.2 1 1.8 1-1.6 1-1 1-.6 1 1.5 1-1.1 1-2.2 1-.5 1 1.7 1 1.7 1 1.3 1 1.1 1-.3 1-1.8 1 2.1 1-.5 1-.6 1 1.9 1-.3 1-.7 1-.5 1 1.1 1 .1 1 .5 1 .6 1 .3 1-.6 1 .8 1 2.7 1-.3 1 1.1 1-2.6 1-.7 1-1.9 1-.6 1-1.6 1 1.9 1 1.5 1-2.3 1-1.1 1 1.3 1 2.3 1 1.1 1 .9 1 .1 1 1.6 1 1.3 1 1.4 1 .3 1 2.6 1-3.1 1 1.5 1 .6 1 .8 1-.5 1-2.8 1 .3 1-4 1 .9 1-2.2 1-1.3 1 .8 1-.5 1-2.1 1 3.4 1-.4 1 .8 1 1.4 1-.4 1-1.7 1-.1 1-.4 1-2.6 1 .3 1 1.3 1 .5 1 .3 1 .5 1-1.4 1 1.4 1 0 1 2.4 1 0 1 2.9 1 1.3 1 .7 1 .1 1 .7 1-.7 1-.2 1-.9 1-.5 1 1.2 1 .6 1 .2 1 1.4 1 1 1-4.7 1-1.5 1-1.3 1-1.3 1-1 1 5 1-.4 1 0 1-1.2 1 1.4 1 2.7 1-.5 1 1.7 1-.6 1 2.9 1 1.4 1 2.2 1-.1 1-.7 1-.3 1 2.2 1 .7 1 1.2 1 1.2 1-.2 1-.1 1 .6 1 .2 1 1.5 1 .3 1 .6 1 .8 1-.8 1 1.3 1 1.4 1 .2 1 3.2 1 5.5 1 1.2 1 2.8 1 3.1 1 2 1 5.6 1 .9M630 813.7l1-4.1 1-2.6 1-6 1-6.1 1-3.6 1-7.7 1-3.6 1-5.5 1-2.7 1-1 1-3.8 1-7.7 1-1.8 1-5.6 1-3.6 1-.8 1-4.9 1-3.1 1-4.3 1-2.2 1 .1 1-5.6 1-5.8 1-3.5 1-1.4 1-1.5 1-5.5 1-4 1-1 1-.9 1 4.7 1 .5 1 2 1-.8 1-6.1 1-10.5 1-5.8 1 8.8 1 6 1 6.2 1 8.6 1 2.6 1 .7 1 2.8 1 6.6 1 .1 1-1.2 1 .4 1-3.6 1 4 1 2.5 1-.3 1-1.4 1-4.7 1 .6 1 .9 1-1.7 1 3.8 1-2.2 1-1.8 1-3.1 1 11.6 1-3.3 1 2.8 1 2.7 1-3 1-3.6 1 3.3 1-4.4 1 6.1 1 .9 1-2.7 1-.5 1 .9 1-4.6 1 1.1 1 2.5 1-3.3 1-6.5 1 6.8 1 .9 1-.7 1 2.1 1 1.8 1 2.9 1-.7 1-.5 1 .3 1 3.4 1-2 1 1.5 1-1.4 1 .5 1 0 1 1.8 1 .1 1-.4 1-.6 1-2.8 1 .7 1-1.1 1 2.5 1-2.7 1 1.9 1 1.3 1 1.3 1 0 1-2.1 1 6 1-2.6 1 1.7 1 1.1 1-2 1 1 1 1.5 1 0 1 1 1-4.3 1 2.4 1 2.4 1 2.3 1-3 1-.9 1 .3 1 1.1 1 2.6 1-1.6 1 .1 1-5.4 1 3.9 1-1.7 1 .8 1 3.4 1-5.1 1 .1 1 .1 1-3.5 1 2.3 1-1.8 1 4.4 1-.2 1-1.2 1-1.8 1 5.8 1 .1 1-2.6 1-1.6 1 .9 1 2.3 1-1.5 1-.3 1-2.3 1-.4 1 1.3 1 4.3 1-4.1 1-4 1 3.1 1 .5 1-4.1 1 4.4 1 1.2 1-2.1 1-.4 1-1.2 1-.2 1-4.5 1 .9 1 3 1 2.4 1-4"/>
<path d="M178 731.9l1-.1 1 .2 1 0 1 1.2 1 .5 1 .7 1 .3 1 0 1-.4 1-.1 1-.6 1 1 1-.4 1 .4 1 .1 1 .1 1-.2 1 1 1 .2 1-.2 1 .7 1-.8 1 .5 1 .1 1 .3 1 .6 1 0 1 1.4 1 .7 1-.2 1-.2 1-.4 1 .8 1 .1 1 1.1 1-.1 1 .3 1 .3 1 .9 1-.3 1 .2 1-.4 1-.7 1 .1 1-.1 1 1.7 1-.9 1 .4 1 1.2 1 1.7 1-1.3 1 .3 1 2 1-.4 1 .9 1 1 1 .2 1 0 1-.5 1 .7 1-1 1 1.2 1-1.9 1 0 1-.4 1 2.8 1 .3 1-.9 1 0 1 .7 1-1.3 1 .3 1 .2 1 .2 1 .9 1-.2 1-.6 1 1.2 1 .9 1-.5 1 0 1 2.1 1 .2 1-.7 1-1.1 1 .3 1-.2 1 .1 1 .2 1 1.9 1 1.5 1-.3 1 1.3 1-.5 1-.6 1 0 1 1.6 1-1.7 1-2.4 1-.4 1-.1 1 .8 1 2.6 1-1.4 1 2 1-.5 1 4.9 1-1.9 1-.6 1-1.4 1-.7 1-1.3 1-.3 1 .6 1-2 1 .2 1-1.2 1 .1 1-3.3 1 2.2 1-2.7 1-2 1 0 1-2.1 1-.2 1 1.1 1 4.4 1-1.1 1-1 1-.7 1-.1 1-.3 1-.7 1 1.3 1 2.1 1-.5 1 0 1 1.6 1 1.3 1 1 1 1.7 1 .7 1-.7 1 .2 1-1.7 1 2.3 1 .4 1-.3 1 .4 1-1.2 1 .7 1 2.4 1-2.1 1-2.2 1-.2 1-1.3 1-.6 1-.8 1-.2 1-.9 1 1.6 1 1.6 1-2.7 1 .5 1-.7 1 1 1-2 1 .3 1-1.3 1 2.2 1-1.6 1-1.3 1 3.3 1-.3 1 .2 1-1.5 1 .2 1-.3 1-2.4 1 3.4 1-.5 1 .9 1-2.2 1 2 1-1.6 1 .6 1 .3 1 .5 1-.9 1-.6 1 .5 1 2 1 .8 1 1.8 1 0 1-1.4 1-2.1 1 0 1-.8 1-.4 1 1.1 1-.7 1-.3 1 1.3 1 2.4 1-.5 1-1.2 1 1.6 1 .2 1 .2 1 3.4 1-.8 1-1.7 1-.1 1 .9 1-3.2 1-.1 1-2.2 1-3.5 1-.5 1-1 1-1.1 1 1.2 1-3.1 1 1.9 1-2.6 1 2.3 1 2.4 1 .1 1 2.5 1-2.1 1 .5 1 .2 1 2.4 1-.1 1 .7 1 .2 1 .2 1-.6 1 .3 1 .4 1-3.2 1 1.6 1 .6 1-2.6 1 4.1 1-2.4 1 4.4 1-4.9 1-1.5 1 3.4 1 2.1 1 .8 1 3.4 1-2.4 1-1.9 1-2 1 4.8 1 4.1 1-1.1 1 3.5 1 2.3 1-3.2 1-1.5 1 3.7 1-1 1 1.2 1 .8 1-1.6 1 1.7 1 .2 1 1.1 1-.5 1 1.3 1 .7 1-.2 1-.5 1 2.4 1 6.3 1-.2 1 3 1 3.7 1 1.3 1 2 1 1.1 1 1.6 1 2.7 1 3 1 5.4 1 8.9 1 8.1 1 1.6M612 813.7l1-.7 1-5.6 1-17.8 1-1.1 1-9 1-7 1-12.7 1-.9 1-7.7 1 7.5 1 3.3 1-1 1 2 1-5.8 1-2.8 1-8.2 1-.3 1 2.7 1-5.9 1-5.3 1-1.8 1-1 1-1.2 1-2.8 1-11.1 1 1.9 1-6.9 1-2.1 1-1.6 1-10.7 1 1.4 1-1.2 1 .9 1-6.2 1-9.9 1-2.5 1 .2 1-10.1 1-7 1 4.1 1-4.4 1 4.3 1-7.7 1 2.6 1-7.9 1-3.4 1-3.1 1 1.1 1-1.1 1 0 1 2.1 1 .8 1-2.9M668 650.2l1 1 1 3.3 1 12.2 1-1.8 1-2.1 1-7.9 1-1 1 10 1-.2 1 6.7 1 2.5 1 2 1 1.9 1-3.2 1-2.2 1-1.9 1 1.2 1 1.9 1-1.4 1 6.4 1 5.5 1-3.5 1-7.1 1-3.4 1 3.9 1 7.8 1-3.2 1 9.4 1 4.7 1-4.8 1 .4 1 4.8 1-.7 1-9.1 1 7.3 1 2.2 1-1.1 1-3.7 1 5.8 1 1.4 1-1.7 1 0 1 3.8 1 .4 1 1.4 1-2.5 1 2.1 1 .7 1 2.7 1-4.7 1 4.7 1-4.8 1 4.4 1-1.9 1 4 1-.9 1 .1 1-.5 1-.4 1 2.6 1-1.4 1-7.1 1 6.1 1 2.7 1-1.7 1 2.5 1-2.7 1 0 1 5.4 1 2.4 1 1.4 1-4.2 1 1.6 1 4.4 1 3.2 1-1.9 1 5.6 1-2.2 1-.6 1 .6 1 2.6 1-3.1 1 7.4 1 1.2 1 1.4 1-.5 1 .5 1-.2 1 2.1 1-1.1 1 2.1 1-1.1 1 2.4 1-3 1-.2 1 2.3 1-.3 1 2.3 1-3.1 1 4.5 1-.9 1-1.1 1-2.3 1-.9 1 1.6 1 2.9 1-5.6 1-1.9 1 1.8 1 3.2 1-1.3 1-1.1 1 .5 1 2.2 1-5 1 4.8 1-4.6 1 1 1 2.3 1-3.2 1 1.9 1-6.3 1 3.2 1 .4 1 2.5 1 4.1 1-4.3 1 .5 1-1.3 1-2.7 1 1.2 1-.5 1 .2"/>
<path d="M178 732.6l1-.2 1 .1 1 .3 1 .9 1-.6 1 .9 1-.4 1-.5 1 .3 1 .9 1 .2 1 .8 1 .5 1-.2 1-.3 1-.4 1 .3 1-.5 1-.5 1 0 1-.2 1 .9 1 .4 1 .3 1 1.9 1-1.6 1 .4 1 .7 1 .7 1 .2 1 .6 1 1 1-.2 1 .3 1 .2 1-.4 1 .6 1 .6 1 1.9 1 .2 1-.3 1-1.6 1 .5 1 1 1 1.1 1 .5 1 1.1 1-.3 1 2.2 1 .3 1 1.6 1 .5 1 0 1-.1 1 .2 1-1.2 1 .9 1 1.4 1 .9 1 1.5 1-1.1 1 .8 1-.4 1 1.4 1-1.6 1 .8 1 1.4 1-.3 1-1.4 1-1.2 1-.6 1 .9 1 .5 1 .6 1 .7 1 0 1 .1 1 1 1 .9 1-2 1 .2 1 1.5 1-1.3 1-.9 1-.3 1 1.4 1-1.1 1 .3 1 0 1 1 1 .8 1-1.2 1-.3 1 2.7 1 .2 1-1.8 1-.4 1-.3 1-.6 1 .4 1-.4 1-2.1 1 1.5 1 1.2 1 .7 1-1.9 1 1.5 1 .5 1 .2 1 0 1 .2 1-.9 1-2.7 1 1.2 1-1.9 1-1.1 1 .2 1 1.5 1-.8 1-1.5 1-1.4 1-.4 1-2.6 1 3.2 1 1.9 1-2.3 1-.2 1-3 1 2.2 1 0 1-1.5 1 .5 1 .5 1 1.8 1 1.5 1-.5 1-.1 1 .9 1-2.2 1 .8 1-.3 1 1.1 1-.4 1 0 1 .9 1-1.2 1-2.3 1 1.3 1-2 1-2.5 1-.5 1 0 1 1.1 1 .3 1-1.8 1-1.2 1 1.4 1 0 1-.8 1-.2 1 .7 1 1.8 1-2.7 1-1.3 1 .4 1 2.9 1 .4 1 .1 1 1.5 1 .8 1 2.6 1-.8 1-1.6 1-1.1 1-.4 1 3 1 .7 1 0 1-.7 1 2.4 1 2.4 1-.7 1-2.6 1 .7 1-4.6 1-.7 1-3.4 1 .1 1-.2 1-2.4 1-2.7 1-.2 1 1.7 1 2.1 1 2 1 2.1 1-.8 1 .5 1-1.4 1-4.6 1 .7 1 2 1 2.9 1-.5 1 .6 1-.1 1-3.1 1-2.5 1-1.9 1-1.7 1-.5 1-4 1-2.2 1 1.5 1 .5 1 .2 1 .3 1-.5 1 .7 1-2.2 1 1.3 1 .7 1 2.3 1-3.4 1 1.5 1-3.7 1-1.8 1 1.9 1-.9 1 1.8 1 2.2 1 .2 1 1.1 1-4.4 1 0 1-.8 1-1.4 1 1.3 1-.6 1-.4 1 2.2 1-3.2 1-2.9 1 .4 1 1.8 1 3.8 1 4.8 1-1.9 1 1.6 1-3.1 1-1.7 1 .7 1-1.4 1-.9 1-2.2 1 1 1-.3 1 2 1 5.4 1 5.9 1 2.3 1 0 1 .6 1 1.5 1-1.1 1 2.7 1-2.2 1 .9 1-1.7 1-1.7 1-.4 1 3.5 1-.1 1-2.5 1 .2 1-.8 1-.9 1 .5 1 2.4 1 5.2 1-1.9 1-1.9 1 2 1 7.7 1 3.9 1 6 1 5.2 1 3.1 1 2.9 1 2.8 1 3 1-.7 1 7.4 1 4.7 1 6.2 1 3.1 1 7.4 1 2.3 1-8.9 1 1.3 1 3 1-.2 1-.7 1-3.6 1-6.5 1-4.9 1 1.8 1 .4 1 6.1 1-2.4 1-.1 1 3.3 1 2.9 1 3.2 1 1.7 1-5.6 1 2.6 1 12.2 1 .3 1-4.3 1-3.9 1-5.4 1 6.6 1 7M603 813.7l1-4.3 1-10.7 1 6.8 1-11.5 1 1.1 1-11.2 1-15.8 1-14.1 1 1.9 1 5.3 1 3 1-6.5 1 3.8 1-15.9 1 1.4 1-13.7 1-2.9 1 0 1 0 1 2.3 1 5 1-6.2 1-18.7 1 3.6 1-.1 1-9.7 1-10 1-3 1-3.4 1-1 1 1.5 1 6.4 1-7.6 1-3.9 1-.9 1-6.1 1 2.7 1-5.8 1-12.3 1-9.6 1 3.1 1 9.5 1-3.8 1-.5 1-1.1 1-.2 1-4 1-5.4 1-1 1 .6 1-.6 1 .3 1-.3M674 650.2l1 3.3 1 2.8 1-6.1 1 8.8 1-8.8 1 3.3 1 2.1 1 6.5 1-1.7 1 3.5 1 1.2 1-3.8 1-3.2 1 .2 1 8 1 7.3 1-7.5 1-.7 1-3.5 1 3.4 1 5.2 1-3.9 1 3.1 1-1.7 1 6.5 1-6.3 1-2.6 1 3.1 1 .5 1-1.9 1 4.4 1 4.9 1-2.8 1 1.2 1 4.5 1 2.6 1-1.2 1 5.9 1 2.5 1-8.1 1-.9 1-1.7 1 .1 1 2.1 1 10.5 1 2.1 1-.7 1 5.1 1-3.4 1 2.2 1 3.3 1-6.9 1 .7 1 2.7 1 5.2 1-.2 1 4.8 1-3 1 1.1 1 3.3 1-3.6 1 .4 1 1.2 1 3.3 1 3 1-6.7 1 2.3 1-8.2 1 4.2 1 7.8 1-2.3 1-2.6 1 3.2 1-1.7 1 2.2 1-2 1-.6 1-2.7 1-3.3 1 5.3 1 2.1 1-5 1 7.1 1-.2 1 .7 1-3.7 1-1.6 1 2.1 1 .3 1-2 1 .5 1-1.2 1 1.7 1-.7 1 2.9 1-1.2 1 3.9 1-1 1-.3 1-1.8 1-.8 1 1 1 2.7 1-3 1 1.4 1-3 1 4.1 1-3.3 1-2.8 1 7.8 1-2.7 1-1.8 1 1.8 1 0 1 .3 1 2.7 1 2.1 1 1.5 1 3.2 1 2.3 1-3 1-8.2 1-2.1 1 3.9 1 1.6 1-.2 1-2.2"/>
<path d="M178 730.7l1 .6 1-.3 1 .1 1-.1 1 .8 1-.4 1 .5 1 .4 1 .2 1 0 1 1.4 1-.4 1-.3 1-.4 1 .3 1-.1 1 .2 1 .2 1 0 1-.1 1 .3 1 0 1 .3 1 .6 1 .7 1-1.1 1 .9 1 .6 1 .6 1 .8 1-1.1 1 1 1-.3 1-.2 1-.1 1 1 1 1.4 1-.1 1 .1 1 .7 1 .2 1-.2 1 2.1 1-.5 1-.4 1 1.5 1-.4 1 .9 1 1.6 1-1.2 1-.9 1-.5 1 .7 1 1.2 1 1 1 1.3 1 1.7 1 1 1-.6 1-.4 1 0 1 .4 1-.8 1-.6 1-.4 1 .6 1 .9 1-2.1 1 1.7 1 .2 1-.1 1-1 1-.6 1 1.9 1 1.2 1-.2 1 .1 1-.8 1 .8 1-.9 1 0 1 .1 1-.8 1 .1 1-.3 1-1.3 1 2.5 1 .6 1-.6 1 1.3 1 .3 1 .7 1 1.4 1-2 1 .6 1-.5 1-.9 1-3.8 1-.2 1 .8 1-3 1 1.3 1 1.9 1 1 1-.6 1 0 1 0 1-.2 1-.1 1-1.9 1 2.2 1-2.1 1-1.6 1 .6 1 .9 1 .1 1 .1 1 .5 1-1.2 1-.8 1-.5 1-2.9 1-2.5 1-1.1 1 3.5 1-2.2 1 2 1 .2 1 1.4 1 1 1-.9 1 1.7 1 1 1-.5 1 2 1-3 1 .5 1 .5 1-1.8 1 1 1 .7 1-1.5 1 2.5 1-.8 1 0 1 1.4 1-.9 1-1.6 1 .8 1-1.7 1 1.1 1 1.1 1 .2 1-1 1 .3 1-1.1 1 0 1-1.4 1-4.4 1 .4 1-.7 1-2 1 .6 1-.1 1 1 1-3.2 1 1.6 1 .9 1 .9 1 .5 1 3.1 1 1.4 1-.2 1 .5 1-.1 1 3.2 1-3.9 1 1.9 1-.4 1 1.7 1-.7 1 .1 1 1.4 1 1.2 1 .9 1-.6 1 2.4 1-.7 1 0 1-.1 1 .6 1 1.4 1 .7 1 .1 1-.2 1-2.1 1 .7 1-.7 1-.9 1 1.2 1 0 1-3.3 1 1.5 1-.4 1 1.7 1-1.3 1-1.2 1-.8 1-2.8 1-.7 1-2.3 1-2.8 1-2.6 1-.1 1 4.6 1-1.7 1-1.4 1 1.2 1-.6 1 .6 1-.9 1-.6 1 1.4 1 1.7 1 1.8 1-.1 1-.8 1 1 1-3.1 1 0 1-1.3 1-1.5 1-.8 1 .6 1-.5 1-1.3 1-.2 1 2 1 .8 1-1 1 3 1 1.7 1 2.3 1 3.4 1 3.4 1 0 1-2.4 1-.6 1-.1 1 1 1 .9 1 2.4 1-1 1 .1 1-1.4 1-2.2 1-1.2 1 1.9 1 2.9 1-1.2 1 0 1 2.9 1 3.8 1 .4 1 .2 1 1.2 1 3.1 1-2.6 1-4.1 1 1.2 1 6.7 1-1.5 1 2.1 1 2.7 1-1.8 1 4.2 1-.3 1 3 1 1.4 1 5 1-2.1 1 .1 1 2.5 1 2.8 1 5.4 1 1.6 1 .1 1 2.9 1 1.7 1 4.2 1 7.1 1 5.6 1 6.7 1 2M615 813.7l1-1.5 1-10.5 1-2.7 1-3.1 1-7.1 1 4.2 1-6.6 1-3 1-4.9 1-2.3 1-8.9 1 2.4 1-8.1 1 2.6 1-4 1-9.9 1-6.6 1-14.1 1 8.3 1 3.1 1 3.5 1-2.7 1-4.2 1 7.9 1-6 1 2.2 1 .5 1-8.1 1-6.6 1-4 1-.7 1-12.6 1 .9 1-1 1-3.2 1-5.5 1-5 1 1.7 1-.7 1-2.4 1-4.5 1 1.7 1-9.4 1-3.5 1 9.1 1-5.7 1 2.2 1 .8 1 3.1 1-8.8 1-8 1-1 1 4.1 1-.6 1 3.7 1 11.9 1 6 1 1.8 1 .1 1-8.1 1 5.4 1-3.8 1 1.1 1 6.5 1-1.1 1 4.3 1-3.6 1 2.8 1-5.1 1-2.7 1-4.2 1-2.3 1-.1 1 7.2 1 1.1 1 6 1-.6 1 6.8 1 4.1 1-2.9 1 2.5 1-9.4 1-.1 1 .4 1 6 1 2.4 1 2.3 1 .1 1-1.6 1-5.8 1 1.8 1-4.5 1 2.2 1-2.4 1-2.1 1 2 1 1.4 1 2.7 1-.4 1-4.8 1-3.6 1-.5 1-3.7 1 1.2 1-3.7 1 4 1 2.2 1 .4 1 1.9 1-2.5 1 3.2 1-3.1 1 1.7 1 2.7 1-.4 1 4.1 1-5.1 1 5.6 1-4.9 1 4.5 1 1 1 .7 1 .9 1 3.2 1 5 1 1.9 1-2.9 1-5.3 1 3.8 1-6.9 1 2.7 1-5.5 1 9 1-2.3 1-.7 1 5.1 1-.4 1 3 1 4.2 1 .8 1-1.5 1 .4 1-.9 1-1.8 1 .7 1 1.5 1 2.3 1-1.3 1 1.8 1 .7 1 2 1 .8 1-2 1-1.4 1-6.4 1 4 1 1.1 1-2 1 0 1-.3 1 .1 1-.6 1-2.9 1-.2 1 4.5 1-2 1-.6 1 2 1 1.7 1-2.9 1 3.9 1-1.2 1-1.2 1 2.3 1-2.9 1 1.2 1 1.1 1-1.4 1-2.2 1 3.9 1-2 1-1.2 1 4.1 1-.1 1 4.8 1-.1"/>
<path d="M178 729.4l1-1.6 1-1 1-.3 1-.2 1 .9 1-.5 1 .7 1 .1 1 .2 1 .5 1-.8 1 .7 1 .7 1 .5 1 .3 1-.2 1 .7 1-1 1 .4 1-.5 1-.5 1-.6 1 .6 1-.3 1-.8 1-1.2 1-1.4 1 2.6 1 0 1-1.8 1 .1 1 .2 1-.7 1 1.8 1-.2 1-.6 1 .5 1 1.5 1-1 1 1.7 1 1 1 .7 1 1.3 1 2 1 .8 1-.9 1 0 1-.4 1 2.1 1 .1 1 0 1-1 1 2.3 1 .1 1 .8 1 1.6 1 .5 1 1.9 1-.9 1 1.6 1-.9 1-1.7 1-.9 1-.9 1-2.1 1 1 1 .2 1-.7 1-.1 1 .6 1-1.2 1-.1 1-1.1 1 2.4 1 1.8 1 1.3 1-1.5 1 .1 1-.4 1-1.1 1 1 1 .6 1-.1 1 .5 1-2.3 1-.1 1-1.7 1 .7 1 .8 1 1.4 1 1.1 1-1.4 1 .1 1-.6 1 .1 1-1.2 1-2.4 1-2.7 1 .5 1-1.1 1 .3 1 2.5 1 2.5 1-2.6 1 1.5 1-3.1 1 3.7 1 .1 1-3 1 1 1 1 1 1.4 1 .8 1 .9 1-1.9 1 1.5 1-2.5 1 3 1-1.8 1 2.1 1-5.3 1-1.2 1-4.8 1 1.2 1 .1 1-.8 1 3.1 1 0 1-1.7 1 1.1 1-1.1 1-1.3 1-1.8 1 2.5 1 2.8 1-2 1 .7 1 3.4 1-2.2 1 2.9 1-1.6 1 1 1 .5 1 1 1-2.1 1 1.2 1 3.1 1-2.1 1 .5 1-1.7 1-1.7 1-2.4 1 .9 1-1 1 1.1 1-.4 1-1.2 1 3.2 1-.4 1-4.5 1 .5 1-.8 1 .5 1 3.2 1-2.2 1-1.9 1 3.7 1 .6 1 1.7 1-2.6 1 1.6 1 3.2 1 .8 1-1.7 1-.5 1 .7 1 1.6 1-3.3 1 1.1 1 .6 1 2.6 1-1.5 1-1 1 0 1-1.6 1-.7 1 .5 1-1.9 1-1.9 1-1.8 1-.8 1 3.4 1 1.2 1-2.4 1 1.3 1 3.1 1 3 1 .3 1 1.3 1-.6 1 2.7 1-2.4 1-1.8 1-.7 1-2.1 1-.7 1 .8 1-.6 1-4.5 1 1.8 1-1.8 1-1.1 1-2.4 1 3 1-1.8 1-1 1-1.3 1 4.3 1-1.9 1-.9 1-.9 1-.6 1-1.1 1 2.3 1 2.4 1-4 1 4.6 1-4.5 1-1.5 1 2 1-3.7 1 2.9 1-.1 1 3.6 1 2.7 1 3.7 1 2.1 1-.3 1 .1 1-6 1 1.3 1-1.9 1 .2 1 .3 1-.7 1 .5 1-3.1 1-.6 1 1.3 1-3.6 1 1 1 2.9 1 1.5 1-1.7 1-1.1 1 .7 1 2.3 1 1 1-.4 1 4.3 1-2 1 3.4 1-.1 1-2.1 1-5.1 1 3 1 3 1-1.3 1-1.3 1-.4 1-1.7 1-1.6 1-.9 1-2.8 1-.5 1-.5 1 1.7 1 4.8 1-1.3 1 4.1 1 3.2 1 5.8 1 1.8 1-1.7 1-2.2 1-1.7 1 2.8 1 3.7 1 4.9 1-.3 1 1.5 1 4 1 .2 1 6 1 6.1 1 3.8 1-5.7 1-6.8 1 3.3 1 2.3 1-4.8 1 3.8 1-11.8 1 .1 1 5.7 1 2.3 1 2.9 1 7.2 1 9.3 1 1.5 1 2.2 1 3.6 1-.5 1 1 1-1.6 1-4.7 1-5.5 1-10.6 1 3.2 1-3.8 1 2.6 1-6.5 1 3.2 1 5.2 1 2.3 1 14.2 1 3.7 1 15.7 1 7.4 1 2 1 2.1 1-4 1-2.1 1-3 1 4.8 1-.4 1-.5 1 3.4 1 .3 1 2.8M603 813.7l1-9.4 1 2.2 1 1.3 1-8.4 1-10 1-5.4 1-5 1-3.1 1-2.2 1 6.8 1-.7 1 1.2 1-4.4 1-11.9 1-10.1 1-11.3 1 4.3 1 10.9 1-14 1 1 1 1.8 1-12.2 1-9.8 1-2 1-9.8 1-2 1-7.8 1-5.4 1-7.4 1 .7 1 .8 1 4.1 1-6.1 1-1.7 1-4.7 1-1.2 1 .5 1 4.1 1 4.8 1-5.7 1 2.7 1 3.6 1-11.3 1-6 1-7.3 1-4.6 1 1.7 1-4.1 1-1.8 1-1.7 1-1.8 1 1.1 1-5.8 1-1M663 650.2l1 4.6 1-4.6M668 650.2l1 7.9 1-3.7 1 9.5 1 1.8 1-1 1-1.3 1 4.1 1-9.6 1 3.7 1 2.6 1 5.4 1 1.8 1 2.2 1 6.3 1-6.7 1 .5 1-.4 1 .5 1 4 1-3.5 1 1.4 1 10.5 1-2.6 1 2.9 1-.3 1 2 1 6.3 1 4 1-3.7 1 2.8 1 7.6 1-2 1-2.6 1-4.3 1 2.8 1 4.8 1-3.2 1 5.2 1-2.6 1-1 1-.7 1 6 1 2.2 1 6.7 1 .7 1 .5 1 1 1 1.5 1 4.7 1 2.7 1-2 1 1.9 1 3.9 1 3.3 1-2.3 1 .7 1-4.1 1 .1 1 1.8 1-3.1 1-2.6 1 2.4 1 3 1-.6 1 1.2 1-2.9 1 .7 1-4.3 1 6.7 1-.9 1 5.2 1 .3 1-3.1 1-.9 1-.9 1 2.2 1 .7 1 .7 1-.2 1-.5 1 1.6 1 4.9 1-.5 1 .9 1-3.8 1-2.2 1-1.6 1 .6 1 1.3 1-3.3 1 2.1 1-5.2 1 1.1 1 5.2 1-4.1 1 .5 1 2.5 1-1 1-2.2 1 2.8 1 1 1-.4 1-3.3 1-1.1 1 1.6 1 4.2 1-2.7 1 2.6 1-1.3 1 2.7 1-1.2 1-4.9 1 3.7 1-2.1 1 1 1-3.3 1 5.3 1-3 1 1.8 1 .6 1-.1 1-1.4 1-3.5 1 4.1 1 1 1-3.7 1-1.8 1 .9 1-.1 1 5.3 1-2.2 1-5 1 4.4"/>
<path d="M178 726.7l1-1 1-1.9 1-.3 1 .3 1-.2 1 .6 1 .6 1 .3 1 1.4 1 .2 1-.4 1 .2 1 .5 1-1.1 1 .7 1-.5 1 .1 1 0 1 .7 1 .4 1-.6 1 .3 1-.6 1 0 1 .6 1-1.7 1 .1 1-.6 1-.8 1-1.2 1 .6 1-.2 1-.5 1 .9 1-.6 1 .3 1 1.1 1-1 1 1.4 1-.7 1 .4 1-.1 1 .3 1 1.7 1-1.4 1 .9 1 .2 1 .2 1 1.7 1 .3 1 .3 1-.5 1 .3 1-1 1 1.1 1 1.1 1 .3 1 1.3 1-.7 1-.8 1-.4 1 .2 1-2.3 1 .2 1 0 1 .4 1 1.8 1-1.9 1-.4 1-.3 1-2.7 1-.3 1 .1 1 .1 1 .9 1-.8 1-.7 1-1 1 2.2 1-.9 1-1.3 1-.1 1 .1 1-1.2 1-.8 1 .1 1 .6 1-.8 1 1 1 .4 1 1.4 1-1.9 1 .9 1-2.1 1 .6 1-1.6 1-2 1 .6 1-.3 1 1.8 1-.1 1 .8 1 .4 1-1.2 1-2.8 1-1.2 1-.6 1 1.9 1-1.2 1 .5 1-.9 1-1.3 1 1.5 1-1.2 1 .3 1-.5 1 1.6 1 1.4 1-1.3 1-.5 1 2.2 1-2.5 1-.1 1-1.1 1 3.1 1 .7 1 3.9 1-3.9 1-1.8 1-1.8 1-.2 1 1.4 1 3.4 1 .9 1 .2 1-4.2 1-.1 1-.2 1-.7 1-.1 1 1.6 1 2.4 1 1.2 1 .5 1-4.1 1-.4 1-1.6 1-1.3 1 .3 1-1.3 1-.5 1-1.4 1 .6 1 .3 1-.1 1-1.4 1-2 1 .1 1 .4 1-1.2 1 1.5 1 1.2 1 .4 1-.5 1-1.8 1-2.7 1 .1 1 .3 1 1.3 1 .2 1-.5 1 .8 1-.5 1-2.1 1-.7 1 .7 1 .5 1-.3 1 2.9 1 2.3 1 .8 1 3.8 1-1.6 1 .5 1-1.1 1-2.3 1 1.3 1 1.8 1-2.3 1 .3 1 .1 1-1.8 1-.9 1-1.3 1-.5 1 1.3 1 2.6 1-2.2 1 2 1-1.1 1 .1 1-3 1 1.5 1-.1 1 .7 1-4 1-2 1 1.8 1 .3 1-.2 1 1.4 1 1 1-2.4 1 .1 1 1.2 1-1.5 1-1 1-3.2 1 2.4 1 3.1 1-.6 1-1.1 1 .2 1-.6 1-.5 1 1.3 1 3.5 1-.3 1-1.8 1 2 1-1.9 1 3.8 1 1.3 1-.5 1-3 1-1.2 1 .3 1 1.9 1-3.1 1 0 1 .7 1 1.3 1-2.9 1 .8 1 1 1-1 1-.2 1-.2 1-5.9 1 .1 1-.8 1 .7 1-1.9 1-3.5 1 .9 1 .6 1-1 1 1.8 1 .3 1-2.8 1 3.7 1-1.4 1-3.8 1 .6 1-.2 1-2.1 1 3.3 1 .4 1 1.4 1-1.8 1-1.7 1-1 1-4 1-.1 1 .5 1-.7 1-5.6 1-1.2 1-.6 1 1.8 1 .4 1 1.8 1 .6 1 .7 1 3.7 1 3.6 1 2.3 1 0 1 2.7 1 5.1 1-2 1 3 1 .6 1 .2 1 2.3 1-1.1 1 .9 1 .7 1-1.1 1 0 1-1 1-2.4 1-.7 1-2.3 1-2.2 1-1.4 1-.6 1-2 1-1.7 1-.2 1-.6 1-2.4 1-3.7 1-1.8 1-2.2 1-.5 1 1.5 1-.2 1-1.9 1-.3 1 2 1-2.1 1 2.2 1 7.1 1 7.9 1 7.1 1 7.3 1 7.5 1 4.6 1 .1 1 1.2 1 .1 1 .1 1-1 1 .6 1 1 1-1.1 1 2.1 1-2.3 1 1.3 1 .9 1-.1 1 .5 1 2.3 1 4.5 1 3.8 1 4.2 1 4.4 1 3.2 1 5.5 1 2.6 1 3.5 1 5.5 1 6.3 1 3.5 1 6 1 8.4 1 5.5 1 6 1 4.1 1 4.5 1 4.3 1 .8M587 813.7l1-6 1-6.3 1-6.9 1-6.1 1-8.6 1-8.3 1-6.1 1-9.2 1-4.5 1-9.8 1-3.6 1 9.1 1 16 1-3 1-24 1-4.6 1-.7 1-4.9 1-5.1 1-11.6 1-10.4 1-1.3 1 3.5 1-3 1 6.8 1-3.9 1 16.9 1-5.2 1-20.9 1 .1 1-17.8 1-19.4 1-3.6 1 5.3 1 4.7 1 3.5 1-6.3 1-5.5 1-.9 1 .8 1-.1 1 1.5 1 1.9 1 5.2 1 6.7 1 .3 1-3.3 1 3.2 1 .5 1-1.4 1-10.3 1-6.6 1-.3M699 650.2l1 8 1-4.9 1-1.1 1-2 1 0 1 4.3 1-.7 1-.5 1 2.4 1-1.6 1 6.8 1-6.4 1 6.8 1-.6 1 7.4 1 1.5 1-5.4 1 7 1-5.1 1 4.8 1 5 1 .4 1 .9 1 2.5 1-1.2 1 1.8 1 .4 1-3.2 1 5 1-2.5 1 2.2 1 7.2 1 1.7 1 6.3 1-4.7 1 4.8 1-6.1 1-1.1 1-3.7 1 11.7 1 3.1 1 .9 1 2.2 1 .6 1 5.9 1 1.5 1-2.7 1 .7 1 .6 1 4.1 1 3.3 1-2.8 1 4.1 1-3.2 1 1.2 1-.8 1-5 1 4.4 1 3.6 1 .6 1 3.8 1-3.2 1-5.6 1-.5 1-4.7 1-.1 1 2 1-.6 1-2.4 1 2.9 1 1.4 1 1.3 1 3.6 1-6.6 1 6.7 1-.2 1-1.5 1-1.9 1-.7 1 2 1-3.5 1 3.2 1-.3 1 1 1 0 1-2.9 1-2.6 1-.4 1 3 1 3.6 1 .4 1 .1 1 2.8 1-11.3 1 7.1 1-3.5 1 1.7 1-.9 1-1.1 1-1.6 1 1.1 1 4.9"/>
<path d="M178 726.4l1-1.2 1-2 1 .1 1 0 1 .6 1-1.1 1 0 1 .6 1 .3 1 .5 1-.4 1-.1 1-.1 1-.4 1 .3 1 .3 1 .4 1-.2 1-.7 1-.4 1 .8 1-.2 1-.3 1 .1 1 .2 1-1.2 1-.3 1-.3 1 .5 1-1.3 1-.1 1 .3 1-.1 1 .1 1-.3 1-1.4 1 .2 1 .5 1-.3 1 .4 1 1.4 1-.1 1 .2 1 2.2 1-1.7 1 1.6 1 .6 1-.4 1 1.5 1-.8 1 .4 1-.5 1 1.4 1 .1 1 1.5 1 .3 1 .1 1 .5 1-.4 1-.6 1 .1 1-1.2 1-.4 1-.2 1-.6 1 .9 1 .6 1-.3 1-.2 1 .6 1-1 1-.5 1 .3 1 1.6 1-.1 1 .2 1-.6 1-.5 1-.2 1-1.6 1 .1 1-.8 1 .5 1-.4 1-.6 1 .9 1-.1 1 1.3 1 1.4 1-1.9 1 .2 1 .2 1-1.2 1 .1 1-1.6 1-2.5 1 .4 1-2.2 1-.8 1-1.6 1 .1 1 .1 1 3.1 1-.8 1-.2 1-.9 1 0 1-2.1 1 1.2 1 .3 1-.9 1 .8 1-1.5 1-1.8 1-2.2 1 .8 1-.3 1 .2 1-.7 1-1.2 1-2.7 1 1.1 1-1.1 1 .8 1 2.2 1-1.5 1-.6 1-.7 1 2.3 1-.6 1 2.6 1 2.8 1 .1 1-.5 1 .7 1-.4 1 0 1-1.2 1 .2 1 .1 1-.8 1-.3 1 .7 1 .3 1-.3 1 .6 1-.5 1-.7 1 .6 1-3.5 1-.7 1 1.1 1 .2 1-.2 1-1.2 1-3.2 1-3.9 1 1.8 1-3.2 1-2.1 1 .8 1 1.4 1-.3 1 1.6 1-.6 1-1.2 1 4.1 1-.6 1-.4 1-3.1 1-.5 1-2.5 1 3.5 1 1 1 .2 1 3.7 1 .9 1-2.3 1-1.5 1-.3 1 1.1 1 2.3 1-2.4 1-1.3 1-1.3 1-2.2 1 .3 1 1.5 1-1.2 1-2.5 1 1.4 1-1.2 1 2 1-1.3 1 1.5 1 1.3 1 1.8 1-.4 1-4.5 1-2 1 0 1-.9 1 .5 1 .3 1 2.1 1-1.2 1-4.1 1-2.5 1 .5 1-1.4 1-.5 1 2.4 1 3 1 .9 1 .7 1 .3 1-1.3 1 2.2 1 1 1-.7 1-1.8 1 .8 1 3.2 1-2.3 1 0 1 .6 1 1.6 1-.5 1 2.5 1 1.3 1-2.3 1-.4 1-.2 1 4.5 1 .8 1-1.3 1-1.3 1 3.1 1-2.2 1-.6 1-.4 1-1.5 1-3.2 1 .5 1 .2 1-3.7 1-2.1 1-.6 1-1.7 1 .4 1-3.9 1 1.8 1 4.7 1-1.1 1 1.2 1 4.4 1 5.7 1 1.2 1 .4 1-.2 1 .4 1 .6 1 .2 1-6 1-1.7 1-3.6 1 0 1-1.4 1-.1 1 2.3 1 1.5 1 .7 1 1.6 1 4 1-.9 1-4 1-2.4 1 3.8 1 .6 1 2.9 1 .9 1 1.5 1-3.5 1 2.3 1 1.4 1-.5 1 4.1 1-.8 1 .9 1 6.2 1 3.7 1-.2 1-2.7 1 5.6 1 .1 1-1 1 5.3 1-9.5 1-7 1-2.8 1-1.9 1 8.3 1-.4 1-12.9 1-1.9 1-2.7 1 .8 1 2.7 1-4.3 1-4.5 1-.3 1-3.6 1-1.2 1-3 1 .3 1 4 1 3.1 1 5.2 1-6.8 1-4.4 1-1.4 1-1.1 1-.4 1 5.6 1 9.4 1 6.9 1 8.3 1 8.9 1 3 1 2 1 4.2 1-5.3 1 1.2 1-1.7 1 1.4 1 .7 1 2.4 1-2.4 1 1.6 1 1 1 2.1 1 .9 1 2.4 1-.7 1 1.7 1 2.2 1 7.1 1 3.9 1 4.8 1 3.7 1 5.3 1 6 1 6 1 2.6 1 6 1 6.5 1 6.8 1 3.4 1 4.7 1 3.4 1 5.3 1 2.5M591 813.7l1-4.6 1-7.5 1-6.6 1 2.8 1-1.6 1-9.4 1-29.4 1-5.2 1-8.1 1-.6 1-10.4 1-4.8 1-5.2 1-3.8 1 .6 1-5.1 1-7.9 1 4.3 1-2.5 1 1.4 1-4.9 1-8.2 1-13.7 1-14.3 1 5.9 1-9.8 1-2.9 1 3.1 1-15.1 1 0 1 .2 1-.2M714 650.2l1 .7 1 9.8 1-1.7 1-4 1-4.4 1-.4 1 5 1 4.4 1 2.3 1 2.5 1-4.2 1 4.2 1-.1 1 6.6 1 .8 1 3.1 1-4 1 6.7 1-.3 1-1.8 1-2.8 1 1.9 1 .6 1-2.9 1 7.5 1-5.4 1 3.7 1-5.5 1 1.4 1 6.7 1 2.4 1-3.4 1 4.3 1 2.2 1 2.6 1 2.4 1 1.5 1-.6 1 .7 1 4.4 1 .3 1-.1 1 2.6 1 3.1 1-2.2 1-2.9 1 3.2 1 5.8 1-2.6 1 3 1-1.8 1 6.2 1-4.8 1 1.1 1-7.4 1 3.7 1-.3 1 .3 1 2.3 1-.3 1-2 1 1.8 1-.8 1-2.2 1 2.9 1 3.4 1-3.8 1-2.5 1 6.9 1-.1 1 .1 1 3 1 .6 1-.7 1 1 1 2.2 1-3.6 1-.5 1 .5 1-2.6 1 1.2 1 .9 1 2.3 1 1.4 1-.8 1-5.1 1 1.2"/>
<path d="M178 731.4l1 .6 1-.5 1 .6 1 .5 1-.3 1 1 1-.7 1 .7 1 .8 1 .5 1-.2 1 .3 1-.6 1 .4 1 .5 1 0 1 1 1 0 1-1.3 1 .9 1-.7 1-.2 1 .3 1-.5 1 .5 1-.3 1 .3 1-.5 1 .4 1 .4 1 1.1 1 .2 1 .3 1-.6 1 .2 1 1.2 1 .5 1 .5 1-.2 1 1.2 1 1 1-.5 1 1.6 1-.1 1-.4 1 1.1 1 .7 1 0 1 1.1 1 2.2 1-1 1 .9 1 2 1-.5 1-.2 1 .5 1 .5 1 .6 1-.3 1-1.6 1 .4 1 1.2 1 .6 1-1.5 1 .5 1-.3 1 1.5 1-.7 1-.4 1-.3 1-.5 1 0 1-1 1 1.1 1 .9 1-2.1 1 .7 1-1.4 1 .6 1-.5 1 1.5 1 1.4 1-.3 1-.7 1-.7 1 0 1-.1 1-.6 1 1.4 1 1.6 1 .2 1 .5 1-.1 1-1.2 1 2 1-.1 1-.2 1-1 1 .2 1-.7 1 0 1-.3 1 .9 1-1.2 1-1.5 1-.4 1 4.3 1-.2 1-.2 1-.7 1-1.2 1 .3 1-1.7 1 .5 1 .2 1-1.3 1-.1 1 2.4 1 1.3 1 .5 1-2.6 1 .5 1-2.7 1-.4 1 .5 1-1.5 1 2.3 1-1 1 4.8 1-2.7 1 1 1 1.3 1-.8 1 1 1 2.7 1-2.2 1-.1 1-2.9 1 .2 1 1.4 1 .2 1-.7 1-.9 1-2.9 1-2.6 1 2.4 1-1.9 1-1.3 1 2 1 1.2 1-.3 1-.6 1 .5 1 2.1 1-.5 1-2.7 1 .8 1-.7 1 1.1 1-.1 1-1.3 1 .9 1-1 1-1.8 1-1.6 1-.2 1 1.2 1-1.2 1-.1 1 .5 1 4 1 .4 1-.5 1-2.2 1-1.3 1 .7 1 1.1 1 .1 1 2.5 1 .6 1-.7 1 .4 1-.8 1-1.2 1 2.4 1 2.3 1 0 1-.5 1-3.5 1-3.6 1-.3 1-.9 1-.5 1 .1 1-.1 1-1.7 1 .3 1 2.5 1 1.3 1-.2 1-.1 1 1.4 1-.6 1 .5 1 .3 1-3.8 1-2.9 1 3 1-3.6 1 0 1-1.5 1-.7 1-2.7 1 1.3 1 1.5 1 .6 1 .8 1-.3 1-4 1 .3 1 1.5 1 0 1 .4 1 0 1 2.7 1-1.5 1 .3 1-2 1-1.7 1 2.1 1 .8 1 .2 1-.3 1 1.8 1-.3 1-.8 1 4.7 1-2.3 1-.6 1 .5 1 1.5 1-1.4 1-3.6 1 .7 1 4.3 1 1.1 1-.4 1 .7 1-3 1-3.9 1 .9 1 4.9 1-.9 1 .8 1-2.3 1 2.2 1 .3 1 1.6 1 1.3 1 2.6 1-3.5 1-3.3 1-.3 1-.4 1 2 1 1.4 1-.6 1-1.8 1-1.8 1 3.4 1-.5 1 2.4 1 .1 1-3.2 1 .6 1-.1 1-4.6 1 4.7 1-2.3 1 4.2 1-.6 1-2.3 1 6 1 2.9 1-3.5 1 5 1 5.5 1 3.3 1 3.6 1 .7 1 4.9 1 8.1 1 3.4 1 6.8 1 7.5 1 .7 1-3.8 1 2.6 1-4.5 1 2.9 1-2 1-4.7 1-5.7 1-1.1 1-4.6 1 0 1-9.3 1-6.4 1 1.3 1-.1 1-9.3 1-5.7 1 11 1-1.4 1 5 1-.8 1-3.4 1-3.3 1-2.5 1 7.7 1 3.1 1 5.9 1 8.8 1 5.7 1-5.8 1 .7 1 4.7 1 10.4 1-.9 1 2.4 1 2.9 1-4.2 1 3.7 1 4.5 1 .2 1-.5 1-19.1 1 10.6 1-4.1 1 1.5 1 6.8 1-1.1 1 11.4 1 6.1 1 6.5M611 813.7l1-7 1-1.6 1-4.2 1-6 1-4.7 1-7.1 1-12.4 1-9.8 1-13 1-7.7 1-8.8 1-6.7 1-6.1 1-8.7 1-4.9 1 1.7 1 1.8 1-15.4 1 3 1-6.2 1 7 1-9 1 1.1 1-.3 1-11.6 1 7.9 1-1.2 1-6.6 1-3.8 1 1.1 1 1 1-2.8 1 3.3 1-2.3 1-6 1-2.2 1-1.5 1 .7 1 1.7 1-.6 1-2.9 1-1.8 1 1.9 1 7.3 1-3.8 1 1.1 1-2.7 1-.4 1-9.3 1 1.7 1 6.6 1-.4 1-1.4 1 .8 1-9.5 1-2.8 1 3.8 1 3.8 1 4.6 1-.1 1 4.1 1 1.2 1 3.8 1 7.7 1-1.7 1 .2 1-2.1 1-5.7 1 3.9 1-3.8 1 4.6 1 0 1-1.2 1-9.9 1 7 1 1.1 1-6.2 1-.7 1 4.2 1-2.1 1-6.1 1-2.1 1-1.9 1-1.6 1 3 1 .9 1 7.2 1 .7 1 1.9 1-3.6 1 5.7 1 1.8 1 .9 1-5.3 1 2 1 6.4 1 1.5 1-1 1 5.6 1-2.3 1 1.5 1 2.9 1 .5 1 .5 1-4.5 1 .2 1 3.8 1 .5 1 2.4 1 2.9 1-2.5 1 2.7 1-5.9 1 6.9 1-3.1 1 .5 1-2.1 1 9.3 1 3.5 1-3.1 1 5.2 1-7.4 1 3.9 1 4.2 1-2.2 1 0 1 4 1-2.5 1 3.1 1 1.7 1 .7 1 1.1 1-4.2 1 1.7 1-1.8 1 8.9 1 3 1 1 1 .4 1-.6 1 3.7 1-2.2 1 6.2 1 .6 1-3 1-.3 1 1.7 1 3.1 1 3 1-4.6 1 3.1 1-3.8 1-2.5 1 2.8 1-4.4 1 4.3 1 .8 1 0 1-1.3 1 1.7 1-.3 1-3.1 1-.6 1-2.2 1-.9 1-.6 1-1.1 1 2.8 1 .5 1 5.6 1 2.1 1-1.9 1-1.2 1 1.5 1-1.1 1 4 1-1.3 1-.5 1-3 1 7 1-4 1-.1 1-1.9 1 1.9 1-.6 1 1.8 1 .4 1-1.6 1-1.1 1 2.9"/>
<path d="M178 730l1 0 1-1 1 .9 1-.1 1 .8 1 1.3 1-.3 1-.1 1 .9 1-.6 1 1.3 1 0 1 1.2 1 1.3 1 .5 1 .1 1 .4 1-.3 1-.3 1-.5 1-.6 1 .2 1 .9 1 .4 1 .3 1-1.1 1 .3 1 1.1 1-.4 1-.6 1 .1 1 .6 1 .1 1 .9 1 .7 1 .5 1 1.4 1 .3 1-.1 1 .2 1 1.2 1 0 1 2.2 1 .7 1-.3 1 1.7 1 .5 1-.6 1 2 1-.1 1-1.1 1-1.1 1 1.2 1-.5 1 2 1-2 1 1.4 1 .8 1-.3 1 .9 1-1.4 1 .1 1-.8 1 1 1-1.6 1 2 1 1.5 1-1.7 1-1.7 1-.2 1-1 1-.5 1-1.1 1 .7 1-.3 1-.9 1-1.2 1 2.9 1 2 1-.3 1 .5 1 .9 1 .6 1 .3 1-.7 1-1.5 1 .1 1 1.9 1 2.1 1-2.6 1 .6 1 0 1 1.5 1-.7 1-1.1 1-.2 1 1.6 1-1.4 1-3.2 1 .2 1 .7 1-.1 1 3.6 1-.4 1-.9 1 .2 1 0 1 .2 1-3.2 1-.3 1 .4 1-.5 1-2 1-.8 1 .3 1 3.4 1-.7 1-.8 1-1.5 1-1.4 1-.8 1 .1 1-1.6 1-1.9 1 .6 1-.2 1 3.9 1-2 1 .7 1-.8 1 1.5 1 2.8 1 2.3 1-.4 1 .9 1-.4 1 .7 1 1 1-1 1 2.3 1 0 1 .2 1 1.1 1-2.3 1-1.9 1 1.9 1-2.6 1 1.3 1 0 1-2.3 1-.6 1-2 1 .7 1 1 1-.7 1 .7 1-.7 1 1.4 1-.5 1-.5 1 1.1 1 2.4 1 .3 1 1.3 1 1.9 1 2.4 1 .3 1 .4 1 1.5 1-.9 1 4 1-1 1 .9 1-.8 1-.7 1-.3 1 .8 1 2.5 1 1.8 1-2.2 1-2.3 1 1.5 1-.6 1-1.4 1-3.5 1 1.4 1 1.4 1 .7 1 1.5 1 .7 1 .9 1 1 1 .1 1 1 1 3.8 1 .3 1 .6 1-3.3 1 1.5 1-1.6 1 .5 1 .7 1-2.1 1-1.3 1-.3 1-1.9 1-3.6 1-1 1-1.8 1-2.3 1-.3 1 .7 1-1.4 1 2.6 1 .9 1 .2 1-2.2 1 .4 1 3.3 1-.6 1 1.2 1-.6 1 1.6 1-.2 1 2.5 1-1.6 1 1.2 1 1.3 1-1.7 1 3 1-.9 1 2.5 1 .4 1 4.5 1-2.5 1 4.3 1-.3 1-1 1-1.1 1 .6 1 .5 1-3.9 1-.8 1-.7 1 2.2 1-1.3 1-2.1 1 2.3 1 0 1-3.6 1 .1 1 3.5 1-2.6 1 3.6 1-.8 1 .7 1 .2 1-.9 1 3.7 1-.1 1-1.8 1 1.3 1-.5 1 2.9 1-1.2 1 .7 1-4.3 1-3.1 1 2.1 1-2.3 1 1.4 1 4.3 1 .4 1 1.6 1 3.6 1 .9 1 .2 1 2.3 1 2.9 1-.7 1 2.6 1-4.9 1 2.5 1 1.1 1 5.7 1-2.4 1 3 1 .9 1 2.3 1 5.5 1 6.6 1 7.3 1 1.9 1 4M482 813.7l1-1 1 1M630 813.7l1-2.4 1-3.4 1-6.9 1-4.8 1-7.4 1-5.5 1-2.7 1-4.7 1-3.2 1-3.8 1-4.2 1-1.6 1-2.3 1-6.5 1-3.4 1-6.9 1-3 1-3.5 1-6.2 1-4 1-3.8 1-2.2 1-5.4 1-1.6 1-2.2 1-3.8 1-1.8 1-.6 1-5.5 1 1.5 1 .8 1 4.4 1 .6 1 .7 1-8 1-7.9 1-3.7 1 8.9 1 7.4 1 2.6 1 7.7 1 3.8 1 1 1 6.2 1-1.7 1 5.6 1 6.6 1-1 1 4.4 1 .1 1-1.9 1-6.4 1 2.8 1-5.9 1-2.2 1 5.7 1 .7 1-9.4 1-.6 1-.2 1 2.3 1 5.2 1 2.1 1-2.8 1-9 1 1.8 1-.5 1-.6 1 2.7 1-2.5 1-4.3 1-2.4 1-1.7 1 1.4 1-7.5 1 9.3 1 3.3 1-.2 1 7.4 1-4.6 1-3.9 1 .8 1-1.1 1 .7 1-1.9 1-5.2 1 2.4 1 3.9 1 3.8 1-6.7 1 .1 1 1.3 1-.7 1-1.2 1 6.3 1 4.2 1-1.8 1-2.1 1 1.2 1 1.9 1-1.9 1 4.2 1-2.9 1 1.5 1-2.3 1-4.6 1 2.9 1 3.3 1 5.3 1-2.4 1-1.6 1-1.2 1 .6 1-1.6 1 5.7 1 1.3 1-2.3 1-.5 1 .2 1 5.4 1-1 1 .4 1-2.4 1 1.5 1 2.3 1-1.2 1 2.1 1 .9 1-3 1 1.9 1 3.7 1-2 1-.8 1 2.5 1-5.5 1 7.5 1-4.2 1-1.3 1 4.4 1-3.3 1 3.6 1-1.7 1-4.9 1-.7 1 .1 1-1.6 1-1.6 1 1.4 1 2.7 1-.7 1 .6 1 3 1-4.9 1 3.7 1-1.9 1 .1 1 .9 1 4 1-2.2 1-1.1 1 2.7 1 2.1 1-2.8 1 .1 1 .4 1-1.7 1 5.3 1-1.7 1-1.5 1-2.4 1-.1"/>
<path d="M178 727.4l1-1.9 1-1.2 1-.1 1 .5 1-.4 1-.5 1 .4 1 1.4 1 0 1 .9 1 .9 1-.2 1 0 1-.8 1 0 1 1.1 1-.5 1 .2 1 .5 1-.7 1 2 1-.1 1 .4 1-.5 1 .9 1-.9 1-1 1 .2 1 1.8 1-1 1 0 1-1.4 1 .9 1 2 1 .1 1 .2 1 .1 1 1.7 1-.7 1 1.9 1 .2 1 1.7 1-1.4 1 .5 1-.7 1-.6 1-.7 1 1 1 2.9 1 .3 1-2.1 1 1.1 1 1.4 1 .1 1 1 1-.1 1 2.9 1 1.6 1-1.7 1-2.3 1-2.1 1-1.4 1 .9 1 .5 1-.9 1 3.1 1 .4 1-2.3 1 2.6 1 .5 1-.6 1 1.6 1-2 1 2.3 1 1.3 1 1.9 1-1.1 1-.3 1 .9 1-.7 1-1.1 1 .7 1 2.4 1 0 1-1.1 1-.1 1 1.1 1 1.4 1 0 1-.2 1 .3 1 .9 1 .6 1 0 1 2 1-2.2 1-.4 1-2.2 1-.5 1-.2 1-1.5 1-3 1 1.8 1-.2 1 .9 1-.8 1 1 1-.7 1 .3 1 .1 1 2 1 1.1 1 .6 1-.7 1-1.3 1-.9 1-1.8 1-.7 1 .5 1-.2 1-.9 1-4.9 1-2.3 1-2.6 1 1.1 1-4.5 1 3 1 .4 1-1.1 1-2.5 1 2.6 1 1.3 1 .1 1-1.9 1 1.8 1 3.5 1 1.2 1 1.4 1-3.4 1 .2 1 .2 1-.2 1-3 1-.6 1-.2 1-2 1 1.8 1-.3 1 .8 1-2.2 1 1.1 1-.6 1 4 1-.6 1 .4 1-4.2 1 .7 1 2.3 1 .4 1-5.8 1-.7 1 2.3 1-3.6 1 .1 1-1.6 1 1.7 1 .3 1 1.9 1 1.2 1-1.8 1-.6 1 .3 1-1.8 1-1.5 1 3.5 1-2.7 1 1.4 1 1.1 1-.3 1-5 1-.7 1 3.6 1 2.1 1-3.2 1 2 1 5.1 1 2.3 1 .6 1 2.7 1-1.5 1 1.6 1 0 1-.7 1-.9 1 2.4 1-.9 1 1.6 1-1.8 1 2.2 1-3 1-.6 1-1.6 1-2 1-.4 1-1.6 1-1.8 1 1.1 1-2 1-3.6 1 3.3 1-1.3 1-.8 1-.2 1 2.8 1-1.6 1 2.6 1 1.8 1-6 1-2.5 1 2.9 1-.4 1 1.1 1-1.1 1 2 1 2.3 1-2.3 1-3.2 1-.8 1 2.5 1-.8 1-1.6 1 5.5 1 1.2 1 7.2 1-3 1-.3 1-.2 1-2.3 1-1.6 1 1.2 1-3.1 1-2.4 1 2 1-2.8 1 1.1 1 1.5 1-.2 1 1.6 1 5.1 1 2.2 1 1.1 1 .3 1 2.6 1-2.7 1 .9 1 4.4 1 .5 1 .4 1-.7 1-1.2 1 1.5 1 1.7 1 1.4 1 1.3 1-4 1 .3 1 3.6 1-2.3 1 3.6 1 1.5 1-2.5 1 4.1 1 3 1-1.3 1-1.1 1-1.7 1-.8 1 .8 1 1.9 1-.1 1 3.8 1-.3 1 1.1 1 7.8 1 3.2 1 3.9 1 1.1 1 1.6 1 7.9 1 .8 1 6.8 1-.3 1 4.4 1 4 1 2.2 1 5.5 1 8 1-.4 1-2.9 1 1.8 1 1.2 1 1.7 1-7.1 1 6.5 1-2.9 1-1.7 1 .6 1-2.8 1-5.8 1-.2 1-.9 1-1.1 1-7 1 2.5 1 9.5 1 4.5 1-2 1 4.9 1-.1 1 3.3 1-1.3 1-.6 1 .1 1 2.9 1 .7M610 813.7l1-10 1-10.2 1-6 1-20.6 1-.6 1-7.5 1-4.4 1-6.7 1-5.5 1 1.8 1-.8 1 6.5 1-4.5 1-.3 1 8.4 1 5.8 1-3.2 1-3.9 1-7.8 1 1.7 1 9.5 1-5.4 1-1.5 1-9.2 1-3.7 1-.9 1 5.6 1-2.4 1-3.9 1-2.7 1-1.8 1-3.9 1-12 1-1.5 1 8.4 1 .7 1-7.9 1-3.5 1-5.9 1 7.4 1-9.3 1-10.6 1-5.2 1-1.1 1 6.1 1-7.7 1-.6 1-4.3 1-7.7 1 2.9 1 .5 1 3.4 1 13.1 1-4.8 1-5.3 1-4.8 1-6.3 1-4.4 1 2.3 1 .7 1 1.4 1-1.9 1 1.3 1 .1 1-1.3 1 12.2 1 .7 1 4.3 1-1.1 1 10.1 1 7.1 1 2.5 1-5.5 1-2.4 1-2.1 1-2.7 1 1.7 1-.1 1 2.5 1 6.3 1-4.7 1-1 1-.4 1 7 1-4.5 1 5.9 1 4.5 1-1.5 1-9.9 1-5.2 1 2.4 1 4.3 1-4.7 1 .9 1-3.6 1 3.4 1 .5 1-2.6 1 1.4 1 6.5 1 3.8 1-7.8 1 1 1 2.2 1 .2 1 1 1-.3 1 3.9 1-.3 1 2.5 1-4.8 1 1.4 1-2 1 3.9 1 3.3 1-3.5 1 2.9 1 .7 1 5.1 1-1.7 1-3 1 2.1 1 2.7 1 3.8 1-3.3 1-2.7 1 4.2 1-3.2 1 .3 1-1.2 1 4.5 1-1.8 1 4.7 1 1.5 1 3 1 .3 1-.6 1-1.5 1 6.7 1-1.8 1-1.6 1-4.1 1-1.8 1 2.6 1-.9 1 2 1 1.7 1 .9 1 1.2 1-1.2 1 2.3 1 .8 1 2 1-2 1 3.7 1-1.4 1-3.6 1 1.6 1 2.5 1 .1 1-1.9 1 0 1-.2 1-.1 1 2.1 1 .3 1-.2 1-.2 1 2.4 1 4.4 1-7.2 1 2.1 1 1.4 1 .7 1 2 1-.9 1-1.5 1 1.9 1 .4 1 1.9 1 2.4 1-3.7 1 3.1 1 2.6 1-6.8 1-.7 1-.1 1-1.7 1 1.1 1 2.2 1-1.6"/>
<path d="M178 727.5l1-1.4 1-1.7 1 .6 1-.7 1 1.1 1-.2 1 .1 1-.1 1 .5 1 .1 1-.2 1 .2 1 1.5 1 0 1-.4 1 .2 1-.7 1 0 1-.7 1-.8 1-.9 1-.5 1-.4 1 .9 1 .1 1-.4 1 .6 1-.6 1 .2 1-.5 1 .7 1-.3 1-.4 1-.1 1 .7 1 .2 1 .4 1-.6 1-.4 1-.2 1-.1 1-.1 1 .2 1 0 1-.7 1 .3 1-.1 1 .1 1 1.2 1 0 1-1.1 1 .1 1 .7 1 .3 1 1.5 1-.1 1 0 1 .5 1-1.9 1-.7 1-.3 1 .4 1-.7 1 .2 1-.4 1 1.5 1 1.1 1-.6 1 .2 1 .2 1-1.1 1 .7 1 .6 1 1.8 1-.6 1-.6 1 .3 1 .6 1 .8 1-2 1-.8 1-.4 1-.7 1-2.2 1-1.4 1-1.1 1-4.1 1 3.4 1 1.1 1 .4 1-.9 1 .3 1-.5 1 .9 1 1.2 1-1.7 1 2.5 1-3.5 1-1.9 1-.2 1-.7 1 1.8 1 .1 1-1.5 1 .3 1-2.8 1 2.1 1-.8 1-.7 1 .9 1 .5 1-.6 1-.6 1-.3 1-.9 1 .1 1 .2 1-.3 1-.1 1-1.1 1 1.3 1-1.4 1-2.3 1 1.9 1 .5 1-.5 1 1.3 1-.2 1 2.1 1-1.7 1 2.1 1 .3 1-1.7 1 2.6 1 3.9 1-.3 1 .6 1-1.3 1-.3 1-.7 1-.1 1-1 1-.2 1-2.3 1-1.5 1 1.6 1 1.2 1 .8 1-2.1 1-.7 1 2.2 1-1.4 1-2.7 1 .3 1-.3 1 2.6 1-2.3 1 .5 1-.8 1-.9 1 2.2 1 5.9 1-5.8 1-1 1-.8 1 1.3 1-.7 1-1 1-.7 1-3 1 .2 1 3.3 1-3.2 1-3 1-.9 1 .3 1-1.1 1 .7 1 2 1 .6 1-2.2 1-1.2 1 1.1 1-1.8 1-3.7 1-.3 1-.1 1 .3 1-3.1 1-2.9 1 2.6 1 .5 1 .8 1 .3 1-.6 1 2.3 1-1.1 1-.5 1 3.9 1-1.7 1 .4 1 1 1-.4 1-.6 1 .8 1-3.7 1-3.2 1 2.3 1-2.2 1-.2 1 2 1-1.7 1-2.1 1 1.8 1-2.2 1-1.1 1 .7 1-.7 1 .8 1-2.8 1 4.1 1-1.5 1-.9 1 .1 1 3.1 1-3.1 1 .9 1 3.4 1 0 1-.4 1 1.2 1 2.6 1-2.1 1 .7 1 1.6 1 2.2 1-5 1-3.8 1 1.1 1 2.8 1-.2 1 1.5 1-3.5 1 .9 1 .2 1 1.1 1-.9 1-1.4 1 3.6 1 1.4 1 2.2 1-.1 1-1.8 1-2.2 1 .6 1-1.8 1 6.4 1 .3 1 6 1 1.5 1-2.7 1 3 1 .7 1 .9 1 4.1 1-.1 1-4.6 1-1.1 1 .9 1 .9 1-.8 1-1.5 1-1.5 1-3.5 1-.2 1-.1 1-2.2 1-1.9 1-1.9 1 2.2 1-3.3 1-1.5 1-1.7 1 1.9 1 .1 1-1.6 1 .4 1 3.8 1 1.8 1 1.7 1 2.1 1 1 1-2 1 2.2 1 2.8 1 1.1 1 .7 1 1.7 1-1.7 1-2.5 1 5.3 1-5.5 1-5.9 1 1.8 1-1.1 1-3 1-4.9 1 .2 1 .4 1-2.5 1-.2 1 4 1-5.2 1-1.3 1-2.3 1 0 1 9.7 1-3.7 1-2.6 1 9 1 7.3 1-1.5 1-9 1 3.7 1 6.6 1 14.4 1 2.3 1 4.8 1 10.1 1-.8 1-2.1 1 9.9 1-3.8 1-3.1 1 2.1 1 3.4 1-5.4 1 .3 1-1.4 1-10.9 1 6.5 1-2.8 1 4.2 1 1.8 1 3.8 1-.7 1 5.3 1 5 1 3.5 1 4.4 1 2.4 1 5.8 1 5.9 1 4.7 1 7.2 1 4.9 1 4.4 1 6 1 5.1 1 4.4 1 1.8 1 5.1M587 813.7l1-6.2 1-6.3 1-5.6 1-7.7 1-4.2 1-6.7 1-7.1 1-7.1 1-6.3 1-9.4 1-7.6 1-5.6 1-6.9 1-7.8 1-6.5 1-5 1-7.1 1-.7 1 2.1 1-14.1 1-10.2 1-4.7 1-.2 1-3.8 1 2.3 1-9.6 1-4.2 1-4.2 1-1.2 1 5 1-2.7 1-4.2 1 2.6 1-2.6M723 650.2l1 1.7 1 2.9 1 3.3 1 .8 1 .5 1 4.8 1 1.6 1-2.6 1 3 1-.1 1 .9 1-4.2 1 1.5 1 1.5 1 1.3 1 .9 1 3.7 1 .2 1 1 1 3.7 1-.5 1 .3 1 .4 1 1.5 1-.2 1 6.5 1-1.7 1 1.5 1 7.7 1-3.5 1 3.3 1-2.5 1 .9 1 5.7 1 .6 1 .8 1-2.5 1 4.3 1-.4 1-.6 1 1 1-1.9 1 .7 1 .8 1-.1 1-2.3 1 3.6 1-1.1 1 7.9 1-4.3 1-2 1 2.1 1 .3 1-1.8 1 3.6 1 .2 1-5 1 3.4 1-1.5 1 2.5 1 6.2 1-.8 1-2.6 1 2.2 1 .1 1-1 1-3.7 1 3.8 1-2.5 1 2.3 1-3.6 1 2.6 1 6.2 1-4.8 1 1.3 1-4.4 1 6.5 1-5.4"/>
<path d="M178 728.6l1-.9 1-1 1 .8 1-.1 1-.1 1 .4 1-.8 1-.2 1 0 1-.2 1 .2 1 .8 1 .9 1 1 1-.4 1 .2 1 1 1 .5 1-1.1 1-.6 1-1.2 1-.1 1-.1 1-.3 1 .9 1-1.5 1 .5 1 .7 1 .8 1-.1 1 .5 1-.1 1 .9 1 .1 1 .1 1-.6 1-.9 1 0 1-.1 1 0 1 .7 1-1.7 1 1.9 1 2.8 1-.9 1 0 1 .4 1-.5 1 2.1 1-.4 1-.4 1 .1 1-1.5 1-.4 1-.9 1 .4 1 .2 1-.4 1-.8 1 .9 1-.9 1-1 1-.2 1 .2 1 .7 1 0 1 1.4 1 .3 1-.3 1-.3 1-1.3 1-1.8 1-.1 1 1.5 1 .5 1-1.5 1-.6 1 .9 1 1.7 1-.4 1-.7 1-.3 1-.9 1 .7 1-.9 1-.3 1-.3 1-.2 1-.3 1 .2 1-.4 1-1 1 1.5 1 .5 1 2.1 1-.5 1-2.1 1-3.1 1-.6 1-.2 1-.4 1 .9 1 1.9 1-.8 1-1.4 1-.8 1 1.1 1-2.5 1-.2 1-1.3 1 .6 1 .7 1-1.7 1 .4 1-2.9 1 .2 1-1.8 1 1.5 1-1.5 1-1.5 1 0 1 .1 1-1.2 1-.6 1-1 1 .3 1 1.4 1-1.1 1 2.3 1 1.5 1 .2 1 .1 1-.4 1-.8 1 2.3 1-1.1 1 1.7 1 1.9 1 1 1-1.1 1-.9 1 1.9 1-2.2 1 1 1 .8 1-3.4 1 .2 1 1.3 1-.6 1-2 1-1.5 1 .1 1 1.7 1 3.2 1 .2 1-.8 1-1.5 1 2.7 1-2.2 1-.5 1-.1 1-.1 1-1.8 1 2.2 1 .5 1-2.4 1-.5 1 3 1 .3 1-1 1 .9 1 .3 1 1.2 1 .3 1 .6 1 .4 1 1.2 1-3.1 1 1.7 1 .6 1 1.4 1 2.8 1 2.5 1 .9 1-1.1 1 .3 1-.1 1-2.8 1 .2 1-1.5 1-.4 1 .2 1-.9 1-1.7 1-.7 1-1.9 1-1.6 1 1.4 1 2.9 1-5.5 1 3 1-2.2 1 3.6 1-.2 1-.5 1-1.4 1-5 1 4.2 1-2.9 1-3.8 1 2.7 1-1.4 1 2 1 .9 1 .2 1-.9 1 .1 1-4.4 1 1.4 1 1.7 1-2.9 1-2.5 1 4.8 1-.2 1 2.3 1 .9 1-3 1 .9 1-.5 1 .4 1 .6 1-3.5 1-2.3 1 2.7 1 .7 1 .4 1 1.8 1 2.6 1 1.5 1 2 1 5 1-2.2 1-2.1 1 .4 1-2.7 1 4.8 1-5 1 1.4 1 1.9 1 0 1-4.1 1-.1 1-.2 1 1.1 1 3 1 2.6 1-2.7 1 2.3 1-.6 1-2.5 1 1.3 1 3.1 1 3.2 1-1.3 1 3.8 1 2.5 1-1.7 1-.7 1-6.5 1 1.5 1-2 1 1.1 1-.7 1 1.7 1-.8 1 2.5 1 1.4 1-.9 1-2.1 1 .6 1 0 1 2.8 1 5.1 1 .8 1 3.7 1 3.7 1-.4 1 7.3 1 5.3 1 0 1 5.8 1-4.6 1 11 1 4.8 1 3.6 1-.6 1 3 1 .9 1 1.7 1 0 1 1.5 1-3.9 1 4.6 1-4.1 1 3.6 1-3.6 1-12.1 1-9.8 1 1.9 1 1.4 1-.4 1 1.5 1 .7 1-7.2 1-11.9 1-9.3 1-.3 1 7.5 1-5.2 1-2 1-8.8 1-1 1 6.5 1-3.6 1 24 1 11.9 1 5.9 1-2.6 1 7.7 1-2.7 1 7.3 1 7.3 1-5.7 1-17.4 1 6.9 1-.7 1-3.4 1 1.2 1 5.4 1-6.3 1 2.1 1 5.8 1-9.6 1 10.4 1 11.2 1 3.4 1 2.2 1 5.2 1 7.9 1 11.1 1 1M594 813.7l1-2.7 1-.8 1-4.3 1-4.4 1-22.7 1 .9 1 .5 1 7.8 1-4.8 1 3.6 1-.2 1-13.5 1-15.3 1-26.8 1-.7 1-14 1 3.2 1 3.7 1-17.6 1-.4 1-1.8 1-20.7 1 12 1-3.5 1-4.4 1-5 1-9.9 1-14.3 1-1.3 1-6.1 1 3.5 1 7.8 1-1.7 1-8.4 1-1.2M632 650.2l1 .2 1 15.9 1-8.6 1-6 1-1.5M703 650.2l1 4.3 1-.3 1 11 1-2 1 2.4 1 .1 1-.8 1-2.9 1-.9 1 .5 1-4.7 1 9.8 1 7 1-2.3 1-.8 1-1.1 1 3.9 1 1.2 1 5.9 1-3.4 1 1.3 1-3.6 1 2.9 1-2.3 1 8.9 1-4.3 1 6.9 1 1.1 1 1.2 1-.7 1 2 1-1.1 1 .5 1 .5 1-.7 1-4.3 1 5.1 1-2.9 1 5.2 1 5.6 1 2.6 1-2.5 1-1.7 1-2.6 1-3.8 1 3.4 1 4.1 1 2.8 1-3.8 1 1.1 1-2.8 1 1.8 1 .8 1 2.7 1 1.2 1-2.6 1 2.7 1-.6 1-.8 1-1.9 1 1.9 1-.1 1 .5 1-1.4 1 1.8 1-.7 1 4.6 1-1.4 1-1.7 1 1.5 1 .1 1 2.7 1-1.3 1 .1 1-.7 1-.4 1 .8 1 6.1 1-4 1 6.8 1 .2 1-2.7 1 .4 1-3.3 1 1.1 1 1.6 1 1.3 1 3.5 1-.6 1-5 1 2.4 1 6.1 1-3.3 1-.5 1-3.1 1-.3 1-.6 1 2.4"/>
<path d="M178 730.2l1-.7 1-.4 1-.3 1 1 1 .4 1-.7 1-.8 1 .7 1 .5 1 .6 1 .4 1 .6 1 0 1 .9 1-.4 1 .2 1 .4 1-.2 1-.1 1 .4 1 1.1 1 .1 1 .4 1-.6 1-.5 1-.7 1 .2 1-.1 1 1.3 1 .3 1 .1 1 .1 1 .3 1 1.4 1-.1 1 .6 1 1.1 1-.4 1 .5 1 .8 1 1 1 0 1 .1 1 1.7 1 .7 1 .4 1 1.8 1-.3 1 1.2 1 1.2 1-.9 1 .2 1-.6 1-.7 1 .8 1 .1 1-.2 1 1.4 1-1.7 1-.6 1-.4 1-.8 1-1.1 1 0 1 0 1-.3 1-1.2 1 1.2 1 0 1-.2 1-.3 1 2.1 1 1.3 1 2.3 1 1 1-.9 1 1.4 1-.2 1 1.7 1-.7 1 1.2 1 .2 1-.7 1-.5 1 .2 1 2.3 1-.9 1 0 1 .8 1-.9 1 .5 1-.6 1-.2 1 2.2 1-2.3 1-2 1 .8 1-.6 1 .9 1-1.3 1 .2 1-.3 1 1.9 1 3.8 1 .3 1 1.4 1-.3 1 1.5 1-1.3 1 1 1 1.1 1-2.4 1-1.8 1-1.3 1-3.1 1-.2 1 1.5 1-.9 1-1.2 1-.4 1-2.1 1 1.1 1 .3 1 1.4 1 .2 1-.4 1-.6 1-1.2 1 1 1-3.2 1-.5 1 1.1 1-2.3 1-.7 1-1.4 1 2.3 1-2.4 1 2.8 1-2.7 1 1.2 1-1.2 1-1.2 1-.6 1-.4 1-1.3 1-.3 1 1 1-.7 1 .4 1-.3 1-4.7 1 1.7 1-1.6 1 3.6 1 .4 1 3 1-2 1-2 1-.7 1 .8 1-.8 1-3.3 1-1.2 1 1.4 1 1.6 1-1.5 1 3.9 1 4 1-1.7 1-3.6 1 .1 1-3.3 1-1.8 1-.3 1-1.5 1 3.1 1 1.4 1 .7 1 .2 1 .3 1 1.3 1 0 1-1.2 1 1.1 1 .5 1 .6 1 1 1 .2 1-1.5 1-.4 1 1.6 1 1.7 1 1.4 1-2.4 1 1.3 1 .8 1 1.7 1-.7 1 1.3 1 1.9 1-.9 1-1.8 1-.4 1-.5 1-.4 1 .8 1-3.5 1 .4 1-3.9 1-1.6 1-2.1 1-2.9 1 1.2 1 1.7 1-1.2 1-1.2 1-1.1 1-2.8 1 .8 1 .3 1 2.8 1 .3 1 1.6 1-2.3 1 2.4 1 1.8 1-2.6 1-3.9 1-.1 1 .3 1-2.2 1 .5 1 2.5 1 2.2 1-2.2 1 2.4 1 0 1 .4 1 .4 1-3.5 1 .7 1-1.6 1 1.7 1-1.3 1-3.6 1 .2 1-.2 1-4.3 1 .5 1-1.9 1-.7 1 6.3 1 1.4 1 .2 1-3.1 1 2 1 2.1 1-3.5 1 1.4 1-1.3 1 1.1 1-2.8 1 7.8 1-2.7 1-1.2 1-2.3 1 6.4 1-1 1 0 1-3.1 1-2.2 1 2.4 1-2.5 1-3.7 1 1.4 1-.9 1-4.3 1-2 1-.5 1-.5 1-5.9 1 1.6 1-4.7 1 3.5 1 6 1-.2 1 4.4 1 1.1 1 9.1 1 4.2 1 2.2 1-.6 1-2 1-2.8 1 6.5 1-3.8 1 3.1 1 5.8 1 .4 1 2.2 1 2.5 1 2.2 1 6.1 1-4.1 1-1.8 1-3.4 1-.4 1-8.4 1-3 1-8.4 1 4 1-10.1 1 2 1-.9 1-9.2 1-.5 1 8.6 1-6.9 1-10.5 1-6.5 1 12.4 1 5.4 1-2.9 1 1.7 1 18.1 1 11.5 1 7.2 1 7 1 9.4 1 1.2 1-1.4 1 1.5 1-1 1-4.9 1 5.5 1 9.9 1 13.9 1 .3 1 3.7 1-2.7 1-8.3 1-5.6 1-2 1-8 1 13.8 1 3.5 1-.4 1 3.4 1-8.7 1 1.5 1 7.5 1 7.5 1-8.6 1 6.6 1 5.9 1-.9 1 7.7 1 2.5 1 3.3 1 6.3M594 813.7l1-3.2 1 3.2 1-4.4 1-11.3 1-1.4 1-20.3 1-20 1 1.3 1-14.3 1-8.4 1-14.8 1-.7 1-1.4 1-18.9 1 3.1 1 2.2 1-14.1 1-17.3 1 .7 1-8.8 1-13.2 1-1.5M721 650.2l1 1.1 1-.5 1 13.8 1 6.2 1 4.8 1-3.6 1-3.7 1 7.7 1-1 1 4.1 1-1.2 1-1.1 1 4.2 1 7.1 1 .3 1 6.1 1-.4 1 .1 1-3.3 1 4.2 1-1.2 1-.7 1-.3 1 6.8 1 3.6 1 5.3 1-2.8 1 4.1 1-3.5 1 .1 1-2.3 1 .1 1 .6 1 2.3 1 .9 1-1.2 1-.1 1-2.8 1 .5 1 4.2 1 2 1 1.7 1-4.8 1 3.6 1 2 1 2.6 1-1.4 1-4.7 1 4.1 1-1.6 1 .4 1 1.5 1-3.2 1 4.6 1-1.7 1-2 1 7.6 1-1.8 1 3.4 1 1.3 1-4.5 1-.9 1-2 1 2.2 1 .3 1 .5 1 4.8 1-1 1-5.6 1 5.7 1-.4 1-2.7 1-1.4 1 2.4 1 2.4 1-2.8 1-1.1 1 4.1 1-.6 1 2.5"/>
<path d="M178 732.5l1 .7 1 .5 1 .5 1-.4 1 .8 1 .3 1 .3 1 .1 1 .6 1 .2 1 .1 1 .2 1-.1 1 .7 1 .5 1 .5 1 .5 1-.4 1 .3 1-.8 1 .1 1-.5 1-1 1 2 1-.3 1 .4 1-.9 1 .5 1 .1 1-.5 1 .9 1 .5 1-.4 1 1.4 1 .9 1-1.2 1 1.3 1 1.2 1 .8 1 1.7 1 .4 1-.6 1 1.4 1 2 1 .1 1 .9 1 2.5 1 .3 1 2.1 1 .3 1-.4 1-.2 1-.5 1-.2 1 0 1 .4 1 1.5 1 .7 1-.2 1-.6 1-.2 1 .9 1-1.2 1-1.5 1-.3 1-.1 1 2.1 1-.4 1 1.2 1-1.4 1-2 1 0 1 .3 1 2.4 1 .4 1 1.4 1-2.4 1-1.1 1 .7 1-.5 1-.6 1 1.6 1 .1 1 .4 1 .9 1-.5 1 .1 1 1.7 1 2.6 1-.4 1-.5 1 1.2 1-.4 1-1 1 1.5 1-1.6 1-1 1-1.9 1-.7 1 1.7 1-1.2 1 .1 1 1.2 1-.5 1-1.9 1-.1 1-.5 1-1.8 1-1.1 1 1.8 1-.9 1-.7 1-2.5 1-1.6 1-.9 1-1 1 .1 1 1.3 1-1.6 1-.8 1-1 1 1.5 1-2.5 1-1.6 1 .1 1 1.4 1-.6 1-2.3 1 1.3 1-1 1 1.9 1 1.4 1-2.3 1 1.3 1 1.7 1-1 1 1.4 1 2.5 1 .9 1 .9 1 .7 1-1.3 1 .8 1-.3 1 1 1 .6 1 1.3 1 2 1-.9 1-1.2 1-.1 1-2.5 1-1.3 1-.7 1-1 1-2.5 1-.3 1-1 1 .1 1-.7 1 .9 1 0 1-.9 1-.1 1-2 1 1.6 1 3.1 1-1.8 1-1.9 1 1.3 1-1 1-.5 1 1.7 1-2.2 1-2.4 1 .9 1 .8 1 1.2 1-.5 1 .6 1-1.6 1 4.2 1-1.5 1 0 1 3.1 1 1.3 1-1.2 1 1.1 1 2.3 1-2 1 2 1-.5 1-.2 1 2.4 1-2.3 1 .1 1-2.9 1 2.3 1 .1 1-2.4 1-.4 1 1.7 1 .2 1-.1 1 3.9 1-3.1 1-2.9 1 .4 1-2.5 1-.9 1 1.6 1 2.1 1-.3 1 .9 1-2.4 1-1.9 1 1.2 1 1.4 1-.5 1 .9 1 1.3 1 .2 1-2.3 1 1.6 1-1.9 1 1.1 1 3.2 1-3 1-1.3 1-.4 1-.7 1 1.7 1 .8 1-2.5 1 .2 1 1.4 1-1.1 1 1.8 1 1.3 1-.8 1 3.4 1 .1 1-1 1-.8 1 2 1 2.2 1 2.6 1 .4 1-5.4 1-.2 1-1.2 1 3.1 1 3.3 1 .3 1-2.5 1 1.8 1-2.4 1 2.4 1 2.2 1-1.5 1 .3 1 1.8 1 .3 1-.4 1 3.1 1 1.9 1 1.2 1-.3 1-1 1 .7 1 .9 1 1.4 1 3.1 1 .7 1 1.1 1 2.5 1-1.8 1-2 1-.2 1 1.6 1 1.8 1-.4 1-1.2 1 5.8 1-.3 1 3.8 1-.6 1 1.2 1 4.2 1 4.9 1 .6 1 2.5 1 8.7 1 .9 1 10.2 1 3.7 1 1.1M491 813.7l1-9 1 6.1 1 2.9 1-3.5 1 3.5M614 813.7l1-10 1-11.7 1-.8 1-10.1 1 1 1-16.9 1 3.6 1-.8 1-2.7 1-10.6 1-8.8 1-2 1-1.5 1 4 1 4 1-4.6 1-3.4 1-5.9 1-8.5 1 0 1 1.2 1-2.9 1-9.2 1-7.8 1-3.8 1 5.5 1 1.2 1-10.9 1-1.5 1-2.6 1 3.7 1-10.4 1-7.9 1 .3 1-2 1-4.3 1-2.1 1-7.4 1-2.6 1-8 1 4.9 1-1.4 1-4.4 1 6.7 1-7.9 1-4.2M663 650.2l1 3 1-3M668 650.2l1 .5 1 5.3 1 3.2 1 3.8 1 3.5 1-1.7 1-.8 1-5.9 1 11.8 1 5.8 1 .3 1-1.9 1 9.9 1 5.3 1 6.2 1 2.3 1 4.1 1 2.7 1-3.8 1-2.4 1-3.9 1-.7 1 .5 1 7.6 1-8.9 1-1.8 1 2.8 1-.3 1-3.7 1 2.5 1-1.8 1 .5 1-.4 1-4 1 3.6 1-1 1 1.5 1-4.3 1-.1 1 3.2 1 .3 1 1.8 1 .6 1 1.2 1-2.6 1 4.6 1 4.1 1 1.9 1 1.7 1-3 1-.5 1-2.8 1-3 1-2.2 1 3.1 1 1.1 1 1.6 1 2.2 1 2 1 1.5 1 3.5 1 .9 1 1.7 1 6.2 1 3 1 1 1-4 1-1.4 1 2.3 1-.7 1 3.9 1 .1 1 3 1-1.7 1-.8 1-2 1 3.4 1 0 1-3.2 1-3.3 1 1.9 1-4.6 1 .6 1 3.3 1 2.1 1 1.3 1-.5 1 1 1-1.4 1 3.4 1-2.2 1-.9 1 1.7 1 .6 1 .5 1 3.6 1 1.1 1-1.9 1 .1 1-2.5 1-1 1-3 1 7.1 1 .3 1 7.4 1 1 1-3.5 1-1 1 2.6 1-3.4 1-1.7 1 4 1-4.3 1 1.9 1-2.4 1 .1 1-2.8 1 2.6 1-2.8 1-1.1 1 1.7 1 .9 1-.5 1 .2 1 .2 1 1.2 1 .9 1 1 1-2.3 1-.2 1 1 1-3.3 1-2.5"/>
<path d="M178 729.4l1-.9 1-.9 1 .2 1-.1 1-.1 1 0 1 .3 1-.3 1 1 1-.5 1-.1 1 .7 1 .6 1 .8 1 .8 1-1.1 1-.8 1 .7 1-.8 1 0 1 .1 1-.9 1 .3 1 .2 1 .7 1 .2 1-1.1 1 .7 1 .2 1 .1 1-.7 1 1 1-.5 1 .9 1-1.1 1-1.6 1 2.6 1 .2 1 .5 1 .1 1 1.3 1-1.3 1 .2 1 1.8 1-2.8 1 .9 1 .8 1 0 1 3 1 1.6 1-.9 1-.9 1 .9 1-.9 1-.7 1-.1 1-1.4 1 .1 1 .5 1 1.9 1 .5 1 .1 1-1.7 1 .3 1 .3 1-.1 1 1.8 1 .5 1 1.4 1 1.4 1 .9 1 0 1-1.8 1 .1 1 .4 1-.1 1-.4 1-.9 1 0 1 .5 1-.2 1-.9 1 1.5 1-1.1 1-1.7 1 .6 1-2.4 1 2.6 1 3.4 1-.2 1 .3 1-.8 1 1 1-1.7 1 0 1 1.8 1 1.3 1-1.9 1-1.4 1 2.1 1 .7 1-.4 1 0 1-3.3 1-1.1 1 .6 1 .7 1-3.7 1 .6 1-1.3 1 .3 1 .8 1-4.2 1-1.6 1 .7 1-.8 1-3.9 1-.3 1-1.6 1-1.4 1 1.1 1 1 1 2.5 1 0 1 3.2 1-.4 1 1.3 1-.6 1 3.4 1 2.5 1-.4 1-.6 1 3.1 1 1.5 1 .1 1 1.4 1-1 1-3.6 1-.3 1 .3 1-1.4 1 0 1 .6 1-.9 1 0 1 .1 1 1.4 1 1.6 1 0 1 .2 1-1.9 1 2.1 1-.3 1 2.1 1-1.7 1 .6 1-2.3 1-4.6 1 1.6 1-1.8 1 1.9 1 1.2 1-1.3 1-.6 1 2 1-.4 1-1.9 1 1.4 1 3.7 1 .2 1 1.8 1 .3 1 .7 1-1.7 1-.5 1-.5 1 .9 1 3.4 1-1.5 1-2.2 1 .6 1 1.9 1 .3 1-1.6 1-.9 1 2.3 1-2 1-2.6 1 1.8 1-.8 1 .1 1 2.9 1-2.7 1-1 1 2.2 1 0 1 1.8 1 .5 1 4.5 1-2.2 1 .8 1-1.7 1 2.2 1-.3 1 .5 1-1.7 1-3.1 1 .7 1-2.9 1 3 1 1.5 1-1.2 1-2.5 1 1.3 1 .8 1-1.4 1 .4 1 .5 1-.6 1 2.1 1 1 1-3.2 1 2.2 1 .9 1-.1 1 .2 1-1.7 1-.7 1 .4 1 1.3 1 .4 1-1.5 1 .3 1 2 1-2.4 1 1.6 1 .7 1 3 1-.5 1-1.2 1 4.5 1 .7 1 2.1 1-.9 1 1.3 1 .8 1-1.5 1-2.4 1 4.8 1 1.6 1-1.9 1 .7 1 1.4 1-3 1-2.3 1 1 1 2.5 1-1.4 1-1.1 1-1.8 1 2.7 1 4.1 1-.9 1-.8 1 1.9 1-.5 1 2.5 1-3.1 1-.8 1 .7 1 2.1 1 1 1 4.1 1-1.1 1 .5 1 5.1 1-1.5 1-1.5 1-.5 1 6.9 1 1 1 1.4 1 3.3 1 1.5 1 3.1 1 1.4 1 6.1 1-.4 1 .5 1 4.7 1 8.3 1 7.4 1 5 1 .3M629 813.7l1-5.3 1-1.2 1-2.1 1-6.7 1-4.1 1-3.8 1-4.1 1-3.7 1-6 1-6.5 1-7.2 1-2.5 1-1.2 1-6.1 1-4.5 1-3.3 1-3.9 1-.4 1-6.4 1-1.9 1-7.6 1-1.2 1-4.1 1-6.6 1-4.1 1-3.7 1-4.4 1-1.5 1-3.5 1 0 1 1.8 1 5.9 1 .1 1 4.2 1-3.5 1-8.2 1-12.6 1-3.8 1 3.4 1 2.8 1 3.7 1 2.6 1 5.9 1 1.6 1-2.4 1 6.5 1 3.9 1-1.7 1-6.4 1-1.8 1-1 1-.5 1 5.8 1-7.1 1-5.6 1 3 1 3.8 1 2.8 1 7.3 1-.6 1-1 1-4.8 1 4.8 1-6.8 1 5 1 3.1 1-3 1 .8 1 6.3 1-4.2 1-4.3 1 0 1-3.2 1 1.8 1 3.8 1 2.8 1 1.4 1 4.5 1-4 1 1 1 1.4 1 2.3 1 6.7 1 2.6 1 1.1 1-5.8 1-3 1-2.7 1-.4 1-2.6 1-.7 1 4.7 1 4.1 1 .3 1 .7 1-6.4 1-1.2 1 3.1 1-2.4 1 4.9 1-2.1 1-1.7 1-1.7 1 .6 1 .7 1-4.6 1 5.3 1 1.6 1-1 1 7.3 1 1 1-3.6 1-5.6 1 3.8 1 1.6 1 2.6 1-.5 1 4.7 1-1.6 1 1.9 1 1.3 1 4.4 1-3.3 1 1.9 1 3.3 1-5.8 1 2.4 1 .8 1-.1 1 4.4 1-2.7 1 2.2 1-.3 1 3 1-.4 1-3.7 1 .6 1-.3 1-.5 1 1.2 1 1.2 1-7.3 1 8.8 1-1.7 1-2.9 1-2 1 1 1 2.5 1 1.4 1-3.8 1 .7 1-1.7 1 2.4 1 3.6 1 1.1 1-.4 1 1 1-1.2 1 1.3 1-8.6 1 7.1 1-2.1 1-4 1 3.1 1-.8 1 1.8 1-3.7 1 2.7 1-2.3 1 5.5 1-.8 1-3"/>
<path d="M178 726.3l1-1.4 1-1.7 1-.3 1 .9 1 .1 1 0 1 .7 1-.2 1 .4 1-.8 1 .3 1-.1 1-.1 1 .5 1 .5 1 0 1-.3 1-.2 1 .5 1-.4 1-1.2 1-1 1 .5 1 .2 1 1 1 0 1-.9 1 .9 1-.4 1-1.5 1 1 1-.8 1-.2 1 .3 1 .1 1 0 1 .4 1-.7 1 .4 1 .4 1 .7 1 .9 1-.6 1 1.7 1-1.1 1 .3 1 1.5 1 .3 1 1.3 1 .3 1-.1 1 1.2 1 0 1-1.5 1 .4 1 .1 1-.5 1 1.3 1 .1 1 .7 1-.1 1 0 1-1.7 1-.3 1 1.1 1-.5 1 .9 1-1.9 1 1.1 1-.1 1 .5 1-1.6 1 .4 1 1.5 1 1 1 1.9 1-2.3 1-.5 1 .8 1-2.2 1-1.2 1 1.3 1-1.5 1 1.4 1 1.2 1-2.1 1 1.9 1 2.3 1-.1 1 .2 1 1.6 1-1.4 1 1.4 1 1.1 1-1.9 1-.9 1 2.2 1-.1 1-3.4 1-.4 1-.2 1-1.8 1 3.1 1 .1 1 1.1 1 .3 1-1 1-.5 1 0 1 1.3 1-3.6 1-3.1 1 0 1-1.7 1 0 1-1.5 1-1.3 1-2.1 1 1.9 1 .4 1-1.2 1-.5 1-3.3 1-2 1-1.1 1 2.9 1 0 1 .7 1 1.4 1-.5 1-1.8 1 .5 1 0 1 3.5 1 1.5 1 1.3 1-.3 1-1.3 1-1.8 1 2.2 1-.4 1 1.2 1-2.8 1 .3 1-.5 1-.9 1 .5 1 1.8 1 .5 1 .9 1 3.1 1 1.1 1-2.4 1-.1 1-1.3 1-2.5 1-2.6 1 0 1-.3 1-.3 1 1.9 1 3.1 1 1 1-1 1-1.5 1 2.4 1 1.2 1-.2 1-1.7 1-.7 1 .1 1-1.4 1 3 1-2.4 1-.4 1-1.9 1-2.2 1-1.3 1-6 1-.6 1-3.6 1 2.6 1 .2 1-1.1 1 3.7 1 2.9 1 1.2 1 .2 1-4.2 1-1.6 1-.1 1 .4 1-1.5 1-1.4 1-.7 1-.1 1 1.2 1 2.8 1-.8 1 2.2 1-.5 1 .2 1-2.1 1-1.8 1-1.4 1-1.8 1-1.8 1 .6 1-.8 1-1.5 1 2.2 1 .8 1 .2 1 0 1 2.8 1-1.4 1-1.3 1-.3 1 2.7 1-3.7 1-.6 1-1 1 3.2 1-.2 1-.4 1-6.5 1 .9 1 .9 1-2.9 1 3.3 1-2.6 1 1.6 1 2.4 1-.7 1 3.4 1-3 1 .1 1 1.9 1-1 1-2.8 1-1 1 3.9 1 3.5 1-.4 1 4.2 1-3.2 1 .3 1 .3 1-1.1 1 .4 1-4.1 1 3.9 1-1.7 1 .9 1 1.4 1-.1 1 .2 1 .8 1 .7 1 .3 1 5.6 1 3.9 1 1.8 1-1.5 1 3.6 1-.7 1-3.1 1-3.4 1 3.7 1 4 1 0 1 0 1 2.1 1-.7 1-3.3 1-1 1-4.1 1-1.3 1 .5 1 3.4 1 5.8 1 1.8 1 3.7 1 1.6 1-1 1 7.8 1 .9 1 3.3 1 3.1 1 10.4 1 9.5 1 2.6 1-1.3 1 1.3 1-1.6 1-4 1-6.3 1-4.8 1 2.2 1-5.2 1 1.3 1 5.4 1-6.9 1-9.9 1 1.8 1-9.8 1 1.7 1-2.6 1-4.9 1-1.9 1 3.6 1-4.8 1-9.2 1-1.1 1-2.7 1-5.9 1-6.1 1-2.9 1 10 1 8.4 1 1.1 1-2.2 1 2 1 8.6 1 2.4 1 17.3 1 8.8 1 3.9 1 5.5 1-7 1 2.4 1-5.8 1-4.5 1 6.6 1 3.3 1-4.2 1-3.7 1 10.3 1 6.6 1-5.7 1-1.1 1 4.5 1-2.1 1-3.8 1-.5 1 7.6 1 .9 1-7.1 1-1 1 3 1 5.5 1 8.8 1 .7 1 5.3 1 6.1 1 3.2 1 7.7 1 4.9 1 3.7 1 3.9 1 4.8 1 2 1 1.5M590 813.7l1-7.3 1 7.2 1-13.4 1-23.9 1-7.6 1 7.8 1-16.6 1-8.3 1-19.6 1-6.2 1-1 1-3.4 1-8.2 1-.2 1-12.9 1-1.8 1 1 1-6.8 1 15.9 1-14.1 1-12.9 1-7.6 1-7.4 1 2.7 1-11.1 1-5.5 1-1.2 1-1.1M726 650.2l1 .7 1 4.2 1 2.3 1-.4 1 1.1 1 2.5 1 .2 1-2.6 1 1.4 1 5.5 1-2.9 1 2 1 1.1 1 2 1 .7 1 1.9 1 3 1 0 1 6.9 1 1.6 1 5.5 1 3.1 1-.7 1-.4 1 2.1 1-1.7 1 4.5 1-.6 1 1.2 1 .4 1 .8 1 2.2 1 1.2 1-1.6 1 4.3 1 .7 1-2.7 1 7.4 1-1.7 1-1.1 1-.7 1-1.3 1 2.2 1 2.2 1-.3 1-.2 1 4 1-1.9 1 2.7 1-4.6 1 2 1-.5 1 1.4 1-1.7 1 4.4 1-1.6 1 5.1 1 2.1 1-7.3 1 1.1 1 0 1 2.8 1-3 1-.7 1 3.2 1-.9 1-2.9 1-1.2 1 1.7 1 2.7 1 2.7 1-4.4 1 9.1 1-10.2 1-4.5"/>
<path d="M178 728.6l1-.9 1-.7 1-.1 1-.2 1 .7 1 .7 1-.8 1 .1 1 .5 1-.4 1 1.6 1-.4 1-.1 1-.6 1 .2 1 .3 1-.6 1-.5 1 0 1-.7 1 .9 1-.5 1 0 1 .9 1-.6 1-.7 1 .7 1 .1 1-.3 1-1.4 1-.6 1 .2 1-.8 1 .5 1-1.1 1-1.1 1 .6 1 .7 1 .4 1-.3 1 .7 1-1.1 1 .3 1 4 1-.9 1 1.1 1-.9 1-.3 1 2.9 1 .6 1-.6 1-.1 1 2.7 1 .5 1-1 1 2.1 1-.1 1 1.4 1-.3 1 .4 1 .2 1 1.3 1 .3 1 1 1-1.4 1 3.3 1-1.4 1-2.2 1-.3 1 .5 1-.1 1 0 1-.2 1 1.9 1-1 1 1 1-1 1 1.2 1-.4 1 1.4 1-2.1 1 0 1-.4 1-.7 1-1.9 1 .2 1-.2 1 2 1 .8 1-.8 1 1.9 1-1.6 1 1.3 1 1.4 1 2.4 1 1.7 1-.5 1-4 1-1.5 1 2.6 1-.5 1 1.6 1 1.7 1-2.7 1-2.1 1 0 1-.9 1 .8 1-1.3 1-.5 1-2.8 1 .5 1-1.1 1-5.5 1-2.3 1 1 1-4 1 1 1 .4 1 1 1-5 1 .4 1 1.5 1-3.1 1 .3 1-1.5 1 .3 1-3.4 1 2.6 1-.8 1-3.2 1 1.1 1-.5 1 2.8 1-.1 1 .5 1-.1 1-1.6 1-1.5 1 2 1 1.2 1 .4 1-.5 1 .6 1-.7 1-1.5 1-.2 1 .7 1 1 1-3.5 1-.1 1-1.8 1-.8 1-.8 1-.8 1-1.1 1-.3 1 .7 1-.4 1-2 1-4.2 1 0 1 1.2 1-1.3 1-1.4 1-.3 1 1.3 1-.2 1 .1 1 0 1 .9 1-1.7 1-3 1 .5 1 2.7 1 2.7 1 .3 1-3.4 1 .7 1-1.3 1-2.3 1 .4 1 1.4 1 2.3 1 .4 1 .5 1 2.7 1-1 1-.2 1-1.1 1 2.5 1 3.5 1 .4 1 .6 1 0 1-2.7 1 2.6 1 3 1 3.5 1-6.3 1-1.8 1-.2 1 .4 1 3.1 1 1.6 1-3 1-3.1 1 .8 1-4.9 1-.4 1-1 1-2.9 1-4.4 1-1.2 1 1.6 1-1.4 1-1.2 1 0 1-1.7 1 2.4 1-.5 1-3.3 1-.3 1 1.8 1-2.3 1-2.1 1-.7 1 .2 1-1.2 1-.9 1-.4 1 1.8 1 2.2 1 1.8 1-.9 1 .8 1 3.2 1 0 1-1.5 1-2.5 1 1.2 1 1.7 1 0 1-1.5 1 2.8 1-1.6 1 3.9 1-2.2 1 1.7 1-3 1-.4 1 3 1 .4 1-.5 1 1.9 1-1.8 1 .9 1-3.3 1 2.5 1-1.7 1-.3 1 .4 1-1.1 1 0 1-.8 1 .1 1 2.6 1 0 1-2.2 1 .5 1-3.4 1 .2 1 5.9 1 0 1-3 1-.6 1-1.6 1-.8 1 2.7 1 1.4 1-2.1 1-.4 1 2.6 1 2.6 1 2.5 1 3.3 1-1.1 1 0 1 3.7 1 1.9 1 4.5 1-1.1 1 .3 1 5.1 1 6.6 1-5.9 1 6.8 1 5.9 1 3.9 1-1.7 1-6.4 1-6.3 1-5.6 1-11.6 1-3 1-2.1 1-3.8 1-1.1 1-4 1-1.6 1-.1 1-1.7 1-2 1-2.1 1-1.5 1-1.1 1 1.1 1 2.3 1-.6 1 1.7 1 .5 1 1.8 1 0 1 4.2 1 8.1 1 7.9 1 7.5 1 8.9 1 5.1 1-.2 1 .8 1 .2 1 .8 1-2.3 1 1.9 1 1.6 1-2.4 1 2.3 1 .5 1-1.6 1 .7 1 4.2 1 13.3 1 2.9 1 6.8 1 12.1 1-6.7 1-.5 1 7.2 1 6.9 1-.5 1 10.3 1 6.4 1 13 1-3.7 1 9 1-2.8 1 6.1 1 4.3M589 813.7l1-4.6 1-8.7 1 8.1 1 5.2 1-4.4 1-2.7 1-4.8 1-9.6 1-6.1 1 .9 1-10.8 1-7.6 1-8.6 1 2.7 1-4.9 1-13.9 1 9.1 1-5.1 1-4.9 1 7.5 1-7.1 1 6.8 1 2.8 1-2.1 1 1.2 1-11.5 1 2.3 1-.1 1-12.3 1-3.5 1 4.3 1-14.8 1 5.5 1-18.6 1 3.5 1 7.7 1-12.7 1-7.6 1-9.7 1-5.4 1-2 1-1.9 1 2.2 1 5.8 1-6.2 1-3.5 1 5.5 1-2.3 1-6.2 1 .1 1-15.6 1-4.9M716 650.2l1 1.3 1 1.2 1 7.9 1-5.7 1 3.3 1 2.4 1-4.7 1 6 1 5.1 1 6.9 1 1.3 1 1.5 1-2 1-1.2 1 4.1 1-6.4 1 6.4 1-.5 1 5.1 1 6 1-2.4 1 5.7 1-3.9 1 1 1 1.9 1 2 1 1.4 1 .9 1 8 1-2.6 1-3.4 1 5.6 1-4.6 1 4.9 1 0 1-6.2 1-1 1-3 1 4.8 1 .3 1-1.5 1 10.2 1-4.1 1 5.5 1-1.3 1 1.7 1 .9 1 5.4 1 2.7 1-4.9 1 1.3 1 .5 1 .4 1 1.7 1 5.3 1-2.4 1 .1 1 1 1-1.4 1-1.5 1-2.8 1-2.1 1 1.4 1-2.1 1 1.5 1-2.7 1 .3 1 1.1 1 2.1 1 .3 1 2.5 1-1.2 1 2 1 2.3 1 1.6 1-4.5 1 .7 1 0 1-.9 1 1 1 4.6 1-3.9 1-1.8 1 2.2 1-1.3"/>
<path d="M178 731.4l1 .1 1 1 1-.5 1 .1 1 .1 1 .4 1 .7 1-.6 1 .8 1 1.3 1 .8 1 .7 1 .8 1 .2 1-.7 1 .5 1 .3 1-.6 1 0 1 .1 1 .5 1 0 1 .1 1 .1 1 .1 1 .3 1 1 1 0 1 .8 1 0 1 .9 1-.1 1-.5 1 .7 1-.8 1 0 1 2.1 1 .4 1-.3 1 .7 1 .3 1 .3 1 .2 1 2.2 1 .1 1 3.2 1 1.1 1 .9 1 1.1 1-.2 1 .5 1-.4 1 1.7 1 .9 1 .7 1 .2 1-.6 1 1.1 1-.3 1-.5 1-1 1 1.1 1-2.2 1 0 1 .1 1 1.7 1-1 1-1.6 1 .8 1 .4 1-2 1 1.1 1 1.1 1 .5 1 .9 1-1.1 1 1.3 1-.5 1 .4 1 .8 1-2.4 1-.1 1 .4 1 .9 1 .1 1-2 1 2 1 2.2 1 .7 1 2.3 1 2.7 1-1.3 1-.3 1 1.1 1 1.3 1-.6 1 .7 1-2.4 1-.7 1-.5 1-2.7 1-.3 1 3 1-.5 1 .3 1-.1 1 .2 1-1.9 1-1.2 1 .7 1 .2 1-1.2 1 .4 1 .5 1-3.5 1 1.6 1-1.2 1-.6 1 .8 1 0 1-3.4 1-2.6 1 .1 1-.5 1-.1 1-2.2 1 4.7 1 .8 1-1.2 1-3.1 1 1.3 1 .4 1 .3 1 3 1-.4 1 .8 1-5 1 .1 1-2.6 1 1.7 1 3.4 1-2 1-.4 1 1.5 1-.1 1 .4 1 .8 1-3.7 1 .1 1 .4 1 1 1-.4 1-.5 1 1.2 1-1.7 1 0 1-1.2 1 1.4 1-.4 1-3.2 1 1.5 1 1.3 1-1 1-.9 1-.3 1-1.8 1 .9 1 0 1 1.2 1 .4 1-1.4 1-2.1 1-.3 1 2 1-1.7 1 2.2 1-1.7 1 .7 1-.8 1-.4 1-4.4 1-.4 1-2.5 1 3.8 1 .4 1 3.4 1-1 1-2.5 1-2.2 1-3.6 1-1.4 1 .3 1-2.7 1 3 1 2.4 1 3.7 1-.3 1-3.7 1 1.3 1-.8 1 .6 1 3.7 1 2.1 1 1.7 1 1.2 1-2.8 1-.2 1-1.4 1-2.1 1 1.7 1 3 1-.3 1-2.2 1-.9 1 1.5 1-.6 1 .4 1 .8 1-.6 1-4.5 1-1.8 1-2.1 1 .2 1 .3 1-.9 1-.8 1 .9 1-1.5 1-4.7 1 .6 1 2.5 1 1.4 1-.1 1 .1 1-1.8 1 0 1 1.7 1 1.3 1-2.5 1 1 1-3.2 1 3.5 1-3.2 1-.8 1 1.1 1 1.9 1-.5 1 1.6 1-2 1-4.8 1 .3 1 2.6 1 2.4 1 1 1-.9 1-3.4 1 .6 1-1.1 1 7.2 1-2.2 1-.3 1 1.3 1 1.4 1-1 1-2.2 1 2.3 1 2.8 1 1.8 1-.2 1 2.5 1 .6 1 4.2 1 1.3 1-.7 1-1.7 1-1.2 1-.8 1-1.3 1 4.6 1 2 1-.5 1 .3 1-.5 1 0 1 2.6 1 .1 1 4.8 1 3.4 1-1.8 1 4.4 1 10.2 1 3.9 1 4.4 1 3.9 1 2.2 1 7.3 1 2.9 1-1.3 1 4.3 1-8.4 1 2.3 1-1.6 1 1.5 1 1.2 1-4.3 1-6.7 1 2 1-.5 1-1.4 1-3.7 1 4.3 1 .1 1-1.9 1-3.1 1 2.4 1-1.4 1 4.1 1 2.9 1 3.4 1 2.5 1 2.9 1-6.9 1-.4 1 13.2 1 11.1 1 1.3 1 2.1 1 1.6M601 813.7l1-.9 1-11.8 1-12 1-5 1-1.4 1 6.6 1 1.3 1-7.3 1-6.7 1-3.8 1 2.8 1-5.1 1-1.1 1-9.2 1-12.2 1 1.8 1-2.7 1 .4 1-10.4 1-13.7 1-9.4 1 6.7 1-9.1 1-8.9 1 13.7 1-6.2 1-5 1 4.2 1-2.1 1 8.8 1-5.4 1-18.7 1-7.2 1 4.8 1-2 1 4.3 1 3.3 1 .2 1-7.6 1-4.4 1 2.9 1 1.7 1 4.5 1-5.4 1 1.5 1 .7 1 2 1-9 1-4.4 1-5.2 1-5.8 1-3.5 1 0 1 1.6 1-.3 1-6.8 1 2.5 1-1.6 1-1.3 1 3.3 1 5.2 1-5.2 1 .2 1 4.8 1-6.4 1-6.8 1 7.3 1 .4 1 6 1 2.2 1 2.6 1-7.7 1 6.4 1-3.3 1-1.3 1 .6 1 3.4 1-3.1 1-.1 1-.3 1 2.8 1 8.4 1-3.8 1 2.8 1 5.1 1-3.6 1 3.1 1 9 1 3.2 1-4.8 1 2.8 1-6.2 1 4.6 1 .5 1-2.1 1 1.7 1-2 1-2.7 1 6.4 1-1.3 1 .1 1 0 1 7.3 1 1.9 1-4.7 1-1 1 7.4 1-1.4 1 3.1 1 2.1 1 2.1 1 .8 1 4.2 1 1.9 1-3.7 1 .6 1 0 1-.5 1 3.7 1 3.2 1-1.1 1-2.8 1 1.4 1 3.7 1-1.8 1-1.5 1 1.7 1-4.2 1-2.9 1 7.9 1-2.2 1-3.1 1 2.3 1 3.2 1-6.8 1 4 1-2.1 1-3.7 1 6.7 1-2.9 1 1.1 1 .7 1-.3 1 5.8 1-.4 1-4.7 1 2.1 1 .6 1 2.2 1 2.6 1 1.8 1 .2 1-.1 1 .7 1 .2 1-5.4 1 3.5 1 0 1-1.6 1 .3 1 1.6 1-1 1 2 1 .2 1 .2 1-2.3 1 3.3 1 .9 1 .7 1 .1 1-2.8 1 5.2 1-8.6 1 7.5 1-4 1 2.5 1-.3 1-6.2 1-.8 1 1.5 1 1.1 1 3 1-5.4 1 2.5 1 2.4 1 1.2 1 3.3 1-2 1-2.3 1 1.5 1-2.4 1 1.3 1-.4 1-3.3 1 1.4 1 .9 1-1.5 1 2.2 1-.3 1-1"/>
<path d="M178 726.7l1-.6 1-1.6 1-.7 1-.2 1-.3 1 .1 1 .6 1 .3 1-.1 1 .5 1-.3 1-.1 1 .2 1 .2 1-.2 1 .7 1 .7 1-.4 1 .2 1-1 1-.1 1-.3 1-.2 1-.6 1 .9 1-.3 1-.4 1 0 1 .5 1-.4 1-1 1-.3 1-.2 1 1.4 1 .9 1-.3 1 1.7 1-1.6 1 .5 1 1 1 .1 1-.2 1-.2 1 2.5 1-.5 1 1.9 1 .4 1-1.5 1 1.1 1 .1 1-1.6 1 1.1 1 .5 1 .7 1-.3 1 1.4 1 1 1 .3 1-1 1 2.5 1-.2 1-.4 1-1.3 1-.7 1-1.4 1 0 1 1.9 1-1.6 1-2.1 1 .1 1-1.3 1 .1 1 0 1 1.5 1-.5 1 1.5 1-2.8 1-1.6 1 0 1-.7 1-.9 1 .6 1-.5 1-.1 1-1 1-1.8 1-.8 1-1.6 1-.7 1 .4 1-.8 1-2.1 1 .9 1-.3 1-1.3 1 .4 1 2.1 1-2 1-2.1 1 3 1-2.3 1-1.8 1-.7 1 .6 1 1.4 1-1 1-1.7 1-.2 1 .2 1 .8 1-2.5 1-.4 1-2.8 1-.3 1 .3 1-.6 1-.9 1 1.4 1 .1 1-.6 1-2 1 1.5 1-1.6 1-.6 1-1.2 1 .2 1-.1 1 .6 1-1 1-2.1 1 .2 1-.7 1 .6 1 1.7 1 1.7 1 1.3 1 .2 1 2.3 1-.1 1 1.3 1 .1 1 .7 1-.7 1 .5 1-2.7 1-.3 1-.9 1-.6 1 .4 1-.7 1-.1 1-2.1 1-1.7 1 1.3 1-1.1 1-2 1-1.8 1 .6 1 .2 1 .2 1 .4 1 1.3 1 .5 1-1.2 1-1.9 1-1.6 1-2 1 1.4 1-2 1 4.3 1-1.5 1-.5 1 .9 1-1.6 1-.7 1 2.2 1 1.4 1 1.3 1-.2 1-2.5 1 1.3 1 0 1-3.9 1 .2 1 1.6 1 1 1 3.1 1 .2 1-2.3 1 1.4 1 .2 1-.3 1 .8 1 1.1 1 1.1 1-.3 1-.8 1 .4 1 2 1-1 1-2.4 1 .6 1-.8 1-2.4 1 2 1-2.1 1-1.9 1-4.2 1 2.8 1 .6 1 2.4 1-.5 1-1 1-2.2 1 .3 1 .4 1-.8 1 1.2 1-5.1 1 2.4 1-1.7 1-1.9 1-2.4 1 1.9 1 5.6 1-.1 1-1.2 1-3.3 1-.6 1 3.6 1 .3 1 2.3 1 3.6 1 .8 1-.9 1-1.5 1-.1 1 2.8 1-.2 1-1.2 1-3.2 1-.5 1 .1 1-.4 1 .6 1-1.9 1 1 1-2.1 1-4.1 1-1.4 1-.3 1-4.2 1 3 1 1.2 1 0 1 3 1-1.8 1-4.8 1-1 1 .6 1-5.1 1 3 1 1.8 1-1.4 1-1.7 1-1.1 1-1.3 1-3.1 1-2.8 1-.2 1 .5 1 4.4 1 .1 1-4.4 1 4.4 1 1.7 1-2.6 1-2.6 1 2.7 1 3.7 1-1.8 1 2.2 1 .9 1 3.9 1 4.7 1-1.6 1 .2 1-2.9 1 4.8 1 1.1 1-2.2 1 1.4 1 4.6 1 1.6 1 1.3 1 3.6 1 1.8 1 3 1 .2 1-.8 1-2.3 1-1.9 1-1.9 1-1.1 1-1.6 1-1.1 1-.8 1-.4 1-3.3 1-.8 1-1.7 1-2.1 1-1.9 1-2.7 1-1.1 1-3.5 1 .5 1 1.9 1 0 1-.2 1-1.2 1-.1 1 1.1 1 5.1 1 7.9 1 8.6 1 7.7 1 9.9 1 2.7 1 .8 1-.2 1 .8 1-.2 1-1.4 1 .3 1 .2 1-1.5 1 2.9 1 1.2 1-1.5 1 1 1 1.8 1-1.2 1 4.1 1 3.3 1 5.2 1 3 1 2.8 1 7 1 2 1 5 1 3.3 1 5.2 1 4.5 1 6.6 1 7.5 1 3.9 1 7.3 1 4 1 4.8 1 3.3 1 5.1 1 2.7 1 3.1M585 813.7l1-.3 1-1.3 1-9.8 1-4.7 1-7.4 1-7.1 1-7.7 1-9.4 1-5.8 1-9.2 1-9.6 1-6.1 1-10.4 1-5.8 1-10.4 1-5.6 1-5.5 1-7.3 1-6.3 1-10 1-2.3 1-3.7 1-3.3 1-4 1-1.8 1-1.8 1-.5 1-5.7 1-.7M724 650.2l1 5.5 1-.1 1 2.4 1-.1 1-.7 1 1.5 1 1.9 1 3.1 1-1.6 1 .8 1 8.1 1-1.8 1-1.7 1 6 1-1.1 1 .2 1-1.4 1 3.1 1 .9 1-2.2 1 .9 1 1.9 1 1.5 1 3.8 1 .1 1 2 1 1.6 1-.9 1 .9 1 4.3 1-1.8 1 2.7 1-2.5 1 3.9 1-.8 1 1.1 1 2.4 1 1.7 1-.5 1 1.9 1 1 1-.3 1-.6 1 3.1 1-1.1 1 2.2 1 .4 1 1.9 1-5.9 1 2.1 1 3.2 1-1.1 1-2 1-1.7 1 4.7 1 2.6 1-2.7 1-.7 1 .7 1 .6 1-1.1 1-3 1 4 1 2.7 1 4.5 1-.6 1-4 1 2.5 1 2.6 1-1.3 1 2.9 1 3.9 1-3.2 1-.2 1-1.7 1 1.2 1-1.7"/>
<path d="M178 727.8l1-.3 1-.1 1-.3 1 1.6 1 .4 1-.4 1-.8 1 0 1 .7 1-.2 1 .5 1 .8 1 .1 1 .4 1 .5 1 .2 1-.2 1-.8 1-1.5 1 .6 1 1.5 1-1 1-1 1 .7 1 1.2 1 .3 1-.2 1-.8 1 .5 1-.4 1 0 1-.4 1-1.5 1 1.3 1 .2 1-.1 1 1.2 1 .4 1-.4 1-1 1-.1 1 .1 1 0 1-.2 1 .5 1 1.1 1 1.3 1 .8 1 1.4 1 1.2 1-1.2 1 .6 1 .9 1-.5 1 1.8 1-.4 1 .7 1 2.4 1-.5 1 .6 1-1.4 1-.6 1-1.3 1-.7 1-1.7 1 2.6 1 .2 1-1 1-.3 1 .7 1 .3 1-2.2 1 1 1 .7 1-.3 1-.7 1 .2 1 .2 1 .3 1-1.5 1-.4 1 .5 1-1.9 1 .1 1 2.1 1 .9 1-1 1-.8 1 .3 1-.8 1 2.3 1-3.1 1 2.3 1 3.3 1 1.3 1-3.8 1 1.4 1-1.8 1 0 1-1.1 1 .5 1-.8 1 .7 1-1.7 1-.5 1 .6 1-.9 1-1.6 1-4.7 1-.6 1 1.6 1-.5 1 .8 1-.9 1 .2 1 .7 1-1.1 1 1.4 1 1.7 1 2.3 1 .8 1 1.5 1-1.6 1-3.6 1-2.5 1-.4 1 2.1 1-2 1-1.5 1 2.7 1 2.3 1-.3 1-1 1 2.3 1 1.2 1-3.1 1-1.2 1-2.6 1-.2 1-1.5 1-.6 1 2.2 1 1 1-.3 1-2.7 1 1.1 1-1.3 1 2.1 1 1.9 1-1.2 1-.1 1-2.6 1-1 1-.7 1 .8 1-.1 1-.5 1 1 1-4.8 1 1.5 1-1 1 .4 1-2.5 1 .2 1 .1 1-3.6 1 1.1 1 3.2 1 2.6 1-2.4 1 1.1 1 .2 1 1.1 1-4.5 1 1.3 1 1.6 1-.4 1 6 1 2.1 1 3.1 1-3.2 1-1.9 1-.5 1-.1 1 2.6 1-.5 1-.8 1 .4 1-1.1 1-2.9 1 .1 1 2.8 1 2.2 1 .7 1-.5 1 1.8 1-3.4 1 1.1 1-.8 1 1.3 1 3.9 1-2.1 1-1.2 1 2.4 1-2.8 1-.3 1-4.7 1-2.9 1-2.5 1 .7 1 .9 1-2.1 1 4.5 1 2.1 1 3 1 1.5 1 1.7 1-3.9 1-1.8 1-2.1 1-.2 1-.4 1-.1 1-.8 1 1.4 1 1.4 1-2.6 1 2.8 1-.4 1-6.2 1 1.2 1 0 1 .3 1 .4 1-3.3 1-1 1 2.9 1-1.2 1-1.4 1 1.8 1 1.9 1-3.1 1-1 1 1.6 1 2.2 1 .5 1-.9 1 2.2 1-.5 1 .6 1 1.3 1 7.3 1 0 1 .6 1 2.3 1 .5 1-.5 1 1.9 1 .4 1-.8 1 2.8 1 2.4 1 .4 1-.6 1-1.8 1-1 1 3.5 1-1.9 1-1.7 1 1.9 1-5.6 1 3.7 1 1.8 1-5.9 1-.2 1-1.9 1-2.6 1-2.6 1 1.8 1-2.1 1 1.1 1 2.6 1 7 1-.5 1-1.6 1-4.6 1 3.9 1 3.7 1 7.6 1 5.4 1 4.7 1-2.9 1 5.6 1-2 1-.1 1 .1 1 4.4 1-1.7 1-3.4 1-.5 1 .9 1-.6 1 4.2 1 4.4 1 .9 1 9.4 1-.3 1 3 1-4.3 1 5.2 1 6.4 1 2.4 1-3.9 1-1.1 1 3.4 1-2.4 1 9 1 3.6 1 5.2 1-.5 1 2.6 1 1.8 1 3.4 1 1 1 2.8 1 2.5 1 4.5M511 813.7l1-.9 1 .9 1-1.6 1 1.6M603 813.7l1-1.5 1-4.8 1 .2 1-3.6 1-.8 1 1.6 1-9.7 1 3.6 1-8.6 1-9.9 1-1.2 1-10 1-3.1 1 9.8 1-1.7 1-5 1-4 1 5.2 1-10.5 1-8.1 1-4.5 1 8.6 1 2.5 1 1.7 1-6.3 1-1.4 1-4.5 1-.3 1-4.1 1-4.7 1 .4 1-9.4 1-10.8 1 2 1-13.9 1-11.1 1 .7 1-10.4 1-.6 1-11 1-4.7 1 7 1-2.7 1-1 1-7.8 1-7.4 1 3.3 1-1 1-3.9 1-2.1 1-.3 1-3.7M662 650.2l1 1.8 1 2.9 1-4.7M670 650.2l1 1.9 1 1.1 1 3.4 1-6.4M679 650.2l1 4.8 1 7.2 1-1.2 1-3.5 1-5.8 1-.3 1-1.2 1 2.4 1 6.5 1 1.5 1-3.4 1 1.5 1 4 1 5.3 1 2.3 1-2.2 1 0 1 1.9 1 1.7 1-2.2 1 .4 1 4 1 1.8 1-4.3 1 7.6 1-1.9 1 2.7 1-4.6 1 2.7 1-1.5 1-2 1 5.3 1 5.6 1-.1 1-.6 1 .2 1 4.2 1 1.6 1 2.4 1 5.6 1 .8 1-2.3 1 5.1 1-8.1 1 3.5 1-1.5 1 3 1-1.2 1-3.1 1 1.9 1-.7 1 1.1 1 1.5 1-9.9 1 2.2 1-.4 1 4.1 1-6.9 1 1.1 1-1 1-.9 1 3.6 1-4.7 1 3.3 1 .4 1 0 1 5.2 1 4.4 1 .5 1 .7 1 2.3 1-.5 1 1 1 1.6 1-4.1 1 3.9 1 .2 1 3.3 1-1.4 1 5.1 1-3.6 1-2.7 1 7.3 1 2.2 1-4 1 5 1-2.1 1 0 1-.7 1 1.3 1-1.7 1 3.2 1-1.2 1-2.1 1-2.6 1 2.9 1 4.2 1-2.1 1 4.7 1 2.9 1-3.6 1 3.1 1 1.8 1-1.8 1-3.4 1-1.8 1 6.9 1-6.7 1 4.3 1-6.5 1 3 1-1.8 1 2.1 1-.4 1-2.3 1 .4 1 .1 1 3.1 1 3.1 1-4.8 1 .1 1 .8"/>
<path d="M178 733.1l1 .2 1 .1 1 0 1 .8 1 .9 1 .2 1 .1 1 .4 1 .3 1 0 1 .6 1 .4 1 .6 1 1.2 1-.1 1 .2 1 .8 1-.7 1 .5 1 .2 1 .4 1 .6 1 .3 1 1.4 1-.1 1-.7 1 .2 1 .9 1 1.1 1-1.1 1 .2 1 .2 1 0 1 .8 1 .9 1-.6 1 .7 1 .3 1 0 1-.8 1 .8 1-.1 1 .5 1 1.3 1-.9 1 .8 1 .4 1 .2 1 1.1 1 .6 1-.9 1 .1 1 .6 1-.1 1 1.9 1 .5 1-.6 1 .6 1 0 1-1.2 1 0 1 .9 1 .2 1-1.8 1 2 1 0 1 2.5 1-.2 1 1.1 1 .9 1-2.2 1 .6 1-.5 1 2.4 1 .7 1-.9 1 1 1-.5 1 2 1-.1 1-.8 1 0 1 .2 1 .3 1-1.8 1 .7 1 2 1 3 1 .1 1-1.2 1 .9 1-.6 1-.9 1 1.4 1 .6 1-1.6 1 1.7 1-.9 1-.3 1 .6 1-1.4 1 2.9 1 1.6 1 .1 1 0 1 1.5 1 .4 1 .6 1-1 1 .1 1 .9 1-1.9 1-.4 1 .4 1-.4 1-.2 1-.1 1-.3 1-.6 1 .2 1-.5 1-.6 1-2.9 1-.6 1 1.1 1-.8 1 .4 1-1.6 1-1.4 1 1.2 1 1.7 1 1.7 1-.4 1 1.5 1 2.2 1 .4 1 .6 1-.4 1-1.3 1 1.4 1-1.1 1-1.3 1-2 1-1.4 1-1.1 1-.3 1-.9 1 1 1 .8 1-1.9 1 0 1-.1 1-1.9 1 .5 1-1.7 1-.1 1 1.4 1 .8 1-2.4 1-.7 1 1.8 1 3.9 1-5.1 1 2 1-.4 1 .2 1 .7 1-3.2 1 2.1 1 1.4 1-1.6 1 3.3 1 2.4 1-1.4 1-.6 1-.7 1 .9 1-.8 1-.2 1-.8 1 .9 1-1.9 1 1.4 1 .7 1-1.6 1-.1 1-.2 1-1.3 1 .5 1-1.3 1 .8 1 2.7 1 1.6 1 1.8 1-2.4 1 1.5 1 .6 1 2.4 1-.8 1 .1 1 1.4 1-4.6 1-.2 1 2.8 1-1.7 1-2.7 1-1.2 1-1.1 1-2.9 1 0 1 1.3 1 1.1 1-1.8 1 3.8 1-2.3 1 2.4 1 1.7 1-1.4 1-2 1-3.3 1 .5 1-.7 1-2 1 1.8 1 3.6 1-.4 1-3.2 1-1.3 1 1.5 1 1.3 1 .4 1-4.3 1-1.1 1 4.3 1-2.1 1 1.6 1 .6 1 2.5 1 1.5 1-1.4 1 3.3 1-1.1 1-1.2 1 5 1-.3 1 2.8 1 1.6 1 .3 1-.7 1-3.2 1-.8 1-.5 1 2.2 1 0 1-2.4 1 5.7 1-2.6 1 1.4 1 1.9 1-1.4 1 1.4 1 .2 1 2.7 1 .1 1-.5 1-.2 1 1.1 1 .1 1 1.2 1 1.9 1-2 1 4 1 2 1-1.1 1 2.5 1 1.7 1 .3 1 1 1-1.6 1 1.6 1 .1 1-.5 1 2.9 1 3.8 1 1.9 1 3.6 1 1.5 1 1.5 1 3.2 1 9 1 5 1 .3M625 813.7l1-10.7 1 1.1 1-1.9 1 1.5 1-5.4 1-5.3 1-1 1-13.4 1 1.7 1-13 1 2.6 1 3.8 1-8.4 1-8 1-6 1 3.6 1-1.7 1-6.2 1-2.4 1-5.5 1 .7 1-10.9 1-11.5 1 8.2 1-14.4 1-2.1 1-8 1-5.5 1-.9 1-5.2 1 .8 1-6.4 1-1.5 1-5.3 1-1.5 1 6.5 1 1.1 1 4.9 1-1.4 1-6.7 1-1.3 1-1 1-3.5 1 6.5 1 2.9 1 6.5 1 6 1-3.9 1 .5 1-8.4 1 3.2 1 1.6 1-2.6 1-.5 1-3 1 4.7 1 .6 1 2.4 1 6.8 1-10.8 1 6.9 1 1.8 1 5.1 1 7.4 1-1 1 .4 1-4.3 1 3.8 1 .7 1-5.9 1-2.3 1 7.2 1-5.7 1-.3 1 6.5 1 1.6 1 5.5 1-3.1 1-2.9 1-4 1 2.5 1-5.7 1 1.1 1 3.7 1 .4 1 2.4 1-2.1 1-4 1 3.3 1-1.3 1-4.5 1 4.2 1 3.6 1-4.5 1-2.9 1 9.3 1 1.6 1 1.6 1 6.1 1 4.5 1-.4 1-1.2 1 3.9 1-1.5 1 1.2 1 .2 1-2.6 1 1.6 1 1 1-.8 1-3.3 1 4.6 1-5.2 1-2 1 1.2 1 6 1-.5 1 1.7 1-6.4 1 3.2 1-.8 1 5.1 1 1.6 1-.7 1 3.2 1 .3 1-3.9 1 3.1 1 2.3 1-4.2 1 .2 1-2.6 1 2.7 1 2.5 1-.5 1-.5 1 7.6 1-7.1 1-2.8 1 1.5 1 .8 1-2.6 1 2.4 1 1.5 1-.7 1-.4 1 2.3 1-.1 1 6.3 1-4.3 1-2.7 1 .7 1 1.9 1 3.3 1-3.6 1-3.8 1 1.1 1-1.2 1 1.8 1-.4 1-.4 1-2.8 1 4.4 1-2.6 1 0 1 .1 1-.4 1 3.6 1 1.5 1-3 1-1.4 1 3.9 1-6.5 1 3.2 1 .1 1 1.9"/>
<path d="M178 729l1-.7 1-1.4 1 0 1-.6 1 .3 1-.2 1 .1 1 .5 1 1.2 1 .4 1-.3 1-.5 1 0 1 .1 1 1 1-1.3 1-.3 1-.9 1 .6 1 .7 1 1.1 1 .6 1 .6 1 .5 1-.3 1-.6 1-.5 1 1 1 1.5 1-.5 1-1.1 1 .2 1 .4 1 .7 1 .2 1 .6 1-.1 1 .1 1 .5 1-.9 1 .6 1 .5 1-1.3 1 1.3 1-.5 1 .9 1-.3 1-.3 1 3.5 1 .5 1-1.6 1 .9 1-.8 1 1.5 1 1.2 1 0 1 1 1 .6 1 .8 1 1.6 1-.3 1-.8 1-1.3 1-1.7 1 2.1 1 1 1 .3 1-.8 1 .1 1-.7 1-1 1-.6 1-.3 1 2.4 1 .3 1-.4 1-2.8 1-.8 1 .1 1 2.9 1 1.4 1-1.5 1-.4 1-.1 1-.3 1-1.9 1 .9 1 1.7 1 0 1 2.1 1 2.8 1 .6 1-.5 1-1.3 1-.6 1-1.5 1 2.4 1 .3 1-.2 1 1.7 1-1.4 1 .4 1 4.8 1 .1 1-1.4 1 .1 1-1.7 1 2.2 1-.8 1 .9 1-.5 1-1.6 1-2.3 1-1 1 2.4 1-.1 1-2.4 1-.2 1-2.4 1-2.4 1 0 1-.3 1-1.1 1-.5 1-.2 1-2.8 1-1.9 1 2 1 3.1 1-3.1 1 .1 1 2.6 1-1.4 1-1.4 1 3.4 1 .8 1-.6 1-.8 1 1.1 1 .4 1-.7 1 1.2 1 1.7 1-1 1 1.8 1-1 1 .7 1 0 1-2.2 1-3.6 1 3.8 1-4 1 .3 1 2.4 1-.6 1-.8 1 .3 1 0 1-4.7 1 1 1-.7 1 6.5 1-2.4 1-.1 1-3.7 1 .7 1 2.2 1 2 1-.5 1-.6 1-.5 1 1.4 1 .4 1 1.5 1-.4 1 .9 1-.4 1-1.3 1 2.1 1-1.8 1-1 1 2.5 1 2.1 1-.7 1 .8 1-1.7 1-1.3 1 .2 1-1.3 1-2.4 1 1.8 1-.1 1 .1 1-.4 1 2.5 1 4.3 1-.2 1-.1 1 1.6 1-3 1 2.1 1-1.6 1 1.2 1 4 1 .9 1-.7 1-4 1-2.6 1-1 1-.8 1 .3 1-1.9 1-2.6 1 .2 1 1.6 1 1 1-3.9 1 .4 1-1.9 1 2.4 1 1.2 1-.2 1 .3 1 .4 1 1.3 1-1.4 1 1.2 1-.6 1 .2 1-1.7 1 .5 1 1.2 1 1 1 2.9 1-.3 1 1.1 1 1 1 1.5 1 .8 1 2.1 1 1.6 1 0 1 .8 1-1.6 1 1.5 1 .7 1 1 1-.9 1-2.6 1-4.4 1 .1 1-.5 1-.2 1-1.9 1 .3 1 5.2 1-3.4 1 .6 1 1.5 1-1.2 1-.6 1 .8 1-.1 1-1.8 1-.4 1 2.3 1 3.9 1-3 1 1.6 1 .1 1 .6 1-2.3 1 1 1-1.5 1 .9 1 6.9 1-2.9 1-1.7 1-3.3 1 3.9 1 1.1 1 4.5 1 2.2 1 .3 1 2.4 1 .7 1 1.1 1-.1 1 3.9 1 0 1 4.6 1 9.5 1 3.3 1-.1 1 3.9 1 4.8 1 13.2 1 9.9 1-9.7 1 3.3 1-5.2 1 .4 1-5.6 1-4 1-.9 1 .7 1-2.8 1 7.3 1-2 1-4.2 1-.8 1-.6 1 2.7 1-4.6 1-.1 1 1 1-1.5 1 4.5 1 1.1 1 1.5 1 1.9 1-5.5 1-8.1 1 14.4 1 4.9 1 8.2 1 4.8M608 813.7l1-2.1 1-6.9 1 7.5 1-4.1 1-6.9 1-11.9 1-6.1 1-.7 1-12.3 1-1.9 1 .2 1-15.3 1 5.6 1 5 1-8.6 1-5.8 1 1.8 1-4 1-2.3 1-8.2 1-2 1-3.4 1-4.6 1 2.3 1-1.3 1-4.8 1-4.9 1-8.6 1-1.7 1-9.4 1-6.6 1-5.5 1-5.2 1 4.9 1-10.5 1 .1 1-2.8 1-4.6 1-4.2 1-9.3 1 1.1 1-5.5 1 1.4 1-.5 1-.9M682 650.2l1 1.5 1 4.6 1 4.5 1 3.2 1 .4 1-.9 1-5.8 1-.9 1 2.8 1 3.3 1-2 1-1.4 1-.6 1 1.9 1-2.8 1 .7 1-.6 1-3.5 1 8.9 1-.4 1-6.6 1 3.8 1 2.1 1-4.4 1 2.2 1 8.1 1-.6 1 5 1 .9 1 2.2 1 6.9 1 3.3 1 2.4 1 6.6 1-4.5 1 4.8 1-3.8 1-2.8 1 6.5 1-8.6 1-1.4 1 6.2 1 1.7 1-3.7 1 3.8 1 4.6 1-3.6 1 4.7 1 1.5 1-1.8 1 1.6 1-1.2 1 5 1-5 1 6.7 1 1.4 1-1.4 1 5.2 1-.1 1 .9 1 3.9 1-1.4 1-4.3 1 5.4 1 .5 1 2.1 1-.4 1 1.9 1 1.4 1 1.3 1-1.6 1 2.1 1 3.5 1-2.6 1-1.1 1-5.2 1 5.2 1-3.1 1 2.4 1 4.3 1-.7 1 .1 1-3.2 1-2.4 1 2.4 1 .7 1 2.7 1-6.3 1 0 1 4.7 1-.6 1-2.4 1-1.1 1 .3 1 2 1-.8 1 4.5 1-3.5 1-3.2 1 1.3 1-.4 1 1.1 1 3.1 1-1.2 1 .5 1 .6 1 2.9 1-.8 1-1.6 1-2.1 1 1.3 1-.2 1-.8 1-1.9 1-1.3 1 4.2 1-.4 1-.9 1 6.7"/>
<path d="M178 730.4l1-.8 1 .1 1-.2 1 .5 1 .2 1-.3 1-.2 1 .1 1-.1 1 .4 1-.1 1 .4 1 .1 1 .5 1 .8 1-.2 1 0 1-.4 1-.6 1-.3 1 .1 1 .3 1 .9 1 0 1-.6 1-.2 1-.8 1-.2 1 .5 1-1 1-.2 1 0 1-.7 1 0 1 .7 1-.8 1 1.3 1 .1 1 .1 1 3.9 1-.1 1-2 1-.4 1 .5 1 2 1-.2 1-.2 1-.9 1 2.2 1 .9 1-1.2 1-.7 1-.2 1 .6 1-.1 1-.1 1 .6 1 1.6 1-1.6 1-1.3 1-1 1-.7 1-1.6 1 .3 1-1.3 1 .3 1 2.5 1-2.8 1-1.6 1 .9 1 .9 1 1.6 1-1 1 1.5 1-1.6 1-.6 1 .4 1 .4 1 1.5 1 0 1 1.1 1 1.1 1 1.4 1 .2 1 .8 1-.2 1 0 1-.2 1-2.4 1 .6 1-1.4 1 1.3 1-.7 1-.6 1-1.3 1 .6 1-.8 1 2.5 1-1.1 1 .5 1 .7 1-.9 1 2 1 .4 1-.6 1 0 1 2.8 1-.7 1 .7 1-1 1 1.8 1 1.5 1 1.3 1-2.6 1 .1 1-.7 1-3.3 1 .5 1 .3 1 2.8 1-3.6 1-1.7 1 .1 1 1.6 1-1.3 1-.2 1-1 1-3.3 1 .3 1 1.5 1 .9 1 3.2 1-1.4 1 2.9 1 .5 1-.2 1 .9 1 1.4 1-3.8 1 4.4 1 2.6 1-1 1-.6 1-.6 1-1.5 1 .6 1 2.2 1 2.1 1 1.9 1-1.9 1-2.1 1-2.1 1 .1 1-1 1 .7 1-1.7 1 1.2 1-1.1 1-4.1 1 1.1 1 1.2 1-1.9 1-.3 1-.6 1 .7 1 .2 1 2.6 1-1.3 1-.6 1-3.1 1-3.5 1 .3 1 1.1 1 1.3 1 .9 1 .5 1-1.2 1 4.4 1-.5 1-.9 1 1 1 .5 1-1.8 1-.3 1 3.1 1 2.7 1-2.6 1 1.5 1-.7 1-1.8 1 2 1-2.7 1 .7 1-2.8 1 .8 1 1.3 1 1.2 1-3.4 1 5.3 1-.1 1 .6 1 1.1 1 .1 1 2.7 1 2.2 1-1.1 1-3.6 1-1.9 1-5 1 .5 1 1.3 1-1.4 1 1.5 1 1.3 1 1.1 1 .4 1-1.1 1-1.1 1 .6 1 .6 1-3.4 1-2.1 1-1.9 1-1.3 1-1.4 1 1.1 1-5.3 1 1.7 1-1.3 1 5.1 1-.4 1 1.5 1 2.8 1 2.5 1 1.7 1 .5 1-.5 1-.5 1 .4 1 1.7 1 .4 1-1.4 1-2 1 0 1 1.7 1-.1 1-1.5 1 1.3 1-2.5 1-.8 1-1.6 1 3.2 1 2 1 3.3 1-1.6 1-.1 1 .5 1-2.6 1 6.7 1 .7 1 1.9 1-1 1 .4 1-.6 1-1.6 1 4.7 1 .2 1 0 1 2.1 1 0 1 .5 1 .4 1-1.1 1 1.7 1 3.9 1-1.2 1-4 1-2.9 1 1.8 1 3 1-1.4 1-1 1 2.9 1 2.7 1 .4 1-2.3 1 1.3 1-1.2 1 6.1 1 1.3 1 3.6 1 1.5 1 6.2 1 2.9 1-5.1 1-6.2 1 6.7 1 14.9 1-2.4 1-2.1 1-3.4 1 3.1 1-3.7 1-9 1 2.9 1 4.8 1-4.2 1 5 1-6.3 1 2.4 1 1.8 1-3.6 1 2.1 1 2.1 1-.3 1-6.7 1 2.4 1 5.5 1 9.5 1 1.9 1 4.3 1 7.2 1 4.5 1 9.1 1-1.9 1 5M612 813.7l1-7.2 1 7.2 1-13 1-3.3 1-11.2 1-10.1 1-14.8 1-7.3 1-8.6 1-2.1 1-1 1-6.8 1-5.6 1-.4 1 .5 1-1 1-5.7 1-2.7 1-5.2 1 2.4 1 5.3 1-5.1 1 3.2 1 .4 1-3.1 1-.5 1-7.8 1-1.9 1 .6 1-3 1-9.8 1 3.1 1-5.7 1-5.5 1 1.2 1-2.2 1 3.1 1-4.6 1-3.1 1 2 1-6.2 1-6.8 1-3.7 1-1.6 1 1.9 1-3.8 1-2.2 1 6.1 1-1.2 1-1.3 1 1.5 1-1.6 1 5.8 1-3 1-2 1 5.4 1 4.8 1 1.1 1-3.5 1 1.1 1 9.8 1 .9 1 2.5 1-4.7 1 1 1-10.1 1-4.8 1 1.8 1 4 1 5.3 1-2.9 1-6.1 1 .6 1-9.3 1 4.7 1-6.5 1 1.4 1 3.8 1-.3 1 3.5 1-2.3 1-1.4 1 9.6 1-10.7 1 2.9 1 1.3 1 3.5 1-6.3 1-2.1 1 4.4 1 1.1 1-.6 1 6.7 1 5.7 1-.7 1-3.9 1 4 1 2 1 3 1-4.5 1 5.9 1-4.7 1 .5 1 4.6 1-1.4 1 3.3 1 .6 1 .5 1 7.2 1-4.7 1 4.6 1-4.6 1 5.3 1-1.1 1 .6 1 4.2 1 4 1-1.6 1 2.3 1 1.1 1-6 1 .9 1 3.4 1-.4 1 1.4 1-1.9 1 1 1 2.8 1 1.9 1-1.5 1 3.6 1-4.9 1-3.3 1 1.8 1-.2 1 4 1-2.1 1 .5 1-6.7 1 5.2 1-1.9 1-3.4 1 5.5 1 .7 1 1.9 1 1 1 3.7 1 2.3 1 3.4 1-.7 1 5 1-4.3 1-1.7 1 .4 1 2.3 1 .9 1 .3 1-2.4 1 1 1-3.2 1 5.1 1-2.4 1 3.3 1 1.3 1 .8 1-5.2 1-.5 1 .6 1-.5 1-4.8 1 1 1-.1 1-4 1 2.4 1 2.6 1 1.1 1 1 1 3.9 1-2.8 1-4.9 1 1.9 1 1.7 1-1.9 1 4.4 1-4.2 1-.7 1 .8 1 2.3 1 2.7"/>
<path d="M178 733.7l1 .5 1 .7 1 .8 1 .6 1 .3 1 .4 1 1.2 1 .7 1 .5 1 .7 1-.1 1 .6 1 .3 1 0 1 .6 1 .6 1-1 1-.1 1-.5 1 .7 1 .6 1 .6 1-.4 1 .9 1 .5 1-.9 1 1 1 1 1-.4 1-.3 1 .9 1 .3 1 .3 1 .6 1 .4 1 0 1 1.7 1-.2 1 .3 1 1.1 1 1.1 1-.2 1 .4 1 2 1-1 1 .9 1 .6 1 .4 1 3 1 .8 1 0 1-.1 1 .6 1 .7 1 1.3 1-.1 1 .8 1 .8 1-.3 1-.3 1 .2 1 .1 1-.3 1-.3 1 1.3 1 .6 1 .7 1-.3 1-.9 1 .4 1-1 1 .8 1 .9 1 1.8 1 1 1-.3 1 .2 1-.1 1 1.9 1-1.2 1-.1 1 1.1 1-.2 1-.3 1 .8 1 1.1 1 .3 1 1.3 1 0 1 .1 1 0 1-.5 1 .6 1-.8 1 1.2 1-1.2 1 .8 1-.2 1-.5 1 .6 1 .4 1-.4 1 .3 1-.6 1-.7 1 .1 1 .2 1-.1 1 .4 1-.8 1-1.7 1 .3 1-.1 1-.5 1-1.7 1 .9 1-.1 1 1 1 .9 1-.7 1-.3 1-.5 1-2.1 1-.7 1 1.1 1-1.4 1 .3 1-1.4 1 1.7 1 0 1 .8 1 1.1 1-.8 1 1.2 1 1.3 1 1 1-1.5 1 .7 1 .5 1 1.7 1-.9 1-.4 1-.1 1-.3 1-1.5 1-.4 1 1.2 1 .6 1-1.3 1 .9 1 .3 1-.5 1 .2 1-.5 1 .7 1-1.1 1-2.1 1 2.2 1-.6 1-1.2 1 .6 1 .3 1-1.3 1 1.3 1-.4 1-.6 1 .6 1 0 1 .1 1-.4 1 1 1-.8 1-.5 1-1.7 1 .8 1-1.2 1 2.3 1 0 1-1 1-.8 1 1.3 1 2 1 .1 1 1.1 1 .5 1 .3 1-1 1-2.1 1-.3 1-.3 1 .2 1 1.3 1 .3 1 1.3 1-.1 1 .8 1 1.3 1 1.3 1 .2 1-.2 1 0 1 .4 1 .3 1 1.4 1 2 1-.9 1-1.2 1 .5 1-1.3 1 1.5 1 1.2 1-2.6 1 1.4 1-.8 1-1.1 1-.1 1 1.9 1-.7 1 .3 1 .7 1-.9 1-.2 1-1.1 1-.7 1-2.9 1 .4 1 1.8 1-1.5 1-.6 1 3.5 1-.2 1 2.9 1 .4 1 .2 1 .1 1 .4 1 .2 1-3 1 3.1 1-2.1 1 2.2 1-2 1 3.5 1-1.1 1 .8 1 1.5 1-1.4 1 .6 1-.3 1-1.5 1 .1 1 1.8 1 1.5 1-1.7 1 .2 1 1 1 .3 1 .6 1-.5 1 1.5 1 1.7 1 .9 1 0 1-.3 1-.8 1 .5 1-2.2 1-3.5 1-1.3 1 .5 1-.5 1 2 1 3.2 1-1.4 1 .7 1-.1 1-1.9 1 2.5 1 .1 1 .4 1-.5 1 2 1 2.1 1 4.1 1 2.8 1 2.2 1 2.5 1 4.1 1 10 1 2.6M615 813.7l1-3 1-1 1-6.4 1-1 1-1.1 1-2.9 1-2.6 1-4.2 1-16.4 1-10 1-3 1-4.9 1-3.2 1-9.1 1-.2 1-1.4 1 .8 1-12.8 1 2.7 1-6.6 1 2.5 1-15.4 1-1.6 1-8.4 1-4 1-3.5 1-.7 1 2.2 1-.8 1-2.8 1-10.7 1 .2 1-5.8 1-12.1 1-.2 1-6.4 1 .6 1-2.2 1-5.2 1-.7 1-2.2M659 650.2l1 .9 1 0 1-.9 1 .5 1-.5M669 650.2l1 2.4 1 4.8 1 7.9 1 3.8 1-1.8 1 .6 1 2.6 1-4.3 1-8.8 1 11.8 1 6.9 1-4.4 1-4.9 1-2.8 1 4.8 1 2.6 1-1.1 1-2.2 1 1.2 1-4.7 1 3.7 1-2.8 1 1.6 1 1.9 1-.3 1-2.6 1 7.5 1-.9 1-1.8 1 2.8 1-4.9 1-1.8 1-3 1 1.6 1 5.5 1 1.4 1 .7 1 6.8 1-1.4 1-.6 1 1.7 1-5.1 1 6.9 1 1.1 1-.3 1 2.8 1 1.6 1 4.2 1 4.7 1 1 1 4.6 1-3.8 1 5.1 1 1.4 1 2.3 1-1.1 1-.6 1-3.7 1-.4 1-4.5 1 2.4 1 1.1 1 .8 1 2.8 1 6.2 1-1 1 .2 1-1.4 1 3.3 1 3.3 1-3.1 1-3.5 1 1.3 1 .9 1-.4 1 .2 1 5.5 1 3.5 1 0 1-.6 1 .3 1 1.6 1-.3 1 2.2 1 .8 1-3 1 1 1 7.3 1-5 1 4.2 1 .6 1 3.8 1-5.6 1 4 1-2.3 1-1.9 1-1.9 1 6.8 1-3.5 1-.9 1-1.6 1 2.7 1 1.2 1 1.3 1-6.3 1 4.1 1 2.5 1-2.6 1 1.3 1 .5 1 4 1-4.9 1 3.2 1-1.4 1 2.3 1 .1 1 .4 1-2.3 1 1.2 1 2.5 1 5.1 1-8.4 1 5.7 1 1.3 1-3 1-1.4 1 2 1-.2 1-.3 1 2.3 1-1.9 1-.2"/>
<path d="M178 729.6l1-1 1-1 1 .6 1 0 1-.8 1 .8 1 .8 1 .7 1 .5 1-.8 1 1.5 1 0 1-.1 1-.2 1 .4 1 0 1 .6 1 .1 1-.7 1 .1 1 .9 1 1 1 .2 1-.1 1 .2 1-.7 1 .7 1-1.6 1 .7 1-.3 1-.2 1 .3 1-.1 1 1.7 1-.5 1-1.9 1 .6 1-.2 1-.6 1 .9 1 1.5 1-.7 1-.3 1 .9 1-.3 1-.7 1 1.5 1-.8 1 1.5 1 .7 1-.1 1 1.5 1 1.3 1 .9 1 1.5 1-.4 1 2.5 1 1.3 1-1.6 1-.7 1 .2 1 1.5 1-1.6 1-1.3 1-.3 1 2.2 1 1.2 1-1 1 .8 1 .6 1-.6 1 1.3 1 .3 1 2.2 1 1.2 1-.9 1 .8 1-1.4 1 1.1 1 .5 1 .4 1-.5 1-.2 1-.5 1-.8 1 .3 1 .3 1 1.4 1 1.4 1 1.7 1-.6 1-.6 1 .5 1-1.6 1 .3 1 0 1 .1 1-.9 1-2 1 0 1 .6 1 .1 1 2.5 1-.7 1-.4 1-1.2 1-.1 1 0 1-.9 1-.6 1 2.3 1-2.1 1-.1 1 .6 1 0 1 1.1 1-1.6 1-1.7 1-2.8 1 .9 1-.7 1 0 1-1.9 1 .5 1 1 1-1.5 1-2.8 1 1 1 1.2 1 2.9 1-.3 1-1.6 1-1 1 .8 1-.5 1-.3 1 .3 1-1.2 1 1 1-.8 1 .6 1-.2 1 2.1 1 1.3 1-1.3 1-1 1-.9 1 .8 1-.2 1 0 1-1.2 1-2.2 1 1.4 1-.4 1-3 1 1.4 1-2.3 1 1 1-1.1 1 2.7 1 .1 1 .8 1-.6 1-.6 1-.1 1-1 1 2.6 1-.1 1 2.3 1 3.2 1 1.2 1 1 1 .2 1 1.3 1-2.6 1 2.8 1-.9 1-.1 1-2 1 3.1 1 .6 1 2.4 1-1.7 1-.5 1 .9 1-.9 1 1.6 1-1.1 1-2 1-4.3 1 .7 1-1.1 1 1.9 1-1.8 1 2.7 1-1 1 2.2 1-.6 1-2.7 1-2.9 1 .1 1 2.3 1-1.9 1 3.5 1-1.3 1 1.4 1-1.1 1-.4 1-2.1 1-.7 1 2.7 1-1.9 1-1.1 1-1.8 1-1.5 1-.9 1-1.1 1 .1 1-1.1 1 .2 1-1.3 1-1.5 1-.8 1 0 1 .7 1 .7 1-1.3 1 3.6 1 1.4 1 2.6 1 .7 1 1.5 1 .4 1 4.1 1-3.7 1-.4 1 .7 1 1.6 1 3 1-.1 1-1.9 1-2.4 1 1.1 1-.4 1-.3 1 2.3 1-2.5 1 .3 1-.4 1-4.7 1 1.5 1-1.5 1 0 1 1.2 1 1.7 1-.6 1 1.5 1 .2 1 4.4 1 2.7 1 2.5 1-2.8 1 2.9 1-.8 1 1.9 1 1 1 .6 1 .3 1-1.6 1-1.5 1-1.2 1 2.5 1-1.4 1-.2 1 1.2 1 4.6 1-.8 1 .2 1 2.2 1 2.9 1-3.1 1 1.9 1 4.7 1 1.8 1 4.4 1-2 1 2.4 1-4.2 1 7.3 1 3.8 1-1.3 1 3.8 1 1.1 1 4.1 1 2.6 1 6.4 1-4.6 1 14.2 1 5.8 1 1.6 1-1.1 1-2 1 4.9 1-6.5 1-9.1 1-1.4 1-7 1-1.6 1 1.8 1-6.9 1 4.5 1 0 1 3 1 2.1 1-.1 1 4 1-1 1 .1 1-1.4 1-7.5 1-1.4 1-1.3 1-4.6 1 3.3 1 7.6 1 10.3 1 5.5 1 6 1 1.7 1 1.1 1-3.9 1 4.3M513 813.7l1-2.7 1 2.7M608 813.7l1-3.3 1-1.1 1-6 1 1.9 1-3.6 1-17.4 1-11 1-1.9 1-8 1-8.5 1 2.2 1-8.1 1-4.6 1-4.6 1-9 1-4.6 1 6 1-2 1-10.9 1 1.9 1-6.4 1 .8 1 .7 1 8 1 1.8 1-3.3 1-13 1-2.5 1-1.2 1 8.6 1-4.1 1-2.9 1-.1 1-8.1 1-2.5 1 1 1 3.5 1-4.1 1-6.5 1-.3 1-8.7 1-1.3 1 3.3 1-12.4 1 1.7 1-2.8 1-5.4 1-3.5 1 2.8 1-.4 1-8 1 4 1 .7 1 3.2 1 2.8 1-2.6 1-4.7 1-1.8 1-4.4 1 3.2 1 5.8 1 .7 1 8.9 1 1.1 1 6.8 1 2.9 1 3.8 1 1 1 3.8 1-6.6 1 5.2 1 5.5 1 .5 1-5.5 1-.4 1 4.8 1-5.1 1 9.3 1-4.8 1-.2 1 2.2 1 .8 1-1.6 1 2.4 1-1.3 1 1.7 1 3.5 1 1.8 1 3.7 1 1.1 1-3.4 1 .7 1-5.8 1 7.8 1 7.1 1-3.9 1-1.9 1-4.2 1 3.5 1-1.4 1-2.7 1 1.3 1-.5 1-1.9 1 3.3 1 1.7 1-5.2 1-1.2 1 3.1 1-7.1 1 4.4 1 .2 1 2.6 1 1.5 1-.9 1 2.8 1-3.5 1-.7 1 .5 1 2.8 1 1.4 1 .5 1-1.5 1-.4 1-2.6 1 1.8 1-1.7 1 1.5 1 .2 1 2.8 1 1.3 1-.8 1-1.2 1 3.2 1-2.4 1 6.8 1-1 1-1.4 1 0 1 7.1 1-2.5 1 2.3 1-5.1 1-.6 1 .7 1 3.3 1 1.4 1 1.1 1 .3 1 1.6 1 1.6 1-3.1 1-.7 1-1.1 1 4.6 1-5 1 2.7 1 2.7 1-1.6 1-3.8 1 3.7 1-.2 1-2.4 1 1 1 2.2 1-.9 1 .2 1-4.1 1-2.1 1 5 1 3.2 1 2.4 1-4.3 1-.6 1 1.3 1-.6 1-1 1 .3 1 .8 1-6 1 7 1-1.1 1-.9 1-1.6 1-1.1 1-.6 1-2.2 1 .6 1-4.7 1 3 1-1.4 1-.1 1-5.1"/>
<path d="M178 731.3l1-.5 1-.4 1 1 1 0 1 1.1 1 .8 1-.8 1 .4 1 0 1 .5 1 1 1-.4 1 .3 1 1.4 1 .7 1 0 1 0 1 .1 1 .1 1-.7 1 .1 1 .7 1 .2 1 .1 1 .2 1-.7 1 0 1 1.5 1 .9 1-.1 1-.2 1 .6 1-.7 1 1.2 1 .6 1 .6 1 1.8 1-.2 1-.8 1 .7 1 .9 1-.2 1 .3 1 1.2 1-.2 1 1.3 1 1 1 .5 1 .4 1 2 1 .3 1 .9 1 2.3 1 .7 1-1.3 1-.5 1-.4 1 1.3 1-1.5 1 .4 1-.8 1 .5 1 0 1 1.2 1 .3 1 0 1-.2 1-2.1 1 .8 1 .7 1-.9 1 2 1 .6 1 1.1 1 1.2 1 .5 1-.6 1-.6 1 .9 1-1.3 1-2 1 1.9 1-.3 1-1.2 1 1.2 1 3.1 1 2.1 1 2.2 1 0 1-.6 1-.6 1-1.8 1 .9 1 1.4 1-.1 1-.6 1 2.3 1-2.3 1-1.9 1 1.8 1-.8 1 1.8 1 .2 1-1.8 1-.2 1-1.1 1 2.2 1-1.3 1-.3 1 1.1 1 2 1-.5 1 .4 1-.5 1-1.5 1-1.5 1-.1 1 2.2 1 .4 1-2 1 .5 1 1.3 1-.5 1-.7 1 1.1 1 .1 1 .4 1-3.3 1 .7 1-1.7 1 3.3 1-.6 1 1.5 1 .1 1 3.6 1 .4 1-2.9 1-.1 1-1.4 1 .3 1 .3 1 .9 1-.7 1 1 1-1.8 1-1.8 1-.3 1 .8 1 .3 1 .3 1 .3 1-.7 1 0 1-4.1 1 .9 1-2 1-2.3 1 1.3 1 1.5 1-1.9 1 1 1 .5 1-2.1 1-.9 1 1 1-.9 1 2.5 1 .1 1 1.3 1 .4 1 .5 1 .2 1-2.9 1-2 1 0 1 .9 1-1.7 1-.3 1 .7 1-1.1 1 .4 1 .2 1 3.6 1-.6 1 1.7 1 .6 1 1.1 1 .8 1-.6 1-.6 1-.5 1 1.4 1-.1 1-.5 1-.9 1-1.6 1 .1 1-3.7 1 2.1 1-3 1-2 1-.8 1 .1 1 .2 1 2.3 1 1.3 1-2 1 .7 1-2.5 1-1.9 1 2.4 1-1.7 1-.8 1 .3 1 .9 1-.2 1 1.4 1-1.1 1-1.4 1-1.8 1 .2 1-2.1 1 1.5 1-1.1 1 2 1-.8 1-.5 1 1.7 1-1.4 1 1.8 1 1.2 1 1.2 1-.8 1 1.7 1-2.8 1-3.9 1-1.6 1 .7 1-4.8 1 2.6 1 .1 1 2.5 1 .5 1 1.5 1 3.9 1-.9 1-2 1 .3 1 1.4 1-3 1-2 1 1.5 1-1.2 1 1.1 1 2.6 1-.3 1-1 1 3.3 1 1.5 1-2.6 1 .1 1 1.5 1 .8 1 1 1-1.8 1 0 1-2.6 1 2.9 1 3.7 1-.7 1-1.4 1 3.8 1 7.1 1-4.3 1 .1 1-1.9 1-2.1 1 3.7 1-1.7 1-1.5 1 .7 1 2.6 1 .3 1 2.5 1-2.5 1 2.6 1 4.9 1 2.1 1 3.7 1 1.9 1 7.8 1 4.4 1 .9 1 1.8 1 .2 1 4 1 8 1 12.6 1-2.5 1-4.5 1 .6 1 2.1 1 5.6 1-1.1 1-8.3 1-2.8 1-4.2 1-3.2 1 4.4 1 10.4 1-8.1 1-1.8 1 2.9 1 2.7 1 0 1-6.5 1-3.5 1 6.5 1 7.4 1-8.3 1 .4 1-8.6 1 3 1 3.8 1 6.8 1 1 1 4.6 1 3.5 1 .3M613 813.7l1-3.6 1-12.6 1-3 1-10.4 1 2.6 1 1 1-5.4 1 3 1 2.5 1-11.2 1-3.7 1-7.6 1 .1 1 7 1-.4 1-10.1 1-2.3 1-7.5 1-3 1 4.5 1-12.2 1-6 1-8.6 1 .7 1-7.8 1 7 1-6 1 .1 1-3.5 1-5.8 1 6.4 1 .4 1-8.3 1-4.3 1-8 1-4.9 1-7.1 1 .7 1-3.1 1-2.4 1-2.9 1 2.4 1-3.4 1 1.3 1-2.4 1 .4 1 3.9 1-.4 1-3.8 1 4.1 1 .7 1-5.8 1-7.8 1-6.7 1 5.2 1 5.3 1 .8 1 .2 1 2.7 1 .4 1 2 1-.1 1-2.6 1-2.3 1 .3 1-1.4 1 5.6 1-3.9 1 3.7 1-1.6 1-2.2 1 .5 1 5.2 1-5.7 1 2.7 1-6.6 1 12.1 1-3.3 1-9.3 1 8.6 1-2.3 1-8.3 1 2.6 1-1.1 1 3.2 1 2.8 1 2.9 1-2.1 1 2.3 1 1.1 1-.3 1 2.2 1 2.2 1-3 1 2.1 1 1.2 1 3.3 1 1.2 1-1 1 1.5 1 4.8 1 3.3 1 7.8 1 5.6 1 1.6 1-.7 1-6.8 1 4.4 1 .3 1 2 1-3.9 1 1 1 5.2 1 .4 1-1.2 1 1.9 1-2.7 1 6.5 1 2.6 1-5.1 1 4.2 1 1.2 1 2.9 1-5.2 1 5.6 1-.4 1-.7 1-.7 1-1.3 1 2.2 1-3 1 1.7 1-1.4 1-1.3 1 2.3 1 2.5 1 3.1 1 2.1 1-1.5 1 1.5 1 .6 1 .3 1 2.1 1-.4 1 1 1 0 1 1.3 1 .1 1 .3 1-1.3 1 1.5 1-2.7 1 .2 1-1.5 1-2.2 1 4.1 1-.7 1-.6 1 2.9 1-4.2 1-.2 1 .3 1 1.1 1-2.9 1 4 1-2.4 1-2.9 1-.8 1-.3 1 2.2 1-.2 1-1.1 1 1.7 1 3.1 1 .5 1-1.8 1 2.7 1-1 1-.3 1-.5 1-3.2 1-.8 1 4.3 1-1 1 .3 1 .8 1 3.8 1-5.4"/>
<path d="M178 730.3l1-.7 1-.4 1 1 1 1.3 1 .6 1 0 1 .3 1 .5 1 .7 1 .5 1 0 1 .1 1 .8 1 .5 1 .1 1-.1 1 .6 1-.6 1-.2 1-.6 1-.2 1-.4 1 1.1 1 .6 1-.2 1-.2 1-.3 1-.5 1 1.1 1-.3 1-.1 1 .1 1 .9 1 .2 1-.9 1 2.2 1-.2 1-.1 1 1 1-.2 1 .2 1-.7 1 1.1 1 1.2 1-1.4 1 1 1 1.1 1 .6 1 2 1 1 1-.5 1-.9 1 1.3 1 .7 1 2.4 1-1.9 1 .2 1 .1 1-.2 1 .1 1 .5 1 .5 1-.5 1 .4 1 0 1 .4 1 1.6 1-1.3 1 .5 1-1 1-.2 1-.9 1 1.2 1 2.3 1 .4 1 .2 1-.2 1 .7 1 2.4 1 .6 1-.4 1 2.3 1 .2 1-1.2 1 .2 1-.5 1 .4 1 .2 1 .7 1 .1 1 0 1-.6 1-1.4 1 1.3 1-1.4 1 .2 1 .8 1 2.3 1-2.8 1 0 1-.8 1-1.2 1 3.2 1-3 1-1.2 1-.3 1 .9 1 0 1-1.7 1-2.6 1-1.7 1-1 1 1.5 1 1.2 1 .8 1-.7 1-.5 1-.9 1 .5 1 .4 1-.7 1 .2 1-2.6 1-2.3 1-.4 1 .2 1-2 1 .9 1 1.6 1-1 1 1.3 1 1.4 1-3.2 1 2.8 1 1.5 1-1.6 1-.9 1 1.5 1-2.3 1 1.8 1 1 1-.2 1 .4 1-.6 1-1.4 1-.1 1-.1 1 1.7 1 .9 1 .2 1-.3 1-2.8 1-1.1 1 .1 1 2 1 .5 1-4.1 1 1.7 1 0 1-.9 1-.1 1-.4 1-.2 1 2.5 1-2.8 1 1.4 1 1.2 1-1 1-1 1-1.8 1-.8 1 .3 1 1.5 1-2.7 1 1.7 1 2.5 1 2.3 1 .2 1 .2 1 1.1 1 .5 1-1.2 1-.8 1-.6 1 .7 1-.1 1 1.3 1 .4 1-.8 1 .8 1 .4 1 3 1 1.3 1 1.4 1 2.8 1 2.9 1-1 1-1.7 1-1.6 1-1.2 1-.1 1 .7 1-1.4 1-2.5 1 1.9 1-3.3 1-5.3 1-1.7 1-1.9 1 3.9 1-3.1 1-4.4 1-3.5 1-.1 1 1.6 1 1.6 1 .2 1-.4 1-2.4 1 1.9 1-1.8 1 .8 1-1.6 1-.1 1-.5 1 .3 1-1.2 1 1.7 1-3 1-1.2 1 1 1-.1 1 1.2 1-.1 1-2.2 1 .7 1 1 1 .8 1-1.8 1 .5 1 4.3 1 1.2 1 .2 1 1.3 1 1.4 1-1.4 1 0 1 1.6 1 2.3 1-2.9 1-1.6 1 3.1 1-.9 1 0 1 1.4 1-.6 1 2 1 .9 1-.5 1 2.5 1 .2 1 .8 1 2.3 1-2 1 1.7 1 2.1 1 .7 1 3.3 1-3.8 1-.5 1-3.5 1 2 1 3.8 1-.8 1-4.4 1 4.9 1-.2 1 .9 1-.1 1 1.2 1 .1 1 2.5 1 4.4 1 4.7 1 .3 1 1 1 .2 1 3.3 1 4.6 1 1 1 4.7 1 .7 1 .8 1 5.4 1-2.9 1 7.1 1 1 1 1.6 1 4.6 1 7.5 1-3.2 1-4.3 1 3.1 1-9.4 1-3.8 1-14.3 1 7.8 1-6.3 1 .7 1 3.2 1 1.4 1 1.2 1 4.3 1-4.6 1 3.1 1-3 1 3.8 1 12.6 1 .5 1 6.4 1-.2 1 8.2 1-4.5 1 7.9 1 1.2M620 813.7l1-5.6 1 3.4 1 2.2 1-5.6 1-5.6 1-3.2 1-2.3 1-8.8 1 .1 1-14.8 1-9.1 1-6.2 1-1.6 1-8.9 1-7.5 1-20.7 1 1.3 1 3.9 1-10.4 1 .8 1 .8 1-6.1 1-4.4 1-5.1 1 5.7 1-1.4 1-1.8 1-8.9 1 1.5 1-.5 1-12.2 1-2.6 1-11.8 1-1.5 1-6.1 1-4.2 1-6.3M660 650.2l1 6.1 1-2.6 1 .7 1-4.2M671 650.2l1 1.3 1 7.4 1-8.7 1 .3 1-.3 1 0 1 4.4 1 5.6 1-2.5 1 8.6 1 2.8 1-12.2 1-3.4 1-.1 1 3.1 1-4.2 1-2.1M692 650.2l1 7.6 1-7.6 1 4.9 1 2.1 1 3 1-10 1 8 1-1.7 1-6.3M705 650.2l1 5.5 1-5.5 1 3.8 1 3.8 1 1.7 1 9.1 1 5.8 1-.5 1-3.2 1 1.2 1-.8 1-1.8 1 1.2 1 1.8 1 7.3 1-4.8 1 9.6 1 .8 1 1.6 1 5.1 1 2.1 1 .7 1 3.9 1 .9 1-.1 1-8.1 1 .2 1 1.6 1 5.6 1-2 1-1.3 1-4.6 1 .9 1-2.6 1 .7 1-3.5 1-.1 1 2.2 1-2.3 1 3.3 1-.1 1 .8 1 9.7 1-5.2 1 2 1 2.6 1-.4 1 2.8 1 0 1 .8 1 1.1 1-3.1 1 3.2 1 6.5 1-1 1 2.9 1-1.4 1-4.7 1-.1 1-2.5 1 3.6 1 .8 1-3.3 1 5.8 1 4.5 1-1.5 1 1.7 1-2.6 1 3.1 1 1.3 1 4.6 1 .3 1-.7 1-1.6 1 .3 1 2.5 1 .5 1-3.2 1 .2 1 .4 1 1 1 3.2 1-1 1-4.6 1 .1 1-2.4 1 3 1 2.8 1-.2 1-1 1-.3 1 1.1 1 3.7 1 1.3 1-2.5 1-2.4"/>
<path d="M178 729.6l1 .2 1-1.8 1 .5 1 0 1 .4 1 .8 1 0 1 .9 1 .8 1 .1 1 .4 1-.2 1 1.2 1 .5 1 .5 1 .1 1 .3 1-.2 1-.1 1 .2 1-.5 1-.6 1 0 1 .1 1 .2 1-.4 1-.5 1-.2 1-.3 1 1.3 1 .5 1-.4 1-.2 1 .9 1 .7 1 .1 1 1.2 1 1.1 1 .6 1-.2 1 .1 1 .2 1 .6 1 2 1-.1 1 .8 1 1 1 .2 1 2.5 1 2.4 1-.9 1 1.5 1-.3 1 1.2 1-.9 1 .8 1 .9 1 .6 1-.6 1-1 1 1.4 1 .3 1-1.7 1 .6 1-.3 1 .6 1-.1 1 .4 1 .6 1-.2 1-1 1-.3 1 .3 1 1.2 1 1.5 1-.6 1-.3 1 1 1 1 1-.5 1 1 1 .3 1 .7 1-.2 1 .3 1 1.6 1-.4 1 .5 1-.3 1 .5 1 0 1-1.8 1 .3 1-2.4 1 .6 1-2 1-.2 1-1.4 1-2.2 1 0 1-1.5 1-.7 1 4.1 1-1.2 1 1.8 1 .2 1 .6 1-3 1 .8 1 1.6 1-1 1-.3 1 .2 1-.7 1-1.8 1 .6 1-1.7 1 .1 1-1.3 1 .4 1 .1 1 1.2 1-.2 1-.3 1-.8 1-1.3 1 1.9 1 0 1 1.6 1 1.8 1-1.6 1-.4 1-1.9 1 3.2 1 2.8 1-.1 1 .8 1 .1 1-1.5 1-.2 1 .9 1-.4 1-.8 1-.1 1 .1 1 1.2 1-1 1 0 1 .3 1-1.1 1 .6 1 1.9 1-2 1-.8 1-3.4 1-.4 1-.9 1 3.2 1 .3 1-1.5 1 1.4 1 2.7 1-3.9 1 .2 1 1.5 1-3.9 1 2.5 1 1 1-.2 1-.2 1 1 1-.2 1-1 1-.9 1 .9 1 2.2 1-1.8 1 1.4 1 2.9 1 1.9 1-4.4 1 2.4 1-4.1 1-.9 1-3.9 1 .9 1 .8 1-1.3 1 .5 1-.5 1-.7 1-.1 1-1.2 1 1.1 1 1.1 1 .1 1-.8 1-1.4 1 3.5 1-3.9 1-2.6 1 .9 1-2.5 1 1.3 1 .9 1-2.6 1 0 1 .4 1-2.3 1-2.6 1 5.1 1 1.2 1-.9 1 1.8 1-.7 1-.5 1-.5 1 1.5 1-.9 1 .4 1 2.1 1-1.5 1 2.8 1-.6 1-3.6 1 2.8 1-1.1 1 .6 1-.9 1 0 1 0 1 .4 1-1.5 1-.5 1-.9 1 1.4 1 .3 1-2.3 1 0 1-.6 1 2.3 1 .5 1 2.5 1-2.5 1 1 1 1.9 1-2.8 1 3.1 1-.2 1 2 1-3.4 1 2.1 1-1 1-.8 1-.3 1 4.4 1 2.2 1 .5 1 2.4 1 .4 1 .3 1-3.2 1 3.4 1-2.6 1-3.4 1-1.2 1-.5 1-2.1 1 .9 1 .7 1-2.1 1-2.1 1-.1 1-1.2 1 .5 1 .3 1-1 1 2.2 1 2.4 1 1.7 1-1.5 1-.5 1-2.6 1-1.9 1 1.2 1 .7 1 .6 1-5.3 1 8.7 1 4.1 1 1.9 1-4.7 1 .1 1 5.1 1 5 1 4.2 1 6.1 1 8.2 1-2.1 1-5.4 1 3.5 1 7.8 1-7.9 1 2.8 1-1.4 1-11.1 1-1.2 1-5.1 1 7 1 .1 1-3.1 1 6.5 1-10.8 1-13.1 1 1.9 1 3.1 1 16.8 1 3.8 1-3.8 1 1.6 1 .4 1 10.3 1 3.3 1 3.3 1-.8 1 6 1 .8 1-3 1 3.1 1 1.2 1 5.3 1 0 1 3.5 1 2.5 1-2.9 1 3.2 1-3.3 1 4.2 1 4.1 1-11.1 1 22.2 1-8.5 1 1.5 1 4.7 1 1.3 1-.5 1-5.5 1 7M591 813.7l1-.4 1-5 1-13.5 1 1.5 1-14.8 1-12.5 1-17.4 1-11.4 1-10.1 1-6.9 1-12.4 1-10.5 1-7.6 1-6.7 1 5.9 1-6.1 1-10.3 1 4.9 1 14.8 1-4 1 2.1 1-3.3 1-20.9 1-17.3 1-1.6M716 650.2l1 3.1 1-3.1 1 7 1 4.7 1 6.3 1-1.6 1-.9 1-5.7 1 1.2 1 3.8 1 6.3 1-1.1 1 5 1-1 1 3.2 1 6.2 1 1.8 1-2.8 1 4.4 1-2.6 1 4.3 1-.8 1 6.2 1 1 1 .6 1-3.5 1-.9 1 0 1 6.3 1 2.9 1 1.1 1 1.9 1 2.1 1 2.2 1 5.4 1-1.3 1-3.7 1 .8 1 .7 1 5 1-3.6 1 .1 1-.2 1-1.5 1-2.9 1 3.4 1-2.1 1 2 1 .5 1 5.8 1 1.5 1 1.1 1-2 1-2.8 1-.5 1 2.6 1 5.1 1 2.7 1-2.1 1-.3 1-5 1 .3 1 3.1 1-3.3 1-.8 1 2.1 1-.5 1 1.2 1 2.7 1-6.8 1 1.9 1 0 1 1.1 1-.2 1 .4 1-2.3 1 3.2 1-1.3 1-5.7 1 4.1 1 3 1 0 1 1.1 1 3.5 1 3.3"/>
<path d="M178 730.7l1-.5 1-.3 1 .4 1 .5 1 .2 1 .2 1 1 1 1 1 .6 1-.3 1 1.1 1-.7 1 .7 1-.2 1 .1 1 .4 1-.6 1-.6 1-.8 1 .5 1 0 1 .8 1-1.1 1-.3 1 1.1 1-.2 1 .9 1-.3 1 .8 1 .9 1-.3 1-.7 1 .4 1-.2 1-1 1-.1 1-.7 1-.3 1 1 1 .7 1-.1 1-2.5 1 2 1 .6 1-2.2 1 2.6 1 1.2 1-.3 1 1.4 1-.3 1 .7 1 .1 1 2.8 1-1.8 1 3.1 1 0 1 .2 1 1.1 1 .4 1-1 1-1.3 1-.6 1 .5 1 .6 1-1.7 1 .5 1-.6 1 .1 1 1.1 1 2 1-3.9 1 .1 1 .2 1 .2 1 1.7 1-.9 1 .5 1 1 1-1 1 .4 1-.5 1 2.1 1 1.2 1 .6 1-1 1 .7 1 1.1 1 .9 1 .3 1 1.6 1 1.6 1-3.5 1 .5 1-2 1 1.1 1 .2 1 1.9 1-1.6 1-.7 1-.8 1 .8 1-2.7 1 2.1 1 .4 1-1.9 1-.8 1-.6 1 .4 1-.3 1 .7 1-1.3 1-.3 1 0 1-.2 1-.6 1-2.7 1-1.2 1 1.6 1 1.1 1-.7 1 .3 1 1 1-2.5 1-.9 1-.2 1-.6 1-.1 1-.9 1-1.2 1 .5 1 1.4 1 1.2 1-.2 1 2.2 1 .7 1 0 1-.6 1-.8 1 .3 1 .6 1 .1 1 2.2 1 .3 1 .2 1-2.1 1 4.2 1 .3 1-.5 1-.8 1-1.9 1-1.9 1 2.9 1-.2 1-1.5 1-.8 1-1.1 1 .5 1 1.2 1-2 1-2.1 1 1.9 1 3.7 1 .6 1 1 1-2.2 1-1.8 1 .6 1 .5 1 .2 1-2.7 1 2.8 1-.9 1-1.3 1 .5 1 .8 1 1.4 1 1 1-1.3 1 1.7 1-1.3 1 1 1-1.1 1 3.1 1-.7 1 .6 1-.7 1 .6 1 .1 1 1.7 1-2 1 1.9 1-1.5 1-.4 1-.8 1 2 1 3.3 1 .3 1-1.6 1 .7 1-.7 1 1.5 1-2.7 1-.4 1-.6 1 .5 1-.3 1-4.9 1-.5 1 .9 1 .6 1 .9 1-3 1-1.9 1-2.5 1 .4 1 0 1 2.7 1-.4 1 0 1 .7 1 .9 1 .7 1 .3 1-1.7 1-1.3 1 .8 1 .9 1-.6 1-.9 1 .9 1 1.2 1 3.4 1 .8 1 2.9 1-.2 1-2.5 1 1.5 1 0 1-.7 1-1.1 1 .3 1-1.9 1 2.7 1 1.5 1-1 1-3.2 1-2.7 1-.4 1-.6 1-3.1 1 1.8 1 .5 1-.7 1-2.3 1 0 1 2.6 1 2.8 1 .8 1 1.7 1 .9 1 2.1 1 .2 1-1.8 1 2.1 1 .8 1 .1 1-1.8 1-2 1-.6 1 2.3 1 1.2 1-.3 1 2.6 1 1.2 1 .6 1 4.3 1-1.9 1 2.5 1 .8 1 4.5 1-1.8 1 .8 1 2.7 1 1.6 1 1.3 1 1 1 4.6 1 1.4 1 1.9 1 6.9 1 12.4 1 11.2 1 .2 1 8.2 1 1M612 813.7l1-2.5 1-.3 1-2.5 1-5 1-2.6 1-5.3 1 3.7 1 4.6 1-6.5 1-14.6 1-8.4 1-7.4 1-1.2 1 2.8 1 3.6 1-1.6 1 5.7 1-9.4 1-8.1 1 4 1-1 1-8.5 1-11.5 1-7.7 1-2.6 1-6.7 1-3.4 1 1.5 1-9.6 1-6.3 1-.6 1-2.5 1-2.3 1-4.5 1-6.6 1 1.8 1 4.3 1-9.4 1 2.4 1-7.6 1 0 1 .8 1-4.7 1 1.8 1-7.5 1 1.2 1-6.1 1-1 1 2.2 1-.7 1-.1 1-1.7 1-5.5 1-4.2 1-6.2 1 2.2 1 5.9 1-1.6 1 4.2 1-3.6 1 1.1 1-8.2M687 650.2l1 2.1 1-2.1 1 .6 1-.6 1 0 1 4 1-4 1 4 1 3.2 1 1.3 1 .1 1-2.4 1 10.6 1-1.6 1 7.7 1 2 1-1.7 1 2.3 1 4.4 1-3.9 1 8.5 1 1 1 7.7 1-.9 1-3.1 1 2.3 1 2 1-4.3 1 4.6 1-1.4 1 4.3 1-1.8 1-.7 1-5.6 1 4.5 1 .7 1 3.3 1-3.9 1 .4 1-3.5 1 5.5 1 2 1 4.9 1-.9 1-3 1-3.8 1 2.5 1-2.5 1 3.7 1-2.4 1-.5 1-.4 1 .9 1 .6 1 .7 1 1.3 1 2.6 1 2.6 1 .5 1 2.4 1-.3 1 2.1 1-.2 1-3.5 1 6.2 1-.1 1 2 1-3.4 1 3.6 1 3.6 1-4.6 1 2.8 1 .1 1 .5 1 .4 1-3.2 1 6.8 1-2.2 1 4.9 1-1.6 1-2.7 1-.6 1-.2 1 2.2 1-3.1 1-2.6 1 4.3 1-3.3 1 3.6 1 1.6 1-8.1 1 4.7 1 5.7 1-1 1 3.1 1 .7 1 3.5 1-2.4 1 5.2 1-3.3 1 2.4 1-6.5 1 1.6 1-.2 1 2.4 1-1 1-2.3 1-1.1 1 3.4 1 .4 1 2.5 1-3.1 1 1.2 1 3.8"/>
<path d="M178 731.4l1 .4 1 .3 1-.4 1 .6 1-.7 1 0 1 .3 1 .9 1 .7 1 .3 1 .3 1 .7 1 .6 1 0 1 .9 1 .1 1 1.7 1-.6 1 .1 1 .4 1 .4 1 .4 1 0 1 .4 1-.1 1-.5 1-.1 1 .9 1 .8 1 0 1 .2 1-.9 1 .2 1 0 1-1 1 .6 1 2.2 1-.5 1 1.1 1 .4 1-.9 1-1.1 1 .2 1 2.5 1-.4 1 .4 1-.2 1-.3 1 1 1 .9 1-.2 1 .9 1 .1 1 .1 1 .8 1 0 1 1 1 .7 1 .2 1 .1 1-.4 1 1.6 1-.1 1-1.3 1 1.4 1 .2 1 .9 1-.8 1-.8 1 .8 1-1.6 1 .2 1 .6 1 .7 1 .7 1-.1 1-.8 1 .5 1 2.1 1 0 1 .8 1-.9 1 .1 1 .9 1-.4 1 1.1 1 .8 1 .1 1 1 1 1.6 1 .9 1 1.3 1-.7 1 1.3 1-.5 1-2.8 1-1.8 1 1.6 1-1.7 1-.6 1-1.5 1 .3 1 .4 1-1.4 1-1.4 1 1.2 1 1.6 1-.3 1-.8 1-.6 1 .6 1-.6 1-1.2 1-.9 1-3.3 1 1.1 1 2.8 1-1.5 1 .5 1 .8 1-1.4 1 .6 1-3.1 1-2.6 1 1.8 1-2.4 1-.2 1 .9 1 2.4 1-1.4 1 1.6 1 1.2 1-.5 1 .9 1-1.1 1 2 1-.8 1 1.2 1-.5 1 .3 1-1.5 1 .3 1 0 1 2.4 1-1.4 1-2.3 1 .2 1 2.6 1 .7 1-.5 1-2 1-.2 1-.1 1-.9 1-.7 1-3.3 1-2 1-.9 1-2.6 1 1.4 1 .5 1 .7 1-.8 1-1.3 1-2.6 1-3.5 1 1 1 .2 1 1.5 1 .3 1 1.3 1-2.8 1 0 1-1.7 1-1.6 1 2.2 1-1.4 1-1.7 1 1.9 1 1.1 1 1.2 1-.9 1-.5 1 2.9 1-.1 1 1.7 1-3 1 2.8 1-2.2 1-1.2 1 1.4 1 .7 1 .4 1-1.3 1 1 1-2 1 4 1 1.7 1-4 1-2.7 1 .7 1 .2 1 1.6 1-1.7 1 3 1-2.8 1 .5 1-.7 1-1.9 1-1.5 1-1.5 1 1.5 1-1.3 1-1.2 1 .6 1-3.1 1 1.7 1 .7 1-1.1 1-1.2 1 1.9 1-3.1 1-.2 1 3.2 1 1 1-4.2 1 1.1 1-1.6 1 .2 1-3.4 1-3.6 1-2 1 1.4 1-.9 1-3 1 3.3 1 .3 1 2.5 1-.9 1 2.5 1 3 1 .4 1 .7 1 .3 1 3.9 1-1.3 1-1.6 1-4 1-1.6 1-4.1 1 3.3 1 1.2 1-2.4 1 .2 1 2.6 1 .2 1-2.8 1-1.1 1-1.1 1-1.2 1 4.9 1 1.8 1-2.4 1 4.2 1-1.1 1-.1 1 .9 1 .5 1 3.3 1-2.1 1 2.8 1 2.6 1 2 1 7.1 1 3.3 1-1.8 1 .7 1 2.4 1-2.4 1 1.9 1 4.4 1-2 1 1.4 1 3.6 1-.4 1-2 1 .6 1-.7 1 5.6 1-1.3 1 1.4 1 6.6 1 .8 1-1.6 1 9 1 .8 1 1.4 1 11 1-.6 1-2.6 1-.2 1-3 1 .3 1-8.5 1 .8 1-6 1-.7 1 3.3 1-1.1 1 .3 1 1.7 1-4.7 1-3.7 1-2.4 1 2 1-6.4 1 8.3 1-11.1 1 1 1-3.7 1 4.4 1-2.1 1-4 1 13.1 1 13.4 1 12.4 1 3.8 1 5.2 1 1.3 1 6.4 1 6.4 1 10.4 1-4.3 1 4.3M514 813.7l1-2.2 1-11.6 1 13.8M520 813.7l1-7.6 1 7.6M600 813.7l1-6.5 1-2.9 1 2.7 1-14.9 1 6.6 1 4.6 1-5.9 1-1.3 1-6.8 1-3.5 1-4.9 1-11 1-11.1 1 7.2 1-21.6 1-24.6 1-10.5 1 1.9 1-2.3 1-10 1 3.3 1 .5 1-7.3 1 .6 1-.8 1-9.8 1 20.9 1 3.8 1 .7 1-3.5 1 4.4 1-12.4 1-4.1 1-.1 1 .6 1-15.1 1 4.4 1-2.9 1-1.4 1 3.4 1-5.7 1 1.8 1 1.7 1 5.3 1-8.9 1 3.1 1-10.5 1-2.7 1-8.1 1 .4 1 2 1-.1 1 2.5 1 .9 1-5.3 1 2.8 1-1.2 1 0 1-1.8 1 .1 1 9.6 1 .8 1-7.8 1 2.1 1-9.4 1-5.5 1 0 1 .5 1 .5 1 9.9 1 1.7 1-3.6 1 4.8 1 6.7 1-2 1 6.5 1 4.6 1-.8 1 6.1 1-1.6 1 2.7 1-3.7 1-1.6 1-.2 1-6.7 1-1.9 1-1.1 1 5.4 1-1.2 1 3.6 1-.4 1 2.2 1-10 1 2.9 1 6.8 1-4.5 1-6.3 1 6.6 1 3.8 1 1 1 1.3 1-.5 1 3.7 1 3.1 1 3.9 1-2.8 1 6.1 1-.7 1-.1 1 1.3 1-6.3 1-2.4 1-.5 1-.2 1 1 1-.2 1 1.4 1 4.5 1 3.1 1-.6 1-1.6 1 .6 1 3.6 1-1.3 1-3.5 1 4.4 1 6 1-.1 1 1.1 1-.3 1 4 1 1.3 1-3.6 1 2.5 1 2.9 1 1.6 1 3.4 1-2.8 1-1.3 1 .3 1-1.3 1 4.1 1 .5 1-4.7 1 1.3 1 5.1 1-1.6 1 2.4 1 .7 1-2 1 4.4 1-8.2 1 1.3 1 2 1 .4 1 2 1 .1 1 5.6 1-.3 1 .4 1 2.2 1 .3 1 .2 1 1.7 1-3 1 .2 1 .5 1-1.4 1-2.9 1 .2 1 4.3 1 .9 1-.4 1 3 1-3.7 1 .8 1 .2 1-2.3 1 1 1-1.4 1-.4 1 4 1-3.3 1 .5 1 .4 1-.2 1 3.3 1-7.7 1 3.4 1-.1 1-.6 1-1.4 1 3.2 1-2.7 1 3.1 1-2.7 1 4.5 1-7.5 1 6.9 1-.5 1 .5"/>
<path d="M178 727.3l1-1.8 1-1.5 1 .4 1 1.4 1-.2 1 .4 1 1.5 1-.5 1 .2 1-.6 1 1.1 1 .7 1 .9 1 .1 1-.1 1-.3 1-.2 1-.5 1 .2 1-1.4 1 .2 1-.6 1 .4 1-.9 1 .6 1-.6 1-.9 1-.2 1-.2 1 1.3 1-.6 1-.7 1 .7 1-.3 1 1.4 1 .1 1 .8 1 1.6 1-.7 1-.8 1 .5 1-1 1 .8 1 1.2 1-.5 1 .7 1-1.1 1-.5 1 1.2 1 1 1 1.1 1 .9 1 2.1 1-.7 1 .8 1 .9 1 .5 1 1.2 1 .1 1 .3 1-.5 1-.5 1-2.1 1 .1 1 1.3 1 1.2 1-1.1 1-.5 1 .1 1 1.1 1-1.5 1 1 1-.3 1 1.7 1 2.5 1 .2 1-.4 1-1.3 1 .6 1-.1 1-.5 1-1.4 1 .3 1 .2 1-.6 1 3.4 1 2 1 .6 1-.9 1-1.2 1 2.6 1-1 1-1.4 1-.4 1 1.7 1-2.3 1 1.1 1-3.3 1-4 1 0 1 0 1 .4 1 .9 1-1.4 1 1.1 1-.6 1-.1 1-1.9 1 1.3 1 .6 1-2.7 1 0 1-2.4 1 .2 1-4.4 1-1.1 1-.6 1 .4 1-2.5 1 2.9 1-1.7 1-.9 1 1.3 1-1.6 1-3.9 1 .3 1-2.1 1-.8 1 4.1 1 .3 1 4.5 1 .2 1-.8 1-.4 1 2.6 1 .7 1-1.9 1 0 1-3.2 1-.1 1 .6 1 1.7 1 .6 1-.1 1 .2 1 .9 1-2.8 1-1.7 1 0 1-1.4 1 3.3 1-2.8 1 1.7 1-1 1 1.6 1-1.6 1-2.3 1 1.9 1-.6 1-3.3 1 .6 1 .9 1 1 1 1.6 1 3 1-1.8 1-1.4 1-2 1-.6 1 2.1 1 5 1 1.4 1-3.1 1-2.4 1 .7 1-.3 1 2.4 1 1.6 1 4.1 1-.9 1 2.2 1 1.4 1-.9 1 .1 1-1.9 1-.3 1-2.5 1-.5 1 1.4 1 .4 1 1.4 1 3.5 1-1 1-1.4 1-2.2 1 2.6 1 1.5 1 1.3 1-1.9 1-.9 1 2.8 1-1.6 1-.3 1 .4 1 .7 1-2.4 1-1 1-1.4 1-1.2 1 0 1 3 1-3.3 1 .4 1 1.7 1-.5 1 .6 1-1.5 1-1.8 1 1.6 1 .3 1-1.7 1-3 1 1.6 1 4 1 1.8 1-2 1 .9 1-1.9 1-.8 1-.6 1 1.4 1 2.4 1 1.2 1 1.4 1-3 1 3.4 1-2.1 1-.8 1-2.4 1-2.3 1 5.2 1 .9 1 1.4 1-3.8 1 2.1 1 .2 1-.3 1-2.6 1-1.4 1-.7 1 1.3 1-2 1-1 1-.7 1 1.3 1 1.6 1 3.3 1-.7 1 2.9 1-.7 1 2.4 1 2.2 1-2.5 1 1.2 1-1.6 1 .2 1 5.1 1-.6 1 3.3 1-2 1-3.1 1-3.7 1-4.6 1-.3 1-1.3 1 6 1 2.3 1 .2 1-5.8 1 .9 1-2.8 1 .8 1 1 1-.5 1 1.6 1-.8 1 .5 1 1.2 1 .2 1 3.1 1 4.4 1 1.1 1 5.7 1 8.7 1 1.4 1-1.9 1-1.4 1 .7 1-3.4 1-3.6 1-1.3 1 7.8 1 0 1-1.8 1-2.8 1-5.3 1-3.8 1-9.3 1 2.1 1-8 1 0 1 6.2 1-12 1 6.2 1-4.2 1 3.8 1-5.6 1 10.1 1-3.3 1 .5 1-8.1 1 3.4 1-9.7 1 9.7 1 2.2 1 16.1 1-6.4 1-1.4 1 8.9 1 9.7 1 2.2 1 3.6 1-3.8 1 1 1 4.3 1 6.7 1-5 1-.4 1-2.9 1-.2 1-.1 1-3.2 1 3.3 1 11.2 1 7.6 1-2.8 1 13.9 1-2.9 1-.5 1 2.1 1 4.4 1 5.9 1 2.7 1-7.8 1 12.1 1 6.7 1 7.9M589 813.7l1-9.3 1 1.2 1-14.7 1-5.5 1 3.9 1-8.1 1-8.9 1-11.1 1-4.8 1-2.2 1-12.7 1-2.5 1-19.1 1-7.4 1-19.5 1-1.5 1 2.3 1 .9 1 11 1-10.7 1-12.7 1-6.4 1 3.9 1-10.1 1-5 1-7.6 1-6.9M721 650.2l1 .9 1 1.3 1-.3 1 5.2 1-4 1 6.5 1 .5 1 2 1 .3 1-.4 1 3.2 1 3.9 1-.7 1 .5 1 3.9 1 .1 1-.1 1 2.2 1 2.1 1-1.5 1 1.5 1-.9 1 4.7 1 1.1 1-1.7 1-1.9 1 3 1 2.7 1-1.4 1-4 1 2 1 8.2 1-1.2 1 2.8 1 2.5 1 2 1 .3 1-5.7 1 4.2 1-1 1-2.3 1 5.5 1-.3 1-2.9 1 4.2 1-2.8 1 2.1 1 3.4 1-1.5 1 2.4 1-3.2 1 .8 1 5 1-4.3 1 1.5 1 2.9 1-4.2 1 8 1-.5 1 3.4 1-5.3 1 1 1 .8 1-.1 1 1.8 1 .1 1 2.2 1 .9 1-5 1-1.1 1-1.5 1 3.9 1 2.1 1 1.5 1 1.4 1 0 1 .3 1-4 1 1.5 1 .3"/>
<path d="M178 733.9l1 1.1 1 .5 1 .9 1-.3 1 .4 1 .4 1 .4 1 .3 1-.1 1 .6 1 .4 1 .9 1 .3 1 .9 1-.5 1-.3 1 .1 1-.9 1 1.1 1-.3 1 .6 1 .1 1 1.2 1-.2 1 1.4 1-1.1 1 .8 1 .1 1 .2 1-.2 1 1.3 1-.6 1 .8 1 1.7 1 .6 1 .5 1 .3 1-.2 1 .1 1 .6 1 1.6 1-.9 1 0 1 2.1 1-.6 1 .7 1-.1 1-.1 1 1.6 1 .9 1-.4 1 .2 1 .2 1-.2 1 1.3 1-1.4 1 0 1 .6 1 .7 1 0 1-1.1 1 1 1 0 1-1.6 1 .5 1 1.3 1 .8 1-.8 1-1.5 1 2.8 1-.2 1 1 1-.4 1 .7 1 .5 1 .9 1 1.8 1-.2 1 2.8 1-.5 1 .4 1 .7 1 .8 1-1 1 .7 1 0 1 .4 1-.7 1 .5 1 .7 1 1.9 1-.1 1-.3 1 .1 1 .8 1-.9 1 1.1 1-1.4 1 .3 1-.5 1-.4 1 1.3 1 1.6 1-.1 1-.5 1-.2 1 .4 1 .4 1-.8 1 .5 1 0 1-1.2 1 .1 1 .2 1-.5 1 .4 1-1.3 1-.3 1 .5 1 .6 1-.7 1-.3 1-3.6 1 .3 1 0 1-1 1 .9 1-1.4 1 1 1-.6 1 .7 1 .7 1 .2 1 .6 1 1.9 1 .2 1 .6 1 .4 1-1.7 1 1.8 1-1 1 .8 1 .8 1-1.2 1-.9 1 1.8 1 .6 1 0 1-.2 1-.7 1-1.1 1-.5 1-.9 1-.8 1 .3 1-1.6 1-.5 1 .2 1-.4 1-.8 1 .3 1 1.7 1-.5 1-.1 1 .7 1-.2 1-.5 1 .6 1 1 1-1.7 1 2.3 1-.1 1-.2 1 .1 1-.3 1 3 1 .7 1 .1 1-.2 1 .3 1 .1 1 1 1-.6 1-1 1 0 1 1 1 .1 1 1.3 1-1.2 1-1.5 1 1.3 1-1 1 .6 1-1.1 1 .4 1 1.6 1 .5 1-1 1 .8 1-3.3 1-1.3 1 2 1-2.4 1-1.4 1 .8 1 1.5 1-1 1-1.9 1-.9 1 1.1 1-.4 1 .5 1-2.7 1 3 1-2.2 1 1.7 1-1.2 1-.7 1 1.7 1-.5 1-.9 1-3.2 1 3 1-.9 1-2.2 1 1.1 1-.3 1-2.4 1 .2 1-1.1 1 .4 1 3.6 1 .3 1 1.6 1-3.1 1 3.9 1 2.3 1 .5 1-.4 1 .1 1 .5 1 1.9 1-3.5 1 1 1 1.8 1 2.9 1-2.9 1-.1 1 .6 1-2.2 1 1.6 1 .7 1-1 1 4.1 1 1.9 1 1.8 1-.3 1 .6 1 2.3 1 1.3 1-.6 1 .4 1 3.2 1-.3 1 2.3 1 .8 1-.5 1-2.8 1 2.1 1-.1 1-.8 1 .5 1 1.9 1-1.1 1 1.1 1-.6 1 .2 1 1.3 1 .5 1 1.1 1 1.9 1-1.5 1 2 1 1.4 1 1.3 1 2.8 1 2.7 1 2.5 1 9.7 1 6.2M630 813.7l1-2.7 1-9.3 1-1.5 1-1.6 1-7.1 1-3.4 1-4.5 1-7.5 1-3.9 1-4.5 1-3.9 1-4.6 1-3.2 1-2.6 1-3.8 1-3.9 1-3.5 1-5.7 1-.3 1-5.1 1-2 1-3.4 1-4 1-3.3 1-4.7 1-2.6 1-.5 1-1.4 1-3.8 1 2.1 1 3.3 1-.7 1 4.4 1 .3 1-10.7 1-7.9 1-5.8 1 8.1 1 7.8 1 7.1 1 9 1 1.6 1 .7 1 4.6 1 3 1 4.1 1 2.1 1-2 1-2.5 1 3.9 1 2.3 1 5 1-8 1 .3 1-2.4 1 0 1 .6 1-1.5 1 3.2 1 .1 1-3.3 1 .6 1-3.1 1 3 1-4.6 1-.7 1 .4 1 3.6 1-4.3 1-2.3 1 0 1-7.1 1 1.4 1-1.1 1 5.7 1-3.3 1 .3 1-1.5 1 5.3 1-1.4 1 3.5 1 1.5 1 1.3 1 4.6 1-.7 1 1.7 1-3 1-.9 1-4.5 1-1.9 1-2.7 1 9.1 1 1.2 1-.5 1 1.9 1-7.7 1 10.2 1-.7 1-2.2 1 2 1 3.2 1-.9 1-.2 1-1.4 1 2.5 1-3.3 1-1.2 1-.9 1 1.4 1 .8 1 2.1 1-2.6 1 1.1 1-5.1 1 .1 1 1.9 1 1.7 1-2.3 1 .6 1-3.4 1 .2 1-1.7 1 .2 1-2.1 1 5.5 1-1.1 1 3.1 1-2.3 1 0 1 3.2 1-5.7 1-2.4 1-1 1 1.1 1 2.1 1-1.5 1 2.7 1-.7 1 .4 1 .5 1-5.2 1 1.9 1 2.7 1-3.6 1 1.9 1 6.5 1-1.3 1-1.5 1 1.5 1-1.7 1 .4 1-3.9 1-2 1 .2 1 3.7 1-1.3 1-.6 1 1.5 1-2 1-.9 1-3.8 1 5.6 1-.2 1 1.4 1 1.9 1-1.6 1 1.3 1-6.8 1 4.9 1 3.6 1-2.3"/>
<path d="M178 729.4l1-.4 1-1.1 1 .2 1 1 1 .8 1 .4 1 0 1 .8 1 .4 1-.4 1 1.2 1 0 1 .6 1-.2 1-.1 1 .7 1 0 1-1 1 .1 1-.6 1 .6 1 .4 1 .2 1 .8 1 .5 1-.9 1 1 1 .2 1 .7 1-.4 1-.5 1-1 1-.3 1 1.6 1-.4 1 .6 1 .9 1 .5 1 1.5 1-.2 1 .9 1-.6 1 1.1 1 1.3 1-.9 1-.2 1-.5 1 .8 1 .2 1 1.5 1-1.6 1 .9 1 .1 1-1.6 1 1.8 1 .4 1 2.3 1 2.5 1-2 1-1 1-3.3 1 2.1 1-.3 1-.8 1-1.5 1-.6 1-.5 1 .3 1-2 1 1.8 1-1 1 .1 1-1 1 1.5 1 .7 1 1.7 1-1 1 1.3 1 .6 1-.3 1 .6 1 0 1-.7 1-1.8 1-2.7 1-.8 1-.6 1 1.5 1 .3 1-.1 1 .2 1-1.6 1-1.6 1 1.5 1 .5 1-2.6 1 4.1 1 .1 1-2 1-1.5 1-1.9 1-1.1 1 3.6 1-1 1 .7 1 1.4 1 1.7 1-.3 1 1.2 1 .3 1-.1 1 0 1-2 1-.4 1 .1 1-3 1 .9 1-2.1 1-.7 1-.7 1-1.4 1 2.9 1-2.2 1 .3 1 3.3 1-4.9 1-1.3 1-1.4 1-1.3 1-1.3 1 2.4 1 .3 1 1.3 1 .2 1 2.5 1 1.5 1-.8 1 .8 1-.1 1 1.4 1 .1 1-2.3 1 .5 1-3 1-1.7 1-1.2 1-.5 1-.2 1 .4 1-1.2 1-.4 1-.8 1 .1 1-.2 1 2 1-1.2 1 1 1-1.9 1-1.3 1 0 1-2.4 1 2.7 1-2.3 1 1.1 1-1.5 1 1.6 1 .1 1 1.5 1-3.9 1-2.6 1-1.8 1 2.3 1 2 1 1.6 1-1.8 1 0 1-.5 1 3 1 .5 1-3.1 1 1.4 1-2.4 1-4.1 1 3.8 1 2.1 1 2.3 1 1.3 1 1.7 1-3 1-3.6 1 .8 1 2.8 1-.1 1-.9 1 .9 1-.5 1-1.3 1-2.7 1 .4 1 1.7 1-3.6 1 3 1 .8 1-2.2 1 2.3 1-.7 1-1.7 1 .5 1-2.7 1-1.2 1 1.9 1 .3 1 .9 1-1.2 1 1.8 1 .5 1 4.2 1-1.9 1 .2 1 2 1 1.4 1-3.3 1-.9 1-5.6 1-2 1 2.8 1-.1 1-2.7 1 1.8 1 .8 1 3.2 1 .8 1 1.5 1 4.3 1 2.1 1 3.1 1-3 1 1.6 1-2.7 1-.6 1 3.4 1 .2 1 2 1 2.8 1-1.3 1-2.6 1-2.6 1 .6 1-1.4 1-1.7 1-5.2 1 2.6 1 .8 1 3.2 1-.6 1 4 1-1.7 1 .3 1-.5 1 2.8 1 2 1-2.7 1-3.1 1-.2 1 4.9 1-2.3 1-1.7 1 3.7 1 1.5 1-.3 1-3.7 1-2.6 1 2.2 1-.9 1 2.7 1 3.7 1-4.5 1 .9 1 2.3 1-.2 1-.7 1-2.8 1 1.4 1 5.2 1 2.8 1-2.9 1-1 1-.9 1-1.4 1 4.7 1 5.7 1-2.4 1-3.3 1 5.1 1-3.7 1-.8 1 3.5 1 3.3 1-6 1-.6 1 6.3 1-4.2 1-3 1-15.3 1-10.4 1-10.6 1-4.2 1 1.9 1-2 1-.2 1 4.9 1 5.3 1 6.5 1-3.9 1-5.4 1 7 1 4 1-2.2 1-1.4 1 1.8 1 2.6 1-5.1 1-4.2 1 14.4 1 11.4 1 6.4 1 4.6 1-3.3 1 2.2 1 3 1-1 1-2.5 1 5 1 3.3 1 2.9 1-3.5 1-4.4 1 11.4 1-4.3 1-3.6 1 9.1 1 6.6 1-4.6 1 3.9 1 1.2 1 9.2 1-1.3 1 10.1 1 7.8 1 4.5 1 7.4 1 10.9 1 2.5 1 .8M592 813.7l1-3 1-6.3 1-7.3 1-5.5 1-2.9 1 3.3 1-8.9 1-4.5 1-3.5 1-1.4 1-15 1 3.5 1 6.7 1-5.3 1-1.3 1-4.4 1 4.9 1 .5 1 4.4 1-20.7 1 6.1 1-16.4 1-5.1 1 .7 1-14.7 1 6.9 1 1.8 1-9.6 1-11.2 1 5.9 1-6.3 1-3.3 1-.6 1 10.8 1 .6 1 3.8 1-4.3 1-5.9 1-2.4 1-4.7 1 3.9 1-15.9 1-6.1 1 .4 1-8.8 1 13.4 1-12.4 1-8.9 1 1.1 1-.2 1-3.7 1 .5 1-5.7 1-6.5 1 1.5 1-.7 1-.8M677 650.2l1 .9 1 2.4 1 1.3 1-4.6M688 650.2l1 10.8 1 .9 1-3 1 .1 1 2.2 1-.9 1-5.8 1 .1 1-4.4 1 0 1 1.8 1-1.8M710 650.2l1 .2 1 2.7 1-2.9M715 650.2l1 3.2 1-1.7 1 .1 1-1.6 1 5.8 1 2.4 1-1.1 1-.7 1 4.5 1 4.7 1 7.4 1-1.9 1 9.1 1-1.8 1-1.4 1 4.2 1 1.6 1-.3 1-.1 1 7.2 1-4.3 1-3.3 1 6.5 1 7.6 1-6.7 1 1.3 1-1.7 1 3.7 1-.9 1 1.1 1 .5 1 2.4 1-4.2 1 6.9 1 1.8 1-5 1 3.7 1 3.7 1 .3 1-.6 1 3.5 1 2 1 .2 1-4.1 1 2.3 1 .8 1-.8 1-.4 1 7 1-4 1 .1 1 1.7 1 1.6 1 4.4 1-2.1 1-2 1-1.8 1 1.1 1 3.3 1 1.4 1-6.3 1 2.4 1-.4 1-1 1-3.8 1 5.8 1 .1 1-1.4 1 .4 1 4.2 1-2.3 1-3.5 1 1.7 1 6.1 1-.1 1 .8 1 .3 1 2.3 1-1.1 1-2.4 1-.7 1-.3 1 1.4 1-4.5 1 3.5 1 3"/>
<path d="M178 732.3l1 .6 1 0 1 .5 1 .7 1-.4 1 .4 1 .8 1 .5 1 .2 1 .6 1 .3 1 .9 1-1.1 1 .4 1 .2 1 .9 1 0 1-.5 1 .6 1-.3 1 .4 1 .6 1 1.2 1-1 1 .2 1-.1 1-.1 1 .8 1-.2 1-.1 1 .3 1-1 1-1.2 1 1.4 1 .3 1-.3 1 1.6 1-1 1 .1 1 1.1 1 .7 1 .8 1 .4 1 .2 1-.6 1 .2 1 1.4 1-1.1 1 .8 1-.4 1 .8 1 .7 1 0 1-.3 1 1.8 1-.2 1-.9 1 3.2 1-.8 1-.9 1 1.2 1 1.1 1-1.1 1-.9 1 1.1 1 1.5 1 .1 1 .1 1-.8 1 1.5 1-2.6 1 .5 1 2.1 1 .8 1 2.1 1-1.3 1 .1 1 1.7 1 2.5 1 .4 1-.3 1 .7 1 2.8 1 .6 1-1 1-.2 1-.8 1 .8 1-.2 1-.2 1 .1 1 .2 1-1.6 1 1.1 1 .6 1-2.4 1 .3 1-1.7 1-2.3 1 .9 1 1 1 2 1 1.7 1 .8 1-.3 1-.8 1 .3 1 .8 1-2.9 1-.7 1-2.4 1-.9 1 .8 1 1.1 1-.9 1-.5 1-.9 1-.4 1-.7 1-.8 1 .2 1-2.1 1-.4 1-2 1-2.6 1-.6 1 0 1-1.7 1 1.5 1-.2 1 2 1-.1 1-2.3 1 1.8 1 1.5 1 .5 1-2.2 1 1.5 1 .5 1-1.5 1 1.2 1-.9 1 .8 1-.7 1-.6 1 1.4 1 1.6 1 .6 1-2.2 1 .9 1 2.6 1-4.1 1 1.2 1-2.4 1-.2 1 1 1-.6 1-.1 1-2.4 1-.6 1-1.1 1 3 1-1.6 1 .5 1 .4 1-1.8 1 1.6 1 .7 1 2.3 1-.3 1 .2 1-.4 1 1.1 1 0 1 1.2 1 2.5 1 .6 1 4.9 1 1.4 1-2.2 1 1.5 1 .9 1-3.8 1 1.1 1 1.5 1 2.4 1-.1 1-3.8 1-1.7 1 .9 1 1.7 1 .7 1-1.7 1 1 1-2.1 1-2 1 1.4 1-2.5 1 3 1 .8 1 .6 1 0 1-1.8 1-.5 1 .3 1 .8 1-4.7 1-.5 1-2 1 1 1 .2 1 2.1 1-.5 1-.8 1 .9 1-2.7 1 .7 1-.1 1-.4 1-1.4 1-1.6 1-2 1 .5 1 1.8 1 2.9 1-1.9 1 2 1-2.2 1-1.2 1 1.6 1-1.4 1 1.7 1-.4 1 4.7 1-2.7 1 1.6 1 .3 1 1.1 1 .6 1-1.3 1-.3 1 .4 1 1.1 1 1.5 1 3 1-.9 1 2.2 1 3.2 1-2.7 1-3.6 1-1.1 1 .5 1-.3 1-.1 1-2.5 1 1.2 1 1.1 1-.9 1 2.1 1 1 1-2.5 1 1.8 1-.7 1-2.9 1 1.5 1-2.1 1 0 1 1.5 1-1.7 1 1.9 1 2.2 1 .6 1 2.6 1 3.1 1 1.5 1-2.7 1-5 1 1.9 1 2.1 1 0 1-.4 1-1.6 1 3.7 1 4.6 1 4.1 1 2.4 1 1.2 1 2.4 1 2.5 1 8.8 1 8.4 1 4.7 1 2.6 1 4.9 1 2.5 1 4 1 2.9M481 813.7l1-4.7 1 .7 1 1.6 1-10.1 1-1.1 1-11.6 1-1.6 1 2.5 1 1 1-5.1 1-.9 1 .7 1 2.6 1 10.5 1 .2 1 0 1 .1 1 1.1 1 3.2 1 4 1 6.9M603 813.7l1-4 1-1.1 1 2.6 1-12 1-5.6 1-4.2 1 11.9 1-10.6 1-1.2 1-5.7 1-.7 1-1.4 1-12.2 1-15.9 1 1 1-1.9 1-2.1 1-3.8 1 10.3 1-8.9 1-4.8 1 5 1-.6 1-5.3 1 2.7 1-.5 1-14.8 1-5.9 1 .6 1-1.9 1-8.6 1-7.8 1-4.2 1-5.6 1-6.9 1-3.5 1-2 1-5 1-5 1-9.9 1-8.5 1 4 1 1.2 1-.8 1 5.4 1-1.1 1 4.7 1-2.4 1-6.9 1 1.3 1-4.3 1 5.6 1-.1 1-4.7 1-4.1 1 3.3 1-5.5 1 .1 1 3.8 1 1.3 1 .8 1-2.3 1-4.8M668 650.2l1 .2 1 .4 1 8.4 1-2.9 1-2.4 1 1.8 1 1.9 1 .5 1 2.3 1-.4 1-9.8 1 0 1 4.4 1 1.7 1-4.4 1 .9 1-.4 1 3.3 1 .7 1 7 1 1.2 1-4.4 1 1.6 1 1.7 1-.5 1 .7 1 1.3 1-1.6 1 3.9 1 3 1 9.5 1-6.9 1 6.5 1-2.3 1-1.4 1-1.6 1-.1 1-2.8 1 5.4 1 5.1 1 5.4 1-8.7 1 13.9 1-1.6 1-1.9 1 1.9 1 .3 1 1.8 1 .8 1-2.4 1-1.3 1 .9 1-1.8 1-4 1-1.4 1-.6 1 1 1-.6 1 4.6 1 3 1 .7 1-1.2 1 2.3 1-1.4 1 .4 1 .6 1-.5 1 1.8 1-1 1 5 1-5.7 1 2.3 1-1.8 1 6.8 1-2.5 1 1.3 1 5 1-.8 1-4.7 1 4 1-1 1 3.9 1 3.9 1-.8 1 .1 1-.4 1-1.7 1-.3 1 1.5 1 .7 1-.1 1-1 1 2.1 1 3.4 1-3.1 1 1.1 1-.2 1 4.5 1 0 1 1.4 1 2.9 1-2.2 1 2.4 1-5.2 1 4.7 1 0 1 5.3 1-5.8 1-3.7 1 3.8 1 1 1 2.5 1-2 1-.9 1 1.7 1-1.9 1 2.2 1 1.1 1-.9 1 1.5 1 3 1-5.6 1 2.4 1-2.2 1 4.9 1-.5 1-1 1 4 1-1.3 1-7.8 1-3.6 1 6.6 1-2.4"/>
<path d="M178 729.3l1 .3 1-1.1 1 .6 1 .4 1 .6 1-.4 1 .1 1-.2 1 .6 1-.8 1 1.2 1-.2 1 1.2 1 0 1-.4 1 0 1 .6 1 .6 1-.4 1 .8 1 .1 1 0 1 .5 1 .5 1-.2 1-.6 1-.2 1-.4 1 .7 1 .1 1-.5 1 .7 1 .3 1 1.4 1-.4 1 1.2 1 1 1-.7 1 .1 1 1.3 1-.7 1-.1 1-.2 1 2.1 1-.4 1 2.3 1-.1 1 .6 1 4.2 1 1.3 1-1.5 1-.5 1-.2 1 1 1 .4 1 .8 1-.6 1 .6 1 0 1 1.6 1-.7 1-.4 1-.4 1-.4 1 .2 1 1.4 1-.9 1 .1 1-1.7 1-.1 1 0 1-.6 1 .5 1 2.3 1 1.1 1-.2 1 .8 1 1.1 1 1.5 1 .3 1-1.5 1 .2 1 .2 1 .7 1-.1 1-.3 1-.4 1 2 1 1 1 2.3 1 .2 1 0 1 2.9 1-1.5 1 .5 1-2 1-.1 1 0 1 .8 1 .5 1 .5 1 .5 1 3.5 1-2.2 1 .3 1-1.5 1-1.6 1 .2 1-.1 1-.3 1 2.1 1-3 1-3.8 1-.8 1-.9 1-.4 1-1.2 1 1.6 1-.2 1-3.8 1-.4 1 1.6 1 1 1 1.4 1 .3 1-2.2 1 .6 1 .5 1-.3 1-.7 1 2.7 1 .9 1-1.6 1 3 1 0 1-1.2 1-1.6 1-.7 1-2.1 1 1.3 1-.7 1 1.4 1 1 1-1.9 1-.3 1 1.5 1-1.7 1 1.4 1-.6 1-2 1 .4 1-2.1 1 .8 1-.6 1-1.2 1-1.1 1-1.1 1 2 1-1.3 1-1 1 .3 1-.9 1-3.9 1-1.4 1-.9 1 .2 1 .3 1 .3 1-.6 1 3 1 .9 1 .4 1-3.2 1 .7 1 0 1 2.9 1 .8 1 .6 1-1.4 1-2.9 1-1.5 1 .6 1 2.8 1-.2 1 .2 1 2.3 1 3.2 1 1.9 1-1.8 1-1.6 1 1.4 1 1.4 1-2.3 1 0 1-.2 1-.3 1 .4 1-.1 1 0 1-2.6 1 .3 1-1 1-1.7 1 1.8 1 .3 1-4 1 0 1-1.3 1-1.6 1-.1 1 1.6 1 .1 1-2 1 2 1-.9 1-.6 1-.6 1 1.7 1 .3 1 .7 1-.4 1-1.4 1 1.1 1 .9 1 .9 1 1.9 1-1.5 1-.7 1 0 1-2.2 1 1.2 1 2.9 1-.5 1 2.1 1-3.4 1 1.1 1 1.6 1-1.2 1 1.8 1 1.1 1 1.5 1-2.6 1-1.1 1-.7 1 2.1 1-1.8 1-.7 1-2.7 1 1.2 1-.1 1 1.2 1 3 1-1.6 1 .5 1 2.1 1-.1 1 2.5 1-1.9 1 1.5 1-.9 1 1.5 1 2.7 1 3.8 1-2.3 1 .9 1-2.7 1 1.4 1 1.4 1-.5 1-1.4 1-.9 1 2.4 1 4.3 1-1.3 1 3 1 0 1-1.4 1 1.8 1-.4 1 1.9 1-3.8 1-1.9 1 4.5 1 1.3 1 1.2 1 3 1-.3 1 .9 1 4.1 1 3.2 1 2.7 1 .1 1 6 1 6 1 6.8 1 6.1 1 1.9 1 .1 1-4.3 1-12.1 1-6.7 1 4.7 1-1.4 1 2.4 1-2.7 1-7.9 1-3.7 1 2.7 1-.7 1-3.7 1-6.9 1 10.6 1-1.9 1 2.1 1 1.1 1-7.2 1 1.6 1 3 1 4.3 1 5 1 6.4 1 .5 1-.9 1 2.2 1 9 1-1.8 1-1.6 1 12.6 1 2.8 1 5.7 1 2M620 813.7l1-5.9 1-18.9 1-6.8 1-10.7 1-.8 1-.3 1-1.4 1 .2 1-3.4 1-4.5 1-4.7 1-7.4 1 5.8 1-10.4 1-8.4 1-4.8 1-3.2 1-4.8 1-1.1 1-4.1 1-8.8 1-13.9 1-3.8 1 10.9 1 7.2 1-9.3 1-11.6 1-6.2 1-6.9 1-.4 1-6.4 1-6.6 1 4.7 1-3.6 1-5.5 1 .3 1-1.8 1 2.5 1 6.8 1 0 1-.7 1 8.4 1 6.1 1-3.4 1-3.6 1-12.3 1-1.9 1 5 1 7.8 1 4.6 1 .1 1 4.9 1-3.6 1 .2 1 1.4 1 .7 1-1.4 1 4 1-5.8 1 1.3 1-5.1 1-.6 1 1.3 1 2.9 1 3.5 1 1.6 1 9.3 1 3 1 .3 1-3.9 1-3.5 1 2.9 1-2.1 1 2.3 1 .1 1-2.7 1-.5 1 5 1-1 1-4.4 1 5.4 1 3.1 1-1.3 1-6.5 1 7.2 1 2.6 1-1 1 1.1 1 .5 1 .9 1 0 1 3.9 1-2.7 1 5 1-.3 1 8.9 1-1.3 1-2.2 1 .8 1-.4 1-2.2 1-.6 1 3.3 1 1.9 1 1.3 1 .8 1-5.8 1-1.7 1 2.5 1-2.5 1-2.8 1-2 1 5.5 1 1.4 1 2.1 1 1.7 1-2.4 1-.8 1 1.8 1 1.4 1 2.4 1 2.4 1-.1 1 1.5 1 1.4 1 .4 1 2.1 1 4.6 1-2.5 1 .6 1 1 1-4.5 1 1.8 1-.3 1 2.8 1-1.5 1 5.2 1-.2 1 1.4 1-1.5 1 .7 1-3 1 3.4 1-3.6 1 4.7 1-4.8 1-2.4 1 7 1 .2 1-.1 1 .4 1-.2 1-.9 1-1.1 1 2.5 1-3.1 1 3.1 1 .7 1-3.4 1 2.9 1 1.4 1 2.1 1-2 1-2.8 1 2.6 1-3.8 1 1.9 1-2 1-3.1 1 3.7 1 .4 1-.7 1-3.4 1 0 1 .4 1 5.9 1-.3 1 2 1-3.1 1-.3 1-7.7"/>
<path d="M178 724.7l1-1.9 1-2.1 1 .2 1 .4 1 .6 1-.6 1 1.1 1-.1 1 .8 1 .1 1 .4 1-.4 1 .2 1 .6 1 .4 1-.1 1 0 1-.4 1 .5 1-.2 1-.5 1-.4 1 .2 1 .3 1-.2 1-1.6 1 .8 1 .4 1 .3 1-1 1-.1 1-.2 1-1.2 1 .3 1-.2 1-.7 1 .4 1 .7 1 1 1 1.2 1 .4 1-.2 1-.2 1 1.8 1-.5 1 1.1 1-1.2 1 .4 1 2.1 1 .5 1-.4 1 .1 1 .3 1 .9 1 .6 1-.6 1-.2 1 .2 1-.3 1 .5 1-.9 1-.7 1 0 1-1 1-1 1 1.3 1 .5 1-.9 1 0 1 .4 1-1.3 1-.1 1-.1 1 1.6 1 .1 1-.8 1-.9 1-.5 1-.1 1 0 1 .9 1 .2 1-1.4 1-.7 1 .1 1 2.7 1-.6 1 2.4 1 2.1 1-1.6 1 1.2 1 .4 1-.8 1 .8 1-.4 1-3.4 1-.2 1-1.3 1-1.3 1-2.1 1 .4 1 1.1 1 1.5 1-1.9 1 2.1 1 .7 1 0 1 2.3 1 .3 1 2.1 1 3.2 1 .9 1-2.1 1-.9 1 .4 1-.7 1-3.1 1 .9 1-1 1-1.4 1 .7 1-2.3 1 .8 1-.1 1 4.6 1-.6 1-4.4 1-.2 1 5.3 1-.3 1 1 1-.2 1-4.9 1 .6 1 2.7 1 1.4 1 2.6 1-.7 1-2.2 1-2 1-1.3 1 1.5 1-.8 1 1.1 1-2.3 1 2.1 1-.5 1 .6 1-5.1 1-1.5 1 .3 1 1 1-.7 1-3.4 1 3.8 1 .5 1-2.4 1 .3 1-1.4 1-2.4 1 1 1-1.6 1 .5 1 1.6 1 2 1-.2 1 2.2 1-3 1 2.2 1-1.2 1 .6 1-2.4 1 2.3 1 1.5 1-3 1 .3 1-1.4 1 5 1-.9 1 1.4 1-1.5 1 3.3 1-2.4 1-1.7 1 1.9 1-2.1 1 1.1 1-1.3 1-2.9 1 2.3 1 3.8 1 .6 1 .3 1-.3 1-1.2 1 2.7 1-2.7 1-1.4 1 .8 1 0 1-.4 1 1.2 1-1.1 1-2.3 1-.3 1 0 1 .8 1-.5 1 .8 1-4.5 1 2.9 1-4.4 1 2.2 1-2.6 1-1.1 1 1.5 1 1.2 1-.1 1-1.1 1-.5 1 1.5 1-3.4 1-2.7 1 2.5 1 2.5 1-1.8 1 .7 1 .2 1 1 1 3.8 1-2.7 1-3.9 1 .4 1 0 1 1.3 1-4.3 1 .1 1 1.1 1 .1 1 1.2 1 .9 1 2 1 3.4 1 4.7 1 1.6 1-2.8 1 .8 1-.1 1-1.5 1 .4 1-1.4 1 3.7 1-3 1-4.5 1-1.2 1 .8 1 .2 1 6.5 1 5.5 1-1.7 1 .7 1-.7 1-2.3 1-2.1 1 1.5 1-5 1 1.4 1-7.2 1 .1 1-.9 1 3.6 1 2.6 1 4.9 1-1.9 1 0 1 1.2 1 .2 1-1.8 1-2.2 1 2.5 1-3.8 1-2.5 1-2.2 1 5.9 1 4.4 1-.1 1 1.4 1-2.1 1 .1 1 6.2 1-4.6 1 8.1 1 1.4 1 6.1 1 1.8 1 3.3 1 6.8 1 7 1 1.8 1-1.3 1-3.8 1-1.1 1 1.9 1-7.8 1-4.8 1 3 1-1.9 1 .7 1-3.5 1-.5 1-4.6 1-7.7 1-6.5 1-7.5 1-8.4 1-8.9 1 4.1 1 7.4 1-7.9 1 8 1 1.8 1-2.6 1 5.6 1 2.3 1 7.3 1 17.7 1 5.1 1-.7 1 2.1 1 7.3 1 .7 1 3.1 1-1.2 1 6.1 1 1.8 1 1.3 1-6.7 1 3.9 1 7.6 1-11.5 1 12.2 1 3.9 1 .6 1 7.3 1 4.7 1 8.4 1 6.4 1 2.4 1 2.7 1 4.1 1 .1M592 813.7l1-3.9 1 0 1-.3 1-1.2 1-9.5 1-2.2 1-7.9 1-11.9 1-12.8 1-2.9 1-11.2 1-18.5 1 1.8 1-16.4 1 5.2 1-7.8 1-15.2 1-6.9 1-7.9 1-7.9 1-4.4 1-14.1 1-5.4 1 7.8 1 9.3 1 2.8 1-3 1-9 1 7 1-13.4 1-1.4 1 11.3 1-3.3 1-10.3 1 2.7 1 1.5 1-4.2M718 650.2l1 1.7 1 .9 1 6.7 1 1.7 1-2.3 1 8 1 4.9 1 .9 1 1.8 1 .6 1 1.8 1-.3 1 1.9 1 2.4 1-.9 1-4.1 1 4.8 1 2.2 1 8 1 .5 1 .8 1-.6 1 .9 1 2.4 1 1.5 1-.6 1-.9 1-1.1 1-.6 1-2.2 1 4.1 1 4.1 1-2.3 1 1.3 1 4.3 1-4 1 1.4 1-1.8 1-4 1 1.9 1 1.4 1-2.1 1-.6 1 2.1 1 .5 1 1.1 1 1.5 1-.3 1 2.1 1 .4 1 2.8 1-1.1 1 1 1-.8 1 1.2 1 1.1 1 2.2 1 2.7 1 .2 1-.9 1-1.4 1 .6 1 0 1 4.7 1 5.4 1 0 1-1.3 1-2 1 1 1 .5 1 1.5 1 4.3 1-5.6 1-2.3 1 1.1 1 .6 1 4 1-.7 1 1.7 1-4.9 1 4.7 1-4 1 2.9"/>
<path d="M178 727.9l1-1.6 1-.4 1-.5 1 .2 1 0 1 0 1 .2 1 .3 1 .3 1 .1 1-.4 1 1.2 1-.6 1-1 1 .4 1 .4 1-.4 1 0 1-1.1 1-1 1-.5 1 0 1 .5 1 1.1 1 .6 1-1.5 1-.4 1 .1 1-.1 1-1.3 1 .8 1-.6 1-.2 1 .5 1-.6 1 .1 1 1.6 1 .6 1-.5 1 .5 1 .9 1-1 1 0 1 .6 1-1.3 1 .6 1 1 1-1.5 1 2 1 .3 1-.5 1 .6 1 0 1 1 1 .3 1 1.3 1 .5 1-.8 1-.7 1 .3 1-1.3 1 .5 1-.7 1 .4 1-1.5 1 .2 1 1.8 1-.9 1 .5 1-.3 1-1.7 1 .9 1-.7 1 .9 1 .2 1 .4 1-1.8 1 1 1 1.2 1-.1 1 .1 1-2.3 1-1.6 1-.1 1 0 1 2.1 1-2.3 1 1.2 1 .1 1 .9 1 1.9 1 1.1 1-.5 1-1.6 1-1 1-1.3 1 2.4 1-2.9 1-.9 1 0 1 .9 1 1.7 1 .8 1 .1 1 1.7 1-1.4 1-1.7 1-1.1 1-.7 1 .1 1-1.6 1-1.1 1 1 1-.1 1 .1 1-1.6 1-1.1 1 2.5 1 .3 1 .7 1 1.1 1-2.5 1 .8 1 .8 1-2.9 1 .6 1 .2 1 2.7 1 .4 1-.5 1-.4 1-2.5 1-1.1 1 2.9 1 .4 1-.2 1-.7 1-1.2 1-2.5 1 3 1 .2 1-.1 1 2.1 1 1.4 1 .9 1 .6 1-2.6 1 .3 1 .4 1 2.7 1-.6 1-1.1 1 .4 1-.8 1-2.1 1-4.3 1-3 1 3.4 1 .6 1 .6 1 .7 1 .7 1 .4 1 .7 1-1 1-2.4 1 1.4 1 .2 1-.9 1-2.7 1-2.6 1 1.3 1-.3 1-4.4 1-1.6 1 1.8 1-.8 1 3.5 1 6.3 1 .4 1-.4 1 4.7 1 1.7 1-1.1 1-5.9 1-1.4 1 4.7 1 .1 1-3.1 1-1.1 1-1 1 .8 1 2.5 1-2.2 1 1.5 1-1.3 1 4 1-1.5 1 2.5 1-1.6 1 1 1 3 1-5.1 1 2.5 1 3 1-3 1 2.4 1-.9 1-4.6 1-3.5 1 5.2 1-4.5 1-4.2 1-1.7 1-2.8 1 1.8 1-4 1-1.8 1 2.6 1-2 1 .5 1-2.9 1 .7 1-3.3 1 4.6 1 1.6 1-1.8 1 1.7 1-.3 1-1.2 1 3.4 1 .2 1 1.5 1 1.5 1-2.3 1 1.2 1-2.1 1-2.4 1-2 1-2 1 3.5 1 1.8 1 4 1 4.3 1 3.1 1-.1 1-2.1 1-5 1 1.1 1-2.8 1 .1 1 1.6 1-1.8 1 .8 1-1.4 1 2.2 1 0 1 1 1-.4 1-1 1-5.2 1 6.9 1-6.5 1-4.5 1-1.2 1 1.2 1 4.9 1-.1 1-.5 1 1.2 1-3.2 1 1.8 1-1.1 1-1.2 1-4.1 1 .7 1 2.8 1 .9 1 2.6 1 4 1 1.5 1-4.4 1 0 1 .4 1 5.7 1 2.7 1 1.7 1 .8 1-.4 1-.5 1 7.1 1-.5 1-.8 1 1.2 1 6.4 1 4.5 1-.7 1 3.3 1 7.1 1-11 1-.2 1-6.5 1-2.2 1 5.3 1 3.5 1-1.2 1 2.8 1 5.7 1-2.2 1-3.7 1-4.2 1-1.3 1-.6 1-18 1 5.6 1 .3 1 11 1 2.3 1 4 1-7.6 1-4.6 1-.1 1-.4 1 9.3 1 9.5 1 1.4 1 2 1 13.2 1 10.6 1-3 1 6.9 1 4.8 1-2.7 1 2.5 1-2.4 1-3.1 1-2.1 1 4.8 1-2.9 1 4.8 1-6 1-2.4 1-4.8 1 8.3 1 5.1 1 14.7 1-1.4 1 2.5 1 17.7 1 4.2 1-.8 1 .8M600 813.7l1-15.3 1-17.3 1-16.1 1-3.3 1-8 1 2.8 1-10.1 1 .8 1-5.8 1-3.5 1-10.8 1-23.5 1-5.1 1 9.3 1-5 1 4.9 1 6 1-22.3 1 4.2 1-11.9 1-8.9 1-11.2 1-4.5 1-2.1 1-6.8M627 650.2l1 1.1 1-1.1M684 650.2l1 .1 1-.1M688 650.2l1 4 1-4M695 650.2l1 1.6 1-1.6 1 1.2 1 2 1-2.5 1 6.9 1 5.7 1 6.6 1-7.7 1-2.7 1-3.2 1-.9 1 .9 1 6.6 1 .6 1-.6 1 5 1-1.7 1 4 1-.1 1-4.6 1 8.1 1 1.9 1-2.2 1-2.2 1 7.7 1 1.4 1-.5 1 4.1 1 6.3 1-2.5 1-4.1 1 7.2 1 1.6 1 3 1-8.7 1 3.2 1-3.1 1 4.5 1-.2 1-3.7 1-.1 1 6.8 1 8.5 1-1.8 1-.5 1 2.3 1-4.9 1 2.8 1-1.8 1 4.6 1-4.2 1 2.9 1 .1 1 3 1 4.4 1-1.7 1-.2 1 2.5 1 2.1 1-4.3 1-1.6 1-.8 1 .3 1 6.8 1-1 1 2.4 1-3.8 1 2 1 4.3 1-.9 1 1.6 1 .1 1-2 1 4.7 1-2 1 1.6 1-.3 1-4 1 5.8 1-4.4 1 .5 1 .2 1 .8 1-3 1-.5 1 2.5 1 3.3 1-3.4 1 2.3 1-.7 1 2 1-4.5 1-.8 1 2.9 1 2.6 1-3.1 1 .7 1 1.1 1-1.7 1 .6 1 2.3 1 1.2 1 0 1-3.7 1 1.8"/>
<path d="M178 732.2l1 0 1 .7 1 .5 1-.1 1 1 1-.8 1 0 1 1.3 1 .6 1 .3 1 0 1 .9 1-.2 1 .4 1-.6 1-.6 1 .1 1-.5 1 .4 1 0 1 .5 1-.6 1 .4 1 .8 1 0 1-1 1 .5 1 .1 1 .5 1-.1 1 .2 1 .4 1 .2 1 1.9 1-.2 1 .4 1 1.3 1 0 1 2.1 1 .7 1 .5 1-.4 1 1.9 1 1.3 1-.8 1 .1 1 .5 1-1.6 1 2.9 1 .5 1 1 1-.4 1 .7 1 .3 1 .3 1 .3 1 .2 1 1.6 1 1 1-.7 1-1 1 1.6 1-1 1 .1 1 .7 1 2.1 1 1.5 1-1.4 1-.3 1 .1 1 .6 1-.5 1-.1 1 1 1 .1 1 .8 1 .2 1 2 1 2.5 1-1.8 1-1.6 1-1.1 1 .9 1 1.1 1 .6 1-1.1 1-1.1 1 2 1 .3 1 .6 1-1.4 1-.8 1 0 1-.4 1 1.5 1-.2 1 .2 1-.3 1-.9 1 .6 1 2.2 1 .5 1 .7 1-.5 1-.1 1 .4 1 .5 1-.7 1-.4 1 2.7 1 1.6 1-3.1 1-2.1 1-.2 1 .3 1 .9 1 .9 1-1.5 1 1.7 1 1 1-.6 1-.5 1-1.8 1-3.1 1 .6 1 .7 1 1.1 1-.8 1 .6 1-1.1 1 0 1-.6 1-1.8 1 1.6 1 3 1 .9 1 1.1 1 .3 1-1.2 1 3 1-.9 1-.7 1 .4 1 1.1 1-1.8 1 .4 1-.1 1 .5 1-.2 1-1.6 1-.2 1-2.7 1 1.8 1-.2 1 1 1-2.4 1-.1 1 2.4 1-2.3 1 .3 1-1 1 1.9 1 .4 1-1.2 1-.5 1-2.7 1 .6 1-1.4 1 1 1 .4 1 1.9 1 .4 1 .3 1 .1 1 2.4 1 2.5 1-.5 1-.7 1 .4 1-1.8 1 1.2 1-1.3 1 1.2 1-.5 1 .6 1 2.8 1 1.2 1-.7 1-1.6 1-1.7 1-1 1 1.9 1-.3 1-.7 1 .1 1-1.9 1 1.5 1 .5 1 .8 1-.1 1-.4 1 1.2 1-.8 1-1 1 .2 1-.6 1-.9 1-1.9 1 1.4 1-3.9 1 1.2 1 .6 1 1.9 1 1.1 1-.4 1-.9 1 .9 1 .7 1 .7 1 1.4 1-1 1 2.3 1 1.1 1-.6 1 .5 1 .1 1 .6 1-1.4 1-3.5 1 1.3 1 .3 1 1 1 1.6 1 2.1 1 1.6 1 1.2 1 .9 1 2.3 1-2.2 1 2 1 1.7 1-.5 1 1.2 1 1.3 1-.7 1 1.3 1-3.4 1 1.6 1-4.1 1-1 1 .3 1 1.1 1 1.5 1-1.1 1-1.1 1 .8 1 .6 1 .1 1-.4 1 2.7 1 2.9 1 1.2 1-.2 1-1.8 1 .5 1 .2 1 .3 1 1.5 1-1.4 1 2.1 1-1 1-.5 1 1.5 1-1.1 1-1 1 1.8 1 .2 1 .1 1 .9 1 1.1 1-.9 1 .9 1 2.7 1 2 1 3.6 1 1 1 3.2 1 3 1 5 1 6.9 1 2M631 813.7l1-7.4 1-3.8 1-3.7 1-5.4 1-7 1-2.3 1-5.3 1-4.5 1-.8 1-7.5 1-2.4 1-5.4 1-1.4 1-5 1-2.6 1-4.9 1-4.4 1-3.9 1-1.3 1-6.2 1-3.3 1-5.6 1-2.2 1-3.5 1-3.5 1-1.5 1-.6 1-3.9 1 2.7 1 .5 1 4.8 1 1.2 1-4.1 1-6.7 1-9.1 1-7.3 1 9.7 1 10.9 1 4.9 1 7.8 1 6 1-3.1 1 7.4 1 1.5 1 2.1 1 2.9 1 5.4 1 1.9 1-3.8 1 2.2 1 2.8 1-3.3 1 0 1-4.6 1 4.5 1-.5 1 .1 1-5 1-.5 1 .1 1 .9 1-3.1 1-2.5 1 .6 1 2.8 1-.7 1-1.9 1 4.7 1-.2 1 .6 1 .4 1 3.7 1 .2 1-3.7 1-.2 1 .3 1-.7 1-1.9 1-2 1 0 1 2 1-.4 1 3.7 1 .3 1 3.1 1-3.4 1-.9 1-1.2 1 1.1 1 .3 1 .9 1 1.5 1-1.9 1 1.4 1 2.5 1-.7 1-.2 1-2.4 1-.8 1 2.8 1-.5 1-2.3 1 2.2 1-.5 1-.8 1 .4 1-.9 1 1.8 1 0 1-1.2 1 .1 1 .1 1 .2 1-1.5 1 7 1-1.7 1-.8 1-.7 1-.1 1 1.6 1-1 1-.1 1-.7 1 1 1-2.4 1 2.8 1 .9 1-1.6 1-.7 1-1.3 1 .9 1-5.2 1 .5 1 2.6 1-4.9 1 2.7 1-.7 1-2.7 1 1.1 1 2.9 1 .6 1-1.2 1 .9 1 .8 1 2.5 1-.7 1-6.5 1 2.2 1-2.1 1-2.5 1 2.9 1-2 1-1.9 1 .8 1-1 1-.3 1 .7 1 1.6 1-1.1 1 5.9 1 1.6 1-.9 1 1.8 1 1.7 1-5.2 1 2.2 1-4.2 1 3 1-.2 1-.8"/>
<path d="M178 730.1l1-.1 1-.6 1 .9 1 .6 1-.3 1 0 1 1.3 1 0 1-.2 1 1.1 1 1.4 1 1.5 1-.4 1 .3 1 .9 1-.5 1-.1 1-.9 1 .2 1 1 1-.1 1 .7 1 .1 1-.3 1 .9 1-.8 1-.9 1 .8 1-.3 1 .2 1 .1 1 .1 1 .5 1 1.3 1 .3 1-.7 1 1.3 1-1.3 1-.7 1 .2 1 1.5 1-1.1 1 .6 1 .9 1 .2 1 1 1-.3 1 1.6 1 1.5 1 .4 1 .4 1 1.1 1 1.5 1 .6 1 .9 1-.2 1 0 1-.5 1-.7 1-.7 1-.6 1-.8 1-1.5 1-1.2 1 1.2 1 .6 1-.1 1-2.4 1-.1 1 .3 1-.5 1-.4 1-1.5 1 1.9 1 .3 1-.4 1 .3 1 1.5 1 .6 1-.5 1 .6 1-.4 1-.7 1 .3 1-.4 1 1.4 1-3.2 1 1.1 1 2 1-.6 1-.7 1 .7 1 2.6 1 .7 1-.1 1-2.9 1-.6 1-2.2 1 .9 1-2.2 1 2.5 1-.2 1 1.4 1 2.8 1 1.9 1-1.3 1-.5 1 1.1 1-2.2 1 .7 1-3.1 1-3.2 1-3.3 1-1.7 1-.7 1-1.7 1-2 1 .2 1-.2 1 1.1 1-1.8 1 1.4 1-3.6 1-3.3 1 2.7 1-4.1 1-1.1 1 0 1 .4 1 2.3 1 4.4 1 0 1-.1 1 1.7 1 2.1 1 .2 1-.2 1-1.9 1 .2 1 2 1-.2 1 .6 1 .1 1-1.5 1-5.4 1-2.3 1-2.5 1 .2 1 1.6 1 2 1-1.3 1 .5 1 .3 1 1 1 .3 1-1.6 1-1.8 1 3 1 .5 1-1.9 1 1.3 1 2.9 1 .9 1 .6 1-1.1 1-3.3 1-.3 1-.4 1 2.5 1 .6 1 2.9 1 .7 1 1.1 1 3.4 1-2.3 1-.4 1 .8 1 .5 1 3.8 1 .3 1-.6 1 .4 1-1.6 1-2.8 1-2 1-1.6 1 1.2 1 3.4 1-2.9 1 .6 1 1.6 1 2 1 .2 1 1.1 1-.3 1 .1 1-2.7 1 2.1 1 .6 1-2.3 1 .9 1-1 1-1.7 1-.9 1-.8 1-1.3 1 0 1 1.2 1-4.2 1-1.2 1 3.1 1-4.8 1 .8 1 1.6 1-1 1 1.1 1 2.4 1-1.3 1-3.2 1 .5 1-1.1 1 .6 1 .8 1 .5 1-2 1 .1 1 .3 1-.1 1 .4 1 2.1 1-2.1 1 .2 1 1.3 1 2.7 1-1 1 4 1 0 1-.9 1-2.3 1 0 1 3.9 1-3.2 1 1.3 1-1.6 1-.7 1-1.9 1-5 1-3.5 1 1.6 1-3.4 1-1.8 1 5.7 1-.3 1 .9 1-1.6 1 2.2 1 1.1 1-1.2 1 4 1-7.8 1 1.9 1 5.6 1-3.4 1 .3 1-3 1-.7 1 6.4 1 2.7 1 1.3 1-2.4 1 3 1-.3 1-.4 1 3.7 1 1.2 1-1.6 1 .4 1-1.6 1 5.2 1 1.1 1 1.8 1 2.6 1 1.5 1 1.1 1 2.8 1-1 1 2.6 1 5 1 7.1 1 7.1 1 2.5 1-.4 1-2.9 1-.7 1 7 1 2.2 1 2.6 1-.7 1 7.3 1-.4 1-9.3 1 .1 1-11.4 1-1.2 1 4.7 1-5.8 1 .8 1-2.2 1 15.3 1 5.2 1-3 1-2.9 1-3.2 1-4.4 1-2 1 3.1 1-12.1 1 9.7 1 1.6 1-1.9 1-6 1 3.2 1-3 1 3.2 1 16.6 1-7.7 1 12.4 1-1.9 1 2.8 1 7 1 4.5 1 5.5 1 4.7 1 2.5 1 1 1-.3 1 1.1 1-4 1 4.9 1-15.6 1 9.9 1 8.1 1 0 1-11.9 1 3 1 8.9M604 813.7l1-7.3 1-3.3 1 0 1 1.7 1 5.5 1-7.3 1-4.6 1-8 1-12.6 1 .8 1-6.5 1-.8 1-4.4 1-12.9 1-9.3 1-3.8 1 3 1-5.6 1-5.2 1-.4 1 3.6 1-7.2 1-3.5 1-9.1 1-5.5 1 .6 1 2.6 1-7.6 1 .3 1-5.5 1-12.1 1-7.9 1-9.8 1-8.7 1-1.7 1 5.5 1-3.7 1-6 1-6.8M673 650.2l1 3 1 1.4 1-.9 1 3.2 1-.9 1-5.8 1 4.8 1 4.1 1 .9 1-1.7 1-.2 1-6.4 1 3 1 9.3 1 4.6 1 2.6 1-5.3 1 4.5 1-4.6 1 4.6 1-2.5 1 10.2 1 1.1 1 1.5 1-3 1-1.5 1 .4 1 1.1 1-.7 1 .5 1-.9 1 3.4 1 .7 1-2.8 1 .8 1 2.4 1-1.9 1 3 1-2 1-1.3 1 4.6 1 4 1 1 1 1.4 1 1.5 1-3.1 1 2.4 1 4.2 1 1.6 1 6 1 1.6 1-1.7 1 2.9 1-4.7 1-1.3 1 .8 1-1 1 2.7 1 .9 1 3.9 1-7.6 1 1 1 6.1 1-.9 1 2.6 1-.9 1 2.8 1-.2 1 5.4 1-4.3 1 2.2 1 4.1 1 3.4 1 .7 1 .5 1 1.5 1-1.8 1 4.9 1-4 1 3.2 1-.5 1-.2 1-1.1 1-2.5 1 .2 1 6.3 1 2.4 1-4.8 1-3.6 1 1 1 2.8 1-1.5 1 .1 1-1.8 1-3.3 1 .5 1 4.1 1-5.6 1 8.8 1-2.9 1-5.5 1-.9 1-.7 1 .8 1 1.9 1 1.3 1-.5 1-3.6 1-1.4 1 4.5 1-.8 1 .6 1-1.8 1 4.7 1 0 1 .3 1 .9 1-1.9 1-3.2 1-4.6 1 4.2 1-1.6 1 6.8 1-1.2 1-2.8 1 1.7 1-.9 1-1.2"/>
<path d="M178 727.8l1-2.2 1-1.9 1-.3 1 .8 1-.3 1-.4 1 .1 1 .9 1 .2 1 .5 1 .1 1 .5 1 .1 1 .5 1-.3 1 .1 1-.4 1-.7 1 .2 1-.3 1-.4 1 .2 1-.6 1 .3 1 .3 1-.8 1-.9 1 .9 1-.3 1-1.3 1 1.1 1 .1 1-.9 1 .4 1-.6 1-.2 1 .3 1 0 1-.4 1 1.1 1 .5 1-.7 1 1.1 1 1 1-1.2 1-.1 1 0 1-.4 1 .9 1 1.2 1-1.1 1-.6 1 .3 1 .9 1 .7 1 .5 1 .6 1 .2 1 0 1 .5 1 .1 1-.2 1-.6 1 .5 1-.3 1-.1 1 1.5 1-1 1 0 1 .5 1-2.4 1 .6 1 .5 1 .6 1 1.5 1-1.4 1-.5 1-.6 1 1.6 1 1.1 1-1.7 1-.6 1-.3 1 .8 1-1.7 1 .8 1-.9 1 1.9 1 1.6 1 .2 1 1.8 1 1.5 1 .8 1-1.3 1-1.9 1-4.2 1-2.4 1-1.2 1-2.2 1-.5 1-1 1 .5 1 1.8 1-2.5 1-.4 1-.8 1 1.1 1-.4 1 4.1 1 .7 1-1.2 1 2.1 1-3.6 1-.6 1-.7 1-1.7 1-.8 1-1.6 1-2 1 1.2 1-2.2 1-.8 1 .2 1-1.5 1 .7 1 .6 1 1 1-1 1 .6 1 .5 1-.2 1 1.1 1-.3 1 4 1-2.1 1-1.8 1-.9 1 0 1-1.8 1 1.4 1-.4 1-.3 1-.6 1-1.6 1-.4 1 1.2 1-.7 1 0 1 .5 1 1.6 1-.6 1-2.3 1-2.4 1 1.3 1-2 1-.5 1 0 1 1.4 1-1.1 1-3.1 1-.4 1 .8 1-.1 1-1.3 1-2.4 1-1.6 1 .2 1-1.8 1 .1 1 1.4 1-.2 1 1 1-2.1 1-1.4 1-1.4 1-.3 1 2.8 1 2.2 1 0 1-.7 1 1.5 1-.4 1 2.7 1 1.6 1-2.2 1 2.4 1 .1 1-3.7 1 0 1-1 1-.5 1 2.6 1-.3 1-2.5 1 .7 1 1.5 1-1.7 1-.8 1 1.5 1-1 1 .9 1 .5 1 2.3 1-2.3 1-2.1 1-2.6 1-3.3 1 1.6 1-2.4 1 .1 1 2.1 1-2.2 1 2.4 1 1.6 1 2.2 1 .5 1-.1 1-.1 1-4.5 1-2.7 1-2.7 1-.5 1 .5 1 2.7 1 .8 1-2 1 1.2 1-1.4 1 1.3 1 4.7 1-4.6 1 4.6 1-1.8 1 3.3 1-2.3 1-3.8 1 4 1-1.5 1-1.8 1-2 1 2.5 1 4.1 1 2 1 .8 1 .1 1 .2 1 .4 1 1.6 1 2.5 1-4.7 1 .5 1 .7 1 1.3 1 1 1-4.9 1-.2 1-.3 1 1.1 1 .9 1 .9 1-2.2 1 1.5 1-1.2 1 .4 1-.3 1-.4 1 2.5 1-3 1 1.1 1-1.2 1-3.4 1 .8 1-3.6 1-1 1-.3 1-1.4 1 1.5 1-2.4 1-.7 1 4 1-1.8 1 5.3 1-3.8 1 1.1 1 .9 1 1.5 1 1.1 1 2 1-1.2 1-1.7 1-.6 1 3.6 1 2.2 1 .9 1 1.8 1 .8 1-.5 1 4.2 1-1.1 1-2.1 1-2 1-2.3 1-1.4 1-1.5 1-1 1-1.5 1-1 1-1.4 1-4.2 1-.5 1-1.4 1-1.6 1-2 1-1.6 1 0 1-1.2 1 .4 1 0 1 .3 1 3.7 1 .1 1 .6 1 1.3 1 3.2 1 6.3 1 8.6 1 7.8 1 7.4 1 5.3 1 .3 1-1.4 1-1 1 1.7 1 1.6 1-1.3 1 1.7 1-.4 1 .5 1 .5 1 .7 1 .2 1 1.6 1-.6 1 .6 1 4.8 1 3.9 1 3.7 1 3.3 1 5.1 1 5.5 1 3.6 1 6.8 1 5.7 1 7.3 1 3.1 1 4.4 1 6 1 4.8 1 5.7 1 7.1 1 2.2 1 2.6 1 2.1M586 813.7l1-.9 1-5.4 1-5.9 1-5.7 1-8.7 1-7.6 1-3.7 1-9.7 1-8.8 1-6.6 1-9.2 1-7.6 1-7.3 1-6.6 1-7.7 1-5.7 1-5.9 1-11.1 1-7.7 1-4.4 1-3.3 1-1.4 1-5.6 1-1.5 1-1 1-.5 1-4.9 1-4.5 1-4.6M725 650.2l1 3.2 1 1.6 1 6.2 1-1.1 1 2 1 2.2 1 .7 1-.8 1-.3 1-1.2 1 8.9 1 1.3 1 4.8 1-1.5 1-1.5 1-1.8 1 2.6 1 3 1 2 1-3.2 1 2.6 1 2 1 1.6 1 4.1 1 3.8 1-.4 1 1.3 1-1.3 1 4.4 1 1.9 1-1.4 1-.4 1 4 1-1.9 1 1.8 1 1.6 1-4 1 4.4 1-.7 1 3.8 1-4.1 1-3.3 1 5.9 1-2.7 1 1.4 1-4 1 4.5 1 1 1 1.5 1-.3 1 .7 1-.7 1 6.8 1-4.4 1-.4 1-2.7 1 .3 1 1.3 1 3.6 1-.9 1 1.9 1 4.2 1-.6 1-.8 1 1.5 1-2.5 1-3 1 1.2 1 1.4 1-.5 1 5.2 1-1.7 1-.2 1-1.9 1 2.1 1-.5"/>
<path d="M178 726.3l1-1.8 1-1.1 1-.1 1-.1 1 0 1 .1 1 .5 1 .4 1-.7 1 .8 1-.7 1 .3 1-.2 1 .2 1 .6 1-.4 1 .8 1-1.2 1 .4 1-.1 1-.1 1-.1 1-1 1 .4 1 .9 1-1.2 1 .3 1-.7 1 .9 1-.9 1-1.2 1 .2 1-.2 1 .5 1-.7 1 .4 1 .2 1 .5 1-1.2 1 .7 1-.4 1-.2 1 .5 1 .2 1 .5 1 .6 1-.3 1 0 1 2.5 1-.1 1-.1 1-.4 1 .7 1-.3 1 1.2 1-.6 1 .6 1 1 1 .7 1-.8 1-.3 1-1.4 1-1.7 1 0 1 1.2 1-.1 1 .2 1-1.4 1 .1 1 .9 1-1.6 1-.3 1 .8 1 2.2 1 1.7 1-1.7 1-1.2 1-.1 1-.1 1 .1 1-.8 1-.8 1 .2 1-1.4 1-.4 1-.9 1-.8 1 .3 1 .4 1 1.2 1-.5 1 1.3 1 0 1-1.5 1 1.1 1-1.6 1 .1 1-2.7 1-1.7 1 1 1-.6 1 1.4 1 .9 1-1.6 1 .4 1-1.5 1-1.7 1 1 1 .1 1 1.4 1-1.2 1 .2 1 .1 1-2.7 1-3.4 1 1.2 1-.5 1 1.1 1 .6 1 .5 1-3.6 1 .5 1-.3 1-.7 1 1.8 1-1.4 1 .8 1-.9 1 0 1-.4 1 2.2 1-.9 1-2.5 1 .7 1 2.6 1 .4 1 1.2 1-.2 1 .5 1 1.6 1-.9 1 1.4 1-.1 1 1.7 1-2.7 1 .5 1-.5 1 .2 1 .5 1-.3 1-.6 1 .7 1-2.2 1 1 1-1.6 1 .4 1 .7 1 .9 1-2.5 1 1.3 1 2.9 1 1 1-2.5 1-.7 1 2.6 1-3.7 1 1.1 1 1.8 1 .1 1 2.2 1 .1 1-1.4 1 .4 1-3.1 1 .3 1 1.2 1-3.3 1 1.5 1-2.6 1 .3 1 1.4 1 1.7 1 .1 1-.7 1 4.7 1-.4 1 1.2 1 .6 1-2.7 1 .8 1-1.4 1-2.5 1 .4 1 1.3 1-.3 1 1.4 1 3.6 1 .8 1-1 1-4.9 1 .6 1-1.9 1-2 1 5.5 1-2.5 1-3.5 1-4.3 1-4 1-.4 1 .1 1 .8 1-.5 1-2.8 1 .2 1 0 1-.6 1-.6 1-4.2 1 .5 1 2.4 1-1.2 1-.2 1 1.6 1-.1 1 1.2 1-.1 1 1.8 1-5.5 1-4.8 1 2.4 1 2.3 1-2.4 1 3 1 1 1 2.2 1-.5 1-1.8 1-.3 1 .5 1 3.1 1-.5 1 .4 1 1.6 1 3.3 1-1.2 1-2.5 1 .5 1-2.4 1-1.7 1 3.4 1 4 1 1.6 1 1.4 1-2.2 1 1.1 1-.9 1-5.9 1-1.4 1-2.1 1-1.7 1 .5 1 3.2 1 .8 1-.1 1 .6 1-.5 1 1.9 1 0 1-2.2 1 1.4 1-1.3 1-1.5 1 1.9 1-1.2 1 1.5 1 2.9 1-1.3 1-4.2 1 2.8 1 3.3 1 .8 1 .6 1-3 1-.6 1 1.6 1 6.8 1-1.9 1 2 1-4.7 1 2.1 1-.5 1-.4 1-1.2 1 3 1-.7 1 2.2 1 1.7 1-2 1 5.9 1-1.9 1-4.1 1-1.9 1-5.2 1 4.1 1 8.8 1 3.6 1-2.4 1 .7 1-1 1-7.2 1-6.4 1-3.6 1-6.5 1-3.2 1-5.9 1 10.7 1 .4 1 6.5 1-2.5 1 .8 1 8.2 1-6.9 1-.5 1-5.1 1 7.1 1 10.1 1 9.1 1 4.6 1 5.7 1-4 1 .9 1 2.5 1-2.5 1-.1 1-2.8 1-.6 1 5.7 1-3 1 9.1 1-1.3 1 0 1 7 1-3.3 1 .1 1 6.6 1 6 1 9 1 4.8 1 3.9 1 7.9 1 2.3 1 5.5 1 1.9 1-3.2 1 11.9 1-4.4 1 6.6 1 3 1 7.4 1 6.6 1-.9 1 .9M587 813.7l1-2.1 1-1.4 1-.9 1-5.7 1-19 1-6.1 1-2.7 1-13.8 1-4.9 1-11 1-1.5 1 5.8 1-4.2 1-8.8 1 1 1-5.2 1 3.5 1-7.3 1-18.9 1-12.3 1-9.5 1 .6 1 .2 1 .9 1-5.6 1-12.5 1-12.9 1-9.2M620 650.2l1 9.2 1-2 1-5.8 1 2.1 1-3.5M718 650.2l1 5.8 1-3.7 1 0 1 2.3 1 .3 1-.5 1-.8 1 1.1 1 5.1 1 4.6 1 1.7 1 11.3 1-1.8 1-1.9 1 1.9 1 1.5 1 4.3 1 0 1 0 1-2.2 1 4.5 1-3.3 1-.1 1 5.8 1-3.7 1 .5 1-1.9 1 8.3 1-2.3 1-.8 1-.7 1 3 1-.3 1 4.6 1 .1 1-2.9 1 2.8 1-3.3 1 3.1 1-2 1-.3 1 0 1 .4 1-3.8 1 6 1 3 1 2.6 1-1.9 1 2.4 1 0 1-1.7 1-.1 1 1.3 1 .9 1 5.1 1-2.2 1 4.7 1-1.5 1-2.2 1-2.9 1 6 1-.9 1 .2 1-.3 1 .5 1 1 1-4.8 1 3.3 1 .4 1 3.7 1-2.9 1 2.2 1-.6 1-1.4 1 2.9 1-.8 1-.2 1 3.5 1-1.2 1-3.3 1 .5 1-1.9 1 5.4"/>
<path d="M178 731.3l1-.2 1-.3 1 .3 1 .7 1 0 1 .5 1-.2 1 0 1 0 1 .3 1-.3 1 0 1 .6 1-.2 1 2 1 .4 1-.2 1 .2 1 .5 1 .4 1-.4 1 .7 1 .2 1-.3 1 .4 1-1.2 1 0 1 .7 1 .6 1-.3 1-.2 1 .3 1 .6 1 .8 1 .3 1-.6 1 1.2 1-.5 1 .5 1 .9 1 1 1 0 1 .9 1 1.9 1-.6 1 .3 1 .6 1 .2 1 1.8 1 1.3 1 .5 1 .5 1 .3 1-.4 1 1.4 1-.4 1 .9 1 .9 1-1.2 1-.2 1-.8 1 1.8 1-2.3 1-.1 1 .3 1 1.5 1 1.4 1-1.4 1-1.1 1 .5 1-2.1 1-.4 1 1.4 1 .3 1 2.4 1 1.2 1-.8 1-.6 1 1.3 1-1.7 1-.5 1-.4 1-1.4 1-.6 1-1.9 1 1.4 1-.7 1 1.5 1 .5 1-1.4 1 .2 1 2.3 1-.3 1 2.9 1-.4 1 .1 1 0 1-1.2 1-.7 1-.5 1 .2 1-1.3 1 1.8 1-.5 1 .1 1 2.1 1-2.3 1-2.2 1 .9 1 .3 1 .7 1-.3 1 .1 1 1.6 1 .1 1-.5 1-.8 1 3.4 1 2.2 1-.4 1-.7 1-1.5 1-2.6 1-.5 1 .2 1 1.7 1 .9 1-4 1-.6 1-.8 1 2.9 1 2 1 .1 1 2.8 1-.1 1-.3 1-.6 1 .9 1-.4 1 1.5 1 .2 1-.3 1-.7 1 0 1-4.2 1 .4 1 .6 1 0 1 .3 1 .4 1 0 1-.2 1 .9 1 .8 1-.7 1-.2 1-1.8 1 1.2 1-2.6 1 .4 1 .7 1 1.1 1 1.2 1 1.5 1-2.2 1-1.5 1 2.3 1-1 1-1.1 1-.9 1 1.5 1-1.2 1 .5 1 0 1-2.3 1-.9 1-1.6 1 .4 1-2.3 1-2.8 1-1.7 1-.1 1-1.1 1 .9 1 1.2 1 2.8 1 .8 1-.8 1-.7 1-.2 1 3 1-2.7 1-1.9 1-.5 1 3.6 1-.1 1 .3 1-1.3 1 .5 1-.7 1-.3 1-1.2 1 2.1 1 .5 1 .8 1 .3 1-3.2 1 .4 1-1.2 1-1.8 1 3.1 1-.8 1-2.7 1 1.2 1-.7 1-.2 1-3.3 1 1.2 1-2.8 1-2.5 1-1.4 1-1.2 1 .1 1 1.8 1 3.3 1-.4 1 .5 1-.1 1-.3 1 2 1 .2 1 4.3 1-.3 1 2.4 1-.4 1-1.5 1-1 1-.5 1-1.6 1 .2 1 .6 1 1.7 1 .1 1-1.5 1 4.8 1 1.4 1-2.3 1 .2 1-2 1-.9 1 .9 1 4.6 1 .7 1-.9 1-1.5 1 5.6 1 0 1-1.6 1 1.6 1 .6 1 2.7 1 1.1 1-.9 1-2 1-.9 1 2.3 1 4.2 1-3.8 1-1.5 1-3.8 1-1.2 1 2.9 1 3.2 1-5.8 1-1.7 1-.5 1-1.5 1-.1 1 1.4 1 .3 1-.2 1 1 1 4.6 1 5.2 1 5.6 1 1.1 1 8.5 1 2.2 1 6.1 1 7.3 1 4.3 1 3.1 1 13 1 5.1 1 3.1M483 813.7l1-2.5 1-6.3 1 2.8 1-2.6 1 1.9 1-.9 1-1.1 1 2.6 1-2 1-7.9 1 1.7 1-.4 1-2.7 1 3.1 1 6.6 1-1.5 1 9.2M620 813.7l1-1.6 1-4.5 1-8.7 1-9 1-1.2 1-1.6 1-4.7 1-2.4 1-.3 1-.9 1-2.4 1 6.9 1-1 1-2.9 1-8.1 1 .2 1-3 1-5.8 1-14.6 1-4.6 1 .3 1-2.5 1-.5 1 1.7 1-6.8 1-1.5 1 1.3 1-5.9 1 1.9 1-1.7 1-11.3 1 .3 1-1.4 1-2.4 1-5.1 1-4.1 1 1.2 1-3.6 1-3 1-5.7 1-1.2 1 5.6 1-.6 1 .1 1-7.5 1-7.5 1 .5 1 2.7 1 15.1 1 4.8 1 6 1-1.1 1 6.1 1 7.8 1-1.6 1 4.8 1 7.6 1 6.5 1 .6 1-2.9 1 3.2 1-4.1 1 4.8 1 2.9 1-12.7 1 4.2 1-4.1 1 .5 1-6.3 1 0 1 .6 1 3.8 1 5.1 1-.6 1 .8 1 1.6 1 1.5 1 .2 1-6.1 1-1.6 1-1.3 1-1.4 1 1.1 1 .2 1 1.1 1-1.6 1 4.5 1 2.4 1-1.9 1 3.3 1-.9 1-2 1-4.2 1 3.9 1-1.6 1-.5 1 1 1 .2 1-2.9 1 .5 1 .2 1 2.4 1-.3 1-.1 1 .6 1 3.7 1 .1 1-1.8 1 5.5 1-5.8 1 4 1-6.1 1 3.7 1-4.5 1-.9 1-.9 1 2 1 1.7 1-.1 1 2.8 1 3.5 1-3.4 1 0 1-1.5 1 .4 1 .3 1 .5 1 3.5 1-2.3 1 4.4 1 .7 1-1.7 1 .6 1-1.7 1 .5 1 .2 1-2 1 3.2 1-2.3 1-1.5 1 3 1-3.6 1 2.7 1-2.5 1 .1 1-.3 1 1.5 1-5.2 1 4.1 1-1.8 1 .4 1-1.8 1 3.4 1-4.2 1 3.7 1-4.5 1-2.8 1 3.8 1-2.8 1-.3 1 2 1-1.2 1 4.1 1 1.2 1-5.5 1 4.8 1-4.5 1 4 1-4.3 1 5.8 1-5.5 1 3.5 1-3.3 1 2.7 1 3.7 1-5 1-4 1 2.8 1 2.6 1 2.9 1-4.3"/>
<path d="M178 730.8l1-.4 1-.2 1 .8 1-.3 1 1 1 0 1 .4 1 .7 1 .8 1 .3 1-.2 1-.1 1 1.1 1-.4 1 .6 1-.2 1-.1 1-.7 1-.2 1-.2 1 1.2 1 .5 1 .7 1 .4 1-.4 1-.2 1 .6 1 .8 1 .3 1-2.3 1 1.4 1 .3 1 1.1 1 .2 1-.8 1 .6 1-.1 1 .2 1 1.2 1 1 1 .5 1-.8 1 .5 1 1.7 1-.3 1 2 1 1.1 1 .6 1 1.6 1 1.1 1-1.1 1-.1 1 1.3 1 1.1 1 .1 1 .4 1-.9 1 .7 1 .5 1 1.3 1-2.1 1 0 1-.1 1-.4 1 1.1 1 .3 1 1.3 1-1 1-1.7 1 2 1-1.2 1-.8 1 1 1 0 1 0 1 .2 1-2.2 1 0 1 1.8 1 1.2 1-1.2 1 .2 1 .6 1 .3 1-2.3 1 2.3 1 .4 1 .9 1 1.4 1-1.1 1 0 1-1.6 1 1.8 1-1.7 1 3.2 1-1.7 1 2 1-1.2 1-1.2 1 1.4 1-2 1 .7 1 .9 1 .7 1-2.9 1 2.2 1 .3 1-.3 1-.8 1 .6 1-.5 1-1.1 1 .8 1-1.6 1 1.1 1-4.1 1 1.9 1-.1 1-1.7 1-.1 1-3.4 1 0 1-1.6 1-2 1 .1 1-.4 1 0 1 2.6 1-1.5 1 2.2 1-1 1-.7 1 .3 1 4.2 1 2 1 1.4 1-1.3 1-.7 1-.3 1 1.9 1 1.4 1-1 1-2 1-1.3 1 .4 1-1.3 1 .2 1 .6 1-1.6 1-3.6 1-.2 1 .1 1-1.2 1-.1 1 1.3 1-.6 1 .4 1 3.7 1-3.5 1-3 1-1.7 1 .6 1 .6 1-1.7 1 .2 1 .5 1-.3 1 .8 1-4.4 1-.7 1 2.1 1-1.9 1-.2 1-1 1 .5 1 2.3 1 .8 1-.8 1 .3 1-1.2 1-1 1-2.2 1-1.9 1-.2 1-3.8 1 4 1-.6 1-1.7 1 1.1 1 1.1 1 1.3 1 5.9 1 .5 1-.9 1 1.1 1 1.4 1 2.1 1-.5 1 .1 1-1.7 1 .6 1 .7 1 .9 1-.8 1 1 1 .1 1-1.3 1-1.8 1-1 1-.9 1 2 1-3.3 1-2.3 1 .9 1 .6 1-1.8 1 1.1 1 .4 1 1 1 1.4 1-.1 1-1 1-.1 1-1.4 1-.9 1 .5 1 1.1 1-2.8 1-1.8 1 1.8 1 0 1 1.4 1 1.6 1-2.1 1 .5 1 1.3 1 4.6 1 2.8 1-1.6 1 4.8 1 .9 1 0 1-.9 1-.4 1 4 1 2.8 1-1 1-.6 1-2.4 1-4.8 1-4 1 2.2 1 .2 1 .4 1 1.9 1 2.2 1 1.7 1 1.6 1-3 1-1.9 1 1.5 1 1.3 1 .2 1 .8 1 0 1-1.7 1 2.5 1-2 1-2.2 1 1.1 1-1.4 1 .9 1-.3 1-.7 1 1.2 1 4.6 1-2.2 1-.7 1 3.1 1 .4 1-.7 1-1.4 1 .4 1 1.3 1 1.9 1 1 1 4.8 1-1.6 1 2.9 1 3 1-.7 1 9.5 1-.2 1-.7 1 7.7 1 4.4 1 1.6 1-1.7 1-2.7 1-3 1-.2 1-4.2 1-1.3 1-.1 1-3 1-11.6 1-.9 1 .6 1 4.5 1 8.5 1 3.6 1-2.7 1 1.8 1-.8 1 1.2 1 4.4 1 4.8 1-.3 1 7.5 1 4 1 5 1-2.2 1 4.1 1 2.9 1 6.5 1 7.6M611 813.7l1-3.2 1-5.2 1 2.5 1-11 1-5.5 1-7.1 1-9.2 1-9.9 1 7 1-4.6 1 3.9 1 5.9 1-5.6 1 9.4 1 2 1-14.3 1 2.9 1-11.8 1-1.3 1 1.2 1-5.9 1 8.6 1-15.5 1-18.3 1 3 1-5.2 1-10.3 1 3.9 1-5.2 1 0 1-1.1 1 2.1 1-3.7 1 2 1-7.6 1-.3 1-7.4 1-5 1 4 1-5 1 4.5 1-7.9 1-5.9 1 2.8 1-4.5 1-.9 1-1.1 1-8.1 1-6.1 1 4.2 1-1 1 2.1 1 6.1 1-7.1 1-4.3 1-8.2 1 9.9 1 1 1 13.9 1 11.3 1-3.3 1 1.6 1 2.3 1 2.7 1-2.6 1 1.7 1 1.1 1-10.1 1-1.3 1-4.1 1 3.5 1-1.7 1-2.9 1-.4 1 2 1-3.3 1 10.2 1-4.7 1-1.7 1 13.4 1 2.7 1 3.7 1-2.5 1-1.4 1 .3 1-3.3 1 3.1 1 .7 1 2.3 1-2.1 1-3.1 1-6.4 1 4.9 1-6.1 1 9 1-3.5 1 1.9 1 10.2 1-1.7 1 2.6 1-.4 1-.6 1 1.5 1 1 1 5.8 1-5.8 1 .3 1 2.7 1 1.3 1 4.3 1-5 1 1 1 7 1 .5 1-.3 1 2.7 1-1.6 1 3.6 1 1.2 1 2.4 1 .2 1-4.5 1 1.7 1 .4 1 1.4 1 1 1 3.8 1-.4 1-2.7 1 3.6 1 1.3 1 3.4 1-2.6 1-.3 1-1.3 1 3.3 1-4.2 1 3.2 1-.3 1 .4 1-2 1 3.8 1 0 1-.8 1 2.1 1-1.7 1 .7 1 1.7 1 .2 1 .8 1-3.6 1 1.8 1-.8 1 .4 1-.8 1-.7 1 .6 1 1.3 1 2.8 1 1.4 1-2.6 1-2.9 1-.7 1 .9 1 1 1 4.8 1-1.4 1-1.1 1-4.6 1 1.7 1-2.8 1 6.7 1-4.8 1-3.5 1 2.1 1 .9 1 .3 1 3.1 1-5.1 1 .2 1-2.8 1 4.1 1-8 1 3.7 1-3.8 1 1.7 1 .3 1-3.2 1 3.3 1 3"/>
<path d="M178 727.7l1-1.6 1-.8 1-.5 1-.2 1 .6 1 .1 1 .6 1 .1 1 0 1 .3 1 .6 1 .2 1-.2 1 .5 1-.4 1-.9 1 .5 1 .1 1 .8 1-.2 1-.5 1-.8 1 .5 1 .8 1-1.3 1 1 1 0 1 .4 1-.4 1-.2 1-.6 1 .3 1-.6 1 1 1-.8 1 0 1 .1 1-.9 1-.5 1-.1 1 .1 1-.4 1 .4 1 2 1-1.4 1 .6 1-.1 1-.1 1 .6 1 .2 1-.5 1 .5 1 .6 1 .2 1 .3 1-1.3 1 0 1 2.2 1-1.2 1-.1 1-.6 1-.2 1 0 1 .3 1 .6 1 .2 1 .7 1-1 1-.8 1-.1 1-1.9 1 .5 1 .3 1 .8 1 1.4 1-1.6 1-.7 1-1.3 1 3.1 1 1.3 1-1.5 1-.4 1-.8 1 .5 1-2 1 .3 1 .1 1 .7 1 2.1 1-.4 1 1.7 1 .8 1-2.9 1-.1 1 .5 1-1.9 1 1.8 1-.7 1-3.6 1-.7 1 1.9 1 1.2 1 1 1-.9 1-3.9 1 .1 1-.5 1-1.8 1 .3 1-.5 1 .9 1-1.5 1 .1 1 .1 1 .3 1 .7 1-.9 1-1 1-2.8 1 .9 1 2.3 1-1.5 1-.5 1-.1 1 2 1-2.2 1-.4 1-.8 1 2.8 1 2.2 1 1.7 1-.4 1 1.4 1 1.7 1 2.5 1 1.8 1 .8 1-.8 1 0 1 1.4 1-3.3 1-.6 1-1.3 1 1.2 1 2.5 1 1 1 .3 1 2.4 1-4.7 1-4.6 1-.8 1 .7 1-.5 1 .7 1-1.1 1-3.2 1-2.5 1 .7 1-4 1-2.3 1 2.1 1 2.4 1-.4 1-.9 1 1.8 1-1.7 1 3 1-2.4 1-1.5 1-1.9 1 2.3 1 .8 1-5.7 1 4.4 1-4.4 1 1.3 1-.7 1 3.4 1 1.5 1 .8 1 .4 1 2.4 1 2.3 1-1.5 1-4 1 .5 1-2.9 1 .5 1 2 1-.1 1 1.3 1 3.2 1-1.9 1-2.7 1-1 1 3 1 4.2 1-1.8 1 2.3 1 1.9 1 .1 1-3.3 1 2.5 1-1.4 1 1.2 1-4.3 1-.7 1-1.1 1-2.8 1 1.7 1-.3 1 1.4 1-3.4 1 0 1 .2 1 0 1 .7 1-2.2 1 5.5 1 2.4 1 .7 1-.3 1 3.5 1 .2 1 .8 1 .8 1 .6 1-2.3 1-.5 1 2 1-3.7 1 1.6 1-1.1 1 2.8 1-1.3 1 1.7 1 1 1 5 1-1.6 1-4.6 1 1.7 1-2.3 1-2.6 1 1 1 .5 1 1.8 1-3.6 1 .8 1 3 1-1.1 1 2.1 1 1.1 1-3.5 1-3.1 1-.3 1 5.7 1 4.7 1-.9 1-1.1 1 .7 1 2.9 1-5.1 1-2 1 5.3 1 2.4 1-.5 1-.1 1 .5 1-2.6 1-1.3 1 2.1 1 2.3 1 2.2 1 2.1 1-1.6 1 5.6 1-.4 1-2.8 1-.1 1 2.8 1 3.5 1-1.8 1 0 1 5.6 1-3.4 1 3.7 1-.1 1 1.9 1 5.2 1 4.3 1 2 1 2.5 1 1.4 1 .3 1 2.6 1 1.2 1 4.6 1 11 1-3.4 1 6 1-6.1 1 5.1 1-1.1 1-7.6 1-.3 1-4.2 1 4 1-4.9 1 3.7 1 5.6 1 2.3 1-3.1 1-4.7 1-4.1 1 2.8 1-3.3 1 4.5 1-5.6 1 .8 1 3.5 1 2.2 1 2 1 5.1 1 5.5 1 4.5 1 3.7 1 1.5 1 .6 1-1.6 1 4.6 1 1.1 1 1.7 1 .5 1-8.8 1 2.4 1-.1 1 3.4 1 5.2 1-6.6 1 11.7 1 .5 1 .1M614 813.7l1-1.5 1-6.4 1-2.7 1-3 1-1.8 1-10.3 1-14.4 1-3.4 1 5.6 1-5.3 1 9.3 1-4.5 1-11.5 1-9.2 1-11.9 1-4.6 1-2.5 1 1 1-9.8 1-1.6 1-4.8 1-7.7 1-1.4 1 2.5 1-10.1 1-6.5 1 2.6 1-.1 1-9.8 1-4.5 1-4.1 1-4.6 1 2.5 1-2.5 1-.2 1-6.7 1-6.6 1 .6 1 1.5 1 3.5 1-7.5 1-1.4 1-2.4 1 1.5 1-8.7 1 1.5 1-1.2 1-.4 1 0 1 4.4 1-4.1 1-.3M670 650.2l1 9.4 1-1.3 1-2.5 1 6.8 1 12.9 1 7.1 1 6 1-2.6 1 3.4 1-1.1 1-.6 1 .2 1-.2 1 .9 1-1.7 1 .6 1 .7 1 .7 1-3.5 1-2.8 1-.3 1-.9 1-.9 1 9.9 1-3.7 1 .9 1 .8 1 2.5 1 .2 1 3.3 1-7 1 1.9 1-1.3 1-.1 1 6.1 1-5.3 1-1.4 1 1.7 1-1.8 1 7.6 1 8 1 1.5 1 3.3 1-1.2 1-3.3 1 2.7 1-.5 1 6.2 1-8.8 1 0 1 0 1-5.4 1 4.7 1-.3 1 .5 1 4.4 1 1.7 1 1.9 1-.2 1 1.7 1-5.8 1 3.9 1 2.9 1-5.1 1 4.6 1 2.5 1-.3 1 3.3 1-1.5 1 4.1 1 3.5 1-.4 1 .7 1 .4 1 .8 1-4 1 3 1 1.6 1 .2 1-.4 1 .9 1 4.9 1 1.2 1-7.8 1-.4 1-3.5 1 4.7 1 .2 1-2 1 1.5 1 2.7 1-2.9 1 4.4 1-1.2 1 2 1-1.8 1-.9 1 1.3 1-3 1-4 1 .3 1-3.7 1 2.9 1 1.5 1 0 1 .2 1-1.5 1 1.5 1-3.7 1 1 1 1.7 1 2.5 1-4.7 1 1.9 1-1.2 1-.2 1 3 1-.5 1-.6 1 4.4 1-3.4 1-1.9 1 3.4 1-.8 1-1.6 1 1.1 1-2.3 1 1.7 1-2.5 1 2.8 1 .5"/>
<path d="M178 729.5l1 .1 1 0 1 .2 1 .3 1 .1 1 .3 1 .1 1-.4 1 .4 1 .9 1 .6 1 .4 1 .4 1-.1 1 .5 1-.4 1 .3 1-.1 1-.3 1-1.4 1 1.1 1-.3 1 1.1 1 .2 1 .7 1-.8 1 .5 1 .3 1 .7 1-.8 1 .2 1 .7 1 .3 1 1 1 .6 1 1.1 1 1.1 1-.3 1 .2 1 .6 1 1.5 1 0 1-.7 1 1.5 1 .5 1 1.7 1-.3 1 .2 1 1.5 1 .9 1-.7 1 .8 1 2 1-1.2 1 .8 1-.8 1 0 1 1.4 1-.8 1 .6 1-1.8 1-.2 1-.7 1-.8 1 1.1 1 1.2 1 1.1 1 0 1 .5 1 1.2 1-2.1 1 0 1 1 1 1.5 1 .7 1-1 1 .5 1 .3 1 2.4 1-1 1-.4 1-.4 1 .8 1-1.2 1-.5 1-.9 1 2.1 1 .9 1 2 1 0 1 2.5 1-.2 1-.4 1 1 1-.5 1-1 1-.8 1-2 1-2 1-1.2 1 .3 1-.2 1 1.5 1-1.9 1-.7 1 0 1 1.8 1 1 1-1.3 1 1.8 1-.8 1-2.7 1-1.9 1-.8 1-.4 1 .5 1 2.1 1 .3 1 1.8 1-1.1 1-1.1 1-.4 1-2.8 1 1.4 1-1.7 1 .2 1-1.8 1-1.5 1 .8 1-.7 1 2.4 1 1.1 1-3.7 1 2.8 1 .5 1-1.3 1-.9 1 .7 1 2.4 1-.2 1 .4 1-.8 1-1 1-.2 1-2.4 1-2 1 .2 1 1.7 1-.7 1-2.4 1 .8 1 .3 1-2 1 .2 1-.7 1-.9 1 .3 1 3.2 1-2.8 1 0 1-1.3 1-1 1 .9 1 .3 1 .4 1-1.3 1-1.6 1 3.6 1 4.2 1-1.2 1-1.5 1-.6 1 .7 1 .6 1 .4 1 3.9 1-.6 1-.9 1 .8 1-1.2 1 1.8 1-.2 1-.8 1 2.3 1 1.4 1 .2 1 1.9 1-.5 1-.2 1-2.2 1-2.1 1 1.7 1 .6 1-1 1 .7 1 2.5 1-.3 1-.3 1-1.4 1-.9 1 1 1-1.8 1 .9 1-1.5 1 .4 1-2.3 1 .4 1-3.1 1 1.1 1-2.3 1-3 1 .6 1-2.1 1 1.3 1 .7 1 0 1 .1 1 1.6 1 2.3 1-2.4 1-3.8 1 .9 1 3.6 1 3.5 1 1.1 1 1.1 1-.9 1 2.2 1-2.4 1 .9 1 .1 1-.2 1 2.8 1 2.9 1 1.8 1 0 1 1.3 1 2.5 1-.9 1 .7 1 .2 1 .5 1 .3 1 .2 1-.1 1 2.4 1-1.5 1-.1 1-1.5 1-.2 1 2.4 1-.5 1 1.8 1-.4 1 .6 1 4.1 1 2.2 1-3 1 .7 1 3.1 1 1.9 1 1.1 1 1 1-1 1-1 1-2.1 1 3.8 1 .8 1 2.7 1 .5 1-4.2 1 3.1 1-1.2 1-1 1-1.4 1 3.2 1-1.6 1 1.2 1 2.6 1-.2 1 .2 1 2.9 1 4 1 4.4 1-1.6 1 4 1 2.3 1 .7 1 10.6 1 7.4 1 5.6M613 813.7l1-6.1 1-1.6 1-14.8 1-5.8 1-.3 1 1.9 1-16.3 1-2.3 1 3.4 1-1.9 1-.2 1 3.7 1-7 1-5.2 1-7.4 1-3.6 1 4.3 1-7.9 1-5.6 1-2.9 1 5.3 1-3.2 1 6.7 1-3.1 1-1.9 1-8.5 1-9.3 1-2.6 1-3.2 1-2.8 1 2.6 1-3.3 1-6.6 1 5.6 1-6.3 1-8.9 1-1 1-9 1 .1 1-3.8 1 2.9 1-7.5 1 2.1 1-9.1 1-.5 1-2.6 1 2 1 3.8 1-.4 1 3.1 1 3.7 1-7.4 1-5.3 1-5.7 1 7.8 1-1.2 1 6.4 1 2.4 1 0 1 6.3 1 .1 1-.6 1 7 1 7.6 1-3.2 1-.6 1 6.2 1-1.3 1 .2 1 6.2 1 5.2 1-6.7 1 5 1-3.2 1-3.1 1 2.6 1-5.3 1 1.8 1 4.5 1-9.7 1 2.2 1-4.2 1 1.1 1-4.1 1 .5 1-1.8 1 6.9 1-.1 1 1.4 1-.9 1-1.1 1 3.8 1-3.2 1 6.6 1 3.6 1 3.9 1 3.4 1 6.5 1-5.7 1-1.6 1-1.4 1-5.3 1 7.1 1-2.2 1-2.2 1 2.7 1-3.5 1-4.5 1 4.2 1 4 1-2.5 1 1.8 1 2.2 1-2.5 1-.4 1 5.9 1-1.1 1-4.3 1-.2 1 1.9 1-.8 1 2.2 1 1 1 1.9 1 4.1 1 .4 1-.3 1-1 1 .1 1 2.2 1 3.6 1 2.7 1-2.4 1 8.5 1-5.6 1 2.3 1-.9 1 4.4 1-3.7 1 5.6 1-.5 1 .8 1-2.4 1 0 1 .4 1-3.6 1 4.6 1 0 1-.5 1-4.2 1 4.5 1-5.7 1 6.1 1-.6 1 .6 1-3.7 1 4 1 2.1 1-1.6 1-2.1 1-5.2 1-.7 1-.6 1 1.9 1-1.1 1 .4 1-4.2 1 5.3 1-1.9 1-3.7 1 4.8 1-1.9 1-1.4 1-2.1 1 3.6 1 1.8 1 .5 1-1.1 1-.4 1 6.4 1-2.4 1-5.2 1 1.1 1-.7 1-.3 1-1.4 1-1.8 1 8.5"/>
<path d="M178 731.9l1 .6 1 .8 1 .1 1 .6 1 0 1-.6 1 .1 1 .2 1 .7 1 .1 1 .1 1 .7 1 .5 1 .2 1 0 1 1.4 1-.3 1-.4 1 .8 1 .9 1 .8 1-.4 1 .8 1 .5 1-.5 1-.9 1 1 1 .7 1-.9 1-.6 1 2.8 1-.1 1-.1 1 .7 1-.5 1-.8 1 .1 1 1.6 1 1 1-.3 1 1.7 1-.9 1 1 1 2.3 1-1.6 1 1.4 1-.8 1-.2 1 1.3 1 .5 1-1.1 1-.2 1 .6 1-.8 1 .1 1-.1 1-.2 1 1.5 1-.8 1 .7 1-.2 1 .2 1-1.7 1-1.5 1 .6 1 1.2 1-.7 1-.4 1-1.6 1 .5 1 .4 1 .6 1 .9 1 1.3 1 .3 1 .6 1 .7 1-1.1 1 0 1 .5 1-1.3 1 .5 1 1.1 1-1.5 1-1.3 1 1.7 1-.2 1 1.7 1 .7 1-1.5 1 2.7 1 .7 1 .5 1 .1 1 .5 1 .8 1-.1 1 .1 1-1.2 1 1 1 .8 1-1.6 1 3.7 1-.9 1-.6 1-.4 1 .2 1-.7 1-.5 1 .8 1-1.2 1-1.1 1 .9 1-.6 1-2.1 1-1.1 1-.1 1 3.1 1-.1 1 1.7 1 .4 1-.3 1-1.5 1 .5 1 2.3 1 .1 1 .4 1-2 1-2.3 1-.5 1 .8 1 .2 1-1.7 1 1.2 1 2.1 1-.2 1 .6 1-.7 1 0 1 1.2 1-2.7 1 1.4 1-.6 1-.6 1 .9 1 1.5 1-1.3 1 1.9 1-2.4 1 1.9 1-.1 1-2.4 1-.8 1-2.6 1 .2 1-.9 1 .2 1 3.4 1 1.3 1-1 1 1.7 1 1.8 1 .1 1-1.1 1-.2 1-.7 1 1.6 1-.9 1 1.3 1-.5 1-1 1-.2 1 .9 1-1.4 1-2 1 0 1 .1 1 1.4 1-2 1-2.5 1-1.4 1 .8 1 .3 1 0 1-.6 1 1.7 1 1.5 1-1.3 1-1.1 1-3.3 1-1.2 1 1.1 1-2.8 1-.6 1 1.7 1 2.5 1-1.4 1 .7 1-.4 1-.8 1 .3 1 1.4 1 1.7 1-1.2 1 1.3 1-4.2 1-1.5 1 .2 1-3.7 1 3.4 1-1.8 1 0 1 1.5 1 .5 1-.4 1-.1 1 0 1-.1 1-1.4 1-.4 1 1.3 1-3.1 1 3.1 1-.7 1-1.6 1-1.9 1-1.3 1-1.8 1 1.8 1 2.6 1 1.2 1 1.9 1-.8 1 1.7 1 1.5 1 3.9 1 .5 1 2.1 1-1.5 1 1.2 1 1.9 1 1.6 1-2.6 1 .8 1-.6 1 .9 1-2.7 1-1.1 1-.2 1-1.3 1 1.8 1-.3 1-1.2 1 .8 1 3.1 1 1.8 1 2.8 1-1.3 1 .2 1 2.9 1 1.1 1 0 1 .4 1 3.4 1 1.9 1-.2 1 2.3 1 .8 1 1 1-1.9 1 .9 1-1 1 0 1-1.4 1 .5 1 3.5 1-1.8 1 2.2 1-3.5 1 .9 1 5.5 1 3 1 5.6 1 2.7 1 .4 1 3.6 1 2.9 1 6.2 1 3.5 1 .3 1 8.6 1 6.2M613 813.7l1-1.7 1-5.9 1 3.2 1-.6 1-.8 1-6.2 1 2.9 1-4 1-10 1-2.1 1 2.9 1-4.7 1-.1 1 3.6 1-12.8 1 5.8 1-11.4 1-13.3 1-6.4 1-7.9 1-3.1 1-7.9 1-7.7 1-5.9 1-5 1-6.7 1 2.5 1-6.7 1-6.4 1 1.5 1-2.1 1-5.2 1-1.6 1-1.1 1-2.4 1-.6 1-.5 1-3 1 .6 1-6 1-4.1 1-4.4 1-1 1-.6 1-7.8 1-1.2 1-5 1 6.6 1 1.5 1-.3 1 7.2 1-4.9 1-7.9 1-2.1 1 4.2 1 5.1 1 8.1 1 10.5 1 1.5 1 10.5 1-1 1 1.4 1 4.2 1-7.4 1 5.1 1-5.5 1 3.6 1 2.1 1-2.4 1 .4 1 5.8 1-3.1 1-4.2 1 3.7 1 5.3 1 2.7 1-6 1 3.2 1-3.7 1 5.4 1-6 1 .5 1 5.2 1 3.8 1 6.7 1-7.7 1 1.4 1-2.7 1 7.3 1 3.2 1-1.8 1 .8 1 1.4 1 6.6 1-1.4 1 2.9 1-6 1 1.1 1-2.6 1 4 1 3.3 1-.6 1 .5 1-2.7 1 2.7 1-4 1 2 1 .4 1-1.1 1-.3 1-2.2 1 7.5 1-2.9 1 2.1 1-1.9 1-5.8 1 .2 1-.8 1 5 1-.9 1 2.5 1 3.4 1 .8 1-1.2 1-.5 1 2.4 1 3.1 1-.8 1-.5 1-.2 1 3.7 1 1.2 1 1.1 1-4.5 1-4.1 1 1.4 1-1 1 4.6 1-2.7 1-4.1 1 5.8 1 .4 1 .2 1 .8 1 1.2 1 2.3 1-5.2 1 1.6 1 1 1-4.7 1 1.4 1 4.6 1-1.6 1 4.6 1-.3 1 3.1 1-.1 1-6.6 1-.1 1 3.8 1-.9 1-2.1 1-3.8 1 0 1 4.1 1 2.4 1-3.9 1-1.1 1 1.2 1 2.1 1-4.1 1 .2 1-3.4 1 3.2 1-2.5 1 9.2 1-.1 1-4 1-2.6 1 5.7 1-7.5 1 8.1 1 .6 1-3.8 1 3.1 1-4.6 1 3.8 1-.3"/>
</g>
<path clip-path="url(#cb)" fill="#ed1c24" d="M178 726.6L178.8 726.9L179.6 727L180.4 726.7L181.2 725.9L182 726.3L182.8 726.5L183.6 726.9L184.4 727.1L185.2 727.9L186 728L186.8 728.6L187.6 728.5L188.4 728.2L189.2 728.3L190 728.6L190.8 729L191.6 728.9L192.4 729.3L193.2 729.8L194 730L194.8 730.6L195.6 730.6L196.4 730.7L197.2 730.9L198 730.9L198.8 731L199.6 731.7L200.4 732.3L201.2 732.3L202 732.5L202.8 731.4L203.6 730.8L204.4 731.6L205.2 732L206 733L206.8 733.3L207.6 733L208.4 732.6L209.2 731.9L210 731.3L210.8 730.9L211.6 731.3L212.4 731.2L213.2 731.4L214 730.9L214.8 730.5L215.6 729.5L216.4 729.1L217.2 729.3L218 729.3L218.8 729.5L219.6 729.1L220.4 729.6L221.2 729.7L222 730.4L222.8 730.9L223.6 731.8L224.4 732.4L225.2 732.8L226 733.3L226.8 734.1L227.6 734.7L228.4 735L229.2 735.1L230 735.2L230.8 736.7L231.6 737.9L232.4 738.7L233.2 738.1L234 737.1L234.8 735.3L235.6 734.8L236.4 734.4L237.2 733.6L238 733.3L238.8 732.6L239.6 731.5L240.4 731.2L241.2 731.2L242 731.1L242.8 730.7L243.6 730.8L244.4 730.3L245.2 730.4L246 729.4L246.8 730L247.6 730L248.4 729.6L249.2 728.9L250 727.5L250.8 727.4L251.6 727.3L252.4 728.5L253.2 729.6L254 730.2L254.8 730.7L255.6 729.8L256.4 731.4L257.2 732.6L258 734.7L258.8 736L259.6 736.5L260.4 736L261.2 737.5L262 738.2L262.8 739.3L263.6 740L264.4 740.3L265.2 740.3L266 740.9L266.8 740.6L267.6 740.4L268.4 740.5L269.2 740L270 740.5L270.8 739.3L271.6 739.3L272.4 738.2L273.2 736.1L274 736L274.8 736.1L275.6 736.4L276.4 737.1L277.2 737.3L278 737L278.8 736.2L279.6 735.4L280.4 735.9L281.2 735.6L282 735.4L282.8 735.7L283.6 734.3L284.4 734.6L285.2 733.2L286 732L286.8 730.7L287.6 731L288.4 730.2L289.2 729L290 727.8L290.8 727.6L291.6 727L292.4 725.2L293.2 723.7L294 723.8L294.8 722.7L295.6 719.9L296.4 721.1L297.2 719.3L298 717.4L298.8 716.7L299.6 715.6L300.4 715.9L301.2 715.1L302 714.2L302.8 713.3L303.6 714.6L304.4 714.3L305.2 713.4L306 712.9L306.8 713.6L307.6 713.9L308.4 716.2L309.2 716.9L310 716.8L310.8 717.7L311.6 717.8L312.4 718.7L313.2 720L314 721L314.8 721.9L315.6 721.2L316.4 723.7L317.2 720.9L318 724.8L318.8 725.4L319.6 726.6L320.4 728.4L321.2 729.2L322 725.9L322.8 725.8L323.6 726.9L324.4 726.4L325.2 726.2L326 727.5L326.8 725.9L327.6 723.9L328.4 722.8L329.2 722L330 722L330.8 721.4L331.6 720.9L332.4 720.4L333.2 718.3L334 719.3L334.8 717.5L335.6 717.1L336.4 715.8L337.2 714.7L338 714.4L338.8 713.4L339.6 711.8L340.4 711.9L341.2 711L342 709.6L342.8 712.5L343.6 712.7L344.4 715.3L345.2 715.7L346 717.7L346.8 716.5L347.6 717.4L348.4 716L349.2 715.9L350 713L350.8 714.2L351.6 712.4L352.4 707.6L353.2 707.5L354 706.7L354.8 704.9L355.6 704.6L356.4 705.7L357.2 704.3L358 704.1L358.8 705.2L359.6 705.2L360.4 707.2L361.2 707.8L362 707.1L362.8 708.2L363.6 710.7L364.4 712L365.2 711.1L366 709.2L366.8 709.6L367.6 711.1L368.4 710.4L369.2 710.2L370 709.5L370.8 709.3L371.6 709.9L372.4 710.1L373.2 709L374 703.3L374.8 702.9L375.6 707.8L376.4 707.3L377.2 706.9L378 706.5L378.8 705.5L379.6 704.8L380.4 702.7L381.2 702L382 699.5L382.8 699.4L383.6 701.7L384.4 702.5L385.2 704.4L386 707.9L386.8 709.7L387.6 710.8L388.4 712.5L389.2 713.8L390 713.7L390.8 713.3L391.6 711.2L392.4 710L393.2 709L394 707.8L394.8 702.5L395.6 705.1L396.4 705.5L397.2 705.2L398 703L398.8 704.9L399.6 705.1L400.4 704.5L401.2 701.6L402 704L402.8 702.4L403.6 704.1L404.4 704.1L405.2 704.4L406 706.4L406.8 706.5L407.6 705.3L408.4 702.8L409.2 701.9L410 701.7L410.8 701.7L411.6 702.2L412.4 703.1L413.2 701.7L414 701.7L414.8 699.7L415.6 699.5L416.4 699.7L417.2 698.7L418 697.8L418.8 700.2L419.6 699.1L420.4 701.5L421.2 702.7L422 705.1L422.8 706.5L423.6 708.7L424.4 709.6L425.2 710L426 713.8L426.8 715.3L427.6 715.5L428.4 715.9L429.2 713.6L430 714L430.8 714.8L431.6 710.5L432.4 714.3L433.2 709.1L434 712.8L434.8 707.1L435.6 711.7L436.4 712.4L437.2 711.8L438 711.7L438.8 712.2L439.6 708.6L440.4 709.7L441.2 710.8L442 708.1L442.8 708.3L443.6 708.2L444.4 707.9L445.2 707.9L446 707.6L446.8 708.1L447.6 711.8L448.4 706.5L449.2 712.4L450 710.5L450.8 711.8L451.6 713L452.4 711.5L453.2 714.3L454 716L454.8 715.4L455.6 715.6L456.4 714.7L457.2 715.9L458 717.9L458.8 716.8L459.6 718L460.4 720.1L461.2 721.4L462 721.8L462.8 722.5L463.6 721.3L464.4 723L465.2 723.9L466 724.3L466.8 726.2L467.6 725.6L468.4 731.8L469.2 730.7L470 734.9L470.8 732.8L471.6 733.7L472.4 734.5L473.2 735.4L474 736.7L474.8 735.9L475.6 737.9L476.4 738L477.2 739.7L478 741.3L478.8 741.5L479.6 742.2L480.4 743.6L481.2 743L482 745.8L482.8 746.3L483.6 746.8L484.4 747.7L485.2 747.2L486 748.1L486.8 746L487.6 740.9L488.4 737.8L489.2 733.4L490 729.3L490.8 722.4L491.6 718.1L492.4 716.3L493.2 714.3L494 711.2L494.8 707.7L495.6 704.4L496.4 702.2L497.2 700.8L498 703.3L498.8 702.8L499.6 703.3L500.4 700.4L501.2 701.6L502 703.5L502.8 711.5L503.6 714.7L504.4 715.8L505.2 718.3L506 724.2L506.8 729.7L507.6 729.3L508.4 732.9L509.2 727.9L510 738.1L510.8 725.9L511.6 739L512.4 739.6L513.2 745.2L514 745.3L514.8 753.3L515.6 748.9L516.4 757.5L517.2 759.9L518 764.7L518.8 767.4L519.6 774.1L520.4 758.6L521.2 783.3L522 783.1L522.8 774.6L523.6 787.2L524.4 789.3L525.2 798.8L526 800.8L526.8 807.3L527.6 809.3L528.4 815.7L528.4 815.7L527.6 815.7L526.8 815.7L526 815.7L525.2 814.9L524.4 811.8L523.6 812.9L522.8 807.1L522 805L521.2 815.2L520.4 792.8L519.6 795.7L518.8 783.6L518 783L517.2 777.3L516.4 772.8L515.6 775L514.8 770.1L514 766.7L513.2 762.2L512.4 765.6L511.6 759.4L510.8 767.2L510 756.4L509.2 766.7L508.4 751.2L507.6 761.6L506.8 748.9L506 742.7L505.2 737.8L504.4 733.7L503.6 731.1L502.8 723.6L502 718.3L501.2 721.8L500.4 717L499.6 716.8L498.8 716.9L498 717L497.2 712L496.4 712.3L495.6 713.9L494.8 717.4L494 725.1L493.2 723.2L492.4 725L491.6 728.7L490.8 733.7L490 737.7L489.2 742.7L488.4 748.8L487.6 751.5L486.8 754.6L486 757.5L485.2 756.5L484.4 755L483.6 760L482.8 755.3L482 753.7L481.2 751.4L480.4 753L479.6 751L478.8 748.9L478 748.2L477.2 747L476.4 746L475.6 745.4L474.8 747.6L474 747.5L473.2 744.7L472.4 742.7L471.6 741.6L470.8 743.8L470 743.3L469.2 742L468.4 738.7L467.6 736.3L466.8 735.7L466 733.4L465.2 730.9L464.4 731L463.6 732.1L462.8 729.7L462 729.5L461.2 730.8L460.4 728.9L459.6 727.2L458.8 726.4L458 725.2L457.2 724.1L456.4 724.7L455.6 723.9L454.8 722.6L454 722.6L453.2 723.3L452.4 721.9L451.6 721.2L450.8 723.1L450 720L449.2 721.2L448.4 719.8L447.6 720L446.8 717.8L446 720.8L445.2 716.9L444.4 718.2L443.6 716.5L442.8 719.6L442 717.8L441.2 717.9L440.4 719.5L439.6 720.5L438.8 719.8L438 721.4L437.2 721.3L436.4 720.2L435.6 721L434.8 721.9L434 721.9L433.2 721.5L432.4 722.4L431.6 721.6L430.8 721.2L430 722.5L429.2 722.8L428.4 723.1L427.6 722.9L426.8 722.5L426 720.6L425.2 720.1L424.4 718.6L423.6 717L422.8 716.3L422 711.7L421.2 712L420.4 711.5L419.6 708.6L418.8 709.8L418 705.4L417.2 706.3L416.4 707.4L415.6 708.4L414.8 710.8L414 712.4L413.2 711.7L412.4 710.7L411.6 710.5L410.8 710.5L410 712.1L409.2 711.2L408.4 713.9L407.6 713L406.8 713.4L406 712.4L405.2 712.6L404.4 712.4L403.6 712.9L402.8 710.7L402 712.1L401.2 711.2L400.4 712.6L399.6 713.7L398.8 711.4L398 711.3L397.2 711.9L396.4 714L395.6 717.5L394.8 715.4L394 715.9L393.2 715.4L392.4 716.4L391.6 719.5L390.8 719.4L390 721.3L389.2 720.4L388.4 719.8L387.6 719.7L386.8 716.2L386 714.1L385.2 712.5L384.4 709.5L383.6 709.3L382.8 708.5L382 708.6L381.2 712.5L380.4 710.3L379.6 711.2L378.8 712.5L378 713L377.2 714.6L376.4 714.2L375.6 715.2L374.8 714.4L374 716.5L373.2 716.2L372.4 717.4L371.6 717.9L370.8 717.6L370 718.6L369.2 717.4L368.4 718.5L367.6 718L366.8 717.8L366 721L365.2 718.7L364.4 719.6L363.6 721.2L362.8 716.4L362 715.2L361.2 713.7L360.4 713.8L359.6 712.8L358.8 712.1L358 712.6L357.2 712.8L356.4 712.4L355.6 712.1L354.8 712L354 713.9L353.2 715.7L352.4 719.9L351.6 720.8L350.8 720.9L350 721.6L349.2 722.4L348.4 726.8L347.6 723.2L346.8 724.1L346 724.8L345.2 723L344.4 721L343.6 720.6L342.8 719L342 717.6L341.2 718.1L340.4 719L339.6 718.5L338.8 719.7L338 720.6L337.2 721.8L336.4 722.6L335.6 723.4L334.8 724.1L334 726.4L333.2 726.5L332.4 726.5L331.6 728.2L330.8 728.8L330 728.2L329.2 728.6L328.4 729.2L327.6 729.8L326.8 731.9L326 733.1L325.2 733.1L324.4 733.6L323.6 734L322.8 735L322 734.4L321.2 734.5L320.4 734.2L319.6 734.4L318.8 732.3L318 730.6L317.2 731.4L316.4 729.4L315.6 727.8L314.8 727.6L314 726.3L313.2 726.9L312.4 724.4L311.6 724.1L310.8 723.2L310 722.9L309.2 722.6L308.4 722.2L307.6 720.2L306.8 718.9L306 718.7L305.2 719.2L304.4 720L303.6 723.4L302.8 720.8L302 721L301.2 720.7L300.4 720.9L299.6 721.1L298.8 722.7L298 723.2L297.2 724.7L296.4 727.1L295.6 728.4L294.8 729.3L294 729.5L293.2 731.1L292.4 732.5L291.6 732.4L290.8 733L290 733.7L289.2 734.3L288.4 735.4L287.6 736.5L286.8 736.6L286 738L285.2 738.2L284.4 739L283.6 740.2L282.8 740.3L282 740.9L281.2 741L280.4 740.8L279.6 740.9L278.8 741.7L278 741.8L277.2 741.9L276.4 741.6L275.6 740.9L274.8 741L274 740.8L273.2 741.4L272.4 742.6L271.6 743.3L270.8 743.8L270 744.9L269.2 745L268.4 745.6L267.6 745.4L266.8 745.1L266 745.3L265.2 745L264.4 744.3L263.6 744L262.8 743.3L262 742.4L261.2 741.6L260.4 741.2L259.6 740.9L258.8 739.7L258 738.9L257.2 736.5L256.4 735.3L255.6 736L254.8 734.3L254 734L253.2 733.5L252.4 732.3L251.6 731.4L250.8 731.1L250 732.2L249.2 732.6L248.4 733.5L247.6 733.9L246.8 734L246 734.5L245.2 734.2L244.4 734.3L243.6 735.3L242.8 734.8L242 735.3L241.2 735.5L240.4 735.2L239.6 735.5L238.8 736.3L238 736.9L237.2 737.7L236.4 738L235.6 738.6L234.8 739.7L234 740.9L233.2 741.9L232.4 742.5L231.6 742L230.8 740.7L230 739.3L229.2 739L228.4 739.2L227.6 738.7L226.8 738.6L226 736.9L225.2 736.4L224.4 735.9L223.6 735.5L222.8 734.7L222 734.7L221.2 733.7L220.4 733.6L219.6 733.4L218.8 733.2L218 732.8L217.2 732.7L216.4 732.9L215.6 733.2L214.8 734.2L214 734.5L213.2 735L212.4 734.9L211.6 734.8L210.8 734.6L210 734.9L209.2 735.6L208.4 736.2L207.6 736.7L206.8 736.9L206 736.8L205.2 735.7L204.4 735.4L203.6 734.8L202.8 735.1L202 736.1L201.2 735.9L200.4 735.7L199.6 735.4L198.8 734.9L198 734.7L197.2 734.6L196.4 734.1L195.6 734.1L194.8 734.3L194 733.6L193.2 733.2L192.4 733L191.6 732.5L190.8 732.4L190 732.1L189.2 731.8L188.4 731.7L187.6 731.8L186.8 732.1L186 731.7L185.2 731.4L184.4 731L183.6 730.3L182.8 730.2L182 729.6L181.2 729.4L180.4 730L179.6 730.4L178.8 730.3L178 730ZM578 815.7L578.8 815.1L579.6 798.1L580.4 782.1L581.2 779.3L582 800.2L582.8 798.7L583.6 815.7L583.6 815.7L582.8 815.7L582 815.7L581.2 814.5L580.4 814.9L579.6 815.7L578.8 815.7L578 815.7ZM590.8 815.7L591.6 804.6L592.4 804.2L593.2 786L594 785.2L594.8 768.4L595.6 767.3L596.4 754.6L597.2 751.6L598 749.6L598.8 695L599.6 739.4L600.4 732.4L601.2 721.2L602 721.2L602.8 714.5L603.6 694.9L604.4 706.7L605.2 693.4L606 670.6L606.8 692.9L607.6 679.3L608.4 684.8L609.2 680.1L610 674.3L610.8 657.7L611.6 654.3L612.4 650.1L613.2 665.8L614 664.1L614.8 671.7L615.6 683.6L616.4 671.6L617.2 676.6L618 672.7L618.8 658.9L619.6 661.8L620.4 654.1L621.2 651.4L622 642.2L622.8 642.2L623.6 642.2L624.4 642.2L625.2 642.2L626 642.2L626.8 648.5L627.6 646.6L628.4 652.3L629.2 642.2L630 647.3L630.8 643.3L631.6 642.2L632.4 642.2L633.2 642.2L634 642.2L634.8 642.2L635.6 642.2L636.4 642.2L637.2 642.2L638 642.2L638.8 642.2L638.8 642.2L638 656.6L637.2 702L636.4 657L635.6 655.4L634.8 663L634 667.8L633.2 669.6L632.4 666.9L631.6 686L630.8 672.9L630 683.2L629.2 679.5L628.4 701.9L627.6 695.7L626.8 685.9L626 715.7L625.2 684.5L624.4 680.7L623.6 663.6L622.8 674L622 676.6L621.2 716.5L620.4 700.3L619.6 696.3L618.8 699.3L618 708.3L617.2 713.4L616.4 715.7L615.6 716.2L614.8 724.5L614 716L613.2 695.4L612.4 697.3L611.6 695.8L610.8 696.9L610 705.6L609.2 718.1L608.4 715.1L607.6 731.1L606.8 726.7L606 726.6L605.2 741.6L604.4 768.2L603.6 752.9L602.8 759.7L602 753.5L601.2 773.2L600.4 764.3L599.6 799.2L598.8 780.6L598 774.2L597.2 782.4L596.4 794.9L595.6 797.4L594.8 807.9L594 812.7L593.2 815.7L592.4 815.7L591.6 815.7L590.8 815.7ZM644.4 642.2L645.2 642.2L646 642.2L646 642.2L645.2 652.3L644.4 642.2ZM677.2 642.2L678 642.2L678.8 642.2L678.8 642.2L678 644.6L677.2 642.2ZM684.4 642.2L685.2 642.2L686 642.2L686 642.2L685.2 642.4L684.4 642.2ZM686 642.2L686.8 642.2L687.6 642.2L688.4 642.2L689.2 642.2L690 642.2L690.8 642.2L691.6 642.2L692.4 642.2L693.2 645.5L694 642.2L694.8 652.4L695.6 652.9L696.4 659.9L697.2 654.7L698 666.6L698.8 669.9L699.6 664.8L700.4 674L701.2 674.2L702 670.8L702.8 680.6L703.6 682.4L704.4 679.2L705.2 684L706 685.9L706.8 686.2L707.6 670L708.4 693.2L709.2 695.2L710 692.3L710.8 683.6L711.6 692.4L712.4 692.3L713.2 695.2L714 694.9L714.8 696.9L715.6 692.7L716.4 694.9L717.2 690L718 696.1L718.8 691.3L719.6 701.3L720.4 697.8L721.2 704.9L722 707.9L722.8 712.6L723.6 711.6L724.4 715L725.2 716.4L726 714.3L726.8 707.8L727.6 712.7L728.4 713.2L729.2 714.4L730 715.1L730.8 714.8L731.6 714.4L732.4 716.1L733.2 715.6L734 716.1L734.8 715.8L735.6 716L736.4 717.3L737.2 720L738 721L738.8 720.8L739.6 722.1L740.4 721.2L741.2 722.7L742 723.9L742.8 727.1L743.6 730.8L744.4 731.8L745.2 731.7L746 734.3L746.8 731.2L747.6 731.8L748.4 729L749.2 728.8L750 727.9L750.8 728.9L751.6 727.2L752.4 727L753.2 728.3L754 728.8L754.8 729.1L755.6 727.8L756.4 730.8L757.2 730.4L758 729.8L758.8 726.3L759.6 729.7L760.4 731.9L761.2 734.9L762 736L762.8 732.3L763.6 731.1L764.4 730.3L765.2 729.4L766 728.1L766.8 728.5L767.6 729.3L768.4 729.3L769.2 729.8L770 728.8L770.8 724.2L771.6 725.2L772.4 724.1L773.2 723.7L774 723.5L774.8 722.5L775.6 721.2L776.4 719L777.2 717.2L778 719.3L778.8 716.7L779.6 716.5L780.4 719L781.2 718.1L782 719.5L782.8 717.6L783.6 716.8L784.4 718.7L785.2 718L786 718.5L786.8 717.6L787.6 718.3L788.4 718.2L789.2 718L790 717.2L790.8 718.8L791.6 719.8L792.4 720.1L793.2 721.6L794 722.4L794.8 722L795.6 720.6L796.4 720.4L797.2 721.2L798 721.8L798.8 722.5L799.6 722.3L800.4 722.4L801.2 723.1L801.2 728.3L800.4 727L799.6 726.8L798.8 727.4L798 726.8L797.2 726.3L796.4 725.5L795.6 725.1L794.8 727.9L794 727.1L793.2 726.2L792.4 726.3L791.6 725L790.8 724.6L790 724L789.2 723.4L788.4 723.6L787.6 723.4L786.8 724.1L786 723.6L785.2 723.9L784.4 724.6L783.6 723.2L782.8 723.1L782 724.9L781.2 724.8L780.4 727.9L779.6 723.8L778.8 723.3L778 724.9L777.2 725.4L776.4 724.9L775.6 726.2L774.8 727.6L774 729.1L773.2 730.7L772.4 730.7L771.6 730.9L770.8 733.2L770 735.3L769.2 735.4L768.4 736.1L767.6 735.9L766.8 736.4L766 734.8L765.2 736.6L764.4 736.3L763.6 738.2L762.8 739.8L762 743.5L761.2 741.3L760.4 737.9L759.6 738.1L758.8 734.3L758 741.1L757.2 736.6L756.4 737.1L755.6 738.8L754.8 738.2L754 736L753.2 734.7L752.4 734.7L751.6 734.2L750.8 736.2L750 739.9L749.2 739.2L748.4 737.6L747.6 739.5L746.8 739.5L746 741.6L745.2 740.2L744.4 740.5L743.6 739.1L742.8 735L742 732.5L741.2 731.8L740.4 729.5L739.6 730.7L738.8 731.6L738 729.1L737.2 729.8L736.4 727.5L735.6 727.5L734.8 725.3L734 725.8L733.2 727.9L732.4 724.6L731.6 723.7L730.8 724.6L730 727.8L729.2 723.8L728.4 724.4L727.6 722.4L726.8 725.7L726 724L725.2 728.2L724.4 724.3L723.6 723.4L722.8 725.1L722 721.7L721.2 717L720.4 716.1L719.6 713.1L718.8 710.7L718 708.8L717.2 704.4L716.4 708L715.6 708L714.8 710.4L714 718.4L713.2 708.1L712.4 705.9L711.6 708.8L710.8 712.4L710 714.5L709.2 710.4L708.4 705.8L707.6 703.7L706.8 703.2L706 700.2L705.2 697.9L704.4 701.6L703.6 696.8L702.8 696L702 693L701.2 693.4L700.4 693.4L699.6 698.8L698.8 684.2L698 683.2L697.2 677.6L696.4 673.2L695.6 676L694.8 666.9L694 667.7L693.2 661.9L692.4 664.3L691.6 655.6L690.8 656.2L690 653.6L689.2 651.9L688.4 649.5L687.6 652.3L686.8 649.7L686 642.2Z"/>
<line x1="178.0" x2="801.5" y1="731.9" y2="731.9" stroke="#231f20" stroke-width="3.4"/>
<path d="M234.9 11.0V20.8M234.9 634.3V624.5M234.9 654.2V664.0M234.9 809.7V799.9M423.7 11.0V20.8M423.7 634.3V624.5M423.7 654.2V664.0M423.7 809.7V799.9M366.9 11.0V17.6M366.9 634.3V627.7M366.9 654.2V660.8M366.9 809.7V803.1M333.6 11.0V17.6M333.6 634.3V627.7M333.6 654.2V660.8M333.6 809.7V803.1M310.0 11.0V17.6M310.0 634.3V627.7M310.0 654.2V660.8M310.0 809.7V803.1M291.7 11.0V17.6M291.7 634.3V627.7M291.7 654.2V660.8M291.7 809.7V803.1M276.8 11.0V17.6M276.8 634.3V627.7M276.8 654.2V660.8M276.8 809.7V803.1M264.1 11.0V17.6M264.1 634.3V627.7M264.1 654.2V660.8M264.1 809.7V803.1M253.2 11.0V17.6M253.2 634.3V627.7M253.2 654.2V660.8M253.2 809.7V803.1M243.5 11.0V17.6M243.5 634.3V627.7M243.5 654.2V660.8M243.5 809.7V803.1M612.6 11.0V20.8M612.6 634.3V624.5M612.6 654.2V664.0M612.6 809.7V799.9M555.8 11.0V17.6M555.8 634.3V627.7M555.8 654.2V660.8M555.8 809.7V803.1M522.5 11.0V17.6M522.5 634.3V627.7M522.5 654.2V660.8M522.5 809.7V803.1M498.9 11.0V17.6M498.9 634.3V627.7M498.9 654.2V660.8M498.9 809.7V803.1M480.6 11.0V17.6M480.6 634.3V627.7M480.6 654.2V660.8M480.6 809.7V803.1M465.6 11.0V17.6M465.6 634.3V627.7M465.6 654.2V660.8M465.6 809.7V803.1M453.0 11.0V17.6M453.0 634.3V627.7M453.0 654.2V660.8M453.0 809.7V803.1M442.0 11.0V17.6M442.0 634.3V627.7M442.0 654.2V660.8M442.0 809.7V803.1M432.4 11.0V17.6M432.4 634.3V627.7M432.4 654.2V660.8M432.4 809.7V803.1M744.6 11.0V17.6M744.6 634.3V627.7M744.6 654.2V660.8M744.6 809.7V803.1M711.4 11.0V17.6M711.4 634.3V627.7M711.4 654.2V660.8M711.4 809.7V803.1M687.8 11.0V17.6M687.8 634.3V627.7M687.8 654.2V660.8M687.8 809.7V803.1M669.5 11.0V17.6M669.5 634.3V627.7M669.5 654.2V660.8M669.5 809.7V803.1M654.5 11.0V17.6M654.5 634.3V627.7M654.5 654.2V660.8M654.5 809.7V803.1M641.9 11.0V17.6M641.9 634.3V627.7M641.9 654.2V660.8M641.9 809.7V803.1M630.9 11.0V17.6M630.9 634.3V627.7M630.9 654.2V660.8M630.9 809.7V803.1M621.3 11.0V17.6M621.3 634.3V627.7M621.3 654.2V660.8M621.3 809.7V803.1M178.0 218.8H187.8M801.5 218.8H791.7M178.0 156.2H184.6M801.5 156.2H794.9M178.0 119.6H184.6M801.5 119.6H794.9M178.0 93.7H184.6M801.5 93.7H794.9M178.0 73.5H184.6M801.5 73.5H794.9M178.0 57.1H184.6M801.5 57.1H794.9M178.0 43.2H184.6M801.5 43.2H794.9M178.0 31.1H184.6M801.5 31.1H794.9M178.0 20.5H184.6M801.5 20.5H794.9M178.0 426.5H187.8M801.5 426.5H791.7M178.0 364.0H184.6M801.5 364.0H794.9M178.0 327.4H184.6M801.5 327.4H794.9M178.0 301.4H184.6M801.5 301.4H794.9M178.0 281.3H184.6M801.5 281.3H794.9M178.0 264.9H184.6M801.5 264.9H794.9M178.0 251.0H184.6M801.5 251.0H794.9M178.0 238.9H184.6M801.5 238.9H794.9M178.0 228.3H184.6M801.5 228.3H794.9M178.0 571.8H184.6M801.5 571.8H794.9M178.0 535.2H184.6M801.5 535.2H794.9M178.0 509.2H184.6M801.5 509.2H794.9M178.0 489.1H184.6M801.5 489.1H794.9M178.0 472.6H184.6M801.5 472.6H794.9M178.0 458.7H184.6M801.5 458.7H794.9M178.0 446.7H184.6M801.5 446.7H794.9M178.0 436.0H184.6M801.5 436.0H794.9M178.0 667.3H187.8M801.5 667.3H791.7M178.0 699.6H184.6M801.5 699.6H794.9M178.0 764.4H184.6M801.5 764.4H794.9M178.0 796.7H187.8M801.5 796.7H791.7" stroke="#231f20" stroke-width="3" fill="none"/>
<rect x="178.0" y="11.0" width="623.5" height="623.3" fill="none" stroke="#231f20" stroke-width="3.5" stroke-linejoin="round"/>
<rect x="178.0" y="654.2" width="623.5" height="155.5" fill="none" stroke="#231f20" stroke-width="3.5" stroke-linejoin="round"/>
<line x1="366.6" x2="408.4" y1="518.8" y2="518.8" stroke="#939598" stroke-width="3.6"/>
<line x1="366.6" x2="408.4" y1="559.4" y2="559.4" stroke="#ed1c24" stroke-width="3.6"/>
<line x1="366.6" x2="408.4" y1="600.4" y2="600.4" stroke="#231f20" stroke-width="3.6"/>
<g style="opacity:0.999">
<g font-size="34.5" stroke="#fff" stroke-width="0.35">
<text x="154.6" y="22.8" text-anchor="end">1</text>
<text x="154.6" y="231" text-anchor="end">0.1</text>
<text x="154.6" y="438.8" text-anchor="end">0.01</text>
<text x="89.2" y="649" textLength="32.5" lengthAdjust="spacingAndGlyphs">10</text>
<text x="141.2" y="637" font-size="24" >3</text>
<text x="155" y="678.7" text-anchor="end" textLength="75.5" lengthAdjust="spacingAndGlyphs">0.005</text>
<text x="155" y="744.5" text-anchor="end">0</text>
<text x="155" y="809.2" text-anchor="end" textLength="75.5" lengthAdjust="spacingAndGlyphs">0.005</text>
<text x="235.9" y="856.2" text-anchor="middle">10</text>
<text x="423.1" y="856.2" text-anchor="middle">1</text>
<text x="611.5" y="856.2" text-anchor="middle">0.1</text>
<text x="830.6" y="856.2" text-anchor="end" textLength="58.5" lengthAdjust="spacingAndGlyphs">0.01</text>
</g>
<path d="M124.9 630.4H139.2M57.3 801.2H78.2M546.4 891H562.1" stroke="#231f20" stroke-width="1.5" fill="none"/>
<g font-size="35.5" stroke="#fff" stroke-width="0.35">
<text x="422.8" y="530.6" textLength="42.5" lengthAdjust="spacingAndGlyphs">All</text>
<text x="475.6" y="530.6" textLength="162.7" lengthAdjust="spacingAndGlyphs">realisations</text>
<text x="423.2" y="571.5" textLength="63" lengthAdjust="spacingAndGlyphs">Best</text>
<text x="496.8" y="571.5" textLength="86.5" lengthAdjust="spacingAndGlyphs">fitting</text>
<text x="596" y="571.5" textLength="147.9" lengthAdjust="spacingAndGlyphs">realisation</text>
<text x="422.8" y="612.4" textLength="143.5" lengthAdjust="spacingAndGlyphs">APOGEE</text>
<text x="576.4" y="612.4" textLength="65.1" lengthAdjust="spacingAndGlyphs">data</text>
</g>
<g font-size="35.5" stroke="#fff" stroke-width="0.35">
<text x="396" y="909.8" font-style="italic" font-size="28.5" textLength="18" lengthAdjust="spacingAndGlyphs">σ</text>
<text x="414" y="914.3" font-size="24.5" textLength="36.5" lengthAdjust="spacingAndGlyphs">RV</text>
<text x="462.8" y="911" font-size="38">[</text>
<text x="471.5" y="909.5" textLength="45" lengthAdjust="spacingAndGlyphs">km</text>
<text x="528" y="909.5">s</text>
<text x="563" y="897.5" font-size="24.5">1</text>
<text x="572.6" y="911" font-size="38">]</text>
</g>
<g font-size="35.5" transform="translate(60.2 375.5) rotate(-90)" stroke="#fff" stroke-width="0.35">
<text x="0" y="0" font-style="italic">F</text>
<text x="25.5" y="1.5" font-size="38">(</text>
<text x="38.6" y="0.8" font-style="italic" font-size="28.5" textLength="17" lengthAdjust="spacingAndGlyphs">σ</text>
<text x="56" y="5.8" font-size="24.5" textLength="36.5" lengthAdjust="spacingAndGlyphs">RV</text>
<text x="92.3" y="1.5" font-size="38">)</text>
</g>
<g font-size="35.5" transform="translate(26.4 797) rotate(-90)" stroke="#fff" stroke-width="0.35">
<text x="-0.5" y="0" textLength="28" lengthAdjust="spacingAndGlyphs">Δ</text>
<text x="29.5" y="0" font-style="italic">F</text>
<text x="50" y="1.5" font-size="38">(</text>
<text x="65" y="0.8" font-style="italic" font-size="28.5" textLength="17" lengthAdjust="spacingAndGlyphs">σ</text>
<text x="80.5" y="5.8" font-size="24.5" textLength="36.5" lengthAdjust="spacingAndGlyphs">RV</text>
<text x="117.7" y="1.5" font-size="38">)</text>
</g>

</g>
</svg>
</body></html>
